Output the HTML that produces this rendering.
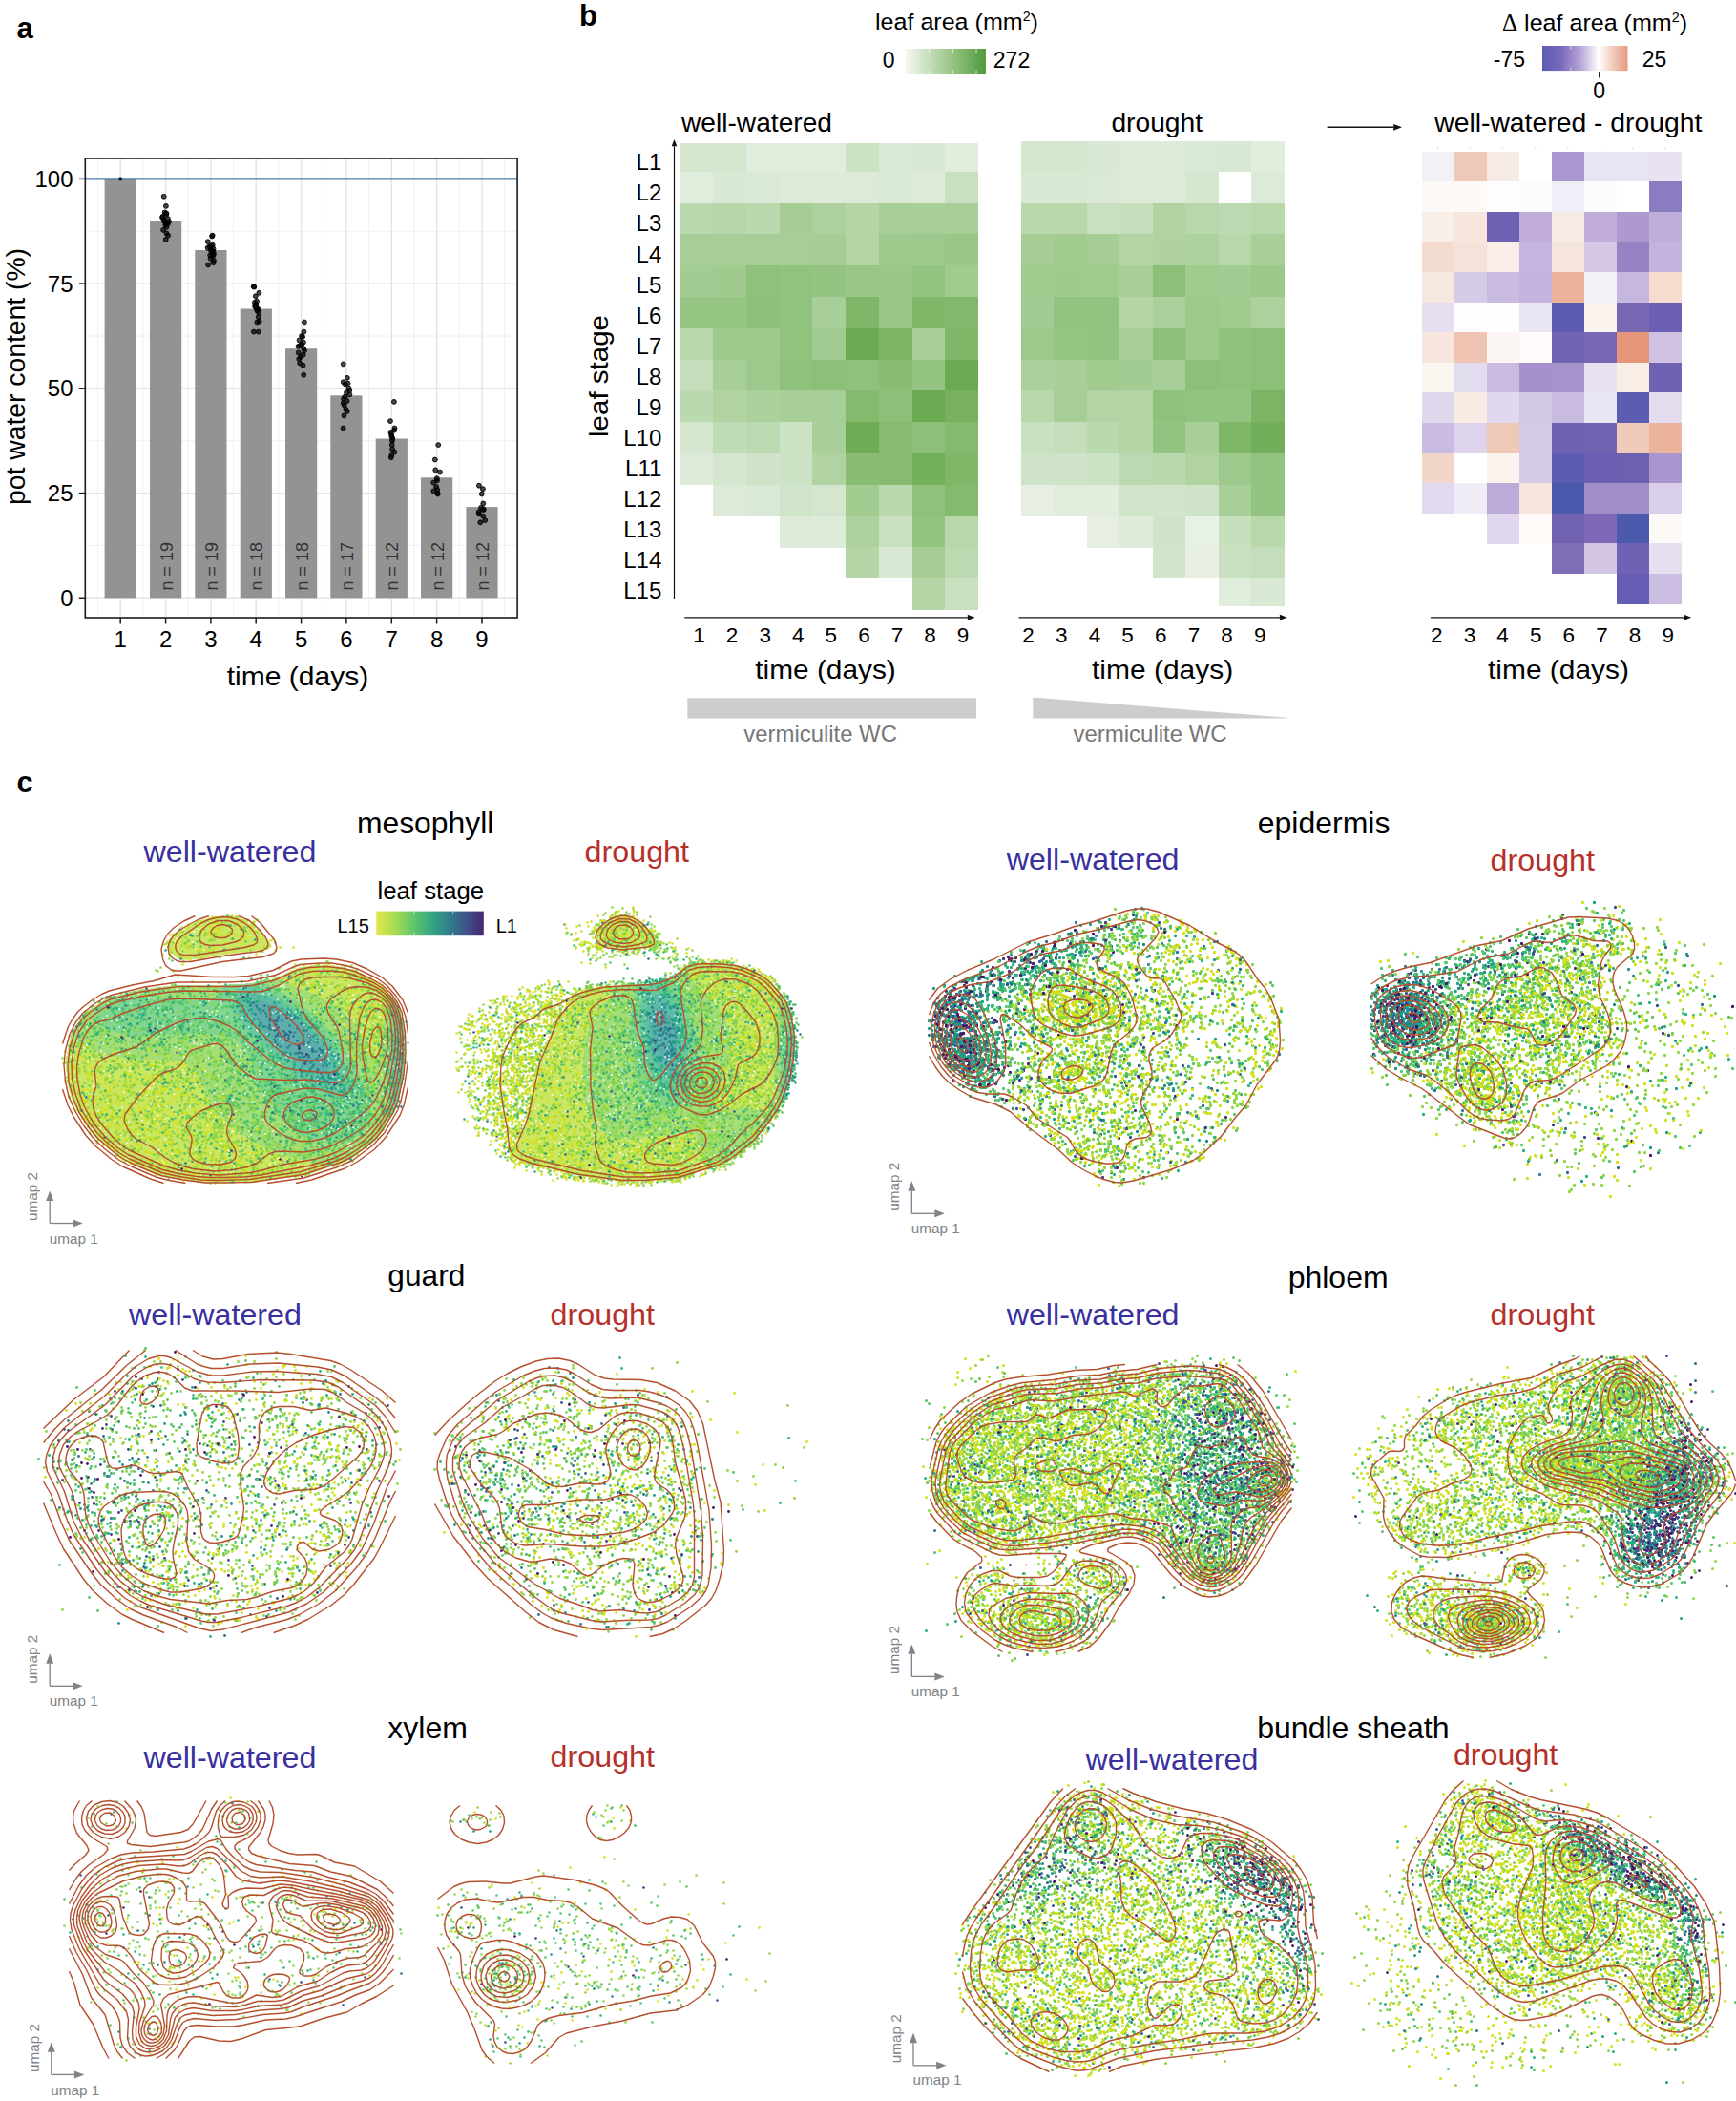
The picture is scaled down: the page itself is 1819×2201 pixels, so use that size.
<!DOCTYPE html>
<html><head><meta charset="utf-8"><title>figure</title>
<style>html,body{margin:0;padding:0;background:#fff}svg{display:block}text{font-family:"Liberation Sans",Arial,sans-serif}</style></head>
<body>
<svg width="1819" height="2201" viewBox="0 0 1819 2201">
<rect width="1819" height="2201" fill="#fff"/>
<rect x="89.3" y="166" width="452.8" height="481" fill="#fff"/>
<path d="M126.2 166V647" stroke="#e4e4e4" stroke-width="1.4"/>
<path d="M173.6 166V647" stroke="#e4e4e4" stroke-width="1.4"/>
<path d="M220.9 166V647" stroke="#e4e4e4" stroke-width="1.4"/>
<path d="M268.2 166V647" stroke="#e4e4e4" stroke-width="1.4"/>
<path d="M315.6 166V647" stroke="#e4e4e4" stroke-width="1.4"/>
<path d="M362.9 166V647" stroke="#e4e4e4" stroke-width="1.4"/>
<path d="M410.3 166V647" stroke="#e4e4e4" stroke-width="1.4"/>
<path d="M457.6 166V647" stroke="#e4e4e4" stroke-width="1.4"/>
<path d="M505.0 166V647" stroke="#e4e4e4" stroke-width="1.4"/>
<path d="M102.5 166V647" stroke="#ececec" stroke-width="0.8"/>
<path d="M149.9 166V647" stroke="#ececec" stroke-width="0.8"/>
<path d="M197.2 166V647" stroke="#ececec" stroke-width="0.8"/>
<path d="M244.6 166V647" stroke="#ececec" stroke-width="0.8"/>
<path d="M291.9 166V647" stroke="#ececec" stroke-width="0.8"/>
<path d="M339.3 166V647" stroke="#ececec" stroke-width="0.8"/>
<path d="M386.6 166V647" stroke="#ececec" stroke-width="0.8"/>
<path d="M434.0 166V647" stroke="#ececec" stroke-width="0.8"/>
<path d="M481.3 166V647" stroke="#ececec" stroke-width="0.8"/>
<path d="M528.7 166V647" stroke="#ececec" stroke-width="0.8"/>
<path d="M89.3 626.3H542.1" stroke="#e4e4e4" stroke-width="1.4"/>
<path d="M89.3 516.6H542.1" stroke="#e4e4e4" stroke-width="1.4"/>
<path d="M89.3 406.8H542.1" stroke="#e4e4e4" stroke-width="1.4"/>
<path d="M89.3 297.1H542.1" stroke="#e4e4e4" stroke-width="1.4"/>
<path d="M89.3 187.4H542.1" stroke="#e4e4e4" stroke-width="1.4"/>
<path d="M89.3 571.4H542.1" stroke="#ececec" stroke-width="0.8"/>
<path d="M89.3 461.7H542.1" stroke="#ececec" stroke-width="0.8"/>
<path d="M89.3 352.0H542.1" stroke="#ececec" stroke-width="0.8"/>
<path d="M89.3 242.3H542.1" stroke="#ececec" stroke-width="0.8"/>
<rect x="109.6" y="187.4" width="33.2" height="438.9" fill="#939393"/>
<rect x="157.0" y="231.3" width="33.2" height="395.0" fill="#939393"/>
<rect x="204.3" y="262.0" width="33.2" height="364.3" fill="#939393"/>
<rect x="251.7" y="323.5" width="33.2" height="302.8" fill="#939393"/>
<rect x="299.0" y="365.2" width="33.2" height="261.1" fill="#939393"/>
<rect x="346.3" y="414.3" width="33.2" height="212.0" fill="#939393"/>
<rect x="393.7" y="459.5" width="33.2" height="166.8" fill="#939393"/>
<rect x="441.0" y="500.3" width="33.2" height="126.0" fill="#939393"/>
<rect x="488.4" y="531.1" width="33.2" height="95.2" fill="#939393"/>
<path d="M89.3 187.4H542.1" stroke="#4a78b5" stroke-width="2.2"/>
<g fill="#000" fill-opacity="0.72" stroke="#000" stroke-width="0.9">
<circle cx="126.2" cy="187.4" r="1.6"/>
<circle cx="171.7" cy="205.8" r="2.45"/>
<circle cx="173.9" cy="215.9" r="2.45"/>
<circle cx="172.6" cy="222.5" r="2.45"/>
<circle cx="174.3" cy="223.4" r="2.45"/>
<circle cx="174.4" cy="224.7" r="2.45"/>
<circle cx="170.5" cy="226.9" r="2.45"/>
<circle cx="170.1" cy="227.8" r="2.45"/>
<circle cx="175.9" cy="229.1" r="2.45"/>
<circle cx="171.9" cy="230.4" r="2.45"/>
<circle cx="171.7" cy="231.3" r="2.45"/>
<circle cx="177.0" cy="232.2" r="2.45"/>
<circle cx="173.3" cy="233.5" r="2.45"/>
<circle cx="175.9" cy="234.4" r="2.45"/>
<circle cx="173.4" cy="235.7" r="2.45"/>
<circle cx="174.5" cy="237.9" r="2.45"/>
<circle cx="171.1" cy="240.9" r="2.45"/>
<circle cx="174.5" cy="244.5" r="2.45"/>
<circle cx="176.1" cy="246.7" r="2.45"/>
<circle cx="173.7" cy="251.0" r="2.45"/>
<circle cx="222.6" cy="246.7" r="2.45"/>
<circle cx="222.1" cy="247.5" r="2.45"/>
<circle cx="217.8" cy="253.2" r="2.45"/>
<circle cx="222.7" cy="256.7" r="2.45"/>
<circle cx="221.5" cy="257.6" r="2.45"/>
<circle cx="219.5" cy="258.5" r="2.45"/>
<circle cx="217.6" cy="259.8" r="2.45"/>
<circle cx="223.5" cy="260.7" r="2.45"/>
<circle cx="220.7" cy="262.0" r="2.45"/>
<circle cx="222.4" cy="262.9" r="2.45"/>
<circle cx="223.6" cy="264.2" r="2.45"/>
<circle cx="222.4" cy="265.1" r="2.45"/>
<circle cx="223.8" cy="266.4" r="2.45"/>
<circle cx="220.2" cy="267.3" r="2.45"/>
<circle cx="223.0" cy="268.6" r="2.45"/>
<circle cx="220.5" cy="270.8" r="2.45"/>
<circle cx="223.9" cy="273.0" r="2.45"/>
<circle cx="223.6" cy="275.2" r="2.45"/>
<circle cx="218.1" cy="277.4" r="2.45"/>
<circle cx="265.7" cy="300.2" r="2.45"/>
<circle cx="266.3" cy="300.6" r="2.45"/>
<circle cx="271.5" cy="306.8" r="2.45"/>
<circle cx="267.8" cy="310.3" r="2.45"/>
<circle cx="269.1" cy="315.6" r="2.45"/>
<circle cx="266.9" cy="316.9" r="2.45"/>
<circle cx="268.3" cy="319.1" r="2.45"/>
<circle cx="267.5" cy="319.9" r="2.45"/>
<circle cx="267.2" cy="321.3" r="2.45"/>
<circle cx="268.8" cy="322.6" r="2.45"/>
<circle cx="268.8" cy="323.5" r="2.45"/>
<circle cx="271.1" cy="324.3" r="2.45"/>
<circle cx="269.5" cy="325.7" r="2.45"/>
<circle cx="271.3" cy="327.8" r="2.45"/>
<circle cx="270.7" cy="332.2" r="2.45"/>
<circle cx="271.7" cy="336.6" r="2.45"/>
<circle cx="269.4" cy="337.5" r="2.45"/>
<circle cx="265.9" cy="347.6" r="2.45"/>
<circle cx="270.8" cy="347.6" r="2.45"/>
<circle cx="318.9" cy="337.5" r="2.45"/>
<circle cx="318.4" cy="347.6" r="2.45"/>
<circle cx="316.1" cy="352.0" r="2.45"/>
<circle cx="317.1" cy="352.9" r="2.45"/>
<circle cx="313.6" cy="356.4" r="2.45"/>
<circle cx="317.9" cy="358.6" r="2.45"/>
<circle cx="316.1" cy="360.8" r="2.45"/>
<circle cx="314.1" cy="362.1" r="2.45"/>
<circle cx="312.5" cy="363.0" r="2.45"/>
<circle cx="318.1" cy="365.2" r="2.45"/>
<circle cx="319.0" cy="367.3" r="2.45"/>
<circle cx="312.7" cy="369.5" r="2.45"/>
<circle cx="317.7" cy="371.7" r="2.45"/>
<circle cx="315.0" cy="373.9" r="2.45"/>
<circle cx="313.2" cy="376.1" r="2.45"/>
<circle cx="314.2" cy="380.5" r="2.45"/>
<circle cx="317.5" cy="382.7" r="2.45"/>
<circle cx="318.2" cy="392.8" r="2.45"/>
<circle cx="359.8" cy="381.4" r="2.45"/>
<circle cx="363.8" cy="395.9" r="2.45"/>
<circle cx="359.8" cy="400.3" r="2.45"/>
<circle cx="364.5" cy="401.6" r="2.45"/>
<circle cx="361.8" cy="402.5" r="2.45"/>
<circle cx="365.6" cy="406.8" r="2.45"/>
<circle cx="366.3" cy="409.0" r="2.45"/>
<circle cx="363.0" cy="411.2" r="2.45"/>
<circle cx="366.4" cy="413.4" r="2.45"/>
<circle cx="361.6" cy="415.6" r="2.45"/>
<circle cx="360.0" cy="417.8" r="2.45"/>
<circle cx="363.6" cy="420.0" r="2.45"/>
<circle cx="359.7" cy="422.2" r="2.45"/>
<circle cx="360.8" cy="424.4" r="2.45"/>
<circle cx="362.3" cy="428.8" r="2.45"/>
<circle cx="363.7" cy="431.0" r="2.45"/>
<circle cx="360.5" cy="435.4" r="2.45"/>
<circle cx="359.7" cy="448.5" r="2.45"/>
<circle cx="412.9" cy="420.9" r="2.45"/>
<circle cx="409.0" cy="441.1" r="2.45"/>
<circle cx="413.5" cy="448.5" r="2.45"/>
<circle cx="413.1" cy="450.7" r="2.45"/>
<circle cx="409.4" cy="452.9" r="2.45"/>
<circle cx="410.0" cy="455.1" r="2.45"/>
<circle cx="410.4" cy="457.3" r="2.45"/>
<circle cx="411.3" cy="459.5" r="2.45"/>
<circle cx="411.0" cy="461.7" r="2.45"/>
<circle cx="410.7" cy="466.1" r="2.45"/>
<circle cx="411.1" cy="470.5" r="2.45"/>
<circle cx="413.4" cy="473.6" r="2.45"/>
<circle cx="410.3" cy="477.1" r="2.45"/>
<circle cx="409.8" cy="479.3" r="2.45"/>
<circle cx="459.2" cy="466.1" r="2.45"/>
<circle cx="455.8" cy="481.5" r="2.45"/>
<circle cx="456.3" cy="492.4" r="2.45"/>
<circle cx="461.0" cy="494.6" r="2.45"/>
<circle cx="457.8" cy="501.2" r="2.45"/>
<circle cx="458.0" cy="503.4" r="2.45"/>
<circle cx="454.2" cy="505.6" r="2.45"/>
<circle cx="457.1" cy="510.0" r="2.45"/>
<circle cx="458.2" cy="513.1" r="2.45"/>
<circle cx="454.3" cy="514.4" r="2.45"/>
<circle cx="458.5" cy="516.6" r="2.45"/>
<circle cx="458.6" cy="517.5" r="2.45"/>
<circle cx="501.9" cy="508.7" r="2.45"/>
<circle cx="505.9" cy="512.2" r="2.45"/>
<circle cx="504.8" cy="517.5" r="2.45"/>
<circle cx="506.3" cy="527.5" r="2.45"/>
<circle cx="504.0" cy="531.9" r="2.45"/>
<circle cx="506.4" cy="533.3" r="2.45"/>
<circle cx="506.7" cy="534.1" r="2.45"/>
<circle cx="501.7" cy="536.3" r="2.45"/>
<circle cx="501.9" cy="538.5" r="2.45"/>
<circle cx="506.2" cy="540.7" r="2.45"/>
<circle cx="508.2" cy="545.1" r="2.45"/>
<circle cx="503.3" cy="547.3" r="2.45"/>
</g>
<text transform="translate(180.6 618.5) rotate(-90)" font-size="18" fill="#333">n = 19</text>
<text transform="translate(227.9 618.5) rotate(-90)" font-size="18" fill="#333">n = 19</text>
<text transform="translate(275.2 618.5) rotate(-90)" font-size="18" fill="#333">n = 18</text>
<text transform="translate(322.6 618.5) rotate(-90)" font-size="18" fill="#333">n = 18</text>
<text transform="translate(369.9 618.5) rotate(-90)" font-size="18" fill="#333">n = 17</text>
<text transform="translate(417.3 618.5) rotate(-90)" font-size="18" fill="#333">n = 12</text>
<text transform="translate(464.6 618.5) rotate(-90)" font-size="18" fill="#333">n = 12</text>
<text transform="translate(512.0 618.5) rotate(-90)" font-size="18" fill="#333">n = 12</text>
<rect x="89.3" y="166" width="452.8" height="481" fill="none" stroke="#1a1a1a" stroke-width="1.6"/>
<path d="M126.2 647v6.5" stroke="#1a1a1a" stroke-width="1.5"/>
<text x="126.2" y="677.6" font-size="24" text-anchor="middle" fill="#000" >1</text>

<path d="M173.6 647v6.5" stroke="#1a1a1a" stroke-width="1.5"/>
<text x="173.6" y="677.6" font-size="24" text-anchor="middle" fill="#000" >2</text>

<path d="M220.9 647v6.5" stroke="#1a1a1a" stroke-width="1.5"/>
<text x="220.9" y="677.6" font-size="24" text-anchor="middle" fill="#000" >3</text>

<path d="M268.2 647v6.5" stroke="#1a1a1a" stroke-width="1.5"/>
<text x="268.2" y="677.6" font-size="24" text-anchor="middle" fill="#000" >4</text>

<path d="M315.6 647v6.5" stroke="#1a1a1a" stroke-width="1.5"/>
<text x="315.6" y="677.6" font-size="24" text-anchor="middle" fill="#000" >5</text>

<path d="M362.9 647v6.5" stroke="#1a1a1a" stroke-width="1.5"/>
<text x="362.9" y="677.6" font-size="24" text-anchor="middle" fill="#000" >6</text>

<path d="M410.3 647v6.5" stroke="#1a1a1a" stroke-width="1.5"/>
<text x="410.3" y="677.6" font-size="24" text-anchor="middle" fill="#000" >7</text>

<path d="M457.6 647v6.5" stroke="#1a1a1a" stroke-width="1.5"/>
<text x="457.6" y="677.6" font-size="24" text-anchor="middle" fill="#000" >8</text>

<path d="M505.0 647v6.5" stroke="#1a1a1a" stroke-width="1.5"/>
<text x="505.0" y="677.6" font-size="24" text-anchor="middle" fill="#000" >9</text>

<path d="M89.3 626.3h-6.5" stroke="#1a1a1a" stroke-width="1.5"/>
<text x="76.5" y="634.9" font-size="24" text-anchor="end" fill="#000" >0</text>

<path d="M89.3 516.6h-6.5" stroke="#1a1a1a" stroke-width="1.5"/>
<text x="76.5" y="525.2" font-size="24" text-anchor="end" fill="#000" >25</text>

<path d="M89.3 406.8h-6.5" stroke="#1a1a1a" stroke-width="1.5"/>
<text x="76.5" y="415.4" font-size="24" text-anchor="end" fill="#000" >50</text>

<path d="M89.3 297.1h-6.5" stroke="#1a1a1a" stroke-width="1.5"/>
<text x="76.5" y="305.7" font-size="24" text-anchor="end" fill="#000" >75</text>

<path d="M89.3 187.4h-6.5" stroke="#1a1a1a" stroke-width="1.5"/>
<text x="76.5" y="196.0" font-size="24" text-anchor="end" fill="#000" >100</text>

<text x="312" y="718.3" font-size="28" text-anchor="middle" textLength="148.5" lengthAdjust="spacingAndGlyphs" fill="#000" >time (days)</text>

<text transform="translate(25.6 394.5) rotate(-90)" font-size="28" text-anchor="middle" textLength="269" lengthAdjust="spacingAndGlyphs">pot water content (%)</text>
<text x="17.5" y="39.5" font-size="31" font-weight="bold" fill="#000" >a</text>

<text x="607" y="27" font-size="31" font-weight="bold" fill="#000" >b</text>

<defs><linearGradient id="gg"><stop offset="0" stop-color="#f6f9f4"/><stop offset="0.3" stop-color="#c3deb8"/><stop offset="0.6" stop-color="#95c380"/><stop offset="1" stop-color="#4f9a3c"/></linearGradient><linearGradient id="pg"><stop offset="0" stop-color="#5a5cb4"/><stop offset="0.22" stop-color="#7a69ba"/><stop offset="0.45" stop-color="#b7a6d8"/><stop offset="0.66" stop-color="#ffffff"/><stop offset="0.82" stop-color="#f2cdbd"/><stop offset="1" stop-color="#e59a80"/></linearGradient></defs>
<text x="917" y="31.2" font-size="24.5" textLength="171" lengthAdjust="spacingAndGlyphs">leaf area (mm<tspan font-size="14" dy="-9">2</tspan><tspan dy="9">)</tspan></text>
<rect x="948.8" y="51" width="84.1" height="26.8" fill="url(#gg)"/>
<path d="M973.5 51v4M973.5 77.8v-4" stroke="#fff" stroke-opacity="0.7" stroke-width="1"/>
<path d="M998.3 51v4M998.3 77.8v-4" stroke="#fff" stroke-opacity="0.7" stroke-width="1"/>
<path d="M1023.0 51v4M1023.0 77.8v-4" stroke="#fff" stroke-opacity="0.7" stroke-width="1"/>
<text x="931.2" y="70.8" font-size="23" text-anchor="middle" fill="#000" >0</text>

<text x="1040.8" y="70.8" font-size="23" fill="#000" >272</text>

<text x="1574" y="31.6" font-size="24.5" textLength="194" lengthAdjust="spacingAndGlyphs"><tspan font-family="Liberation Serif, serif">&#916;</tspan> leaf area (mm<tspan font-size="14" dy="-9">2</tspan><tspan dy="9">)</tspan></text>
<rect x="1616" y="48" width="89.5" height="26.1" fill="url(#pg)"/>
<path d="M1645.8 48v3.5M1645.8 74.1v-3.5" stroke="#fff" stroke-opacity="0.6" stroke-width="1"/>
<path d="M1675.7 75v6.4" stroke="#111" stroke-width="1.2"/>
<text x="1598" y="69.5" font-size="23" text-anchor="end" fill="#000" >-75</text>

<text x="1720.8" y="69.5" font-size="23" fill="#000" >25</text>

<text x="1675.7" y="103.2" font-size="23" text-anchor="middle" fill="#000" >0</text>

<path d="M1390.6 133.3L1460.2 133.3" stroke="#111" stroke-width="1.4" fill="none"/><path d="M1469.0 133.3L1460.2 136.7L1460.2 129.9Z" fill="#111"/>
<text x="1503.2" y="137.8" font-size="28" textLength="280.2" lengthAdjust="spacingAndGlyphs" fill="#000" >well-watered - drought</text>

<text x="714" y="137.5" font-size="28" textLength="158" lengthAdjust="spacingAndGlyphs" fill="#000" >well-watered</text>

<text x="1164.4" y="137.7" font-size="28" textLength="95.6" lengthAdjust="spacingAndGlyphs" fill="#000" >drought</text>

<g shape-rendering="crispEdges">
<rect x="712.60" y="150.00" width="35.02" height="30.00" fill="#d4e6ce"/>
<rect x="747.32" y="150.00" width="35.02" height="30.00" fill="#d4e6ce"/>
<rect x="782.04" y="150.00" width="35.02" height="30.00" fill="#e0ecdc"/>
<rect x="816.76" y="150.00" width="35.02" height="30.00" fill="#e0ecdc"/>
<rect x="851.48" y="150.00" width="35.02" height="30.00" fill="#e0ecdc"/>
<rect x="886.20" y="150.00" width="35.02" height="30.00" fill="#cce2c4"/>
<rect x="920.92" y="150.00" width="35.02" height="30.00" fill="#dae9d5"/>
<rect x="955.64" y="150.00" width="35.02" height="30.00" fill="#d8e8d2"/>
<rect x="990.36" y="150.00" width="35.02" height="30.00" fill="#e0ecdc"/>
<rect x="712.60" y="179.70" width="35.02" height="33.10" fill="#e0ecdc"/>
<rect x="747.32" y="179.70" width="35.02" height="33.10" fill="#d8e8d2"/>
<rect x="782.04" y="179.70" width="35.02" height="33.10" fill="#dae9d5"/>
<rect x="816.76" y="179.70" width="35.02" height="33.10" fill="#dcead7"/>
<rect x="851.48" y="179.70" width="35.02" height="33.10" fill="#deebd9"/>
<rect x="886.20" y="179.70" width="35.02" height="33.10" fill="#dcead7"/>
<rect x="920.92" y="179.70" width="35.02" height="33.10" fill="#dae9d5"/>
<rect x="955.64" y="179.70" width="35.02" height="33.10" fill="#dcead7"/>
<rect x="990.36" y="179.70" width="35.02" height="33.10" fill="#c8e0c0"/>
<rect x="712.60" y="212.50" width="35.02" height="33.10" fill="#bad9af"/>
<rect x="747.32" y="212.50" width="35.02" height="33.10" fill="#b6d7aa"/>
<rect x="782.04" y="212.50" width="35.02" height="33.10" fill="#bad9af"/>
<rect x="816.76" y="212.50" width="35.02" height="33.10" fill="#a5cd94"/>
<rect x="851.48" y="212.50" width="35.02" height="33.10" fill="#add19d"/>
<rect x="886.20" y="212.50" width="35.02" height="33.10" fill="#b5d5a7"/>
<rect x="920.92" y="212.50" width="35.02" height="33.10" fill="#a9cf98"/>
<rect x="955.64" y="212.50" width="35.02" height="33.10" fill="#a9cf98"/>
<rect x="990.36" y="212.50" width="35.02" height="33.10" fill="#a7ce96"/>
<rect x="712.60" y="245.30" width="35.02" height="33.10" fill="#a7ce96"/>
<rect x="747.32" y="245.30" width="35.02" height="33.10" fill="#a9cf98"/>
<rect x="782.04" y="245.30" width="35.02" height="33.10" fill="#a7ce96"/>
<rect x="816.76" y="245.30" width="35.02" height="33.10" fill="#a7ce96"/>
<rect x="851.48" y="245.30" width="35.02" height="33.10" fill="#a5cd94"/>
<rect x="886.20" y="245.30" width="35.02" height="33.10" fill="#b5d5a7"/>
<rect x="920.92" y="245.30" width="35.02" height="33.10" fill="#a0ca8e"/>
<rect x="955.64" y="245.30" width="35.02" height="33.10" fill="#9ec98c"/>
<rect x="990.36" y="245.30" width="35.02" height="33.10" fill="#9ac788"/>
<rect x="712.60" y="278.10" width="35.02" height="33.10" fill="#a3cc92"/>
<rect x="747.32" y="278.10" width="35.02" height="33.10" fill="#a0ca8e"/>
<rect x="782.04" y="278.10" width="35.02" height="33.10" fill="#90c17c"/>
<rect x="816.76" y="278.10" width="35.02" height="33.10" fill="#91c27e"/>
<rect x="851.48" y="278.10" width="35.02" height="33.10" fill="#95c482"/>
<rect x="886.20" y="278.10" width="35.02" height="33.10" fill="#9ac788"/>
<rect x="920.92" y="278.10" width="35.02" height="33.10" fill="#9ac788"/>
<rect x="955.64" y="278.10" width="35.02" height="33.10" fill="#95c482"/>
<rect x="990.36" y="278.10" width="35.02" height="33.10" fill="#a2cb90"/>
<rect x="712.60" y="310.90" width="35.02" height="33.10" fill="#97c584"/>
<rect x="747.32" y="310.90" width="35.02" height="33.10" fill="#97c584"/>
<rect x="782.04" y="310.90" width="35.02" height="33.10" fill="#8ec07a"/>
<rect x="816.76" y="310.90" width="35.02" height="33.10" fill="#91c27e"/>
<rect x="851.48" y="310.90" width="35.02" height="33.10" fill="#a9cf98"/>
<rect x="886.20" y="310.90" width="35.02" height="33.10" fill="#7fb769"/>
<rect x="920.92" y="310.90" width="35.02" height="33.10" fill="#9ac788"/>
<rect x="955.64" y="310.90" width="35.02" height="33.10" fill="#7fb769"/>
<rect x="990.36" y="310.90" width="35.02" height="33.10" fill="#81b86b"/>
<rect x="712.60" y="343.70" width="35.02" height="33.10" fill="#b8d8ac"/>
<rect x="747.32" y="343.70" width="35.02" height="33.10" fill="#9ec98c"/>
<rect x="782.04" y="343.70" width="35.02" height="33.10" fill="#a0ca8e"/>
<rect x="816.76" y="343.70" width="35.02" height="33.10" fill="#91c27e"/>
<rect x="851.48" y="343.70" width="35.02" height="33.10" fill="#a3cc92"/>
<rect x="886.20" y="343.70" width="35.02" height="33.10" fill="#6caa52"/>
<rect x="920.92" y="343.70" width="35.02" height="33.10" fill="#7cb465"/>
<rect x="955.64" y="343.70" width="35.02" height="33.10" fill="#a7ce96"/>
<rect x="990.36" y="343.70" width="35.02" height="33.10" fill="#7fb769"/>
<rect x="712.60" y="376.50" width="35.02" height="33.10" fill="#c4debb"/>
<rect x="747.32" y="376.50" width="35.02" height="33.10" fill="#a9cf98"/>
<rect x="782.04" y="376.50" width="35.02" height="33.10" fill="#9ec98c"/>
<rect x="816.76" y="376.50" width="35.02" height="33.10" fill="#90c17c"/>
<rect x="851.48" y="376.50" width="35.02" height="33.10" fill="#8cbf78"/>
<rect x="886.20" y="376.50" width="35.02" height="33.10" fill="#90c17c"/>
<rect x="920.92" y="376.50" width="35.02" height="33.10" fill="#89bd74"/>
<rect x="955.64" y="376.50" width="35.02" height="33.10" fill="#95c482"/>
<rect x="990.36" y="376.50" width="35.02" height="33.10" fill="#6caa52"/>
<rect x="712.60" y="409.30" width="35.02" height="33.10" fill="#bad9af"/>
<rect x="747.32" y="409.30" width="35.02" height="33.10" fill="#b1d3a2"/>
<rect x="782.04" y="409.30" width="35.02" height="33.10" fill="#abd09b"/>
<rect x="816.76" y="409.30" width="35.02" height="33.10" fill="#a9cf98"/>
<rect x="851.48" y="409.30" width="35.02" height="33.10" fill="#a7ce96"/>
<rect x="886.20" y="409.30" width="35.02" height="33.10" fill="#84ba6e"/>
<rect x="920.92" y="409.30" width="35.02" height="33.10" fill="#8cbf78"/>
<rect x="955.64" y="409.30" width="35.02" height="33.10" fill="#6caa52"/>
<rect x="990.36" y="409.30" width="35.02" height="33.10" fill="#77b15f"/>
<rect x="712.60" y="442.10" width="35.02" height="33.10" fill="#d4e6ce"/>
<rect x="747.32" y="442.10" width="35.02" height="33.10" fill="#c0dcb6"/>
<rect x="782.04" y="442.10" width="35.02" height="33.10" fill="#bcdab1"/>
<rect x="816.76" y="442.10" width="35.02" height="33.10" fill="#cce2c4"/>
<rect x="851.48" y="442.10" width="35.02" height="33.10" fill="#a9cf98"/>
<rect x="886.20" y="442.10" width="35.02" height="33.10" fill="#6fac56"/>
<rect x="920.92" y="442.10" width="35.02" height="33.10" fill="#86bb70"/>
<rect x="955.64" y="442.10" width="35.02" height="33.10" fill="#8cbf78"/>
<rect x="990.36" y="442.10" width="35.02" height="33.10" fill="#84ba6e"/>
<rect x="712.60" y="474.90" width="35.02" height="33.10" fill="#dcead7"/>
<rect x="747.32" y="474.90" width="35.02" height="33.10" fill="#d4e6ce"/>
<rect x="782.04" y="474.90" width="35.02" height="33.10" fill="#cee3c7"/>
<rect x="816.76" y="474.90" width="35.02" height="33.10" fill="#cce2c4"/>
<rect x="851.48" y="474.90" width="35.02" height="33.10" fill="#b1d3a2"/>
<rect x="886.20" y="474.90" width="35.02" height="33.10" fill="#89bd74"/>
<rect x="920.92" y="474.90" width="35.02" height="33.10" fill="#86bb70"/>
<rect x="955.64" y="474.90" width="35.02" height="33.10" fill="#74af5c"/>
<rect x="990.36" y="474.90" width="35.02" height="33.10" fill="#7fb769"/>
<rect x="747.32" y="507.70" width="35.02" height="33.10" fill="#dcead7"/>
<rect x="782.04" y="507.70" width="35.02" height="33.10" fill="#dae9d5"/>
<rect x="816.76" y="507.70" width="35.02" height="33.10" fill="#d0e4c9"/>
<rect x="851.48" y="507.70" width="35.02" height="33.10" fill="#d4e6ce"/>
<rect x="886.20" y="507.70" width="35.02" height="33.10" fill="#a2cb90"/>
<rect x="920.92" y="507.70" width="35.02" height="33.10" fill="#bad9af"/>
<rect x="955.64" y="507.70" width="35.02" height="33.10" fill="#90c17c"/>
<rect x="990.36" y="507.70" width="35.02" height="33.10" fill="#84ba6e"/>
<rect x="816.76" y="540.50" width="35.02" height="33.10" fill="#dcead7"/>
<rect x="851.48" y="540.50" width="35.02" height="33.10" fill="#deebd9"/>
<rect x="886.20" y="540.50" width="35.02" height="33.10" fill="#add19d"/>
<rect x="920.92" y="540.50" width="35.02" height="33.10" fill="#c8e0c0"/>
<rect x="955.64" y="540.50" width="35.02" height="33.10" fill="#93c380"/>
<rect x="990.36" y="540.50" width="35.02" height="33.10" fill="#b8d8ac"/>
<rect x="886.20" y="573.30" width="35.02" height="33.10" fill="#b5d5a7"/>
<rect x="920.92" y="573.30" width="35.02" height="33.10" fill="#d8e8d2"/>
<rect x="955.64" y="573.30" width="35.02" height="33.10" fill="#a5cd94"/>
<rect x="990.36" y="573.30" width="35.02" height="33.10" fill="#bcdab1"/>
<rect x="955.64" y="606.10" width="35.02" height="33.10" fill="#b5d5a7"/>
<rect x="990.36" y="606.10" width="35.02" height="33.10" fill="#c8e0c0"/>
<rect x="1069.60" y="147.80" width="34.83" height="32.20" fill="#d6e7d0"/>
<rect x="1104.13" y="147.80" width="34.83" height="32.20" fill="#d6e7d0"/>
<rect x="1138.66" y="147.80" width="34.83" height="32.20" fill="#d8e8d2"/>
<rect x="1173.19" y="147.80" width="34.83" height="32.20" fill="#deebd9"/>
<rect x="1207.72" y="147.80" width="34.83" height="32.20" fill="#deebd9"/>
<rect x="1242.25" y="147.80" width="34.83" height="32.20" fill="#dae9d5"/>
<rect x="1276.78" y="147.80" width="34.83" height="32.20" fill="#d8e8d2"/>
<rect x="1311.31" y="147.80" width="34.83" height="32.20" fill="#e2edde"/>
<rect x="1069.60" y="179.70" width="34.83" height="33.10" fill="#d8e8d2"/>
<rect x="1104.13" y="179.70" width="34.83" height="33.10" fill="#d8e8d2"/>
<rect x="1138.66" y="179.70" width="34.83" height="33.10" fill="#dae9d5"/>
<rect x="1173.19" y="179.70" width="34.83" height="33.10" fill="#dcead7"/>
<rect x="1207.72" y="179.70" width="34.83" height="33.10" fill="#dcead7"/>
<rect x="1242.25" y="179.70" width="34.83" height="33.10" fill="#d6e7d0"/>
<rect x="1276.78" y="179.70" width="34.83" height="33.10" fill="#ffffff"/>
<rect x="1311.31" y="179.70" width="34.83" height="33.10" fill="#dcead7"/>
<rect x="1069.60" y="212.50" width="34.83" height="33.10" fill="#b8d8ac"/>
<rect x="1104.13" y="212.50" width="34.83" height="33.10" fill="#b8d8ac"/>
<rect x="1138.66" y="212.50" width="34.83" height="33.10" fill="#c8e0c0"/>
<rect x="1173.19" y="212.50" width="34.83" height="33.10" fill="#c4debb"/>
<rect x="1207.72" y="212.50" width="34.83" height="33.10" fill="#b1d3a2"/>
<rect x="1242.25" y="212.50" width="34.83" height="33.10" fill="#b8d8ac"/>
<rect x="1276.78" y="212.50" width="34.83" height="33.10" fill="#bcdab1"/>
<rect x="1311.31" y="212.50" width="34.83" height="33.10" fill="#b8d8ac"/>
<rect x="1069.60" y="245.30" width="34.83" height="33.10" fill="#a5cd94"/>
<rect x="1104.13" y="245.30" width="34.83" height="33.10" fill="#a2cb90"/>
<rect x="1138.66" y="245.30" width="34.83" height="33.10" fill="#a5cd94"/>
<rect x="1173.19" y="245.30" width="34.83" height="33.10" fill="#b3d4a5"/>
<rect x="1207.72" y="245.30" width="34.83" height="33.10" fill="#afd2a0"/>
<rect x="1242.25" y="245.30" width="34.83" height="33.10" fill="#add19d"/>
<rect x="1276.78" y="245.30" width="34.83" height="33.10" fill="#b8d8ac"/>
<rect x="1311.31" y="245.30" width="34.83" height="33.10" fill="#a9cf98"/>
<rect x="1069.60" y="278.10" width="34.83" height="33.10" fill="#a2cb90"/>
<rect x="1104.13" y="278.10" width="34.83" height="33.10" fill="#a0ca8e"/>
<rect x="1138.66" y="278.10" width="34.83" height="33.10" fill="#a2cb90"/>
<rect x="1173.19" y="278.10" width="34.83" height="33.10" fill="#a9cf98"/>
<rect x="1207.72" y="278.10" width="34.83" height="33.10" fill="#8cbf78"/>
<rect x="1242.25" y="278.10" width="34.83" height="33.10" fill="#a2cb90"/>
<rect x="1276.78" y="278.10" width="34.83" height="33.10" fill="#a3cc92"/>
<rect x="1311.31" y="278.10" width="34.83" height="33.10" fill="#9cc88a"/>
<rect x="1069.60" y="310.90" width="34.83" height="33.10" fill="#a3cc92"/>
<rect x="1104.13" y="310.90" width="34.83" height="33.10" fill="#93c380"/>
<rect x="1138.66" y="310.90" width="34.83" height="33.10" fill="#93c380"/>
<rect x="1173.19" y="310.90" width="34.83" height="33.10" fill="#b5d5a7"/>
<rect x="1207.72" y="310.90" width="34.83" height="33.10" fill="#abd09b"/>
<rect x="1242.25" y="310.90" width="34.83" height="33.10" fill="#9ec98c"/>
<rect x="1276.78" y="310.90" width="34.83" height="33.10" fill="#a2cb90"/>
<rect x="1311.31" y="310.90" width="34.83" height="33.10" fill="#add19d"/>
<rect x="1069.60" y="343.70" width="34.83" height="33.10" fill="#9ec98c"/>
<rect x="1104.13" y="343.70" width="34.83" height="33.10" fill="#97c584"/>
<rect x="1138.66" y="343.70" width="34.83" height="33.10" fill="#93c380"/>
<rect x="1173.19" y="343.70" width="34.83" height="33.10" fill="#a9cf98"/>
<rect x="1207.72" y="343.70" width="34.83" height="33.10" fill="#8cbf78"/>
<rect x="1242.25" y="343.70" width="34.83" height="33.10" fill="#9ec98c"/>
<rect x="1276.78" y="343.70" width="34.83" height="33.10" fill="#90c17c"/>
<rect x="1311.31" y="343.70" width="34.83" height="33.10" fill="#8cbf78"/>
<rect x="1069.60" y="376.50" width="34.83" height="33.10" fill="#abd09b"/>
<rect x="1104.13" y="376.50" width="34.83" height="33.10" fill="#a9cf98"/>
<rect x="1138.66" y="376.50" width="34.83" height="33.10" fill="#a2cb90"/>
<rect x="1173.19" y="376.50" width="34.83" height="33.10" fill="#a3cc92"/>
<rect x="1207.72" y="376.50" width="34.83" height="33.10" fill="#a7ce96"/>
<rect x="1242.25" y="376.50" width="34.83" height="33.10" fill="#8cbf78"/>
<rect x="1276.78" y="376.50" width="34.83" height="33.10" fill="#90c17c"/>
<rect x="1311.31" y="376.50" width="34.83" height="33.10" fill="#8cbf78"/>
<rect x="1069.60" y="409.30" width="34.83" height="33.10" fill="#b8d8ac"/>
<rect x="1104.13" y="409.30" width="34.83" height="33.10" fill="#a7ce96"/>
<rect x="1138.66" y="409.30" width="34.83" height="33.10" fill="#b3d4a5"/>
<rect x="1173.19" y="409.30" width="34.83" height="33.10" fill="#b3d4a5"/>
<rect x="1207.72" y="409.30" width="34.83" height="33.10" fill="#90c17c"/>
<rect x="1242.25" y="409.30" width="34.83" height="33.10" fill="#93c380"/>
<rect x="1276.78" y="409.30" width="34.83" height="33.10" fill="#93c380"/>
<rect x="1311.31" y="409.30" width="34.83" height="33.10" fill="#7cb465"/>
<rect x="1069.60" y="442.10" width="34.83" height="33.10" fill="#c8e0c0"/>
<rect x="1104.13" y="442.10" width="34.83" height="33.10" fill="#c4debb"/>
<rect x="1138.66" y="442.10" width="34.83" height="33.10" fill="#bad9af"/>
<rect x="1173.19" y="442.10" width="34.83" height="33.10" fill="#b5d5a7"/>
<rect x="1207.72" y="442.10" width="34.83" height="33.10" fill="#93c380"/>
<rect x="1242.25" y="442.10" width="34.83" height="33.10" fill="#a9cf98"/>
<rect x="1276.78" y="442.10" width="34.83" height="33.10" fill="#7fb769"/>
<rect x="1311.31" y="442.10" width="34.83" height="33.10" fill="#72ae5a"/>
<rect x="1069.60" y="474.90" width="34.83" height="33.10" fill="#cee3c7"/>
<rect x="1104.13" y="474.90" width="34.83" height="33.10" fill="#cee3c7"/>
<rect x="1138.66" y="474.90" width="34.83" height="33.10" fill="#cce2c4"/>
<rect x="1173.19" y="474.90" width="34.83" height="33.10" fill="#bcdab1"/>
<rect x="1207.72" y="474.90" width="34.83" height="33.10" fill="#bad9af"/>
<rect x="1242.25" y="474.90" width="34.83" height="33.10" fill="#b1d3a2"/>
<rect x="1276.78" y="474.90" width="34.83" height="33.10" fill="#9ec98c"/>
<rect x="1311.31" y="474.90" width="34.83" height="33.10" fill="#93c380"/>
<rect x="1069.60" y="507.70" width="34.83" height="33.10" fill="#e6efe2"/>
<rect x="1104.13" y="507.70" width="34.83" height="33.10" fill="#e2edde"/>
<rect x="1138.66" y="507.70" width="34.83" height="33.10" fill="#e2edde"/>
<rect x="1173.19" y="507.70" width="34.83" height="33.10" fill="#d0e4c9"/>
<rect x="1207.72" y="507.70" width="34.83" height="33.10" fill="#d2e5cb"/>
<rect x="1242.25" y="507.70" width="34.83" height="33.10" fill="#cee3c7"/>
<rect x="1276.78" y="507.70" width="34.83" height="33.10" fill="#a9cf98"/>
<rect x="1311.31" y="507.70" width="34.83" height="33.10" fill="#93c380"/>
<rect x="1138.66" y="540.50" width="34.83" height="33.10" fill="#e6efe2"/>
<rect x="1173.19" y="540.50" width="34.83" height="33.10" fill="#deebd9"/>
<rect x="1207.72" y="540.50" width="34.83" height="33.10" fill="#cee3c7"/>
<rect x="1242.25" y="540.50" width="34.83" height="33.10" fill="#e8f1e5"/>
<rect x="1276.78" y="540.50" width="34.83" height="33.10" fill="#c6dfbd"/>
<rect x="1311.31" y="540.50" width="34.83" height="33.10" fill="#b8d8ac"/>
<rect x="1207.72" y="573.30" width="34.83" height="33.10" fill="#d2e5cb"/>
<rect x="1242.25" y="573.30" width="34.83" height="33.10" fill="#e6efe2"/>
<rect x="1276.78" y="573.30" width="34.83" height="33.10" fill="#c8e0c0"/>
<rect x="1311.31" y="573.30" width="34.83" height="33.10" fill="#c4debb"/>
<rect x="1276.78" y="606.10" width="34.83" height="29.00" fill="#e0ecdc"/>
<rect x="1311.31" y="606.10" width="34.83" height="29.00" fill="#d8e8d2"/>
<rect x="1489.50" y="158.70" width="34.35" height="31.88" fill="#f3f1f8"/>
<rect x="1523.55" y="158.70" width="34.35" height="31.88" fill="#eec9b8"/>
<rect x="1557.60" y="158.70" width="34.35" height="31.88" fill="#f6ebe4"/>
<rect x="1591.65" y="158.70" width="34.35" height="31.88" fill="#ffffff"/>
<rect x="1625.70" y="158.70" width="34.35" height="31.88" fill="#aa97cf"/>
<rect x="1659.75" y="158.70" width="34.35" height="31.88" fill="#e9e4f2"/>
<rect x="1693.80" y="158.70" width="34.35" height="31.88" fill="#e9e4f2"/>
<rect x="1727.85" y="158.70" width="34.35" height="31.88" fill="#e8e2f1"/>
<rect x="1489.50" y="190.28" width="34.35" height="31.88" fill="#fcf9f6"/>
<rect x="1523.55" y="190.28" width="34.35" height="31.88" fill="#fcf9f6"/>
<rect x="1557.60" y="190.28" width="34.35" height="31.88" fill="#fefefe"/>
<rect x="1591.65" y="190.28" width="34.35" height="31.88" fill="#fdfcfc"/>
<rect x="1625.70" y="190.28" width="34.35" height="31.88" fill="#f0eef6"/>
<rect x="1659.75" y="190.28" width="34.35" height="31.88" fill="#fcfbfd"/>
<rect x="1693.80" y="190.28" width="34.35" height="31.88" fill="#ffffff"/>
<rect x="1727.85" y="190.28" width="34.35" height="31.88" fill="#8b7bc0"/>
<rect x="1489.50" y="221.86" width="34.35" height="31.88" fill="#f8efe8"/>
<rect x="1523.55" y="221.86" width="34.35" height="31.88" fill="#f6e6dd"/>
<rect x="1557.60" y="221.86" width="34.35" height="31.88" fill="#7062b3"/>
<rect x="1591.65" y="221.86" width="34.35" height="31.88" fill="#c0aed9"/>
<rect x="1625.70" y="221.86" width="34.35" height="31.88" fill="#f7ece5"/>
<rect x="1659.75" y="221.86" width="34.35" height="31.88" fill="#c0aed9"/>
<rect x="1693.80" y="221.86" width="34.35" height="31.88" fill="#ad99d0"/>
<rect x="1727.85" y="221.86" width="34.35" height="31.88" fill="#bfadda"/>
<rect x="1489.50" y="253.44" width="34.35" height="31.88" fill="#f3dbd0"/>
<rect x="1523.55" y="253.44" width="34.35" height="31.88" fill="#f5e3d9"/>
<rect x="1557.60" y="253.44" width="34.35" height="31.88" fill="#f8eee7"/>
<rect x="1591.65" y="253.44" width="34.35" height="31.88" fill="#c5b5df"/>
<rect x="1625.70" y="253.44" width="34.35" height="31.88" fill="#f6e5da"/>
<rect x="1659.75" y="253.44" width="34.35" height="31.88" fill="#d5c8e5"/>
<rect x="1693.80" y="253.44" width="34.35" height="31.88" fill="#9783c4"/>
<rect x="1727.85" y="253.44" width="34.35" height="31.88" fill="#c3b3dd"/>
<rect x="1489.50" y="285.02" width="34.35" height="31.88" fill="#f7e8df"/>
<rect x="1523.55" y="285.02" width="34.35" height="31.88" fill="#d6cbe7"/>
<rect x="1557.60" y="285.02" width="34.35" height="31.88" fill="#c9bbe0"/>
<rect x="1591.65" y="285.02" width="34.35" height="31.88" fill="#c4b4dd"/>
<rect x="1625.70" y="285.02" width="34.35" height="31.88" fill="#ebb29c"/>
<rect x="1659.75" y="285.02" width="34.35" height="31.88" fill="#f3f1f8"/>
<rect x="1693.80" y="285.02" width="34.35" height="31.88" fill="#c6b7de"/>
<rect x="1727.85" y="285.02" width="34.35" height="31.88" fill="#f5dccf"/>
<rect x="1489.50" y="316.60" width="34.35" height="31.88" fill="#e5dff0"/>
<rect x="1523.55" y="316.60" width="34.35" height="31.88" fill="#fefefe"/>
<rect x="1557.60" y="316.60" width="34.35" height="31.88" fill="#fefefe"/>
<rect x="1591.65" y="316.60" width="34.35" height="31.88" fill="#eae5f3"/>
<rect x="1625.70" y="316.60" width="34.35" height="31.88" fill="#5c5cb0"/>
<rect x="1659.75" y="316.60" width="34.35" height="31.88" fill="#faf3ee"/>
<rect x="1693.80" y="316.60" width="34.35" height="31.88" fill="#7868b4"/>
<rect x="1727.85" y="316.60" width="34.35" height="31.88" fill="#6a5fb3"/>
<rect x="1489.50" y="348.18" width="34.35" height="31.88" fill="#f6e6de"/>
<rect x="1523.55" y="348.18" width="34.35" height="31.88" fill="#efc3b2"/>
<rect x="1557.60" y="348.18" width="34.35" height="31.88" fill="#fbf6f3"/>
<rect x="1591.65" y="348.18" width="34.35" height="31.88" fill="#fdfaf9"/>
<rect x="1625.70" y="348.18" width="34.35" height="31.88" fill="#7262b2"/>
<rect x="1659.75" y="348.18" width="34.35" height="31.88" fill="#7868b4"/>
<rect x="1693.80" y="348.18" width="34.35" height="31.88" fill="#e89679"/>
<rect x="1727.85" y="348.18" width="34.35" height="31.88" fill="#cfc2e3"/>
<rect x="1489.50" y="379.76" width="34.35" height="31.88" fill="#fbf5ef"/>
<rect x="1523.55" y="379.76" width="34.35" height="31.88" fill="#e2dcef"/>
<rect x="1557.60" y="379.76" width="34.35" height="31.88" fill="#c9bbe0"/>
<rect x="1591.65" y="379.76" width="34.35" height="31.88" fill="#a591cc"/>
<rect x="1625.70" y="379.76" width="34.35" height="31.88" fill="#a894cd"/>
<rect x="1659.75" y="379.76" width="34.35" height="31.88" fill="#e6e0f0"/>
<rect x="1693.80" y="379.76" width="34.35" height="31.88" fill="#f8eee6"/>
<rect x="1727.85" y="379.76" width="34.35" height="31.88" fill="#6f62b3"/>
<rect x="1489.50" y="411.34" width="34.35" height="31.88" fill="#e0d7ed"/>
<rect x="1523.55" y="411.34" width="34.35" height="31.88" fill="#f8ece4"/>
<rect x="1557.60" y="411.34" width="34.35" height="31.88" fill="#e1d8ed"/>
<rect x="1591.65" y="411.34" width="34.35" height="31.88" fill="#d3c7e6"/>
<rect x="1625.70" y="411.34" width="34.35" height="31.88" fill="#c9bbe0"/>
<rect x="1659.75" y="411.34" width="34.35" height="31.88" fill="#eae5f3"/>
<rect x="1693.80" y="411.34" width="34.35" height="31.88" fill="#5c5cb2"/>
<rect x="1727.85" y="411.34" width="34.35" height="31.88" fill="#e5ddef"/>
<rect x="1489.50" y="442.92" width="34.35" height="31.88" fill="#c9bbe1"/>
<rect x="1523.55" y="442.92" width="34.35" height="31.88" fill="#ddd4ec"/>
<rect x="1557.60" y="442.92" width="34.35" height="31.88" fill="#efc9b7"/>
<rect x="1591.65" y="442.92" width="34.35" height="31.88" fill="#d5cbe7"/>
<rect x="1625.70" y="442.92" width="34.35" height="31.88" fill="#7062b3"/>
<rect x="1659.75" y="442.92" width="34.35" height="31.88" fill="#7264b3"/>
<rect x="1693.80" y="442.92" width="34.35" height="31.88" fill="#f0cbbb"/>
<rect x="1727.85" y="442.92" width="34.35" height="31.88" fill="#ebb39b"/>
<rect x="1489.50" y="474.50" width="34.35" height="31.88" fill="#f2d6c9"/>
<rect x="1523.55" y="474.50" width="34.35" height="31.88" fill="#ffffff"/>
<rect x="1557.60" y="474.50" width="34.35" height="31.88" fill="#fbf3ee"/>
<rect x="1591.65" y="474.50" width="34.35" height="31.88" fill="#d6cbe7"/>
<rect x="1625.70" y="474.50" width="34.35" height="31.88" fill="#5c5cb2"/>
<rect x="1659.75" y="474.50" width="34.35" height="31.88" fill="#695eb2"/>
<rect x="1693.80" y="474.50" width="34.35" height="31.88" fill="#6c60b3"/>
<rect x="1727.85" y="474.50" width="34.35" height="31.88" fill="#a996ce"/>
<rect x="1489.50" y="506.08" width="34.35" height="31.88" fill="#e1d9ee"/>
<rect x="1523.55" y="506.08" width="34.35" height="31.88" fill="#efecf5"/>
<rect x="1557.60" y="506.08" width="34.35" height="31.88" fill="#bcaad9"/>
<rect x="1591.65" y="506.08" width="34.35" height="31.88" fill="#f7e6dc"/>
<rect x="1625.70" y="506.08" width="34.35" height="31.88" fill="#4a5bad"/>
<rect x="1659.75" y="506.08" width="34.35" height="31.88" fill="#a08ec9"/>
<rect x="1693.80" y="506.08" width="34.35" height="31.88" fill="#a08ec9"/>
<rect x="1727.85" y="506.08" width="34.35" height="31.88" fill="#d9cfe8"/>
<rect x="1557.60" y="537.66" width="34.35" height="31.88" fill="#e1d7ed"/>
<rect x="1591.65" y="537.66" width="34.35" height="31.88" fill="#fdfaf8"/>
<rect x="1625.70" y="537.66" width="34.35" height="31.88" fill="#7262b2"/>
<rect x="1659.75" y="537.66" width="34.35" height="31.88" fill="#7d69b5"/>
<rect x="1693.80" y="537.66" width="34.35" height="31.88" fill="#4c5aae"/>
<rect x="1727.85" y="537.66" width="34.35" height="31.88" fill="#fdf9f6"/>
<rect x="1625.70" y="569.24" width="34.35" height="31.88" fill="#806db8"/>
<rect x="1659.75" y="569.24" width="34.35" height="31.88" fill="#d3c6e5"/>
<rect x="1693.80" y="569.24" width="34.35" height="31.88" fill="#6f61b3"/>
<rect x="1727.85" y="569.24" width="34.35" height="31.88" fill="#e6dff0"/>
<rect x="1693.80" y="600.82" width="34.35" height="31.88" fill="#655eb4"/>
<rect x="1727.85" y="600.82" width="34.35" height="31.88" fill="#cabde1"/>
</g>
<rect x="1506.0" y="155.2" width="1" height="1" fill="#bbb"/>
<rect x="1540.1" y="155.2" width="1" height="1" fill="#bbb"/>
<rect x="1574.1" y="155.2" width="1" height="1" fill="#bbb"/>
<rect x="1608.2" y="155.2" width="1" height="1" fill="#bbb"/>
<rect x="1642.2" y="155.2" width="1" height="1" fill="#bbb"/>
<rect x="1676.3" y="155.2" width="1" height="1" fill="#bbb"/>
<rect x="1710.3" y="155.2" width="1" height="1" fill="#bbb"/>
<rect x="1744.4" y="155.2" width="1" height="1" fill="#bbb"/>
<path d="M706.5 627.7L706.5 153.2" stroke="#111" stroke-width="1.2" fill="none"/><path d="M706.5 146.0L709.3 153.2L703.7 153.2Z" fill="#111"/>
<path d="M717.3 646.8L1013.8 646.8" stroke="#111" stroke-width="1.3" fill="none"/><path d="M1021.5 646.8L1013.8 649.8L1013.8 643.8Z" fill="#111"/>
<path d="M1067.5 646.8L1340.9 646.8" stroke="#111" stroke-width="1.3" fill="none"/><path d="M1348.6 646.8L1340.9 649.8L1340.9 643.8Z" fill="#111"/>
<path d="M1499.0 646.8L1764.5 646.8" stroke="#111" stroke-width="1.3" fill="none"/><path d="M1772.2 646.8L1764.5 649.8L1764.5 643.8Z" fill="#111"/>
<text x="693.3" y="178.3" font-size="24" text-anchor="end" fill="#000" >L1</text>

<text x="693.3" y="210.4" font-size="24" text-anchor="end" fill="#000" >L2</text>

<text x="693.3" y="242.4" font-size="24" text-anchor="end" fill="#000" >L3</text>

<text x="693.3" y="274.5" font-size="24" text-anchor="end" fill="#000" >L4</text>

<text x="693.3" y="306.6" font-size="24" text-anchor="end" fill="#000" >L5</text>

<text x="693.3" y="338.6" font-size="24" text-anchor="end" fill="#000" >L6</text>

<text x="693.3" y="370.7" font-size="24" text-anchor="end" fill="#000" >L7</text>

<text x="693.3" y="402.8" font-size="24" text-anchor="end" fill="#000" >L8</text>

<text x="693.3" y="434.9" font-size="24" text-anchor="end" fill="#000" >L9</text>

<text x="693.3" y="466.9" font-size="24" text-anchor="end" fill="#000" >L10</text>

<text x="693.3" y="499.0" font-size="24" text-anchor="end" fill="#000" >L11</text>

<text x="693.3" y="531.1" font-size="24" text-anchor="end" fill="#000" >L12</text>

<text x="693.3" y="563.1" font-size="24" text-anchor="end" fill="#000" >L13</text>

<text x="693.3" y="595.2" font-size="24" text-anchor="end" fill="#000" >L14</text>

<text x="693.3" y="627.3" font-size="24" text-anchor="end" fill="#000" >L15</text>

<text transform="translate(636.6 394) rotate(-90)" font-size="28" text-anchor="middle" textLength="128" lengthAdjust="spacingAndGlyphs">leaf stage</text>
<text x="732.6" y="673" font-size="22.5" text-anchor="middle" fill="#000" >1</text>

<text x="767.1" y="673" font-size="22.5" text-anchor="middle" fill="#000" >2</text>

<text x="801.7" y="673" font-size="22.5" text-anchor="middle" fill="#000" >3</text>

<text x="836.2" y="673" font-size="22.5" text-anchor="middle" fill="#000" >4</text>

<text x="870.8" y="673" font-size="22.5" text-anchor="middle" fill="#000" >5</text>

<text x="905.4" y="673" font-size="22.5" text-anchor="middle" fill="#000" >6</text>

<text x="939.9" y="673" font-size="22.5" text-anchor="middle" fill="#000" >7</text>

<text x="974.5" y="673" font-size="22.5" text-anchor="middle" fill="#000" >8</text>

<text x="1009.0" y="673" font-size="22.5" text-anchor="middle" fill="#000" >9</text>

<text x="1077.6" y="673.2" font-size="22.5" text-anchor="middle" fill="#000" >2</text>

<text x="1505.2" y="673.2" font-size="22.5" text-anchor="middle" fill="#000" >2</text>

<text x="1112.3" y="673.2" font-size="22.5" text-anchor="middle" fill="#000" >3</text>

<text x="1539.9" y="673.2" font-size="22.5" text-anchor="middle" fill="#000" >3</text>

<text x="1146.9" y="673.2" font-size="22.5" text-anchor="middle" fill="#000" >4</text>

<text x="1574.5" y="673.2" font-size="22.5" text-anchor="middle" fill="#000" >4</text>

<text x="1181.6" y="673.2" font-size="22.5" text-anchor="middle" fill="#000" >5</text>

<text x="1609.2" y="673.2" font-size="22.5" text-anchor="middle" fill="#000" >5</text>

<text x="1216.3" y="673.2" font-size="22.5" text-anchor="middle" fill="#000" >6</text>

<text x="1643.8" y="673.2" font-size="22.5" text-anchor="middle" fill="#000" >6</text>

<text x="1250.9" y="673.2" font-size="22.5" text-anchor="middle" fill="#000" >7</text>

<text x="1678.5" y="673.2" font-size="22.5" text-anchor="middle" fill="#000" >7</text>

<text x="1285.6" y="673.2" font-size="22.5" text-anchor="middle" fill="#000" >8</text>

<text x="1713.1" y="673.2" font-size="22.5" text-anchor="middle" fill="#000" >8</text>

<text x="1320.3" y="673.2" font-size="22.5" text-anchor="middle" fill="#000" >9</text>

<text x="1747.8" y="673.2" font-size="22.5" text-anchor="middle" fill="#000" >9</text>

<text x="865" y="711.4" font-size="28" text-anchor="middle" textLength="147.5" lengthAdjust="spacingAndGlyphs" fill="#000" >time (days)</text>

<text x="1218.1" y="711.3" font-size="28" text-anchor="middle" textLength="148.2" lengthAdjust="spacingAndGlyphs" fill="#000" >time (days)</text>

<text x="1633" y="711.3" font-size="28" text-anchor="middle" textLength="148" lengthAdjust="spacingAndGlyphs" fill="#000" >time (days)</text>

<rect x="720.3" y="731.3" width="302.7" height="21.3" fill="#cdcdcf"/>
<path d="M1082.3 730.6L1349 751.8V752.6H1082.3Z" fill="#cdcdcf"/>
<text x="779.3" y="777" font-size="24" textLength="160.6" lengthAdjust="spacingAndGlyphs" fill="#777" >vermiculite WC</text>

<text x="1124.4" y="777.3" font-size="24" textLength="161.3" lengthAdjust="spacingAndGlyphs" fill="#777" >vermiculite WC</text>

<text x="17.5" y="829.7" font-size="31" font-weight="bold" fill="#000" >c</text>

<text x="373.9" y="873.3" font-size="32" textLength="143.5" lengthAdjust="spacingAndGlyphs" fill="#000" >mesophyll</text>

<text x="1317.7" y="873.2" font-size="32" textLength="138.7" lengthAdjust="spacingAndGlyphs" fill="#000" >epidermis</text>

<text x="406.3" y="1347.3" font-size="32" textLength="81" lengthAdjust="spacingAndGlyphs" fill="#000" >guard</text>

<text x="1349.7" y="1348.6" font-size="32" textLength="104.9" lengthAdjust="spacingAndGlyphs" fill="#000" >phloem</text>

<text x="406.3" y="1821.2" font-size="32" textLength="83.6" lengthAdjust="spacingAndGlyphs" fill="#000" >xylem</text>

<text x="1317.2" y="1821" font-size="32" textLength="201.4" lengthAdjust="spacingAndGlyphs" fill="#000" >bundle sheath</text>

<text x="150.5" y="902.6" font-size="32" textLength="180.8" lengthAdjust="spacingAndGlyphs" fill="#3a2f9e" >well-watered</text>

<text x="1054.7" y="910.7" font-size="32" textLength="180.8" lengthAdjust="spacingAndGlyphs" fill="#3a2f9e" >well-watered</text>

<text x="135.1" y="1388.2" font-size="32" textLength="180.8" lengthAdjust="spacingAndGlyphs" fill="#3a2f9e" >well-watered</text>

<text x="1054.7" y="1388.3" font-size="32" textLength="180.8" lengthAdjust="spacingAndGlyphs" fill="#3a2f9e" >well-watered</text>

<text x="150.5" y="1851.5" font-size="32" textLength="180.8" lengthAdjust="spacingAndGlyphs" fill="#3a2f9e" >well-watered</text>

<text x="1137.6" y="1853.9" font-size="32" textLength="180.8" lengthAdjust="spacingAndGlyphs" fill="#3a2f9e" >well-watered</text>

<text x="612.6" y="902.9" font-size="32" textLength="109.4" lengthAdjust="spacingAndGlyphs" fill="#b5302a" >drought</text>

<text x="1561.6" y="911.6" font-size="32" textLength="109.4" lengthAdjust="spacingAndGlyphs" fill="#b5302a" >drought</text>

<text x="576.6" y="1388.3" font-size="32" textLength="109.4" lengthAdjust="spacingAndGlyphs" fill="#b5302a" >drought</text>

<text x="1561.6" y="1388.4" font-size="32" textLength="109.4" lengthAdjust="spacingAndGlyphs" fill="#b5302a" >drought</text>

<text x="576.6" y="1851.1" font-size="32" textLength="109.4" lengthAdjust="spacingAndGlyphs" fill="#b5302a" >drought</text>

<text x="1522.9" y="1849.4" font-size="32" textLength="109.4" lengthAdjust="spacingAndGlyphs" fill="#b5302a" >drought</text>

<text x="395.5" y="941.6" font-size="25.7" textLength="111.6" lengthAdjust="spacingAndGlyphs" fill="#000" >leaf stage</text>

<text x="353.5" y="977.2" font-size="20" fill="#000" >L15</text>

<text x="519.7" y="977.2" font-size="20" fill="#000" >L1</text>

<defs><linearGradient id="vg"><stop offset="0" stop-color="#e3e64a"/><stop offset="0.18" stop-color="#a5db52"/><stop offset="0.36" stop-color="#5cc46e"/><stop offset="0.55" stop-color="#2f9e85"/><stop offset="0.72" stop-color="#33738d"/><stop offset="0.87" stop-color="#424a86"/><stop offset="1" stop-color="#45256f"/></linearGradient></defs>
<rect x="394.3" y="954.6" width="112.5" height="25.6" fill="url(#vg)"/>
<path d="M434.2 954.6v3.5M434.2 980.2v-3.5" stroke="#fff" stroke-opacity="0.6" stroke-width="1"/>
<path d="M474.7 954.6v3.5M474.7 980.2v-3.5" stroke="#fff" stroke-opacity="0.6" stroke-width="1"/>
<path d="M52.2 1281.5L52.2 1257.9" stroke="#808285" stroke-width="1.3" fill="none"/><path d="M52.2 1247.5L56.2 1257.9L48.2 1257.9Z" fill="#808285"/>
<path d="M52.2 1281.5L76.3 1281.5" stroke="#808285" stroke-width="1.3" fill="none"/><path d="M86.7 1281.5L76.3 1285.5L76.3 1277.5Z" fill="#808285"/>
<text x="51.7" y="1302.7" font-size="15.3" fill="#808285">umap 1</text>
<text transform="translate(39.2 1279.0) rotate(-90)" font-size="15.3" fill="#808285">umap 2</text>
<path d="M955.3 1271.3L955.3 1247.7" stroke="#808285" stroke-width="1.3" fill="none"/><path d="M955.3 1237.3L959.3 1247.7L951.3 1247.7Z" fill="#808285"/>
<path d="M955.3 1271.3L979.4 1271.3" stroke="#808285" stroke-width="1.3" fill="none"/><path d="M989.8 1271.3L979.4 1275.3L979.4 1267.3Z" fill="#808285"/>
<text x="954.8" y="1292.4" font-size="15.3" fill="#808285">umap 1</text>
<text transform="translate(942.3 1268.8) rotate(-90)" font-size="15.3" fill="#808285">umap 2</text>
<path d="M52.2 1766.3L52.2 1742.7" stroke="#808285" stroke-width="1.3" fill="none"/><path d="M52.2 1732.3L56.2 1742.7L48.2 1742.7Z" fill="#808285"/>
<path d="M52.2 1766.3L76.3 1766.3" stroke="#808285" stroke-width="1.3" fill="none"/><path d="M86.7 1766.3L76.3 1770.3L76.3 1762.3Z" fill="#808285"/>
<text x="51.7" y="1787" font-size="15.3" fill="#808285">umap 1</text>
<text transform="translate(39.2 1763.8) rotate(-90)" font-size="15.3" fill="#808285">umap 2</text>
<path d="M955.3 1756.4L955.3 1732.8" stroke="#808285" stroke-width="1.3" fill="none"/><path d="M955.3 1722.4L959.3 1732.8L951.3 1732.8Z" fill="#808285"/>
<path d="M955.3 1756.4L979.4 1756.4" stroke="#808285" stroke-width="1.3" fill="none"/><path d="M989.8 1756.4L979.4 1760.4L979.4 1752.4Z" fill="#808285"/>
<text x="954.8" y="1776.6" font-size="15.3" fill="#808285">umap 1</text>
<text transform="translate(942.3 1753.9) rotate(-90)" font-size="15.3" fill="#808285">umap 2</text>
<path d="M53.8 2173.4L53.8 2149.8" stroke="#808285" stroke-width="1.3" fill="none"/><path d="M53.8 2139.4L57.8 2149.8L49.8 2149.8Z" fill="#808285"/>
<path d="M53.8 2173.4L77.9 2173.4" stroke="#808285" stroke-width="1.3" fill="none"/><path d="M88.3 2173.4L77.9 2177.4L77.9 2169.4Z" fill="#808285"/>
<text x="53.3" y="2194.6" font-size="15.3" fill="#808285">umap 1</text>
<text transform="translate(40.8 2170.9) rotate(-90)" font-size="15.3" fill="#808285">umap 2</text>
<path d="M957.0 2163.8L957.0 2140.2" stroke="#808285" stroke-width="1.3" fill="none"/><path d="M957.0 2129.8L961.0 2140.2L953.0 2140.2Z" fill="#808285"/>
<path d="M957.0 2163.8L981.1 2163.8" stroke="#808285" stroke-width="1.3" fill="none"/><path d="M991.5 2163.8L981.1 2167.8L981.1 2159.8Z" fill="#808285"/>
<text x="956.5" y="2184" font-size="15.3" fill="#808285">umap 1</text>
<text transform="translate(944 2161.3) rotate(-90)" font-size="15.3" fill="#808285">umap 2</text>
<g opacity="1">
<path fill="#cae662" d="M229.3 959.5L242.5 959.3L243.5 960.3L247.5 960.3L248.5 961.3L251.5 961.3L252.5 962.3L260.5 964.3L270.5 973.3L270.7 974.5L279.7 983.5L279.7 984.5L283.7 988.5L284.7 991.5L280.5 994.7L267.5 995.7L266.5 996.7L259.5 996.7L258.5 997.7L249.5 997.7L248.5 998.7L239.5 998.7L238.5 999.7L226.5 1000.7L225.5 1001.7L220.5 1001.7L219.5 1002.7L209.5 1003.7L208.5 1004.7L198.5 1004.7L197.5 1005.7L189.5 1005.7L188.5 1004.7L186.5 1004.7L176.3 995.5L175.3 993.5L176.3 988.5L181.3 981.5L186.5 976.3L207.5 964.3L217.5 962.3L218.5 961.3L222.5 961.3L223.5 960.3L228.5 960.3L229.3 959.5ZM336.3 1010.5L344.5 1010.3L345.5 1011.3L350.5 1011.3L351.5 1012.3L355.5 1012.3L356.5 1013.3L360.5 1013.3L361.5 1014.3L369.5 1015.3L380.5 1020.3L382.5 1022.3L393.5 1027.3L399.5 1031.3L416.7 1051.5L419.7 1057.5L420.7 1065.5L422.7 1070.5L422.7 1074.5L423.7 1075.5L423.7 1079.5L424.7 1080.5L424.7 1113.5L423.7 1114.5L423.7 1125.5L422.7 1126.5L421.7 1135.5L419.7 1140.5L419.7 1144.5L418.7 1145.5L418.7 1149.5L417.7 1150.5L415.7 1160.5L398.7 1188.5L388.5 1198.7L368.5 1213.7L360.5 1217.7L340.5 1223.7L337.5 1225.7L326.5 1228.7L322.5 1230.7L314.5 1231.7L313.5 1232.7L306.5 1232.7L305.5 1233.7L290.5 1234.7L289.5 1235.7L282.5 1235.7L281.5 1236.7L274.5 1236.7L273.5 1237.7L265.5 1237.7L264.5 1238.7L208.5 1238.7L207.5 1237.7L201.5 1237.7L200.5 1236.7L194.5 1236.7L193.5 1235.7L187.5 1235.7L186.5 1234.7L180.5 1234.7L179.5 1233.7L169.5 1232.7L168.5 1231.7L163.5 1230.7L156.5 1226.7L154.5 1226.7L147.5 1222.7L145.5 1222.7L140.5 1219.7L138.5 1219.7L126.5 1213.7L122.5 1210.7L105.5 1195.7L104.5 1195.7L97.3 1188.5L81.3 1164.5L77.3 1156.5L77.3 1154.5L75.3 1151.5L72.3 1140.5L71.3 1139.5L71.3 1136.5L70.3 1135.5L70.3 1123.5L69.3 1122.5L69.3 1106.5L70.3 1105.5L70.3 1101.5L71.3 1100.5L71.3 1096.5L72.3 1095.5L72.3 1091.5L73.3 1090.5L74.3 1083.5L85.3 1065.5L92.5 1058.3L113.5 1045.3L118.5 1044.3L119.5 1043.3L122.5 1043.3L123.5 1042.3L126.5 1042.3L127.5 1041.3L130.5 1041.3L134.5 1039.3L145.5 1037.3L146.5 1036.3L161.5 1035.3L162.5 1034.3L170.5 1034.3L171.5 1033.3L178.5 1033.3L179.5 1032.3L238.5 1032.3L239.5 1031.3L256.5 1031.3L257.5 1030.3L265.5 1030.3L266.5 1029.3L270.5 1029.3L271.5 1028.3L274.5 1028.3L275.5 1027.3L278.5 1027.3L279.5 1026.3L282.5 1026.3L283.5 1025.3L286.5 1025.3L287.5 1024.3L292.5 1023.3L313.5 1013.3L316.5 1013.3L317.5 1012.3L324.5 1012.3L325.5 1011.3L335.5 1011.3L336.3 1010.5Z"/>
<path fill="#a4de7b" d="M287.5 1024.5L289.4 1024.5L334.5 1044L347.5 1051.1L357.8 1058.5L367.3 1067.5L375.9 1078.5L382.9 1090.5L391.5 1109.1L394.5 1112.8L396.5 1110.5L397.5 1106.2L405.5 1039.1L414.5 1048.5L419.5 1057.5L420.5 1065.5L422.5 1070.5L422.5 1074.5L423.5 1075.5L423.5 1079.5L424.5 1080.5L424.5 1113.5L423.5 1114.5L423.5 1125.5L422.5 1126.5L421.5 1135.5L419.5 1140.5L418.5 1149.5L417.5 1150.5L415.5 1160.5L398.5 1188.5L388.5 1198.5L368.5 1213.5L364.5 1215.5L353.5 1217.2L340.5 1217.7L314.5 1215L288.5 1207.5L263.5 1195.4L246.3 1183.5L231.9 1169.5L221.3 1154.5L205.5 1124L200.5 1118.3L193.5 1113.9L186.5 1111.7L178.5 1110.4L140.5 1109.6L120.5 1107.1L97.5 1100.2L73.5 1088.9L74.5 1083.5L77.5 1077.5L85.5 1065.5L92.5 1058.5L101.5 1053.5L109.5 1047.5L119.5 1043.5L130.5 1041.5L134.5 1039.5L145.5 1037.5L146.5 1036.5L161.5 1035.5L162.5 1034.5L170.5 1034.5L171.5 1033.5L178.5 1033.5L179.5 1032.5L238.5 1032.5L239.5 1031.5L256.5 1031.5L257.5 1030.5L265.5 1030.5L266.5 1029.5L270.5 1029.5L271.5 1028.5L286.5 1025.5L287.5 1024.5Z"/>
<path fill="#82d58f" d="M271.5 1028.5L279.5 1031.1L296.5 1040L310.5 1048.7L323.8 1058.5L346 1079.5L356.1 1091.5L364.7 1103.5L372.8 1117.5L379.2 1131.5L385.7 1149.5L388.7 1162.5L388.7 1170.5L386.5 1177.5L382.4 1183.5L375.3 1189.5L368.5 1193.2L360.5 1195.8L351.5 1197.2L342.5 1197.2L333.5 1195.9L324.5 1193.2L316.4 1189.5L308.8 1184.5L296.8 1172.5L272.8 1140.5L267.5 1129.5L261.8 1108.5L257.6 1100.5L251.2 1093.5L242.5 1088L230.5 1084.4L212.5 1082.7L192.5 1082.7L151.5 1085L131.5 1083.8L119.5 1080.9L109.6 1076.5L103 1071.5L99.4 1065.5L100 1059.5L104.4 1054.5L111.7 1050.5L122.5 1047.3L136.5 1045.3L152.5 1044.7L205.5 1048.3L216.5 1048.1L221.5 1046.8L225.5 1044.4L228.9 1040.5L233.5 1032.5L238.5 1032.5L239.5 1031.5L256.5 1031.5L257.5 1030.5L265.5 1030.5L266.5 1029.5L270.5 1029.5L271.5 1028.5ZM411.1 1045.5L414.5 1048.5L419.5 1057.5L420.5 1065.5L422.5 1070.5L422.5 1074.5L423.5 1075.5L423.5 1079.5L424.5 1080.5L424.5 1113.5L423.5 1114.5L423.5 1125.5L422.5 1126.5L422.5 1130.5L421.5 1131.5L421.5 1135.5L419.5 1140.5L419.5 1144.5L418.5 1145.5L418.5 1149.5L416.5 1154.5L416.5 1157.5L412.5 1166.5L406.5 1174.5L405.3 1177.5L404.4 1165.5L406.6 1091.5L408.4 1066.5L411.1 1045.5Z"/>
<path fill="#69c89d" d="M252.7 1033.5L259.5 1032.7L267.5 1033.9L277.5 1037.3L288.5 1042.6L310.5 1056.8L332.6 1076.5L351.2 1098.5L362.9 1118.5L366.5 1128.5L367.9 1136.5L367.2 1143.5L364.5 1148.3L359.5 1150.9L353.5 1150.9L346.5 1148.9L336.5 1144.3L309.5 1127.3L297.5 1117.6L286.5 1107L252.7 1071.5L245.7 1061.5L243.3 1052.5L244.1 1043.5L247.5 1036.8L252.7 1033.5ZM416.5 1058.5L418.5 1059.4L419.5 1061.8L422.1 1077.5L423.5 1099.5L423.5 1125.5L422.5 1126.5L422.5 1130.5L421.5 1131.5L421.5 1135.5L419.5 1140.5L419.5 1144.5L418.5 1145.5L418.5 1149.5L416.5 1154.5L416.5 1157.5L412.1 1166.5L410.5 1130.5L410.6 1097.5L412.7 1071.5L414.5 1062.7L416.5 1058.5Z"/>
<path fill="#5cbca5" d="M260.9 1041.5L266.5 1040.9L272.5 1041.8L288.5 1048.2L306.5 1059.9L324.4 1075.5L340.4 1093.5L350.7 1109.5L353.8 1116.5L355.5 1123.5L355.3 1128.5L353.2 1132.5L349.5 1134.4L343.5 1134.5L336.5 1132.7L327.5 1128.8L308.5 1116.8L289.5 1100.2L267.3 1076.5L256.9 1061.5L254.6 1054.5L254.6 1048.5L256.5 1044.4L260.9 1041.5ZM417 1106.5L417.5 1105.9L417.5 1116.4L416.5 1115.3L417 1106.5Z"/>
<path fill="#5caeab" d="M267.9 1049.5L271.5 1048.7L276.5 1049.1L289.5 1054L303.5 1062.9L318.3 1075.5L331.2 1089.5L340.8 1103.5L345 1114.5L345.1 1118.5L343.5 1122L340.5 1123.6L335.5 1123.7L323.5 1119.4L308.5 1110L293.5 1097.1L276.9 1079.5L266.9 1065.5L264.8 1060.5L264.1 1055.5L265.4 1051.5L267.9 1049.5Z"/>
</g>
<g transform="translate(55.5 945.5)" fill="none" stroke-linecap="round" stroke-width="2.7">
<path stroke="#471567" d="M125 114zm102 8zm-13 23zm52 14zm-17-55zm8 118zm-19 47zm-27 5zm50 13zm52-53zm-5-30zm12-19zm9-2zm37-25zm-274 62z"/>
<path stroke="#453580" d="M100 144zm72-51zm32 11zm-23 82zm45 28zm34-37zm4-8zm31 22zm10 5zm41-7zm-8-27z"/>
<path stroke="#3a528b" d="M78 97zm23 24zm32-28zm49 74zm76-10zm21 3zm-2 18zm22 2zm-7 15zm26 9zm14 1zm-20 16zm-78 22zm-31 6zm-28 22zm-29 0zm-63-11zm-48-56zm212-62zm-2-4zm0-17zm-11 3zm0 4zm26-1zm14-38zm-26-12z"/>
<path stroke="#2e6b8e" d="M73 143zm-10 23zm88 6zm3 15zm-13 36zm-2 50zm26 13zm81-15zm-5-47zm30-6zm0-33zm10-6zm0-13zm-13-4zm0-1zm0 0zm-4 0zm-3-3zm-3 4zm2-14zm1 0zm2 1zm0-3zm0-12zm-15 1zm-1 4zm-4 0zm0 1zm-1-5zm-8-2zm-2 1zm-11-4zm-10-8zm11-14zm24 7zm8 5zm-2 20zm-17 9zm-19 17zm-20-30zm-3-33zm-15 0zm94 51zm0 2zm27 3zm-2 31zm16-12zm28 1zm0 8zm6-32zm17 7zm-41 61zm-5 12z"/>
<path stroke="#25838d" d="M49 104zm27 4zm1 14zm24 9zm6-35zm30 30zm4-1zm18-9zm18 20zm-1 10zm-10 16zm21 4zm31-23zm-2-3zm8 4zm3-20zm0-1zm-3-4zm-3-6zm-7-3zm-2 7zm3 5zm21-3zm10-2zm3 1zm-1 11zm0 21zm-2 2zm8 6zm2 0zm6 4zm2 5zm3-1zm1-6zm8-4zm6 1zm3 7zm0 4zm-4-1zm2 4zm4 0zm-1 7zm-3 4zm6 1zm-1 4zm-3 0zm-8-12zm-3-30zm-1-5zm-11-1zm11-11zm20-24zm6 59zm18 4zm12 20zm1 7zm-13 10zm-15-6zm-3 23zm-5 14zm-4-1zm-2 4zm-1 6zm2 14zm-20-11zm-20 11zm-1-43zm-9-15zm-7 7zm-10 2zm-6 38zm-33-30zm58-43zm-46-66zm-1-7zm7-2zm3-3zm-4-6zm-18 6zm-48-37zm-77 89zm-26 0zm55 75zm8 10zm38 44zm6-1zm181-45zm25-22zm20-32zm-23-49z"/>
<path stroke="#1e9a89" d="M28 127zm-7 8zm19-5zm34 1zm7-4zm-4-5zm-7-2zm-6-21zm31 12zm15 5zm7 2zm9 2zm-14 6zm-2 8zm-13 20zm-18-15zm-28 23zm-9 38zm-11-1zm29 8zm54-7zm26-13zm10 16zm19-6zm16 5zm2 0zm-4 6zm-6 5zm10 15zm12 8zm15-4zm14-6zm4-5zm17 4zm3-6zm0-20zm6 4zm9 5zm2 1zm3 0zm-2 8zm6 10zm7 3zm3-3zm4-6zm11 1zm3-2zm2 8zm-1 1zm-2 2zm1 5zm3 4zm-10-3zm1-4zm-6 8zm-8 1zm-8 2zm-18 1zm6-17zm20-18zm-2-3zm8-5zm-2-7zm1-6zm-1-1zm-3 1zm-3-1zm-7 0zm-3 5zm-1-11zm-1-8zm-6 3zm-3 1zm0 2zm0-8zm-8-2zm-1 4zm-6-7zm-2-3zm-3-7zm-4-14zm-13 0zm2-5zm-10-4zm4-4zm-12-3zm1-2zm-6-8zm-5-3zm-2 0zm3-6zm1-5zm5 1zm2 1zm1 1zm-1-5zm-1-7zm4 1zm3 9zm-5 8zm10 0zm12-2zm3-1zm-1-4zm3 10zm5-4zm16 1zm-3 6zm-2 4zm13 6zm4 3zm3 0zm0 0zm-1-6zm10 1zm3-12zm1-27zm23 34zm9 17zm11-4zm15 0zm18-1zm3 11zm0 3zm-1 3zm-3-1zm-2-4zm9-1zm1-3zm0 8zm-3 8zm-3-3zm-3 8zm8 2zm-4 6zm-1 1zm-1 0zm3 4zm-5 2zm-4 13zm4 10zm0 7zm3 7zm-17-1zm-16 4zm-8 0zm-1-2zm-7-4zm-3-1zm1-3zm1-12zm9-1zm3 5zm3-24zm-8-4zm10-7zm16-12zm-3-40zm-45 36zm-5 4zm-1 2zm-2 1zm-8-1zm1 4zm4 3zm3 4zm7 4zm3-3zm-1 12zm-3-1zm-1 7zm-2 0zm-1 0zm6 1zm3-1zm4-2zm5 0zm-30-20zm-1-19zm-2-5zm-63 2zm-1 14zm-10 17zm5 6zm1 4zm12-2zm8 1zm2 10zm5 2zm-4 6zm-23-2zm-8-6zm-4 16zm2 49zm12-6zm28 6zm60-1zm-8 20zm23-5zm4-40zm23 1zm-84-43zm-80-28zm-1-15zm-13 0zm-17-3zm9-11zm19 0zm2-11zm-16-15zm-15-9zm-15-2zm57 2zm12 1zm5-7zm10-50zm-27 226zm6 15zm-32-8zm12-14zm-21-9zm-11 7zm-51-6zm14-15z"/>
<path stroke="#2bb17d" d="M34 115zm-3 22zm-3 2zm10 9zm0 1zm13-2zm5-16zm2 1zm-9-7zm16-7zm0-1zm2-6zm1 0zm5 0zm5-3zm7-7zm-8-6zm-8 7zm-13-3zm4 10zm22 9zm1 0zm12 0zm-3-6zm17 5zm-7 11zm-2 7zm3 1zm-5 3zm2 6zm-5 4zm-11-2zm3-8zm-13 3zm-5 1zm5-9zm3-2zm-1 22zm-1 2zm23 4zm1 10zm-6-4zm13 9zm19-2zm-7-14zm-2-10zm-2-3zm-2-9zm8-4zm0-8zm2-2zm2-12zm8-6zm3 1zm5-5zm4 0zm-13-2zm-1-1zm7-8zm18 4zm6 7zm-3 7zm-6 2zm-5 6zm0 1zm2 6zm5 3zm1-6zm3-1zm6 0zm8 0zm3 6zm3 8zm-2 5zm-7 4zm-3 1zm-3 4zm2-16zm2-2zm-14 8zm-11-3zm-7 0zm1 8zm1-20zm-21-18zm0-1zm-4-9zm-8 3zm-4-4zm-3 1zm79 7zm9 3zm1 5zm4 5zm3-9zm3-1zm1-3zm0 0zm6 3zm4 2zm-1-6zm9-1zm8 0zm6-2zm-2-7zm-2 0zm-5 2zm-9 0zm4-7zm0 0zm9-5zm12 11zm13 4zm6 5zm7 2zm9-2zm-3-10zm-13-8zm-8-3zm-1 24zm0 8zm2 2zm1 0zm1 2zm6 0zm5 10zm4 3zm-1 1zm2-6zm1-3zm9 0zm0 5zm0 4zm-3 2zm4 8zm7 3zm0 8zm13 3zm7-8zm7 4zm3-2zm3-6zm4 8zm21 2zm5 6zm-1 3zm8-1zm3-3zm0-1zm3 0zm0-2zm0-3zm-1-6zm3-8zm2-10zm1-2zm5 1zm-12 3zm-5 5zm-5 7zm-4-16zm10-8zm-2-2zm7 5zm-12-17zm-18 10zm-15-1zm4-22zm-9 83zm-5-3zm-8-1zm-4-3zm7 8zm-2 3zm1 4zm4 5zm2 2zm5 1zm0 0zm0-4zm5 2zm3 2zm-1 3zm-4 1zm-6 0zm-1 3zm2 4zm-1 2zm3 0zm2 0zm2 2zm1-1zm0-3zm5 0zm3-3zm3-1zm2 6zm5 6zm2 1zm6 0zm3 3zm-6 5zm0 7zm-5-2zm-4 2zm-7 0zm0-3zm2-1zm0-8zm-5-2zm-4 2zm0 1zm-6 2zm1 2zm3 4zm2 4zm1 7zm0 0zm-1 7zm-7 1zm-3 1zm-1-6zm-1 11zm6-1zm5 1zm9-4zm-1 13zm-26-4zm-7-2zm-1-6zm-5-5zm-2 0zm6-6zm5-3zm-2-6zm-2 0zm-1-2zm-1-4zm8 0zm1 1zm3 3zm0-7zm-2-2zm3-3zm7 0zm-1-5zm-10 1zm-8-2zm-6 3zm-5 0zm1 1zm1 1zm-2 1zm-2 6zm1 2zm4-1zm-11 5zm0 6zm5 0zm2 3zm-11-1zm-2 2zm3 2zm-3 8zm-7-2zm-2 1zm1-4zm-4-2zm-1 0zm-1-3zm4-2zm0-6zm1-2zm-3 0zm-2-8zm-1-1zm-6 0zm2-5zm-9-5zm-5-3zm-3 0zm0 1zm0 8zm-2 0zm-1 3zm-11 1zm-3 0zm-8-1zm-5 5zm-6-5zm-7-1zm-3-6zm7 0zm-1-12zm4-8zm4 3zm3-6zm1 0zm-1-5zm-1-14zm-11-3zm-4 7zm-4 1zm-6 0zm2 10zm-10 13zm-11 0zm-3 6zm-11-2zm4-13zm9-23zm26-4zm23-7zm13 0zm1 1zm2-5zm8 1zm2 7zm5 1zm-1-4zm0 10zm-2 3zm4 2zm-1 2zm1 1zm7-2zm4-6zm11 14zm0 1zm1 6zm0 4zm-2 2zm0 4zm2 1zm2-1zm-7 0zm1 12zm9 3zm0 5zm7 2zm0-6zm-3-11zm2-8zm5 2zm2-1zm0 5zm2 1zm0 4zm9-2zm-3-4zm4-2zm-4-4zm40 2zm8-15zm19 1zm4 3zm-1 4zm-1 0zm-1 2zm8-1zm8 1zm-2 4zm-1 5zm-4 0zm0 3zm-4-2zm-2-3zm-12 7zm15 10zm9 3zm-7 8zm-3 1zm-4 0zm-2 2zm7 3zm-10 13zm-16-19zm-19 11zm-36 16zm-5 3zm-3 12zm8 4zm5-1zm8-1zm-3-7zm-30-4zm-8-3zm-1-1zm-2-5zm-2-15zm-5-6zm-2-1zm-1-3zm-2 12zm-3 18zm-3 0zm-6-8zm-3 3zm-7 7zm-3-1zm-1-17zm-7-2zm13-2zm4-9zm1-23zm8-1zm2-6zm-7 0zm10-6zm3 3zm1 6zm-13-18zm1-2zm-2-9zm-3-3zm-3 4zm-1 3zm-1 1zm-1-6zm11-6zm-4-21zm-9 0zm-2-7zm-10-2zm-4 6zm5 6zm-8-39zm10-13zm-1-55zm-11-4zm-3-10zm58 98zm-31 66zm-7 25zm-31 1zm-5-5zm-7 22zm-3 24zm0 5zm8-5zm1-2zm9-9zm9-4zm-6 31zm-18 7zm-10-6zm-20 4zm6-23zm-5-21zm-4-2zm-3-5zm-9-25zm-18 8zm-6 3zm-6-10zm-11 14zm-7 25zm22 1zm-7 17zm-24 3zm4-73zm-37 6zm6 9zm-12-38zm199 103zm1 5zm-6 2zm17-1zm9-5zm4-2zm11 13zm7-51zm-53 65zm-5 6zm-15 3zm172-129zm2-6z"/>
<path stroke="#55c666" d="M40 109zm2-1zm7 3zm0 2zm13 0zm-1-1zm2 3zm0 9zm-3-1zm-4 1zm-7 4zm-5 4zm0 3zm0 3zm0 1zm-1 0zm-7 2zm1-6zm1-6zm-3-1zm-2 3zm-3-5zm-3 1zm5-9zm2-1zm9 5zm14 13zm0 3zm3 5zm4-2zm2 4zm1 1zm5 1zm0-2zm1-10zm6 0zm7-4zm7 2zm2-1zm6 2zm2 4zm4 2zm0 0zm3 1zm4 2zm2-4zm5 2zm1 0zm4-2zm-1-1zm6 0zm4-2zm1-3zm4 0zm-1 4zm0 6zm-5 5zm-2-1zm0 0zm1 10zm7-5zm1 0zm3 4zm2 2zm4-1zm7-4zm8 5zm11 0zm5 0zm0 1zm-1 1zm0 3zm2 1zm1 1zm1 3zm3 1zm8-3zm4 3zm5 0zm4-3zm-1-2zm-4 11zm0 5zm0 1zm-3 2zm8 2zm2-1zm1-5zm5 0zm2-1zm-1-5zm3-7zm2 0zm3-2zm2-5zm0-2zm7 2zm0 7zm-3 0zm1 4zm10-1zm2 6zm-4 1zm-1-1zm-2 3zm3 5zm4 1zm-1 4zm0 8zm2 3zm3-3zm1-6zm7 2zm1 3zm-1 1zm0 7zm-3 0zm7-2zm0 6zm4 0zm-2 4zm5 3zm3 0zm0-3zm3 2zm2-2zm8-1zm0-3zm2-1zm-2-3zm-3-1zm-3-1zm-3 2zm-2-3zm-5-3zm1-3zm2 0zm-5-1zm0-7zm0-1zm-15-5zm-14 12zm1 3zm1 0zm-6-2zm0-2zm-6 0zm-2-3zm-2 0zm-2-2zm-3 1zm0 2zm-4 2zm-2-1zm-2 5zm-2-1zm-3-3zm-8 1zm0 1zm-2-2zm0-4zm0-8zm1-1zm-3-1zm-5 5zm-1 0zm0 2zm0 2zm-3 3zm-3-1zm1 5zm-1 10zm-10 4zm2 5zm-1 7zm3 2zm-10-4zm-3 0zm-4 8zm-7-3zm-10 4zm2 9zm13 1zm-3 8zm11 4zm5-1zm1-1zm2-1zm6 0zm-3-5zm1-4zm-6-3zm15 7zm9-1zm1-3zm1 0zm3 2zm-1 4zm-3 8zm0 5zm2 6zm-7 0zm-7 10zm-1 1zm16 5zm-6 7zm12 7zm7-11zm-2-9zm5-11zm4 4zm7-10zm6-7zm-3-5zm10 1zm1 1zm0-7zm1 1zm2 0zm5-1zm2-4zm-1-3zm-1-2zm2-2zm2-1zm1 2zm3 1zm1 2zm0 4zm-1 0zm5 0zm1 1zm0 2zm-2 0zm4-3zm4-2zm2 4zm2-2zm2-1zm2 1zm2-2zm0-1zm0 0zm2-1zm0-1zm3 1zm0 1zm-3 4zm-1 1zm10 0zm0 3zm-1 3zm0-8zm4-2zm2 1zm2 0zm-2 6zm2 3zm0 1zm-3 3zm1 7zm-2 4zm-4 0zm0 4zm0 1zm-4 0zm0 3zm1 0zm-5-1zm-4 6zm-2 2zm3 1zm7 1zm7 1zm3 0zm0-2zm3-8zm-1-6zm6-1zm2 2zm3-5zm0-6zm0 0zm5 0zm4 0zm-2-6zm-3 0zm0-6zm3-1zm-5-1zm-2-3zm-2-3zm5 0zm1 1zm2-4zm2-5zm4-3zm4-4zm0-2zm0-6zm1-2zm1-2zm2-3zm4 1zm0 3zm-2 5zm1 1zm-1 2zm3 0zm0 2zm-1 1zm0 1zm8-8zm3-3zm-2-4zm-4 0zm0-6zm-4-2zm0 4zm0 0zm-3-10zm-2-4zm-6 0zm1 4zm-5-1zm0 4zm-8 0zm3-6zm3-4zm-2-3zm-4 0zm-6 5zm1-12zm10 0zm2-5zm-1-1zm-4 2zm1-11zm2 0zm0-3zm0-3zm-2-2zm-4 1zm-4-3zm1-4zm3-5zm-1-3zm-8 2zm-1 4zm-4 1zm-1-2zm-7-2zm-3-6zm-1-7zm7 2zm5 0zm1-1zm1-3zm0-6zm2-4zm-4-6zm3-5zm7 1zm5-10zm-11-1zm4-12zm-19-4zm2-4zm-29 5zm3 7zm6 2zm-17 1zm-7 0zm-1 7zm-1 1zm-2 1zm-4-6zm-2-4zm-4-7zm-7 6zm1 3zm1 1zm-4 3zm-4-1zm-1 5zm-7 16zm-5 6zm-5-8zm0 0zm0-5zm-5-2zm1-3zm-1-2zm-4-2zm-8 3zm-2-1zm-3 3zm-12 0zm-4 0zm-2 5zm3 4zm-4 6zm-3-3zm-3-1zm-5 2zm-3-1zm1-5zm4-7zm0-1zm0-1zm-1-2zm10-1zm1 0zm9-3zm11-6zm7 19zm0 6zm2 0zm-5 1zm-8 1zm-1 6zm-8 0zm2 6zm0 2zm-6 0zm-3 5zm-3 0zm1-1zm4 4zm2 2zm2 1zm-1 2zm-2-1zm-6 3zm-5 0zm-3-16zm0-8zm-4 1zm-1 1zm0 3zm-1 6zm-4 2zm-1-10zm-6 1zm-2 3zm-2 0zm-1 5zm-2 2zm-6-4zm-5 0zm0 3zm-5-3zm-5-3zm-1-6zm6-2zm2-3zm-3-4zm-3 2zm-6 1zm-3-1zm-2-10zm-1-4zm-2-2zm-2 6zm-1 0zm-7 0zm0 4zm0 1zm0 7zm-2 2zm0 0zm1 2zm6-2zm-12 12zm-2-23zm-5 3zm-2-1zm0-6zm2 0zm10-4zm21 3zm3 2zm10-3zm5 3zm1-1zm-1 3zm-4 2zm10 0zm1-1zm1-3zm6-1zm-1-2zm3 7zm2 0zm-5 4zm1 2zm1 4zm-5-1zm-5-2zm1-2zm2 10zm-3 4zm4 23zm-4 5zm3 3zm2 5zm-4 6zm0 2zm2 6zm-1 3zm-2 4zm-1 2zm1 2zm9 3zm1-5zm-2-4zm8-8zm7-5zm10 7zm4-3zm2 16zm1-1zm2 7zm4-1zm3 7zm-3 5zm-3 5zm-5-1zm4-8zm-11-4zm-2 1zm0-5zm-4 6zm-2 3zm-3 4zm7 4zm-2 4zm-7 2zm-3 7zm-2 6zm-7 7zm1 3zm-4 1zm-1 5zm-6 4zm11 7zm8-1zm1-8zm4 3zm7 15zm11 1zm3-1zm-7 17zm14 2zm-29-7zm-4 0zm-2 0zm0-9zm-7 25zm-25-18zm-7 1zm-15-17zm8-11zm-1-4zm6-3zm-12-6zm-9 9zm-6-14zm1-12zm-22 6zm2 11zm1 3zm-9-33zm-1-2zm-7-13zm-6 5zm-1-25zm10-8zm2-6zm6-1zm3 4zm5 0zm-1 3zm-5 3zm16 1zm7-3zm3-1zm-4 12zm0 3zm12-1zm-2-3zm7-3zm3-2zm5-4zm-1-1zm0-9zm4 2zm6 0zm-2-7zm-1-3zm-1 0zm-4-1zm-1-2zm11 6zm3 3zm1 0zm6 2zm3-4zm-9 21zm1 3zm-5 0zm2 4zm-6 5zm-6-2zm-10 3zm-1-1zm5 18zm14-8zm3 1zm2 0zm8 5zm-1 13zm-3 3zm0 10zm-4 2zm-3-2zm8 8zm17-30zm2-4zm49-1zm-1-10zm-2-2zm-1 1zm1-7zm7 2zm-7-12zm3-21zm1-3zm0-1zm-3 2zm-5 0zm0 0zm0-1zm-1-12zm12-3zm2-3zm0-2zm2 3zm1 9zm1 4zm1 0zm2-2zm0-1zm0-3zm-1 0zm7 3zm2-1zm2 4zm5 3zm0 4zm1 4zm1 1zm1 0zm-4 2zm-8-4zm-3 0zm0-2zm-5 2zm-4 0zm-1 2zm-1-5zm1-8zm-3-1zm9 7zm0 12zm6 3zm23-6zm0 0zm4 2zm2-2zm0-3zm-1-1zm-4-6zm-17-14zm-7-4zm-7-9zm6-7zm49-8zm6-10zm12 5zm4 3zm0 5zm-3 4zm-3 0zm1 3zm4 4zm7 2zm0 0zm1 3zm9-8zm5-1zm4 1zm5 5zm7 8zm13-2zm2-2zm5 2zm3-7zm8-3zm0 6zm7 3zm4-10zm-2-9zm14-2zm-1-2zm6 5zm3 8zm-7 0zm2 6zm0 4zm-4 1zm4 4zm-1 6zm-5 0zm-7 0zm-1 2zm-6 3zm-4 4zm1 8zm-3 0zm-1 2zm-1 1zm1 3zm-8 0zm2 5zm1 3zm-7 9zm21 5zm-3 6zm8 4zm0 2zm2 7zm10-1zm0 4zm4 0zm-1 15zm-2-2zm-2 1zm-6-1zm-1-2zm-4-1zm4 7zm-8 7zm-2 8zm-3-1zm-3 1zm-2-3zm-6 0zm-1 2zm3 1zm0-6zm-4-1zm-2 4zm3 8zm4 1zm1 5zm1 8zm1 1zm4 0zm-8 1zm-11 5zm-2 6zm-10-16zm0-1zm0-3zm3-2zm-3-7zm-1-11zm-2-4zm-1-2zm-1 0zm-3-1zm0 3zm-1 1zm-3-2zm-1-1zm-5-1zm-2-2zm-1 6zm0 3zm-4 0zm1-4zm-5-1zm-1 2zm0 4zm1 2zm0 0zm0 3zm-2-1zm-9 1zm-1-6zm1-5zm-1-2zm-3-2zm-3-1zm0 0zm-1-1zm-2 5zm3 2zm-8-2zm1-2zm-2 6zm-3 5zm-1 6zm-3-10zm0-4zm-6 1zm-2 1zm0 7zm3-1zm-9-3zm-2 0zm0-3zm-2-1zm-6 3zm-1-7zm4-6zm-2-5zm-3-3zm-1-3zm-11 0zm1 3zm-5 3zm-1 7zm-2-2zm-1-1zm-2 2zm0 2zm1 0zm-3-1zm-2 5zm3 2zm10-8zm4 18zm0 3zm2 2zm7 0zm0-3zm1 0zm-3 0zm-2 7zm5 2zm0 10zm-4-4zm11-11zm1-1zm4-26zm4 0zm4 4zm5-2zm-3-10zm-3 0zm1-2zm-2-2zm-1-1zm-1-8zm-1-1zm3 0zm-8 11zm1 7zm45 1zm-4 14zm1 4zm-2 16zm0 0zm3 2zm2 1zm3-2zm-4 12zm-2 0zm6 4zm-1 5zm-2 0zm-3 6zm-2-1zm0 2zm-9-7zm-1-9zm-3 2zm-5 1zm-2 4zm0 4zm5 6zm-7 5zm-11-4zm2-3zm0-8zm3-3zm11-7zm5 0zm-1-3zm8 0zm-2-4zm22 10zm1 0zm2 1zm1-2zm15-1zm17-9zm-4-26zm-1-6zm-7-1zm0-4zm-1 1zm-3 0zm-2 7zm-4 1zm-4 0zm-1-14zm4 0zm1-1zm20 2zm0 2zm1 3zm4 4zm-14 9zm0 1zm-18 7zm-17 58zm-18-2zm23-150zm19 17zm8 0zm2 5zm1-1zm0 4zm1 0zm16-13zm19 2zm-2 8zm5 6zm0 7zm-2 1zm-1-1zm0-3zm3 7zm5-1zm3 1zm6 0zm-3-5zm1-7zm-2-2zm0-4zm-2-5zm-4 1zm1 7zm11 0zm0-12zm-5 0zm0-2zm-1 3zm-5-4zm-2 1zm23-8zm4 13zm-4 13zm0 5zm-16 13zm-1-1zm-1 6zm9-59zm-28-32zm-1 1zm-8-12zm-47 16zm-73-56zm0-11zm3-5zm-35 11zm-10-4zm-9 3zm0 6zm4 5zm-2 7zm-5 3zm-10-13zm-13 18zm3 25zm4 7zm-20-3zm66-40zm2-1zm-131 103zm-29-1zm-3-1zm17 27zm7 0zm7 14zm0 3z"/>
<path stroke="#90d643" d="M36 115zm2 5zm11-2zm0-6zm6 0zm1-2zm6-3zm0-1zm-11-6zm3 27zm2 7zm-5 4zm-1 3zm-3-4zm-4 1zm-3-6zm-4 3zm-3 2zm-1-8zm-3-3zm-2 8zm0 14zm4 0zm6 3zm4 8zm1 2zm4 0zm5-1zm8-1zm5 0zm4 4zm-1 6zm2 1zm0 2zm4-1zm0-4zm0-10zm1-4zm5 0zm-1 6zm1 1zm2 2zm1 0zm2 0zm-1-2zm4 1zm3 5zm3 1zm7 3zm5 4zm6-1zm1 4zm3 0zm-5 2zm-2 1zm1 4zm0 2zm4 0zm2 7zm5 0zm2-3zm1-1zm0-3zm6 0zm4 1zm-2 3zm0 4zm-2 0zm-2-4zm9-1zm3-1zm4 0zm0-4zm-3 0zm-3 1zm0-10zm4-2zm8 1zm1 0zm5 0zm-4 5zm-5 0zm1-2zm-1 5zm4 2zm10-2zm9 0zm1 0zm1 1zm1 1zm0 2zm-2 5zm1 2zm2 7zm5 1zm4 1zm-4 4zm1 1zm-2-2zm-2 0zm-4 1zm2 4zm-11 0zm2-2zm0-1zm-4 1zm-5 2zm-4 2zm-3-1zm0 4zm4 4zm4 0zm2 2zm-4 2zm0 3zm-4 2zm0-4zm-10-1zm-4 2zm0-5zm-3-2zm-1 1zm1-5zm6 0zm-1 2zm0-4zm4-3zm1-5zm4 0zm2-1zm-5-6zm-2-4zm-2 6zm-5 1zm-2-23zm-8 4zm-4-9zm-1-5zm-1-4zm5 0zm2 3zm6-1zm3-5zm5 0zm3 0zm1-6zm2-3zm4 0zm0-8zm1-5zm7-2zm3 14zm1 1zm1 0zm1 4zm11 1zm3-8zm1-9zm-2-1zm1-2zm5 6zm0 1zm9 0zm-2 9zm-3 10zm-3 1zm-4 0zm6 3zm4 1zm-4 6zm1 4zm1 1zm2 4zm2 7zm3 0zm0 1zm7-1zm0 13zm1 2zm3 3zm3 0zm-1 4zm1 2zm4 0zm-8 0zm0 1zm3 3zm-8 3zm0 3zm-7-1zm-1 7zm0 0zm-1 0zm-1-2zm-1 1zm-3-1zm0-1zm-3-5zm-2 0zm0-5zm3 1zm2-3zm8 1zm3-3zm-2 16zm-1 6zm-1 1zm-3-1zm-2 0zm-1 1zm-2 7zm-3 0zm-6 0zm-1 3zm-3 1zm-3 0zm-4 0zm-5-1zm0-3zm-5 0zm0-1zm1 3zm-4-1zm0 4zm1 0zm-3 0zm-2-3zm-1 0zm-4-5zm-1-2zm2 0zm1-2zm-3-3zm-3 3zm0 1zm-1 2zm-2 1zm5 1zm0 9zm-1 0zm-10-4zm-6 0zm-1-1zm-4 0zm0-7zm1-5zm-6 2zm-2 7zm-5-3zm-4-2zm0 4zm-3-2zm-9-2zm-10-3zm-6-1zm-6 1zm-2 6zm1 4zm3-1zm5 0zm-1 2zm3-4zm-1 10zm-2 5zm1 1zm-3-3zm-3-4zm-6 1zm-2-4zm-6 0zm2-8zm-1-4zm-2 1zm-5-11zm0-4zm-3 2zm0-10zm-6 1zm-5-6zm1-3zm2-12zm-5-3zm-1 0zm-6-2zm-4-4zm3-5zm2-3zm5-3zm2-3zm-2-8zm-3-4zm-7 8zm-1 1zm-2 7zm0 1zm-7-18zm33-11zm9 1zm2 0zm2-2zm-3 5zm8-1zm3 5zm4-14zm3 1zm1-6zm9 0zm7 0zm0 15zm2 0zm4 4zm1 4zm4-5zm0-3zm5-1zm5-2zm-3-7zm4-4zm14 0zm2-3zm4 13zm-2 3zm-2 2zm2 5zm7-5zm2-9zm2 1zm-3 21zm11 1zm-1-3zm10 2zm-1 2zm3 0zm6 5zm4-1zm0-2zm4 1zm-3 8zm7 3zm3-4zm11 0zm6 0zm4-5zm-2-5zm-2 0zm13 1zm0 0zm1 7zm1 4zm5-3zm0-11zm-7-6zm-3 0zm-2 16zm3 10zm0 13zm2 2zm0 7zm6-10zm10 4zm-3 3zm5 3zm0 6zm1 0zm7 2zm5-8zm6 3zm2-11zm1 1zm9 8zm10 7zm-4 8zm-2-1zm-5 8zm-4-2zm-7 2zm0 4zm1 0zm-5 0zm-2-3zm-7 3zm-4 4zm-2 0zm-3 2zm0 0zm-1-5zm-7-3zm1-1zm0-5zm1-2zm-3 0zm1-1zm-2 4zm-6 1zm1 3zm-1 2zm4 2zm0 5zm-1 2zm-3-1zm-5 3zm2 5zm0 5zm5 3zm4-2zm6-1zm3 2zm1 2zm-1 5zm-7 0zm2 6zm-3 3zm1 2zm-4-4zm-2 1zm1-3zm0-2zm-3-4zm-9-3zm-3-7zm-6-1zm-2 2zm-3 2zm0 4zm-1 0zm0 1zm-1 1zm-1 2zm-2-1zm0 2zm1-6zm0-1zm0-1zm-1-2zm0-2zm2-4zm7-4zm4-6zm2 2zm3-2zm-23 1zm-2 0zm0-3zm1-1zm1 2zm-5 1zm-1 0zm-2-1zm-2 1zm1-4zm4 1zm-1-5zm2-1zm2 0zm4 2zm-3-10zm-7-1zm-2-2zm-1-1zm-2 0zm-2 0zm3 8zm1 3zm-2 1zm-2 3zm-2-2zm-2 4zm-4-1zm-3 3zm0 2zm2 14zm-3 2zm10 0zm-1-4zm5 5zm5-3zm2 0zm-1-7zm0-1zm6 14zm2-1zm0 2zm2-1zm-5 4zm0 0zm4 7zm-1 1zm-8 1zm-1 0zm-3-3zm-8 3zm-4 0zm0-4zm2-3zm-7 1zm-3 0zm-4 0zm-5 0zm-4-1zm-3-4zm-8 7zm-3 3zm-5-4zm-5 0zm-3 0zm-2 0zm4 4zm3 8zm4 1zm4 3zm6-1zm4 1zm-1-5zm8 0zm2 4zm3 3zm6-5zm3-1zm-1-1zm2-1zm5 0zm0-1zm0 5zm-1 3zm11 0zm6 0zm1 1zm0 4zm3-9zm4 0zm7 0zm0 2zm4-2zm-1-1zm2-1zm-2-3zm-1-4zm5-2zm3 1zm-2 3zm3 6zm-1 9zm-1-1zm6-1zm6-5zm2 0zm-3-5zm1-2zm8 11zm0 0zm2 4zm1 2zm5-4zm1-3zm4-1zm5 0zm3-2zm-4-3zm-3 0zm-2-6zm3-4zm4 0zm1-7zm-5-5zm-1-3zm3 1zm-7-5zm-2-2zm-4 2zm2-20zm26-2zm-1-3zm3 15zm8 4zm5 8zm4-1zm1 3zm2 2zm2 7zm2 2zm-4 2zm-1 3zm-5-1zm0-1zm-5 0zm-1 0zm-1-4zm3 0zm1-4zm-1-2zm-8 5zm1 2zm0 7zm0 0zm-1-1zm-1 5zm-2 1zm1 2zm-1 1zm4-1zm7 1zm-2 8zm-3 2zm12-1zm1-4zm6-6zm2-2zm3 1zm-1-8zm7-4zm3-5zm6 0zm3-3zm1-6zm-7 3zm-10 0zm-5-9zm-2-2zm0-2zm-3 0zm10-1zm11-10zm22-4zm2 10zm5 11zm4 8zm2-1zm4 2zm-6 2zm-6 0zm-5 3zm-9 0zm1 5zm5 3zm7-2zm-10-17zm28 1zm3-1zm-5-4zm0-2zm8-1zm-1-2zm2-1zm-5-7zm0-1zm-4 3zm-1-8zm-4 2zm10-4zm-12-8zm1-3zm-4 4zm-4-9zm10-5zm5 1zm1-2zm-1-6zm-2-3zm-4 2zm-3 2zm-3-3zm5-7zm-1-6zm4-5zm4 2zm1 4zm2-1zm8 2zm1 4zm0 0zm0 1zm-3 2zm3 4zm0 5zm1 5zm-4 4zm-5-15zm13-4zm-2-21zm-4 2zm-8 0zm-5-5zm1-3zm0-1zm0-1zm-4-1zm-1-1zm-1-1zm-2 0zm0-4zm2 1zm2-1zm2 1zm-5-4zm-7 0zm-2 1zm0 2zm2 3zm3-1zm2 7zm0 2zm1 0zm1-1zm0-2zm-2 5zm-1 1zm1 3zm3 0zm-9-4zm-4-3zm1-2zm1-2zm-4-3zm-4-3zm-2-5zm-1 0zm1-2zm8 2zm5-3zm-1-4zm3 0zm2 0zm0 1zm2-1zm1-7zm1 0zm3 1zm3-1zm0-3zm8 1zm1-1zm2 1zm-2 2zm0 3zm-2 2zm5 0zm0 1zm-2 3zm0 3zm0 2zm-4 0zm-4-1zm-1-1zm0-6zm4-5zm-2-12zm0-1zm-2 0zm-4 2zm-2-4zm-2-3zm-5-3zm0-3zm3 0zm1-4zm3 0zm2-1zm0-1zm3 3zm6 1zm-1-4zm5 0zm3 1zm5 3zm-1 7zm-4-1zm-1 0zm0 2zm0 2zm1 1zm0 4zm-4 1zm1-13zm-9 3zm-2-15zm2-6zm-1-3zm2-4zm3 6zm-10 1zm-6 0zm-1-1zm-7-1zm0-2zm-3 2zm-4 2zm-2-3zm-2 0zm-1 2zm1 12zm0 1zm-3 2zm-2 0zm-1-4zm-5-6zm-3-10zm2-2zm-15 0zm0 2zm2 1zm-1 2zm0 1zm3 3zm0 0zm-3 3zm-7 1zm0 1zm0 7zm2-2zm3 0zm7 1zm8 6zm-1 3zm3 1zm7 3zm1-6zm2 0zm4-3zm3-1zm2 4zm-3 2zm0 1zm-6 8zm0 2zm2 2zm0 2zm4 1zm3 3zm3 3zm3-1zm2-3zm1-2zm-3 0zm-2 0zm0-1zm3-2zm0-3zm1 1zm-3-2zm-2 0zm-1-17zm0-1zm-1-4zm6-3zm1 6zm-6-26zm-3-1zm-2 1zm0-2zm-6 1zm-1 2zm2 1zm1-7zm-8 0zm-1 0zm1-3zm-11-7zm-9 3zm-1 11zm2 2zm1 1zm-5 4zm-4 3zm0 3zm-5 0zm-1-4zm-2 1zm-2 0zm0 0zm0-1zm-1-1zm-2-6zm-8-1zm2-9zm-15 1zm3 12zm-15-1zm0-1zm-19-21zm1-8zm-19-1zm-1-16zm-2-2zm-6 5zm-10-2zm-1-2zm-2 7zm-2 1zm4 5zm-14-3zm-1 9zm-17 0zm-1-6zm5 1zm-1-9zm-13 5zm-2 10zm-2 7zm10-3zm5 6zm-11 10zm-1 14zm1 7zm-5-1zm-2 12zm-2 9zm14-15zm1 0zm0-1zm13-3zm1-11zm25 7zm-4 6zm-3 9zm4 2zm1 8zm24 3zm-26 27zm-2 43zm1 1zm-2 10zm-4 0zm-5-5zm29-1zm7 1zm-1 3zm-2 1zm-16 24zm-4-1zm-34 9zm-1 2zm-9-6zm-3-1zm-1-1zm-3-2zm-1 3zm-2-7zm-3 1zm-2 1zm-1-2zm2-2zm-3-3zm-4 1zm1 6zm0 8zm1 3zm-6-5zm-14-6zm-2-2zm-1-2zm0-6zm-2 1zm-2-7zm-1-7zm0-4zm-1-3zm0-4zm0-3zm-4-1zm-2 5zm-2 5zm-5-6zm-1-4zm-2 6zm-1 0zm0 1zm-3-5zm1-11zm-2-6zm6-1zm4 10zm11 2zm2-5zm5 1zm1 0zm-1-2zm2-3zm-3-3zm-1 16zm0 4zm0 5zm0 3zm2 6zm6 0zm-3 5zm5 2zm3 0zm8 0zm4 0zm4-2zm2 0zm-7-4zm1-2zm-5 4zm-2-1zm0-14zm1-1zm1 1zm-4 1zm-4-2zm-8 2zm2-6zm18 1zm3-15zm3-1zm4 1zm2 0zm-3-10zm-4 0zm2-3zm5 0zm1-4zm-15-10zm-2-14zm-14 18zm0 6zm-1 0zm-40 18zm2 3zm0 3zm-11 9zm14 13zm-1 1zm3 3zm1 3zm1 4zm2-7zm3 0zm-5-4zm14 5zm-1 2zm3 2zm4 13zm2-1zm-6 6zm-3-1zm-7 0zm1 1zm1-8zm2 1zm-22 11zm-4-1zm-2 7zm2 7zm8 7zm-1 3zm20 14zm10 4zm9 0zm2 1zm1 3zm4-2zm1-3zm-1 8zm11 0zm2 2zm13 7zm14 3zm15 2zm23 3zm42-2zm24-7zm13-28zm-2-12zm21 16zm25 7zm4 3zm2 3zm-5 2zm-4-3zm-100-16zm-65-8zm-19-2zm-9 2zm-4 0zm1 3zm-1 6zm4 3zm-12-1zm-4-2zm1-3zm29 3zm9-45zm-92-1zm1 4zm2 2zm-4-10zm70-112zm7 0zm0-1zm4-24zm67-13zm-2-31zm-2-8zm6 1zm4 0zm10 4zm10 4zm13 3zm-53 3zm-3-6zm105 45zm-11 24zm4 10zm20 3zm3 6zm1 7zm2 0zm5 10zm7 1zm2-1zm-1 6zm7-3zm1-6zm-1-4zm-10 3zm3 22zm47 2zm0 1zm-1 4zm0 1zm5-2zm4-5zm3-55zm-22-16zm-13 101zm-95 4z"/>
<path stroke="#d2e11b" d="M123 34zm0 5zm-3 2zm-3 3zm5 5zm-7 5zm17 1zm5 3zm7 2zm0 0zm0-5zm7-5zm4 0zm6 0zm3 1zm3-2zm2-3zm11-3zm-2-7zm-2-3zm6 0zm2 2zm6-3zm6 2zm2-7zm8-2zm5-5zm5 9zm-1 8zm-3 5zm-5 3zm-6-7zm-3 22zm22-9zm1-5zm4 2zm8 2zm5-3zm-8-8zm33 27zm6 2zm-1 3zm7 4zm1-8zm0-2zm10 3zm3 0zm14-2zm0 10zm3 0zm1 4zm-3 6zm-2 6zm11 1zm1 2zm-2 1zm5-3zm6-1zm2 7zm-3 7zm-6 6zm0 6zm1 5zm9 5zm5 3zm4-4zm4-4zm4 1zm0 2zm1 4zm0-22zm-2-4zm-3-1zm8-1zm3-9zm-7 1zm2-6zm-9 1zm0-5zm-5-1zm-7-6zm-3 1zm13 17zm1 21zm-1 26zm-4 0zm-6-3zm-15 2zm-2-12zm-5-10zm5-5zm3-5zm-20-3zm-10 2zm0-8zm-2-5zm-7-3zm3-6zm13-3zm-27-1zm-2-7zm-9 17zm43 27zm20 37zm3 7zm12-8zm3-1zm1 4zm4 6zm1 4zm-3 3zm4 4zm7 6zm0-16zm-6-12zm-1-8zm-15 108zm-19 17zm-16-7zm-12 15zm-1 2zm-1 2zm-7-5zm-7 8zm-17 0zm-7-2zm-2-4zm-1-1zm1-9zm0-4zm-2 1zm-6 8zm-4 7zm0 1zm-3 0zm2 6zm5 0zm-13-1zm0 4zm-8 0zm-1-6zm-1-3zm-1-2zm-4 1zm0 3zm0 0zm1-6zm2-5zm-4-3zm0-2zm-8-4zm0-7zm3-1zm2 0zm-11 2zm-2-1zm1 3zm0 7zm0 1zm0 6zm-2 1zm-5-2zm-4 0zm0 2zm0-6zm-4 0zm-3-5zm-3-6zm-1 0zm2-9zm-5 1zm-5 4zm-4-2zm-5 8zm3 4zm7 2zm2 1zm1 0zm2 11zm-5 1zm-4-4zm-12 1zm1 2zm2 2zm1 2zm2 3zm6 3zm6-2zm2 5zm3-2zm6-1zm2 1zm4-3zm-2-4zm15 2zm3 0zm-4 4zm12 4zm-3-16zm-4 0zm17 2zm3-15zm4 4zm4-4zm-1-2zm4-1zm-16-12zm2-9zm1-2zm8 0zm-23 1zm-6 7zm-8 2zm2 3zm-3 1zm0 1zm-4 2zm-2 2zm12-2zm-5 12zm1-37zm-3-1zm-5 4zm-8-1zm-2 0zm-1 5zm-10-1zm-1-2zm-1-9zm2-3zm0-3zm-1-1zm4 2zm11 0zm5 3zm4-4zm1-15zm6 1zm1 1zm-19 2zm-4-1zm-6 2zm-4-6zm-5 0zm-6-1zm-3-5zm-2 0zm0 1zm-1 8zm-3 0zm-2-3zm-4 7zm-6 3zm-1 2zm-5 0zm2-3zm3-6zm-2-6zm-3-1zm-1 0zm0 1zm-2 6zm-1-1zm-8-4zm1-2zm0-1zm-3-1zm1-12zm0-2zm-10 0zm1 3zm0 2zm-6-2zm1-5zm3-4zm-4-10zm-14 1zm-1-2zm0 8zm-1 15zm-3 1zm4 5zm-6 2zm0 1zm0 1zm3 3zm-3 4zm0 3zm0 3zm-1 2zm-5 4zm-3-2zm-1-5zm2-1zm-3-5zm-10-1zm0-5zm1-2zm-9 0zm-2-3zm-2 5zm-2 4zm6 3zm-2 2zm5 1zm2 0zm1 0zm0 8zm6 2zm0 4zm0 2zm-1 1zm-3 0zm0-2zm1 4zm-3 0zm-3-1zm5 6zm7-2zm2-5zm1-5zm9 2zm4 0zm-1 3zm1 2zm2-1zm6 1zm3-2zm4 3zm1 6zm-4-1zm-2 2zm3 4zm6-1zm8 0zm0 1zm4-1zm0-3zm-1-4zm-6 0zm-1 1zm2 2zm-2-6zm1-1zm1-1zm4-6zm-1-1zm5-3zm1-1zm1 0zm1-4zm3 9zm3-3zm6 3zm2 5zm2 3zm3 10zm2-2zm6 0zm1 1zm4 0zm0-1zm-1-7zm-3 3zm-5 9zm0 2zm-3-1zm-6 0zm0-3zm-10-1zm-5 0zm2-6zm7 1zm-4-7zm0 0zm-5-1zm-17-3zm-2-3zm0-1zm1 0zm0-3zm1-1zm-6-6zm-1-5zm-3 3zm-2 3zm-2-1zm0 2zm-1 8zm4 1zm0 1zm-2 13zm-1 0zm-5-2zm-5 2zm-2 0zm2-8zm-5 20zm-6-1zm8 9zm0 1zm5 1zm2 2zm5 2zm2-1zm0-4zm1-5zm1 0zm0-2zm0-2zm-4-1zm-1 1zm-7 4zm0 3zm19-4zm1 9zm-2 1zm-1 2zm5 0zm3-2zm4 0zm0 3zm2 0zm2-3zm-1-4zm-3-2zm8-4zm4-1zm3 0zm0-1zm3 2zm0 2zm4-1zm0-3zm3 6zm0 6zm-1 0zm8 0zm1-1zm4-2zm2 2zm1 4zm4 1zm3 1zm0 3zm-2-7zm0-5zm-5-2zm-2 0zm-6-4zm17-3zm0-2zm-3-1zm8-12zm1-9zm-3-1zm-4 1zm8-12zm-2-20zm5-2zm1-15zm8-2zm5 5zm9 8zm2-18zm7-1zm-3-5zm-38 0zm-1 11zm2 4zm-4 7zm-12-2zm1 7zm-2 0zm-7-1zm1-1zm-7-3zm-4-10zm-2 0zm-1-9zm17 4zm0 30zm1 0zm-4 0zm-1-2zm-31 3zm-3-1zm-1-6zm-5 2zm-19-2zm-4 0zm-3-4zm8 0zm0-3zm-10-4zm-5 0zm-3 1zm0 1zm3 2zm1-10zm-6 3zm-7-1zm-1 2zm-3 3zm0 6zm-2-2zm-4-5zm1-7zm3 1zm2 0zm-1-1zm3-10zm5-1zm3 4zm-1-16zm4-4zm-3-6zm-10 9zm-13 21zm2 17zm6 10zm0 0zm-2 7zm4 7zm33-13zm32 4zm1 2zm-1 61zm-4 8zm10 1zm7-4zm2 1zm2-1zm0-6zm-2-1zm-3-1zm7 17zm3 6zm6-10zm0-3zm2 0zm2 4zm10 1zm4-1zm-9 8zm1-18zm0 0zm13 26zm18-97zm34 31zm-38-136zm-8-45zm-3-3zm-4 0zm0 3zm-5-4zm4-14zm7 0zm0-1zm0-2zm9-3zm11-2zm2 6zm0 2zm4 0zm2 2zm0-7zm3 0zm1 0zm3 5zm6-1zm1-10zm-19 18zm-1-1zm-2-1zm-1 3zm-5-4zm-114 96z"/>
<path stroke="#d2e11b" d="M126 33zm9-2zm3 3zm3 12zm1 2zm-5 7zm-4 1zm3 9zm-8-17zm-6 6zm36 4zm0-15zm9-7zm4-1zm1-4zm3-1zm-2-3zm0-5zm-4-6zm-2-1zm21-1zm4 1zm2 7zm2 3zm2-6zm13 4zm1 7zm5-1zm-13 3zm-2 5zm0 1zm-5 1zm1 4zm-8-4zm2-4zm-10-2zm0 20zm31 1zm3-3zm-6-5zm14-6zm4 0zm24 7zm2 18zm-4 7zm1 14zm21-1zm0 3zm1 3zm-5 11zm8 13zm13-17zm-2-10zm10 2zm3 1zm13 2zm-1 8zm0 4zm1 6zm4-4zm4 6zm1 3zm5-4zm6 1zm1-5zm3 0zm4 2zm5 8zm2 3zm-12-3zm-3 2zm1 21zm5-1zm-1 5zm3-1zm5 0zm-2 11zm2 2zm-21-5zm0 0zm-2-3zm-5 5zm-2 8zm20 27zm-35-63zm2-48zm1 1zm6 0zm6 0zm4 3zm6 4zm4 1zm-2-8zm-15-5zm-6-4zm-3 0zm-4 5zm-10-11zm-16 8zm-8 6zm1 2zm80 13zm-189 1zm-6-69zm2 147zm3 4zm8 4zm1 4zm-12 2zm-4-2zm-3-6zm-10-8zm2-7zm-10-8zm-8 5zm-2 0zm-12-1zm-7-5zm-1 12zm6 5zm5 1zm-4 10zm-5 1zm1 3zm6 1zm-4 5zm4 4zm3 4zm3 0zm2-3zm-3 10zm4 3zm5 1zm-1 6zm-1 0zm3 4zm4 0zm2 3zm-3 4zm-5-3zm-4 2zm1 6zm-2 5zm0 3zm2 1zm4-2zm1 5zm2 5zm-3 2zm-6-1zm-1 4zm6 5zm-2 3zm6 2zm2-5zm3-1zm1 1zm2 0zm12-3zm1-4zm2-3zm-2-8zm-6 5zm1-19zm-8 4zm0 0zm-3 0zm1 1zm-20-1zm-3-1zm0-6zm2 1zm-7 0zm0-1zm3-3zm0-4zm-1 0zm-3-2zm4-4zm-6-3zm-9-3zm-3 0zm1 5zm2 4zm0 3zm5 4zm0 0zm2 6zm5 5zm-12 0zm-1-1zm-4 9zm-2-1zm-4 7zm-4 3zm-8-2zm0-2zm1 1zm-2-7zm2-3zm-4-2zm1-5zm-4-1zm-1-4zm4 0zm-2-5zm-5 2zm-1-5zm0-2zm-3 2zm-1 1zm-1 2zm2 6zm-4 5zm2 4zm-6 0zm-2-6zm-5 2zm-2 1zm-3-2zm-3-4zm0-13zm2-6zm11 0zm2-1zm-4 10zm-3 4zm-15-2zm-4-20zm11-1zm5-1zm1-12zm0-5zm-2 0zm4-1zm-1-7zm0-3zm2-10zm-3-7zm5-4zm7 17zm-3 11zm7 1zm1-1zm-4 6zm-3 2zm0 1zm-5 4zm8 3zm7-5zm1-2zm4 5zm2 3zm-5 2zm0 4zm-2 2zm4 9zm8 3zm2 6zm3 1zm0 4zm2 3zm2 7zm-1 1zm-18 1zm-2-1zm-17 5zm25 15zm7 12zm1 3zm8 4zm4-3zm10 3zm7 0zm1-3zm10 1zm-1 2zm7-1zm-2 6zm-6 3zm-5 0zm21-2zm5 2zm1-5zm18-1zm-1-7zm0-5zm8 0zm3-1zm7-1zm1 4zm-3 3zm6 2zm3 8zm6 1zm7 2zm5-2zm0-2zm2-5zm-3-2zm-1-8zm-6-1zm-1 1zm-5-1zm-3 2zm2-14zm-10 1zm-2-12zm-3 2zm-1 0zm-1 2zm-1 0zm4-8zm11 6zm9 14zm8-2zm6 8zm4 3zm3-1zm6 0zm3-6zm0 19zm-2-1zm-5-3zm-5-2zm9 14zm4-2zm11 2zm1-4zm0 0zm-4-4zm1-9zm13-11zm18 4zm3 5zm-2 7zm7 1zm13 2zm9-13zm13 12zm-41 14zm-13-12zm-34 14zm-20 0zm-5-1zm-8-3zm-6 8zm-6-13zm0-4zm-9 9zm-7-1zm-2 2zm-2-1zm-48-24zm-2-7zm-3 1zm-3-2zm7-12zm15 0zm0 6zm-6 1zm9-29zm-12-20zm-7 1zm1-4zm-3-6zm-7 0zm-2-1zm-4 2zm-6-3zm2 9zm-4 0zm1 8zm4 6zm5 3zm0-16zm-4-19zm3-5zm-7-2zm0-2zm4-4zm0-7zm-15-2zm-38 2zm1 3zm-5 8zm-1 4zm5 11zm0 2zm104-3zm0 11zm3 7zm1 0zm6 0zm3 6zm0 1zm7-2zm1 0zm-3 7zm12-3zm19 3zm4-2zm4-14zm13-10zm-50 8z"/>
<path stroke="#90d643" d="M34 114zm-1 10zm-5-3zm-3 10zm-8 9zm4 15zm-1 2zm3 0zm4-7zm3 2zm6 1zm0-3zm5 0zm1 2zm1 3zm2 6zm0 5zm-6-2zm-4-1zm-1-7zm-2 12zm1 6zm-6 0zm1 3zm12 3zm1 7zm-3 5zm1 8zm-2 1zm5 0zm-15-1zm0 8zm1 5zm-1 5zm10-3zm-1 8zm1 1zm18 0zm7 1zm-2-10zm0-6zm-3-6zm9-2zm-2-7zm10-2zm5 5zm2 5zm4-3zm-2-6zm-2-10zm-1-1zm6-5zm4 2zm0-6zm-1-2zm-2-1zm-2 2zm-3-5zm0-3zm-5 3zm0-11zm1 0zm-1-7zm-7 3zm-5 1zm-1-4zm-4 2zm-3-9zm0-6zm-1-1zm-2 3zm-2-4zm2-12zm4-2zm-2-13zm-7-2zm-7 22zm19 12zm7 3zm9-5zm1-5zm10 0zm-6-10zm15-18zm1-5zm15 1zm-1-9zm9-1zm8 4zm7 0zm4-1zm2-1zm5-1zm1 2zm-11-5zm-6-10zm-21-6zm3-4zm10-12zm-2-10zm-2-3zm4-2zm11-4zm2-2zm0-4zm6 0zm12 0zm0 4zm0 2zm-1 4zm6-6zm1-2zm10 0zm-1 6zm-3 1zm-19 7zm-3-1zm-4-4zm9-19zm28-2zm9-6zm7 0zm11 3zm6 3zm4-3zm-12 8zm-2 0zm-2 2zm1 8zm-8 12zm31 0zm11-6zm-1 35zm-13 3zm35-1zm0 6zm5-2zm3 1zm1-4zm5-2zm2 2zm3 8zm2-1zm7 4zm-3 3zm1 2zm-1 5zm1 5zm10-1zm-3-5zm0 14zm2 3zm8 0zm3 1zm6 1zm5-1zm0 0zm2 5zm4 0zm3-1zm0 4zm0 5zm-3-2zm10 0zm0 8zm2-1zm2-3zm10 1zm1 2zm5 1zm2-5zm-5-1zm-1-3zm-1-5zm-4-2zm0 0zm-3-1zm1-2zm0-5zm-1-3zm-3-1zm0 2zm-2 1zm-4-3zm2-5zm4-1zm1-3zm-3-5zm2-4zm-4-3zm11 3zm4 3zm1 0zm1-2zm0 6zm3 0zm2-2zm3 2zm-3 7zm-5 3zm1 4zm0 1zm2 2zm1 5zm1 5zm6 4zm-2 11zm-6 5zm-3 1zm-3 5zm-4-4zm-2-6zm1-2zm0-1zm-9 5zm-3 1zm-9 0zm-1 4zm4 2zm11 0zm2 5zm1 0zm2 8zm5 1zm4-2zm3 1zm5 1zm-1-5zm-8 10zm-6-1zm0 6zm2 4zm0 2zm0 3zm4-2zm-1-3zm4 1zm4 5zm-2 11zm0 7zm-3 7zm-3-1zm0 3zm3 3zm-1 2zm-6 2zm-6 1zm4 8zm7 7zm-2 3zm7-5zm0-8zm-8-18zm-3-10zm-8 5zm1 1zm-6-10zm2-7zm1-4zm3 2zm-1-5zm3-2zm-2-2zm-5-2zm0-8zm-1 0zm-4-2zm-4-2zm0 5zm0 5zm7 13zm-17-30zm-3-3zm-2-39zm0-4zm1-1zm5 0zm1-5zm2-5zm-6-4zm1-1zm-5-4zm-2 0zm-1-7zm6-3zm2-4zm1-6zm7-1zm5 5zm1 9zm4-4zm-16 6zm-8 12zm-1 15zm0 0zm10 4zm5-6zm2-2zm3-6zm4 1zm-2 10zm-1 6zm3 3zm1 0zm12 7zm-60-9zm-5-14zm-10 7zm-2-17zm1-19zm0-3zm4-1zm-7 3zm24 2zm6 2zm4-2zm3-4zm-5-9zm-10 3zm8 22zm-3 115zm10 3zm-4 32zm2 12zm1 1zm2 9zm2 3zm2 4zm0 1zm5 1zm0-8zm10 2zm1 9zm-16 5zm-14-5zm-1-10zm3-4zm-9-1zm-2 5zm-7 3zm0 2zm-3-6zm-2-4zm-1 0zm2-4zm0-6zm-8 0zm-2 8zm-4-1zm-2 2zm-3-3zm-1 7zm-2 0zm0 6zm-4 1zm3 5zm-4 3zm-2 4zm5 0zm-9-3zm-13-4zm-2 1zm-2 3zm-2-1zm-1 4zm3 1zm4 1zm3 3zm0 1zm-2 2zm-4-1zm-1-1zm-5-1zm-10-3zm-3-5zm-3-1zm-1 1zm-8 2zm-4 2zm1 6zm-5 3zm-6 3zm-5 3zm3-12zm0-7zm-2-5zm5 0zm5-2zm1-3zm0-1zm0 10zm-3 2zm13-6zm10-2zm6 1zm1 1zm3-2zm0-4zm-5 0zm2-11zm4-1zm0-2zm0-4zm6 3zm1-6zm7-2zm1 3zm1 1zm-3 3zm-2-11zm0 0zm1-2zm-8-4zm-4-1zm1 7zm-4 2zm-6 0zm-1 8zm-5 4zm-3 0zm-1 0zm-2-7zm-9-3zm-3-6zm2-5zm3 3zm1-8zm3 0zm4 2zm9-2zm-2-6zm-2 1zm-2-3zm-2-1zm2-4zm9 0zm0-2zm6 3zm4 3zm1 2zm-7 1zm11-10zm1 0zm3 1zm9-3zm0-4zm0-2zm-3-3zm-10-3zm-4 8zm-15 1zm-3-2zm-2-4zm-4 1zm-3 3zm1-9zm1-6zm-8 3zm-7-3zm-4-3zm-1 1zm0-4zm2 1zm-6-2zm-5 1zm1 5zm-6 1zm-1 0zm-4 2zm-1 0zm-5-3zm-5-2zm-5-6zm-1-1zm-1 0zm1-7zm2 0zm7-2zm-1-4zm-5-4zm-11-2zm-6-5zm-4 3zm-1-6zm-1-9zm-12 0zm3 8zm2 6zm-2 13zm2 5zm3 3zm-2 4zm6 1zm0-9zm7 4zm1 0zm2-2zm3 14zm3 0zm0 4zm-1 7zm-10 0zm0 6zm-1 4zm-1 4zm3 2zm-8 4zm0 9zm4 1zm1 0zm5 3zm0 7zm7 1zm2 2zm4 4zm0 0zm6 3zm1 4zm1 3zm3 6zm2 2zm-1 2zm-1 4zm4 0zm5 0zm2-1zm3-1zm-3-5zm0-2zm0-3zm-3-4zm2-3zm-1-2zm-7 2zm-2-8zm-3-2zm0-1zm0-1zm1-2zm2-12zm-1-2zm3 1zm2 3zm3-6zm0-1zm9 0zm1 0zm0 4zm2 2zm4 1zm6 0zm-1 4zm-1 6zm0 3zm0 3zm1 1zm1 1zm-4 1zm-5 3zm-2 8zm0 6zm7 0zm2-6zm5-3zm-2-3zm5-1zm8 8zm26 0zm9 3zm4-1zm1 0zm4-2zm0-2zm1-2zm5 2zm13 6zm3-2zm5 5zm-3 6zm0 4zm5 2zm7 9zm9-7zm4-29zm-8-20zm-5 2zm-2 4zm-6-4zm-10-1zm4-6zm-5-9zm-11 5zm-7-5zm2 16zm4 1zm-1 4zm6-31zm7-10zm-26-9zm-3-7zm-9-4zm-7 0zm-6-1zm2-5zm-1-2zm-1-3zm-9-1zm-1-3zm-5-2zm-1-4zm2-1zm-5-4zm0 0zm0-6zm0-1zm3 2zm4-12zm-5-3zm-13-11zm7-9zm0-8zm1-9zm-10-3zm0 7zm-12 10zm-8-3zm-10 10zm0 22zm6 4zm-2 3zm-1 3zm0 1zm5 0zm0 5zm5 7zm4-2zm2 5zm1 2zm0 4zm-1 2zm-6-1zm-4 5zm-1 3zm4 1zm2 3zm5-3zm5-11zm-1-7zm6-3zm3 2zm0 1zm2 2zm2 1zm5-2zm2 8zm-7 3zm-6-2zm1-1zm-6-16zm-1-9zm-3-4zm8 0zm-8-9zm0 0zm-5-4zm-4 3zm-23 14zm-35 8zm3 6zm3 3zm-3 7zm-1 17zm5 17zm-3 4zm10 6zm6-3zm-2-10zm4-4zm-1-3zm4-4zm5 5zm13 16zm5-2zm0-3zm5 7zm2 1zm17-1zm1 0zm5 1zm6 2zm0 4zm6-2zm2 0zm1 4zm0 1zm0-9zm-4 1zm-5-7zm0-2zm4-4zm-11 0zm-7-1zm0-1zm-3-5zm12-1zm2 3zm-8 10zm-3 13zm-2 14zm-1 4zm-1 6zm-19-14zm-12 20zm2 6zm-7-1zm-3 7zm-4-2zm-5-1zm-3-9zm5-1zm-11-3zm-2-1zm-3 2zm0 5zm4 1zm2 1zm-7 8zm-15-4zm-7 8zm7 8zm7-25zm2-2zm8-8zm-2-14zm-5 1zm0 3zm-1 0zm-1-5zm0-6zm14 2zm0 5zm2-1zm4 3zm-26 3zm-3 11zm-24 3zm-3-8zm5-3zm-19-21zm-10-21zm-8-2zm0-4zm-2-15zm-3-5zm35 13zm7 3zm4-2zm5 2zm2-7zm1-6zm-1-6zm-8-1zm0 7zm-4 6zm4 13zm1 0zm1-1zm17 23zm37 58zm5 1zm3-3zm6 5zm7 4zm4-3zm-3-5zm-2-5zm1 27zm11-9zm0 0zm14 9zm-5 6zm34-1zm9-5zm19-18zm32 17zm58-45zm5-7zm9-2zm7-1zm2 13zm0 9zm-98-78zm-11-9zm-8 4zm-6-1zm1 19zm-9 6zm-21-10zm16-31zm17-10zm-85-41zm32-42zm-44 220zm-3 6z"/>
<path stroke="#55c666" d="M43 103zm13-3zm2 9zm10-8zm6 4zm6 7zm-2 5zm-4 2zm-3 6zm9 8zm-2 6zm-2 6zm-7 1zm-3-4zm-10 1zm3-8zm-7-1zm-2-2zm-1 3zm-2 3zm-2-1zm0-6zm-2 1zm2-6zm2 0zm-1-1zm1-5zm5 8zm-11 12zm-1 0zm-1 4zm1 1zm3-1zm-11-4zm-4 1zm1 4zm-4 6zm-4-3zm1 8zm12 0zm15 3zm1 19zm8-2zm6-2zm3 0zm9-13zm-4-6zm14-3zm10 0zm0-5zm-1-9zm-3 2zm6-7zm1-11zm-3 0zm-4 3zm-3 2zm-1 0zm-2-6zm3-7zm-4-6zm0-7zm22-4zm1 14zm0 5zm0 6zm-1 2zm4-5zm9 3zm4 3zm-2 5zm4 1zm4 3zm-3 3zm-1 2zm7 3zm1 8zm-1 1zm-6-2zm-5 0zm0 3zm-1 3zm14 4zm1 7zm-2 14zm0 3zm-4-2zm-5-4zm2 16zm-11 15zm6 21zm14-4zm7 0zm3 9zm-10 0zm1 10zm5 14zm-4 5zm-13-3zm2-7zm29 1zm0-13zm-2 0zm0-19zm4-1zm2-12zm9-6zm-4-6zm14-1zm3 9zm0 4zm4 0zm-1-6zm4-5zm3 0zm3 2zm6 1zm0-4zm5-3zm-4-5zm5-3zm2 0zm1 1zm2-1zm-3-10zm10-2zm6 1zm3-6zm6-1zm2 0zm-3 3zm3 6zm2 3zm-6-1zm-2 0zm0 0zm-2 8zm4 2zm1 9zm-1 1zm0 1zm3-1zm3-1zm4 3zm-6 3zm-3 4zm1 5zm0 3zm1 3zm2 0zm3-2zm3-5zm5-2zm2-2zm3 4zm2 2zm-1 5zm-3 3zm-2 1zm-3 6zm1 2zm-2 1zm0 6zm-4 1zm6 7zm-2 6zm6-1zm-1 3zm-13-1zm-10 0zm-1-5zm0 0zm-3 2zm-1 0zm2 8zm-3 9zm-14 4zm2 3zm-6 3zm-4-13zm0-4zm-1-9zm0-12zm7-2zm-3-6zm-2-1zm-4 2zm1-11zm7-2zm3-2zm1-2zm-3-4zm-7-1zm-5 4zm0-8zm13-2zm10-6zm2 0zm1-5zm9 5zm-6 7zm2 5zm-4 0zm4 10zm4 4zm0 6zm4-2zm-17 1zm-1-2zm-4-5zm7 14zm-32-2zm-10-1zm-3-3zm7-7zm4-2zm-1-3zm-5-4zm-31-1zm0-12zm1-25zm10 1zm0 1zm11 1zm8 3zm-4 5zm10 0zm2 0zm0-3zm-2-7zm1-3zm3 2zm2-1zm11-1zm0-13zm-7 0zm-7-1zm0-1zm0 4zm-5 1zm-4 1zm-5 1zm2 5zm5-1zm1-26zm1 0zm1-1zm6 1zm3-1zm3-4zm5 1zm5 0zm-5 6zm6 6zm2 1zm0 2zm3 7zm3-1zm2 5zm1 0zm5-11zm-1-1zm-18-25zm1-6zm-7 8zm0 0zm-11-5zm-7-6zm-7 5zm1 3zm-7 0zm1 2zm-2-4zm0-1zm-3-3zm0-2zm-7 0zm-4 2zm5 3zm1 0zm-8 4zm-3-1zm3 6zm0 2zm4-2zm5 9zm3 5zm-3 7zm-1 0zm-2-2zm14-8zm6-2zm13-4zm2-31zm1 1zm-5-12zm0-1zm-2-4zm-5 10zm-1 0zm-2 5zm-1 0zm-2 3zm-2-9zm-8 4zm-13-7zm-5-4zm-7 1zm0-5zm-2 14zm2 3zm1 7zm2-1zm0 4zm-4 4zm-2 1zm3 2zm-10-18zm-5-2zm0-10zm-4 18zm0 24zm0 1zm-4 5zm0 1zm-3-3zm-3 10zm1 17zm-1 5zm-13-5zm0-5zm0 23zm-7 20zm1 1zm-1 4zm13 9zm34-1zm50 31zm-6 12zm8 9zm1 10zm-13-1zm15 13zm41-10zm24 5zm4-23zm7-4zm5 4zm0-12zm-1 0zm0-2zm-1-2zm3-1zm-2-10zm-10 1zm0 3zm3 2zm-7-7zm-1-5zm6-4zm4-6zm1 0zm6 5zm7-2zm2-1zm6 1zm4 0zm-2-5zm-4-2zm3-3zm5-3zm2-5zm-1-2zm7-5zm8-9zm5-3zm1 5zm2 1zm6 0zm1 6zm1 3zm-5-1zm-3 3zm-6 4zm2 12zm-3 2zm-2 5zm-3 0zm-5 3zm1 5zm-4 4zm-5-7zm0-1zm-4 2zm-1 4zm0 5zm-4-4zm-5-4zm-2-18zm4-5zm0 0zm4-3zm-10 0zm2-3zm-4-8zm-1 0zm-7 2zm0 4zm-3 0zm1 3zm4-5zm2 10zm-8 5zm-1-22zm-13-5zm-1-3zm2-2zm-2-2zm5 0zm-4-7zm34 16zm17 26zm21 3zm3-3zm4 2zm1-4zm5-1zm1-8zm-1-3zm2-5zm2 1zm7 1zm4 3zm1 4zm0 5zm-1 7zm1 4zm7 1zm0-3zm-3-4zm6-1zm-7-16zm5-7zm1-5zm0-9zm-5-5zm-2-6zm4-4zm0-12zm1-1zm-7 4zm-2 5zm0-14zm-1-6zm-4 1zm-2 7zm-8-1zm-6 2zm0 9zm4 4zm1 3zm-10 0zm-1 2zm-3 0zm1 4zm-8 3zm23 0zm1 3zm-1 9zm2 1zm5 4zm0-18zm32-8zm-2 19zm-8-52zm-5 1zm-6 6zm-8-11zm-7 5zm-3-14zm0-1zm-4 1zm6-8zm6 0zm0 3zm18 0zm0 0zm1-5zm-16-15zm-9-7zm-6-1zm-1-1zm-6-3zm-13 7zm-6 7zm-2 6zm-6 4zm-4-6zm-9-4zm-1 11zm-8-1zm2 7zm0 3zm2 4zm-8 0zm5 5zm8 5zm5-3zm8-9zm10 4zm1 0zm7-6zm10 13zm-2 7zm3 4zm-9 3zm0 6zm2 3zm-6-5zm-9-3zm-1 0zm-1-6zm-2 0zm-6 5zm7 7zm-8-77zm-11 10zm-18 0zm3-7zm-15 15zm-4 7zm-3 6zm6 5zm-13-14zm0-4zm2 0zm-13-9zm-8 1zm0 5zm4-12zm1-25zm-25-3zm-26 4zm-4-5zm-17-3zm-5-4zm-14-6zm5-6zm50-4zm11 160zm48 80zm34-7zm4 3zm13 0zm0 0zm3-4zm0 0zm7-4zm1-1zm7-4zm4-2zm4 4zm6 2zm3 5zm6-8zm-3-14zm0-1zm-4 1zm-1 1zm-2 0zm-1 4zm-2 0zm-4-4zm-5-3zm-4 0zm21-6zm2-3zm3-1zm0 0zm1 0zm7 6zm4 10zm-34 19zm-14 11zm-1 2zm-8 1zm-1-2zm1-3zm1-16zm-186 23zm-19-15zm-10 0zm-6-10zm-12-20zm-5-6zm-3 3zm-6-10zm-3-8zm3-4zm7 3zm-33-2zm9-34zm-4-33zm13-2z"/>
<path stroke="#2bb17d" d="M29 127zm-2 13zm19-2zm1-2zm-3-12zm19-2zm1-2zm-1-8zm2-2zm-3-10zm30 3zm-2 4zm0 2zm1 8zm-2 3zm0 1zm4-1zm2 3zm1-8zm1-3zm4-4zm-1-3zm1-8zm15-4zm3 17zm0 2zm4 0zm2-7zm12-3zm5-14zm17 7zm10-3zm8 8zm1 2zm5-7zm8 2zm-3 13zm10-1zm3 7zm-7 6zm-3 2zm1 1zm-2-5zm-13-1zm-3 12zm-8 8zm-19 0zm-3 6zm-7-7zm-1-8zm-1-2zm-22-1zm-7 8zm-2 1zm-4 6zm-9 0zm2 11zm12-3zm9-3zm25 9zm4 19zm1 15zm-24-1zm-3 0zm0-4zm-7 3zm-10-13zm-16-1zm2-10zm-14-11zm7-18zm0-7zm3 1zm-5-6zm-4 1zm-9 8zm-4 56zm-5 9zm15 21zm18 9zm6 11zm-3 11zm24-8zm3 14zm7-28zm23 12zm18 13zm0 25zm24-4zm-5-11zm24-26zm8 5zm2-17zm24 0zm0-1zm-1-6zm4-11zm2-1zm8 6zm4 4zm-2 7zm-2 9zm5 3zm3-1zm3 4zm3-8zm0-2zm4-4zm2-3zm5 1zm1-6zm1 1zm2-9zm-1-5zm8 1zm1-4zm0 0zm1-6zm4 2zm2-1zm0-3zm3 0zm0 1zm2 3zm1 0zm-2 4zm-4-1zm13 0zm0-10zm2-2zm-5 1zm-6-2zm4-11zm-5-8zm-10-9zm-6 5zm0-19zm-5 1zm-4-12zm-2-1zm-7-5zm2-4zm-11-1zm-1-3zm2-3zm5-24zm15 1zm11 6zm-2 12zm-5 0zm17-5zm12 0zm3-1zm5 6zm0 17zm3 2zm7 9zm-2 4zm15 1zm5-7zm4-1zm2 4zm3 2zm2 1zm3-11zm1-10zm-10-5zm0-15zm-30-16zm-9-9zm-15 41zm-6 11zm-5 8zm8 9zm10 3zm2-14zm14 41zm1 2zm2 9zm-1 3zm-7 3zm16 6zm13 2zm-1-6zm6-4zm9-2zm3 2zm-7 12zm-5 2zm0 6zm-14 17zm-12 0zm-12-6zm0-2zm-9-5zm-3 1zm-2-1zm-3 4zm1 8zm0 2zm10 0zm5 12zm-6 7zm-18 1zm0 4zm-12 0zm-6-9zm6-8zm1 1zm7-2zm4 3zm2-4zm0-11zm1-8zm-2-2zm3-3zm14-4zm-21-11zm-1-2zm-6 0zm0-1zm-2-7zm-6-6zm-3 0zm-2 0zm0 9zm0 6zm1 2zm3 0zm0 3zm2 0zm2 3zm-10 0zm0-10zm-4 0zm0 2zm-6 0zm0-8zm-3 0zm-4 0zm-4 5zm-7 2zm-3 0zm1 3zm0 5zm3-1zm-11 3zm-6-4zm-8-1zm1 6zm-10-2zm-9-1zm-3 5zm-7 1zm-3 5zm-17 2zm-10-7zm3-40zm6 4zm28-1zm-3-5zm8 8zm12 0zm-2-7zm-6-7zm0-17zm-1-1zm3 3zm5-3zm-3-3zm-5-5zm-6 5zm23-1zm9 4zm-7 14zm-1 3zm10 4zm3 0zm4 1zm0-3zm-3 13zm-3 3zm-1 11zm0 5zm-13 1zm-11-10zm-3-1zm1-1zm-14 14zm13 17zm24-44zm15 12zm3 1zm17-4zm3 8zm-10-17zm-4 68zm6 3zm-10 12zm-5 34zm-14-6zm11-173zm-10-13zm-1-1zm-11 12zm-12-1zm5-22zm-8-22zm-12-20zm-7 48zm-26 29zm3 5zm-43-7zm-5 0zm-2-3zm-33 71zm13 20zm-68-36zm334-1zm11 0zm0-3zm2-7zm-9 0z"/>
<path stroke="#1e9a89" d="M32 119zm-4 9zm11-1zm50 0zm12 1zm-7-11zm4-15zm24-3zm11 31zm1 2zm8 0zm23-13zm-2-32zm20 7zm21 4zm2 15zm3 3zm-8 3zm1 5zm15 2zm-1 8zm-3 6zm-3 8zm-6-5zm-15 12zm1 16zm6 15zm-11 19zm-28-7zm-39-10zm0-11zm-6-28zm4 83zm-49-11zm-11 1zm98 35zm0 4zm-19 20zm81-13zm-6-9zm-1-3zm29-6zm5-15zm-14-31zm-8 5zm3-34zm-3-19zm23 1zm5 1zm-1 1zm-1 6zm-9-2zm22-1zm0 20zm6-1zm5 3zm6-1zm5 0zm3 3zm4 4zm1 0zm2 4zm4 1zm1-16zm0-1zm-3 0zm1-6zm-5-3zm-3 2zm5-11zm3 1zm-11-21zm-7 7zm-14-18zm-7-9zm4-5zm-15 2zm-2-18zm-17 10zm-3 21zm9 13zm22 44zm16-13zm15 37zm15 0zm20 1zm7-9zm-2-12zm-11 5zm2 32zm-18 7zm-1 11zm-15 10zm-54 33zm118-68zm4-2zm6-15zm-7-9zm-5-3zm15-3zm-9-13zm12-12zm4 4zm3 0zm-8-22zm4-19zm-6-12zm-33-11zm7-9zm-37-23zm-16 45zm33 20zm28 12zm-195-114zm-28 15z"/>
<path stroke="#25838d" d="M46 112zm27-10zm10 39zm7 8zm-11 14zm-21-24zm-37 18zm96-14zm43-37zm33 3zm7 4zm0 17zm7 8zm9-9zm2-2zm9 1zm1-4zm4 2zm-4 7zm-2-1zm7 8zm5 0zm0 11zm3 8zm5 22zm23-5zm3-4zm1-2zm-3-2zm2-2zm9 0zm-3 9zm5 9zm6-4zm-10 10zm22 1zm17 19zm-11 20zm17 13zm-34 30zm-17-51zm0-66zm-1-3zm7 0zm4 2zm1-7zm7-3zm-21-1zm-2-5zm-2-5zm-10-2zm-3 4zm-1-14zm5 0zm-23-7zm-6 2zm1-7zm-13 2zm2 3zm-5-7zm2 44zm-12 20zm-3 0zm8 68zm-37-12zm-80 21zm257-51zm4-10zm3-5zm-14-17zm24-7zm-10-50zm-38 34zm-11-5z"/>
<path stroke="#2e6b8e" d="M25 130zm57-30zm26 56zm42-12zm27 17zm27 3zm29-18zm3-9zm8 0zm-4-13zm-5 0zm-3 0zm4-3zm-9 9zm-4-14zm-13-11zm-3 3zm49 37zm12 2zm4 8zm9 0zm-5 9zm-11 3zm-4-9zm17 27zm4 31zm10 6zm9 8zm5 13zm16-14zm-7-16zm9-6zm41 7zm1-64zm-4-41zm-36 48zm-14 12zm-82 51zm-55-6zm-145 4zm24 28zm90-212z"/>
<path stroke="#3a528b" d="M56 109zm42-19zm9 42zm129-1zm-1 8zm10 6zm4-9zm20 4zm-10 35zm-27 18zm17 25zm26 7zm32-21zm28-2zm10 12zm6-53zm-51-49zm-73 0z"/>
<path stroke="#453580" d="M130 157zm59 65zm-2 38zm70-110zm1 1zm98-33z"/>
<path stroke="#471567" d="M58 110zm14 31zm30-7zm97-35zm59 54zm2 54zm35-27zm5-52zm-165 151z"/>
</g>
<path transform="translate(55 945)" d="M138 28zM106 191zM210 209zM134 154zM159 50zM350 130zM329 96zM345 181zM19 188zM297 131zM166 285zM197 162zM305 178zM134 150zM105 271zM144 214zM243 89zM38 201zM53 148zM66 229zM135 277zM126 139zM109 143zM290 241zM24 185zM231 116zM128 129zM175 119zM185 261zM280 92zM37 168zM90 243zM175 21zM258 99zM41 164zM221 228zM111 233zM307 161zM155 106zM229 81zM180 165zM324 209zM268 282zM270 152zM267 85zM68 256zM124 114zM128 133zM210 95zM320 165zM27 138zM351 224zM202 201zM176 50zM103 212zM357 214zM290 157zM113 207zM55 110zM346 201zM229 156zM217 180zM313 260zM171 283zM238 143zM266 79zM43 228zM110 204zM311 253zM51 156zM107 220zM324 259zM141 233zM177 272zM214 134zM206 240zM166 221zM280 208zM241 147zM205 152zM129 222zM177 221zM48 219zM127 201zM257 275zM68 124zM355 153zM316 102zM188 241zM81 174zM275 145zM316 124zM326 223zM243 233zM148 148zM223 243zM178 102zM300 169zM190 278zM239 88zM139 233zM164 163zM287 156zM92 151zM260 194zM264 187zM249 200zM310 236zM147 235zM110 126zM153 140zM111 224zM293 229zM156 284zM154 250zM311 202zM150 49zM306 77zM264 103zM316 80zM131 236zM272 195zM287 212zM36 150zM329 209zM129 283zM308 205zM175 110zM309 229zM19 162zM111 260zM245 163zM303 119zM251 121zM150 191zM137 176zM221 96zM232 89zM101 217zM327 85zM206 131zM93 223zM363 167zM284 253zM196 233zM334 213zM312 205zM187 284zM177 14zM274 115zM77 269zM217 168zM170 209zM217 177zM111 141zM94 252zM60 182zM112 214zM242 264zM247 214zM310 209zM233 274zM237 169zM160 177zM297 163zM313 121zM150 288zM33 153zM338 98zM281 72zM278 185zM326 191zM191 178zM75 134zM248 115zM163 234zM189 207zM100 232zM197 160zM22 178zM149 89zM82 106zM351 189zM191 229zM115 95zM162 114zM300 186zM21 160zM174 182zM151 149zM291 88zM223 169zM116 130zM213 28zM261 286zM78 260zM319 224zM315 97zM70 112zM227 96zM119 90zM56 233zM213 197zM147 42zM171 192zM42 238zM167 115zM212 186zM177 104zM55 244zM171 118zM168 151zM230 233zM269 152zM111 111zM112 259zM223 199zM51 126zM208 185zM247 160zM315 236zM118 248zM340 90zM172 114zM182 284zM258 229zM303 219zM54 235zM208 244zM150 259zM138 179zM180 230zM153 113zM237 276zM179 201zM164 125zM128 121zM225 138zM215 135zM331 239zM46 186zM334 211zM80 100zM213 28zM224 232zM185 225zM131 157zM157 232zM128 41zM138 55zM69 101zM105 174zM142 286zM317 198zM360 151zM328 134zM348 175zM350 166zM121 226zM114 137zM231 116zM177 107zM264 129zM166 263zM145 128zM62 125zM344 106zM310 161zM42 193zM129 152zM119 115zM299 195zM138 163zM142 232zM81 177zM50 237zM190 271zM21 178zM94 229zM149 31zM54 177zM158 88zM148 31zM207 264zM197 155zM181 167zM29 133zM289 164zM343 120zM115 271zM158 210zM38 224zM242 87zM78 252zM313 253zM255 115zM190 144zM75 199zM93 275zM352 158zM156 286zM72 244zM266 150zM138 162zM106 101zM198 90zM130 38zM297 147zM176 261zM233 203zM257 74zM41 201zM253 192zM329 138zM55 159zM90 96zM152 28zM148 145zM207 35zM58 211zM269 208zM177 252zM126 123zM323 136zM53 122zM47 227zM336 127zM354 211zM321 193zM330 155zM362 173zM227 276zM366 156zM229 174zM282 95zM292 237zM102 195zM281 160zM294 183zM176 120zM236 102zM265 220zM290 166zM88 209zM222 202zM231 132zM110 128zM275 221zM56 140zM98 253zM117 273zM189 99zM229 156zM184 264zM188 194zM250 164zM165 118zM118 227zM58 106zM281 86zM26 145zM346 146zM192 219zM57 119zM199 121zM233 150zM156 152zM295 159zM148 182zM205 291zM348 147zM132 215zM285 250zM269 140zM228 274zM189 240zM265 278zM101 101zM299 238zM234 115zM193 150zM239 116zM183 120zM369 147zM93 198zM311 238zM276 259zM156 149zM246 275zM184 260zM120 214zM270 238zM164 104zM166 279zM206 22zM206 246zM109 222zM357 172zM203 149zM107 227zM169 200zM196 169zM73 215zM85 148zM329 207zM99 202zM155 131zM96 253zM219 158zM161 165zM42 236zM167 94zM270 235zM202 155zM70 131zM130 91zM282 242zM311 87zM169 148zM320 236zM125 264zM242 218zM70 159zM289 235zM312 72zM278 189zM233 132zM80 230zM282 69zM74 120zM305 128zM76 168zM203 183zM36 131zM304 214zM239 260zM212 152zM267 279zM281 168zM231 240zM190 282zM218 88zM178 19zM314 103zM80 158zM156 134zM237 268zM313 256zM223 222zM80 268z" fill="none" stroke="#fff" stroke-opacity="0.85" stroke-linecap="round" stroke-width="1.8"/>
<path transform="translate(55 945) scale(0.5)" d="M417 29l20 16 28 34 5 16-2 8-5 5-22 7-85 10-87 19-10 0-10-2-12-9-6-14-3-20 5-18 8-14 14-14 20-13 24-11M21 297l12-36 9-16 11-15 12-11 20-15 18-11 16-7 48-12 46-9 44-13 80 5 46 0 28-2 51-12 39-19 20-4 48-2 26 2 34 7 30 13 32 18 22 19 21 28 11 27M745 388l-9 39-8 20-30 46-23 25-36 26-26 14-70 24-33 7M233 589l-28-9-58-26-22-14-34-28-21-23-25-38-13-26-11-33M390 29l23 10 20 18 13 16 5 10 1 8-4 6-7 4-14 3-64 8-74 13-22 0-8-3-8-5-7-10-2-12 3-12 8-12 13-12 20-12 21-11 21-7M745 333l-7 48-8 36-6 18-28 48-25 27-42 31-34 15-68 22-77 11M279 589l-40-7-22-6-52-22-26-14-30-23-24-23-19-25-19-32-13-30-7-30-3-36 3-30 9-34 12-24 15-20 24-19 20-12 16-7 70-17 68-10 104 0 44-2 58-13 38-17 14-5 40-3 26 0 30 5 24 7 40 19 22 16 19 22 12 20 8 24 5 34M342 33l15-2 14 1 16 4 14 7 13 10 10 12 5 12 0 8-8 5-19 5-103 16-24 0-8-2-6-5-3-7 0-8 4-8 7-8 41-28 17-8 15-4zM538 137l37-2 34 4 24 6 36 16 22 13 18 17 14 20 9 20 7 42 1 44-4 44-12 56-11 26-22 36-16 19-22 18-28 19-20 10-80 26-108 16-50 1-48 0-46-6-42-8-22-8-44-19-22-12-21-16-27-24-17-20-22-34-12-28-10-36-2-36 4-34 10-34 15-26 20-18 24-17 16-8 64-16 78-11 120 0 34-2 48-11 48-22 25-5zM348 39l21 0 19 8 12 12 1 8-2 6-6 6-8 4-28 7-27 1-10-2-8-4-4-6-1-6 5-14 15-13 21-7zM545 145l34-1 34 3 22 7 38 15 19 12 17 18 12 18 7 20 6 40 0 46-5 44-13 54-11 24-24 37-18 18-25 19-22 14-21 9-75 23-107 16-64 2-38-1-46-7-36-8-68-29-22-13-26-22-20-20-16-21-18-30-10-27-8-34-1-34 5-33 10-31 16-24 20-16 25-16 17-7 56-13 52-8 32-3 150 2 18-1 34-13 41-23 29-6zM457 220l-3 7 2 12 11 22 13 18 11 11 12 7 12 2 8-3 4-5-1-8-5-10-10-14-16-16-20-17-10-6-8 0zM345 49l12-2 12 3 8 7-1 8-6 6-9 4-12 0-9-2-7-6-1-6 5-7 8-5zM570 157l33 0 18 2 40 11 22 11 18 15 14 19 7 18 6 28 2 36-3 40-8 47-12 44-18 31-20 26-18 16-33 22-29 14-53 16-101 19-32 4-40 1-34 0-28-2-36-6-34-8-73-32-21-14-27-24-17-19-14-21-12-22-8-22-7-34-1-28 4-28 10-32 10-18 14-12 12-5 24-6 22-11 42-14 54-15 30-2 102 4 12 4 8 5 15 26 10 14 41 44 22 18 14 8 16 5 26 2 20-1 10-3 6-7 2-8-2-12-10-20-25-28-12-18-6-18-8-36 4-10 11-9 16-4 25-1zM639 177l22 2 18 6 18 14 14 18 7 18 5 28 2 30-2 32-7 42-9 37-8 23-10 18-18 26-16 16-20 14-38 22-20 8-29 8-65 11-44 12-24 5-66 5-50-4-37-7-28-8-75-34-17-12-17-16-22-25-11-17-6-16-2-16 1-10 7-22-4-34 7-14 11-8 19-9 53-17 37-28 48-23 22-6 22-3 18 1 22 6 24 10 16 10 24 24 44 36 13 9 15 7 22 5 60 6 18 0 12-3 8-7 4-8 2-12-1-16-8-40-5-12-17-26-3-10 0-8 8-12 23-16 15-7 18-3zM657 191l12-1 14 6 14 11 10 14 6 16 4 21 2 25-1 26-12 64-9 32-8 19-12 20-14 17-14 13-16 11-44 24-22 8-40 7-46-2-14 1-14 5-25 19-20 8-29 6-40 3-44-5-22-6-20-8-18-10-26-21-33-17-11-10-8-12-7-18 2-12 28-38 36-38 13-10 25-8 11-6 9-10 11-19 6-5 44-14 12 0 8 4 8 8 22 33 28 22 12 6 62 3 48-1 54 7 10-1 8-3 12-13 6-17-2-104 2-14 4-10 9-12 11-10 8-4zM668 205l9-1 8 3 8 6 7 10 8 22 4 34-1 32-8 35-12 38-16 33-12 15-18 15-51 36-25 12-26 6-24 0-22-6-22-12-23-18-7-12 0-14 5-16 5-10 8-7 10-4 56-12 26 1 50 14 10-2 10-10 9-18 4-18-1-56 7-60 9-22 8-10 7-4zM359 421l12 3 5 9 0 12-10 26-1 12 3 10 15 26 2 10-2 8-6 6-6 3-20 4-29-1-21-6-8-6-5-8 0-8 4-18 0-8-3-9-8-13 0-8 10-12 21-16 30-12 17-4zM676 223l5 0 6 2 6 6 4 8 6 26 0 30-4 25-10 28-12 22-6 6-6 3-4-3-3-11-8-42-1-22 4-30 8-28 6-13 9-7zM531 409l14-1 16 4 14 7 11 10 4 10 0 10-4 10-10 10-21 10-24 4-12-2-12-4-15-12-5-8-2-8 0-8 4-8 7-8 9-6 26-10zM679 261l6 2 3 6 2 12 0 12-3 14-4 11-4 5-6 2-4-3-3-7-1-18 6-26 8-10zM533 437l10-1 8 3 3 6-2 6-5 4-6 2-8 0-6-2-4-4 0-6 4-4 6-4z" fill="none" stroke="#b5502e" stroke-width="2.8" stroke-linejoin="round"/>
<g opacity="1">
<path fill="#cae662" d="M652.3 959.5L663.5 960.3L673.5 966.3L677.7 970.5L681.7 978.5L690.7 988.5L690.7 990.5L686.5 992.7L666.5 992.7L665.5 993.7L659.5 993.7L658.5 994.7L645.5 994.7L644.5 993.7L640.5 993.7L639.5 992.7L631.5 991.7L627.5 989.7L623.3 984.5L623.3 980.5L628.3 971.5L631.5 968.3L642.5 961.3L644.5 961.3L645.5 960.3L651.5 960.3L652.3 959.5ZM738.3 1009.5L757.5 1009.3L758.5 1010.3L768.5 1010.3L769.5 1011.3L774.5 1011.3L775.5 1012.3L777.5 1012.3L787.5 1017.3L789.5 1017.3L804.5 1025.3L820.7 1043.5L826.7 1053.5L826.7 1056.5L828.7 1061.5L828.7 1065.5L829.7 1066.5L829.7 1070.5L830.7 1071.5L831.7 1079.5L832.7 1080.5L832.7 1100.5L831.7 1101.5L831.7 1110.5L830.7 1111.5L829.7 1125.5L826.7 1132.5L826.7 1134.5L824.7 1137.5L822.7 1145.5L820.7 1148.5L819.7 1153.5L814.7 1164.5L799.7 1184.5L795.7 1188.5L792.7 1193.5L787.5 1198.7L759.5 1218.7L757.5 1218.7L754.5 1220.7L752.5 1220.7L748.5 1222.7L745.5 1222.7L738.5 1225.7L735.5 1225.7L728.5 1228.7L725.5 1228.7L724.5 1229.7L718.5 1230.7L710.5 1233.7L693.5 1234.7L692.5 1235.7L682.5 1235.7L681.5 1236.7L670.5 1236.7L669.5 1237.7L656.5 1237.7L655.5 1236.7L645.5 1236.7L644.5 1235.7L636.5 1235.7L635.5 1234.7L627.5 1234.7L626.5 1233.7L612.5 1232.7L607.5 1230.7L603.5 1230.7L602.5 1229.7L599.5 1229.7L594.5 1227.7L590.5 1227.7L585.5 1225.7L581.5 1225.7L576.5 1223.7L568.5 1222.7L564.5 1220.7L561.5 1220.7L554.5 1217.7L551.5 1217.7L550.5 1216.7L539.5 1213.7L534.3 1209.5L534.3 1207.5L533.3 1206.5L535.3 1201.5L542.3 1194.5L547.3 1187.5L551.3 1176.5L551.3 1173.5L553.3 1169.5L553.3 1166.5L555.3 1162.5L555.3 1159.5L557.3 1155.5L558.3 1148.5L561.3 1140.5L561.3 1136.5L563.3 1131.5L563.3 1128.5L564.3 1127.5L564.3 1123.5L566.3 1118.5L566.3 1115.5L567.3 1114.5L567.3 1110.5L568.3 1109.5L568.3 1106.5L569.3 1105.5L571.3 1095.5L596.3 1046.5L600.5 1042.3L616.5 1037.3L617.5 1036.3L619.5 1036.3L620.5 1035.3L630.5 1034.3L631.5 1033.3L651.5 1032.3L652.5 1031.3L678.5 1031.3L679.5 1030.3L696.5 1029.3L707.5 1025.3L718.5 1015.3L723.5 1012.3L731.5 1011.3L732.5 1010.3L737.5 1010.3L738.3 1009.5Z"/>
<path fill="#a4de7b" d="M716.5 1017.5L752.5 1055.9L760 1068.5L764.5 1081.5L766.2 1095.5L765 1109.5L761.2 1123.5L748.4 1154.5L747.6 1160.5L749.5 1163.2L779.5 1160.1L788.5 1161.1L802 1164.5L804.5 1163.7L806.5 1161.3L808.6 1155.5L810.2 1144.5L812 1083.5L816.9 1040.5L823.5 1047.5L826.5 1053.5L826.5 1056.5L828.5 1061.5L828.5 1065.5L829.5 1066.5L829.5 1070.5L831.5 1075.5L831.5 1079.5L832.5 1080.5L832.5 1100.5L831.5 1101.5L831.5 1110.5L830.5 1111.5L829.5 1125.5L826.5 1132.5L826.5 1134.5L824.5 1137.5L822.5 1145.5L820.5 1148.5L819.5 1153.5L814.5 1164.5L806.5 1175.5L802.5 1179.5L799.5 1184.5L795.5 1188.5L792.5 1193.5L787.5 1198.5L775.5 1206.5L768.5 1212.5L759.5 1218.5L756.5 1219.4L746.5 1217.1L738.6 1211.5L734.1 1204.5L729.5 1189.6L726.5 1187.2L690.5 1189.6L658.5 1193.8L647.5 1193.1L637.5 1190L628.5 1183.9L621.5 1175.5L616 1164.5L612.4 1151.5L610.7 1139.5L610 1125.5L612 1096.5L617.5 1073.6L621.5 1064.5L626.5 1056.8L642.5 1041.3L648.9 1032.5L651.5 1032.5L652.5 1031.5L678.5 1031.5L679.5 1030.5L696.5 1029.5L707.5 1025.5L716.5 1017.5Z"/>
<path fill="#82d58f" d="M704.5 1026.5L709.2 1032.5L715.2 1042.5L724 1063.5L729.4 1085.5L731 1107.5L728.6 1128.5L725.8 1138.5L722.2 1146.5L718.1 1152.5L713.5 1156.9L707.5 1159.9L701.5 1160.7L692.5 1158.8L683.5 1154L675.1 1146.5L670 1138.5L666.8 1128.5L663.8 1110.5L661.6 1089.5L661.1 1070.5L663 1049.5L667.7 1031.5L689.5 1030.5L690.5 1029.5L700.5 1028.5L704.5 1026.5ZM824.5 1051.5L825.5 1051.5L826.5 1053.5L826.5 1056.5L828.5 1061.5L828.5 1065.5L829.5 1066.5L829.5 1070.5L831.5 1075.5L831.5 1079.5L832.5 1080.5L832.5 1100.5L831.5 1101.5L831.5 1110.5L830.5 1111.5L829.5 1125.5L816.4 1160.5L818.3 1089.5L820.9 1066.5L824.5 1051.5Z"/>
<path fill="#69c89d" d="M690.5 1029.5L694.5 1030.7L699.5 1034.8L708.9 1048.5L716.4 1067.5L720.7 1088.5L721.3 1108.5L718.3 1125.5L715.5 1132.4L712.1 1137.5L708.5 1140.6L703.5 1142.4L698.5 1141.9L693.5 1139.3L688.4 1134.5L683.5 1127.3L675.9 1108.5L670.8 1083.5L670.3 1060.5L671.6 1050.5L674.1 1041.5L677.5 1034.7L681.4 1030.5L689.5 1030.5L690.5 1029.5ZM827.2 1079.5L828.5 1078.5L829.5 1079.1L831.5 1083.7L832.5 1088.2L832.5 1100.5L831.5 1101.5L831.5 1110.5L830.5 1111.5L829.5 1125.5L826.5 1132.5L826.5 1134.5L824.5 1137.5L822.5 1145.5L821.7 1145.5L822.7 1102.5L824.5 1087.8L827.2 1079.5Z"/>
<path fill="#5cbca5" d="M686.3 1041.5L689.5 1040.9L693.5 1042L697.5 1044.9L701.5 1049.7L708.5 1063.3L713 1079.5L714.8 1096.5L713.4 1111.5L709.1 1122.5L706.5 1125.5L702.5 1127.4L699.5 1127.4L695.5 1125.6L688.5 1118L682.5 1105.5L678.2 1089.5L676.4 1073.5L677.2 1058.5L680.6 1047.5L683.4 1043.5L686.3 1041.5Z"/>
<path fill="#5caeab" d="M688.7 1054.5L693.5 1054.4L699.2 1059.5L703.9 1068.5L707.1 1079.5L708.4 1091.5L707.5 1102.5L704.5 1109.9L700.5 1112.8L695.5 1111.5L691 1106.5L686.6 1097.5L683.8 1087.5L682.5 1076.5L682.9 1066.5L685.2 1058.5L688.7 1054.5Z"/>
</g>
<g transform="translate(470.5 945.5)" fill="none" stroke-linecap="round" stroke-width="2.7">
<path stroke="#471567" d="M144 88zm16-3zm41 5zm35-11zm19 76zm13 48zm4 16zm31 5zm-10 21zm-62 7zm6-51zm-80 12zm-57-74zm249-28zm-1 83z"/>
<path stroke="#453580" d="M50 245zm103-58zm15-47zm48 5zm7-25zm42 4zm7-18zm-12-8zm17 65zm-34 2zm5 16zm29 29z"/>
<path stroke="#3a528b" d="M161 21zm18 120zm32 6zm16 5zm4-20zm-8-5zm-7-11zm41-13zm-11 91zm-20-1zm11 14zm42-22zm20 6zm61-5zm-5-42zm-59 118zm-105 9zm-2-30zm-16-14zm-3-29zm23-17zm-121-29zm-15 83zm65 29z"/>
<path stroke="#2e6b8e" d="M53 151zm42 8zm-18 28zm-37 42zm87 6zm57 19zm1-38zm2-61zm27-10zm0-2zm4 1zm3-5zm7-2zm0 0zm2-3zm2 4zm-5 4zm-2 7zm2 10zm3 3zm-18 12zm-5-53zm3-5zm-7-1zm10-5zm10 4zm12 14zm5 6zm16 3zm34-2zm0-63zm30-1zm44 80zm0 9zm-83 37zm-3 18zm-114-170z"/>
<path stroke="#25838d" d="M148 33zm6-4zm5 58zm14 10zm12 16zm16 6zm3 13zm5 3zm6-5zm-1-7zm3-1zm8 3zm2 1zm-2-7zm1-9zm0 0zm8-1zm-1 13zm3 10zm2 4zm-1 11zm-2-1zm-4 0zm2 4zm2 3zm-1 6zm-3 1zm-9 6zm0-16zm-3 1zm3-7zm5-1zm-3-5zm1-2zm-2-4zm-1 0zm-2 6zm0 1zm9-6zm17-3zm-3-13zm-29-3zm1-9zm-1-2zm7 0zm4-3zm1-9zm-18 4zm-6 0zm8-15zm29-3zm-20-22zm-8-13zm-3 105zm34 5zm8 1zm4-10zm4 1zm15 35zm-34 2zm-4 1zm-4 11zm4 5zm0 11zm14-15zm19 30zm18 12zm6-20zm35 2zm-4 14zm-84 7zm-40-13zm7-7zm-20-41zm-12 0zm-9 0zm-10-4zm-24 34zm-45 5zm-17 4zm-12-30zm-15-2zm-22-3zm86-65zm18-15zm16 6zm1 157zm30-15zm117-131zm1-35zm36 31zm34 4zm-1-15zm7 30zm3 4zm-10 5zm6 19zm-4 15zm-14-19z"/>
<path stroke="#1e9a89" d="M121 23zm-5 63zm5 57zm33 13zm11 14zm7-2zm5 6zm2 7zm10-5zm-1-23zm0-6zm-3-13zm5-8zm0-17zm-7 6zm-1-18zm-17 11zm44-2zm-1-4zm5 0zm0-2zm8 0zm6 7zm4 2zm1 2zm4-1zm0-1zm1-2zm1 8zm-1 4zm-3 4zm1 6zm-5-3zm11-1zm2-2zm0 11zm6 2zm8 0zm3-5zm6-4zm-2 14zm3 16zm-13 0zm-1-6zm-7 1zm-4 0zm-1-5zm-7 6zm-4-1zm2 9zm0 6zm0 8zm3 0zm-8 1zm0 4zm4 3zm-9 0zm1 8zm-3 1zm-1 3zm-3-5zm1-14zm6-4zm0-9zm-5-1zm-3-7zm-6 0zm-2 1zm-4-6zm1-10zm8 3zm0 3zm4-9zm-1-2zm16 4zm-6-21zm-18-2zm1-1zm1-23zm-2-9zm11 0zm3-1zm1-2zm8 16zm6 2zm20 4zm-6-19zm21-11zm0-4zm15 31zm7 3zm4 8zm-6 6zm4 21zm16-12zm5-3zm27 5zm16-4zm1-8zm-9 48zm0 4zm-9-1zm4-7zm12 16zm-3 8zm-1 0zm0 8zm2 0zm-1 5zm-3 8zm-14 9zm-6-2zm-14 12zm6 7zm-15-11zm-22-4zm4-17zm-16-1zm-3 0zm-11 4zm-9 6zm-6 0zm-8 1zm-6-1zm2 5zm-12 5zm3-16zm15-15zm5-3zm-1-14zm-2-1zm2-4zm0-2zm1 0zm-6 1zm13 4zm2 2zm9 2zm-3-7zm0 22zm4-2zm17 5zm21 3zm-5-17zm17-3zm-1 7zm-44 45zm-21 15zm36 22zm14-2zm-4-5zm-64 25zm-4 13zm-46-17zm-12-26zm-14 1zm-1 1zm2 0zm-29-5zm-14-7zm-10 2zm-12-6zm-3-30zm-59-1zm19 35zm12 24zm-27-113zm55-21zm64 61zm-1 8zm8-5zm4-14zm38-92zm-8-64zm-5 2z"/>
<path stroke="#2bb17d" d="M20 128zm32-8zm8 12zm11-14zm1-1zm17-12zm2-7zm28 5zm-2 9zm-1 6zm-4-1zm-3 2zm-7 11zm-4 14zm-17 2zm-6 8zm5 7zm-13 11zm-17 8zm1 6zm-5 0zm10 2zm2 14zm1 1zm-3 5zm-4 9zm-4 11zm-15-2zm3 11zm36 3zm-4 4zm15-6zm7 0zm13 14zm21 19zm15-3zm-1 10zm14-4zm1-8zm11-3zm7-1zm16-6zm6-1zm7 4zm10 1zm1 0zm-1-14zm6 0zm7-3zm-3-10zm2-14zm-7 1zm2-5zm-8 8zm-11-4zm-1-4zm1-11zm-4-2zm3-10zm10 0zm1-4zm2-1zm7-2zm4-3zm-1-1zm-2-2zm-2-2zm-1-3zm-1-1zm-4-4zm7-2zm4-5zm2 11zm-1 3zm6 2zm3 4zm2-1zm0 3zm3 0zm3-2zm1-4zm0 0zm0 0zm5 3zm3 3zm6 0zm0 4zm5-1zm1 1zm7 0zm5 5zm1 2zm8 0zm9 0zm-1-10zm-4 1zm0-3zm0-4zm-8-4zm-12 2zm-5-3zm2-4zm-1-8zm-7 1zm-4 0zm0 1zm-5 0zm-4-4zm0-1zm6-7zm0 0zm4-4zm1-3zm-6-1zm-3-3zm0-6zm2 0zm-1-2zm1-2zm0-2zm2-6zm-4 0zm-4 2zm-1 0zm-2-2zm3-13zm0-3zm4-3zm-13 0zm-2-5zm0-3zm0-3zm-3-1zm2-3zm0 0zm0-4zm0-3zm-2-1zm-1 0zm0 1zm-1 4zm-7-4zm-2 1zm-1-2zm-2 3zm0 1zm-1-2zm-12 1zm0 11zm5 0zm-9-2zm-6-6zm-1-18zm11-17zm19 2zm12-6zm-18-7zm-30 1zm-5 3zm-3-13zm-1 0zm1-3zm1-14zm1-5zm-24 22zm3 11zm-6 17zm-3 24zm-8 7zm-13 3zm5 25zm-1 3zm0 14zm-5-5zm11 12zm7 1zm-9 11zm-22-2zm8 14zm-7 9zm-9-8zm-11 27zm-10 13zm52-6zm3-2zm-3-5zm-2-2zm24 2zm7 2zm9 0zm3 3zm-8 4zm-11 5zm22 4zm0 7zm-8 6zm-15 11zm48-1zm-4 12zm-9 24zm17 10zm3-1zm15-13zm6 2zm-1 1zm-1-19zm13-11zm10 7zm0 9zm9-6zm5 3zm-5-19zm15-11zm-1-10zm5-1zm-15-2zm-6-13zm-2 0zm-4 4zm0-9zm-6-2zm1-2zm-4 1zm4 6zm-11 1zm-4-1zm1-1zm-4 0zm0 6zm-5-2zm-3-2zm-1 3zm-8 1zm0-6zm-7 3zm2 6zm29-2zm4 11zm3 11zm-11-34zm0-3zm-6 4zm23-12zm7-2zm1-11zm-4-10zm10-2zm-2-7zm14-1zm9-2zm1-2zm-2-6zm8 0zm8 7zm-3 5zm-10 6zm-6 0zm6 7zm6 7zm12-6zm8-1zm-2 16zm10-2zm2 8zm7-2zm18 7zm2 4zm6-1zm8-2zm-1-2zm-1-4zm-1 0zm0-2zm-6-1zm6-6zm1-3zm1 1zm1-8zm0-3zm-1-1zm-1-3zm3 1zm0-3zm1-8zm-3-2zm1-4zm-3 0zm-1-1zm-2 2zm-6-1zm-3 3zm0 1zm-1 6zm5 7zm0 9zm6-5zm1-30zm3-1zm-4-5zm-2-3zm-5 7zm-2 0zm2 2zm3 3zm-10 1zm4-18zm9-7zm0-4zm0-1zm4 1zm-6-6zm-3-3zm-4-1zm-30 6zm-11 6zm3 5zm4 12zm-14-1zm-4-8zm4-26zm-29-3zm1-11zm-3 0zm-10 4zm1 4zm1 18zm-3 2zm2 8zm-14 1zm7 10zm12 4zm4 0zm-32 11zm2 6zm-26-1zm-5 3zm-1 1zm-1 0zm-1 0zm0 2zm-4 0zm-2 6zm0 4zm4-2zm1 1zm0-3zm5 0zm4-3zm-3-4zm-8 15zm-2 6zm2 3zm-3 5zm-5 3zm-10-5zm-3 1zm-2 10zm-7 0zm-5-4zm6-14zm8-5zm7-1zm-2 5zm-2-17zm-4 2zm-4 0zm4-7zm4-11zm6 0zm6-6zm6 2zm-1-13zm-4-1zm-2 0zm-2 2zm-3-2zm-1-2zm5-1zm8-1zm3 0zm10 3zm-2-10zm1-3zm-5-3zm-11 2zm-26 1zm1-8zm0-3zm-7 2zm-2-10zm8 29zm-11 12zm-7 10zm10 8zm5 14zm-18 9zm-3-1zm-1 10zm7-1zm29-44zm-43-19zm4-4zm82-10zm0 0zm9 2zm5-8zm1-1zm-3-7zm-8-2zm-3-5zm15-2zm4 3zm4-2zm-2-5zm-2-10zm29 7zm22 120zm-5 21zm1 13zm17 5zm3-22zm11 3zm12 1zm15 1zm0-3zm2-1zm1 0zm-1-3zm0-1zm-3 2zm0 10zm-8 7zm-9 3zm2 13zm-7 8zm-39-1zm12 14zm-28 14zm-2 3zm3 4zm4 2zm-110 7zm-1 3zm-41-2zm-45-11zm-48-110zm-12 1zm-11 8z"/>
<path stroke="#55c666" d="M17 127zm-4 11zm5 12zm2 0zm3 3zm6-5zm7 1zm-2-14zm6-4zm-9-8zm18-18zm20 0zm6 6zm9 0zm10 1zm3-4zm6-1zm4 1zm-1 3zm9-4zm-2-10zm-6-3zm7-6zm15 8zm4-2zm4 4zm-1 9zm0 6zm1 4zm2 0zm-7 1zm-3 3zm4 2zm11 4zm6-6zm-3-6zm-5-4zm8-6zm6 2zm0 11zm11-4zm7 6zm-1 9zm-2 1zm-7-3zm-3 6zm-2 0zm3 8zm1-1zm8 0zm3 2zm-5 2zm1 3zm3 2zm-1 5zm4 4zm2 2zm2-1zm5-1zm0-1zm4 0zm-2 3zm8 1zm0-5zm0-1zm2 1zm1 3zm3 1zm0-5zm-2-6zm-1 0zm3-4zm-8 0zm0 6zm12 0zm4-1zm0 20zm-4 2zm-8 1zm-1 2zm3 1zm0 1zm1 3zm0 1zm-3 1zm-3 1zm-1-10zm-4 0zm-1 1zm-4 1zm-2 4zm-4 3zm0 1zm2 1zm0 8zm-2 3zm-3 1zm0-7zm-3 1zm0-5zm-5-1zm0-2zm-7 2zm0-8zm1 0zm1-1zm3-4zm3-1zm0-3zm2 1zm0-7zm-5 4zm-6-2zm-2 1zm0 2zm-2 0zm-1-2zm6-5zm1-5zm-7-2zm-2 1zm-4 0zm-7-4zm-1 0zm17-1zm-2-7zm-26-1zm0-4zm-15-9zm-9 2zm-8 1zm-8 1zm-4 3zm-4 5zm1 7zm8 2zm5-1zm-4 9zm1 2zm0 3zm-5 1zm-7 2zm-5 4zm-4 7zm-9-10zm-6 0zm0 4zm1 0zm-4 1zm-1-2zm-1-7zm-3-3zm8 1zm7-2zm3-3zm2-3zm3-16zm-2-6zm1-4zm8 4zm0-27zm16 2zm50-13zm4-2zm1 0zm-1-2zm12 0zm9 2zm5 4zm3-2zm0 8zm5 1zm1-4zm2-4zm4-1zm6 1zm3-1zm0-4zm-2 1zm2-4zm7 0zm3-1zm-4 4zm3 4zm11-3zm1 0zm8 2zm1 3zm-1-10zm0-2zm3 2zm3 1zm2-5zm-3-1zm5-3zm1 7zm2 5zm2 0zm3 3zm2 3zm4 3zm1-1zm3 1zm-1 4zm2 2zm1 1zm-2 3zm-1 1zm0 2zm-1 1zm-3 0zm2-4zm5 3zm2 6zm-4 1zm-2-2zm-2 8zm4 0zm7 3zm4-4zm-1-4zm5 2zm15-1zm0-1zm5 1zm3 0zm-1 2zm-3 2zm-2 4zm11 1zm3-2zm0 5zm-4 3zm-6 3zm-1 2zm-2 1zm-3-2zm-2 2zm4 5zm-1 4zm8 1zm2 2zm2-1zm7 0zm3-1zm1 1zm-2-6zm-2 1zm-3-1zm1 12zm-7 0zm0 4zm6 3zm-11 2zm-19 1zm-1 1zm1 2zm-4-5zm-3 0zm-2-2zm-5-4zm-5-3zm1-4zm0-5zm0-1zm5 1zm-1 1zm1 2zm0-7zm2 2zm5 7zm-1 1zm3 0zm5 1zm-2 4zm0 3zm5-10zm-5-11zm-4-4zm-17 3zm-6 23zm4 6zm8-2zm0 7zm0 1zm-1-1zm0 2zm4-1zm6 3zm0 0zm0 4zm-1 0zm3 1zm-1 3zm0 2zm0 4zm1 0zm-2 3zm-3-1zm-2 0zm-1 0zm-3 0zm0 3zm0 3zm-4 0zm1-2zm-6-2zm0-5zm0-6zm-2 1zm4-3zm-1-3zm5-1zm0 0zm1 3zm2 0zm1 0zm1 3zm2 0zm2-1zm3 1zm6-3zm0 12zm-1 6zm5 1zm2-4zm5-3zm3-2zm4 3zm-1 4zm-5 2zm-3 3zm0-15zm10-1zm4 0zm5 1zm4 0zm1-1zm7 0zm2-3zm-3-2zm-8-3zm-1 1zm0 0zm-1 18zm-6-2zm3 10zm-5 16zm3 5zm0 8zm1 11zm-2 1zm4 1zm2 1zm-1 3zm-3-1zm-7 0zm-2 5zm-7 0zm-7-3zm2-7zm-1-1zm-3-1zm-8-9zm2-3zm2-3zm-1-7zm-7 2zm-4 3zm-6 4zm-3 2zm2 9zm5 1zm1 8zm3-3zm1 6zm3 1zm-9 1zm-2 5zm-2 0zm0 0zm-2-12zm-11-7zm1-3zm1-10zm-1-2zm2-1zm-7 0zm-2-4zm6-3zm-2-5zm2-4zm-3-2zm-3 2zm-4 7zm-6-2zm-3-2zm0-4zm0-2zm2 1zm-2-4zm-4 1zm-4-2zm1-1zm-5-1zm0-2zm-3-5zm2-4zm1-2zm4-3zm3 0zm1 1zm-4 6zm2 3zm1 0zm11-4zm-1-2zm1-7zm1 17zm-2 4zm18 1zm-1 4zm0 4zm2 1zm3-2zm-1-1zm0-4zm5 1zm1 2zm1 0zm2-4zm2 1zm4 0zm-1 2zm-3 6zm7-1zm5-2zm5 1zm4 5zm10-3zm-7 14zm4 9zm24 2zm-1 5zm4 7zm-1 3zm0 5zm-4-2zm-2-1zm-8 4zm-3 4zm2 6zm-3 5zm-3 0zm-2 2zm-11 0zm1-6zm-1-4zm4-1zm-9 3zm-2 1zm-2 1zm0-5zm-10 9zm-3 2zm-9 0zm-3 7zm-3-3zm-6 2zm1 8zm11-1zm1-1zm-1-1zm10 1zm1-4zm3 0zm13 0zm26-10zm5-7zm5-3zm10-9zm-1-2zm-2-5zm6-6zm5 0zm0 0zm1 5zm3 3zm-4 2zm5-15zm-1-2zm4-3zm2-3zm-2-5zm0-3zm5 1zm1 2zm7 0zm-1-4zm2-6zm1-1zm-1-7zm6 0zm0-1zm2 0zm-3 2zm-12 3zm-3-8zm-4-1zm-4 2zm-3-1zm-4-4zm-6-3zm1-8zm4 2zm12-1zm-7-10zm-3-10zm1-2zm5-2zm1 4zm3 0zm4-7zm-2-3zm-6 0zm-2-4zm-7 0zm-4-13zm-4-7zm-2-1zm3-13zm12 0zm-3 8zm-1-19zm14 5zm3 0zm0-3zm-1-9zm3 0zm8-4zm5-3zm4 5zm2 4zm0 9zm-1 1zm-4-1zm1-4zm6 2zm1 5zm1-1zm0 2zm-1 5zm-1 1zm5-1zm-2 7zm0 0zm0 2zm1 9zm0 5zm1 3zm1-1zm0 5zm-9-4zm-5-1zm-1 3zm-7 3zm-2-5zm-3 1zm0 8zm12 9zm0 1zm8 1zm4 5zm-14 5zm-1 12zm4-2zm-4-46zm3-4zm-2-8zm-5-1zm2-9zm-2-34zm-17 6zm-12 0zm-1 0zm-1-3zm2-2zm0-5zm-4-1zm-1-4zm8 1zm0-8zm-2-4zm-14 2zm-5-2zm2 17zm5 0zm2 0zm-10 2zm-7 7zm-4 2zm-2 7zm0 1zm4 3zm0 2zm-5 1zm-1 1zm1 1zm7 2zm0 0zm5-6zm8 4zm4-6zm-1-7zm-2-4zm8 3zm-41 0zm-6 3zm-1-8zm0-5zm1-1zm3-5zm-7-3zm-8 3zm1 3zm7 6zm18-5zm-1 19zm-3-1zm2 5zm-10 1zm-18-5zm0-2zm-6 0zm1 4zm0 6zm-1 5zm-7-14zm4-5zm-1-6zm10-20zm5-7zm-13-4zm-9-1zm-2-15zm-13 3zm-3 2zm1-13zm0-2zm-1-2zm-10-2zm1-5zm6-4zm-24 0zm0-1zm-3 1zm-12 0zm1-8zm18-1zm-3 17zm-1 3zm-2 1zm-8-1zm-1 9zm-11-1zm-6 8zm-3-1zm0 14zm15 2zm3 20zm6 0zm3 22zm0 2zm2 0zm1 3zm3 0zm0-4zm1-3zm3 3zm1 1zm3 1zm1-1zm3 2zm-5 2zm4-11zm7 15zm-12 11zm-1 2zm-2-1zm-6-1zm0-1zm-3-1zm1 12zm1 1zm3 2zm4-1zm6 0zm6-1zm-8 30zm-2-1zm-8 2zm-7 7zm9 15zm-4 7zm2 3zm-3 3zm0 1zm4 4zm4-1zm0 4zm7 1zm1 0zm2-4zm3 0zm1-1zm-2-3zm-5 2zm0-5zm-5-1zm2-6zm1 23zm9 1zm1 5zm1 3zm5-1zm0-6zm-1-4zm4 0zm1 7zm4 0zm-1 8zm-1 1zm3 3zm1 2zm-4 3zm-5 3zm-3-2zm2-4zm1-2zm-5 1zm-5 4zm-6-1zm-2-3zm-1-3zm4-1zm-6 6zm-8-1zm-2-4zm0-2zm-5-1zm-4 3zm1 4zm2 11zm-7 0zm0-1zm-9 5zm-8 2zm-3-2zm-2 4zm-3-7zm3-10zm3-12zm-1-8zm-1-1zm2-2zm7 3zm3 2zm0-8zm2-4zm3-1zm2-1zm1 4zm3 0zm0-3zm8 1zm0 3zm0 1zm-1-2zm-4 3zm1 9zm4 1zm1-2zm0-2zm0 6zm5-1zm1-2zm3-1zm-1 7zm-5 14zm1 2zm-10 13zm3 4zm-5 5zm14 0zm-1 2zm6 0zm5-4zm13-1zm6-4zm1-3zm5 4zm8 0zm2-3zm-6-3zm3-6zm-3-5zm-15 9zm-7-1zm1 6zm4 21zm2 14zm-12 2zm-2-10zm-24 7zm-15-1zm-4-3zm-2-5zm-9-13zm-5-7zm-7-2zm-4-14zm3-11zm6 0zm-2-10zm0-9zm3-12zm5-5zm2 1zm1 2zm9 3zm2 1zm3 0zm1-1zm-1-7zm-4 2zm11-1zm1-9zm-10 0zm-7 1zm-2-10zm3-5zm2-4zm-8 0zm-10-3zm-14 1zm-7 0zm6 6zm-1 3zm-11 5zm-5 3zm-2 3zm2 3zm-14 9zm-1 2zm-8 3zm0 1zm0 0zm-2 8zm0 3zm2 1zm-5 0zm-10-2zm-6 5zm-9-2zm4-4zm-3-7zm-6-10zm-4-3zm2-6zm0-2zm2-4zm-10-6zm-5 25zm-2 11zm5 1zm1 1zm20 16zm6 1zm14 4zm5-1zm-1 8zm7 8zm3 11zm9 14zm10 1zm2 6zm12 2zm13 2zm-22-17zm-5-36zm-11 1zm5-8zm-3-4zm8-3zm-1-7zm5 1zm-23 5zm0 5zm1 0zm-20-26zm-8 0zm1 3zm-4-12zm-1-51zm35 32zm4 2zm23-24zm39 28zm11 39zm0 8zm-4 2zm-7 18zm50-34zm39 4zm2-15zm3-1zm12-2zm-3-8zm-2 0zm0-4zm1 1zm-4 0zm1-3zm-14 3zm3 5zm40-15zm19 47zm0 0zm7-4zm3-2zm1 0zm1 6zm0 4zm-2 0zm4-1zm7-3zm-4 11zm-1 2zm23-2zm-1-2zm-105 42zm-15-6zm-151 3zm-3-2zm-6-2zm-10-7zm1-11zm124-142zm12-60zm0-7zm1-1zm5-7zm-26-4zm-15 3zm115 37z"/>
<path stroke="#90d643" d="M36 107zm-1 6zm-1 9zm3 11zm1 10zm-1 2zm-2 0zm-3-4zm-4-1zm-2 5zm-5 5zm-5 1zm-3-4zm3 12zm1 9zm6-2zm4 0zm0 3zm3-1zm1 5zm4 1zm4-3zm1-5zm10 1zm2-2zm6-1zm5-2zm1-1zm1 2zm5 0zm5 2zm1 1zm-1 4zm2 1zm1 1zm2 1zm1-1zm-1-1zm-1 6zm-4 0zm-3 0zm-1 1zm2 4zm0 4zm2 5zm-6 1zm-1-3zm-1-1zm-3-1zm0-1zm1-3zm3 1zm-8 1zm2-4zm0-1zm-5-1zm-3 5zm0 2zm1 2zm-3 0zm0-3zm-3 2zm-1 5zm1 3zm3 5zm-1 5zm-2-1zm5 1zm-2 5zm-2 1zm0 4zm4-1zm2-3zm8 2zm4 4zm4 0zm1 3zm5 0zm4 1zm0 2zm4-4zm0 9zm2-1zm-2 8zm0 0zm5 3zm-2 3zm-12 0zm-3-4zm-4-1zm0 3zm1 1zm-7 0zm-2-2zm4-5zm0-4zm2-4zm1-3zm-6 4zm-8-2zm0-3zm0 8zm-6-1zm-5 2zm1-8zm0 0zm-14-4zm-2-5zm-6 0zm-1-12zm-2 1zm-7-6zm12-19zm1-13zm0-4zm15-6zm5 4zm6-9zm-3-3zm-4-2zm-2 1zm10-5zm1-3zm4 0zm-1 3zm1 4zm3-1zm2-2zm1-1zm1 1zm3 2zm2 2zm0 4zm2 0zm-6-1zm0-2zm-2 0zm-1 1zm-4 6zm7 3zm8-1zm6 0zm-2 4zm8-1zm0 4zm3 0zm0 5zm-2-1zm3 4zm1 0zm2 2zm2-1zm-1 3zm2 1zm2 3zm0 4zm4-2zm3 3zm3-1zm0-4zm7-5zm6-6zm-2-3zm4 0zm-1-3zm-1-3zm5-3zm-2-3zm4 0zm0-6zm-6-1zm0-7zm-2 1zm1-6zm-1-4zm-2-1zm-4-1zm-1-1zm-4 2zm-2 3zm-1 2zm0 1zm0 0zm-1 0zm2 1zm-5-3zm0-7zm-2-1zm-1-7zm3-3zm2-5zm0-1zm1-2zm1 0zm1-1zm0-1zm1-4zm5 1zm0 6zm2 1zm2-1zm2 2zm-2 8zm-3 2zm-3 0zm0-4zm-4-3zm-11-2zm-2-4zm2-7zm-7 0zm1-1zm-3 0zm-3-5zm7-3zm9-4zm3 13zm15-8zm3 1zm5 3zm4 1zm3 0zm1 1zm0 7zm-5-2zm0 9zm3 3zm0 0zm-5 1zm-3 2zm0 1zm0 3zm0 6zm5 0zm1 8zm-1 5zm4 3zm4-2zm2 0zm2 1zm1-2zm1-5zm-1-3zm1-1zm0-2zm-4 0zm-3-4zm-3-3zm7-1zm6 3zm0 3zm3 0zm-1 3zm5 2zm0 7zm1 0zm5-2zm3 0zm4-3zm-2-5zm-2-5zm1-5zm7 1zm3 0zm0 0zm1 0zm2 4zm3 5zm3 2zm0 8zm-5-1zm0-2zm-7 2zm2 3zm1 6zm-8 1zm-2-1zm-4-2zm6-2zm0 13zm-3 3zm1 7zm-3 1zm-4 3zm-4 0zm-2 1zm1-4zm2-1zm0-3zm1-5zm-3-1zm2-2zm-6 0zm1 4zm-7 4zm-4-1zm-3 4zm1 3zm-6-1zm-1-3zm4 8zm-5 4zm3 5zm4-2zm1 4zm-1 5zm-3-1zm-5 2zm-3 0zm-6 0zm0 6zm5 1zm2 9zm4-1zm-1 3zm0 4zm1 5zm3-3zm-1 10zm5 4zm2 1zm5-2zm0-3zm1-8zm7 0zm-1-6zm0-1zm11 2zm2 4zm1-1zm2 1zm1 3zm-6 0zm1 3zm-7 0zm3 3zm-3 5zm-1 5zm-1 2zm-1 1zm5 3zm4 5zm-1 2zm-1 4zm-1 0zm4 1zm3-1zm0-1zm4 1zm3 4zm5 0zm3-2zm0-6zm-1 1zm0-3zm-5-1zm-1-3zm3 0zm0-2zm0-2zm1 3zm3-3zm1-3zm2-1zm-1-4zm-5 1zm-6 2zm-3-3zm-1-4zm4 0zm2-4zm7 0zm-2-3zm0-2zm-1-4zm-1-1zm-2 3zm-3-4zm-5-2zm1-4zm-1-5zm-9 1zm-2-2zm2-4zm-7-3zm-4-1zm-2 4zm-1 2zm-1 0zm-2-4zm-1-2zm2-3zm3-10zm-2-6zm0-20zm-2 0zm4-1zm-10 0zm2 3zm20-2zm5 2zm-9-6zm-4-10zm-13-6zm-9 3zm-12 8zm-3 5zm0 7zm4 1zm-10 0zm-1 2zm-3-4zm-5-1zm0-2zm-1-1zm1-2zm3-2zm0-3zm0-2zm-10 2zm1 3zm1 3zm1 1zm0 1zm-4-1zm-3 0zm0 1zm1 1zm0-7zm-6 3zm-4-3zm1-8zm5-2zm-1-2zm0-5zm2 0zm4 5zm2 2zm-13-4zm0-5zm-6 7zm-2 5zm-5-9zm-3-3zm2-3zm2 0zm-3-8zm9-2zm0-2zm-1 1zm2-5zm10-1zm-1-7zm-5-7zm-17 8zm0 3zm-6-1zm-3 2zm6 3zm-4 5zm0 4zm-1 3zm34-1zm0 0zm-1-4zm5-3zm29 12zm-14 26zm-9 10zm-1 1zm1 2zm4 5zm-6 11zm-5-3zm-12 0zm-8 1zm0-5zm-5 1zm-13 7zm-2 1zm-3-4zm-1 12zm0 15zm1 1zm-2 4zm-4-3zm-1 1zm-3 4zm-5 18zm3 10zm0 7zm8-2zm7 2zm5-1zm2 0zm3 2zm4 5zm6 0zm1 0zm1 1zm2-4zm-5 0zm3-3zm0 14zm-4-1zm-1-1zm-2 1zm1 10zm-1 3zm7 0zm7 2zm2 0zm6 0zm0 3zm5 3zm2-5zm0-7zm2-1zm3-4zm0-5zm1 0zm5-4zm3 1zm5 3zm0 3zm-3 0zm-7 4zm2 4zm-2 11zm7 3zm4 0zm2-3zm2 11zm5-1zm2-3zm2-2zm2 1zm1 1zm0-2zm-2-3zm2-5zm3 0zm4 0zm3 2zm-2 2zm-1 9zm-1 1zm-1 1zm8-1zm0-1zm3 0zm6 4zm4 0zm5 0zm0-4zm2 1zm2 2zm2 0zm1 3zm2 0zm4-9zm-3-4zm2-3zm-1-4zm1-3zm1-5zm-1-5zm-8-3zm1 8zm-3 2zm-1 3zm1 3zm0 4zm0 6zm6-8zm-12-1zm0-3zm-4-1zm-1-11zm-4 0zm-2 1zm-3 1zm-1 1zm-4 0zm-3-2zm-1 4zm-5-2zm1-3zm-5 0zm-1-2zm1-4zm0-2zm3 1zm2-4zm-1-3zm-2 1zm0-6zm2-3zm1-2zm-3-1zm-2-2zm-2 3zm-2 2zm0 2zm-1-3zm-1-6zm-3-7zm-8 0zm-1 2zm2-7zm11 1zm0-7zm1-1zm-6 0zm0 1zm9 11zm6 7zm14 2zm2 3zm-4 2zm-4 7zm1 6zm0 2zm2 2zm0-5zm7 2zm1 4zm-4 0zm-5 3zm-3 10zm8 7zm16-11zm-8-17zm2-2zm-5-2zm-2 0zm20-1zm1-8zm-3-4zm9 7zm16 5zm0 2zm-1 1zm6 1zm0 1zm2-1zm-1-2zm4-2zm2-2zm2 2zm3 0zm1-10zm2-4zm0-7zm3 1zm6 4zm-2 2zm7 1zm-1 3zm3 3zm3-1zm1 5zm-2 0zm2 3zm0 5zm5 1zm0-3zm3-1zm2 6zm4 0zm6-1zm1-4zm2-2zm5-1zm0-1zm0-8zm4 0zm2 1zm4 3zm0 2zm2-3zm1-1zm2 3zm-2 3zm0 0zm2 5zm0 4zm5 2zm1-6zm3 0zm3-1zm-1-3zm-2 0zm-5 2zm6 5zm4 1zm-1 14zm-1 2zm1 3zm0 1zm-1 1zm-3 1zm-1 0zm-3-1zm-1 3zm-3 2zm-1-1zm-1-1zm-3-4zm-1-2zm1-4zm1-1zm-2-2zm-3 0zm-1 0zm-6 0zm0 3zm0 0zm-1-1zm2 0zm-5 2zm0 3zm-1 0zm3 0zm1 3zm5-3zm10-1zm2 0zm-1-6zm4 1zm3 0zm-10-4zm-7-3zm-1-1zm3-2zm-6 4zm-3 1zm0-2zm1-6zm-10-3zm-3-5zm-1-5zm1-1zm-4 0zm-5 2zm0-8zm2-4zm1 0zm4 4zm2 0zm4 1zm3-3zm6 1zm0-4zm0-4zm-2 2zm1-7zm-4-2zm-4 1zm-1 1zm-7 0zm-3 0zm0 0zm4 2zm-9 1zm-1 2zm-3-2zm-1 0zm-2 2zm-6-2zm-3-6zm7-3zm0-4zm5-1zm5 2zm-11-9zm-6 4zm-13 3zm0-9zm-5-6zm1-3zm-2-8zm-4-5zm-4 3zm-4-7zm-2-6zm9-1zm2 1zm2 2zm3 2zm-2-6zm1-6zm-6-2zm-1-1zm0 7zm-9-7zm0 0zm-1-2zm6-5zm4-8zm6 4zm7 4zm-12-21zm-2-2zm-2-2zm-2-6zm2-2zm0-2zm-1-5zm-7-1zm-2 0zm2-3zm0 10zm-7 1zm-2 2zm0-11zm2-11zm-3-2zm0-3zm-3 3zm-3 3zm-10-2zm-1-2zm0-4zm-2 1zm-3 4zm-2 0zm1 4zm2 1zm3-3zm-9 5zm7 7zm0 1zm4 2zm1 2zm5 1zm-1-5zm0-4zm-3 15zm0 1zm3 3zm-8-9zm30-20zm-4-6zm8-2zm0 0zm1 0zm8 1zm0 0zm3 3zm-6 7zm0 2zm-4-32zm-1-13zm-4-1zm3-5zm4-3zm2-4zm-5-2zm-1-3zm-4 1zm2 4zm-5-1zm-3 2zm1 1zm-3 3zm0-7zm-6 0zm-6-1zm1-4zm3-2zm-1-4zm3 0zm2 1zm-2-4zm-1-4zm-4 0zm7 1zm2 1zm3-1zm0-4zm3-5zm7 2zm3 0zm2-1zm3 4zm-3 5zm0 5zm2-1zm4 5zm0 3zm0 1zm3 0zm7 0zm1 2zm-4 2zm-1 6zm-3-1zm7-1zm1 2zm2 4zm-5 1zm-2 0zm0 2zm-5 0zm0 1zm0 0zm1 1zm-6 2zm-15 0zm-5 2zm-12 2zm0-10zm3 0zm-2-8zm-10 6zm-2 1zm1 6zm-7-9zm-11-11zm22-4zm4-2zm19-3zm1 5zm6-10zm15 1zm2-11zm0 0zm-4-3zm-11-1zm-20 7zm50 10zm0 4zm-1 2zm-6 2zm2 2zm2 5zm-3 2zm6 1zm5 1zm0 1zm-1 1zm3 2zm3-1zm-1-1zm1-3zm0 7zm-2 3zm-2 1zm-3-2zm-1 0zm3-2zm-6-1zm-6 9zm19 3zm1 0zm6-1zm1 4zm5-1zm2 5zm3 3zm4 0zm2 1zm-1 2zm6-2zm0 0zm0-4zm0-1zm6-1zm2 0zm0-2zm1-2zm2 0zm2 2zm1 0zm1 1zm7-1zm3 1zm8 1zm2-3zm6 1zm-1 5zm-4 6zm-3 4zm-5 1zm0 2zm-1 0zm2 0zm1 4zm8 0zm4-8zm3 1zm-1-3zm0-1zm5-3zm4 0zm6 7zm4 0zm4 0zm0-2zm0 11zm-3-1zm-1 2zm-1-1zm-4 1zm-5 2zm-2 3zm-2 2zm-3-1zm-3 2zm2 2zm-3 5zm-1 0zm5 2zm4-2zm8 0zm1 1zm5 0zm0 3zm-1 1zm6 0zm0-4zm1 0zm3-3zm1-1zm2 3zm1 0zm0 1zm4-1zm3 1zm0-3zm4 3zm0 2zm4 0zm2 2zm-1 2zm0 7zm-3 2zm-6-3zm0 6zm0 1zm-4 0zm-2 3zm-2 1zm0-5zm0-2zm-4 0zm-1 0zm-3 2zm-1 3zm1 1zm-3 3zm-1-1zm-6 3zm-1 0zm1-7zm-1-3zm2-3zm-8 0zm-2 2zm-1 4zm0 1zm0 1zm0 2zm-1 2zm0-5zm-1-1zm-1-1zm0 2zm9-1zm3-14zm-9 1zm-6 4zm-2-6zm-5-2zm1-2zm0-5zm1-1zm-7 1zm1 4zm-2 1zm-1 1zm2 0zm5 7zm-2 4zm-2 3zm-2-1zm-2 2zm-4 2zm-2-1zm-3-5zm1-2zm-3-2zm-2 0zm1-3zm-2-1zm-4 4zm-3-1zm-2 9zm-1 4zm3 2zm1 2zm2-6zm-10-1zm-1-17zm2-4zm7-2zm2-2zm-2-2zm0-2zm3 0zm3-4zm1-1zm6 0zm-1-1zm1-1zm-2 6zm-4 5zm9 0zm-1 1zm0 3zm0 10zm3 3zm-1 19zm-2 0zm0 4zm0 5zm3 2zm1 7zm1 0zm1-1zm2-2zm1 6zm-3 4zm0 1zm-5 3zm-5 2zm-6 0zm1 7zm4 6zm5 0zm2 1zm-1 1zm0 2zm0 1zm1 1zm1 3zm0 2zm0 1zm-2 0zm-4 0zm1-4zm-3-1zm-1 7zm-1 1zm2 2zm0 2zm-2 3zm0 3zm0 2zm2 1zm2 1zm-5 2zm0 0zm-4-1zm-2 1zm-3-1zm-4-2zm-3-3zm-5 0zm6-7zm10 2zm4 1zm0 2zm3 1zm6-2zm2 0zm7 0zm-3-3zm-1-4zm2-1zm2 1zm1-4zm3 6zm6 0zm4-1zm-1-3zm-1 0zm1-7zm-2-1zm-2 0zm0-2zm-3 0zm-1-1zm-2 0zm2-3zm0-3zm-5 0zm-3-1zm-3 0zm3 6zm-1 3zm0 0zm0 3zm12-6zm4-4zm0 0zm3 2zm0-4zm0-5zm1-1zm1 0zm1-1zm3 0zm3 0zm1 3zm-2 1zm2 5zm3 2zm0-5zm1-3zm1-1zm1 1zm2-3zm8 1zm-1 1zm1 3zm2 1zm4 0zm-1-4zm2-4zm3 3zm4 4zm1 2zm-6 3zm0 4zm3 2zm5 2zm1 0zm2-5zm2-15zm-4-1zm-1 2zm-2-6zm0-3zm3 0zm0-2zm-1-2zm0-4zm3 0zm-5 2zm-9 0zm-2 1zm0 6zm-7 0zm-3 0zm-3-2zm0-3zm-2-3zm2-2zm-2-3zm-2-1zm2-2zm1 1zm3 0zm3-2zm1 3zm2-1zm-1 3zm0 1zm2 0zm0 1zm-1 6zm0 2zm0 6zm-13-6zm-5 2zm-5-1zm-2 0zm1 1zm1 5zm-3-1zm-5-1zm-1 3zm2 3zm1 5zm9 4zm-1 6zm-1 5zm0 8zm0 0zm-3 5zm-2 0zm2 4zm5-1zm0-2zm1 0zm1 3zm-3 3zm1 5zm-4 3zm-1-1zm-2-3zm-1 0zm1-2zm-2-3zm-5-1zm-3-1zm-6 2zm-2 0zm2 6zm3-1zm2 2zm0 8zm-2-1zm-2 1zm0 4zm3-1zm2 1zm2 6zm-3 4zm-1 2zm-3-4zm-2 1zm-3-6zm-9-1zm0-6zm-5 2zm0-4zm0-2zm5-3zm2 1zm10 1zm17 2zm4 1zm-4 6zm1 4zm-5 7zm4 5zm12-9zm5 3zm3 2zm0 5zm1 4zm-5 1zm0 5zm0 7zm3-1zm4 1zm-2-5zm4-1zm2 1zm-4-3zm8-4zm1-5zm0-3zm-4 1zm9 1zm1 0zm-1-12zm-2 1zm2-5zm-4 0zm5-3zm-3-6zm-2-3zm3-2zm2 0zm1-3zm-1-1zm4-4zm-1-2zm-2-2zm0-1zm-3 2zm-4-2zm0 0zm-1 5zm-6 0zm-3 2zm-2-1zm-2-3zm4-2zm3-2zm5-4zm0 0zm0-5zm-2-1zm-2-2zm-3 4zm-7 2zm-1-1zm0-5zm-2-4zm6-1zm0-4zm13 7zm-5 24zm0 2zm-2 2zm0 5zm2-2zm-3 8zm-1 6zm-6 0zm-7-3zm5-14zm0-5zm-4-8zm-2-33zm2-16zm0-7zm1-1zm-6 3zm-2 1zm-3-5zm0-2zm-3 2zm-1 6zm-2 2zm-2 0zm1 2zm-2 10zm-2 6zm-13-9zm-3 0zm-1 0zm0-5zm4-1zm0 0zm0 3zm-2-5zm-5-4zm0-2zm-2-4zm3-2zm4-4zm11 6zm1 1zm-2 1zm6-5zm5-3zm30 1zm0 1zm2 2zm-5 1zm11-3zm0-1zm3 5zm2-2zm4 0zm2 4zm1-10zm1-2zm-9 0zm1 1zm2 3zm-6 14zm-1-34zm0-2zm5 0zm3 0zm-13 0zm0 4zm-4-15zm-4 1zm-2-5zm-10 4zm4-16zm15 0zm1 4zm0 1zm1 0zm0 2zm2 2zm10 4zm5-3zm1-1zm1 0zm0 1zm-2-5zm-2-3zm-1-2zm-4-4zm-5-1zm0 2zm14 23zm5-3zm2 9zm1 0zm4 11zm-4 6zm-9 71zm-3 6zm2 4zm1 8zm-5 2zm3 8zm-1 2zm-19 3zm-1 2zm-14 21zm2 2zm-4 8zm1 1zm-3 0zm-2 2zm-1 1zm-3 0zm1 3zm-6 2zm-1 4zm-3 0zm-1 3zm-4 0zm-3-2zm9 5zm2-19zm9-4zm4 9zm2 0zm-45 13zm3 6zm-10 0zm1 2zm-3-4zm-1-4zm-3 0zm-4 1zm0-6zm-2 0zm-2 0zm-2-1zm0 3zm-4-3zm-2 1zm-2 2zm-1 6zm-1 2zm-4-1zm-4 1zm0-4zm-4-3zm-3 3zm-1-5zm-6-3zm1 7zm2 4zm7 1zm-7 9zm2 3zm-9-3zm-1 1zm-4 0zm1 2zm-6-3zm-6 0zm-4-2zm-1-5zm-2-2zm5-2zm0-1zm2 3zm1-5zm0-2zm-1-2zm-2-8zm-1-3zm5 0zm-1-1zm6 2zm0 4zm2 0zm1-7zm5-2zm2 2zm4-4zm0-2zm5-4zm-1-4zm3-3zm3 2zm1 5zm1 1zm0 4zm4 0zm1-4zm5 4zm-2 4zm-3 2zm-6 0zm0-3zm1 1zm-4 1zm-2 3zm21 0zm0-1zm0 3zm2 1zm0 3zm3-2zm2-2zm0-5zm0-2zm3-2zm1-2zm1 6zm3 0zm-2 5zm-1 2zm-1 2zm-1 0zm-3 15zm5 3zm-9 1zm-1 2zm-3-1zm0-1zm-6 1zm-1 0zm7-10zm2-19zm2-6zm12-21zm0-2zm2-2zm0 6zm5-10zm2 0zm1-2zm0-1zm2 4zm3 0zm-1 2zm6 3zm-8-32zm0-17zm-2-2zm-1 1zm4-3zm-60 3zm-25 3zm-1 1zm-5 0zm-1 2zm-4-1zm4-6zm2-3zm-8 0zm0-6zm-2 1zm5 0zm-8 2zm0 2zm-4 4zm-1 0zm20 11zm5 0zm3 11zm8 4zm4 6zm-8 0zm-2 3zm-1 4zm7 4zm5-3zm5-3zm3-1zm-6 17zm-1 15zm-2 0zm-4 4zm-1 0zm0 1zm-3-1zm-3-3zm-2 5zm0 3zm-3 19zm-1 15zm3 2zm13-13zm2 2zm6-32zm13-15zm-106 3zm-2 1zm-3 0zm-7 6zm-20 4zm6 7zm-7 7zm-2-35zm-2-22zm-2 2zm4-7zm3-3zm3 0zm2-4zm2-1zm5 1zm0 1zm0 1zm-3 9zm1 2zm-6 4zm-3-7zm-6-8zm-2-1zm-2 0zm-2 3zm-5 2zm21-14zm-5-5zm1-2zm18 9zm2 2zm3-1zm6 3zm-10 10zm-1 19zm34-20zm5-2zm0-1zm-2-3zm0-1zm-15-13zm0 79zm-75-8zm6-13zm-27-104zm-1-4zm1-5zm-9 2zm196-52zm18-4zm5 0zm1 4zm0 5zm8-2zm9 0zm3-1zm1-1zm1 2zm5-1zm1-3zm6-1zm1 2zm0 1zm10-3zm2-3zm2-3zm-19 0zm-5-1zm-3 5zm0-17zm0-7zm-6-1zm-10 5zm-11-3zm-1 0zm1-2zm11-11zm-22-2zm-1-2zm-2 0zm4-1zm-3-8zm30 69zm13 0zm-2-3zm25 1z"/>
<path stroke="#d2e11b" d="M20 121zm0 3zm2 1zm3 3zm-1 2zm3 0zm-7 3zm-2 0zm-2-1zm-8 5zm4 5zm7 2zm-1 5zm1 5zm2 0zm6 3zm7 0zm7 3zm5 1zm1 3zm-3 0zm-1 1zm-4 0zm-2 0zm8 3zm1 1zm0 3zm0 1zm-2 0zm0 1zm0-2zm-5 2zm-1 1zm-5 4zm1 3zm-11-2zm3-8zm1 1zm-8-1zm-6 0zm-5 2zm1 2zm5 15zm-4 8zm13 0zm1 3zm4 5zm0 5zm2 2zm-4 2zm-1 8zm7 3zm4 0zm2-2zm1-2zm3-1zm6 4zm2 0zm1-1zm-1-1zm-1 5zm0 2zm-1 1zm0 2zm3-2zm0-1zm4 2zm0 2zm1 2zm-3 1zm1 3zm4 0zm3 1zm0 3zm-1 0zm0 1zm-2 1zm-3 8zm3 3zm5-1zm0-2zm1-3zm2-2zm0-6zm1-3zm1 0zm3 0zm0 2zm1 3zm1-1zm0-5zm3 0zm-1-7zm-2 1zm0-4zm-1-3zm-2 2zm-3 1zm0-3zm-3 0zm-2 0zm0 2zm-2-2zm-3-1zm-1 3zm0 1zm2-1zm3 5zm1 3zm3 0zm3 1zm1 0zm-5 4zm3 14zm2-2zm-5 6zm3 3zm0 4zm0 0zm-2-1zm-1 1zm2 4zm3 0zm0 0zm2-2zm0-2zm4 2zm1 0zm-1 3zm-2 1zm1 2zm-4-1zm10 0zm-1-2zm3-3zm0-1zm2-1zm0-6zm-2 1zm1-5zm2-5zm3 0zm2-1zm3 0zm0 0zm0-2zm7 0zm1 2zm0-5zm2 0zm6 0zm1 0zm2 0zm-2 2zm-3-5zm1-3zm0-1zm-3 2zm-4-4zm-6 0zm1-3zm-1-1zm-5 3zm-2 0zm-3-2zm-2-4zm0-6zm-1-3zm0-4zm0-1zm2-1zm2-1zm-3-3zm0-4zm3 0zm1-2zm3 1zm-2-7zm3-2zm0-5zm-1-2zm-1 0zm0-2zm1-2zm1-4zm0-2zm0-1zm0-1zm1 1zm1 1zm-3 0zm-3 1zm-4 0zm-1 1zm-1 2zm-3 4zm-3-1zm0 2zm0 0zm-2 1zm-2 1zm-1 3zm-1 5zm-4 0zm1-1zm-3 0zm2-2zm1-6zm0-4zm1 0zm5-1zm2-4zm-1-3zm-4 0zm0 3zm-1-6zm-1 1zm-1 0zm0-3zm-1 1zm-4 0zm0 3zm-2 0zm3 1zm-2 4zm-5 0zm0 3zm-2-1zm-2 1zm0 2zm-3 1zm-1-4zm2-4zm0-2zm2-1zm-1-7zm1-3zm0-3zm2 2zm3 2zm4 0zm2 1zm1-2zm3-1zm3-2zm0 6zm7 0zm0 1zm1-2zm0-5zm1 0zm-2 0zm1-2zm-1-1zm-2 0zm6-1zm4-1zm-1 3zm3 1zm0 1zm0 1zm2 1zm-1 2zm1 2zm1-1zm0 6zm3-2zm1 4zm5-1zm0-1zm3 0zm2-1zm2-1zm3 1zm9 0zm6 0zm1 2zm4-3zm7 6zm-1 5zm-7 16zm-2 3zm3 9zm3-1zm10 0zm1 2zm7 4zm-1 11zm-1 0zm9-1zm-3 18zm-10-4zm2-3zm-14 0zm1 2zm0 3zm-3 3zm1 5zm6 0zm-2 3zm3 6zm10 0zm0 6zm-1 0zm-2-2zm-3 3zm1 1zm-2 5zm0 2zm-5 0zm-3 1zm2-5zm-3-6zm-5 3zm-8 0zm1 1zm2 3zm-3 3zm-2 1zm4 2zm0 6zm1 1zm-1 1zm6 0zm-3 4zm11-1zm-1-1zm5-1zm4 0zm-1 4zm8-3zm0 0zm-2-6zm0-1zm-1-1zm-4 0zm9-1zm5-1zm7-1zm3 1zm4 2zm1 1zm1-4zm1-1zm0-2zm9-1zm2 4zm2 6zm-5-1zm-3-1zm1-1zm-3 9zm-1 2zm4 1zm3 1zm2 2zm7-1zm-1-4zm8 0zm-2 4zm-3-9zm-1-4zm4-1zm-4-6zm11 2zm8 0zm2 0zm2-2zm-2-5zm3-1zm-2-3zm-2-1zm-1 0zm-2-2zm-6 4zm-3-5zm-6-2zm1-8zm13 0zm5 3zm-1-8zm-3-5zm-3-1zm-2 16zm17 6zm2 8zm7-1zm-1-4zm7 4zm0 4zm-1 0zm-3 1zm8 2zm2 3zm6-2zm4 0zm2-6zm-1-1zm-1-3zm3-2zm-3-4zm2-6zm-8-6zm-2-1zm-6-3zm2 11zm1 4zm-2 1zm5 2zm3 2zm0 22zm2 0zm-1 3zm-4-3zm0-2zm-5 2zm-3-3zm-2 5zm-2-2zm-3-1zm3 5zm-9 0zm-3 0zm-1 1zm2-4zm-3-3zm-4 0zm-1-2zm-2-1zm-2-1zm7 0zm2-3zm-3 11zm-5 2zm-1 0zm-1 1zm-6-5zm-30 0zm-11 3zm0 0zm-5 1zm1 2zm-4-25zm10-3zm2-2zm-6-3zm0-1zm5-5zm-3-3zm-17 2zm-22 1zm3 4zm-13 1zm-4 2zm1 4zm6 0zm-4 6zm1 1zm-1 10zm-5-1zm-7-4zm-2 0zm-4 2zm1 2zm3 4zm-6-10zm-4 3zm-6 3zm15-13zm-2-2zm-1-4zm-2-4zm0-2zm7-1zm7 2zm0 11zm-5-4zm-1 0zm-15-15zm-3-1zm-4 2zm0-22zm1 0zm-1-10zm-2 0zm0 2zm-5-2zm-1-1zm2-3zm0-1zm-2-2zm1-5zm-2-2zm6 1zm4 0zm0 5zm-1 0zm1 1zm-1-11zm-2 2zm7-1zm-1-2zm-1-2zm2-1zm0-4zm3 2zm0 3zm-1 3zm4-7zm6 1zm-1-4zm4-5zm2-1zm4-6zm5 8zm-1 6zm-6 2zm-4 9zm0 10zm2 5zm0 0zm1 6zm0 4zm3 1zm0-3zm6 2zm-1 2zm3 0zm1-5zm-1-5zm0-1zm4 1zm-1-4zm1-2zm-3 0zm-2-2zm4-2zm0-6zm-4-5zm7-2zm2-3zm0 22zm-1 7zm2 3zm2 0zm0 0zm-1 2zm-1 5zm0 4zm-2-1zm-1 3zm5 2zm1 4zm0-22zm3 1zm7-1zm-1-3zm3-1zm0 8zm3 4zm28-17zm1-22zm10-8zm12-20zm-39-5zm-1-3zm0-3zm-11-11zm-4 3zm-3-4zm-2-9zm3-1zm-2-2zm-3-6zm0-4zm7-1zm-1-8zm-3-3zm-6 0zm0-1zm-1-1zm-3-1zm-6 0zm2-2zm-5 0zm-3-2zm-2 1zm-1 3zm-1 1zm-2 2zm-1 0zm-1 2zm-2 0zm0 3zm6-1zm1 4zm1 0zm2-1zm0 4zm-3-1zm2 6zm0 3zm1 3zm1 2zm1 1zm2-2zm6 0zm-2-2zm-1-7zm-3 0zm1-3zm1-1zm3-2zm-1-2zm-5-3zm2-12zm1-1zm4 1zm1-3zm2 1zm-4-2zm-13 0zm-3-1zm-4 0zm-3-2zm-1-3zm-2 5zm-3 1zm-3 2zm-1 2zm0 3zm-2 0zm2 5zm0 2zm5 0zm-1-3zm2-5zm1 1zm3-4zm5 8zm-3 12zm-2 2zm1 4zm4-1zm1 0zm2 3zm-3 1zm3 4zm0 2zm4-1zm0 2zm-1 4zm0 4zm-1 8zm-4 2zm-2-6zm-2 0zm-1-2zm0 0zm-1 4zm-1 0zm-3 0zm1 3zm-3-1zm-5 2zm1 2zm-4-1zm-2 1zm-1-1zm-1 0zm-2 0zm0-3zm1-2zm-2 0zm0-1zm-1 0zm1-3zm-2-1zm-2-4zm0 0zm0-2zm3 0zm-2-5zm0-3zm4 3zm2 1zm3 0zm3 2zm3 2zm2-1zm1-2zm0-2zm5-1zm-1 4zm5 0zm-1 5zm-2 0zm-4 1zm-1-1zm-3 0zm2-2zm-5 4zm-2 2zm-1 1zm-2 0zm3 1zm-10 4zm-4 0zm-2-4zm-2 0zm3-1zm0-6zm-1 0zm2 1zm-1-5zm-4 3zm-1-6zm-5 2zm-3 1zm-1-4zm-2-2zm-2-3zm-3-4zm-2 0zm-3 3zm-3-1zm-3-3zm0-2zm2-1zm-4 4zm-7-2zm6 18zm4-3zm5-5zm2-1zm-2 14zm-3 1zm5 2zm2-2zm-4 6zm-7-1zm-3-4zm-4-2zm30 0zm0 2zm-1-4zm1 11zm-5 1zm-1 2zm-4 0zm0 0zm0 1zm1 2zm7 3zm2 0zm1-1zm1 5zm1 6zm-11-3zm13-14zm4 0zm4 2zm27 1zm-2 5zm-2 0zm0 2zm0 1zm-1 0zm-1-1zm13 1zm4 1zm5-3zm1 7zm5-5zm-1-10zm2 0zm4-2zm4 1zm-7-8zm-6 5zm2-13zm5-21zm3-15zm2-1zm4-4zm4 0zm6-4zm3-1zm9 6zm7 2zm4 4zm-2 8zm0 1zm2 2zm8 0zm-7 9zm-8-7zm-8-5zm1-1zm-4 1zm5 13zm-6 5zm-3 1zm-51-3zm0-7zm-2 0zm-2-1zm0 3zm-5-1zm1-2zm-1-1zm-2 0zm-1-1zm0-2zm-2-3zm-5 0zm-1-3zm2-2zm0-6zm4-2zm-2-2zm-8 1zm-8 3zm-1 3zm-3 3zm-4-2zm13 2zm2 5zm3 2zm0 0zm-3 3zm-3-1zm-1 0zm-2 4zm-4 1zm6 3zm2-1zm10-7zm1 1zm11-4zm-2 16zm-3-1zm2-35zm-5-4zm32 0zm-4-5zm20-1zm35 3zm0 0zm-2 2zm7-1zm0 4zm-1-23zm-16-4zm2-6zm1-12zm3-1zm0-1zm3 2zm2 1zm1-1zm1 1zm0 4zm-3-2zm-1 0zm-10-1zm1-5zm-2-1zm-2 0zm-2-1zm-3 1zm1 3zm-3-1zm-1-6zm-5 2zm-7-9zm-1-4zm-1-4zm12 2zm5 5zm7-5zm-1-4zm4-1zm3 6zm0 3zm0 0zm-2 4zm-1 0zm11-1zm0 6zm7 2zm0 3zm1 1zm5 1zm0-7zm-1 0zm0-3zm-5 1zm3-6zm0-5zm4 1zm4-4zm0-3zm-3-3zm-2-1zm-3 0zm0-1zm-1 2zm7-2zm0-4zm2-1zm-4 2zm13 4zm-1 2zm-1 1zm0 1zm0 6zm1 6zm0 3zm-2 1zm-2 0zm0 3zm-1 1zm-1 0zm-1 0zm0-4zm13-4zm6-3zm0-2zm0-1zm0-5zm0-3zm-5-1zm1-7zm-1-4zm11 14zm4 11zm4 0zm-1-2zm5 2zm-1 6zm0 6zm2 0zm2-4zm2-5zm10 9zm3 1zm3 4zm-1 3zm1 3zm14-5zm1 19zm-4-1zm-3 3zm-3 0zm0 0zm0 2zm-2 3zm17 1zm2 2zm-4 3zm4-14zm9-2zm4 2zm3 4zm10-1zm2-6zm0-2zm9-2zm1 7zm4 2zm8-2zm4 4zm6-1zm6 3zm1 1zm0 6zm0 5zm1 5zm-3 1zm-2 3zm-9-6zm-3-1zm-3-1zm-4 3zm-4-2zm1-6zm-5 0zm-3-1zm0-3zm-3 6zm3 5zm-1 2zm-5-2zm-3-3zm-2 5zm-1 4zm-5-1zm-8 2zm6 7zm6 5zm6-4zm0 0zm4-5zm4-3zm5 4zm4 2zm1 0zm6-2zm-1 11zm2 10zm3 3zm3-2zm2-4zm3-5zm4 2zm3 1zm3 3zm3 3zm6 1zm2-3zm2 1zm-5-2zm1-7zm3-3zm-4-11zm-2-2zm0-2zm-2-3zm1-3zm-1-5zm4-2zm0 4zm-7-6zm-14 3zm-2 0zm-5-4zm-6 2zm-31 3zm1 43zm-4 0zm22 0zm1 0zm1-10zm6 16zm12 1zm1 6zm-4-2zm0 5zm0 2zm-7 2zm1 4zm-1 10zm-8-3zm-6-9zm-1-6zm-6-3zm-2 31zm2 5zm6 2zm2 2zm-10 3zm-7-1zm-1 13zm1 3zm7 1zm4-1zm3-4zm14-1zm-3 7zm-6 8zm-2 3zm0 4zm-8 2zm0-7zm-4 3zm-13 0zm-7-9zm15 19zm-4 12zm-6 1zm1 3zm-4 1zm-7-4zm-8-6zm-8 3zm-11-3zm-3 21zm-2 0zm12 9zm37 2zm1 7zm7-1zm5 8zm0 7zm6-8zm-21 1zm-2-1zm0 6zm-4 0zm8-2zm-1 6zm-6 5zm-20 6zm28-50zm3-6zm4 0zm5 0zm15 9zm21-5zm6-15zm6-8zm11 3zm-4-21zm0-7zm-1-4zm-9 4zm0 8zm4 1zm-7-3zm-3-1zm-5-3zm-4-1zm2 7zm4 4zm-12-2zm-7 13zm5-33zm8 2zm4 4zm3-6zm6-1zm1-4zm5-4zm-1-3zm-2-3zm-2-3zm1-9zm1-3zm7 1zm5 2zm-18 2zm-2-8zm-2-1zm-1 0zm-5 3zm-1 11zm-2 8zm1 3zm8 2zm3-2zm-3-4zm6-28zm-2-3zm2-4zm-3-2zm-2 3zm7-7zm-4-7zm1-2zm-5-15zm13-4zm9 31zm-13 12zm-66 18zm-79 70zm3 14zm-13 12zm3 4zm-47 19zm-20 10zm-52-28zm-13-9zm5-5zm0-9zm-3 2zm-2 0zm-6-4zm-6-2zm-3-2zm3-25zm3-1zm2 6zm3-1zm3-1zm0-1zm0-8zm-2 0zm-1 0zm3-3zm4 1zm1-3zm0-2zm-1-2zm-2 0zm-3-1zm0 2zm-2-3zm-1-1zm2-2zm3 2zm6 3zm2 1zm3 4zm2-1zm2 6zm2 2zm-3 4zm-3-1zm0-4zm-1 1zm-5 2zm0 8zm3-2zm0-1zm1 7zm3 0zm-1 3zm6 0zm2 2zm6 0zm0-2zm1-1zm-5-2zm0-6zm-4 1zm0-25zm-2-3zm-3 2zm-1 0zm-2 0zm-26 1zm4 5zm-10 14zm62 9zm5 5zm16-16zm-26-13zm-1-1zm1-17zm5 0zm58-125zm35 0zm7-1zm4 1zm11 0zm1 0zm-2 3zm-3-12zm1-3zm4-6zm7 5zm3 6zm5 5zm-56-22zm-1 0zm0 1zm2-2zm2-2zm-3-2zm2-3zm2 0zm-6-5z"/>
<path stroke="#d2e11b" d="M21 117zm3 2zm5 6zm6 2zm2 2zm0 2zm-5 4zm-2 0zm-2 5zm-3 6zm9 1zm-1 7zm4 0zm4 1zm5 1zm2 4zm-1 2zm4-1zm1 0zm1 1zm2 0zm0 1zm0 1zm-3 0zm-1 7zm-1 2zm-5 1zm1 4zm3 0zm-1 4zm-1 3zm0 5zm-1 2zm-1-4zm-4 1zm0-6zm-2-5zm-4-1zm0-2zm-1 5zm-3 2zm-3 2zm0-5zm1-2zm-3 1zm0-3zm0-7zm4-3zm14 1zm-2 6zm-1-11zm7-13zm3-2zm5 2zm3-2zm0-1zm-2-6zm-4 0zm0-3zm-1 0zm1-1zm3 1zm0-4zm-3-2zm2-3zm0-5zm4 1zm6 1zm1 0zm4-1zm2-1zm-1-1zm1-6zm3 0zm2-5zm2-1zm2-1zm-1-4zm-5 3zm-2 1zm-1 1zm0-10zm4-1zm6-7zm2 1zm10-3zm0-1zm10 2zm3 2zm1 5zm3-1zm6 2zm-2 3zm4 3zm-2-12zm1-4zm-13-2zm-1-4zm0 23zm-1 3zm-2 1zm1 1zm5 0zm1 4zm0 2zm-5 0zm-1 1zm1 2zm0 4zm-1 3zm2 2zm3 1zm7 0zm3 0zm0-2zm0-6zm-5-2zm-5 1zm0 2zm-12-2zm-2-1zm-1-1zm-1-1zm0-4zm-1 1zm-2 1zm-2-2zm2-4zm6-2zm1-3zm7-1zm-6 12zm-1 12zm-1 13zm-1 3zm-6-2zm-4-1zm0 0zm2-2zm0-1zm-4 0zm-1 0zm1 1zm-1 7zm-7 0zm0 1zm-3-4zm-3-3zm4-3zm2-4zm3 0zm1-1zm-2-3zm-1-2zm1-2zm2 2zm-7 4zm-5 0zm-2-11zm-1 0zm-1-3zm-1-4zm-2-5zm-1-9zm3 0zm-15 5zm-2 0zm3 3zm-4 3zm0 6zm1 5zm2 1zm0-2zm0 4zm1 2zm2 11zm1 1zm-4 4zm10 14zm1 0zm10 3zm3 0zm0-1zm3 0zm0 1zm0-4zm1 1zm-4 6zm-5 0zm0 4zm0 2zm-1 1zm-1-4zm-4 3zm1 10zm3 2zm-4 3zm0 2zm-4 2zm0 7zm0 4zm0 4zm5-2zm5 0zm1 1zm1 3zm-6 1zm-1 3zm-1-1zm-4 3zm-4 2zm-3 1zm0-4zm-4 1zm0-5zm-7 3zm-3 3zm-1 0zm-1-4zm-9 0zm1-9zm3 1zm1-7zm4-4zm4 5zm-14 2zm-4 5zm4-21zm-1-6zm-9 1zm-1-7zm-2-9zm9 1zm-1-26zm3-4zm-8 2zm21-19zm18 2zm6 4zm28 15zm1 21zm3 0zm8 0zm1-1zm-2-1zm-1 7zm0 0zm2 3zm2-1zm0-4zm4 2zm-8 5zm-3 3zm-4 0zm-1 1zm-1 2zm3 1zm0-5zm-4-1zm-4-3zm3-4zm-7 9zm-2 1zm0-2zm-2 0zm-1 2zm-1 0zm3 4zm2 0zm1-1zm0-1zm4 4zm4 0zm0 2zm2 8zm-1 1zm4 1zm0-4zm3-4zm2-2zm1-6zm0 16zm2 1zm-1 7zm-6-1zm-3 0zm1-2zm0 7zm0 2zm0 2zm-1 1zm-1 3zm-3 0zm0 1zm2 4zm1 1zm1 2zm1 6zm9-1zm-1 6zm5 1zm7-1zm9 4zm3-3zm1 6zm6-3zm10-7zm3-21zm1-4zm-1-6zm-2-2zm1-8zm12 5zm8-22zm-14-13zm-12-7zm-9 2zm-4 0zm-1-2zm-1-4zm-7 3zm-2 4zm-2 2zm2-13zm4-21zm16-3zm8 0zm-1 2zm4 0zm1 1zm0-6zm1-1zm7-2zm4 2zm1 8zm-6 2zm14-8zm-7-21zm-8 7zm-8-2zm-4 0zm-2 0zm0-2zm-2-1zm-1 10zm-4 26zm0 32zm-4 13zm-11 2zm-1 1zm0 3zm2 1zm-7 0zm-1 12zm0 2zm4-2zm0 7zm4-3zm2 1zm10 6zm-12 9zm-12-11zm-11-1zm-5-1zm-1 0zm-1-6zm0-4zm-1 0zm-5-1zm1-2zm1 0zm-4-2zm-1-1zm0-5zm-3-2zm-1-1zm-3-2zm2 12zm-1 3zm4 0zm0 3zm4 0zm-1 3zm-2 0zm0 4zm-4-1zm-1-2zm-3-2zm-3 1zm1 3zm0-9zm-5 5zm20 1zm-4 8zm0 4zm5 7zm0 1zm-2 9zm-3 1zm-1 1zm-5 2zm-3 1zm0-2zm0-1zm-4-3zm-2 1zm-5 1zm-2-1zm0 7zm9-2zm1 9zm-2 0zm-1 1zm-3 7zm0 4zm-2 0zm-4-3zm-4 0zm-1 6zm9 4zm4-1zm2-2zm2-2zm4 1zm0-2zm0-2zm0 7zm-1-1zm4-2zm10 0zm-5-5zm0-3zm2 0zm-1-1zm-1-3zm0-1zm-3 0zm1-3zm6-1zm1-4zm11 1zm4 4zm-1 8zm3 0zm-1 5zm-1 0zm-2 2zm-3 3zm6 1zm2 6zm2 0zm1 3zm5 0zm2 1zm-1 2zm-1 1zm-1-10zm6-4zm0-8zm5-2zm3 2zm5 0zm7 2zm-1 7zm1 3zm-4 3zm-4-4zm-8 2zm4 11zm-1 3zm4 3zm7-1zm-2-3zm-1-4zm5-1zm1 3zm8 6zm1 3zm0 3zm5 4zm5 4zm2 2zm2 0zm9-1zm-1 5zm9 2zm6 1zm2-2zm5-3zm-4-5zm-4 2zm0-6zm-3-3zm-2-1zm0-2zm-9-5zm-3 2zm0-7zm-7 0zm-3-9zm10 0zm-1-5zm1-4zm2 0zm2-5zm14 6zm0 4zm6-2zm8 6zm2 3zm1 3zm3-5zm4 0zm3-2zm1 8zm2 0zm0 1zm1 1zm-4 3zm0 4zm1 4zm3 1zm1 1zm-1 2zm-1 0zm4 1zm0 8zm0 1zm3 0zm-1 2zm7-4zm2 1zm2 1zm-5-6zm9-8zm6 3zm8 0zm0-6zm-1-1zm5-3zm3-5zm1-11zm-7 2zm-4-10zm-10 2zm-3-3zm4-5zm0 17zm0 3zm-1 3zm-4-3zm-10 4zm-1 8zm-13 12zm-3-1zm-1 2zm-2 0zm-3 2zm1-10zm-3-1zm-1-1zm2-1zm-1-7zm-9 2zm1 1zm0 2zm-6-6zm-9-4zm-20 13zm-5 16zm-5-1zm-2-2zm4 0zm-6 2zm-9-3zm-1 0zm-1-1zm-3-5zm-4-1zm-1 4zm-9-2zm-1-4zm-7-4zm-2 2zm-5-2zm-2-2zm-1-1zm-2 1zm-9-3zm-6 8zm-4-14zm-8 0zm-1-2zm-6 1zm2-4zm9-2zm9 3zm15-2zm-1-15zm-18-3zm-1-25zm-1-2zm-3-1zm-2 1zm-5 4zm-7 0zm-2-2zm-6 2zm-3 2zm-2 0zm2 6zm0 14zm-5 2zm-1 3zm-3-8zm-8-7zm48-15zm-2-5zm1-59zm98-10zm5-57zm15-29zm-1-3zm4 1zm4-5zm9-3zm2-10zm-2-6zm-5-8zm-2-6zm1-4zm-9 5zm0 4zm1 4zm0 10zm-8-4zm0 11zm-12-3zm-8 0zm2-3zm0-4zm-1 0zm-5-3zm-2 2zm-2 3zm0 0zm1 5zm-1 8zm0 1zm-3 1zm0 1zm8-1zm1-2zm2 0zm-4-1zm1 8zm-22-4zm2-9zm-2-7zm35-1zm0-4zm5-4zm2-2zm2-5zm38 13zm3 4zm5 9zm12 6zm-1 8zm15-3zm-1 21zm-4 4zm12 1zm1-5zm2-1zm1 0zm0 13zm3 7zm-5 7zm18-1zm-4-11zm7-3zm10-1zm0-4zm5 1zm2-1zm-4 8zm3 7zm0 1zm6-5zm1-2zm4-1zm-1 11zm1 2zm1 2zm8 1zm0 6zm4-10zm1-3zm1-5zm5-3zm4-3zm0-3zm0-1zm-4-2zm-3 5zm-3-1zm-4-2zm-2-9zm-1-2zm4-1zm7 0zm10 8zm2 0zm-1 5zm0 13zm-6-3zm2 14zm-1 2zm5 2zm3 7zm1 1zm-3 11zm-11 1zm0 1zm-2-2zm-4 3zm0 7zm5 0zm-1 2zm-9 2zm-1 3zm-4 4zm-7-2zm-5 2zm-5 6zm-1 9zm-3-1zm1 9zm-3 8zm-2 8zm-3 2zm2 7zm-2 7zm6 3zm8 0zm0 2zm0 0zm-2 8zm-6 10zm-15-1zm-5 10zm-15 5zm7 8zm8 14zm0 20zm-3-1zm-15-5zm-11 6zm0 0zm1 1zm0 4zm2-1zm-4 3zm-3 1zm1-28zm-27-16zm4-9zm5-6zm-6-24zm-35-11zm-21 14zm-11 36zm-6 1zm-3 4zm-29-18zm77 3zm19 50zm-5 6zm-1 2zm84-19zm4-3zm-2-16zm21 2zm1 2zm15-20zm8-4zm3-2zm2 5zm-11-27zm-7-3zm-3-5zm-2 1zm-3-10zm-10 1zm20 2zm7 3zm6-4zm-2-7zm1-2zm-9-1zm-4 0zm2-13zm0-1zm-4-3zm16 0zm-1 5zm-1 4zm9-3zm0-12zm-3-10zm0-4zm2-7zm4 11zm-14 1zm-1-6zm-6-1zm-12-10zm-3-19zm-1-5zm-5 0zm-2 3zm4 0zm8-4zm-6-9zm-8 0zm-24 11zm6 6zm5 22zm3 14zm-9-2zm1 6zm-7 17zm-1 4zm-4-35zm38 9zm19-34zm-15-54zm-2 1zm-5-3zm-2-5zm-3-2zm-2 0zm0-1zm-1 2zm-6 0zm0-1zm-4 2zm-3-3zm-5-1zm6 12zm23-11zm-162 2zm111 164zm88-26zm5-13z"/>
<path stroke="#90d643" d="M11 136zm13-10zm1-1zm13-7zm11-3zm2-6zm0-8zm10 2zm3 2zm3 5zm0 10zm-7 5zm-7 3zm0 6zm-5 0zm-5 4zm-6-3zm2 21zm6 9zm2-1zm2 3zm0-6zm11 0zm3 0zm2 0zm4-1zm3 0zm-1 3zm2 0zm8 1zm4-2zm-1 7zm0 8zm-3 0zm-1 0zm-4 1zm-4 3zm3 3zm2 0zm0 4zm-1-1zm-1 4zm5-3zm4-1zm10 4zm12 0zm11 1zm1 8zm1 4zm-7 2zm-2-3zm-1 14zm7-4zm3 10zm5 10zm-8 2zm-8 4zm-12 0zm-2 3zm-6 0zm0-1zm-4-2zm0-1zm-2 2zm1 3zm-9-2zm-6 2zm2 2zm0 0zm0-10zm6-1zm-4-9zm-3-2zm-4 1zm-1-6zm1-3zm-4-5zm-4-1zm1 4zm-5-8zm1-2zm-1-4zm12 1zm4 1zm0-4zm2 0zm-1-2zm-5-4zm0-1zm-6 0zm-13 0zm-5-2zm-6 1zm-5 6zm-7 5zm-3-2zm0 5zm0-23zm1-4zm4-3zm-11-1zm-1-9zm-5 4zm33 5zm15-1zm0 8zm5-2zm3-10zm-5-3zm-3-9zm7-1zm-4-9zm3-9zm8 3zm0-9zm-1 1zm7-1zm1-2zm0-4zm-2 1zm7 5zm6 1zm3 1zm0-4zm2 0zm2 2zm5 0zm2 7zm-2 6zm4 2zm-5 7zm-2 9zm0 0zm-2 5zm0 2zm-2-3zm9 1zm2 5zm4-3zm3-3zm-4-3zm7-2zm-1-2zm2-3zm-3-2zm-1 0zm8-5zm6 0zm3-6zm1 0zm-7-2zm-1-7zm-9 1zm-3-3zm1-5zm2-1zm2 2zm2-6zm-1-2zm2-3zm0-1zm0-4zm-1 0zm-1-4zm-4 6zm-3-2zm-2-2zm-5 2zm-1 1zm2 1zm-1 2zm3 1zm-9-3zm-5 5zm3 4zm-7 12zm2 6zm3 4zm-5 5zm1 1zm-6 1zm-2-6zm-4 1zm0 1zm2-5zm-1-28zm4 0zm0 1zm-5-8zm11-7zm5-3zm5 0zm-1-7zm2-3zm7 3zm4 0zm5 1zm2-8zm-5 18zm-7-7zm-6 11zm-4-3zm31-1zm2 0zm7-4zm-2-7zm13-2zm2 0zm0 1zm1 1zm-1-7zm7 9zm1 1zm2 1zm1-2zm0 9zm-7 2zm-2 4zm-3-3zm-5 1zm-1-4zm2-3zm0 11zm1 2zm-1 3zm-1 0zm2 7zm1 5zm7 0zm2-3zm-3-7zm1-2zm14 1zm0 2zm0 5zm1 4zm5-5zm0-3zm5 2zm0 0zm5-1zm5 7zm-4 4zm1 4zm-1 5zm-2-1zm0 0zm-2 4zm-12 0zm-2-5zm0-1zm-6-1zm-3 3zm-7 0zm1 8zm5 1zm5 1zm0 5zm-3 1zm-6 5zm-1 0zm-10-3zm-2 0zm0-5zm-6 8zm-6 0zm-3 0zm1 5zm9 1zm5 3zm5 3zm7 3zm3 2zm0 1zm5-6zm9 2zm4-2zm4-1zm1-2zm-1-3zm-7-1zm4-6zm0-3zm-1-3zm-2 0zm12 3zm10 1zm-5 5zm0 8zm-5 12zm0 4zm-3 4zm-3 0zm-3 2zm0 3zm0 0zm-4-2zm-7 3zm-4 0zm-8 1zm-6 4zm-1 6zm-1 3zm5 2zm2 2zm5 5zm5 1zm5-3zm-4-5zm11 3zm7-2zm2-1zm1 0zm3 11zm7-1zm5 4zm2 4zm-2 3zm-2 3zm-12 0zm-4 2zm-5-1zm1-7zm-6 3zm-3-3zm-3-1zm0-3zm-10-2zm-3 3zm0 3zm-3 0zm0-5zm-4-7zm-2 1zm-6-3zm-1 0zm0-2zm-3-8zm-1-6zm1-3zm12-2zm-1-1zm4-4zm3-1zm3-3zm25-4zm1-4zm-5-1zm7 18zm15-2zm1 11zm1 7zm5 7zm1-1zm1-1zm-2 8zm3 10zm4-2zm1 1zm1-3zm3-3zm0-5zm4-1zm6 6zm1 0zm0 3zm3 7zm1-1zm-11 0zm-6 1zm-1 3zm1 4zm11 0zm0 8zm6-1zm1 3zm0 5zm-2 2zm-2 1zm2 4zm1 0zm10 0zm0 2zm3 0zm2-1zm0 0zm-1-3zm5 4zm4-1zm-1 4zm2 7zm1 8zm2 2zm1-1zm-11 5zm-2 1zm-1-8zm-1 0zm-1-1zm-5 0zm-1-7zm2-5zm-1-1zm-12 5zm0 4zm1 2zm-2 0zm-4 1zm1-6zm-7 0zm-3-3zm-4 5zm-4-1zm-1 3zm3 1zm3 4zm1 3zm4 2zm2 1zm-4 2zm-2 3zm0 1zm-14-2zm-3-2zm-7-1zm-3-8zm-6 2zm-7-1zm5-7zm0-4zm-6-3zm-2 0zm-2 5zm-5-1zm-2 1zm1 3zm0-10zm2-1zm2 0zm-5-1zm1-5zm4-5zm0-8zm-4-4zm-6-1zm0-3zm0-1zm-5-1zm0-1zm0 8zm-3 0zm-2 4zm2 2zm0 1zm-1 2zm6-3zm0 10zm-2 1zm3 5zm-7 3zm-7 0zm-3-7zm1-4zm-10-2zm-2 5zm-1 0zm0 3zm-14-3zm-4-1zm0-1zm-1-2zm-3-1zm-6 4zm-7 4zm1 6zm2 1zm0 1zm2-1zm7-1zm4 4zm0 6zm9-1zm-5-9zm0-21zm-1-4zm0-14zm0-1zm-4-6zm-8 2zm-8-3zm-5-7zm2-5zm-5-2zm2-7zm3-1zm8 2zm3-2zm4-1zm-9 9zm1 5zm-37 0zm-5 1zm0-2zm-1-4zm-1 8zm-1 2zm-6 0zm-3 4zm-3 1zm5 1zm8 0zm7-4zm-2 20zm8 0zm1-4zm6 1zm1 4zm1-8zm1 23zm9-3zm-32-18zm-12-1zm15-42zm46-19zm22-1zm0-1zm2-2zm9 5zm-4 6zm-3-42zm14-18zm-1-1zm-2-6zm-3-5zm7-2zm3 8zm16 14zm27-2zm-1-1zm-1-16zm2-2zm2-5zm-3-7zm-9-2zm2-10zm8-2zm1 0zm5 2zm3 0zm3-1zm-7 6zm0 0zm10 6zm2 5zm2 1zm-6 6zm-3 0zm-3 1zm-14 0zm0-1zm23 26zm-4 8zm10 2zm-5 34zm10 3zm4 2zm10 4zm-3 11zm-12 6zm20 5zm3 7zm1 6zm10 9zm2-1zm12 0zm2-1zm1 7zm-6 0zm-5 4zm12 2zm0 5zm0 2zm-2-3zm-1 7zm-4-1zm17-2zm0-3zm1-1zm2 2zm4 3zm2 2zm0 4zm1-1zm3 3zm6 0zm3 1zm0 1zm0-4zm-3-6zm2-4zm4-2zm1-2zm-1-2zm2-2zm-2-5zm-2-4zm-4 3zm-1 1zm-3 7zm-3 2zm5 1zm-9 1zm3 4zm2 3zm2 17zm1 8zm-3 4zm-5-3zm-4-6zm-1-6zm-2-3zm-4-5zm2-15zm1-1zm-2-6zm0-8zm-1 0zm-1-2zm0-7zm9 0zm3-3zm4-5zm0-3zm-1-1zm2-1zm0-1zm0-1zm3 1zm0-2zm2 5zm6 2zm3-2zm0 8zm-1 2zm-5 0zm6 5zm3-3zm2 1zm1 7zm-1 5zm10 0zm7 0zm-1-3zm-3-6zm-5-1zm0-1zm2-9zm3-2zm0-3zm-4-3zm8-1zm4 0zm2 2zm2-3zm1-1zm2-2zm2-7zm3 1zm0-3zm3-6zm0-2zm-1-6zm6-2zm6-1zm-2-3zm2-5zm-4 0zm1-3zm-10 2zm-4 1zm-6 0zm-1-4zm7-2zm2-4zm3-6zm-8-4zm-1-6zm-1 0zm6 1zm-4-9zm-8 0zm-4-1zm-3 4zm0 2zm-2-2zm-5-1zm1-1zm-2-4zm5 0zm-10 1zm-3 6zm-2 3zm5 1zm1 2zm2 2zm3-2zm3 2zm7 4zm-2 5zm-1 3zm3 0zm6-3zm1 0zm0-1zm-3-1zm-8 12zm0 1zm-6 0zm-2 0zm-2 2zm-2 4zm4 0zm-1 5zm4 0zm-1 6zm0 4zm0 1zm4-2zm4-4zm3-1zm6-2zm0-6zm-1 0zm6 0zm11-1zm3 16zm2 3zm4 0zm0-2zm1-3zm0 24zm4 2zm-1 7zm-2 2zm-3 6zm-5 2zm-2 1zm2 2zm-5 5zm-2 3zm-5 1zm0 1zm-3-2zm0 5zm0 5zm2 4zm-5 0zm1 5zm-5-2zm-5 3zm0 2zm-2 0zm-7 4zm-2-7zm-1-9zm-6-1zm8-7zm10 3zm1 2zm1 1zm16 0zm-3-12zm-5-5zm0-6zm-2-5zm-1-3zm0 0zm-2-3zm5 0zm5 3zm2 1zm6 7zm5-13zm-23-12zm-1-7zm-6 1zm-2 0zm-5 0zm-6-2zm-3 2zm-2 3zm0 5zm6 1zm4 8zm-6-23zm0-2zm0-4zm0-3zm3 2zm0 3zm1 0zm-10-4zm-6-1zm-1-5zm-3-4zm-5 0zm-1 4zm1 5zm1 1zm0 2zm-1-1zm-1 1zm-5 1zm0-4zm-6-4zm2 11zm6 8zm5 2zm2-1zm3-3zm-5-1zm-1 10zm0 0zm-10 2zm-1 0zm-3 2zm0 2zm-6 0zm13 1zm-1 3zm-3 3zm4 16zm1 1zm1 2zm-1 1zm3 4zm2 30zm13-1zm0 7zm5-3zm1-1zm4 0zm2 3zm1 1zm-4 1zm-5 3zm3-13zm-58-17zm-23 6zm-1 5zm-1 5zm-4 0zm-3 1zm-6 5zm0 4zm-2-1zm-5-13zm-5-2zm-2-4zm5-1zm-15-3zm-3 2zm0 2zm-2 6zm8 0zm1-15zm-2 0zm-6 2zm-5 0zm-10-14zm-23 13zm-6 3zm-5 1zm2-5zm4 41zm4-1zm2 3zm5 0zm2-1zm-3-6zm12 9zm3 2zm30-13zm-1-3zm35-7zm7 22zm-16-55zm39-13zm0-3zm-1 1zm7 3zm-14-13zm0-19zm19 0zm2 4zm27 1zm5-5zm-6-7zm2-14zm2 1zm5-2zm4-11zm1 0zm-3-4zm-1-4zm-8-1zm-2 3zm1 2zm-10-2zm1-2zm-1-2zm-4 2zm-1-5zm1-2zm3-4zm5-1zm2 2zm4 1zm3 4zm12-8zm-1-13zm2-2zm4-4zm8 0zm2 0zm3 4zm4-5zm1-5zm-4 1zm2-9zm2 1zm1-4zm-2-10zm2-2zm5-2zm0-2zm7 0zm3-5zm0 12zm-1 3zm2 3zm9-1zm5 0zm-7-7zm0 0zm-1-2zm-1 23zm4 3zm-6 2zm1 11zm-5 2zm-3 2zm0 1zm10 3zm-1 4zm-2 0zm0 1zm0 3zm7-17zm1 1zm14-6zm-8-10zm-28-2zm2 7zm-1 8zm-17-19zm-8 0zm-1 0zm-3 2zm1 3zm1 2zm-4 2zm-3-2zm-1 4zm-3-2zm-5-8zm-1-4zm2-1zm3 1zm3 0zm2-9zm3 0zm2 0zm-3-4zm-1-1zm1-6zm-6 1zm-1 2zm-2 2zm-1 1zm-8 0zm-2-3zm0 8zm3 2zm-1 2zm-6 2zm-2 0zm0 6zm-1 3zm-5-2zm0-1zm0-9zm0-2zm1-5zm-9-1zm0 0zm-3 4zm1 4zm2-1zm4 1zm-5 8zm-4 6zm3 6zm9 0zm5 6zm3-2zm3 3zm2 0zm2 3zm3 0zm3 0zm-12 0zm0 3zm-4 2zm-3-1zm-9-1zm-1-5zm6 18zm-1 2zm-1 7zm13-38zm2-2zm5-2zm26-1zm-2-8zm4-4zm4-2zm1-3zm0-4zm-3 1zm-5-4zm1-4zm-4-4zm-2 1zm-1-5zm-4-3zm2-3zm-2-2zm0-1zm-12 0zm-2-2zm-15 0zm0 2zm0 4zm-8 0zm-1-2zm3-1zm-7-2zm0-1zm-1-2zm0 8zm-2 3zm0 2zm-1 2zm0 2zm-5 2zm0 3zm-9-1zm-3 0zm-5 0zm0 2zm9 2zm8 8zm4-1zm-3 9zm0 5zm1-35zm1-4zm-11 1zm-1-8zm3-2zm-1-7zm-4-3zm-7 2zm0 2zm-6-1zm-5-1zm-2 0zm-2-1zm-1-2zm-3-3zm1-2zm-4 3zm2 4zm11-2zm-1-2zm-1-5zm3-3zm0-2zm-5-3zm-15 2zm0 1zm-3 5zm-3 6zm-4-1zm-2 6zm-4 2zm-6 3zm-5 2zm0-5zm-6 1zm-6 5zm-5-3zm-3 0zm-5-4zm0-2zm-4-5zm0-1zm-8-4zm-1 8zm22 0zm1-12zm1 0zm6-1zm-1-3zm0-2zm-3-2zm-2-3zm-3 0zm10-1zm5-7zm5-4zm6 1zm-1 8zm-3 4zm4 2zm3 1zm-8 2zm1 2zm-3 1zm-3-1zm1-4zm0 15zm13-3zm10 9zm-2 3zm1-25zm1-1zm3-13zm-11-3zm-15-5zm-7 6zm-15 22zm-12-9zm-13 8zm-1 0zm41 33zm36 17zm17-23zm3-2zm5-14zm-14-28zm50 41zm1 18zm1-1zm0 4zm-5-3zm14-5zm2 1zm1 1zm12-1zm3 3zm2 3zm25-2zm3 1zm2-2zm6 2zm1 0zm-14 7zm-3-14zm5 120zm53-47z"/>
<path stroke="#55c666" d="M32 114zm2 17zm7 3zm4-1zm-8 11zm-10 1zm-1 3zm3 4zm26-7zm0-2zm0 18zm17 6zm11 2zm4 7zm2 5zm5-1zm-8 6zm-6 7zm-9 0zm-21-2zm-9 1zm3-10zm1-3zm-20 8zm6 19zm10 2zm6-1zm10 7zm1 0zm10 0zm2 9zm-2 14zm-12 6zm3 9zm8 8zm11 1zm25-8zm2 29zm10-7zm13 11zm6-2zm20 7zm8 1zm8-21zm13 4zm11 9zm5-15zm2 0zm5-1zm1-12zm7-5zm0-2zm1-2zm-3-4zm1-1zm11-7zm3-1zm-1-3zm4 0zm2 4zm2 7zm4 4zm6-10zm1-4zm19-1zm5 6zm4 0zm1-9zm-4-3zm2-6zm5 2zm5 0zm-1-5zm5-4zm0-9zm-4-4zm-6 2zm1 3zm-5 0zm-3-6zm-5-3zm-5 3zm-3 0zm-1-1zm-1 0zm-5 1zm-2-1zm-1 1zm-1-5zm3 1zm4-1zm-1-5zm-2-3zm1-5zm1-1zm6 1zm2 1zm2-1zm0-4zm1-2zm-3 0zm7 2zm3-5zm0-7zm5 0zm7-2zm4 2zm3 0zm0 6zm-10 0zm1 1zm1 10zm-5 1zm1-3zm-1 11zm0 2zm1 1zm-8-5zm-2 0zm-3-3zm-7 3zm4 12zm3 4zm-2 7zm-3-1zm-8 1zm-2 2zm-8-1zm-2 4zm-7 1zm-2-2zm-1 4zm4 1zm2 3zm-4 1zm0-14zm-2 1zm4-4zm1 0zm0-8zm-5-3zm0-3zm1-4zm9 7zm12 5zm0 4zm7 16zm12-8zm6-1zm12 12zm3-1zm-2 4zm1 3zm-1 6zm5 4zm6 5zm3 1zm3-3zm3 0zm3 0zm-1-1zm1-6zm-4-2zm1-3zm-4-7zm9-10zm10 10zm14-1zm0-4zm-2-4zm1-2zm2-1zm4 5zm7 3zm0-6zm0-6zm-2 1zm0-11zm-3-1zm4-4zm4-3zm1-2zm-9 1zm-1-4zm6-3zm4-5zm-1-12zm4-3zm-1-11zm0-7zm-1-3zm-5-2zm-2-1zm-2-1zm4-2zm4-2zm-1-7zm0-7zm-2-4zm5-1zm0-9zm-2-6zm-7 0zm-7-1zm-9 6zm-5-9zm-17 2zm-1 1zm3 1zm-3 4zm1 8zm-3 10zm-8-3zm-2 1zm-2 12zm0 16zm2 1zm-12 0zm-8 0zm3-6zm2 0zm-5-6zm-3 1zm0-3zm-1-4zm6-1zm0-4zm-8-7zm1-5zm-5 0zm-4-1zm-3 1zm-1 4zm0 0zm-3 5zm1 1zm0 3zm-4-1zm-1-1zm-1 4zm2 2zm3 7zm-1 1zm7-4zm4 6zm0 1zm-1 3zm-3 5zm3 5zm-1 8zm-13 0zm2 7zm-4 5zm7-17zm18 0zm33 1zm0 4zm7 5zm6-5zm8 3zm4-5zm8 1zm1 0zm-6-10zm17-2zm13-4zm2 7zm-2-20zm3-4zm-2-2zm-6 4zm-10-1zm0-7zm-7 1zm0 9zm-16 3zm-31-34zm0-1zm3-7zm-4-5zm-6 19zm-4-3zm-3 5zm-5 0zm-2 2zm-1-5zm1-11zm-24 1zm3 4zm-3 3zm-3 5zm1 6zm3 0zm1-2zm-11-9zm1-9zm1-6zm-1-1zm-4-1zm-4-3zm-4-1zm-1-1zm-1 2zm-1-3zm-4 4zm-5-3zm-15 3zm-2 2zm-10-1zm0 0zm2-5zm-9 0zm-2 3zm-15 4zm-10-1zm3 15zm11 1zm3 2zm3 3zm0 0zm4 3zm-9 2zm-7-3zm4 14zm6 1zm4 1zm-4 7zm4 5zm2 1zm-1 4zm0 2zm-3 2zm-4 2zm-1-7zm0-3zm-5-2zm-4 0zm2 7zm4 0zm-1 10zm1 4zm0 9zm-4 2zm-4 4zm-5 0zm1 1zm-2 1zm-6 5zm-6 4zm0 12zm10-3zm-2-2zm3-3zm5-4zm10 0zm8-2zm7-1zm2-3zm-1-6zm4 0zm-9-5zm2 19zm5-1zm3 1zm5 5zm0 3zm-2 3zm0 1zm-4 7zm-1 0zm-1-1zm-2-3zm-5-5zm0 10zm-4-1zm-7 4zm-7 2zm0 13zm12 0zm4 3zm1-5zm-1-7zm-5 0zm8-2zm3 13zm6 3zm1 1zm1 6zm4 2zm5-2zm0-7zm2-2zm5 1zm0 0zm4-5zm1-5zm-3 0zm-5 0zm1-1zm-4 3zm0 0zm-3 2zm-9 0zm11-15zm3-7zm5-7zm4-1zm-6-2zm2-9zm2 1zm8 0zm-6-9zm-1 1zm-6 4zm-1-27zm-9-2zm-4 1zm-2-8zm4-6zm-6-3zm-3 3zm8-10zm4-12zm-1-11zm5-3zm8-6zm24 0zm1 0zm-4-3zm15-1zm0-6zm-2-7zm2-4zm4-2zm0-2zm3-1zm4 0zm0-4zm2 0zm8 0zm10 2zm4-4zm4 2zm4 0zm9 2zm2-2zm-30 10zm-18 14zm-15-10zm5-8zm-3-9zm-5 3zm-7-11zm-10 0zm-5-2zm-6 3zm-9-4zm1-15zm14-2zm10 0zm-3 5zm1 4zm-34-3zm-11 0zm0 11zm5-4zm2 11zm-18-1zm0-9zm-3-20zm-4-3zm12 0zm20-2zm-59 12zm3 12zm6 45zm-26-2zm-36 7zm-5 20zm-5 5zm-15-4zm25 15zm2 0zm12 6zm17-1zm1-6zm12 0zm7 6zm9-8zm1-11zm-4-1zm13 3zm4 2zm0 18zm7 2zm5 10zm0 1zm-3 5zm-1 4zm-20 5zm-9 5zm-8-1zm-4 4zm-2-13zm8-8zm-20 4zm-5-9zm-4 16zm-5-2zm-8-3zm-11-11zm14 57zm1 0zm1 5zm14 3zm10 0zm4-7zm-9-14zm-14 42zm-35-9zm-10 16zm97-13zm6-5zm3-2zm-5-1zm-11 0zm15 15zm1 1zm9 1zm3-3zm6 9zm6 5zm3 4zm6 3zm2-10zm-29 9zm0-53zm53 6zm8 2zm2 4zm-2-11zm0-4zm-2 0zm5 33zm3 25zm14 7zm4 5zm6 4zm-1 15zm-9-3zm-5 6zm-6-8zm0-1zm-8-1zm-4-5zm3 18zm30-38zm9 3zm5 4zm8 5zm5 2zm3 7zm-2 3zm1-22zm-8-2zm18 3zm4 2zm1 1zm-2 3zm0 6zm8-12zm8 3zm14-8zm9-17zm5 4zm-37 8zm-10-2zm-4-2zm1-1zm13-37zm1-2zm-2-2zm-2 1zm-2-11zm3-8zm9 6zm5 0zm-4 7zm58-15zm0-75zm-114-50zm-60 47zm-12-3zm-1-3zm19 60zm-51-9z"/>
<path stroke="#2bb17d" d="M39 122zm-4 20zm-9 10zm6 27zm8 8zm2 4zm-21-1zm-4-3zm14 19zm2 6zm-17 15zm56-2zm0-3zm5-4zm-7-6zm1-6zm16-1zm14-8zm15-5zm22 2zm13 9zm4 1zm10 4zm12 0zm2 1zm-2-16zm8-1zm0 3zm11-2zm5-5zm12-5zm9 2zm0 4zm1 0zm2 4zm2 2zm-3 2zm-1 0zm-4-3zm-4 6zm-4-2zm1 10zm4 0zm4 3zm8 0zm3-6zm-1-2zm-1-1zm6-1zm-2-3zm-2-7zm-3-3zm-1-7zm6-1zm5 1zm2-3zm2-1zm3-6zm1 0zm1-2zm4-1zm2 1zm-3-6zm-4 2zm-5 2zm2-12zm3 0zm0-4zm0-9zm1-2zm-3-1zm1-2zm1-5zm0-1zm9 3zm0 5zm-2 3zm-3 0zm1 4zm10-3zm-2 14zm5 20zm0 7zm5 6zm8-7zm2-1zm3-8zm0-3zm-3-26zm1-4zm19 6zm9 1zm7 13zm11-10zm11 1zm-3-11zm17-6zm8-2zm3-1zm0-3zm-5 1zm0 10zm7 7zm0 10zm-2 0zm-3 2zm-2 1zm2 2zm-7 0zm-2-2zm4-1zm1-2zm-2-1zm1-5zm2 16zm1 6zm0 5zm-4-3zm-1-3zm-4-3zm-4 1zm18 0zm0 0zm3-1zm-3 6zm1 4zm-3 6zm-7-3zm0 0zm1 12zm2 0zm-4 2zm-2-3zm-8-6zm-7-7zm-14 18zm-25 9zm-10 1zm-3 13zm20 5zm8 14zm14-1zm-2-8zm11-4zm16-18zm-34 42zm-5 5zm-6 5zm-15 0zm1 10zm-9-6zm-3-12zm-23 5zm-11 4zm-17 2zm-9 1zm-26 1zm4 7zm-9 17zm-3-36zm1-24zm10-4zm12 4zm-1 3zm-3-22zm-3-4zm6-31zm-3-6zm1-3zm3-2zm3 5zm6-5zm-3-6zm1-1zm-14-1zm-9 3zm-2-5zm-5-8zm-2 0zm9-4zm5 5zm8-2zm4-6zm1 1zm-9-2zm0-14zm4 0zm7 5zm-17-1zm-1-7zm0-4zm-20 2zm-12-1zm-3-10zm0-23zm16-1zm0 5zm12 1zm-2 6zm18 1zm1-4zm1-1zm1-2zm-3 1zm3-7zm6 2zm9-6zm1 1zm4 6zm0 6zm-1 3zm-2-1zm8 3zm9 1zm2-8zm0-17zm5 0zm2 5zm10-21zm-24-8zm-27-17zm-32 13zm-7-3zm-6 2zm30 39zm7-3zm5 22zm34 11zm0 4zm8-6zm21-7zm7 9zm-5 5zm11-45zm8 7zm3-19zm15 6zm6 15zm2 8zm-1 7zm31 6zm-5 5zm3 8zm16-1zm0 2zm-13-31zm-109 58zm-14 25zm-25 2zm-10 0zm-19 7zm-10 11zm8 33zm-4 14zm-10 4zm-2-9zm-10 28zm-26-6zm-33-2zm7-14zm5-18zm3-2zm15-4zm-25-41zm7-10zm3-9zm7-20zm5 1zm19-7zm2-4zm-7-12zm-3-21zm-26 26zm-17 11zm-1 6zm-6 1zm5 6zm-15 9zm5 7zm-7 9zm5-58zm75 36zm-2 14zm-5-2zm21-22zm83 51zm2 3zm2 0zm3 3zm2 1zm2-3zm1-4zm3 0zm-1-5zm-3 1zm4 12zm7-1zm4 7zm-7 8zm-5 4zm-8 0zm-5-3zm0 11zm4 6zm12 4zm-3 6zm-15 5zm-144 41zm-36-16z"/>
<path stroke="#1e9a89" d="M43 110zm4 8zm-6 31zm-10 79zm30-6zm-3 34zm5 2zm27 12zm-3 6zm21-5zm-7-8zm-1-8zm1-32zm5-33zm32 26zm21-10zm29-10zm9 3zm-1 16zm5 0zm1-2zm11-5zm-6 18zm2 7zm30-2zm7-2zm0-32zm2-11zm1-1zm-5-4zm-3-1zm7-3zm-8-10zm-8 0zm-3 4zm-1-11zm-6 2zm-2 1zm0 1zm-5 0zm2 11zm1 0zm4 7zm-4-29zm-8-4zm0-2zm-3-1zm0-7zm11-5zm8 0zm13 0zm0-3zm2 1zm-3 9zm-1 13zm0 3zm0 1zm0 3zm5-2zm6-9zm5-5zm11 6zm-4 11zm21-16zm7 5zm1-13zm-2-7zm14 5zm4 16zm-3 30zm-25 4zm-11 9zm65-7zm2-4zm20 4zm5-4zm-2-2zm5 0zm-5 18zm-2 0zm0 2zm-9 16zm-17 15zm-29 8zm-12 26zm-55-4zm-47 16zm-12-7zm-5-7zm-8-13zm-14 12zm37-125zm-3-17zm-2-20zm11 4zm10-10zm5-5zm6 4zm1 2zm11 4zm6 5zm-2 4zm15-3zm3 4zm-4-10zm14-4zm33-1zm14-20zm-58-3zm-17 18zm-7-2zm-2-6zm-10 0zm-2-31zm-20-2zm-14 0zm-4-9zm38-17zm16 20zm-7 81zm-7-7zm30 3zm-2 3zm-31 34zm-72-47zm-13 13zm199 3zm32 9zm8 6zm2 7zm-13 5zm5 10zm3-66z"/>
<path stroke="#25838d" d="M50 166zm7-4zm41 19zm22 2zm17 23zm-13 18zm-44-4zm-18 41zm105 14zm1 7zm5-54zm-1-2zm8-6zm8-15zm-12-47zm-11-2zm39-9zm12 0zm9 1zm8 0zm0 6zm1 1zm0 5zm-4-2zm-1-1zm-1 10zm-1 2zm0 6zm-5-9zm16 5zm4-19zm-6-13zm-2 0zm-3 1zm2-8zm-6-10zm-4 3zm-7 0zm2 4zm1-12zm-2-2zm-8 2zm2 3zm-7 12zm18 7zm5-24zm-3-8zm7-8zm5-8zm-1-7zm-7-2zm-21 0zm-21-28zm22-31zm36 75zm-2 9zm-3 10zm3 4zm12 8zm-2-25zm11-8zm-1 67zm2 3zm-25 27zm68-7zm50 1zm-1 4zm6-8zm-2-12zm-6-11zm2-16zm-18-16zm-3 109zm-203-107z"/>
<path stroke="#2e6b8e" d="M209 59zm28 38zm2 14zm2 12zm-14 8zm6 25zm3 2zm-2 12zm0 1zm3 8zm3 22zm-5 27zm-19 35zm-46-49zm-51 39zm-47-11zm143-86zm80 21zm-1 4zm21-40zm-16-41zm-8-17zm28-11zm13 23zm18 12z"/>
<path stroke="#3a528b" d="M26 136zm109-10zm81-3zm6 11zm-9 36zm4 27zm82 22zm-19-75zm48-26zm24 50zm12-2zm-240 53z"/>
<path stroke="#453580" d="M72 126zm38 35zm13-58zm83 53zm24 89zm21 6zm-113 37zm221-177z"/>
<path stroke="#471567" d="M198 126zm18 28zm103 41zm-33 45zm-139 35z"/>
</g>
<path transform="translate(470 945)" d="M155 205zM202 45zM186 196zM323 193zM236 209zM91 216zM190 117zM240 279zM283 171zM83 265zM170 113zM129 146zM260 278zM298 188zM240 243zM221 118zM247 211zM113 134zM137 247zM343 164zM114 187zM117 235zM187 134zM348 195zM250 168zM136 130zM352 139zM222 99zM217 192zM330 197zM111 252zM286 190zM209 201zM193 211zM267 163zM357 179zM284 104zM311 124zM119 138zM196 150zM146 219zM353 137zM180 225zM119 278zM195 236zM317 90zM195 147zM195 211zM136 132zM127 148zM259 117zM334 151zM161 42zM250 90zM271 93zM229 249zM336 173zM221 257zM200 214zM290 133zM252 279zM351 119zM320 177zM217 115zM208 175zM231 161zM177 106zM117 138zM173 107zM123 219zM86 231zM191 149zM221 195zM286 121zM321 80zM351 152zM215 254zM293 188zM169 242zM215 120zM143 109zM171 181zM263 186zM140 182zM280 272zM109 157zM192 26zM348 148zM216 266zM217 191zM154 91zM118 202zM97 196zM256 180zM166 124zM228 177zM117 163zM289 221zM267 205zM336 110zM207 149zM168 194zM284 82zM241 137zM297 259zM148 280zM256 69zM182 177zM176 41zM189 186zM257 177zM265 189zM211 105zM353 162zM167 94zM248 208zM98 233zM240 120zM321 133zM340 188zM186 247zM211 92zM330 118zM343 192zM256 250zM337 137zM135 211zM183 253zM297 83zM288 164zM274 190zM147 208zM154 169zM103 221zM186 169zM155 192zM123 161zM318 120zM182 221zM300 241zM331 156zM173 221zM217 180zM335 131zM299 190zM208 208zM191 228zM147 169zM231 164zM266 272zM295 79zM241 169zM278 239zM183 265zM120 248zM152 245zM247 266zM295 132zM204 194zM318 203zM281 225zM226 196zM239 127zM127 139zM278 265zM213 246zM235 256zM158 158zM262 200zM276 108zM252 231zM249 226zM221 143zM184 284zM154 133zM127 108zM286 106zM186 91zM159 282zM129 163zM201 169zM118 244zM146 206zM120 122zM300 247zM137 192zM205 43zM323 149zM133 277zM286 126zM97 232zM180 263zM213 285zM104 159zM179 181zM223 257zM205 97zM134 260zM317 209zM198 201zM358 140zM155 123zM144 216zM208 286zM154 260zM116 264zM201 139zM105 265zM280 107zM299 113zM150 191zM95 251zM326 238zM94 213zM182 190zM280 219zM200 165zM195 271zM284 159zM274 267zM163 228zM317 164zM173 129zM107 178zM162 186zM150 187zM252 91zM126 110zM270 240zM305 94zM170 192zM119 123zM104 234zM238 231zM153 160zM268 165zM299 93zM171 173zM187 43zM169 222zM153 121zM358 125zM138 121zM346 187zM204 278zM103 174zM316 127zM157 230zM92 235zM109 162zM205 137zM300 101zM323 211zM208 163zM301 93zM289 182zM262 256zM299 121zM124 260zM237 228zM172 107zM260 211zM132 115zM116 252zM245 270zM126 274zM85 260zM221 206zM111 150zM275 84zM158 37zM195 105zM254 198zM266 275zM253 125zM198 175zM270 193zM121 150zM175 218zM173 19zM142 191zM181 186zM201 282zM274 145zM140 142zM147 149zM292 178zM204 156zM186 265zM311 73zM142 191zM271 93zM207 121zM307 144zM300 258zM184 216zM345 154zM182 254zM133 186zM146 183zM232 216zM89 234zM175 157zM199 148zM182 233zM239 86zM312 250zM306 121zM100 168zM195 277zM101 269zM290 141zM343 208zM298 68zM269 214zM292 233zM168 209zM222 237zM222 238zM285 135zM197 21zM145 254zM311 97zM229 276zM255 272zM307 76zM182 282zM216 92zM279 104zM210 286zM200 216zM200 272zM237 119zM247 268zM172 203zM227 285zM93 265zM328 132zM159 233zM157 180zM196 203zM176 253zM175 172zM295 178zM247 73zM175 168zM162 277zM219 270zM305 82zM111 150zM98 265zM147 203zM314 191zM133 159zM200 257zM170 147zM170 181zM212 98zM160 276zM171 142zM331 87zM169 134zM176 39zM163 27zM341 198zM274 125zM270 68zM213 125zM299 98zM150 127zM294 99zM325 124zM192 261zM278 146zM215 105zM144 228zM229 153zM224 110zM176 272zM158 233zM182 44zM340 187zM186 151zM163 90zM121 124zM278 151zM186 111zM324 217zM349 141zM281 176zM92 229zM316 76zM326 139zM176 96zM208 242zM228 182zM203 117zM108 145zM184 154zM217 206zM175 211zM349 185zM359 163zM355 184zM126 158zM104 162zM222 100zM134 145zM156 95zM184 197zM197 18zM338 92zM199 224zM307 179zM154 232zM179 288zM166 223zM190 109zM173 154zM301 72zM157 123zM279 124zM196 29zM73 251zM259 169zM109 202zM211 203zM172 225zM128 173zM275 167zM349 149zM208 260zM328 228zM132 268zM279 141zM201 99zM227 162zM299 119zM245 144zM254 208zM290 205zM243 265zM350 105zM319 182zM307 167zM204 152zM299 149zM273 233zM292 78zM202 251z" fill="none" stroke="#fff" stroke-opacity="0.85" stroke-linecap="round" stroke-width="1.8"/>
<path transform="translate(470 945) scale(0.5)" d="M361 29l12 0 12 3 20 12 12 13 11 16 3 10-1 6-13 5-54 6-30-4-18-9-5-6-2-8 2-8 5-10 10-10 12-8 12-5 12-3zM536 129l37 1 28 3 24 7 28 13 20 14 21 24 13 18 8 20 8 36 2 24-3 46-6 32-15 41-12 27-24 34-25 30-45 36-30 16-84 26-68 6-50 0-94-13-95-23-25-9-14-9-5-8-3-8-3-34-9-46-7-52 2-40 3-18 16-35 8-15 11-14 11-8 20-9 20-18 30-9 30-17 16-7 28-8 26-5 92-5 20-3 28-11 32-24 14-4 21-2zM358 35l21 1 18 9 8 8 8 12 3 10-1 6-5 4-12 4-31 5-25-3-18-8-5-6-1-6 5-14 15-14 20-8zM522 137l33-2 38 3 22 5 28 12 18 10 16 16 20 24 10 22 9 36 3 26-3 42-6 32-13 37-14 30-20 29-26 32-47 38-28 16-81 26-60 5-54 0-86-13-99-24-23-8-12-8-4-7 0-9 17-38 8-24 24-112 22-48 14-38 8-12 14-16 11-10 14-8 23-8 25-6 42-4 60 2 12-1 34-15 32-26 19-6zM439 230l-3 7 0 10 3 8 6 3 4-7 1-12-5-8-6-1zM359 41l16 0 16 8 7 8 3 8 0 6-4 6-14 8-18 2-18-3-13-7-4-8 4-12 10-10 15-6zM539 145l54 1 20 4 22 9 14 8 14 11 20 23 11 16 7 19 7 29 2 20 0 22-3 28-6 26-20 49-10 17-12 14-20 21-24 21-25 28-22 18-19 10-68 24-52 4-28 1-28-2-21-5-21-8-9-6-6-8-9-30 3-38-7-34-5-50-1-76 5-48-6-30 2-8 7-8 11-8 25-11 14-2 12 0 10 3 6 4 4 10 7 52 15 40 2 32 4 16 8 17 4 3 6 0 12-10 38-46 9-12 4-10 2-12 0-16-12-72 0-8 2-8 11-16 10-10 14-6 16-2zM359 49l12-1 11 5 5 8 0 6-2 4-6 5-10 2-12-1-8-4-4-6 0-6 6-8 8-4zM579 161l24 1 28 11 16 12 20 26 14 24 8 26 2 30-1 30-5 16-10 20-10 14-12 12-38 19-30 24-16 10-24 9-18 1-28-12-12-7-10-10-7-10-4-10-1-10 1-12 5-16 11-16 13-13 26-21 8-12 4-30-5-52 2-12 5-10 8-11 12-11 11-6 13-4zM510 479l11-1 9 3 7 7 3 9-2 10-4 10-8 8-11 8-26 14-20 4-42-3-9-3-6-6-1-8 3-8 9-10 11-8 23-10 53-16zM592 209l11 0 10 6 18 20 12 16 6 14 3 14 0 16-3 13-5 9-7 7-24 12-6 5-7 30-6 14-9 16-12 13-14 9-16 5-16 0-16-3-17-10-12-14-5-18 4-18 11-18 19-14 24-9 33-5 6-4 1-6-5-28 6-52 5-12 11-8zM532 337l19 1 16 7 10 12 3 16-4 18-13 16-16 9-18 3-16-4-14-8-9-12-3-16 3-14 11-14 14-9 17-5zM527 347l14 0 12 4 9 8 6 12-1 12-6 12-10 9-14 6-14-1-12-4-10-9-5-11 0-12 6-12 11-9 14-5zM523 357l10-1 8 1 8 4 6 8 2 8-3 10-5 7-8 5-10 2-10-1-9-5-6-8-1-10 3-8 7-8 8-4zM523 369l10-2 7 4 3 8-4 8-10 3-6-2-4-3-2-8 6-8z" fill="none" stroke="#b5502e" stroke-width="2.8" stroke-linejoin="round"/>
<g transform="translate(965.5 940.5)" fill="none" stroke-linecap="round" stroke-width="3.3">
<path stroke="#471567" d="M32 97zm-1 5zm-2 2zm1 2zm-2 4zm-1 7zm4 1zm4-5zm8-2zm3 5zm5 4zm-2 6zm-2 4zm-2 1zm-1 6zm0 5zm1 7zm2 0zm2 2zm0 0zm-4 3zm0 3zm7 1zm3 1zm8 2zm-1-10zm6-1zm9 3zm16 2zm-2 21zm-4 2zm-8 1zm2 4zm-5 2zm-3-4zm-1-11zm-10 8zm-15 1zm0-8zm1-3zm-10-1zm-1 2zm-5 0zm-1-1zm-6 0zm1-14zm0-1zm4 1zm3-2zm0-1zm2-2zm1-1zm4 3zm1 11zm-5-1zm1 17zm-6 0zm-1-33zm1-5zm1-1zm-1-5zm-8 4zm-3 16zm-8-8zm2-26zm5 0zm0-1zm-3-6zm7 0zm15 10zm-2 4zm15 12zm5 9zm-3-35zm-5-13zm-1-6zm-5-6zm-2 14zm22-2zm7-8zm10 8zm4 5zm-2-28zm-6-4zm17-8zm2 1zm0-2zm-3-2zm8 1zm10 11zm-13 10zm13 14zm-1 19zm23-24zm24 4zm7-13zm18 6zm13 13zm12 11zm5 20zm57 0zm-23-37zm-43-40zm-21-7zm0-12zm-19-4zm1 13zm-23 4zm-8 3zm-10 2zm14 7zm9 81zm-14 26zm-8-7zm-15 18zm-14 2zm-4 29zm20 20zm98 20zm21-76zm38 32z"/>
<path stroke="#453580" d="M26 98zm0 14zm5 11zm3 1zm3-5zm1 13zm-1 7zm4 5zm-4 4zm5 6zm4-2zm4-4zm0 8zm1 0zm7 0zm-2 6zm-7-1zm13-1zm6-1zm11 1zm4 7zm-5 28zm19-3zm6-1zm5 15zm27 43zm89-26zm4-35zm-17-76zm-48 11zm-3-20zm-23-23zm-13-2zm4-7zm-7-9zm-7 6zm-22 9zm0 5zm-6-18zm-10 28zm0 12zm-8-6zm-17 0zm-10 0zm4 37zm4 1zm3 3zm5 5zm12-9zm10-5zm19 13zm21 1zm-69 30zm-12 2zm-5 15zm23-3zm-31-24zm-10-32zm-7-3zm200-84zm-9-12zm106 67zm-72 193z"/>
<path stroke="#3a528b" d="M13 128zm4 13zm0 2zm2 4zm3-9zm11-5zm14 3zm4-4zm-3-6zm6-7zm-14-2zm-7-6zm-4 9zm0 35zm5-2zm5 4zm3-2zm0-12zm9 6zm0 17zm-1 7zm-3-3zm-7 1zm13 12zm24 25zm23 13zm7 1zm39-22zm22-17zm46 11zm1 3zm18 8zm0-48zm0-11zm10-4zm-12-10zm-18-6zm-5 1zm-3-23zm4-31zm-10-22zm-27 5zm-4-2zm17-22zm37-14zm-98 49zm-5 5zm-10-9zm-11 4zm13 20zm-9 24zm-15-15zm-12 3zm-6-10zm-7 14zm-12 2zm-2-3zm-1-2zm16 34zm12-3zm1 0zm-2-5zm7 34zm-57-2zm-1 0zm128-50zm13-1zm49 62zm61 7zm21 42zm-37 49zm-39-16zm92-175z"/>
<path stroke="#2e6b8e" d="M17 123zm1 1zm-1 3zm-2 12zm3 3zm3 1zm16 0zm3 9zm1 0zm2 1zm1-3zm-8 5zm-2-1zm1 5zm-6 0zm32 5zm1 6zm-8 4zm1 7zm-9-1zm28 0zm34-2zm-4 22zm-49 1zm1-71zm1-6zm-7 5zm-5 2zm-2 5zm-11-12zm4-6zm-5-4zm31-31zm30-3zm-10-14zm1 30zm-3 47zm84-13zm12-4zm9-20zm17 9zm34 16zm20 0zm2 31zm-18 28zm41-1zm-29 61zm-64-2zm-7-2zm-20 25zm38 17zm-59-66zm1-5zm-4-138zm6-5zm11-23zm-6-7zm-17 2zm31-20zm23 28zm54 7zm29-4zm28-6zm-41-18zm-32-10zm111 52zm41 89z"/>
<path stroke="#25838d" d="M24 92zm5 16zm1 1zm3-2zm2-1zm11 0zm0-8zm9-4zm-1 10zm0 9zm5 12zm8 6zm6 9zm-3 3zm-13 0zm1 6zm-1 3zm-5 4zm1 3zm0 1zm-4 0zm-1 0zm0-1zm-1 0zm-4 4zm0 3zm2 0zm-5 4zm-9 3zm-1 2zm2-13zm-8-3zm3-6zm9-1zm5 1zm-1 4zm0-10zm-3-2zm-9-3zm-14 2zm-6 0zm10-18zm7-2zm3 0zm8 3zm-1 5zm5-2zm5-4zm-13-9zm-9-2zm39-16zm6-4zm13-9zm-4-5zm-8-9zm-5 4zm41-10zm7-7zm8-1zm-7-11zm-4 44zm23-6zm9 6zm-2-18zm8 39zm2 3zm-4 12zm-36 0zm-16 10zm11 19zm10 3zm-51 1zm0-3zm-11 6zm-6 16zm1 7zm-3 12zm21-6zm6 3zm4-9zm-5-9zm-52-10zm64-52zm86-12zm2-3zm1-3zm18 8zm35-4zm12-4zm-11 26zm-7 6zm-1 45zm-7 20zm43 6zm22-5zm4 30zm20 30zm11-53zm24-17zm-44-37zm-22-84zm-16-16zm-1-16zm-18 17zm-13-24zm-13 7zm-24 31zm-14 152zm-15 21zm-23-28zm76 34zm19 3zm-23 38z"/>
<path stroke="#1e9a89" d="M13 111zm1-1zm3 1zm1 0zm1-1zm2-2zm3-2zm1 9zm-1 2zm-1 5zm3 1zm3-3zm2 1zm3-3zm1 1zm-3-3zm6-2zm3 1zm1 3zm1-8zm0-6zm3 1zm-1-3zm0-1zm0-4zm-5 2zm-10 2zm-1-1zm4-7zm3-2zm-2 16zm2 4zm0 17zm4 3zm0 7zm3-1zm9 0zm5 3zm4 5zm-3 3zm0 1zm-7 0zm-2 1zm-1 0zm2 2zm-1 6zm0 0zm-1 3zm-3 2zm-3 1zm-1 1zm1 1zm0 0zm0 3zm1 0zm2 0zm-2 3zm1 1zm3 5zm-1 1zm6-1zm1-3zm3 0zm0 1zm1-1zm0-1zm2 0zm-1-2zm-3-1zm-3-2zm3-3zm3-3zm1-4zm6-1zm1-3zm3 0zm0-2zm8 3zm2 2zm-4 2zm-2 6zm-5-1zm-1-1zm1 6zm-3 3zm-2 0zm-1-1zm0 3zm3 2zm-2-9zm-14-2zm-6-6zm-1-2zm-2-2zm1-2zm0-5zm-2-1zm0 0zm-4-3zm-3 2zm-4-2zm-3 2zm1 2zm-2 2zm-1-3zm-2 1zm-1 0zm0 1zm-1-5zm-4 0zm-3 2zm5 9zm5 4zm5-6zm9-2zm2 9zm1-1zm-7 2zm0 5zm-2-1zm6 4zm0 0zm0 4zm3 4zm2 6zm-7 2zm16 1zm2 0zm-3 6zm4 6zm12-1zm-3-5zm-2-4zm1-4zm11-3zm0 9zm3 0zm1-15zm3-11zm2 1zm0-19zm1-6zm17 0zm-33-2zm-2-3zm-13-6zm1-5zm1 1zm0-2zm-2-3zm3-4zm5-3zm3-4zm2-1zm-3-5zm-6-4zm0-1zm-4-1zm3-6zm0-5zm-1 0zm6 3zm1-9zm12-2zm4 1zm7 10zm1 5zm1-1zm8 4zm2-1zm13 2zm10-6zm-1-19zm4-2zm-1-9zm5-4zm4 2zm2 6zm-1 2zm-2 0zm-4-18zm-1-2zm22 6zm-3 4zm3 4zm8-3zm3 0zm2-1zm17 2zm5 18zm1 7zm-18 5zm-5-6zm-17-4zm0 28zm5 6zm2-1zm2-1zm1 24zm16-3zm-1-34zm21 15zm25-15zm-2-8zm34-14zm-6-8zm-11-18zm2-12zm-5-28zm-32 18zm-9 10zm6 10zm5 4zm2 95zm6 25zm-23 9zm2 7zm-5 4zm6 7zm26 32zm26-15zm-3-27zm22-13zm27-1zm-15 33zm14 43zm42-40zm24-19zm8-68zm-50 3zm-15-5zm4-18zm15-41zm21 18zm-20 65zm-156 10zm-47 31zm7 9zm3 5zm-3 17zm-58-64zm0 0zm-9-9zm0-19zm-1-2zm-15 0zm0 4zm-1-1zm-3 1zm-2 8zm2 3zm8-2zm-25-2zm6-15zm3-7zm1-2zm31-6zm27-6zm1-1zm5 16zm16-35zm13-4zm-4-11zm105 229z"/>
<path stroke="#2bb17d" d="M24 93zm8 12zm-4 5zm-5 7zm-1 3zm4 10zm1 4zm6-4zm4-2zm5-1zm6-2zm8-1zm0 4zm2 4zm-3 2zm8 3zm2 2zm1 5zm-2 1zm-3 1zm-3-1zm-3 1zm-2 2zm2 7zm5 2zm2 6zm-1 2zm1 4zm-4-1zm-3 7zm2 3zm2 0zm0 1zm0 4zm2 2zm1-3zm2-2zm2-5zm6 0zm-2-7zm0-3zm0-4zm1-1zm-6 0zm4-7zm1 0zm5 1zm0 2zm11 1zm-1-5zm-6-4zm-10 0zm1-4zm2-13zm-2-4zm-1-11zm1-3zm4 0zm1-9zm0-6zm-13 0zm-1-3zm1-4zm-7 3zm0 6zm6 10zm0 8zm8-11zm11 0zm3-1zm5 0zm6 3zm-6 10zm8 4zm6 1zm6-3zm9 2zm2 2zm17-3zm-9 21zm-20 0zm-10-10zm-15 3zm4 30zm-1 6zm-4 4zm0 7zm4-1zm1-1zm-8 4zm-5 6zm-6 0zm0-2zm-1 5zm-1 1zm1 3zm0 1zm2-1zm-11-1zm-1 0zm-9-2zm3-3zm-5-6zm3-3zm-5-2zm1-4zm0-9zm2-1zm-6-5zm-3 1zm-4 2zm1 2zm0 2zm-6 0zm2-4zm-2-3zm-5 2zm0 1zm-4 0zm1-7zm6-3zm1 0zm5 3zm2 1zm-1-12zm-4 2zm6-8zm0-4zm4-3zm5 3zm-6 6zm4 5zm-30 1zm0-15zm-3-5zm-1 0zm34-22zm4-21zm3-1zm5-2zm8-5zm7 7zm15 1zm-2-4zm9 2zm2 5zm2 1zm1-2zm7 2zm-4-8zm1-1zm1-6zm0-1zm3 0zm1 4zm0 1zm3-2zm8-1zm0-3zm3 1zm5 0zm4 0zm3 2zm-2 5zm-4 6zm-4-9zm-4 3zm-6-13zm-6-5zm3-8zm7 5zm4 1zm12 0zm2 0zm1-2zm3-2zm4-4zm6 3zm3-1zm4-3zm2 7zm1 1zm2 2zm9-1zm0-6zm-1-2zm1-1zm-1-3zm-1 0zm1-3zm6 4zm0 4zm-10 0zm-6-8zm6-10zm4-7zm19 6zm10-4zm1-8zm13 10zm13 5zm0 9zm5 1zm-7 5zm-22 0zm-6 19zm-16 1zm-9 12zm-9 0zm-3-6zm0-7zm-15-1zm-1 1zm3 22zm3 4zm14 8zm10-1zm4 15zm3 9zm0 4zm-2 13zm8 11zm-12 5zm-6 5zm-14 1zm-3-23zm6-6zm7-1zm2-9zm30-6zm-3-10zm4-24zm11 6zm6 6zm6 6zm6 15zm19-14zm11-23zm-5-22zm12-18zm1-15zm17 10zm8 1zm6 23zm-11 3zm3 43zm-8 1zm9 16zm-15 25zm-10-7zm-1 21zm-17 4zm-7-3zm9 15zm-2 7zm4 2zm12-3zm2 1zm4 11zm20 0zm17 9zm34-3zm8-9zm-18-24zm-7-19zm42 3zm-10-19zm-14-32zm-2-18zm-15 0zm7-14zm-6-19zm-9 50zm-86-25zm17-58zm-64 23zm-50 6zm0 2zm-2-1zm5 3zm-35 12zm0 3zm-2 3zm-4 0zm-2-4zm6 10zm-9 15zm-17 76zm-31 10zm-5-1zm-1-1zm-1-4zm21 34zm29-2zm28-6zm-8-11zm1-8zm28 14zm8-2zm6-6zm6 6zm13-9zm17 4zm8-1zm-1-8zm14-7zm0-6zm3-10zm-1-2zm8 5zm-3 18zm9 29zm17 4zm4 16zm2 19zm11 9zm1 11zm-7 4zm8 25zm17-8zm-3-40zm4-20zm26 16zm-100 3zm-6-19zm-6-1zm1 5zm-22-7zm-8-11zm1-2zm-17 16zm6 16zm16-1zm14 12zm-24 5zm6 8zm50-1zm-1-4zm-1 8zm-3 21zm-8-83zm-86 24z"/>
<path stroke="#55c666" d="M60 81zm8 14zm14 1zm5-1zm1 2zm-1-10zm12 7zm4 1zm2 1zm1 5zm-5 0zm-1 4zm-1 9zm-5 0zm-2 0zm-3 0zm-9 1zm0 4zm-3-2zm-2-4zm2-8zm7 1zm3 18zm-1 2zm14 2zm4 1zm1-2zm-1 9zm1 5zm9 2zm1-1zm3 0zm1-4zm1-1zm10-2zm0-8zm0-1zm2-1zm0-8zm5 0zm6-1zm6 2zm0 3zm4 2zm0-12zm-2-2zm-4-7zm-6 1zm-3 4zm0 1zm-3-10zm2-4zm2-5zm-4 0zm0-3zm0-2zm-2 2zm6-5zm3-6zm6-2zm0-3zm1-2zm-8-4zm-5-1zm-1 3zm2 3zm0-13zm0-1zm-10-3zm0-2zm-5 4zm2 6zm0 14zm-12-2zm-3 5zm6 5zm-1 9zm-2-1zm-2 1zm-4-5zm11 8zm0 10zm-7 0zm16-3zm1-6zm26-1zm2 1zm14 0zm1-2zm-1 9zm2 3zm4 4zm1-10zm5-3zm1-5zm-2-4zm-14-1zm-5-1zm1-2zm3-8zm-1-2zm0-6zm-5-3zm11-7zm-1-3zm1-6zm4-7zm-2-5zm-9 4zm19 4zm11 4zm-1 3zm-2 9zm4 0zm2 3zm-10 3zm1 10zm-16 2zm-19 1zm-8-35zm32 12zm2 2zm27-3zm0-5zm-2-6zm-11-5zm0-5zm2-5zm13 0zm1-9zm13 4zm4-2zm-3 9zm6 3zm2-2zm-4 9zm-5 1zm-1 6zm0 1zm-5 3zm-4 6zm16 1zm13-7zm7 0zm0 6zm10-6zm-1-17zm-8-6zm-8-3zm2-4zm3-1zm-10-2zm2-3zm-4-4zm2 28zm-1 34zm0 3zm6-3zm7 9zm13 2zm3 3zm-3 3zm-1 5zm7 3zm13-1zm-9-12zm-2-6zm-11-3zm14-9zm2-1zm11-6zm-6-10zm19 2zm13 11zm10-8zm15 7zm-14 15zm-7 9zm-3 1zm-1-3zm-5 12zm-4 7zm4 26zm5 2zm-3 20zm-4 8zm10 11zm4 6zm5 8zm-3 9zm-13-4zm-29-4zm-2 9zm1 7zm6 8zm10 10zm7 1zm2 0zm-3 4zm-8 6zm-14 5zm-2 7zm-5 8zm-17 0zm1 3zm-6-13zm-13 3zm-5-2zm-1-11zm4-1zm3-4zm0-5zm-4 0zm-2 3zm-7-5zm0-4zm-5 9zm-3 1zm-3 4zm-4 7zm9 5zm1 7zm3-1zm-9-1zm-19 1zm-2-3zm-3 5zm-6-6zm-11 7zm-7-5zm-2-4zm6-5zm-1-9zm1-18zm-7-6zm0-5zm0-13zm4 0zm4-2zm0 0zm6-4zm6 0zm5-5zm6 6zm1 8zm7-1zm1 14zm12-1zm5 2zm-4-10zm8-3zm3-4zm1-3zm0 0zm-7-8zm-10-2zm1-6zm5-1zm-1-4zm-5-7zm-1 1zm-6-5zm-7-4zm2-2zm0-6zm2 1zm-3-3zm1-4zm6 1zm4 1zm8 0zm4 4zm-1 7zm4 4zm2 0zm2 2zm0-5zm6-14zm2 0zm2-1zm2 0zm3 2zm5 4zm5 0zm-1 2zm1-15zm-1-5zm2-8zm1-2zm-9-11zm-2-4zm-11 1zm-2-9zm-10-2zm-13 1zm-4 8zm-4 3zm-3 5zm1 6zm5-3zm4 3zm1 1zm3-13zm-16-4zm-9 14zm-3 14zm-6 7zm-6-2zm1 5zm-7 0zm1 3zm-4-2zm5 8zm-1 13zm6-4zm10-4zm2-9zm3 18zm10 10zm9 6zm8 11zm30-4zm-4-4zm11-9zm23-2zm1-5zm-4-6zm-1-7zm9-14zm10-2zm34-8zm18-7zm9 2zm0 4zm0 12zm-10 6zm-10 4zm-4 29zm10 9zm7-6zm23 3zm-6 6zm8-16zm9-2zm-1 9zm-5-17zm0-35zm-2-13zm3-3zm-11 0zm10-11zm-135 13zm1 9zm0 3zm-23 1zm-10 2zm-8-1zm-29 1zm0-6zm-18 26zm-5 0zm0-3zm-6 2zm1 15zm7 1zm3 12zm4 4zm2 4zm5 7zm-18 1zm2-5zm-5-9zm-12 0zm-4 6zm5 8zm9 5zm2 3zm-2 3zm6-2zm-7 12zm-6-5zm-5 4zm-11-6zm3-7zm-8-8zm0-8zm-13 2zm-2-3zm-4 0zm0-6zm-3-3zm3-3zm8 7zm-3 17zm5 2zm-12-4zm0-1zm-1 1zm0 0zm-4-5zm-3-5zm-4-7zm1-12zm0-5zm-4 0zm-3-4zm-7 2zm-1 0zm2 3zm-10 4zm-7-2zm-22-5zm8-8zm-4 33zm0 4zm8 2zm3 1zm13 6zm2 3zm0 4zm-3-3zm3 12zm4 0zm6-2zm0-2zm3-10zm4-2zm2-4zm-5-7zm-5 0zm-3 2zm-1 3zm18 22zm2 5zm4-1zm0 7zm-3 0zm9 3zm8-6zm8 6zm1-14zm-18-1zm6-50zm1-4zm-15-3zm2-2zm20-23zm13 5zm0 6zm11-3zm6 25zm-3 10zm32 2zm12 0zm7 31zm4 1zm12 24zm4 36zm-3 10zm-2 1zm12-3zm4 15zm3-1zm2 7zm13-1zm11 5zm10-5zm0-8zm-4 0zm-5-3zm-2-4zm31 0zm35-9zm-1-12zm13-14zm13-6zm0-12zm1-13zm11 18zm-10 24zm-75-20zm-3 3zm4-20zm2-13zm9 1zm-3-19zm21-2zm-1-7zm-40 32zm-5-1zm-7-3zm-14-70zm-67 20zm3 68zm-19 2zm3 11zm2 10zm5 1zm-13 1zm0-3zm-19 0zm1 8zm34 12zm11 10zm4 3zm5-2zm-9 9zm17 5zm10-2zm4 8zm-85-223zm-1-8zm-24 19zm-2 0zm-29 23z"/>
<path stroke="#90d643" d="M101 90zm0 15zm0 1zm6-3zm7 2zm0 1zm1 1zm0 3zm3 6zm5 3zm2 8zm4 1zm2 1zm7 2zm1-3zm-2-3zm-3-5zm9 1zm4 2zm0 5zm-1 3zm-1 7zm-8 0zm0-2zm-8 1zm2 5zm4 4zm2 2zm9 0zm0 6zm-2 2zm3 5zm0 6zm4-1zm0 8zm3-1zm3-2zm3 1zm1 2zm4 4zm-1 4zm1 1zm-3 1zm-3 2zm-3 9zm1 8zm-3 0zm-4-1zm1-2zm-5 0zm-4-1zm0-3zm-3 2zm-1-6zm-4 0zm-4 2zm-3-4zm-3 7zm-3 1zm-1-4zm-8-1zm-2-5zm-10-3zm-1-2zm-2 7zm-1 7zm11 6zm2 1zm3-2zm-1 7zm8 1zm0 5zm5 3zm1 3zm-2 1zm-3 6zm0 2zm1 0zm0 8zm0 2zm7-2zm13 0zm7 2zm5 2zm3 1zm5 4zm3 5zm1 6zm7-2zm2 6zm-3 1zm8 4zm4-1zm3 4zm6 1zm7 0zm1 3zm3-5zm-5-2zm-2-5zm0-1zm-8 3zm-2-8zm1-6zm-3-3zm2-9zm4 0zm3-2zm6 0zm3 4zm0 9zm-10 3zm0-26zm-4-5zm-3-2zm1-6zm2 1zm1 1zm4 1zm1-10zm3-1zm-1-3zm2 7zm1 13zm3 3zm5 7zm0 0zm2 4zm6-2zm2-5zm5 2zm6 6zm0 1zm5 1zm1-3zm3-6zm2-6zm-7-1zm3-6zm-4-6zm-6 0zm0 4zm-5-5zm0-2zm14-2zm-1-4zm-5-4zm1-12zm2-1zm5 0zm11 2zm5 4zm9-1zm-2 10zm0 8zm1 0zm1 4zm-1 5zm-5 1zm-5 6zm11 6zm7-1zm4-7zm15 2zm1 4zm7-15zm7 1zm1 4zm4-5zm10-1zm2 0zm-3-6zm0-13zm13-1zm9-1zm-6-7zm-5-2zm-10-2zm-6 1zm-1-8zm1-1zm3-2zm-4-3zm0-11zm-1-2zm-10 2zm-24 1zm-7 1zm-7 1zm-9-2zm-6-4zm4-9zm-2-8zm-1 1zm-2-1zm-4 2zm-4-2zm-2-5zm3-2zm0-4zm1-3zm-6 2zm-2-4zm-4-10zm-5-5zm-5 2zm-3-3zm0-4zm-4-2zm-6-1zm-1-5zm-2-8zm-1 1zm-5 2zm-1 4zm0 5zm-5 4zm-3-3zm-1 0zm-2 5zm-1 1zm4 1zm-1 1zm-5 1zm-2 0zm-4 0zm-2-1zm0-4zm1 9zm-5 0zm-9 0zm0 0zm-3-5zm-7 2zm2 2zm0 1zm0 2zm-5 0zm-3-2zm0-9zm-2-1zm-4-1zm-3-5zm-1-2zm-5 1zm0 3zm-2 0zm-2 2zm4 2zm1 7zm0 7zm-6-9zm-6-5zm1-1zm10-12zm-1-4zm6 2zm6 3zm3-2zm3 3zm-2 4zm5 4zm6-1zm3-5zm10-2zm3-1zm3 2zm3 1zm1-3zm3 6zm-6-12zm-3-5zm-6 1zm-6-3zm0-4zm5-3zm4 3zm2-5zm3-1zm0 3zm2-8zm7-6zm4 1zm1 1zm-1 6zm7-3zm4-4zm-3-4zm-2 0zm-1-10zm8-1zm9 6zm4 4zm3-5zm10-1zm-2-3zm0 10zm9 8zm5-4zm-3-14zm-2 1zm9-2zm3 1zm-1-6zm3-5zm1-1zm-3-6zm13 1zm1 1zm-2-5zm-4 17zm7 12zm2 2zm-4 2zm10-3zm7-5zm2 1zm4-10zm-4 24zm6 4zm10-4zm1-7zm8-9zm6 2zm1-9zm12 23zm2 3zm7-6zm-7 22zm4 6zm9-2zm3 0zm7-1zm1 2zm4 9zm5 5zm-14 3zm-15-1zm-3-5zm-7-6zm-2-7zm-6 5zm-3 0zm-9-5zm2-2zm-5-3zm-4 8zm-4-4zm-11-7zm-7-4zm-11 0zm-1 4zm-1 4zm-8 2zm-2-4zm-5 7zm7 8zm-4 6zm7 3zm3 3zm8 0zm4 3zm-6 5zm-3-2zm-9 0zm-4 0zm-2-1zm-5-6zm-4 2zm-1-5zm0 0zm-4-6zm-9-7zm2-2zm0-13zm-2-1zm8 2zm2 1zm6 1zm18-8zm1-4zm10 22zm10 11zm-1 3zm6-6zm14 3zm6 9zm-4 11zm0 12zm0 4zm-4-7zm-7 0zm0 1zm1 3zm-8 2zm-2 0zm0-7zm-2-4zm-2-2zm-7-1zm-2 2zm-5 8zm-5-2zm-5 2zm-3-9zm-22-3zm-5-1zm0-2zm-1 9zm-7-2zm-2-5zm-3 1zm1-6zm-3-6zm8 1zm-11 9zm-5-1zm-2-2zm-2 0zm-6 8zm-1 7zm-6 2zm-8 0zm0-2zm1 4zm0 8zm4 1zm-1 4zm-2 3zm0 8zm-1 4zm0 6zm2 5zm6 2zm3-3zm0 0zm-1-10zm-4-1zm1-7zm5-3zm2 1zm2-1zm0 6zm5-1zm2 1zm0-5zm1-2zm5 0zm1 3zm-1 10zm-3 0zm1 4zm-5 2zm0 1zm0 8zm7 0zm5 7zm7-3zm3-3zm-1-8zm5 1zm0 13zm1 6zm1 8zm-3 1zm9-13zm6-10zm5-4zm-1-7zm-12-4zm1-5zm-1-4zm-1-8zm-1 0zm-4-1zm-4-6zm-12-5zm0-1zm-1-2zm3 0zm-10 0zm0-3zm0-1zm-1 11zm-1-1zm-3-2zm-2 5zm-6-1zm-17-1zm-1-6zm-1-1zm1-3zm-7 0zm-2 1zm3 11zm3 5zm3 1zm1 1zm-2 4zm-1 4zm2 1zm-1 3zm-3 3zm-14 10zm-8 1zm-11 3zm0 7zm3-1zm4 3zm-8 4zm-1 0zm-5-1zm-1-2zm-3-3zm3-9zm3-11zm2-1zm5-6zm-2-6zm-5 0zm-3-6zm1-3zm0-6zm1-2zm-10-1zm3-6zm-19-1zm-2-10zm-5 0zm4 21zm6 4zm8 4zm9 2zm-3 15zm-3 8zm-11-3zm-4 8zm-13-26zm-10-6zm18 76zm6 1zm10 0zm25 2zm-2-7zm0-2zm9 4zm1 10zm-1 3zm4 2zm-4 6zm10 0zm0 16zm2 5zm-2 5zm1 6zm-6-9zm-2-1zm-3-4zm34-5zm3-4zm-5-3zm-2-8zm-1-4zm11-1zm1-2zm2 1zm-1 3zm-3 4zm6 9zm-2-21zm-4-6zm-3 2zm-2 0zm-8-1zm-11-3zm-6-24zm-4 0zm0 0zm30 4zm4 5zm3-1zm1-9zm-2 0zm6 0zm1-1zm2-3zm0-3zm4 6zm0 0zm6 8zm-13 12zm-9-25zm-3-2zm0 0zm18-18zm17 3zm-1 3zm3-12zm22-15zm1-2zm0-1zm23 1zm9-2zm4 0zm4 3zm9-15zm1-6zm19 9zm7-3zm8-8zm14-1zm1 11zm8 2zm1 1zm-1-10zm11 2zm7 5zm14-5zm2 14zm6-1zm-1-2zm-9 11zm-1 3zm-3 2zm1 3zm-1-11zm-20 3zm-8 0zm-4-5zm-2-1zm-4 2zm-8-4zm6 29zm13 14zm8-6zm8 3zm-3 7zm-1 4zm19-4zm-3-8zm-3 2zm-1-7zm-12-11zm32-6zm-31 57zm-15-1zm-3 2zm0 3zm1 8zm5-1zm1-1zm-13 16zm-16 19zm0 3zm-5-7zm-7-4zm0 16zm-4 9zm0 5zm-1 2zm-8-8zm-3-2zm-3-1zm-1-11zm-8 3zm-7 4zm-1-7zm-7-3zm-2 8zm-1 0zm5 0zm-12 0zm1 8zm6 6zm-1 8zm16 0zm2-3zm5-2zm-13 12zm-2 6zm-15-2zm-13 0zm-1-15zm-5 4zm-4 3zm-2-4zm-2-8zm-4-5zm-1 1zm5-9zm7 5zm4-3zm5-1zm-3-10zm12-3zm11-6zm8-3zm6 4zm0 2zm-46-2zm-6 1zm-9 39zm-5 6zm0 6zm2 5zm9 1zm-22-10zm-1-9zm-7-5zm-13 2zm-13-9zm89-65zm5-27zm5 1zm3-2zm1-9zm6 5zm3 5zm2 6zm11 7zm4-10zm7-3zm1 0zm-1-2zm-6-7zm-13-3zm26 24zm8-118zm42 0zm-144 0zm-8-3zm2-3zm-1 16zm-5 5zm-6-11zm-8 1zm2-28zm-10 0zm0-4zm1-8zm-7 4zm-5 10zm26-17zm19-14zm0-6zm4 10zm4 1zm5 3zm6 1zm0 0zm1-1zm10 1zm-3-6zm-4-5zm-21 65zm-29 32zm-1 2zm-5 6zm-7-5z"/>
<path stroke="#d2e11b" d="M131 54zm-2 40zm7-3zm3 0zm2 2zm-3 5zm-2 5zm-2-1zm-1 7zm1 2zm-1 1zm2 1zm2 2zm3-1zm4 3zm-1 2zm2 3zm2 0zm4 1zm0-3zm-2-3zm-2-1zm3-1zm0-1zm3-1zm6 0zm-1-2zm1-1zm3-2zm0 5zm1 1zm-1 3zm3 1zm3 0zm4 0zm3-1zm-1 4zm1 1zm1 0zm-4 0zm1 3zm1 0zm-2 3zm-2-1zm-4 3zm-4 2zm1 2zm-2 3zm-7 0zm1-4zm-5 0zm2-3zm2-4zm-4-1zm-3 3zm-4 1zm2 5zm1 8zm-1 4zm-3 0zm-2 2zm0-9zm-3-14zm-4 1zm-3-1zm-6 0zm-3 2zm0-10zm2 1zm3-2zm2 2zm6 1zm2 1zm-9-8zm-13-3zm-3 9zm4 2zm-9 6zm-7-12zm-2 2zm-13 2zm19-11zm18-7zm26 6zm2-2zm1-1zm1 0zm1 2zm3 2zm-1-13zm-1 0zm-2 1zm0 1zm1 0zm-2-6zm5-5zm-1-2zm4 0zm0-6zm-3-5zm13 9zm9 5zm1 4zm-6 3zm0 4zm-5 1zm-4 0zm0 1zm2 3zm8 1zm2-1zm2 2zm4 1zm0 4zm0 4zm0 0zm-2 1zm-1 0zm-6-1zm-1-7zm14 1zm2-2zm-1-2zm3 1zm1 1zm3 0zm4 0zm1 0zm1-2zm-1-11zm-7-3zm-1 1zm-2 3zm0 7zm-1 10zm0 0zm-2 2zm0 4zm3 1zm2 1zm0 1zm1-3zm3-2zm4 2zm-1 3zm-1 2zm0 6zm2 3zm4 0zm3 5zm1 2zm-1 3zm0 2zm-2 2zm-7 1zm1 5zm-4-1zm11 3zm1 1zm11-1zm1 2zm-1-9zm-1-8zm3-4zm-7-8zm0-4zm-4 2zm-2 0zm-1-8zm-3 0zm11-9zm0-4zm2 0zm0-7zm1 0zm-2-2zm-2-1zm0-2zm0-1zm-4-1zm0-1zm0-2zm0-6zm-2-1zm-2 3zm-11-2zm-1-1zm3-3zm-15 0zm5 6zm6-22zm6-1zm1-7zm-3 1zm19-1zm3-9zm4-5zm-2-2zm12-2zm12-13zm2-2zm11 8zm6 6zm11 0zm0-5zm1 1zm1 0zm-3-4zm7 10zm8-1zm1 2zm2 9zm6 0zm-5 17zm3 3zm18-1zm-1 14zm-4 3zm-3 5zm-4 3zm-6 0zm-5 0zm1-2zm6-2zm-14 6zm3 10zm-6 5zm-1 9zm4 4zm-6 4zm0 10zm5-2zm14 5zm3 2zm2 15zm6 0zm8 5zm-12 10zm-1 5zm6 9zm5 3zm6-5zm5 4zm9 0zm2-12zm13-4zm4-4zm8 4zm-1 4zm-7 6zm-3 8zm-1-1zm-10 9zm-15 1zm-1 6zm-1 8zm4 1zm5-4zm2 11zm7-3zm8-6zm11-9zm8-17zm0-18zm-4-3zm-6-5zm15 2zm3 4zm6-3zm-6-11zm-4-3zm-1-2zm-7-4zm-8-4zm-8 4zm-13-7zm-10-12zm1-5zm-1-5zm2-1zm8-1zm-13-4zm-7 0zm0-1zm1-9zm13-4zm8 1zm19-2zm-3 10zm-1 1zm9 5zm10 0zm-3 4zm5 10zm1 3zm7-5zm-3 16zm-6-1zm-12-6zm-6-3zm-45-1zm-14-1zm-19-10zm-10-1zm-1-3zm-8-2zm1-6zm-6 0zm2-3zm0-4zm-7 0zm1-7zm-4 2zm12-2zm7 1zm-2 2zm10-2zm-3-7zm0-11zm-5-1zm-3-9zm6-1zm3-5zm1 1zm3-2zm6 6zm2 12zm-28 7zm-4-12zm-17 3zm-5 7zm-3 1zm1 6zm2 2zm-9 1zm0-7zm-4-6zm-1 28zm-1 0zm12 0zm8 5zm-1 2zm7 2zm0 11zm1 2zm-4-5zm-5 0zm-7 4zm18 10zm-3 3zm-2 12zm9 4zm-1 2zm4-3zm2 5zm3 10zm4 0zm4-5zm15 0zm6-2zm-10-8zm-13-13zm-6-1zm0-1zm-1 1zm0 6zm-2-25zm0-7zm13 13zm6-21zm-12-59zm68 15zm3 12zm6-3zm0 7zm4-4zm7 3zm-13 80zm-34 37zm-11 1zm-9 5zm-1 3zm-2 6zm3 3zm-6 2zm-2 5zm-17-4zm-4 9zm-6 9zm-2 1zm5 10zm4 5zm4 1zm-8 3zm1 2zm-4 4zm-3-7zm-3 0zm2-4zm-12 0zm-6-4zm-2-6zm1-3zm3-7zm2-9zm-5-1zm-5 4zm-4-7zm2-5zm-3-1zm1-9zm2-9zm6-4zm-1-9zm1-2zm3-4zm7-1zm9 5zm-1 16zm0 3zm-1-1zm-9 2zm2-9zm22 0zm8 0zm0-4zm6 4zm0 9zm-17-1zm5-16zm-40-1zm-8-1zm-7-4zm-4-1zm-1 0zm-3-3zm-5 1zm-2 3zm-3 0zm0-10zm3 0zm-9-2zm-4-2zm0-3zm2 0zm-3-1zm-4 0zm1 5zm1 7zm-5 1zm-1-4zm-3-3zm-4-8zm-2 18zm8 1zm5-1zm4 8zm7 1zm9-1zm3-2zm3 3zm0 1zm-4 10zm1 10zm-1 3zm-1 0zm-3 3zm3 5zm-10 3zm-6-3zm-7-5zm-3 1zm-2-3zm0-5zm4 0zm3 1zm-5-3zm-2-8zm-4 0zm-2-3zm-2-4zm-3 7zm-3 0zm7 2zm1 3zm-4 7zm-1 0zm2 7zm-5 1zm-7 2zm-4 2zm-3 5zm-4 10zm0 6zm-5-3zm0 12zm10 1zm4-5zm13 0zm6 4zm8-7zm1 1zm3-11zm0-2zm-16 4zm-5-5zm-2 2zm2-6zm-15-15zm3-8zm-4-3zm0-6zm8-6zm4 0zm1-2zm-10-5zm-2-5zm6 0zm1-11zm-7 1zm0-5zm-1-2zm1-10zm-4 1zm6-6zm-15 12zm2 2zm-6 8zm2 8zm9 3zm-1 4zm-3 0zm-4 7zm0 13zm1 0zm-9-5zm0 17zm10 3zm-2 7zm-9 4zm-6 1zm-3-5zm2-4zm7 23zm31 14zm2 2zm3 2zm-3 6zm4 4zm16-2zm10 2zm5 0zm1-3zm2-2zm2 8zm4 1zm4-3zm5-1zm0 16zm-5-1zm-4 5zm-1 1zm-7-1zm-1-4zm0-4zm2 0zm-5-4zm-3 1zm0-2zm-1 9zm-8-4zm38 0zm8-4zm-1 13zm6-4zm6 3zm10 1zm4-12zm13 0zm3-3zm0 9zm-5 0zm11-3zm5-8zm-2-7zm3-5zm-6-19zm22 10zm2 1zm5-7zm4 4zm7-10zm8-3zm3 1zm3 0zm-4-12zm-2-3zm4-2zm7-3zm-3-4zm8 16zm8 7zm6 16zm-16-2zm2 13zm-20-4zm-6 18zm6 7zm3-1zm-13 4zm-8-7zm0 0zm3-8zm-16 15zm-1 5zm-12 9zm-37-3zm-4 5zm-27-3zm6-46zm-2-2zm-5-13zm0-2zm2-5zm3 1zm4-5zm6 0zm0 8zm4 0zm3-2zm-3 10zm5 2zm1 4zm-1 4zm1 8zm4-3zm10 9zm-1 4zm3-55zm3 0zm7-7zm0-1zm-35-6zm0-2zm2-3zm-6 14zm-1 0zm3 3zm-21-15zm-4-1zm-2 0zm-3 0zm-4-4zm-2-5zm1-3zm-3 1zm11 3zm2-40zm2-6zm4-3zm0-1zm6 0zm5 1zm0 0zm1-4zm1-3zm-4-2zm-2 1zm-1 1zm1 15zm-2 5zm-19-17zm0 0zm-3 1zm0 0zm0-8zm1 0zm5 4zm0-31zm-5 0zm-57 54zm-14 8zm84 78z"/>
<path stroke="#d2e11b" d="M105 99zm4 4zm3 4zm4 3zm0-8zm8-1zm-1-1zm7 1zm2 7zm2 2zm2-1zm2-1zm0 3zm5-4zm0-1zm4 1zm1 4zm5-1zm0-6zm-5-2zm-2-1zm0-3zm-3 0zm-1 1zm-2 0zm-2 1zm5-7zm10-6zm-4-7zm-10 1zm17-7zm10 1zm2 12zm8 1zm-2 11zm-1 2zm-3 4zm-4-1zm-1-3zm2-2zm-3-4zm0-2zm-7 4zm3 13zm1 1zm3-3zm3 0zm5 2zm3-1zm1 1zm1-3zm1 0zm3 6zm-1 2zm0 0zm-4 1zm-6-2zm-2 6zm1 4zm-5 1zm1-3zm-3 0zm-3 0zm-7 1zm1 5zm-5 0zm-1 2zm1 3zm2 3zm0 7zm4-4zm-9 0zm-1-15zm3 0zm-4-5zm8-2zm3-1zm0-1zm7 15zm0 2zm1-3zm1 1zm1 0zm2-1zm0 0zm0 2zm7 4zm3 7zm-7 2zm-13 4zm-6 3zm-12-2zm-3 5zm5 5zm-1 13zm-6-5zm-8-8zm-11 1zm0 12zm-3 6zm3 20zm4 9zm-14 1zm0 13zm-2 7zm9 9zm8-10zm7-2zm1 0zm10 0zm11 4zm4 1zm-1 5zm-3 4zm10 1zm0-7zm3-3zm4 1zm2-4zm-3-4zm-2-9zm-9-2zm3-3zm-1-9zm0-7zm0-2zm-1-6zm-1-3zm1-2zm3 1zm4 1zm0-2zm1 4zm4-2zm1 4zm-1 5zm-2 1zm7 0zm-1-3zm8-3zm-2-7zm-1 0zm-2-3zm3-1zm-10 1zm-1-7zm-3-9zm12 1zm4-2zm0 4zm10-5zm2-5zm0-14zm-8-1zm0-12zm1-2zm0-4zm-1 0zm6 0zm2 5zm3-2zm2 3zm4-5zm1-2zm1-1zm1 0zm-1-1zm10 1zm1-3zm3 4zm-6 2zm1 7zm0 4zm-2 0zm-1 2zm-9 0zm2-3zm1-1zm1 0zm-16 0zm-1-1zm-5-4zm7-12zm-1-4zm0-4zm10 0zm0 3zm4-10zm6 2zm2-3zm-5-7zm-5-2zm-7-3zm-5-1zm2-6zm8-15zm-2-7zm3-6zm20 0zm-2 5zm8 3zm6 0zm-8 12zm5 7zm-3 8zm-6 7zm-2-14zm24-1zm8 5zm-2 7zm11-3zm0-3zm8-6zm5 1zm9 4zm7 7zm2 13zm10 4zm-14 8zm-3 2zm-17-4zm-9 0zm-5 1zm-5 7zm-1 9zm-4-1zm-1 2zm-6 0zm1 3zm-4 6zm-4-9zm-3-7zm-5 9zm1 3zm-4 3zm0 1zm9 11zm1 3zm9 11zm9-5zm13 6zm12 2zm-5 6zm2 3zm-16 4zm-7-1zm-4 5zm-1 8zm-5 4zm-12 2zm-3 2zm0-5zm-7-3zm2-3zm2-3zm7-4zm-6 22zm-4 1zm-1 3zm-1 8zm-3-3zm-3 1zm12-1zm23 1zm5 3zm12-2zm1-7zm-7 0zm1-9zm7 24zm2 12zm7-1zm7 1zm-1-16zm7-2zm-1-15zm7-1zm7 9zm4 0zm14 4zm2 15zm-1 6zm-1 0zm-19 8zm-6-15zm-13 28zm-14 3zm0 8zm5 9zm5 3zm-5 6zm-15-3zm-5 0zm-10-8zm-8-12zm7-9zm1-6zm8 6zm-16-14zm-8 3zm-3 3zm-4-4zm-5-5zm-4-2zm7-2zm-7 12zm-8-1zm4 12zm5 5zm0 6zm6-3zm-15 7zm-3 8zm-3 7zm0 0zm-3 7zm3 9zm21 1zm16-7zm7-1zm-6-8zm-6-2zm-46-6zm-2-7zm-3 2zm-4 1zm-5-7zm2-10zm-12 2zm-8-8zm3-3zm12-28zm-1-3zm-6-12zm-2-3zm-3-9zm-5 0zm1-2zm8-1zm1-1zm1-4zm2-2zm-6-4zm9-5zm5 3zm30-2zm3 2zm0-6zm-4 10zm-2 11zm1 10zm5 2zm-1-5zm5-5zm10 3zm-34 1zm-7 6zm9 18zm-1 3zm10 1zm1 0zm2 5zm-6 1zm-3 1zm-1 2zm3 27zm0 8zm-8-6zm-39-59zm2-5zm-7-9zm-5 0zm-4-42zm0-4zm5-7zm-1-3zm4-5zm0-2zm0-2zm3 1zm5 2zm-2-13zm-8 8zm-3-18zm-24 16zm4 8zm-10 11zm17 7zm93 12zm0 4zm61-9zm-6-12zm1-4zm-9-9zm22 0zm4 8zm1 2zm3-5zm16 2zm13 13zm1 2zm18 4zm1-8zm-7-9zm-5-10zm-3-10zm-4-1zm23 2zm-1-6zm-4-9zm1-15zm0-7zm-2-7zm8-9zm-1-3zm-5-5zm-2-2zm-3-6zm-5 9zm-10-3zm-2-5zm-2-4zm-14 0zm-6 1zm-1 7zm-4 5zm-8 4zm-10-6zm-1-4zm4-3zm-4-11zm-10 3zm-1 5zm-5-17zm1-9zm4-4zm-14 0zm1 3zm-19-5zm-20 11zm-24 33zm52 47zm13-4zm21 12zm6 7zm6-22zm42-5zm23 0zm8 3zm6 11zm17 4zm-5 12zm13 5zm0 4zm-4 5zm-4 14zm-2 9zm-3 1zm-3-3zm-8-1zm-2 9zm2 5zm-2 13zm0 5zm5 8zm-14-19zm-6-21zm9-8zm4-1zm-3-3zm-3-10zm0-1zm-5 2zm1-7zm1-1zm25-31zm-1-9zm-57-14zm-4-2zm-5-1zm5-11zm-10-1zm2-7zm-4-21zm-9-2zm0-3zm-4 8zm-9-2zm1-4zm21 138zm31 4zm1 21zm-2 60zm-23 12zm-16 4zm90-105z"/>
<path stroke="#90d643" d="M82 102zm16 1zm3 5zm-1 4zm-5 0zm0 1zm5 5zm3 1zm-1 4zm1 1zm-5-3zm16 0zm1-3zm3 1zm3-2zm2 5zm4-3zm9-3zm0 7zm2 1zm7 1zm2 0zm2 0zm3 0zm4 1zm-1-8zm-4-1zm-5 2zm-1-13zm-7-2zm-2-1zm-1 0zm2 5zm-4-10zm1-5zm5 0zm0-3zm1-6zm2 1zm2-2zm-1-2zm0-4zm1 0zm-5 3zm-1 3zm9-1zm0 3zm0 9zm-5 0zm1-1zm13-1zm0-12zm3-1zm1-7zm-3-3zm-1-3zm-2-3zm-9 4zm21 4zm5 1zm8 2zm6-1zm-2-6zm-10-6zm2-9zm-13-5zm-6 2zm-1-10zm45-2zm2 3zm-2 3zm-2 9zm-3-1zm13 1zm1 4zm11-2zm8-2zm4 3zm11-2zm-2-2zm5 13zm-2 3zm1 8zm19 1zm7-2zm2 14zm-4 13zm-6 2zm-1 3zm-6-3zm-2 1zm0 5zm-3-14zm3-7zm0-26zm-2-4zm13-3zm5-3zm8 0zm1 13zm5 2zm4 12zm9 8zm11 5zm5 5zm5 1zm1-6zm9 3zm-1 8zm0 3zm-3 1zm1 21zm8 4zm12 3zm6 5zm-2 8zm13-3zm4 4zm1 7zm-1 3zm6-4zm-2-17zm-12-8zm-10-11zm3-6zm3-15zm-9 2zm20 4zm-23-26zm0-2zm-1 0zm-4-9zm-14 1zm-2 1zm10 13zm-23 32zm-2 4zm-12 5zm-3 0zm3 9zm-2 4zm-8 4zm1-10zm-6 2zm-4 4zm-8 2zm0 6zm1 5zm-1 5zm9 0zm5 11zm3 5zm-2 13zm-4-1zm-2-3zm-12 4zm-10-2zm1-16zm-5 2zm-17-3zm1-2zm-4 0zm-2-2zm1-8zm3-3zm-6-2zm-6 7zm-8 3zm-6-7zm0-6zm-1 1zm3-8zm3-3zm-2-5zm3-1zm0-1zm-1-4zm-7 2zm-4 7zm-1 0zm-4 0zm-2 0zm-4-4zm0-4zm0-2zm0-2zm-1-2zm6 5zm1-12zm6 0zm0-5zm7 4zm13-3zm2-3zm3 21zm4 1zm0 3zm2 8zm10 0zm-1 8zm13 5zm6 2zm-7-16zm-1-2zm5-8zm9 2zm0-5zm7-17zm-33 16zm-18-41zm-15 0zm2-7zm-1-3zm-3 0zm-6-2zm1 9zm-3 1zm-4 4zm-8 0zm7 8zm2 4zm-5 2zm-3 2zm4 4zm-10-8zm-13 0zm1-3zm4-3zm0 0zm-3-6zm-3 18zm-3 0zm3 6zm0 2zm5 6zm-1 11zm-2 4zm-5 2zm-4 5zm-4-1zm-1 3zm-2-5zm-10-2zm-14 3zm-2 5zm-3 3zm9 4zm15-2zm-1 18zm-1 0zm-8 2zm-3 0zm2 3zm-5 2zm-6-1zm0 7zm-7-2zm1-2zm-1-6zm1-5zm0 0zm-4-1zm-2-1zm0-3zm-2-1zm-12-1zm-1 2zm-5 3zm-13 3zm11 12zm11 0zm5 3zm6 10zm9 1zm1 0zm3 1zm5 1zm2 4zm10-2zm0 0zm1 0zm0-6zm-5 1zm0-6zm4-7zm8-1zm2 1zm2 2zm2-2zm-1 11zm-2 4zm-4 6zm-5 2zm-1 3zm3 14zm-4 5zm2 8zm6 8zm-2 5zm14-3zm3-16zm4-1zm3 4zm4-1zm9-2zm-6-13zm-9 3zm-3-10zm-4-18zm6-4zm10-1zm2 3zm1-12zm2-3zm-1-2zm-3-2zm4-5zm-2-3zm8-2zm2 4zm1-7zm-1-5zm-2 2zm5-6zm-10-6zm-10-3zm-6 6zm0 1zm-6 4zm4 9zm-7 4zm13 1zm24 5zm3 6zm7 3zm1 0zm9 6zm4 6zm-2 3zm-7 1zm-8 11zm-9-3zm-2-1zm-3 5zm0 3zm-3-6zm-2 1zm8-18zm27 19zm15-1zm6 5zm-3 5zm-13 4zm-9 8zm-7 4zm-7-3zm4 13zm0 0zm13 4zm2 4zm7 2zm1 0zm-1-7zm9 0zm-1 3zm5 11zm-6 5zm-5 2zm1 3zm9 2zm10-5zm11 4zm-1 1zm23 0zm0-12zm2-9zm-12 3zm-18-5zm-5-8zm-20-2zm-27 18zm-1 15zm-2 1zm0 4zm9-1zm6 3zm1 4zm7-1zm-3 12zm-9 4zm-3-7zm-5-7zm-12-3zm-2 1zm-2-6zm-2 11zm-6-3zm-8-5zm-5 1zm-4-3zm-1-4zm4-3zm4-3zm0-6zm6 4zm4-1zm-5 7zm0 4zm-22 0zm0 2zm9 8zm30 9zm7 0zm11 13zm0 4zm19-1zm4 0zm5-21zm3 0zm25 2zm14-9zm9 2zm7-9zm7-23zm9-14zm7 6zm7-13zm2-8zm-1-7zm13 1zm4 8zm-2 5zm-24-8zm0-17zm-8 0zm-5-8zm3-14zm17-1zm-1 13zm11-3zm3-3zm-2 10zm16 2zm11-14zm-19-8zm-18-12zm3-10zm3 1zm-30-14zm-10 62zm6 13zm5 9zm-21 9zm-27-22zm-15-19zm-44 72zm-60-4zm-7-14zm2-11zm-10 3zm-5-3zm-2 2zm-1 3zm1 2zm-3 5zm-3-28zm0-6zm0-5zm-6-3zm-6 2zm0 9zm0 2zm6-1zm21-1zm-4-27zm4-24zm-8-22zm7-8zm0-27zm5-1zm2 1zm-15 2zm0 0zm-7-7zm2 18zm-39 5zm20 22zm0 2zm3 48zm-51-6zm121-65zm16-9zm38-43zm-3-24zm8 0zm4 0zm-3-4zm5-1zm23 3zm4 0zm-5-13zm-5 0zm2-6zm-6-2zm-26 0zm-1-2zm69 17zm2 8zm46 198z"/>
<path stroke="#55c666" d="M49 87zm20 13zm12-5zm11-1zm7 1zm4-3zm3 1zm9-1zm4 1zm-2 2zm7 1zm5-4zm10-8zm3 0zm6 1zm1 0zm-1 2zm1 2zm1 4zm9-4zm0-19zm-1-1zm5 1zm1 2zm2-1zm-4-15zm-4-10zm0-3zm-5 2zm-8-4zm29 2zm1 0zm1 1zm0 1zm5-1zm4 5zm0 6zm-11-3zm24-2zm-1-3zm0-6zm0-3zm-3 6zm6 11zm-2 6zm4 7zm0 10zm11 3zm-5 8zm-7 11zm-10 7zm-8-3zm-1 7zm-6-11zm-4-1zm-2 4zm-8 16zm9 10zm19-8zm2 16zm12-1zm4-9zm9-12zm15-9zm17 7zm0 12zm11 0zm13-6zm3-18zm8 1zm9-7zm-1-16zm-7-2zm-17 2zm-4-21zm-10-8zm-13-7zm-11-7zm2-2zm-3-5zm-3 2zm0 6zm-5 1zm-1-4zm-5-4zm-4 3zm1 5zm0 4zm-4-3zm-3-7zm8-9zm9-8zm-2 33zm-1 2zm-3-5zm-28-19zm73 5zm9 0zm23 5zm19 51zm6-1zm11 10zm4-18zm1-9zm32 20zm7 36zm-13 21zm5 6zm-2 11zm9 7zm-18 7zm-22-7zm9-17zm-18 0zm0-16zm-7-17zm-24 6zm-14 21zm-6 7zm-16 7zm-4 7zm-12-4zm9-20zm-20-7zm-11 4zm3 12zm-20 11zm-1 18zm-1 5zm-4-4zm-5-2zm-6 4zm-3 5zm-4-9zm5-7zm-8-5zm-5 2zm-5-2zm0 12zm-18 2zm-9-14zm-5 2zm-3-2zm-6 2zm-5 5zm-4 1zm-16-4zm-5 0zm1-4zm-10-2zm-1-6zm-5 8zm-10-3zm-7-12zm12-16zm-6-10zm-1-5zm-1-4zm-1-3zm-5 8zm26-1zm4-2zm1 3zm6 1zm10-3zm-2-2zm-4-4zm9-1zm-4-7zm6-2zm8 11zm-1 4zm0 12zm-4-3zm-3 0zm-7 11zm-14-3zm-3-8zm3 21zm3 0zm-1 5zm9 3zm7-5zm28 0zm-1-3zm-3-9zm-2-4zm9-4zm7-1zm-4-17zm-2 47zm15 2zm25-3zm5-2zm17 36zm9 2zm4-13zm0-1zm14 13zm6 4zm34-2zm4 6zm-4-20zm-2 1zm-5-10zm36-1zm4-3zm3-4zm9 26zm-12 15zm32 7zm-16 29zm-12 11zm-24 12zm-20-5zm-8 10zm-25 1zm3 13zm-23 0zm4-6zm-20-17zm-1-6zm-5 0zm-2-5zm-11 1zm-7 7zm2 12zm8-33zm23 0zm-1-5zm3-2zm4 5zm-8 12zm0 8zm41-6zm10-3zm17-8zm9 5zm-7-20zm-11-5zm-36 4zm-52-19zm-5-4zm-3-1zm-11 7zm-12-4zm-8-9zm-6 17zm-6 6zm-14-14zm-12 0zm-1-2zm1-8zm4-3zm6-5zm-30 5zm-4-2zm0 17zm4-3zm5 0zm6 7zm1 9zm-26-16zm-28-21zm-4-20zm-14-13zm5-6zm76-31zm19-24zm2-3zm9-7zm0 0zm1-3zm3-4zm-15-8zm-1-3zm0-11zm8-2zm-25 10zm-13 10zm0 10zm0 4zm68 152z"/>
<path stroke="#2bb17d" d="M35 82zm6 6zm15 8zm0 7zm6 7zm1 3zm0 1zm3 3zm3 0zm5-3zm6-10zm-3-5zm-2-7zm-6 5zm-2-13zm5-2zm9 3zm1 1zm4 5zm-2 5zm1 2zm12-2zm1-5zm-4 0zm11-5zm0-5zm1-7zm4-2zm3-7zm5-2zm4 10zm5 0zm0 3zm-12 1zm-2 2zm6 5zm6 3zm10 4zm8-4zm3-13zm-7-5zm-2-3zm-2-6zm-7-5zm13-9zm11 9zm5 4zm1 4zm2 0zm0 8zm-3-1zm1 13zm1 12zm34-6zm14-2zm5 5zm6-19zm19-11zm-6-22zm-40 4zm8 16zm-27 1zm-5-1zm1-9zm-7 0zm-4-14zm-8 26zm-35 33zm-4 3zm8 26zm10 2zm-2 16zm21-3zm9-4zm5 6zm7-16zm29-1zm14 7zm-1 22zm6 5zm2 16zm11 1zm3 3zm-17 8zm3 5zm-10-15zm-22-13zm-43 11zm6 24zm6 25zm-6 8zm11 2zm6-4zm14-7zm7 9zm43 8zm4-13zm50-20zm17-8zm-2-26zm19 13zm3 22zm-7 29zm-7 14zm-10-6zm-6 9zm42-80zm3 0zm5-29zm-18-2zm5-8zm8-6zm1-37zm-27 9zm-35 3zm-18 13zm-10 11zm-10-5zm19 19zm106 6zm15-29zm-51-58zm-2-7zm-30 12zm-26-33zm-180 38zm-3 7zm-23 2zm1-13zm-4 52zm0 8zm-5-4zm-3 5zm-10 2zm-4 3zm-7-2zm-4 1zm1-4zm-10-6zm6-10zm0-5zm4-7zm19 14zm9 23zm0 1zm-1 7zm-2 0zm-11-3zm-6 0zm-3-1zm-1 8zm2 0zm0 3zm-7-1zm-2 0zm0-3zm0 0zm-6-3zm1-2zm0-5zm-6 11zm0 0zm-1 0zm10 10zm8 8zm-2 10zm6-1zm0 0zm3 0zm16-3zm0 6zm6 7zm2-2zm3 0zm-2 7zm-2 0zm-3 0zm9 4zm1 4zm-3 0zm7-3zm0-5zm6-6zm-4-6zm6-3zm6-1zm-9-8zm0-6zm3 0zm0 1zm-9-3zm-4-2zm0-6zm-3 1zm-3 2zm-4 1zm5 7zm-4 4zm-4 0zm6 3zm5-1zm1 6zm-3-1zm8 0zm1-3zm-2-24zm3-2zm3 2zm4 3zm0-8zm10-1zm-3-12zm-18 2zm0 0zm1 4zm-2 4zm1 4zm-2 1zm-3-8zm-18 18zm-2 36zm-3 7zm9 0zm49-6zm4-4zm3-7zm7-11zm-4-15zm-3 0zm22 58zm-2 10zm0 9zm2 7zm3 13zm7-30zm34 61z"/>
<path stroke="#1e9a89" d="M13 95zm17 3zm1 8zm-2 5zm4 1zm6-3zm9 1zm1 2zm0 7zm1 5zm4 0zm0 1zm1 0zm7 0zm-5-6zm1-8zm11-8zm1-2zm-1-6zm1-4zm2-1zm11 2zm-3 8zm12 3zm1 7zm-1 8zm0 9zm-16 2zm-1 14zm4 9zm-1 11zm-4 0zm-9 6zm-1 3zm1 1zm-2 4zm-6-1zm-5 1zm1 1zm-2 4zm-2-6zm-8 0zm-4 1zm-2-2zm0 5zm-2-9zm0-2zm-3-4zm0 0zm-1-6zm-5 1zm0-3zm0-10zm5 2zm5 0zm3-1zm0 2zm3 0zm1 4zm5-1zm3 3zm2 0zm1 4zm2-6zm-2-3zm-1-4zm10 3zm5 3zm-5 16zm-4 0zm0-3zm2 6zm-15-1zm-1 1zm-5-6zm-2-5zm-4-9zm0-12zm5-1zm3-7zm2 2zm-1-9zm2 0zm-7-1zm-6 0zm-7-1zm0 7zm-6 6zm-6 3zm-1-10zm5-5zm0-4zm-1 1zm23 8zm15 3zm6 2zm-8-36zm1-13zm1-1zm3 0zm2-2zm5 1zm11-7zm10 3zm25 1zm-5-9zm9-11zm1 1zm-19-1zm4 31zm3 26zm-8 37zm-2 4zm-7 26zm-12-5zm-2 12zm-11-3zm-2 5zm-38-25zm99-16zm10-1zm16 25zm0 15zm10-3zm-31 3zm16 41zm38 1zm25-16zm29 12zm-7 33zm-8 6zm-15 13zm-14 6zm90-10zm28-36zm-58-51zm-15-29zm-9-8zm-4 3zm-1-46zm-5-7zm14-24zm26 3zm4 47zm2 11zm69-27zm-2-24zm24 68zm-177-7zm-4-35zm-5-49zm3-9zm3-11zm10-3zm-3-15zm24 2zm16-2zm8-9zm6-8zm35 29zm-128 13zm-1 13zm-4 11zm-13 0z"/>
<path stroke="#25838d" d="M19 109zm1 7zm-2 0zm-2 7zm3 14zm7 3zm0 7zm-3 5zm1 2zm-6-3zm-6-8zm23 1zm3 0zm0 7zm1 0zm-3 0zm-3 1zm8 5zm5 0zm0-4zm2-6zm3-8zm4-8zm-15 0zm-1 1zm-3 3zm5 2zm-5-17zm0-17zm-6-2zm34 1zm26-12zm20-4zm11-4zm-10-17zm-4-9zm51-4zm5-3zm3 8zm-3-20zm-7 1zm-2 0zm32-13zm4 49zm39 4zm12 28zm18 14zm-5 21zm1 56zm5-1zm2-1zm2 7zm24 27zm24-62zm-2-121zm-3 0zm-155 51zm13 36zm-12 27zm-5 8zm5 35zm-6 15zm-22-2zm-12-17zm-17 22zm-17-28zm7-7zm-19-10zm-1 0zm-11 1zm-4 5zm-3-1zm0 0zm-3-2zm-3 4zm-4-5zm-9-3zm0-12zm6 2zm4 1zm5 4zm7 0zm0-3zm-1-7zm5-5zm2 0zm1-1zm8 0zm-9 11zm-4 35zm37-61zm1-5zm30 2zm70 97z"/>
<path stroke="#2e6b8e" d="M16 112zm9-3zm9 6zm0 4zm2 11zm1-1zm10 6zm-5 8zm15 0zm0-3zm8-9zm-4-5zm-11-5zm-10-13zm-14 27zm-3 13zm3 4zm-13 4zm29 15zm2 9zm3-2zm-7 4zm17-12zm0-1zm8 1zm13-4zm-10-14zm48-12zm0-3zm12 8zm46-22zm17-26zm-30-37zm-26 7zm-9-1zm9 13zm-24 12zm-17-1zm-11-3zm-9-12zm-13 10zm-1 0zm118-42zm4 122zm7 5zm0 63zm-84-31zm199-2zm35-21zm-13-67zm8-47zm-67 58zm-20-12zm14 166z"/>
<path stroke="#3a528b" d="M17 105zm20-4zm6 6zm7 6zm8-11zm-4-10zm-9-4zm-2 41zm-10-3zm-15 4zm7 15zm4-1zm13-2zm3 7zm1 7zm4-2zm19 5zm9 13zm-5 16zm-28-1zm-1-4zm0-8zm-14-3zm-7-16zm62-13zm15-22zm-10-30zm38-27zm13-1zm21 17zm10 14zm8-30zm45 23zm5 67zm-33 13zm6 20zm-50 3zm-30-2zm-8 1zm-14-2zm-16 24zm73-72zm57 103zm62-49zm-5-8zm46-31zm-69-128z"/>
<path stroke="#453580" d="M35 95zm-6 12zm21-7zm8 21zm0 23zm-25-3zm-1-1zm-11 4zm-6 12zm14 19zm16 11zm9 2zm8 8zm8-17zm5 1zm37-6zm22 14zm93-1zm-15-67zm-36-8zm2-14zm-25-23zm3-27zm37-3zm0-19zm32 49zm-111 26zm-67 61zm143 131zm15-10zm93-42zm21-11z"/>
<path stroke="#471567" d="M25 103zm8 2zm2 0zm6 7zm-3 10zm1 3zm1 2zm0 2zm4-1zm0 6zm3 0zm4 0zm7 0zm7 1zm12-7zm1-26zm-5-14zm1-7zm-9 2zm-2 0zm-16 6zm-2 3zm7 6zm31-12zm21-5zm4-16zm9 4zm-1 4zm-1-14zm12-3zm3 15zm13 7zm12-11zm-15-18zm-1-2zm-5 46zm-6 7zm59-26zm2-44zm14 0zm52 6zm13 196zm-100 41zm-72-79zm-26 2zm-9 0zm-6-14zm-5-3zm-1-3zm0-5zm-3-2zm-6 2zm-4-4zm1-1zm-1-1zm-10 0zm-3-1zm1-4zm5-1zm13-3zm3-5zm6-1zm0 5zm0 7zm-4-1zm10 2zm3 10zm-1 2zm14 0zm8 5zm7-29zm-50-3zm3-5zm3-1zm-7-6zm-6 2zm-5-4zm-3-3zm-6 2zm3 5zm1-16zm1-6zm6 8zm-13 0zm-4 5z"/>
</g>
<path transform="translate(965 940) scale(0.5)" d="M17 215l18-24 26-19 36-19 57-24 69-35 58-18 38-14 42-11 70-23 22-4 20 0 26 7 64 28 58 36 36 18 16 12 11 14 21 32 18 22 10 18 17 44 3 46-2 22-6 16-40 52-24 45-25 29-27 36-38 36-20 14-48 20-78 23-24 4-16-1-22-6-18-7-28-15-21-14-31-29-60-44-38-33-30-15-52-16-24-14-20-14-16-15-15-20-13-22M17 246l10-25 14-19 18-14 34-17 72-27 53-29 25-11 44-11 42-16 42-9 66-18 18-3 14 2 15 6 10 8 4 10-6 12-37 40-2 6 2 8 12 19 8 8 8 3 18 1 10 7 21 36 12 28 2 10-5 12-16 24-12 12-26 16-6 8-3 8 0 10 6 24 0 12-5 14-15 26-3 12 1 8 18 38 3 14-2 8-8 6-24 3-11 5-6 8-5 20-4 9-8 7-12 3-16 0-22-4-17-5-12-6-12-12-11-20-6-8-58-36-9-8-19-23-30-18-16-6-36 0-20-3-18-7-22-12-20-15-17-20-15-26-10-25M337 95l12 0 19 2 11 2 5 4 0 8-15 22-1 6 2 6 9 8 36 17 12 11 15 28 10 40 0 12-5 10-12 13-26 21-7 10-4 12-8 40-4 10-6 8-17 10-50 16-24-1-12-4-12-6-10-9-5-8-4-10 0-10 7-18 21-22 1-6-6-5-28-14-34-32-24-16-10-5-5 2-2 8 11 54 1 40-5 18-13 18-9 7-10 5-12 2-12-2-14-4-16-8-16-10-12-11-14-17-12-22-7-18-4-20 0-22 5-22 8-19 12-15 14-10 22-10 22-6 38-6 36-14 16-8 29-22 20-10 15-5 34-6 29-13 15-4zM274 149l23-1 16 3 29 18 45 18 14 8 11 14 7 18 0 20-6 14-8 7-12 6-52 14-14 2-14-1-18-5-30-12-14-8-10-11-6-14-5-26 0-16 7-16 13-20 11-8 13-4zM75 205l12-2 12 2 8 3 8 7 17 28 22 52 6 30-2 28-5 12-6 9-7 7-9 4-12 2-14-2-16-7-16-10-12-11-11-14-10-18-7-16-3-16-1-18 3-20 5-16 6-12 9-10 11-8 12-4zM318 353l11 1 8 4 3 5-3 8-7 6-13 5-12 0-8-3-3-8 3-8 8-6 13-4zM285 185l14-1 38 6 18 4 16 7 12 8 7 10 4 12-2 12-5 6-9 6-43 17-20 0-20-8-20-15-6-10-2-10-1-14 3-14 6-10 10-6zM66 221l9-2 10 1 10 5 10 8 16 21 18 37 7 26 1 26-8 20-6 6-8 5-10 2-12-1-14-5-12-7-19-20-16-28-6-26 4-32 4-14 6-10 7-7 9-5zM317 215l18-1 14 3 10 8 1 4-2 6-9 9-14 7-12 1-10-3-11-8-3-12 4-9 14-5zM65 237l8-2 8 1 18 11 15 18 16 30 6 22 0 22-7 16-12 10-8 1-10-1-20-9-17-17-13-24-5-22 1-22 8-22 6-8 6-4zM70 253l13 0 14 9 13 17 11 20 4 18 0 16-4 12-10 9-14 1-16-7-14-14-11-19-4-18 1-18 8-18 9-8zM74 271l9 0 10 5 10 11 8 14 3 14 0 12-4 10-7 5-10 0-12-6-10-10-7-13-3-14 1-12 5-10 7-6zM81 293l8 2 8 9 2 11-4 8-4 1-6-2-8-10-2-11 2-5 4-3z" fill="none" stroke="#b5502e" stroke-width="2.8" stroke-linejoin="round"/>
<g transform="translate(1435.5 945.5)" fill="none" stroke-linecap="round" stroke-width="3.3">
<path stroke="#471567" d="M9 89zm8 10zm-3 4zm0 0zm-3 7zm-2-1zm-4 3zm10 1zm8 1zm3-3zm0-4zm2 0zm3-1zm-1 3zm-1 4zm2 2zm-3 3zm-3 6zm-1 1zm1 1zm1 1zm4 0zm5-1zm0-4zm4-3zm2 8zm-1 1zm3 4zm2 4zm1 2zm0 2zm-5-1zm-2 1zm1 4zm-3 4zm-3-6zm0-11zm2 1zm-19-2zm-1 9zm2 1zm1 9zm6 2zm5 7zm14-7zm8-11zm10 1zm1-8zm-3-2zm-1-6zm-2 0zm7-3zm2-5zm0-7zm-9 0zm-4 1zm-6 1zm-3 0zm2-2zm5-4zm-3-4zm2-6zm3-2zm-12 6zm-3 2zm-3 1zm-7-5zm-1-4zm-3 7zm12-19zm38 2zm-1 4zm2 1zm3-17zm21-11zm11 2zm-1 19zm-4-3zm-3 23zm-17 18zm-1 3zm-12 5zm-2 6zm4-22zm-15 4zm-12 5zm-37 5zm-8 5zm3 3zm-1 25zm53 4zm34-17zm48 71zm9-4zm4-137zm-3-21zm6-2zm-9-13zm21-7zm7 5zm46 42zm-12 41zm20 10zm8-13zm55 58zm-17 74zm20 15z"/>
<path stroke="#453580" d="M20 95zm4 3zm2 4zm8 0zm6 3zm3 1zm1-3zm6 1zm3 7zm-9 0zm-5 1zm-5 2zm-3 10zm1 14zm12 4zm8 10zm11 8zm12 27zm-1-72zm-4 4zm-4-8zm-5-7zm-3-3zm-5-16zm-7-1zm-5-5zm-1-4zm3-1zm-5 15zm4 7zm0 24zm5-1zm1-1zm0-2zm10 6zm0 3zm23-17zm10-30zm0-10zm-26 2zm57-21zm41-3zm18-4zm-1 31zm-27-4zm0-6zm-21 26zm-10 32zm-7-6zm27 11zm0 19zm49 4zm29-9zm-2-19zm-3-52zm-23 164zm-68-9zm-101-71zm-5-4zm5-39z"/>
<path stroke="#3a528b" d="M4 114zm6 0zm1-1zm1-6zm9 12zm7 1zm-2 3zm-1 4zm4 0zm-4 7zm-5 10zm-13 0zm2-13zm33-1zm7-4zm6 5zm-3 6zm-1-1zm12-2zm-1-7zm10 1zm-1-6zm1-5zm4 1zm1 18zm11 13zm4 21zm-26 6zm-2-18zm-8-10zm-20-1zm-2 1zm4 6zm9 25zm-1-68zm3-2zm-1-9zm1-5zm7 8zm-19-4zm-3 7zm3 4zm19-31zm13 12zm70 5zm14 9zm12-42zm-5-10zm12-2zm16 35zm23 8zm-15 37zm44-6zm19 7zm42-24zm22-21zm10-31zm-86 10zm-4 3zm14-64zm-55 8zm-71 59zm-7-5zm-7 135zm1 9zm22 43zm85-8zm-17-70zm-28 13z"/>
<path stroke="#2e6b8e" d="M34 84zm2 2zm5 14zm9-1zm-1 3zm-12 5zm2 2zm-5 4zm-4-5zm2-4zm2 22zm-5 3zm-6 8zm-3-13zm-6 1zm3-9zm-9-6zm36 9zm11-2zm13 0zm2 12zm2 0zm-1 1zm3-4zm-4 14zm-15-3zm0-1zm-7 13zm0 23zm-8 4zm-7-10zm-8 1zm1-11zm80 7zm11 13zm-22 7zm1 12zm67-14zm11 10zm13-25zm-38-6zm12-19zm75-1zm0 80zm-86 4zm-8-140zm-11-10zm18-26zm27-11zm24 11zm19 18zm19-21zm-143 42zm12 24zm-20 4zm-16-15zm-10-18zm-1-6zm242 186z"/>
<path stroke="#25838d" d="M24 76zm3 5zm0 8zm4 14zm1 1zm1 2zm4-3zm2-2zm5 1zm0-2zm-1-5zm7 7zm4 5zm-9 1zm-1 2zm-2 2zm5 1zm3 1zm-6 3zm0 1zm-4 2zm-1 1zm-5 0zm-4-4zm5-4zm0-2zm-12 0zm3-4zm8-7zm21-8zm4 2zm3-9zm21-5zm14 10zm-9 12zm-2 23zm-9 13zm-9 0zm-3-5zm-4 8zm-2 4zm1 2zm2 0zm-4 7zm-9 13zm2-34zm-2-4zm3-2zm2 1zm1-1zm1-10zm5-6zm7-1zm-25 16zm-7 2zm-4 0zm0 7zm1 4zm-7-6zm-10 2zm-3-1zm4-12zm1-1zm2 3zm-19-2zm0-13zm127 3zm30 4zm24-11zm-2-27zm-13 5zm-26-5zm0-20zm0-2zm11 5zm-40-3zm-8 4zm10-14zm6 25zm75-5zm35 16zm5 7zm-9 15zm30 1zm50 24zm-92 31zm-15 29zm-55 2zm-11 16zm-36 9zm-4-42zm18-2zm-16-22zm76-2zm6 3zm92 102zm-15-224z"/>
<path stroke="#1e9a89" d="M8 87zm9 4zm0 1zm-2 7zm3 1zm2-1zm3-3zm5-2zm3 2zm2 5zm7 1zm1 0zm5-3zm8 1zm1-1zm1-2zm5 3zm0 1zm3 2zm-11 0zm0 5zm-3 3zm-6 0zm0 6zm-1 2zm-3 2zm0 3zm2-1zm3 1zm3 1zm2 0zm3-1zm6 2zm0 7zm-5 2zm-6-1zm1-3zm0-2zm-5 0zm-4 0zm0 0zm-1-3zm-6 0zm3 4zm1 1zm0 6zm-6 0zm-4 3zm-1 3zm-3-2zm-5-2zm-3 3zm-2-10zm0-4zm-5-1zm10 4zm3 0zm1-8zm2-2zm0-1zm-1-5zm5 2zm5-1zm0-1zm0-3zm0 0zm2 2zm4 1zm-1 4zm-2 3zm0-13zm-10 0zm-10 1zm-2 5zm-6-6zm-5 4zm-2 4zm11-14zm23-12zm-4-9zm8-5zm8-1zm3 3zm0 6zm4-13zm8 7zm8-14zm29-3zm9 8zm13 10zm3 5zm6 10zm6 7zm-2 8zm-7 1zm-3 8zm-22 3zm-5-1zm-4-8zm2-5zm-2-3zm-21 5zm2 6zm-6 0zm-8-1zm-5 2zm-6 0zm1-12zm-4 31zm-4-2zm-3 9zm-2 2zm1 2zm-7-2zm2-2zm-11 7zm-7 7zm4 7zm1 4zm20-8zm8-4zm7-8zm1-8zm18-4zm1-8zm6-3zm4 17zm9 8zm2-16zm10 28zm2 7zm-34 1zm0-11zm-10 6zm21 41zm29 9zm-9 13zm33-38zm24-4zm2 1zm1-28zm7 1zm7 1zm-2-4zm10 4zm42-3zm10-7zm11-21zm-6-10zm-3-3zm-20 14zm-19-13zm1-13zm6-1zm7-7zm-21-5zm0-2zm-14 20zm-19-2zm2 20zm-17-30zm-5-16zm-6-6zm-7-12zm-2 1zm-3-7zm-4-5zm28-5zm2 2zm3 1zm0-11zm19 8zm11-10zm7 5zm16-3zm-32-15zm3 41zm72-21zm7-17zm-21-28zm36 70zm41 3zm-10 13zm51 66zm-59 105zm-56-35zm-72 49zm-159-120zm1-4z"/>
<path stroke="#2bb17d" d="M13 76zm0 14zm1 1zm0 3zm0 5zm4-2zm3-4zm1-3zm4-2zm-1 5zm0 4zm4 2zm-4 7zm-2 9zm5 2zm1 0zm3-6zm1 0zm0 0zm6-2zm4 0zm7 1zm5-3zm0-3zm3 2zm1 0zm4 2zm2-5zm0-1zm1-5zm0-3zm-6 3zm-3-1zm-6 1zm-6-1zm-4 1zm-2-5zm-4-2zm1-4zm-4-1zm0-3zm3 0zm18 0zm1 2zm2 2zm15 0zm1-4zm5 1zm0 1zm1 2zm4-2zm1-9zm1-1zm-7 0zm0-2zm1-3zm-6 4zm2 23zm0 9zm-5 11zm-1 5zm-1 0zm1 5zm-2 1zm-5-1zm0 3zm-1 3zm0 4zm-2-1zm-6 0zm-2-1zm-1 0zm-1 0zm-4 0zm-2 3zm1 7zm0 0zm3-1zm3 3zm-1 4zm4 2zm7-2zm2 3zm2-6zm0-2zm3-7zm9 8zm-5 9zm3 11zm-14-2zm-10 5zm-3-2zm-4-4zm-7-9zm-1-8zm0-4zm0-2zm4 4zm1 0zm-11 0zm-3 0zm0 3zm1 0zm-3-1zm-3-3zm2-3zm4-3zm1-2zm-1-6zm6-1zm3-1zm2 3zm0 1zm1 1zm1-13zm3 2zm10-1zm0-3zm6-2zm5 2zm-4 7zm-1 1zm-2 4zm-4 0zm-2 0zm0-1zm-1-1zm-1 1zm4-1zm0-1zm-1-1zm2 6zm1 1zm21-11zm9-25zm15 5zm14-2zm-2 6zm1 8zm4 0zm6-8zm12 3zm-3-15zm10 0zm3 6zm16-1zm-2-6zm1 17zm-1 2zm2 1zm-9 1zm-2-1zm-6 21zm2 15zm6-5zm13 3zm4 5zm6-1zm3 3zm-6-20zm12-6zm6-7zm3 20zm15 0zm-6 9zm4 11zm9 4zm-8 12zm-4 6zm-14-1zm-24 11zm2 27zm6-2zm-15-2zm0 0zm-10-5zm-19-5zm-5-2zm-6 5zm1 4zm-18 0zm4 17zm1-34zm5-4zm7-1zm2-11zm-11-7zm-9 4zm11-19zm19 2zm12 4zm1 4zm-2 7zm-2 54zm16 1zm-6 24zm-5-5zm57-20zm8-7zm33-28zm20-13zm8-22zm14 13zm27 12zm25 9zm12-39zm-16-36zm-22 13zm-27-11zm11-14zm-30 8zm-18 2zm-1-8zm-16-1zm5 10zm7 5zm-20-6zm-11-6zm2 20zm20 17zm-1 9zm6-57zm-13-3zm-1-14zm-16-1zm1-12zm7-16zm-10-4zm-15 2zm4-11zm-7-7zm-14 2zm0 3zm0 2zm-2 0zm4 8zm-7 3zm-7 6zm1 4zm-7-3zm-4-3zm-6 2zm-6 0zm3-4zm0 14zm8-1zm-17 2zm0 0zm-2 3zm-6-7zm-1-6zm5-6zm-18 14zm0 3zm-7-3zm-4 1zm0 8zm4 7zm14-2zm1-5zm-28-9zm4-6zm2-2zm-48 11zm1 7zm-4 27zm-37-1zm-7-1zm2-5zm2 1zm4 12zm2 4zm-6 5zm0 13zm1 3zm6 1zm2 0zm1-2zm2-4zm-1-4zm7-1zm-5 12zm-2 9zm0 3zm-3 11zm-8 2zm2-19zm4-13zm5 44zm15-2zm34 25zm15 22zm10-71zm7-5zm1-5zm23-4zm57-46zm6-15zm28 18zm25-13zm18-7zm-11-16zm-4-21zm25-4zm15 30zm6-2zm23-12zm-97-18zm0-3zm15 264zm119-46z"/>
<path stroke="#55c666" d="M37 54zm13 3zm-7 10zm4 8zm-8 1zm1 8zm1 7zm-8 5zm2 2zm13 1zm14 7zm4-3zm4 0zm7 1zm2 2zm1-4zm-2-5zm-2 2zm-3-2zm2-12zm-3-2zm9 4zm0 2zm2 1zm2 4zm0 1zm2 3zm-1 2zm-2 7zm3 3zm2 5zm-4 1zm-5-1zm-3 0zm-1 0zm-3 1zm1-4zm-4 9zm0 0zm-2 0zm-2 0zm-5 1zm-5-3zm0-3zm3-1zm3 0zm1 15zm-3 2zm0 3zm4 0zm3 7zm5-1zm2-5zm6-3zm1 8zm-5 3zm-2 6zm2 3zm2 2zm4-1zm-1-2zm9-4zm3 1zm0 6zm-3 4zm0 15zm-2 0zm1 7zm10 0zm0-2zm-2-3zm10 1zm5-5zm-10-3zm3-11zm-1-1zm0-11zm-11-5zm-6 3zm3-16zm-1-4zm-11-2zm2-3zm-9 5zm-16 3zm-4 3zm-7 0zm0-7zm-1-1zm-1 26zm-3-3zm-9 2zm-1 5zm-3 5zm-5-1zm1 9zm4-1zm-9 2zm4 4zm-4 11zm1 10zm22-12zm-1-2zm3-7zm2-2zm0-3zm-1-3zm5 1zm-1 1zm0-5zm4-12zm0-2zm3 0zm-2-3zm16 5zm-2 6zm0 1zm0 1zm-1 4zm2 6zm-4 4zm-5 0zm12 9zm9-4zm1 11zm-8 9zm-3 1zm-6-5zm-3 1zm2 10zm-5 2zm17 11zm-2 3zm29-9zm7 4zm-1-11zm10 7zm0 1zm7 2zm-2 8zm-7-1zm-6 7zm28 5zm2 11zm4 6zm6-7zm6 3zm4 11zm8 15zm48-6zm31-7zm-3 32zm41-11zm2-23zm-12-12zm3-19zm6-12zm-1-1zm-3-5zm9 0zm-21 1zm-3-5zm-5 2zm-4 2zm-23 16zm-1-45zm3-7zm-14-4zm-2-5zm-1 0zm-4-5zm-4-3zm-3 6zm-1-1zm-10 7zm9 15zm-3 16zm-8 12zm-29-1zm-3 6zm-9 0zm-2-11zm-1-2zm5-2zm-9-5zm-6 3zm3 8zm-1 12zm-15-21zm-3 1zm0-3zm-2 1zm-4-1zm1-3zm4-4zm-6-4zm-12 4zm10-24zm1 1zm8-2zm0-8zm1-2zm12-6zm13 0zm5-2zm6 3zm6 0zm2-9zm-5 0zm-4-4zm-8 0zm1-4zm-7-3zm0 13zm8 15zm-11 7zm25-2zm-2 12zm10-19zm3-4zm7-4zm0-2zm-6-5zm1-1zm0-7zm6-4zm0-3zm-1-4zm-9-3zm-8-4zm0-2zm-1-3zm-4 5zm-7-5zm-2-7zm-1-5zm-3 0zm-1-1zm3-5zm2-12zm-5-1zm-5 4zm-3-1zm-7 1zm-3-3zm-1 1zm-4 2zm-1-3zm2-7zm3 0zm5-4zm6 2zm-2 3zm7-1zm-6-9zm-10-3zm-5 3zm-1-9zm-5 3zm-12 1zm1-5zm-3-2zm-4 8zm4 4zm4 3zm-6 3zm-8 0zm-1-5zm1-2zm-5 1zm-10 4zm-1 0zm4 7zm-1 4zm8 4zm3 3zm1 0zm2 3zm1-5zm-2 10zm1 8zm6 0zm5-3zm4-1zm1 2zm3-10zm2 1zm-1-6zm7 2zm10 1zm1 7zm5 4zm-5 10zm2 5zm3 1zm-19 1zm0-8zm0 18zm7-2zm-1 8zm5-1zm-20-1zm0 6zm-4-12zm0-3zm-6-5zm-1 0zm-3-4zm-2 0zm-5-14zm4-23zm18 0zm7-2zm2 1zm9-26zm7-1zm0-6zm11 13zm12 10zm4-2zm5 1zm-3 3zm3 6zm2 2zm0 5zm8 5zm5-8zm1-6zm4 2zm5 1zm-3-7zm3-6zm5 2zm2-8zm-5-3zm-3 0zm-7 1zm2 3zm-9 6zm0 9zm-1-1zm-1-19zm1-4zm-4 7zm-5-4zm-2 9zm-3 30zm7 6zm1 4zm2 4zm2 0zm5 1zm-1 1zm4 0zm3 0zm9 1zm2 0zm0 7zm-4 5zm6 2zm5-5zm5 2zm1 0zm1-1zm-1-4zm3-10zm9-2zm5 0zm0-5zm-6 1zm-13-6zm0-7zm4-14zm-1-4zm6 0zm3-3zm1-4zm-5-3zm-3-1zm3-8zm-7 0zm-3 2zm1-9zm-6-5zm-9-4zm24-1zm3-4zm3-1zm1 19zm2 1zm5-6zm14-1zm-1-5zm1-8zm7 2zm9-2zm5 1zm-2-8zm2-3zm-11 23zm-8 5zm7 10zm5 2zm0-4zm2-2zm1-1zm12-1zm-16 11zm-6 1zm-11 3zm-7-1zm1 4zm4 8zm1 8zm-6 4zm-7-4zm0-8zm-4-4zm-19 2zm-11 17zm3 3zm2 4zm-7 4zm14 7zm3 19zm3 8zm8-1zm-1 5zm11 0zm7-4zm7 1zm8 1zm5 10zm-8 6zm-9-3zm-1 6zm-11-1zm-3 1zm-3-4zm3-4zm16-5zm-15-16zm-3-5zm7-2zm1-4zm29-4zm3-14zm-9-6zm40-10zm13 18zm7-2zm7-5zm3 11zm5 21zm11 2zm-31-1zm-12 3zm7 12zm14 5zm12 23zm5-5zm3 15zm21-12zm22 16zm-4-54zm-22-24zm-24-51zm-25 9zm-28 62zm1 17zm11 15zm-28 21zm-41 16zm-43 3zm-4-50zm20-7zm-1-5zm11 9zm-28-33zm-4-3zm-7 0zm-9-71zm-85 30zm-7 15zm-33 11zm-17-4zm-6 11zm14 10zm-1 46zm-9-6zm-3-3zm-2 2zm0 9zm26-10zm270 53zm9 4zm-4 18zm6 7zm7 24zm15 10z"/>
<path stroke="#90d643" d="M20 67zm45 4zm4 2zm-4-10zm28-14zm17 2zm13-3zm-2-3zm8-7zm26-2zm4-2zm5 10zm0 5zm3 8zm1 6zm2 3zm5-2zm0-2zm-2 0zm6-3zm6-2zm5 3zm1 2zm-3 2zm-1 8zm-7-1zm-1 1zm-1-1zm-1 13zm2 6zm0 5zm0 3zm-4 0zm0 1zm0 3zm-1 3zm-5-2zm-5 1zm-4-1zm1-3zm1-2zm-5-5zm-12 0zm0 0zm1-3zm3-3zm1 0zm-8 1zm0 0zm-4 3zm-7-1zm-2 1zm-1-1zm0-2zm-9 0zm0-6zm0-5zm10 3zm9-2zm-4-11zm-1-2zm2-1zm12 2zm10-2zm6 8zm-1 3zm3 3zm2 3zm3 5zm-2 4zm2 2zm-8-7zm-4-5zm27 2zm1 1zm4 0zm6 1zm4-2zm0-6zm5 3zm4-5zm0-7zm-1-3zm-2-2zm1-6zm-1-3zm-5 3zm-3 0zm-1-6zm-11-1zm-6-4zm-4-2zm-3 3zm11-15zm3-3zm6 2zm2-5zm6-1zm6-2zm15 0zm0-1zm3 8zm0 11zm-3 0zm-3-3zm-6 0zm0 1zm-5 2zm-3-5zm-3-3zm14 11zm8 3zm3-2zm-1 12zm4 4zm-1 3zm2 3zm2 0zm0 7zm1 0zm-5 1zm-3 1zm-5 1zm-5-1zm1 9zm5 8zm-2 3zm-1 3zm8 0zm4-3zm10 1zm-1-3zm0-4zm2 0zm0-5zm-2-7zm-1-8zm-1-13zm4-6zm2 1zm1 1zm7 2zm5-1zm-1-7zm-2-2zm1-12zm-10-2zm-11 6zm1 3zm29-3zm2-12zm8 3zm-1 2zm1 24zm2 9zm14 1zm-1-12zm3-4zm13 13zm5 9zm-8 12zm-1 3zm3 0zm-9 4zm-3 7zm8-1zm13 11zm-3 15zm5 8zm-2 11zm-4-1zm0 11zm-5-4zm5 15zm-14 3zm-8 11zm0 2zm-6 4zm-14 1zm-8 5zm-6-7zm-5 10zm5 16zm-8 12zm-2 20zm-8 5zm-21-1zm0 4zm1 14zm7-4zm12 9zm2 2zm11 1zm0-11zm2-2zm5 5zm2-20zm7 4zm3-6zm11 2zm4-8zm-8-14zm-3-5zm4-13zm15-2zm13-11zm21-1zm3-15zm18-5zm17-5zm-1-15zm-11-9zm-3-19zm-18-5zm1 15zm-4 18zm-27-15zm-9 1zm-16-4zm-3-1zm-8-4zm-9 0zm-4 3zm-2 3zm4 2zm1 3zm0 2zm-6 6zm4 6zm5 1zm-2 4zm6 0zm1-8zm2 0zm3 2zm14-4zm5 10zm-39-1zm-8 0zm0 7zm0 2zm0 2zm-1 6zm0 3zm-9-15zm-2-8zm-6 0zm2 2zm-8-1zm-7-4zm3-5zm2-3zm1-2zm2-4zm0-2zm3-2zm7-1zm-1-3zm-2-3zm-1-8zm3 0zm2-3zm6 0zm4 2zm4 0zm-1 1zm-4 5zm-4 2zm7 1zm6 4zm-11 6zm-6 0zm4 7zm3-2zm-3 9zm4 3zm6-2zm-19-7zm-15-5zm-7-4zm-2-2zm0-1zm-2 2zm-10 1zm-1 4zm0 3zm2 5zm1 1zm-1 4zm-3-1zm-6 4zm0 5zm0 1zm4 4zm-1 1zm-8 0zm-8 0zm-8-7zm0-1zm-3-4zm-1 8zm0 1zm-1 0zm-3-3zm-6 0zm-4 3zm-3 3zm-3-2zm-2 0zm-1-6zm-5-2zm0-7zm4 0zm4 1zm0-11zm3-2zm1 0zm2-2zm5 3zm2-1zm5 1zm6 1zm-1 5zm-3-1zm11-1zm3 4zm1 7zm7-10zm-1-10zm-5 2zm-11-2zm2-8zm1-7zm4 2zm5 1zm8 0zm-1 3zm2 1zm-2-7zm7 0zm1-1zm-1-7zm-2-3zm5 0zm8 3zm0-7zm1-7zm-1-19zm4-2zm5-2zm13-3zm-1-2zm0-8zm5 11zm5 1zm4 12zm21-17zm7 35zm-9 6zm5 10zm1 1zm7-2zm0-2zm12 4zm6 2zm-9-23zm-58 8zm0 2zm-5 2zm-1 0zm1 2zm-3-4zm0 10zm0 3zm4 8zm-16-3zm0-3zm-2 1zm-4 3zm-2 2zm5 16zm2 9zm4 1zm1-6zm6-3zm1 20zm-5-2zm-4-1zm1 6zm-6 1zm-2 6zm-1 0zm-2 4zm-5 0zm-2 0zm2 4zm-9 1zm-9 0zm3 3zm4 6zm11 0zm9-4zm2-2zm4 5zm-6 8zm-1-19zm11-5zm7-4zm3 13zm7 6zm10 0zm-6 12zm-8-1zm-2 3zm1 31zm-19 8zm-4 6zm-5 3zm-12-2zm2-11zm-1-2zm-5 1zm-3-5zm-12 3zm-2 5zm4 1zm-9 3zm4 6zm-3-16zm-9 0zm-10 1zm1-12zm-1-7zm1-2zm0-7zm-6 1zm-1 1zm1-4zm-3 1zm-3 2zm-1-1zm0-6zm-2 0zm0 1zm-3 2zm-4-1zm1-1zm-2-2zm0 5zm-2 2zm-3-3zm-4 1zm-3-1zm0 7zm-4 4zm-5 2zm-7-1zm2-4zm2-13zm1-2zm2-4zm-3-1zm0-4zm-6 3zm0-11zm-3 2zm-8 1zm-1 0zm-1-2zm-2 3zm-2 0zm-7-1zm1-2zm-5 4zm-9-1zm-2 0zm-2 4zm-2-1zm-18-1zm-4-14zm12 3zm2-16zm1-2zm5 1zm-10-3zm-2-8zm-7-17zm44-4zm3-3zm7-1zm0-7zm1-2zm-8-6zm22 2zm1-4zm4 1zm4-1zm2-1zm1 5zm-1 3zm4 0zm1 0zm1 8zm0 2zm1 2zm-7-3zm-2-2zm-1 6zm0 5zm-2 1zm-1 0zm-4 0zm-6 0zm0-1zm-3 0zm3 3zm-3 3zm-3 3zm10-1zm0 3zm3 3zm1 6zm4 3zm7 1zm0 3zm2 2zm1-8zm-1-8zm4-1zm1-1zm-1 4zm6 5zm-1 4zm2 5zm2 2zm2 1zm-6 0zm-1-1zm-6 6zm-2 2zm-5-1zm1-1zm-2-4zm-6 3zm-2 12zm8 3zm-1 3zm3 3zm3-1zm0-2zm0 0zm6 1zm1-3zm2 0zm3 2zm4-3zm-3-3zm-4-2zm3-3zm2-1zm2-1zm-4-1zm6 7zm4 0zm-1 1zm6 0zm5 0zm1-1zm2-5zm-3-7zm-5 2zm-5-10zm-3 0zm-1-4zm3 1zm1-6zm3 0zm-6 0zm7-5zm-3-4zm1-2zm5-3zm2 1zm-4-6zm-5 0zm-6 0zm-1 0zm2 1zm-9 4zm-9-3zm-3-2zm2 7zm-8 1zm2 4zm-9-5zm-3-10zm5-5zm6-6zm18-8zm3-4zm0-3zm-3-2zm3-4zm3-7zm2 0zm-11 0zm19 13zm3-3zm12 1zm11 3zm1 4zm1-1zm1 3zm-2 3zm0 3zm3 1zm2-2zm2 0zm0-3zm-2 9zm0 7zm-9 2zm-3-3zm-2-8zm7 1zm-3-7zm-12 5zm0 9zm-6 2zm-1-5zm-3-1zm-2-6zm-3-3zm1-3zm-1 76zm0 7zm2 4zm-3 3zm-5 0zm0-5zm0-1zm2-4zm-8 5zm-5 1zm-1 1zm0 2zm0 1zm-10-2zm-21-3zm-1 0zm0-5zm3-16zm5-2zm0 0zm1 3zm-3-16zm4-4zm-28 7zm1 13zm-6 4zm-6-9zm7 37zm22 13zm9 7zm28 1zm-1-10zm-1 1zm0-5zm12 7zm4 5zm-2 3zm-4 7zm2 7zm4 0zm-6 12zm21 7zm6-51zm6-5zm3-1zm10-3zm1 0zm-1-3zm-4-2zm-3-3zm-4-4zm-1-7zm-4 0zm-1 3zm-4 1zm-5 1zm0-3zm-4 5zm2 4zm-3 1zm6 9zm1 0zm4-25zm10 2zm6-2zm3 2zm0 1zm0 38zm10-4zm31 42zm-6 7zm1 5zm4 7zm10-1zm7 6zm7 2zm-4 17zm-3 5zm-2 2zm-10-17zm35 9zm11-9zm27 11zm10-35zm6 0zm52-17zm-18-33zm-6 2zm37-15zm3-98zm-8-9zm-9 0zm-1-26zm-10 0zm-7-16zm29-6zm-48-15zm-1-3zm-50-10zm-1-3zm-4-7zm-58 9zm-90 159zm-6-2zm0-1zm287-50z"/>
<path stroke="#d2e11b" d="M11 62zm3 102zm34 8zm9-3zm2-12zm27 3zm6-2zm4 6zm4-1zm4-4zm0-1zm4-5zm3-4zm0-5zm2 1zm3 2zm0 6zm2 4zm5 3zm4 1zm-1 4zm0 4zm2 0zm4-1zm2-2zm1-3zm5-4zm6 2zm-4 6zm0 1zm0 4zm3 2zm-9 0zm0 0zm1-3zm-5 4zm-6 0zm-3 0zm-4-1zm1-2zm-5-3zm-5 1zm-5 1zm-8 2zm2 5zm10 0zm2 3zm1 3zm2 0zm0-1zm2-2zm1 0zm1-3zm2 7zm0 0zm0 0zm-1 1zm-1 2zm-2 2zm0 0zm-1 3zm-3 3zm-6-1zm-1 6zm-2 1zm3 6zm1 0zm4 0zm4 0zm0 3zm5 1zm1 6zm3-2zm0-1zm4-2zm1-1zm1 4zm7-2zm4-1zm-1-6zm-4-1zm-8 1zm-2 1zm1-4zm0-1zm3-3zm1-5zm3-2zm1-4zm2 1zm-1 6zm-11-1zm-4 0zm1-3zm2-3zm3-5zm-15 2zm-1 2zm-9-1zm-3 7zm-5 3zm-5 3zm-5 1zm-2-2zm-1-2zm3 8zm0 11zm13-5zm7 4zm0 2zm-1 2zm2 5zm4 0zm1 5zm7-2zm5-3zm3 0zm6 0zm-2 9zm2 12zm5 4zm0 8zm12-2zm6-1zm13-5zm8-14zm6 4zm15 1zm2 4zm13 0zm2 2zm10 13zm16-6zm7 6zm-2 3zm15 2zm13-13zm7-5zm6-9zm15 4zm14 1zm4-14zm16-5zm-1-4zm-2-14zm13 0zm6-11zm5-21zm2-14zm18 1zm-1-23zm-2-7zm-4-8zm-17-10zm-1-13zm1-13zm-35 1zm1-13zm-14 2zm-12 7zm-13-3zm0-15zm5-3zm-3-18zm-3-3zm-3 9zm-8-1zm-3-5zm-1-3zm7-5zm-10-10zm0-7zm2-15zm-19 15zm-2 5zm2 9zm-14-3zm-8-2zm2 12zm8 4zm2 2zm1 3zm2-1zm3 3zm1 4zm4 0zm-12 5zm3 9zm0 1zm5-1zm2 8zm-5 9zm0 1zm-3 11zm-1 4zm1 7zm3 2zm0 2zm-1 3zm-4 1zm-6 0zm1-3zm-1-3zm0-6zm-4-2zm-4-3zm-3 7zm-6 2zm0 3zm-2 5zm3 4zm5 6zm-3 5zm-5 3zm-4 0zm-1-1zm0 6zm-7-3zm-2 2zm-2 6zm-2-2zm-1 4zm-3 0zm-7 0zm3 6zm-7 2zm2 3zm-10 0zm-4-4zm-1 0zm0 12zm0 1zm-3 1zm0-5zm5 6zm2 0zm7 2zm0-6zm-2 10zm1 2zm3-2zm-5 8zm0 10zm3-1zm5 0zm1 0zm-3 3zm11-1zm0 3zm1-8zm11 0zm0-1zm5 0zm5-11zm-1-10zm6-1zm0 3zm1 2zm3-9zm4 2zm3-2zm2 4zm4 7zm4 9zm8 8zm1-16zm-1-8zm0-6zm-1-3zm-4-6zm-1-2zm1-12zm-6 0zm1-4zm-1-6zm-3-2zm-3 1zm-2-6zm0 18zm1 4zm2-7zm-8 2zm-2 4zm4 8zm2 6zm-18 7zm-5 2zm1 1zm0 3zm-8 0zm0 2zm1 5zm3 0zm0 3zm-7-20zm11-6zm-3-21zm-2-5zm-2-2zm5-1zm-1-1zm0-1zm4 5zm2-18zm-2-4zm-14 3zm-1 5zm0 0zm-3-3zm-7 1zm-2 1zm2-10zm4 0zm2 1zm0-6zm0-5zm0-3zm0-6zm3 1zm0-6zm0 0zm2 1zm-5-5zm-3 1zm-5-1zm0 5zm0 2zm-3 5zm-4-7zm-8 3zm-3-1zm-2 2zm-2 3zm0 2zm8 2zm3 6zm7 1zm-1 3zm-1-1zm-3 4zm0 1zm-4-1zm-5 2zm-2-3zm-4 0zm-6 2zm5 7zm1 3zm3-1zm2 3zm2 0zm3 2zm2 0zm-2 5zm7-1zm1-3zm3 3zm11-2zm-1-2zm0 7zm-3 3zm8-6zm-19 10zm1 3zm-1 3zm-10 1zm3-6zm2-4zm-6-2zm-1 4zm-9-3zm-5 7zm-6 3zm0-8zm-3 2zm-2-1zm-5-3zm-5 4zm-5 4zm-5 2zm-5 3zm-1 7zm-10-9zm4-8zm2-11zm-3-3zm-3-4zm-1-3zm8 0zm7-5zm8-8zm12 5zm1 4zm4 4zm0 8zm8 2zm-2-6zm13 4zm0 2zm0-12zm6 3zm15-15zm1 0zm-1-27zm17-2zm8 0zm-1 7zm5-1zm4-5zm-1-4zm-1 0zm4-2zm-2-2zm0 0zm13 6zm0 4zm2-1zm6 3zm4 2zm-2 6zm-12 1zm-7-3zm2-3zm-4 9zm-1 4zm-1 1zm-4-3zm-2-1zm11 7zm12 3zm24 8zm-8 9zm3 10zm5 2zm-11 2zm23-4zm-1 25zm-6 0zm-1 2zm2 3zm1 8zm13-1zm-4 9zm12 9zm-2 7zm-2 17zm-21 3zm-6 3zm-6 15zm-11 3zm27 0zm-8 21zm14 46zm-7 17zm-27-12zm-7-17zm-44-13zm-9 8zm-7-41zm-2-3zm-7 0zm-6-1zm3-6zm1-2zm-8 0zm7-14zm0-3zm2 0zm2-4zm-3-2zm6-4zm-1-1zm3 0zm2 6zm2 20zm2 5zm20-11zm11 8zm1 8zm17-16zm39-36zm35-29zm3-24zm-2-4zm18-7zm6 4zm18 6zm0 2zm3 1zm8 3zm1-9zm15 17zm-3 6zm-10 7zm-3 6zm-5 9zm-7 9zm-1 1zm-4 7zm-11 5zm-1 12zm1 7zm-1 2zm5 2zm-25 5zm-5 55zm44-12zm19-19zm-25-91zm-23-15zm11-70zm10-2zm4-19zm-35-4zm15-20zm-52 26zm5 5zm-1 2zm-61-4zm-7 1zm-9 3zm-4-32zm25-4zm16 3zm7-18zm-69 65zm-10 10zm-4-3zm5 10zm-9 7zm-16 26zm-1 2zm1 4zm-2 1zm-8-3zm9 23zm2 4zm1 0zm8-4zm7 2zm-7 14zm-13 7zm-5 10zm-22-3zm-8 3zm-3 1zm0 4zm7 1zm1 7zm-12 3zm-10 0zm-3-3zm-2-2zm-4 1zm-9 4zm23 52zm29 12zm15-37zm4-11zm0-2zm-1-1zm4-2zm28-20zm5-2zm16-30zm0 0zm-87-5zm5-46z"/>
<path stroke="#d2e11b" d="M19 61zm26-8zm53-12zm14 56zm2 2zm-1 5zm-6 0zm7 13zm-3 3zm1 1zm1 3zm-4-2zm-2 9zm-11 5zm-2-12zm-4-9zm-1-3zm36-5zm6 2zm0 4zm-2 3zm1 5zm2 5zm3 0zm0-7zm9 1zm2 4zm-3 5zm10 0zm3 5zm3 2zm6 1zm-1 7zm2 1zm6 0zm0-3zm5 0zm0 3zm-2 2zm6 0zm7 0zm3-1zm7 2zm8-1zm3 3zm-2 3zm7 6zm1 11zm-1 1zm10 0zm4-3zm10-6zm-2-10zm7 2zm3-10zm1-8zm-4-4zm0-1zm-4 1zm-8-4zm1-7zm4 2zm8 0zm7 2zm3 2zm5 0zm9-1zm15 0zm2-8zm-11-13zm-27 5zm-6 0zm-3 7zm-13 1zm-5-5zm-2-3zm-1-8zm7 2zm2 1zm3-4zm-3-4zm-2 0zm-1 0zm7-4zm7 4zm2 3zm10-6zm-6-7zm3-4zm-2-4zm8-12zm-2-2zm-8-8zm1-8zm6-3zm4 3zm4 3zm6 2zm2-5zm6-1zm2 9zm13-5zm4-5zm13 3zm-1 4zm2 14zm1-35zm-30 5zm-6-15zm-14-9zm0 25zm-21 10zm-1 8zm-4-1zm-3 1zm-2 7zm1 2zm-3 0zm-3 2zm-1 9zm-9 0zm0-1zm1 3zm2 2zm11 5zm1-12zm-18-8zm-3-6zm1-1zm7 0zm-1-2zm3-14zm11 1zm-25-11zm-32-11zm12 44zm-1 3zm0 4zm1 2zm-2 3zm-4 0zm2 3zm1 3zm4 5zm0 5zm4-3zm0-1zm1-3zm3 0zm2 3zm2 6zm7-1zm0-6zm-1 14zm-1 6zm3 3zm2 2zm0 0zm1 6zm6 1zm-1 1zm-11 0zm-1-7zm-9 7zm-1 4zm2 7zm-2 5zm-10-6zm-3-6zm1-7zm4 0zm-7-3zm-1 0zm3-7zm1-1zm2-9zm-8 0zm-3-6zm0-6zm-1-11zm-11 12zm5 5zm-6 5zm-4-4zm-10-7zm-7 5zm-2 5zm-4 26zm-3 7zm11 4zm3 0zm0-1zm1 5zm8 2zm-5 11zm10 3zm1 1zm-1 9zm-2 2zm-4 1zm0 1zm5 6zm8 0zm8 3zm3 9zm-6 4zm-10 3zm3 7zm0 7zm-4 3zm-6-3zm2-2zm-6-2zm-5 0zm-6-1zm-5 0zm1 1zm-1 3zm-1 0zm-1 2zm2 2zm5-3zm-8-4zm-4 2zm-2 0zm3 1zm-3-6zm-5 2zm-2 1zm-4 7zm-5 1zm-9-4zm5-8zm5-4zm7-6zm5 3zm5 1zm6 3zm3 1zm3-4zm0-3zm-4-1zm-2-6zm0-2zm4-3zm2-3zm-4-2zm-5 0zm-3-3zm-1 0zm-4-1zm-3 2zm-2 5zm-1 4zm8 0zm-13-4zm2-8zm-4-2zm-2-9zm-3 1zm-3-2zm3-3zm1-2zm10 0zm2 3zm-5 2zm21 0zm-4 8zm0 4zm-2-26zm-3 1zm-2-1zm15 1zm28 6zm12 4zm4 0zm0 4zm1 0zm2-3zm2 1zm-8 6zm23 4zm11 2zm2-1zm-5-7zm-1 19zm5 1zm-8 3zm0 4zm-10-6zm-7 5zm7 11zm2 6zm-12 2zm-4-7zm3 25zm-19-8zm-12 0zm0 9zm1 0zm-7 2zm-2 5zm-4-3zm-1 9zm16 2zm6-1zm2 1zm-9 13zm22 16zm5-2zm7 0zm9-25zm12-3zm15-7zm-6-15zm-3-6zm-11-1zm24-27zm0-3zm29 5zm2-13zm9-8zm1-12zm2-1zm8 25zm9-6zm12 0zm6-9zm13 12zm6-20zm24-11zm14 15zm3-37zm-10-7zm-23-8zm3-5zm0-7zm-3 2zm11-9zm4-8zm4-3zm7 9zm16-18zm-33 111zm-1 10zm4 5zm-10 4zm-7 15zm-13-3zm-9-1zm-2-13zm-8-2zm-17 4zm-6-3zm-6 0zm-6 13zm19 23zm18-9zm4 16zm5 4zm11-10zm4-7zm-38 30zm-6 2zm-25 0zm-3 12zm17 7zm-3 15zm38-8zm-56-36zm-30 45zm-43 1zm-30-73zm0-24zm0-1zm2-3zm3-2zm-1-7zm-6 4zm-48 0zm-7 0zm-8 0zm-1-7zm15 0zm-1-15zm0-10zm-4 39zm1 14zm29 34zm40-119zm6-6zm0-4zm-9 1zm15 11zm20-18zm5 4zm22 0zm-6 20zm5 11zm11-5zm-2-8zm-23-45zm-7-1zm-3-13zm-180 112z"/>
<path stroke="#90d643" d="M27 75zm49 24zm2 16zm-5 0zm11 0zm4 2zm13 0zm6 3zm5 1zm1 4zm-1 3zm2 3zm-2 4zm-5-1zm-3-4zm2-3zm-7-1zm-5 7zm1 2zm-12 3zm-5-2zm-2-5zm5-3zm1 23zm0 0zm3-1zm2 0zm-10 0zm-1 10zm1 4zm6 5zm-2 4zm-1 5zm-2 0zm1-1zm-1 8zm3 5zm3 1zm1 2zm1 1zm0-5zm0-9zm-1 1zm-1 1zm9 3zm5-1zm2-1zm-1-3zm0 7zm7 4zm4-2zm1-1zm1 2zm-3 9zm-3 0zm-1 7zm9-2zm2 1zm2 1zm-6 5zm0 3zm1 1zm-3 4zm5 8zm3-1zm5 2zm0-4zm-2-3zm3-3zm11-3zm2-1zm-1-4zm2 0zm2-4zm3-1zm-1-8zm-7-3zm-5 0zm-1 3zm-6-5zm-3 3zm6-12zm1-6zm5-2zm4 5zm3 0zm0 6zm0 4zm-6-4zm14-1zm-1-4zm11 2zm3-4zm2-3zm-8-5zm-2 1zm-2-14zm1-3zm4-3zm2 8zm13 1zm4 2zm0-20zm4-1zm10 0zm-1 4zm3-1zm5-2zm4 2zm8 2zm2 2zm-1 4zm-3-3zm-5 5zm-1 7zm-2-1zm-5 5zm0 7zm4 1zm-1 2zm-2 2zm-8 1zm1-5zm2-4zm1-13zm5-4zm3-17zm7 0zm10-5zm6-7zm-1-2zm0-3zm1-9zm2-5zm1-9zm4-3zm4-1zm3-7zm0-2zm1 0zm4 4zm-13-3zm-10 0zm-5 4zm-2-1zm0 8zm-4-3zm-6 1zm-5-3zm-1 6zm2 1zm6 2zm-3 4zm9-1zm6 1zm2-2zm0-1zm-2 13zm-3 4zm-12 5zm-13 2zm2 3zm-18 1zm-5-1zm0 0zm-4 3zm-7 4zm-4-4zm-3-1zm5-1zm-1-10zm0-1zm-2 1zm-5 5zm-7-2zm-5-5zm-4 1zm-2-5zm-2 1zm-5 1zm-1-1zm-13-10zm3-12zm24 2zm-1 1zm4-8zm3 1zm1-7zm7 1zm-1-7zm-2 1zm-8-5zm-9 6zm2 5zm1 0zm19 11zm2 9zm-6 0zm0-1zm-3 4zm15 0zm2-4zm10 0zm3-3zm6 0zm3-4zm1-1zm0-5zm-2-1zm-4-1zm2-4zm8 0zm0-2zm1-6zm3 2zm3-7zm1-7zm0-5zm5-2zm0 16zm9 0zm0-5zm-2 9zm0 3zm9-1zm5-4zm0-2zm-1-5zm-1-3zm5 4zm1 7zm2-1zm1 3zm8 1zm-3-8zm-3-7zm0-17zm0-4zm5-2zm3-7zm4-2zm3 0zm6 0zm10-2zm1 9zm1 16zm-5 2zm-8-1zm-5 3zm3 12zm6 1zm1 12zm3 11zm3 11zm7-1zm2-4zm10 9zm0 19zm4 9zm4 10zm-3 7zm6 4zm6 1zm-4 19zm15 3zm-3 28zm-13-6zm-9-9zm-1 27zm0 13zm-13-3zm4 20zm-12-1zm-18-16zm-15 0zm-3 18zm-23-9zm-16 0zm-6-5zm-3-12zm-15-4zm-4 1zm-7-2zm11-13zm1-4zm0-1zm9-7zm1-8zm7-1zm1 8zm6 7zm10 3zm-2-14zm-3 1zm1-5zm5 0zm5 1zm1 1zm11-8zm4-2zm6-3zm14 0zm1-10zm0-7zm14 3zm4 10zm-11 12zm-3 16zm-1 17zm8-1zm-20-23zm-11-26zm-2-3zm-4 3zm0-6zm-2 12zm10-20zm0-2zm-1-3zm5-3zm1-19zm9 1zm1-3zm7-2zm-2-6zm6 1zm1-5zm8 3zm-2 3zm0 12zm6-2zm6 1zm1 5zm-7 10zm-7 0zm0 0zm-1-2zm-1 6zm-6-10zm-3-7zm51 1zm0-15zm-4-33zm-4-8zm8-3zm-2-12zm11 5zm11-3zm8-1zm24 18zm16-1zm-2 31zm-6 5zm11 3zm-29-20zm-4-3zm7-3zm-15 35zm-4 13zm11 2zm-6 8zm1 9zm25 11zm3 8zm11-2zm0 8zm-5-20zm-19 17zm1 33zm-14 21zm-38 43zm-42-6zm-10 6zm8 20zm-36-19zm-27-10zm2-12zm-33-3zm1-9zm-8-5zm-13 8zm2-39zm-13-35zm1-1zm0-2zm1-1zm1-7zm2-2zm3 2zm11 0zm-2-12zm5 0zm4-4zm-2-7zm-3-3zm1-3zm-10 9zm-4 5zm-10 0zm2-6zm1-5zm4 0zm-13 17zm2 9zm-6 1zm0 4zm4 2zm-1 5zm-4 2zm-10-6zm0 0zm3-6zm-2-12zm-3 3zm23 4zm-45 12zm-11 6zm-9-6zm-4-5zm-9 2zm2 5zm6 6zm8-19zm4-26zm7 5zm-36 15zm-14-7zm-12-7zm-1 35zm73 18zm-1 3zm8 2zm9 1zm0 35zm-21-7zm-15-12zm4-4zm139 9zm3-2zm-3 8zm8-16zm1 1zm-37-70zm-4-2zm8-3zm-5-14zm4-6zm-1-7zm6 0zm3-2zm-17-1zm1 6zm-9 3zm3 6zm5-29zm1-1zm-5-9zm0-13zm-6 0zm9-7zm10 0zm0 7zm2 1zm4-9zm3-27zm3-4zm3 1zm15 4zm9-3zm8 0zm-1-8zm4-2zm10-12zm2 1zm0 36zm14-1zm22 3zm4 2zm-4-23zm16 0zm-72 24zm-2 1zm-2-1zm-10-36zm-32 18zm-10 0zm-7 1zm-2 17zm-33-14zm34 253z"/>
<path stroke="#55c666" d="M12 69zm8 8zm-1 18zm-9 8zm-8-2zm0 27zm0 4zm-1 5zm2 2zm1 8zm0 6zm6 3zm8-5zm12-1zm-1-3zm2-3zm4 15zm2 1zm0 1zm4-4zm11 4zm2 5zm5 0zm3-4zm0-5zm0-4zm5-5zm1 0zm0-3zm3 3zm1 0zm3-5zm-5-3zm-6-2zm-1 0zm1-2zm-4 0zm-1-3zm2-3zm-3-4zm-4 0zm4-8zm-1-2zm2 0zm5 1zm-1 6zm5-1zm1 3zm-1 3zm8 3zm5-1zm-1-5zm3-7zm0-8zm-1-8zm-1-1zm1-3zm5 3zm4-2zm5 2zm3-2zm4-4zm3-2zm7-2zm7 2zm-1-8zm8 5zm13-3zm13-2zm7 3zm2 1zm-4 6zm-1 8zm-4 7zm-3-1zm-2 0zm-5 2zm-1-7zm-1 14zm6 8zm9 3zm0-8zm14 7zm4 6zm7-5zm2 1zm3-1zm-1-6zm-6 3zm7-14zm4-5zm-2-5zm7 2zm13-1zm9 2zm16-4zm-8-20zm12-6zm-1-3zm-3-2zm0-12zm-12 6zm0 2zm-16 19zm-22-5zm4-5zm1-6zm-16 3zm1 5zm-2 4zm1 4zm5 2zm-8 7zm10 6zm22 18zm4 11zm1 7zm-2 1zm2 10zm-10-2zm-4-7zm-9 6zm2 10zm0 4zm0 10zm-16-4zm-1-7zm7-6zm-8-12zm-5 0zm-2 28zm-12-4zm-3-7zm-5 12zm0 12zm0 2zm-1 7zm3 9zm-6 9zm-5-1zm-9 5zm-1 4zm-6 2zm3-8zm-5-5zm-8 5zm-4-2zm-3 3zm-2 12zm1 8zm30 0zm-1-3zm16-7zm11 2zm-2 6zm-1 1zm-4 1zm0 9zm4-26zm0-8zm14-2zm12-1zm-10-11zm22-1zm8-5zm8 7zm8 18zm6 1zm-32 2zm11 18zm40 7zm6 9zm8 24zm-32 2zm1-13zm57 22zm26-22zm22-3zm-7-31zm-8-11zm-3-29zm-2 0zm21-12zm10-21zm6-64zm-42-3zm0 16zm-18 4zm-1-9zm-9-13zm-13-31zm6-10zm0-16zm-12-2zm0 4zm-9-6zm-9-4zm-8-13zm-8 23zm-9-3zm-1-4zm1 13zm-7-5zm-5 2zm1 6zm7 5zm-10 6zm-20 2zm-6 7zm-7 1zm-2-14zm-5 0zm-4-9zm12 1zm6-3zm-2 9zm12-17zm12-7zm-45 39zm0 9zm4 0zm0 6zm-6-8zm-7 2zm-19-1zm0-7zm-1-8zm-8 4zm-4 0zm3-9zm17 0zm0-4zm-21 35zm-6 2zm-2 4zm-4-17zm-8 4zm-1 1zm0-14zm-4 1zm-8 7zm0 17zm-11-1zm-3 13zm8 7zm5 16zm4-4zm2 24zm9-3zm2 2zm-4 14zm1 8zm7-5zm-16 1zm2 11zm-10-6zm-19 8zm0 5zm-3-1zm-8-1zm-5 7zm12 9zm18 6zm8-7zm18 2zm6 0zm-1-3zm0 16zm15-9zm18-4zm-5-21zm-8-1zm-2 6zm-6-2zm-9 1zm7-22zm0 0zm3-5zm-1-15zm0-11zm5 2zm-10-4zm-8 7zm23-16zm5 4zm3 34zm2 9zm20 22zm1 5zm64-10zm8-12zm0-1zm14 0zm0 9zm15 0zm7 2zm2 11zm-2 3zm-11-23zm0-28zm7-1zm1-12zm12 16zm6 0zm20-10zm-67-1zm84-52zm13-18zm-12-12zm-28 163zm-229-57zm0-1zm-2-10zm-34 2zm2-18zm4-3zm25-28zm-1-18z"/>
<path stroke="#2bb17d" d="M24 71zm-8 11zm-3 7zm-5 6zm-2-1zm3 9zm3 1zm3 7zm-2 3zm4 12zm5-3zm5 6zm2 5zm0 6zm-3 2zm-1 4zm1 5zm3-3zm4-3zm9 0zm3 2zm-2 5zm7-2zm-1-7zm5 0zm3-4zm-5-1zm1-2zm-1-2zm-4-2zm-1-3zm1-5zm3 3zm3 1zm0 0zm0 1zm6 0zm1 2zm-3 2zm5 2zm1 1zm0 1zm4-1zm1-12zm0-3zm3-3zm-1-2zm5-2zm0-5zm-22 1zm0 2zm2 6zm2-1zm0 5zm0 1zm0 2zm4-4zm3 3zm-23-1zm-1 0zm-4-7zm-9 2zm1-10zm12 0zm2-5zm0-4zm3-10zm0-1zm-7-4zm-4 8zm-7-1zm-10 8zm-3 34zm-1 6zm-1 7zm-4-4zm-6-18zm15 33zm16 0zm0 6zm3 10zm16 4zm1-15zm5 4zm12 7zm-2 7zm-8-32zm-18-11zm4-27zm12-10zm5-3zm2-9zm-2-10zm4 0zm-8-2zm-4-1zm33 0zm9 6zm5-2zm4-7zm9 2zm3-6zm-4-6zm-4-4zm3-10zm9 8zm3 5zm2 0zm1 6zm-3 6zm13 0zm9 3zm0 8zm0 8zm17-7zm6-5zm-14-13zm-3 1zm-2-15zm9-1zm2 0zm5-5zm-1-16zm-9 4zm22 2zm4 12zm14 12zm-7 8zm6 20zm-21 20zm-15-1zm-16 6zm3 7zm-21-5zm1-1zm3-5zm-10-23zm-1-5zm-27 16zm-14-10zm4-29zm61 0zm58-18zm3 0zm-4-3zm17 5zm3 28zm26-37zm4 0zm2 4zm-2-16zm21 0zm2 37zm15-1zm21 24zm20-16zm-46 40zm-31 37zm-56 9zm-3 1zm-1 2zm-20 4zm6-16zm-8-14zm-13 10zm-43 8zm-14 4zm-2 3zm7 19zm5-3zm2 6zm2 8zm-6 11zm31-6zm7 6zm-18 19zm-33 8zm-40 0zm103 6zm2 32zm-29-4zm72-15zm16-29zm6 3zm6 1zm32 20zm3 20zm7-58zm-92-20zm-8 3zm-87-44zm4-4zm147-122zm107 144zm31 9z"/>
<path stroke="#1e9a89" d="M1 98zm5 0zm10 3zm2-1zm3-2zm-1 10zm-2-1zm-7 0zm11 5zm4-1zm0-5zm2 0zm4-2zm2 0zm2 3zm2-1zm3 0zm0-2zm2 1zm-1-8zm2-2zm3 1zm3 3zm3 1zm5 7zm-1 1zm-9 1zm2 6zm2 0zm-1 7zm2 3zm-1 4zm-3-2zm-5 1zm-1 0zm0 0zm-4-1zm-1 0zm0 3zm-3 0zm0 0zm0-6zm3-4zm5-1zm-1-2zm-2-4zm-1-1zm-7 6zm-2-1zm-2 2zm0 3zm-3-6zm-3 2zm-2 1zm-2-1zm-5 4zm-1 4zm-3-2zm-5-6zm17 10zm0 10zm-5 0zm1 2zm-4 1zm14 6zm-1 5zm1 10zm13-3zm10-3zm-1-7zm-5-3zm-8 0zm-1-1zm-2 1zm3 4zm8-17zm3 1zm9-3zm12 4zm-4 5zm2 8zm5-21zm7-1zm-2-31zm-2-7zm2-9zm-15 7zm0 6zm-14-7zm-8 3zm-11 3zm13 34zm48-32zm3-8zm11-10zm9 0zm9-9zm11-11zm34-6zm8 20zm-20 9zm35 25zm2 6zm-15 32zm-31-2zm-25 1zm-2-28zm-10-7zm-11-37zm12 97zm19 2zm-9 10zm18 17zm9 4zm10 4zm97 16zm41-31zm27 8zm-1-50zm-69-2zm-12 6zm-3 3zm-5-5zm-11 1zm9 10zm-5-80zm-23-20zm6-24zm30-3zm95 23zm29 44zm-50 143zm-89 51z"/>
<path stroke="#25838d" d="M37 67zm0 21zm-2 15zm0 10zm-4 0zm2 6zm0 6zm-3 2zm8 0zm8 1zm7-2zm13 1zm0-4zm4-24zm5-16zm-2-13zm-25 10zm1 3zm0 26zm2-1zm-5 5zm-5 7zm1 25zm3 4zm-20-2zm-11-1zm-6-3zm-1-37zm-2-1zm8 3zm2 1zm2 3zm4 0zm1-8zm-3-3zm8 73zm30 8zm14-33zm11-5zm-1 13zm43 13zm1 48zm73-12zm0-66zm15-29zm7-3zm9 14zm8 28zm-5-87zm19 8zm25 6zm-31-37zm-28-21zm-14 53zm-36-23zm-29 20zm-23-7zm-22 28zm33 16zm9 6zm17 16zm8-25zm18 182z"/>
<path stroke="#2e6b8e" d="M48 71zm32-3zm-2 59zm-3 3zm-15 6zm-4 12zm-5 24zm-2-2zm4 11zm15 16zm22-6zm11-22zm-20-7zm0-2zm10-17zm-61-1zm0-4zm-11-7zm-1-3zm0-6zm7-4zm-3-4zm-12 1zm-6 0zm9 25zm25-23zm4-5zm-3-6zm0-5zm-6-1zm-5-6zm124 3zm-10-22zm29-21zm-6-7zm39-10zm3 45zm-19 18zm-6 25zm2 25zm-32 0zm-6-18zm62 8zm39 6zm-42 91zm-9 33zm11 13zm53-5zm88-171z"/>
<path stroke="#3a528b" d="M21 94zm1 5zm-6 5zm-3 3zm5 15zm6 7zm-2 7zm12-2zm8-1zm-9-9zm-3-4zm22 0zm3-3zm-1-3zm8 0zm-2 6zm14 3zm-26-11zm-3-4zm-3-11zm-4-2zm3-9zm12-4zm3 21zm-8 43zm-9 26zm-23-22zm-13-26zm117 3zm-6-43zm-11 2zm2-26zm66-7zm3-20zm27-16zm13 33zm-31 45zm-2 1zm7 48zm17-4zm-47 26zm-10 23zm0 25zm-52-31zm240 6zm-23-50zm-3-92z"/>
<path stroke="#453580" d="M27 96zm2 10zm9 0zm-18 0zm-2 2zm5 6zm-9 5zm7 12zm6 6zm6-11zm12 5zm-1 10zm2 8zm19-5zm6-1zm-25-25zm8-18zm8-11zm62 1zm-22-28zm52 0zm28 1zm-1-30zm-8 5zm-22 186zm-37-28zm-19-4zm174 1zm-30 54zm68-110z"/>
<path stroke="#471567" d="M18 87zm-5 5zm-1 14zm6 1zm3-2zm3 1zm5 4zm4 1zm1-3zm10 0zm0 7zm-1 2zm4 0zm2 2zm4-1zm-6 4zm-8-2zm9-7zm1 17zm0 1zm-2 5zm14 0zm4 3zm4-7zm-10-9zm11-16zm-3-3zm-1-10zm0-6zm8 0zm6-3zm-6 12zm-16-2zm-5-8zm-17 3zm-4 1zm-2 5zm-1 5zm11 0zm0-1zm-9-17zm-8 38zm0 6zm2 4zm0 3zm-9 4zm1-19zm-9 6zm31 23zm3-2zm-2 16zm-20 5zm52-14zm42-19zm2-12zm11-1zm17-17zm-7-39zm2-10zm20-12zm6 32zm-55 1zm113-22zm-4-31zm5 109zm-21-2zm-22 10zm8 48zm82-16zm109-63z"/>
</g>
<path transform="translate(1435 945) scale(0.5)" d="M3 172l28-18 24-10 28-8 44-9 100-36 50-10 56-25 84-24 22-1 60 3 22 5 12 7 10 10 8 15 4 16 0 12-4 10-32 27-6 10-3 11 0 12 3 14 19 44 7 26 0 16-3 18-4 14-6 12-13 16-16 14-56 30-36 27-14 6-28 8-10 5-9 12-9 28-6 12-12 14-14 9-10 2-12-2-72-28-99-75-45-23-30-18-32-29M3 200l22-21 30-15 30-7 42-3 56-8 49-25 17-5 42-8 38-20 12-5 12-1 20 3 10-1 28-12 14-3 12 2 32 10 30 1 5 3 2 4-1 7-13 17-6 12-7 48 4 26 16 34 5 18 1 22-6 18-8 11-14 11-84 54-16 6-30 2-12 6-11 14-19 48-6 7-8 5-14 3-28-2-18-3-14-7-17-13-33-34-36-29-14-8-36-12-42-25-19-18-17-23M348 139l9-2 8 1 16 9 9 14 13 34 6 6 18 13 6 11-2 10-33 48-15 12-16 5-10 0-8-5-11-22-7-7-32-6-30-8-30-1-8-4-4-8 4-12 24-24 11-26 8-10 13-7 32-5 29-16zM77 173l24 1 26 8 38 21 19 16 7 12 1 14-9 46-5 8-69 26-16 2-16-3-24-9-14-9-10-11-11-18-6-22-2-24 4-20 9-14 14-11 20-9 20-4zM201 301l22-2 14 6 26 22 16 22 8 28 0 24-8 18-16 13-10 3-12 1-10-3-10-5-16-17-18-32-4-10-1-10 6-48 3-6 10-4zM64 187l21-2 22 5 24 14 24 19 8 14 3 16-5 16-11 14-9 7-14 6-22 6-18 3-14-1-12-3-11-6-10-8-9-14-6-16-2-20 1-16 5-12 8-9 12-8 15-5zM226 337l11 2 8 6 9 12 5 14 2 14-2 13-6 10-8 4-10 0-9-7-8-12-5-16-3-16 2-12 5-8 9-4zM67 197l16-1 18 4 18 9 19 16 9 12 4 12-2 12-8 12-8 6-12 6-30 5-24-4-10-5-8-7-8-11-5-12-2-14 1-12 4-10 7-8 9-6 12-4zM69 207l14-1 14 3 14 6 14 11 9 11 4 10-1 10-6 9-16 10-20 3-20-4-16-11-11-15-2-18 3-8 4-7 7-5 9-4zM76 217l9-1 10 2 10 5 10 8 6 8 3 8-1 8-4 6-12 6-14 1-14-5-11-8-7-10-1-12 5-10 11-6zM83 233l8-1 8 3 6 8 0 6-8 4-12-3-6-9 0-4 4-4z" fill="none" stroke="#b5502e" stroke-width="2.8" stroke-linejoin="round"/>
<g transform="translate(40.5 1410.5)" fill="none" stroke-linecap="round" stroke-width="2.9">
<path stroke="#471567" d="M102 32zm6 2zm35-28zm21 37zm-10 65zm-17 4zm-16 74zm-13 49zm-24-17zm-27 18zm-9-43zm10-28zm-7-42zm-6-1zm181-27zm49 64zm24 26zm-43 77zm-57-22zm-85 33z"/>
<path stroke="#453580" d="M53 68zm14 18zm-13 22zm11 16zm13-8zm16-8zm3 17zm21-36zm36 32zm42 38zm48 29zm-62 34zm-2 32zm-48-32zm-42-38zm0-2zm-6-8zm-8 6zm0 17zm-13-4zm145-122zm73-15zm27-16zm17 2zm-6 28zm24 0zm14 15zm-30 79zm-6 44zm-29 50z"/>
<path stroke="#3a528b" d="M31 88zm-10 11zm14 20zm70-1zm0 10zm-15 13zm6 42zm6 74zm16 4zm36-24zm14 12zm18 2zm13-27zm8 63zm32-4zm13-86zm3-33zm4-15zm-11-8zm-17-2zm-55 12zm24-56zm-8-24zm-41-36zm-46 57zm194 4zm32-18zm-3-9zm38-7zm-22 46zm13 33zm-32 59z"/>
<path stroke="#2e6b8e" d="M27 87zm3 13zm38-6zm37-1zm23-31zm-3-28zm-50 21zm-3 81zm31 46zm61-2zm8-21zm-23-22zm28-33zm37-54zm63 9zm17 2zm22-11zm-56 64zm88 60zm-124 56zm-18 13zm3 16zm1 13z"/>
<path stroke="#25838d" d="M31 78zm16 18zm9-2zm28-15zm4 45zm7-5zm19-3zm9-7zm3-12zm30-5zm-2-28zm39-4zm67-9zm18 2zm20-14zm3-3zm-39 49zm-34 54zm6 8zm16 42zm-5 11zm-28-1zm-28 13zm-18-25zm10-21zm-70 4zm-7 20zm22 3zm-51-8zm-6 13zm-14 4zm9 26zm22-2zm40 33zm54-13zm57 3zm-15 32zm81-74zm27 2zm16-21zm-18-45zm26-40zm-226 32zm-59-2zm-14 11zm0 8zm-19 5zm8 13zm-22-1zm-2-41zm1-7zm-6-4zm25 8z"/>
<path stroke="#1e9a89" d="M103 50zm16-11zm-8 36zm38-3zm4-3zm8-26zm1-18zm5 73zm21 5zm-40 7zm-24 16zm-15 5zm6 12zm5 8zm-10 11zm18 6zm3 9zm9-10zm13-18zm14 12zm35 4zm50-17zm35-10zm24-13zm-1-33zm-7 3zm24-7zm-57 0zm9 19zm14-45zm-40 4zm-5-30zm-35 18zm-3 2zm16 29zm7 126zm4 2zm-10 47zm46-25zm33-17zm-4-18zm47 9zm-219 6zm-19 12zm-1 4zm-1 21zm-9 0zm-12-17zm-1-22zm11-3zm19-21zm-56 0zm-4 20zm16-35zm7-10zm13-21zm-62 30z"/>
<path stroke="#2bb17d" d="M91 10zm21 1zm10 27zm-9 18zm-20-17zm-26 23zm2 59zm16 0zm11 6zm7-6zm-3 19zm-4 4zm-2 14zm-3 1zm-1-2zm14 3zm11 1zm4 2zm-6 3zm-2 2zm1 13zm-6 6zm-10 0zm23 9zm18-14zm9-5zm0 14zm9 9zm11 16zm-9 12zm-2 9zm1 14zm7-3zm8 0zm5-3zm-33-1zm-5 1zm-7 3zm6 12zm0-26zm-24-2zm-7-10zm-7 2zm-20-21zm-13-4zm-5 1zm-2-25zm-3-1zm-4-2zm-6 10zm-7-5zm27 1zm3-19zm11-14zm6-7zm-10-5zm-27-22zm-12-2zm-5-9zm-21 14zm5 7zm79-23zm36 5zm20-2zm-3-16zm17-3zm13-10zm4 3zm12 12zm5 19zm4 8zm-23 1zm2-7zm5 16zm27 14zm0 1zm5 8zm6 0zm2 9zm-9 9zm10 21zm11-10zm25-2zm6 2zm-2 7zm-22 20zm-22 31zm-9 40zm-33 1zm-2 29zm84-39zm10-11zm12-31zm29-29zm7-12zm-14-13zm-4-22zm-2-7zm2-10zm-3-11zm-15-5zm3-9zm-9 3zm-20 0zm-11-4zm-5 7zm8 11zm12 6zm-21 9zm-10 3zm13-48zm14-17zm17-16zm-2-4zm19 8zm28 14zm19 1zm19 2zm-10 19zm-8 0zm-19-2zm23 20zm-7 16zm-8 21zm-46-4zm5-15zm-6-105zm62 31zm-148 3zm13 14zm-42-40zm-24 9zm-1 78zm-9 6zm-4 21zm24-3zm46 36zm-157 27z"/>
<path stroke="#55c666" d="M40 43zm19 3zm19 13zm7-4zm-15 12zm-11 16zm-8 8zm-9-1zm-13 8zm-13 5zm22 8zm-1 12zm-3 5zm-6-4zm27 2zm-1 2zm6-2zm-4-8zm2-6zm-2-3zm-6-1zm1 30zm0 3zm-6 4zm-6 0zm0 6zm14 2zm-1 6zm0 8zm-1 11zm-1 1zm0 8zm-6 3zm-5 6zm11 0zm3 7zm3-2zm6 0zm-1-3zm7-2zm3 0zm-1-1zm13 1zm-8 10zm0 11zm9 4zm7 2zm4-8zm-7-5zm11-12zm8-3zm8 0zm-3-6zm-1-7zm-6-3zm-10 0zm1 10zm-17-9zm-4-6zm-3-1zm-13 4zm-1 6zm-17-3zm-7-6zm-8-3zm38-8zm19 1zm-1-5zm5 0zm3 1zm-5-4zm-4-5zm2-3zm-11-3zm7-12zm13-5zm1-1zm8-4zm-1-2zm12 4zm-3-16zm12 0zm15 3zm-1-14zm7 2zm-1-16zm-2-2zm11 0zm15-4zm-1-6zm-3-5zm10-7zm0-7zm4 0zm2 9zm16 2zm-1 7zm-7 6zm-1 1zm-2 2zm5 10zm7 7zm12 6zm7-8zm4-7zm4-4zm-5-9zm-11 5zm7-22zm-6-16zm0-3zm-13-3zm-36-4zm-15 0zm0 1zm2 4zm-11 7zm2 12zm0 10zm3 1zm-15 7zm-16-4zm-7 16zm3 14zm-7 8zm-16 2zm-2 6zm0-19zm4-7zm46-1zm42 0zm5 4zm-2 10zm-14 8zm-4 3zm2 4zm-9 11zm-9 1zm5 10zm3-1zm-11 10zm5 11zm-3 9zm-12-2zm0 0zm-2 5zm-12 0zm-4-6zm-8-14zm-2 1zm2-9zm-7-1zm33-11zm7 46zm-7 16zm-2 12zm-3 4zm-8 2zm-2-5zm-1-2zm3-3zm3 19zm4-1zm13 4zm5 7zm6-2zm-8 19zm-1 2zm1 4zm0 17zm-18-11zm-17-4zm3-29zm-1-7zm14 14zm2 5zm16-30zm5-13zm5 0zm3-4zm7-9zm14-1zm1-7zm-7 0zm-4-10zm6-4zm8 3zm5-11zm14 14zm15 7zm7 5zm-4 13zm3 12zm11-3zm3-6zm32-1zm2 17zm1 22zm4 5zm5-7zm-1 16zm5-2zm18-4zm-4 20zm-21 3zm1 12zm-16-3zm-10-11zm-9 3zm-19 2zm-1-16zm-6 3zm-5-18zm0-23zm-7 1zm1-6zm-5 1zm-4-1zm0 6zm-1-12zm-9 16zm-5-2zm-6 8zm4 8zm-1 19zm7 0zm6 2zm3 17zm-7 0zm-9-3zm6 14zm7 5zm-13 4zm37-11zm18-35zm0-3zm7 1zm15 7zm3-16zm31-33zm-1-20zm-1-8zm-1-14zm-3-2zm-4 6zm-6-1zm15-12zm4-3zm-1-1zm5-14zm-2-8zm14-1zm-1-8zm-3-3zm9-9zm7 7zm0 7zm1 14zm28-2zm0-4zm2 9zm9-5zm5-3zm-7-7zm1-5zm-1-9zm10-2zm5 9zm7 13zm-40-5zm7-8zm1-12zm-2-5zm-14-1zm-3 6zm-34-4zm-1-8zm-8 6zm-16-4zm-5 1zm-1-6zm-6-1zm-8 2zm-1-16zm3-6zm-1-11zm1-5zm-7 4zm-1-11zm16 2zm15-7zm22 0zm21-14zm1 29zm4 7zm-1 9zm-28 3zm-20 10zm-14 19zm-20 0zm2 20zm1 3zm6-6zm19-3zm6 1zm-12 16zm-12 10zm-7 27zm-2 2zm-2-4zm-8 0zm-6-14zm-3-29zm-4-4zm-11 3zm0 3zm1 12zm-21-13zm-17-71zm-8-40zm-42-9zm-5 32zm-9 3zm26-1zm36 167zm-101 11zm-13 2zm21 10zm3 12zm3 0zm1-3zm-21 28zm-31-34zm282-21zm4-4zm3-12zm3 0zm-4-3zm-8-3zm27-7zm8 6zm9 1zm3-8zm4-20zm9 4zm-23 1zm-13-3zm1 54zm-5 18zm28-163zm-1-3zm4-7zm4 15zm-29-30z"/>
<path stroke="#90d643" d="M8 89zm8 17zm6 13zm-6 8zm2 4zm0 1zm11-2zm-1 6zm7 1zm5-6zm3-5zm8-8zm2 1zm2-10zm4-15zm-11-4zm-1-3zm-4 4zm-6 9zm14-19zm-5-13zm-2-9zm21 5zm6 13zm0 9zm3 10zm4 4zm-3 3zm-5-3zm19 1zm-1 1zm-4 13zm19-3zm2-3zm13-8zm1-17zm-2-1zm3-9zm14-1zm1-8zm-3-4zm-1-3zm8-9zm10-2zm18 7zm9 3zm5-5zm11 2zm-1 8zm3 8zm12 1zm5 4zm18 0zm5-8zm5 1zm4 2zm2 7zm-5 0zm13 4zm3 1zm4-4zm4 5zm3 2zm-1 7zm-3 1zm0 21zm11 2zm4-3zm2-8zm13-3zm5-7zm3-6zm4-2zm2 5zm8 2zm8 2zm-1-7zm-3-5zm2-8zm6 3zm3 5zm6 6zm3-3zm4 3zm1 0zm1-7zm-1-8zm11 0zm5-16zm-21 1zm-2-6zm-7 17zm-15 2zm-2-17zm-6 4zm-4 3zm1-8zm0-9zm6 1zm7-1zm-3-9zm-7-11zm-4 0zm-28 5zm-18-2zm-18 5zm-6 4zm0-10zm-15 5zm-1 13zm9-2zm-5 13zm-9-1zm-5-7zm-1 0zm-5 3zm-2-1zm-15-13zm-6 1zm-8-7zm2 37zm-3 9zm-1 3zm-1 5zm6 10zm8 9zm-1 6zm-3 1zm1 6zm-15 2zm0 3zm-9 5zm2 2zm-6 3zm-5-2zm3-3zm2 14zm14 2zm-2 10zm1 8zm-15 1zm0 4zm-5 4zm-8-2zm2 8zm-7-2zm-1 0zm-1 5zm4 5zm-12 0zm-5-13zm0-5zm-10-1zm-2-11zm-3-10zm24 2zm-1-6zm5 0zm1 16zm-2 1zm17-4zm2 25zm11 3zm-4 15zm-10 2zm-5 4zm9 5zm-4 9zm-3 9zm-4 5zm0 4zm7 3zm2 0zm-1 6zm0 3zm-3 5zm0 3zm3 5zm8 0zm3-3zm1-14zm10-3zm0-6zm8 5zm9 8zm1 0zm3 0zm-3 10zm-4 5zm-4 9zm-5 10zm14 3zm-2 9zm22-7zm3-13zm4 0zm-4-11zm1-3zm4-11zm0-8zm-3-8zm-3-4zm0-4zm0-12zm1-2zm-5-2zm-4-4zm0 11zm-5 4zm-8-1zm-8 6zm-15-4zm2-4zm-3-9zm1-2zm5-5zm14-2zm4-3zm-5-10zm4-12zm-5-4zm-3 1zm14-2zm9 9zm6 10zm10-7zm2 0zm0-7zm6 1zm3 7zm1 2zm1-19zm11-6zm9 1zm0-5zm2-3zm1-2zm-4-1zm-5-4zm4-6zm9 0zm1-4zm-5-2zm10-1zm8-2zm2 6zm8-3zm-1-6zm2 12zm4-2zm5 3zm0 16zm3-1zm10-4zm4-1zm-5 12zm11 4zm6 2zm-2-10zm1-14zm1-16zm3-3zm1-3zm2-8zm2-4zm-1-1zm-6 2zm-5 7zm-2-1zm-7 0zm-5 2zm-3-1zm1-2zm-4-2zm19-9zm26 3zm2-10zm11 10zm-1 3zm7 5zm10-1zm10-6zm-16-7zm1-14zm10 2zm-10 41zm-1 11zm-8-3zm-5-13zm-2-5zm-13 0zm1 9zm6-1zm-9 25zm-1 2zm3 9zm-3 10zm-5-1zm5 10zm9-2zm2-5zm5-6zm6-5zm22-21zm-39 58zm0 7zm-7 1zm-3 6zm-1 0zm-12 1zm0 1zm-9 3zm-6 8zm13 4zm1 18zm-1 4zm-7-7zm-12 2zm1 4zm-8-18zm-2-1zm-7 3zm-4 10zm-2 1zm-2 1zm-4 1zm-1 6zm2 4zm5 5zm-15-10zm-9-8zm3-3zm-2-6zm4-5zm1-8zm-3-1zm-7-10zm-4 2zm-4 1zm3-9zm7 0zm14-2zm5-2zm9-17zm5-2zm2-10zm3 1zm17 7zm-1 2zm5 6zm-13 2zm5 10zm-7 8zm-8 6zm-14 15zm-1 8zm-31-2zm4-4zm-16 6zm6 6zm-1 11zm3 2zm-5 1zm-2-4zm14 10zm-2 3zm9-2zm-41-24zm-1-6zm1-4zm-5-5zm16 0zm19-32zm14-2zm0-2zm4-6zm4-12zm4 0zm-1-11zm-2-2zm10-13zm2 1zm3-1zm-39-14zm-2-11zm-5 1zm-3 4zm-4 7zm-6-1zm-4 0zm2-2zm1 11zm-2 1zm1 4zm-17-8zm0-3zm-6 1zm1-7zm-10 4zm17-19zm-1-16zm0-1zm2-4zm-4-1zm7-5zm4 4zm13-6zm5 1zm2 20zm25-8zm-3 20zm8-53zm5-12zm1-5zm19-3zm6-2zm11 11zm-3 8zm-21 6zm-2-1zm-34-9zm1-2zm12-53zm-40 10zm-71 3zm-4 9zm-13-12zm3 31zm-14 1zm-2-6zm-8 9zm-5-4zm-14-9zm6 26zm1 3zm-1 3zm-5 4zm15 0zm9-3zm1-9zm4-4zm-8 25zm-8 2zm3 9zm42-2zm4-4zm2 19zm11-2zm-17 13zm-6-5zm-11 5zm-42 34zm-1 7zm-8-11zm-1-1zm-10 11zm-9 5zm-10 4zm-3-1zm-18 5zm10 14zm9 12zm0 2zm9-18zm17 5zm1 4zm9 2zm8-3zm-2-3zm-2 17zm-4 9zm-6 0zm1 2zm13 4zm3-1zm1-6zm6-5zm-1 18zm3 4zm0 1zm-5 8zm-9 3zm-9-2zm7-10zm-14-2zm-8 4zm54 5zm-3 13zm6 4zm8 0zm5 2zm1-6zm2-4zm0-14zm-6-9zm-1-3zm-6-7zm1-7zm-10-5zm-4-10zm-5-6zm-2-6zm-1-3zm-5-4zm-29 1zm-12-29zm-5 2zm-40-17zm19 149zm60-11zm10-8zm4 2zm2 13zm6-1zm5-10zm12 7zm20 2zm2 7zm-17 12zm21-55zm19 17zm-57-37zm204-11zm6 0zm-1-5zm2 0zm20 19z"/>
<path stroke="#d2e11b" d="M43 64zm11 18zm12 16zm20-2zm17 0zm-1 2zm2 4zm-7 3zm13-11zm16-1zm-20-13zm0-32zm21 4zm1-10zm-1-8zm4 2zm15-6zm5-6zm3 2zm4 0zm2 5zm20-1zm1 13zm5 5zm5 3zm4-8zm1 17zm11 0zm-2 13zm-2 15zm-9 17zm-10 3zm2 2zm-6-5zm-22 3zm-3-8zm12-10zm14-16zm-4-8zm51-10zm0-7zm5-5zm13-15zm4-4zm6-4zm12 0zm4 7zm4 7zm-1 4zm-5 12zm-4 8zm-8-2zm-2 14zm7-1zm5 7zm-1 12zm3 1zm14-6zm9 7zm-3 8zm-1 8zm-1 8zm5 1zm1-1zm9 1zm5-1zm4 6zm6 0zm2 3zm5 14zm2 9zm-5 11zm-9 2zm-3-4zm-2-3zm-9-1zm-2-12zm1-1zm7 2zm5 2zm-22 2zm-2 3zm-7 3zm-7-10zm-4-19zm0-1zm-8 5zm-8-3zm-6 0zm-11-4zm-5-6zm-1-7zm-19 2zm-4 5zm1 11zm-11 4zm-4-1zm-4-1zm5-6zm-31 4zm-10 1zm0 4zm-4 0zm13 6zm22 11zm3 16zm-3 13zm-4 12zm15 2zm11 0zm2-14zm8 6zm0-19zm0-10zm6-18zm28 11zm9 8zm10 16zm7 12zm6 6zm0 0zm8-4zm2-11zm4 23zm-8 4zm-1 7zm3 0zm-6 1zm5 6zm3 3zm10-2zm0-11zm2-3zm15-2zm0-5zm-3-5zm12 0zm3 5zm7 15zm14 2zm-24 5zm-14 0zm2-9zm-2 24zm9 7zm-34 1zm-1-1zm-8-6zm5-6zm-17-1zm2 5zm-5-9zm8-8zm1-7zm-16 2zm-14-6zm5-8zm2-2zm3-6zm-7-3zm-15 8zm0 3zm-4 7zm2 22zm-8 2zm0 0zm5 9zm0 0zm3 12zm-2 4zm-3 6zm-3 12zm-2 3zm-6 9zm-2 8zm-2 0zm-11 0zm-9 2zm-10-7zm4-13zm2-5zm-1-2zm-1-10zm-3-7zm-6 10zm-6 2zm-4 4zm-15-4zm-3-4zm0 16zm1 2zm0 3zm-6-4zm-21 2zm-3-6zm-5 0zm10-4zm3 0zm-5-15zm8-6zm6 5zm2-10zm-6-6zm-10 1zm0-7zm-2-1zm13-5zm6 7zm12 9zm18 0zm-5-5zm-8-9zm3-10zm-6-4zm14 9zm14 1zm10-1zm-1 3zm-1-5zm16 2zm-1 17zm-7 4zm14 5zm-5 20zm3 6zm23 8zm-2 8zm0 1zm2 2zm16-17zm1-1zm9-2zm21-3zm-2-5zm5-8zm5 1zm2 9zm-24-15zm0-7zm-24-9zm-4-60zm-38 0zm-36 0zm-10 11zm-10 5zm-7 6zm-6 11zm-3-20zm9-8zm2 1zm2-13zm-8-10zm-2-13zm-6-17zm-8-2zm22 1zm-44 33zm-26 12zm3 13zm4 47zm22-7zm2 23zm10-9zm-1 20zm-14 3zm4 11zm-3 9zm-63-84zm-23-55zm30-27zm-5-13zm27-47zm15 0zm12-13zm31-16zm24-7zm5-5zm71 1zm64 11zm26 18zm3 2zm2-5zm-6 10zm1 9zm5-1zm-14 1zm-1-2zm-1 12zm-19-1zm-21 19zm-9 9zm-7-4zm36 23zm7 12zm20-15zm3-5zm7 2zm0 3zm1 2zm10-17zm2-6zm6 1zm-2 3zm4-6zm-3-6zm-3-7zm-3-1zm30 7zm0 14zm6-2zm-1 7zm4-12zm0 28zm-7 2zm-4 12zm-15 8zm6 15zm-10 12zm-11 12zm35 10zm20-65zm-36-7zm-1-16zm6-42zm18 1zm-100 132z"/>
<path stroke="#d2e11b" d="M29 67zm10-7zm15 0zm2 26zm-2 2zm-11 13zm6 16zm-26 12zm82-6zm8 3zm5 4zm2 5zm12-1zm-6 27zm-6 6zm27-9zm20 9zm0 14zm-7-3zm-6 26zm-3 11zm-7 0zm4 5zm12-2zm23-1zm-2 10zm4 7zm7 0zm7 1zm18 8zm0 8zm6 0zm6 3zm0-18zm26 0zm12 2zm0-8zm4-8zm18 5zm1 9zm3 6zm-4 2zm-13 5zm-6 5zm-1 8zm-7 1zm-2-17zm-17-26zm-10-16zm1-17zm-10 2zm-5 3zm-4-4zm13-7zm10-9zm20 8zm8-6zm10-6zm10-2zm3 6zm-8 4zm-3-18zm7-5zm5-4zm2-4zm1 15zm13 0zm-5 8zm2 7zm-2 24zm-3-1zm1 11zm13 6zm-1 4zm15-4zm-2 12zm-1 14zm-16 10zm8-51zm9-11zm9-7zm7 16zm3-41zm9-3zm-15-8zm-4-4zm1-3zm6-17zm6-13zm-7-18zm0-10zm-4 2zm-13 18zm-17 0zm-5-4zm-3-10zm-3 0zm0 2zm-26-4zm-7-1zm-5 1zm-6 4zm-1-13zm-14-4zm2-9zm1-24zm-12-2zm-8-18zm38 3zm2-2zm11 5zm1 27zm10 3zm6 0zm1 6zm-1-17zm-1-6zm15 2zm2 13zm32-5zm-74 9zm-3 39zm3 4zm10 5zm1 12zm14 6zm13 1zm7 9zm5 16zm4-34zm-33 19zm-24-7zm-1 17zm0 2zm3 0zm-19-5zm0-3zm1-23zm8-3zm-5-6zm-2-9zm-10-8zm-26 11zm-6 15zm3 13zm26-4zm-4 30zm-13 1zm-2 8zm-15-2zm-1 25zm9 12zm15 18zm36-17zm6-1zm13 3zm-27 82zm-35-10zm-13-1zm-13 1zm-9-3zm-14 4zm-8-6zm3-6zm-4-14zm-1 1zm-3 0zm-9 1zm-1 0zm-13-1zm-2-10zm-10 2zm1-5zm2-12zm9 4zm8 8zm-1-31zm-7-7zm-17-1zm-4 8zm-1 17zm-7 6zm-3 12zm-8 0zm2 8zm16 16zm63-11zm7-10zm14 48zm4-2zm-38 4zm-76-90zm-15 9zm-15-12zm32-35zm31-53zm18-16zm25 22zm32-8zm-5-17zm-5-15zm0-13zm12 2zm12 1zm0 8zm-48-15zm-6 0zm-15-12zm5-10zm-1-16zm2-1zm9-7zm-20-2zm-12 20zm-5 8zm-4 1zm-4-5zm-4 3zm-13 5zm-3 34zm86-35zm208 58z"/>
<path stroke="#90d643" d="M111 4zm17 12zm18 5zm8 10zm-19 6zm-10 4zm4 10zm2 10zm-19 3zm-5 10zm3 11zm6 6zm9 0zm-3-7zm3 36zm-4 9zm10 5zm11 5zm5 5zm11-3zm14-1zm8 0zm-8-8zm-6-2zm-2-5zm-6-21zm16-2zm5-2zm3 2zm4 0zm0 9zm2 8zm9-12zm5 1zm11-1zm9 7zm16 11zm14-5zm7 0zm-1 2zm1-7zm1-2zm0-9zm-13-6zm-1-6zm4-7zm-8-6zm2-12zm3-8zm9 12zm1 1zm1-2zm10 2zm-1 5zm0 3zm-1 1zm10 16zm5 5zm10 5zm-1 8zm-1 4zm3 0zm2 0zm5-1zm10 8zm-4 8zm-8 3zm-1 9zm5 4zm-6 10zm-1 11zm3 15zm6 3zm1 6zm3 1zm-2 4zm-1-1zm-5-2zm-12 1zm-1 4zm4 5zm5 1zm7 1zm7 12zm1 6zm5 0zm0 12zm-10 3zm4 6zm11 6zm-36-5zm-9 14zm-1 2zm-1 17zm-4 4zm-3-6zm-9-1zm1-4zm-5 1zm-17 6zm-1-33zm-3-10zm10-6zm6 3zm0 2zm-1 9zm17-13zm2-1zm1-13zm-12 0zm1-13zm-8-8zm-3-2zm-5 4zm-1-8zm-2-14zm4-3zm5 2zm-2-8zm-9 4zm-7-2zm-5 7zm-14 1zm-5 15zm13 3zm2-8zm-1 19zm-13 1zm-8 7zm-5 10zm-2-1zm-7-6zm-5 15zm-16 6zm-1 1zm-12-5zm5-6zm3-5zm4-7zm8-12zm-4-18zm-3-7zm-12 7zm-9 0zm-2-11zm-2 1zm-3-2zm-2 6zm-7-5zm0 0zm-6 5zm2 3zm-13-6zm-1 15zm3 4zm-6 2zm-3-4zm-1 1zm-6-8zm-1-7zm0-10zm1 0zm1-8zm5 3zm7-3zm-20-3zm6-14zm-1-17zm5 0zm12 11zm18 8zm1 6zm8 0zm6-1zm10-2zm6 6zm15 1zm9 14zm6 4zm-8 12zm5 9zm12-35zm3-17zm11-2zm5 5zm1 1zm-7-17zm27 10zm6 1zm2-3zm-2 10zm17-3zm-5-11zm-2-9zm18-5zm10 6zm-2 11zm6-2zm-8 11zm-2 2zm-5 5zm-2 30zm-3 1zm-8 1zm-24 27zm1 3zm-20 17zm-7 12zm10 4zm2-1zm0 7zm-17 8zm-4 4zm-8-5zm2-11zm-14 14zm-3-2zm-5 0zm-5 14zm0 3zm13 4zm-1 1zm17-5zm12 4zm2-14zm-64 1zm-11-5zm-9 5zm-7 0zm-2-16zm9 1zm4-2zm10-4zm6-1zm13 5zm-21-15zm-7-16zm2-2zm2-11zm6-12zm-23 5zm-2 4zm-5-2zm0 5zm-5-2zm-1 17zm9-4zm-2 17zm0 9zm-3-3zm-7-1zm-2 5zm-4-8zm-8-19zm-3-1zm-1 4zm3-8zm-12 17zm-15 15zm11-49zm13-11zm0-4zm-32 3zm2-13zm9-16zm4-3zm4-4zm-8-14zm-23-1zm-11 3zm2-19zm5-14zm12 0zm5-7zm2-3zm0 16zm15 3zm3-2zm10-5zm-4-22zm-4-17zm5-7zm-2-9zm-12 7zm-3 8zm-8-4zm3 14zm33-31zm3 3zm5 0zm1-8zm4-7zm8 4zm-12-19zm57 41zm16-5zm1-7zm-2-2zm15 7zm3 1zm14-6zm-1-9zm-3 2zm-3-4zm25-9zm6-16zm23-3zm0 19zm8 4zm17 13zm4-2zm0 8zm18-1zm1 1zm6-12zm4 31zm0 1zm-1 7zm6 2zm8-9zm-2-4zm11-3zm18 3zm5 2zm-2-17zm12 35zm14-2zm-38 2zm-4 3zm-3-5zm-1 12zm13-2zm2 12zm12 2zm0 9zm-3 16zm-9 3zm-10 4zm-1-15zm6-5zm-19 14zm-4-2zm-3 8zm12 8zm24 5zm-7 8zm-37-1zm9 15zm6 15zm5 21zm-37 2zm0 0zm-6 9zm8 39zm-2-180zm4-5zm7 12zm20 3zm0 12zm-80-7zm-9-15zm-4-10zm4-4zm-16-6zm-11 6zm-1 2zm-6 1zm-4 8zm4 4zm9-1zm-3 6zm-20-1zm-10 2zm-7-6zm3-11zm-30 40zm-6 45zm4 7zm5 2zm8 0zm-2 5zm-121 1zm17-23zm0 48zm192-153z"/>
<path stroke="#55c666" d="M0 118zm23 2zm6 2zm5 2zm5 3zm-2-10zm1-4zm2-22zm-1-9zm36 4zm4-3zm13 1zm-1 13zm11-4zm4 1zm-1-8zm-1-8zm8 3zm4-6zm-4-7zm-5-6zm11 0zm4-9zm-3-6zm-19-4zm-2 16zm-4 6zm0 4zm2 1zm-9-2zm-16 0zm5-8zm4-6zm7-5zm24-27zm13-3zm5 3zm25 11zm14 18zm-3 4zm-2 15zm11-5zm4 0zm11 23zm-3 6zm4 10zm15 4zm1 15zm23 8zm0 9zm-5 7zm-2 5zm-2 4zm7 6zm-19-4zm-12-12zm-16 32zm-14 0zm-17-5zm2-9zm0-25zm-2-2zm6-15zm10-8zm-14-18zm5-7zm5-5zm-30-17zm-27 35zm-4 29zm-5 3zm-7-3zm-14-1zm0-4zm-2 0zm-3 9zm-19 1zm1 13zm-2 1zm12 8zm16-4zm2-5zm2 18zm16 10zm4 6zm26-1zm-2 6zm2 12zm3 2zm-1 1zm8 1zm-1-8zm-2 19zm13-8zm28 4zm19 6zm16 7zm11 2zm1-22zm-8-3zm-5-1zm-3 5zm33-4zm3-8zm-11-5zm9-13zm7-1zm9-3zm2 14zm-6-1zm-1 2zm24-6zm-8 20zm-3 8zm-13 20zm-9 2zm7 11zm0 6zm25 3zm10 0zm-1-16zm-5-3zm17 25zm2-66zm18-4zm1-4zm5 5zm3-32zm1-2zm-21 4zm0-12zm-4 1zm3-11zm-1-25zm5-2zm12 4zm4 16zm19 4zm26-10zm6-1zm-10-8zm-5-19zm-6-8zm-34-4zm-16 7zm-8-10zm-12 14zm6 8zm-2 5zm-17 20zm-15 7zm-12 11zm-6-45zm-5-10zm-5-15zm-2-8zm23 7zm1 0zm4 0zm-8 4zm25-23zm15 6zm1 1zm28-8zm-3-5zm-82-20zm-12-13zm-2 81zm-91 49zm-4 16zm10 10zm-24-21zm-6-5zm-2 10zm-6 49zm-1 22zm2 0zm-6 0zm-1 12zm6 6zm9 3zm1-8zm25 2zm10-7zm18 8zm-10 14zm-4 5zm7 9zm6-4zm-14 10zm-15 17zm-16-29zm-29-16zm-18 29zm4-72zm0-22zm-3 3zm9 0zm3 3zm-27-18zm-35-10zm7-18zm14-8zm31-17zm4-21zm5-2zm43 131zm61 12zm10 19zm-1 2zm26-3zm28 25zm-72 4zm171-66zm5-52zm18 16z"/>
<path stroke="#2bb17d" d="M101 22zm-8 9zm2 66zm-13 32zm-24 13zm-16 5zm-7 13zm-5 14zm31-8zm17-2zm-1 16zm4 15zm14 5zm11 10zm10 6zm-4-31zm-10-22zm44-7zm0-7zm3 24zm-9 4zm44-21zm-8-13zm1-25zm4-34zm0-8zm-2-1zm3-6zm-20-14zm7-24zm29-12zm27 14zm10 22zm-21 11zm-9 34zm33 3zm-2 33zm19-4zm7 4zm30-20zm-1-21zm3-13zm-12 1zm33 1zm-13-33zm27-1zm-34-24zm32 107zm-5 8zm-7 21zm-31 21zm-28 10zm-23-11zm-3-25zm0-2zm-5 64zm34 7zm12 6zm-92 1zm0 2zm-6 4zm-18-3zm-25 4zm-24 17zm-23-5zm-7-25zm3-13zm9 9zm-28-35zm-5 0zm91 89zm20-1zm3 3zm10 2z"/>
<path stroke="#1e9a89" d="M65 75zm15 1zm21-20zm15-15zm11 4zm5 36zm30 27zm14 5zm66-1zm-3 11zm29-13zm-27-34zm-23-28zm114 24zm11 22zm-13 87zm0 12zm-35-47zm-28 27zm-54 33zm-12-7zm-88-21zm-10-9zm7-27zm-36-6zm6 44zm-7 16zm-25-30zm-13-9zm16-64zm59 156zm15 27zm30 9zm-71 5zm165-13z"/>
<path stroke="#25838d" d="M88 47zm10 70zm-40-1zm1 23zm65 1zm-9 25zm17 3zm-4 10zm40 11zm24 10zm3-78zm-1-10zm8-8zm19 32zm19-7zm39 2zm8 7zm8 51zm47 2zm-82 23zm-165 12zm38-131zm20 5zm1-28zm57-35zm93 33z"/>
<path stroke="#2e6b8e" d="M60 71zm17 16zm-35 28zm9 54zm15 13zm2-1zm23-26zm31-18zm-2-74zm49 39zm52 1zm45-21zm14 9zm1 49zm-44 37zm-12 16zm-70 9zm-28 8zm-16 22zm84 71zm119-87z"/>
<path stroke="#3a528b" d="M71 82zm-19 55zm4 21zm31 14zm15-15zm11 63zm-28 32zm72-7zm-3 40zm96-21zm-3-98zm-17-65zm4-21zm-40-1zm142 51z"/>
<path stroke="#453580" d="M80 47zm22-3zm21-2zm3-15zm60 36zm-20 78zm-4 27zm1 28zm-10 55zm-33-28zm-32 5zm-2-21zm9 48zm89 32zm58-13zm64-44zm61-73zm-116-11zm3-40zm-178-33zm-51 67zm18 24z"/>
<path stroke="#471567" d="M30 105zm11 3zm4 30zm17 1zm-4 14zm-5-4zm26 14zm22 9zm4 12zm-21 18zm-51-2zm74-65zm11-37zm-9-48zm37-26zm69 27zm-27 51zm-14 9zm68 1zm81-6zm13-1zm1 35zm-22-66zm-54 170z"/>
</g>
<path transform="translate(40 1410) scale(0.5)" d="M324 9l21 13 22 6 20-1 52-10 62-3 28 3 84 14 20 7 22 12 66 44 28 25M11 173l64-61 62-47 54-56M749 356l-33 67-12 22-42 54-20 22-29 23-48 29-28 13-44 15M264 601l-69-29-20-10-30-22-32-29-19-24-41-62-15-32-27-64M288 9l45 29 14 5 16 4 24 0 58-9 58-2 82 8 30 6 28 13 66 46 18 16 22 27M11 203l23-28 19-19 82-66 50-49 40-32M749 304l-10 19-33 80-16 30-25 34-42 46-36 28-42 23-26 10-64 16-29 11M313 601l-23-12-69-25-28-13-28-20-34-31-20-25-46-68-17-38-21-58-16-27M749 261l-18 35-28 77-25 54-25 33-54 55-36 25-38 18-138 36-24 3-24-5-126-45-32-19-34-31-24-28-49-74-14-32-18-54-23-46-4-20 3-16 7-18 14-20 16-18 84-66 44-44 20-17 28-17 22-6 12 0 14 4 54 29 28 8 26 0 62-8 48-1 86 6 32 6 24 12 68 48 20 22 22 35M255 37l12 1 12 3 46 27 14 5 16 3 28 1 82-6 110 1 32 4 22 10 64 45 16 14 12 16 10 18 7 20 3 18-1 16-6 20-24 52-36 100-11 22-14 18-61 62-25 19-20 11-24 9-94 23-52 10-16 0-16-3-106-32-22-10-20-11-26-22-24-24-50-72-19-38-19-62-23-48-2-20 6-22 11-18 14-16 80-58 60-62 28-17 14-5 12-2zM245 55l16 0 13 4 12 8 21 21 16 6 90 0 90 3 68-7 30 1 19 8 29 21 36 21 12 10 12 14 8 16 6 18 3 18-2 16-7 20-24 46-14 32-21 74-7 14-10 13-38 31-26 34-18 16-14 8-18 8-76 19-76 14-24 0-88-21-46-17-20-12-22-17-18-18-16-20-37-56-12-24-9-24-12-48-26-50-2-14 2-14 8-20 16-18 16-11 40-21 20-13 20-19 27-36 13-13 20-14 20-7zM233 85l10-1 7 3 3 6-1 8-5 9-8 7-10 5-8 0-4-2-3-5 1-12 6-10 12-8zM365 123l16 0 14 4 8 7 6 12 10 41 2 24-3 22-5 7-6 4-18 2-25-5-21-8-6-4-4-6-1-18 11-62 8-14 14-6zM506 127l29 0 36 8 32-5 40 10 22 8 16 9 12 12 10 16 5 18 0 18-4 16-9 18-18 22-28 29-18 13-30 18-10 10 0 4 3 4 29 11 8 6 4 6 3 9-1 10-4 10-5 8-17 11-22 4-14-4-18-15-8 1-6 7-1 8 17 18 3 8 2 10-2 16-9 14-10 9-12 5-38 7-38 13-18 4-40 2-40 7-80-9-30-8-26-10-23-14-23-19-23-27-35-56-11-22-7-24-3-40-3-12-6-12-22-27-7-15 0-10 2-10 4-10 7-9 10-9 14-6 14-3 12 1 8 4 7 8 10 44 3 6 6 5 10 1 32-7 10 2 22 12 12 3 18 0 30-4 9 2 5 6 10 24 25 44 3 16 0 34 4 13 6 6 8 4 10 1 16-2 26-8 7-6 4-10 7-28 2-20-7-50 0-22 6-14 21-22 9-16 3-16 0-34 4-14 6-10 8-6 12-6 13-2zM642 169l19 2 14 10 8 16-1 16-5 10-8 10-61 54-13 8-14 5-44 3-32 7-14-2-12-8-5-9-1-8 6-18 18-27 22-21 21-14 36-16 29-9 37-9zM244 305l21 0 16 4 14 10 13 16 4 10 2 12-3 52 4 22 12 16 33 20 6 6 3 6 0 6-3 8-11 10-16 6-42 7-20 0-22-6-32-12-26-16-22-19-14-20-33-64-2-18 5-16 6-8 11-8 19-13 14-6 16-3 47-2zM244 327l17 0 14 4 11 10 7 14 0 20-9 40-2 16 1 14 7 32-3 7-8 4-12 0-16-3-24-8-18-9-12-9-10-10-5-10-4-12-3-22-1-20 3-14 7-14 10-12 11-7 18-7 21-4zM243 353l12-1 8 5 4 6 0 10-4 14-12 19-10 11-8 3-6-4-4-9-3-14 0-14 2-8 5-8 7-6 9-4z" fill="none" stroke="#b5502e" stroke-width="2.8" stroke-linejoin="round"/>
<g transform="translate(455.5 1410.5)" fill="none" stroke-linecap="round" stroke-width="2.9">
<path stroke="#471567" d="M22 105zm11 9zm3 12zm7 19zm27 5zm0 13zm22 4zm11 7zm-3-44zm67-15zm-31-37zm63 0zm14-27zm12 50zm-3 50zm29 46zm-5 44zm-14 24zm20 17zm-38-53zm-79 0zm30-43zm-95 28zm-33-19zm271-22z"/>
<path stroke="#453580" d="M147 56zm87 56zm2 48zm22-9zm17 48zm-64-7zm-27 7zm2-39z"/>
<path stroke="#3a528b" d="M95 77zm38-18zm-45 87zm-12 20zm-38 8zm15-42zm5-3zm22 109zm27-11zm47-26zm17-1zm2-25zm26-1zm7-11zm-14-10zm64-4zm0 101zm-93-5zm-13-64z"/>
<path stroke="#2e6b8e" d="M89 78zm-2 10zm11-14zm15 41zm32 10zm13 8zm33-35zm36 22zm17-47zm16 85zm13 35zm18-12zm-60 14zm-65 5zm1 12zm7 18zm3 22zm-10 9zm-6 7zm-36 3zm-13-107zm-20 11zm-41-2zm3-21zm3-24zm15 1zm-35 59zm240 54z"/>
<path stroke="#25838d" d="M29 117zm37-4zm22-6zm8 34zm3 22zm-20 4zm3 21zm22 17zm28-10zm9-16zm15 6zm25-7zm-9-20zm-4-7zm10-7zm-27-10zm-5-3zm-23 12zm-52-4zm-23 2zm43 91zm37-9zm64 5zm20 42zm26 10zm-85 11zm87-121zm10-12zm19 41zm-10-115zm-84-3zm10 32z"/>
<path stroke="#1e9a89" d="M65 51zm12 11zm-2 49zm-1 11zm6 3zm1 20zm-18 0zm-1-2zm0 47zm-3 2zm-6 14zm14 15zm23 30zm11-54zm20 0zm6 1zm-18-21zm27-12zm14 2zm9 3zm12-38zm-35-15zm-8-11zm-4-1zm9-23zm15 13zm-40 28zm-86-7zm-1 71zm26-11zm161-9zm-2-15zm38 2zm4-25zm20 40zm-39 7zm1 26zm11-6zm-31-5zm-7 33zm56-5zm3 22zm-24 22zm-55 9zm6-212zm-68-19z"/>
<path stroke="#2bb17d" d="M38 75zm29-1zm2 5zm6-11zm18 5zm6 9zm-9 19zm-7 12zm-14-4zm1 26zm-6 0zm12-5zm0 19zm1 11zm1 1zm7 19zm-16 4zm3 4zm-1 1zm26 3zm5-5zm4-8zm4 24zm-12 0zm30 20zm7 13zm6 24zm19 25zm42 6zm2-1zm48-5zm8-29zm-27-21zm2-27zm1-3zm-14-18zm-12 11zm-4 15zm-12-6zm2-16zm-14-16zm11-16zm7 5zm-8-19zm0-3zm-5-4zm-10-3zm9-13zm5-13zm21 7zm-6 12zm10 19zm10-1zm5-9zm17 8zm-2 23zm20-5zm5-26zm-15-27zm20-18zm-34-21zm-41-7zm-37 20zm-18-1zm-4-16zm-15-27zm-22 8zm-16 11zm-21-9zm-23 62zm-11 10zm-7-2zm-21 1zm43 29zm-10 18zm-10 4zm23 42zm16 17zm77-33zm26 1zm1 20zm-40-36zm-4-13zm10-24zm-22-3zm-5 8zm-18-13zm4-4zm57-21zm40-101zm79 177zm4 10zm14 19zm71-54z"/>
<path stroke="#55c666" d="M61 51zm11 8zm6 5zm3-3zm-6 18zm-5 3zm-6-5zm-13-1zm0-2zm2-11zm-1 45zm-2-1zm1 17zm1 3zm-3 4zm8 11zm5 1zm7-3zm0-2zm1-3zm0-2zm3 8zm0 4zm-3 2zm-1 6zm20-1zm-2 11zm-7 3zm-3 1zm3 3zm-1 3zm-2 5zm-7-3zm-4 1zm-9 7zm6 17zm4 8zm13-1zm1-5zm-5-7zm-4 0zm2 22zm-3 2zm-3 9zm-8-1zm-14-2zm2-20zm-16-10zm3-8zm0-20zm-4 1zm-5-11zm-11 9zm-2 2zm-2-1zm-1-38zm15-1zm-1-5zm-1-8zm-7-6zm3-15zm5 3zm3-2zm4 30zm0 5zm6-9zm33-10zm7 0zm-5-7zm23-2zm9 1zm2-11zm11-2zm4-3zm0 12zm0 1zm10 0zm-14 11zm-3 12zm-12 9zm-10 1zm-6-2zm-1-2zm2-2zm1-5zm5-6zm-16 9zm7 10zm17 9zm1 1zm5 4zm7 3zm-1-8zm15-1zm2 9zm11-12zm11 3zm1 0zm3 0zm1-2zm2 0zm4 2zm2 3zm-3 15zm9 6zm11-5zm9 3zm0 7zm4 9zm-5 11zm-22 8zm-14 0zm4 12zm-24 0zm-4 1zm-5 1zm-4-4zm13-6zm0-15zm-3-4zm3-5zm0-8zm14 3zm14 6zm2 0zm-44-1zm-1-3zm0-10zm-3-3zm-9 9zm-8-2zm-2-9zm4 19zm1 0zm-15-2zm12 21zm1 4zm4 17zm-6 9zm-6-2zm2 18zm5 5zm9 0zm0 9zm12-4zm17-1zm-1 8zm19 5zm20-9zm-10-17zm-19 4zm-30-10zm24 52zm88 0zm2 1zm0 1zm-1-7zm-6-2zm8-7zm5 4zm6-6zm2-15zm-1-3zm-6-6zm-11-8zm3-8zm-1-3zm3-7zm1-5zm-10-4zm-8 12zm-6-2zm-3 2zm1 19zm-12 1zm-1 2zm-6-4zm-4-17zm37 24zm51 0zm0 5zm6-4zm-9-10zm2-28zm-9-5zm-5 15zm-9-25zm-7 3zm-12-9zm-3-6zm-6-5zm-10-2zm6-11zm0-1zm-2-11zm3-3zm-2-6zm-16 3zm2 7zm2-2zm-9-15zm4-7zm-4-10zm-7-13zm-4-12zm14-6zm14-5zm5-4zm3 3zm12 3zm-2 3zm0 4zm0 5zm18-2zm1-12zm6-21zm-19-16zm-20 4zm-11 1zm3 15zm-1 3zm11-2zm-28 10zm-26-14zm5-15zm-27-7zm-7-8zm-3-10zm-12 14zm-1 6zm4-1zm3 20zm7 7zm11 1zm4 0zm-5-8zm-25 10zm-2 4zm-7-4zm-12 3zm3-29zm59 41zm5 9zm4 13zm-12-4zm-10 8zm-1 6zm11 14zm69-8zm15 8zm7 8zm5 5zm-1 6zm4 11zm1 8zm6-1zm4 2zm8-3zm7-3zm1-10zm-15-10zm-4-14zm11-3zm6-6zm-14-8zm4-9zm-14-2zm-3 17zm-41-10zm-2-12zm16 70zm7 6zm16 2zm34 17zm9 22zm4 12zm19-100zm65 9zm-323 20z"/>
<path stroke="#90d643" d="M0 91zm16 8zm13-7zm-5-8zm19 5zm7 0zm-1 6zm-2 2zm-5 5zm-5-3zm-4 12zm0 5zm2 5zm-2 11zm2 6zm-3 2zm-4-2zm0-2zm-7-4zm3-16zm1-2zm27-2zm15 4zm7 2zm3 2zm7-1zm3 7zm-1 6zm6-2zm0 6zm2 2zm0 9zm5 0zm-2 2zm-7 1zm-3 0zm-13-5zm4-9zm0-5zm-18 1zm-7 3zm1 8zm4-3zm10 12zm-2 10zm-4 1zm17-1zm-2 5zm6 2zm3 3zm8 1zm-2 12zm0 11zm6-1zm7 2zm6 1zm1-1zm-8 7zm0 10zm2 1zm-2 12zm-3 16zm-5-3zm17 1zm0 0zm2 5zm8 1zm7-6zm7 1zm0-7zm4 2zm12 1zm0 0zm3 4zm1 0zm6 3zm7 2zm4-4zm-2 17zm0 20zm-7 3zm-17 0zm-4-8zm-7-8zm-5-6zm-4 9zm2 9zm-4 1zm3 7zm4 1zm47-2zm0-13zm13-3zm7-8zm5 0zm6 7zm4 5zm-5 7zm-4 4zm-8-3zm-11 13zm-5 4zm7-50zm9 0zm-1 6zm17-2zm1-10zm2 1zm5 4zm5-3zm8-6zm6 0zm10 3zm0 5zm1 6zm0 3zm-5-2zm-6 4zm-4 1zm1-9zm-15 6zm8 10zm-1 18zm7 5zm13 8zm7-23zm3-9zm2-3zm3-13zm12 5zm0 1zm1 3zm3-1zm-23-21zm0-8zm-1-4zm9-10zm2 1zm0-9zm-20 3zm-5 0zm-1 4zm1 5zm-6-2zm-11-6zm1-12zm-1-10zm4 1zm3 1zm1-6zm-7-6zm-1-13zm0-1zm8-2zm8-4zm-3-7zm0-8zm3-5zm-10-1zm-1-8zm-5 2zm-1 11zm-2 12zm-5 14zm-6 5zm2 9zm-5 0zm-6-1zm0-3zm2 1zm-10 0zm-1 7zm0 2zm1 6zm-6-2zm-5 3zm-3 2zm-3 1zm-4 7zm-2 1zm-9 3zm-1-11zm3-8zm0-5zm-6 3zm-4-1zm-8-1zm-5 3zm-2 6zm7 3zm0 3zm3-10zm2-10zm6 0zm7-10zm-4-4zm-1-10zm-5-5zm-2 10zm-6 0zm-5-8zm-12-1zm-8 5zm2 9zm5 3zm-4 12zm-5 1zm-4-7zm-7 5zm-4 6zm5-17zm-1-3zm3-4zm0-1zm5-12zm6-4zm-7-9zm-7-1zm-7 6zm0 1zm13-15zm13-3zm6 3zm1 11zm11-6zm4-9zm7 2zm8-3zm-1 11zm4 6zm5 4zm-1 11zm12 1zm1-3zm-2 9zm-3 14zm-2 7zm9 0zm13 3zm7 8zm1 4zm5 1zm-7 4zm-6 4zm-5-3zm-7 0zm-1 0zm-1 14zm-13 3zm-11 2zm2 4zm-8 7zm-6-5zm0-4zm-7-4zm-1-3zm-5-5zm-2 8zm-8 0zm-2-6zm1-10zm-4-1zm10-6zm0-9zm2-5zm2 1zm35 4zm1 1zm-2 4zm5-23zm8-34zm1-4zm1-14zm9-2zm2 6zm-3 2zm5 6zm-4 8zm4 5zm4 4zm-3 4zm11 9zm3-25zm0-7zm4-3zm0-4zm-8-5zm2-4zm5-5zm1-6zm-5 1zm-3-4zm-2-1zm1-1zm6 0zm0-8zm2-7zm0-9zm8 0zm11 4zm5 0zm9 4zm-5-14zm-20-12zm-14 2zm0 10zm-4-1zm-4 3zm-3 2zm-8-1zm1 6zm13 0zm3 2zm-6 11zm-3 1zm-8 5zm-3-1zm-2 0zm-5 2zm-2 2zm3 2zm-2 2zm-1 6zm-1 3zm-4 0zm-12-4zm-1-1zm2-2zm-8 4zm-2 2zm-2-1zm-3 0zm1-1zm-7 2zm1 3zm-6 4zm-4-8zm2-6zm-6-7zm1-10zm-4-1zm-11-9zm-3-1zm-4-2zm-2-1zm-7-2zm-7 3zm-10 2zm-4 1zm-7-7zm-3 1zm-4-6zm-8-5zm-7 10zm-6 7zm15 21zm6-3zm2 11zm11 1zm0-7zm15 8zm19-5zm4 1zm4 3zm1 5zm-9-16zm-7-3zm2-2zm-7-6zm-1-3zm-3-21zm11-8zm6 2zm3-7zm-8-3zm0-3zm-4-2zm-2-1zm-5 2zm-5 1zm0-2zm-5 3zm-3 3zm-10 1zm-5 4zm6 5zm2 3zm17-25zm23 0zm23 1zm7 16zm-1 5zm2 4zm2 0zm-2 4zm-6-3zm-7-5zm-9-7zm-6 16zm-4 7zm23-2zm7 7zm6 4zm0 2zm0 2zm7 2zm6 0zm6 8zm11-5zm1-3zm3-19zm5-5zm-12-5zm-2 1zm0-5zm-7-3zm-7-1zm-2-3zm8 14zm-12 39zm3 14zm-1 2zm-1 25zm42-32zm7-1zm-1-7zm25-1zm3 2zm6 10zm2 9zm-14-4zm27-1zm-1-4zm-2-6zm0-6zm8 22zm4 2zm7-4zm5-9zm-6-26zm-44 4zm-14-42zm43-29zm-1 112zm-1 13zm-1 0zm9 1zm5 3zm5 2zm-1-9zm-2 17zm1 8zm-8 1zm-6-5zm-5 4zm3 6zm1 10zm-2 2zm-3 5zm29-4zm1-15zm0-8zm15-2zm-5-12zm34 21zm12-31zm23-12zm8 3zm22-21zm-17-44zm-76 133zm1 9zm-69 20zm-2 8zm-11-2zm3-3zm-16-2zm-2-11zm-15 18zm-27-16zm0 34zm-26-24zm-4 3zm-35-11zm1-5zm-4-2zm-5 2zm-1 3zm0 2zm-5-1zm-1-2zm-1-3zm-5 0zm-1-1zm6-4zm5 4zm0-11zm-2-10zm-7-15zm-7 5zm-2 19zm-1 3zm-10 4zm-5-15zm-14-16zm4-4zm0-1zm-6-2zm1-2zm-4-1zm0-1zm0-2zm4-3zm-11 9zm25-18zm-3-17zm17 87zm4 7zm10 5zm7-4zm11-24zm0 54zm2 2zm7 1zm4-1zm113-68z"/>
<path stroke="#d2e11b" d="M24 92zm1 34zm11 10zm18 8zm-3 13zm20 0zm4-23zm-16-7zm24-15zm-6-11zm0-13zm0-15zm1-1zm-14-7zm-14 8zm52-4zm1-1zm-5-12zm10-1zm19-1zm-2 9zm1 8zm0 7zm4 18zm4 2zm2-1zm6 1zm-2 9zm-2 13zm-7 5zm-10-2zm0-4zm-2-7zm-2-12zm0-2zm-6 0zm-1-14zm-18 11zm11 12zm-1 17zm15 22zm2-1zm11-8zm22 10zm-3 12zm1 3zm-8 4zm15 10zm3 12zm-7 0zm-9 3zm-13 4zm-6 2zm0 6zm-7-5zm1-11zm5-5zm-8-13zm-22 8zm-4 3zm-1 9zm5 8zm3 8zm3-2zm-1-17zm-19 12zm-5-1zm-1 2zm-13-12zm-14 0zm2 2zm-4 10zm-1-23zm-16 11zm40 41zm0 4zm-4 4zm14 5zm5 8zm13-5zm12-3zm8 2zm2 15zm6 8zm-12 6zm15 14zm28-9zm6 1zm2-3zm-4-11zm13 1zm-6-14zm-3-10zm0-8zm0-4zm10 3zm4-2zm6-4zm-1-14zm7 0zm-1-3zm-1-8zm3-2zm6 2zm2 3zm12 3zm1 1zm3-2zm-4 7zm-5 1zm20-4zm0-9zm12-1zm5-8zm4 2zm-10-10zm4-4zm-1-1zm-1-7zm-2-3zm7-5zm-1-3zm-1-3zm8-3zm2-1zm0 8zm0 1zm3 7zm4 6zm2 7zm8 5zm2 7zm2 7zm-12 1zm2 3zm3 6zm2 9zm0 10zm-1 1zm4 5zm2 12zm11 4zm-4 5zm-14 1zm-10-2zm1-5zm-5 1zm0-4zm-3 1zm-14 2zm-1-13zm0-6zm-15-2zm-3-2zm-2 18zm-5 1zm11 6zm-3 14zm6 1zm1 1zm8 3zm0-8zm-18 13zm2 10zm-25 2zm-2-3zm2-8zm-12 0zm-1 2zm-6 5zm-12 10zm-14-37zm4-7zm-7-16zm6-9zm4-10zm-9-1zm-3-3zm-36 10zm-3 4zm-19-8zm89-37zm1-4zm5 1zm4-4zm0 10zm-5 2zm15 4zm12-8zm4 1zm4 2zm1 5zm0-15zm3 1zm0-7zm-1-1zm4-1zm-1-1zm-1-1zm-17 3zm-5-4zm2-8zm4 0zm1 2zm-6-11zm-6-2zm-4 4zm7-9zm-4-4zm-9 1zm-8 2zm-9-1zm-5-19zm18-1zm0-6zm6 0zm1 4zm10-11zm5-8zm4 4zm2 10zm0 4zm4-3zm1 0zm2 7zm-1 1zm2 3zm10-5zm-1-2zm3-5zm2-3zm1 1zm4-4zm4-12zm7 5zm3-9zm0-2zm0-3zm-6-2zm2-3zm8-3zm5 5zm-1-11zm-6-3zm24 6zm19 3zm-17 26zm-3 0zm-1 12zm-7 3zm6 6zm3 10zm-1 10zm2 8zm-9-13zm-3-2zm0-6zm-6-4zm-11 1zm-2 4zm-8 0zm-3-4zm-6 5zm13 8zm11-2zm-7-27zm9-8zm7 7zm-37-17zm2-2zm-12-3zm-6-2zm-10-7zm-6 11zm-2-23zm-5 2zm-4-7zm-10 3zm-12 1zm-4 0zm3 21zm-7 1zm16-6zm11-35zm22 3zm6 9zm-3 3zm17-8zm5-10zm-29-16zm-47 17zm-5 3zm-2-6zm-10-16zm-27 9zm-7 7zm-11-5zm91 117zm-2 15zm36-23zm2-2zm6 1zm-10-9zm0-1zm-5 3zm19 44zm15 33zm4 1zm0-2zm11 10zm3 11zm4 3zm31 4zm14-14zm-1-2zm-20-10zm28-51zm-15-15zm43-6zm-22-96zm-116 213zm0 0zm-1 12z"/>
<path stroke="#d2e11b" d="M80 56zm10 3zm21-3zm5 9zm-1 17zm12-4zm2 1zm7 2zm-6 18zm-3 15zm-10-3zm-7-1zm-1 6zm-1 0zm-6 21zm-9 5zm28-4zm7 10zm-9 11zm4 14zm4 2zm9 0zm5-4zm-2-9zm8 0zm-4-7zm5-3zm2-23zm20-1zm-4 12zm14-3zm-2 15zm17-1zm0 4zm3-5zm0 11zm14 5zm-5 11zm-1 0zm-4 5zm1 5zm5-2zm6 5zm11-10zm11 1zm-2 4zm-2 1zm7 0zm1 3zm10 0zm1 22zm5 3zm-6 13zm-9 5zm-3-13zm-9-7zm-11-3zm-1 14zm-5 23zm-6-5zm-15 7zm-13-2zm0 6zm-10 0zm-14-1zm-3 0zm-7 0zm9-8zm-1-26zm-7 2zm-4-3zm6-8zm-3-5zm1-4zm0-8zm8 7zm14 2zm8 1zm-2 6zm-1 9zm-1-1zm10-1zm2-11zm5-12zm5-4zm-1-2zm3-1zm-21-7zm-7 1zm1-5zm-3-1zm-12 1zm27-4zm16-34zm9-8zm7-8zm1 1zm21 0zm-4 11zm-2 15zm-3 3zm-3 1zm-3 0zm-3-9zm32 3zm2-16zm2 0zm-1-23zm-3-4zm12 2zm-4-12zm-12-7zm-1-7zm8-1zm-16 8zm1 14zm-16 3zm3-11zm-1-9zm-14-1zm-4-5zm-4 17zm-2 5zm-7-9zm-9-5zm2-11zm6-5zm-1-14zm-10 1zm19-8zm22 5zm14-3zm36-1zm-1 65zm-2 62zm-3 3zm9 5zm3 2zm-3 12zm10-32zm-47-3zm4 15zm-9 22zm26 46zm-2 7zm-3-1zm-13 18zm-10 3zm1 1zm1 9zm11-2zm-24-3zm-3-5zm5-12zm-9 45zm-34-24zm-1-9zm-8-3zm-3 2zm-9 13zm-25-7zm2-5zm-15-8zm1-4zm-16 8zm3-27zm8-8zm-4-11zm-5-4zm3-6zm4-1zm-1-3zm5-4zm1 0zm9-5zm-2-7zm0-2zm-16-3zm-7-4zm-2-9zm-6 18zm3 7zm0 6zm-11-17zm-6-20zm-21-15zm-40-11zm7-26zm7 7zm10-19zm17-15zm14-3zm4 1zm-1-11zm-11 1zm22 6zm24-52zm22 9zm8 12zm15-6zm6 25zm8 28zm-16 4zm-9 10zm45-1zm5 3zm11-8zm111-16zm27 34zm2 48zm-45 45zm-125 20zm-130-18zm-36-24zm380-95z"/>
<path stroke="#90d643" d="M36 65zm7-1zm2 10zm5 5zm7 12zm-9 9zm-6 8zm22 3zm7 1zm-1 2zm3 4zm9-6zm-3-7zm0-1zm6-1zm0-2zm8 3zm7 2zm-4-10zm-4-11zm4-5zm8 1zm13-1zm-1-7zm2-10zm0-1zm-10 0zm-11 2zm-12-13zm-13 4zm3-21zm27 8zm5-1zm1-3zm5-3zm0-1zm5 2zm19-4zm4 8zm4 0zm0-17zm0-3zm-7 35zm3 19zm8-1zm1-2zm2-1zm11-6zm16-1zm1 8zm4 20zm14-2zm10 5zm-2 14zm3 6zm3 3zm3-1zm6-1zm5-9zm-2-7zm7-2zm-2-11zm1-7zm-1-5zm6 1zm3 3zm11 1zm12 4zm-1 11zm6 0zm10-2zm-26 2zm-6-3zm-1 15zm6 4zm1 8zm5-3zm5 3zm9 13zm-18 0zm-5-5zm-12-1zm-4 2zm4 11zm11 2zm3 2zm-2 12zm9 2zm5 2zm1 6zm-3-1zm5 7zm-9 12zm-4-2zm-9 12zm-2 13zm-7 2zm-3 8zm8 3zm13 3zm7 4zm23 1zm-3 11zm-15 21zm-30 2zm-1 6zm6 0zm0 7zm-22-3zm-4 9zm10 6zm-2-28zm-14 1zm-3-1zm0-11zm2-1zm0-13zm11 3zm9-8zm0-4zm-33 0zm-1 3zm2 15zm-10 6zm-6 9zm1 1zm9 3zm6 2zm5 3zm4 4zm-23 7zm-3 4zm0 8zm-3-1zm18 3zm-21-24zm-21-1zm-2-10zm3-12zm-10-1zm-18-1zm-3 15zm-16 3zm-2-23zm0-6zm7-2zm-8-9zm-8-2zm-2 12zm-8 9zm-3 5zm-9 1zm-12-10zm6-13zm13-8zm1-12zm3-1zm0-8zm-7-10zm-17 9zm-2 1zm-7 3zm-6-11zm-10-5zm-5-3zm9-6zm10-3zm3-7zm12 2zm-3-23zm-6 4zm14-10zm-9-10zm17 25zm22 4zm-3 6zm0 7zm0 1zm1 3zm8-7zm10 1zm4-6zm-1-14zm-5-1zm-1-3zm-3 8zm-3-15zm-7 0zm10-13zm3 1zm1-5zm6 2zm5-7zm-2-11zm-7-8zm21-7zm4 0zm-1 3zm5 3zm4 9zm13 1zm1 1zm-1 6zm-6 8zm11 10zm0 1zm7 9zm3 2zm2 22zm-1 9zm2 3zm-2 6zm7 1zm4-6zm6-8zm7 4zm4 13zm4 4zm-15-1zm3 6zm1 8zm2 7zm6 2zm-1-5zm-10 6zm-6 3zm-13 0zm-7 1zm-7-2zm-4-7zm-2-2zm3-7zm4 3zm4-8zm-7-4zm-3 2zm-3-4zm-6 3zm-2-4zm0-7zm-1 1zm-8-3zm0-9zm9-2zm0-5zm2 0zm4 8zm13 3zm4-6zm-6-3zm-2-7zm3-2zm-7-7zm-7-5zm1-4zm-6-3zm-11 14zm-1 35zm-9 5zm1 7zm8 7zm13-2zm-4 15zm29 8zm-4 5zm-2 3zm10 2zm9-38zm-20-12zm27-27zm1-31zm0-1zm-5-4zm-9-5zm1-13zm-8-3zm-8-4zm5-7zm35-21zm13-6zm6-7zm23-2zm-6 12zm-1 8zm-12 15zm-5 48zm-4-3zm-4-2zm2 7zm-8-3zm-2-1zm-7-17zm24 33zm8 21zm12 1zm-1-9zm-17 17zm53 6zm3 9zm3 5zm6-12zm-24 20zm-7-1zm-1-1zm9-57zm55-4zm-10-11zm32 43zm38-14zm-61 56zm-30-157zm-18 12zm-40-47zm-148 56zm-5 3zm0 3zm-47-5zm-10 13zm2 5zm0 19zm-3 20zm-2 7zm-8 17zm-7-32zm101 48zm-2 10zm-6 13zm9 8zm7-7zm-14 40zm5 43zm19-8zm4 0zm10-3z"/>
<path stroke="#55c666" d="M26 99zm14 0zm6 4zm3 8zm0 10zm5 4zm8 0zm-4 7zm-8 5zm12 5zm4 0zm7 17zm7-2zm7 6zm7-1zm8 3zm0 10zm-1 6zm-3 0zm13 0zm21 1zm4 3zm-1 8zm0 19zm-5 17zm16 7zm5 1zm3 10zm5 0zm1 5zm11 7zm-2 17zm-1 12zm10 2zm25-26zm7-6zm10 11zm6-3zm3-21zm9-11zm-20 1zm-24 3zm-4 8zm-4-17zm-9 0zm9-10zm6-11zm-23 8zm-9 4zm-1-36zm6-6zm6 0zm0 5zm-11-25zm0-2zm1-2zm1-5zm22-3zm0-11zm3-10zm-5-1zm9-18zm9 0zm2 6zm9 5zm3 1zm-1-14zm4-14zm18 1zm10 3zm-2-9zm16-5zm-35-3zm-14-14zm3-4zm2-10zm-15 6zm-9-15zm-30-4zm-27 0zm-10 5zm-2 29zm-15-5zm0 20zm-4 1zm11 4zm6 9zm-10 4zm0 8zm-21 8zm-18-4zm-11-17zm2-10zm-11 1zm-21 24zm6 12zm-22 7zm4 4zm14 17zm17 5zm4 15zm2 11zm5 7zm6-2zm9 13zm-2 8zm-14-4zm-4 1zm-7 5zm-18-18zm57 3zm-6-24zm-3-3zm17-19zm-1-12zm3-4zm3 3zm30 3zm10 1zm1 16zm-3-37zm14 8zm-1-22zm9 6zm-9-29zm-5-25zm-1-4zm38 15zm15 11zm-3 10zm49 15zm7 15zm-21 15zm-3 13zm9 1zm1-1zm-18-3zm-5 2zm-4 1zm2 7zm-6 6zm-7-5zm2 20zm7-2zm6 8zm-4 11zm22 7zm8-20zm6-9zm9 2zm12-30zm16-16zm0 62zm27 13zm13-32zm-59 43zm-7 8zm18 13zm1 15zm-3 6zm-6-1zm-40 42zm-88-31zm-3-13zm-14 4zm-22 0zm3 6zm2-30zm-6-14zm-20 11zm158-170z"/>
<path stroke="#2bb17d" d="M54 59zm17 5zm12-29zm26 2zm15-1zm0 14zm23 62zm3 5zm36-3zm-4-5zm-3-15zm27-7zm7 6zm-2-21zm28 23zm10 0zm-1 4zm7 4zm9 18zm10 8zm-5 10zm-24-4zm1 25zm2 1zm-8-4zm-18-1zm-21 7zm1 11zm1 14zm12-4zm-1 15zm24 21zm1 13zm-7 5zm4 22zm-25 8zm-45-15zm3-16zm-19 1zm-11-32zm27-9zm19 33zm9-78zm-24-13zm-25 14zm-49 35zm1 13zm-1 17zm-24-25zm2-18zm-16-18zm2-4zm-3-5zm12-4zm-4-9zm0-14zm-13-7zm-5 0zm-20-9zm-6 39zm12 19zm9-7zm11 5zm62 87zm10 29zm78-158zm-7-96zm175 73z"/>
<path stroke="#1e9a89" d="M59 93zm20 10zm13 18zm-8 34zm3 20zm-7 0zm-33-1zm-4 3zm6 18zm7 6zm-16 0zm24-62zm47 31zm9-8zm15 3zm-2 3zm9-19zm-3-37zm35 4zm16 14zm7 17zm39 0zm-6 9zm18 24zm31 23zm-3 12zm-3 31zm-14 5zm-12 11zm-38 15zm-27 17zm-45-15zm25-220zm6-7z"/>
<path stroke="#25838d" d="M120 22zm22 6zm3 5zm3 62zm-24-7zm3 17zm-8 43zm0 33zm-44-1zm-3 31zm-21-63zm11-22zm-17-10zm-18 21zm-8 7zm65-47zm95-3zm35 19zm9 20zm-11 16zm12 90zm-26 36zm-18 19zm-23-89zm124 20z"/>
<path stroke="#2e6b8e" d="M67 57zm58 11zm4-45zm69 41zm-1 97zm22-6zm15 28zm14 39zm-25 12zm33 24zm5-150zm-168-1zm-46 2zm0 1zm2 36zm-17 5zm74 19zm-22 28zm25 83z"/>
<path stroke="#3a528b" d="M18 144zm17 11zm20-6zm-3 39zm-8 3zm15 10zm8-5zm14-31zm-8-43zm11-35zm10 5zm53 28zm-24 33zm52 11zm4-92zm11 10zm53-29zm16 165zm-163 26z"/>
<path stroke="#453580" d="M86 96zm7 42zm0 42zm46-2zm-4-6zm-21 35zm66-3zm19 1zm-4-51zm-18-30zm20-22zm-36-16zm64 190z"/>
<path stroke="#471567" d="M74 77zm5 21zm12 13zm17 2zm19-5zm41 1zm10-7zm-37-41zm-2 90zm-57 18zm6 14zm-3 25zm-28-15zm-10-73zm61 118zm16-12zm50-10zm45 7zm5 29zm18-1zm7 7zm43-89z"/>
</g>
<path transform="translate(455 1410) scale(0.5)" d="M1 187l30-32 36-33 30-25 30-23 26-16 28-14 32-12 24-5 24-1 24 5 16 7 36 23 20 7 18 2 58 1 34 6 38 17 30 21 17 22 11 26 24 115 13 49 7 102-1 26-8 34-8 24-9 16-12 14-42 33-24 16-24 11-28 6M301 609l-50-14-32-16-28-22-78-69-23-25-50-64-39-68M231 47l24-1 22 4 16 8 36 23 24 10 22 2 56 0 20 3 22 6 22 10 17 11 14 14 10 16 8 22 8 34 24 136 5 74-1 46-6 36-5 12-8 12-24 22-48 31-18 7-18 4-100 6-26-3-50-11-32-11-18-10-24-18-86-77-52-64-27-44-9-22-17-52-6-26 1-16 5-16 16-36 21-25 54-47 26-21 58-34 22-9 22-6zM230 63l23-1 20 5 16 8 34 23 24 9 22 3 56-2 44 11 18 7 14 8 12 11 9 14 8 22 9 38 20 126 4 58-1 76-5 24-11 18-21 18-40 25-16 7-18 3-52 1-50 3-20-3-57-14-21-7-17-11-27-20-82-70-41-50-31-48-11-30-14-46-3-20 0-16 2-16 12-29 16-19 78-66 64-38 18-8 15-4zM228 83l21-1 20 5 18 10 36 26 16 6 16 1 56-7 18 1 22 6 24 7 14 7 10 9 9 12 7 18 8 32 20 118 2 26 0 124-4 18-9 14-16 14-31 19-20 9-18 3-17-1-41-6-42 3-15-3-29-11-40-13-52-30-76-56-34-40-30-49-11-25-21-68 0-27 9-25 15-18 42-29 37-33 39-21 30-18 17-7zM404 139l23 1 29 9 22 10 12 12 8 20 8 56 15 52 6 26 0 18-2 16-17 42-3 14 3 22 13 42 1 10-2 8-7 11-14 11-24 13-18 5-12 0-11-4-9-6-5-8-4-18 4-44-3-7-6-4-16-1-21 6-20 10-24 18-9 3-10-4-24-21-19-8-25-3-30 6-14 0-28-8-22-12-18-17-17-24-16-42-39-75-7-21 1-16 4-14 8-12 10-8 18-9 40-9 11-6 23-17 46-19 22-3 28 5 14 7 29 23 13 5 10 1 16-6 34-28 12-5 13-3zM406 157l19 0 20 6 18 12 9 14 2 10-1 12-11 54 0 14 6 10 19 12 8 8 6 10 2 12 0 10-4 10-18 24-20 15-36 14-34 10-38 6-44 0-70-5-50 3-20-5-15-10-7-9-5-11-5-42-6-16-6-8-26-26-23-34-2-16 6-12 10-6 13-1 54 12 44 25 34 28 16 7 18 1 40-8 30 3 12-1 12-6 6-12 0-10-9-36 0-12 4-14 9-16 10-13 10-8 13-5zM410 175l13-1 14 5 10 10 6 14-1 18-7 19-10 13-14 7-12-2-12-8-9-13-5-16 0-14 6-14 10-12 11-6zM397 311l16 1 16 9 14 16 4 14-3 12-12 12-17 10-20 6-68 7-52-3-42-10-38-6-12-9-6-13 0-8 3-8 5-5 8-3 46 0 64-11 54 0 40-11zM412 199l7-2 6 2 4 4 3 6-2 14-9 8-10-2-6-10 1-12 6-8zM317 355l20 0 7 2 3 4-6 5-12 4-15-1-9-4 0-4 2-2 10-4z" fill="none" stroke="#b5502e" stroke-width="2.8" stroke-linejoin="round"/>
<g transform="translate(965.5 1420.5)" fill="none" stroke-linecap="round" stroke-width="3">
<path stroke="#471567" d="M24 98zm4 16zm14 15zm19-7zm9 40zm53 0zm-20-28zm18-38zm0-41zm-7 0zm57-2zm11 1zm57-3zm10 10zm6 8zm11-4zm-6 14zm25-5zm3-2zm-2-3zm3-4zm5-5zm4 10zm6 2zm6-2zm4 2zm-2-7zm0-5zm8 0zm0 1zm1-3zm-3 7zm-1 1zm14-7zm7-4zm8 12zm0 2zm-8 18zm3 3zm-4 8zm-3 0zm12-1zm10-7zm5 14zm-3 4zm-2 5zm-4 1zm-4-1zm0 3zm-2 8zm1 8zm-12-4zm-1-8zm-5 3zm-3 0zm-9 0zm-1 8zm-5 4zm-5-2zm-4 4zm-7 1zm-1-4zm4 7zm0 1zm3 10zm5 1zm2 5zm1-12zm15 6zm3-3zm11-3zm22 3zm0 6zm-1 8zm10-5zm5-11zm-5-31zm-6-3zm0 7zm-24-11zm-1 0zm-14 5zm-10-3zm-4-8zm-2-5zm-5-1zm-6 5zm0 10zm-4-3zm-4-5zm-5 1zm-8-2zm8 12zm5-1zm0 10zm-7 0zm-2 8zm-4 3zm3 9zm9 11zm0 1zm7 3zm-8 18zm-17-11zm-20 14zm-12-38zm-7-29zm24-8zm9 8zm-4 15zm37-3zm0-2zm2 3zm25 9zm-4 22zm2 3zm-1 5zm9 3zm-5 11zm-6 1zm-4 7zm-2-16zm16 27zm6-1zm1-6zm-27 25zm-16 11zm-2 5zm0-145zm1-5zm22 4zm14-42zm-9-15zm-4 2zm-15 0zm24-11zm-55 5zm-56 69zm-29 40zm-119-58zm21 185zm11-5z"/>
<path stroke="#453580" d="M56 114zm-10 13zm-9 29zm40 22zm42-31zm28-75zm2 1zm32 26zm16 11zm13 6zm-2-42zm0-17zm8-18zm-23 5zm-20-6zm72 10zm-4 27zm33 0zm2 9zm15 2zm-2 4zm-4 14zm2 19zm-9 0zm-6 0zm7 13zm15 4zm-3 4zm13-4zm2 0zm9-2zm6-4zm-10-6zm6-11zm-7-11zm27-1zm11-3zm6 9zm8 4zm7 2zm2-1zm-9 8zm-4 9zm0 6zm-6 3zm-9 0zm5-10zm3-11zm-9 1zm-11-30zm0-6zm3-19zm-7-9zm18-2zm-9-34zm-22 12zm-2 4zm-4 8zm-7-2zm-5-7zm-16 9zm9 15zm-7-41zm-35 107zm-6 5zm-5 31zm-13-11zm-11 14zm15 19zm31 9zm5-5zm2-25zm9 3zm21-3zm4 11zm-5 14zm9 11zm-1 11zm-7-1zm-5 1zm8 13zm0 0zm5-3zm9 12zm16-30zm1-17zm2-12zm-1-9zm-7 2zm-1-18zm32 3zm-3 5zm5 2zm-2 9zm-6 11zm-7 2zm-22 9zm-54 30zm6 8zm-104 62zm222-150zm-26-49z"/>
<path stroke="#3a528b" d="M35 85zm43 30zm18 33zm19-3zm7-4zm6 18zm16 9zm-31 8zm7 10zm70 4zm-17 37zm-24 64zm-41-37zm-33 8zm-69-129zm123-15zm9 4zm2-16zm31-9zm11-6zm13 13zm12 5zm13 33zm12-1zm5 2zm6-3zm31 4zm0 3zm-1 4zm18-4zm3-3zm-1-17zm3-2zm13 1zm3 4zm2-12zm-6-3zm8-7zm11 5zm5-2zm9 2zm8 6zm9 2zm6 1zm2 3zm-2 7zm0 4zm-2-2zm-6 9zm9 12zm10-3zm-39 10zm-4-3zm8 13zm-12 13zm-8 3zm-4-6zm-9 0zm-12 11zm-4 15zm10 13zm11-11zm-37-14zm9-20zm-33 10zm-2 22zm-26-49zm37-41zm3-1zm8 1zm0 8zm2-17zm8-3zm12 6zm-5-22zm-3-9zm-1-12zm15-1zm-2 11zm4 0zm6 6zm14 10zm17-3zm3-18zm-6-13zm-11 0zm-6 1zm0 5zm-1-24zm-9 0zm-5-22zm-5-6zm-15 21zm-11-2zm3 16zm-31-14zm-6-9zm16 58zm-7 18zm108-1zm8 5zm-1 6zm19-8zm-30-42zm-19-23zm4 94zm-1 2zm2 2zm-11 1zm-2-2zm-5 5zm36 44zm-190-139zm-86 5z"/>
<path stroke="#2e6b8e" d="M80 49zm16 6zm-2 20zm18 30zm17-11zm8 27zm15 11zm0 28zm-37-14zm-16 41zm6 57zm-51 10zm26 33zm65-4zm22 11zm27-27zm-9-13zm16-11zm32-51zm-6-47zm-4-1zm-13-26zm-16-9zm-17 15zm-10-8zm4-17zm49 3zm-5-34zm-7-35zm-5-12zm-7-8zm-9 16zm-38 14zm92-10zm4-1zm10-12zm16 10zm9 22zm2 13zm6-4zm15-10zm-2-9zm-3-1zm18-5zm-2-6zm13 0zm13 11zm4 28zm1 4zm-3 15zm-8-8zm-13-3zm4-6zm-8-8zm-1-4zm-3-5zm7 1zm-8 9zm-2 11zm1 15zm-4 3zm1 5zm11-7zm1-1zm-2 28zm15-4zm2 14zm2 12zm5-3zm2 10zm8-7zm7 7zm-2 13zm9 2zm-6 16zm-18 2zm-6 0zm-5-3zm-2 1zm10-12zm-9-11zm-11-2zm-4 2zm4 5zm-11 2zm-11 14zm-15 0zm1-7zm1 16zm4 8zm10 9zm-1 9zm1 3zm6-16zm4-5zm9 10zm9 9zm-7 9zm2 15zm-14-9zm-28-20zm3-58zm15-7zm2 1zm2-9zm7-3zm5 9zm-20-13zm-1-13zm-9 5zm-13-7zm-1-6zm-5 5zm25-9zm-2-2zm3-7zm9-12zm-28-11zm25-56zm0-4zm49 109zm27-1zm-5 13zm4 9zm6 2zm9-13zm0-25zm-9-11zm-28 96zm-87-30zm-2-18zm-217 21zm-27-7zm0-11zm-2 39zm24-62zm-6-8zm21-9zm-1-11z"/>
<path stroke="#25838d" d="M14 87zm18 20zm19-1zm12-3zm8-4zm-5-9zm0 25zm0 32zm16 13zm6-3zm17-5zm16 9zm3-37zm-3-11zm10 1zm-34 9zm21-46zm12-24zm1-9zm-1-10zm11 16zm-32-4zm-22 7zm-35 23zm-7 81zm-2 4zm8 6zm-8 96zm71-16zm-7-19zm9 56zm17 6zm30-19zm42-23zm-11-27zm0-45zm2-46zm0-10zm4-4zm-20-1zm1-9zm0-2zm-11 5zm27-23zm-1-10zm3-2zm7-17zm-15-7zm-9 9zm33-16zm8 5zm5-16zm8-6zm4-2zm2-3zm16 5zm15 3zm2 20zm13-4zm0 11zm12 0zm0 6zm7 1zm1-8zm-1-10zm8-5zm-2-3zm14 3zm8 3zm12 3zm-8 12zm-4 3zm-6 2zm-4 0zm-1-5zm-4 9zm9 1zm13 5zm5-4zm4 8zm1 0zm2-1zm3 11zm6 6zm-19 5zm-10-2zm-4 2zm5 9zm7 11zm6-5zm2-2zm5 9zm3 2zm-1 10zm7-1zm3 1zm12-3zm-6-7zm4 20zm2 4zm8 7zm-35 2zm0-10zm-3-17zm-4 1zm-3 4zm-11 9zm-10 4zm-8 0zm-2 8zm-5 5zm-9-5zm-1 0zm-11 2zm-2-4zm-2-1zm5-2zm-19 7zm-2 15zm6 0zm3-3zm-2 12zm-28-7zm4-8zm-14-8zm0-31zm7-6zm6 0zm0 9zm9 0zm23-4zm2-10zm12 0zm4 15zm11 9zm14-8zm-2-2zm5-1zm1-11zm-4 1zm-8-5zm-5-10zm-19-9zm-5-12zm-16 3zm-15-14zm-6-2zm8-9zm-19 0zm-2 4zm-4 4zm-5 34zm40 10zm14-49zm17-11zm5 28zm35 10zm49 20zm-26 55zm-19-4zm-14 8zm-6-3zm-1-2zm-4 20zm-8 0zm-8 17zm-1 19zm11 0zm4 9zm14-5zm-7-17zm20 5zm-51 11zm-29-15zm-7 45zm76-227zm34 11z"/>
<path stroke="#1e9a89" d="M62 61zm21-19zm32-11zm37 1zm12 8zm19-4zm25-4zm-3-6zm-8-6zm14 23zm13 11zm3 7zm9 14zm5 0zm11 3zm4-3zm4 6zm4 4zm-3 8zm-6-3zm-4 6zm4 5zm1 4zm11 2zm4-1zm2 11zm12 0zm-3 6zm0 2zm-1 11zm9 6zm4 6zm4 2zm1 0zm-2 5zm-7 2zm-5-8zm-14 3zm7 12zm9 6zm12-5zm14 0zm18-4zm0-12zm9 0zm0 3zm10-12zm9 7zm8-7zm1-7zm5 0zm2-7zm1-2zm-3-6zm6-1zm3 16zm-20-18zm7-10zm-11-17zm3-6zm-1-3zm2-1zm-11-5zm-2-5zm-3 20zm-3 1zm6 2zm-13 3zm4 6zm-6 7zm0 14zm-11 2zm-6 3zm-8-6zm-6-2zm-5 0zm-4-5zm9-8zm2-1zm-17-5zm21-15zm2-11zm13-14zm0-8zm2-7zm8 7zm1-20zm-20-3zm-8 5zm2 5zm-10 3zm-19-1zm0 3zm-11 5zm1 5zm-10-6zm-3-23zm9 2zm-3-7zm3 48zm-22 31zm-22 10zm-27 13zm-8 2zm-2 1zm-5-5zm-4-11zm-7-3zm-13 18zm-7 9zm10 15zm25 1zm0-11zm21 6zm1 20zm11 3zm-4 20zm-16 3zm-4-2zm6-9zm-16-2zm-16 13zm-5 28zm2 12zm-9-2zm10 15zm10 19zm15 16zm-31 3zm-1 11zm-7-2zm-4 8zm-17-21zm-13-2zm2-9zm-9 5zm-17 7zm0-17zm3-13zm-5-7zm-23 29zm21 24zm24 11zm24-38zm43-38zm19 2zm-2-12zm78 0zm-2 6zm23 0zm6-3zm0-19zm6 4zm-14 1zm-1 0zm-1-1zm0-10zm-5-1zm0-2zm9-4zm7-8zm17 0zm4 3zm-2 7zm6 1zm6-1zm10-2zm1 6zm-4 15zm-17 12zm-6 2zm2-23zm20-22zm9-12zm14-7zm-21-29zm-22 7zm0 9zm-1 1zm-42 33zm-3 13zm-2 0zm-11-9zm1-7zm-10-6zm4-7zm-10-23zm3-4zm-9-8zm-13 15zm-100 1zm-8 5zm-9 5zm-11-3zm3-11zm-22-5zm-7 8zm8 10zm-8 9zm-5 6zm-7-12zm-16 4zm0 15zm1 6zm30 13zm18-27zm4 2zm16-4zm24-3zm1-2zm10-68zm10-14zm-7-23zm-5-2zm-5 9zm45-1zm13 1zm-1-6zm-85 32zm-13-2zm-2-2zm-4-4zm9 15zm-22 17zm-11 4zm-14 1zm-6-3zm-8-2zm-2 11zm-2 13zm-13 18zm6-65zm30 18zm1 1zm270-31zm41-25zm-67 194z"/>
<path stroke="#2bb17d" d="M19 98zm3 7zm-6 21zm2 9zm9 3zm4 0zm17 1zm-4 5zm-5 4zm2 15zm0 3zm-5 0zm-9 0zm18 7zm5 6zm-10 7zm30-2zm2-11zm2-6zm-10-3zm-9 0zm3-7zm3-4zm13-9zm13 3zm5-10zm2-1zm9 4zm5 8zm5-15zm-4-7zm14 3zm11-8zm12 2zm7 9zm7 2zm-3 5zm1 19zm3 4zm0 5zm4 8zm-4 4zm3 7zm9-5zm12-10zm1-7zm12-12zm-3-6zm0-16zm-1-7zm5-3zm0-8zm-14-4zm6-8zm-4 24zm-2-1zm-5 5zm-11 22zm-22 1zm3 18zm-28-8zm9-19zm1-39zm9-3zm2-6zm7 5zm7-6zm3 0zm-5-12zm-5-3zm-2 5zm-12-1zm9-12zm-2-8zm8-5zm14 2zm3-11zm8 5zm8-1zm-6-11zm1-10zm-9-2zm-9 7zm-19 4zm-13 0zm0 26zm-27-1zm-3 0zm1-1zm-6-1zm-1 3zm-7 5zm-3 12zm-2-1zm-4 4zm-6-4zm0-2zm-11-9zm-2-10zm-10 17zm25 22zm8 6zm5-1zm10 8zm-6 11zm-5 1zm-8-5zm-2 0zm-13 0zm2 2zm-1 9zm5 2zm-17-6zm-11 0zm21-12zm55-2zm6-15zm1-3zm-9-2zm-18-2zm-4-37zm-9 1zm2-6zm6-8zm12-4zm87-3zm10 2zm2-6zm6-2zm26 3zm3 6zm2-13zm23-1zm20-3zm6-8zm-12-1zm10 20zm9-4zm0-1zm10 9zm1 9zm0 10zm-4-2zm2 6zm9-1zm2 5zm2 10zm-8-2zm0 0zm-9-2zm-11 5zm-2 3zm-2 0zm-4 3zm-2 3zm-8 1zm-7-3zm0-11zm7-13zm4-9zm14 4zm0 5zm2 4zm1 0zm-8 7zm1 20zm0 6zm5 3zm0 0zm3-1zm3 1zm3-2zm-2-4zm3-2zm4-3zm6-1zm-2-3zm0 9zm6 2zm1 4zm0 4zm2-1zm2 3zm4 3zm5-4zm6 4zm5 2zm-4 4zm-2 5zm-3 2zm-4-1zm-1-3zm-5 1zm3 3zm7 5zm-1 8zm5-1zm4-1zm1 0zm5 2zm-6 4zm1 2zm-1 3zm-3 0zm-3-2zm-1 8zm-10 0zm0 0zm2-3zm1-3zm-1-6zm-4 0zm-3 0zm1-3zm-2-4zm0-2zm-6 0zm0-3zm-3-1zm-2 3zm0 1zm3 2zm-7 4zm2 7zm1 1zm-2 1zm5 0zm1 7zm-6 1zm0 3zm0 1zm-3 4zm-3 3zm-2 1zm-4-4zm-1-2zm0-2zm-5-1zm-1-6zm12-1zm-3-3zm-1-6zm2-1zm-6-9zm-4 2zm-5 3zm-7 0zm-4 0zm2-5zm3-5zm9 1zm2-8zm6-3zm-2-2zm-6-3zm-6-2zm-1 1zm-2-2zm-7-3zm3-7zm-14-5zm-1-5zm-11 3zm-7 1zm-1 2zm-2 4zm-9 3zm-1 3zm2-20zm0-4zm13 2zm5-3zm11-15zm0-10zm6-3zm-34 14zm-23 5zm-7 5zm-20 0zm26-16zm0-2zm9 34zm5 38zm8 3zm2 4zm13-4zm-6-7zm4-5zm19-6zm4-1zm0 2zm-7 18zm-1 4zm-5 3zm0 7zm-5 2zm-9 0zm22 4zm5-3zm10-2zm1 1zm3-3zm-1 12zm-4 8zm-1 8zm-7 0zm1-4zm-11 0zm-14 9zm2 14zm5-4zm1 0zm24-3zm-1-5zm1 18zm2 3zm-2 3zm5 0zm4 0zm14 5zm1-1zm-7 8zm-1 1zm6 9zm3-2zm12 0zm0-7zm7 6zm1-15zm1-3zm1-1zm5-1zm2-9zm2 2zm-10-1zm-1 1zm-5-3zm-6 2zm-4-2zm-1 1zm3-5zm-4-2zm-12-3zm-1-13zm1-6zm-6 4zm16-14zm12 10zm12-3zm3 4zm7 1zm-1 2zm0 8zm-7-1zm-2-4zm-1 17zm-2-1zm-8-9zm2 23zm1 3zm23 4zm2 4zm1 3zm4-2zm3-13zm7-1zm1-12zm1-12zm-11-3zm-3 2zm-2 6zm-2 3zm-2-23zm4-2zm6 1zm-1-5zm-17 3zm-8-13zm3-4zm-7-1zm-10-15zm-3-4zm-4-1zm-1-1zm4-8zm2 0zm2-4zm5 1zm-1-6zm-2 14zm13-2zm2 1zm5-21zm3 2zm3-7zm6 1zm2-4zm0 10zm1 0zm2-1zm7-6zm12 2zm0-8zm5 4zm3 3zm-1 8zm-6 3zm1 15zm-1 10zm2 1zm9-4zm3-1zm6 2zm-3 4zm5 6zm-4 5zm-4 7zm-4 1zm-17 0zm1-1zm-3-6zm0-22zm0 0zm-3 3zm-6 0zm-1-2zm2-11zm6 0zm0 4zm-7-38zm-1-9zm-6-3zm6-7zm-2-5zm5-10zm-21-2zm-4 3zm-3 4zm-3-16zm17-7zm-27-14zm-7 78zm-3 6zm0 14zm37-24zm0-7zm60 44zm-19 45zm-3 3zm-12-2zm-31 55zm5 10zm-16 11zm-7 0zm-23-10zm-16-14zm-55 27zm-24-22zm-26 15zm-3-2zm-22 3zm6-18zm1 38zm-9 5zm-6 9zm-14 0zm-2 1zm-5-2zm-2 12zm-14 3zm2-10zm0-19zm18 1zm-36 2zm-12 0zm-5 13zm10 11zm0 7zm35 10zm5-3zm20 9zm-5 7zm8-29zm22 3zm7 4zm4-5zm1-8zm2 1zm4-6zm0-1zm-1 0zm4 0zm3 7zm-9-11zm-19 2zm-4 27zm23-1zm-84-69zm10-21zm-3-16zm0-5zm7 0zm4 0zm-16-6zm-72-25zm-1-5zm-11-17zm136-19zm21 4zm50 42zm11 7z"/>
<path stroke="#55c666" d="M5 47zm3 3zm13 11zm10 9zm20 0zm8 0zm7 3zm0 1zm1 8zm8 1zm0 2zm1-5zm0-7zm-2-5zm5-8zm-9-1zm-8-4zm5-8zm-18 0zm8-20zm23-15zm29 19zm8 2zm1 1zm5 3zm0 1zm8-3zm8 0zm8 6zm-2 4zm7 2zm6-3zm3-1zm3 7zm2 7zm-6 2zm-2 4zm-7-2zm-1-1zm-2-3zm-2 0zm0 6zm-3-2zm0 5zm-6-3zm1-11zm-5-2zm-21-1zm-1 5zm-3-9zm-9 7zm1 5zm-10-2zm-3 7zm6 2zm7 7zm-1 4zm-2 4zm-2-1zm-3 5zm-1 4zm-3-2zm-2 6zm-1 1zm-4 6zm-2 5zm-5 1zm-5-2zm0 6zm0 1zm-2 2zm-4-4zm-2 1zm-4 2zm-2-8zm1-1zm-7 2zm-4-3zm-5 7zm-3 5zm5 3zm3-1zm-1 5zm-2 2zm3 4zm6 1zm3 1zm1 0zm2-7zm5 4zm1 6zm-3 2zm6 6zm5 10zm-1 2zm5 2zm-1 5zm0 3zm1 7zm2 7zm-3 3zm-3 2zm-2 0zm1 4zm9 6zm19-5zm-4-4zm-7-12zm-4-4zm5-11zm1 1zm-1-4zm-8-4zm16-1zm5 3zm2 1zm-2 2zm2-9zm3-1zm-4-4zm-5-4zm-3 1zm-3-6zm-2 2zm-4 0zm-6-8zm0-2zm-7 1zm2 2zm13-6zm5 1zm2 4zm5-2zm4-1zm4-1zm4 0zm-1 1zm-1-5zm13 1zm7 2zm-2 4zm-2 4zm-5 2zm-4 1zm-3 18zm1 1zm18 4zm2-7zm-1-1zm5-14zm9 1zm1-15zm1-6zm8 0zm1-1zm-5-3zm-15 0zm2 2zm-7 1zm2-7zm0-1zm0-4zm-2-5zm1-8zm-6-4zm-4 3zm-3-6zm2-8zm2 0zm1 0zm-10-2zm2-2zm-3 22zm0 5zm-3-1zm0 5zm-2-1zm-6 8zm-6-6zm0-6zm1-3zm4-3zm-12 19zm0 1zm-27-5zm-2-6zm-2-13zm-15-1zm-12 13zm-3 3zm2 4zm1 0zm0 5zm-7 10zm-1 5zm3 13zm1 6zm9-2zm1 4zm1 3zm-5 6zm-1 1zm-1 8zm5 5zm7 1zm2 1zm-3 3zm2-14zm3-4zm5 0zm5 4zm1 6zm1 0zm0 2zm5-6zm-13-15zm-14-10zm-18 4zm0 11zm2 1zm-3 5zm4 2zm-8 0zm-5-15zm6-58zm18 103zm15-1zm4-1zm1-1zm1-4zm2 1zm-4-3zm1 48zm-3 20zm-2 6zm-15 21zm28 12zm14 0zm1 6zm7-5zm-1-7zm8 4zm5 3zm0 4zm1 2zm0 2zm6-1zm0 6zm-6 3zm-6-2zm-2 6zm-9 11zm34-17zm3-9zm4-6zm-3-5zm-2-3zm-7 1zm-5 5zm-1-13zm2-3zm0-3zm-1-1zm-9 2zm-1 3zm-4-4zm-5-5zm-3 8zm9 8zm2 0zm18-6zm2 0zm9 4zm5 0zm0-8zm5 4zm11 0zm3-1zm-1 8zm-3 5zm-2 2zm-1-4zm-1 0zm-8 2zm-2 0zm8 7zm10-3zm6 1zm0 2zm9-1zm1 1zm1 0zm6-1zm2 0zm6-1zm-5-5zm-3-1zm2-2zm-7 1zm-5 2zm-1-5zm-6-1zm0-3zm10 0zm1-10zm-2-1zm10-3zm2-3zm7-2zm0 13zm-1 2zm-7 0zm9 6zm2 2zm11 2zm-1-30zm9 2zm11-2zm-7-21zm-14 8zm-19 0zm-1 5zm4 0zm-7-9zm-2-5zm-7-5zm-2-4zm-7 9zm0 3zm-5 14zm6 6zm7-3zm7 2zm-23 5zm-30-6zm-6 1zm0-7zm0-10zm7 6zm1 0zm2 1zm-19 6zm12 13zm14 40zm6 16zm16-7zm1-4zm26-3zm2-2zm-7-6zm12-65zm-11-27zm-7-1zm-8-5zm-4 2zm-5 2zm-4 2zm3 9zm-4 5zm-1 0zm-5-21zm4-8zm13-1zm9-2zm0 6zm15 3zm1-19zm6 0zm-8-8zm-3-9zm-13 1zm-7 0zm3-5zm1 12zm-4 6zm-6-1zm-4 0zm4-4zm-19 1zm-3-2zm-1 13zm6 1zm-12 22zm-7-4zm-5 3zm-6 0zm-1 2zm2 6zm-8-2zm11-39zm23-51zm14-17zm6 4zm7-7zm2 1zm2-1zm1-4zm-1-10zm-9 5zm-4 0zm24 0zm-1 2zm4 0zm-1 2zm8 0zm1-2zm9 6zm-2 2zm7-9zm-2-5zm-2 0zm1-13zm1-8zm-4-2zm-2-6zm7-1zm3-2zm-1-4zm8 6zm-3 9zm-1 6zm-2-2zm-15-2zm-5 2zm-6 9zm-12-15zm-2 1zm3-23zm9 0zm1 6zm9 1zm-3 4zm1-20zm21 2zm-1 2zm10 0zm2 11zm2 4zm1 1zm4-9zm16 3zm-2 5zm-1 3zm13-1zm-2-4zm0-6zm11-2zm4 2zm0 10zm9 0zm2-2zm1 3zm1 0zm-1 4zm6-1zm2-3zm6 2zm0 4zm5 4zm0 1zm8-3zm-2-2zm1-3zm1 0zm-5-1zm0-1zm1-4zm6-3zm8 2zm1-1zm0-6zm3 0zm10 0zm1 2zm1 4zm3 0zm2-2zm-1 8zm-2 2zm1 3zm2-1zm-5 1zm-1-4zm-3 3zm-3 2zm0 1zm-2 1zm1 1zm-2 3zm0 2zm2 4zm-1 3zm4 2zm4-9zm-1-2zm11-1zm-1-3zm-2 11zm2 3zm2 0zm1 9zm-3 3zm-3-3zm-1 7zm-1 1zm5 2zm3-1zm4 1zm0-3zm2-2zm-1-6zm4-1zm8 2zm9 0zm1-6zm-4-4zm0-4zm2-1zm0-2zm-7 3zm-6-4zm0-4zm-4-5zm-4-3zm1 12zm3 1zm10-10zm6-6zm-2-2zm20-1zm11-22zm-56 4zm-2 5zm-6-2zm-1 4zm0 0zm-4-8zm4-6zm-8-2zm-2 2zm-5 1zm1 5zm-3 6zm-10 3zm-1 1zm-9-2zm-6-2zm1 6zm-4 0zm-6 0zm1 3zm-3-10zm0-9zm7-3zm6 1zm5 0zm0-7zm-3 2zm14 2zm0 8zm7 24zm1-1zm13 0zm1-1zm-4-3zm-1 10zm-5 5zm-1 0zm-3 4zm-1 1zm-4 3zm-4 11zm-4-1zm-2-2zm-4-6zm-9-2zm0 7zm0 3zm1 4zm3 5zm5 0zm1 4zm1 1zm-3 2zm7 0zm-2 3zm-1 1zm2 2zm0 3zm1 1zm2 4zm2-1zm5-2zm0-1zm4 1zm3 5zm5-2zm4 1zm4 3zm1 6zm1 3zm-2 1zm-3-2zm-7-4zm-6 0zm-3 3zm-2 3zm-3-5zm0-2zm-1 0zm2-1zm-9-3zm-3 1zm-1-1zm-2 0zm-1 2zm-4 0zm-1 0zm4 4zm1 4zm5-2zm-10 5zm-1 1zm-2 2zm-1 1zm0 3zm-2-1zm-3-2zm-5-3zm-1-4zm5 0zm1-3zm-2-3zm0-8zm-1-7zm-1-2zm-6-1zm-2 0zm-4 3zm-3 1zm-8 0zm-4 2zm1 3zm2 2zm-2 6zm-5 2zm-1 0zm0 11zm1-1zm-5 0zm-1 5zm-1 1zm-1 4zm8-3zm8 0zm2 0zm0-4zm6-5zm2-1zm-1-6zm3 1zm7-1zm-3 8zm1 2zm-2 6zm-7 1zm-1 4zm0 7zm-3 2zm7 1zm1-4zm6 0zm1-4zm2-1zm3 2zm-2 4zm0 5zm-2 5zm-2 2zm-1 4zm4 1zm3 0zm8-2zm4 5zm7 0zm7 0zm1 2zm-4 3zm-2 7zm-2-1zm3 4zm-5 2zm-4 2zm0-5zm-5 4zm-6 5zm-6-3zm-2 6zm0 2zm-1 2zm1 8zm0 1zm4 0zm5 6zm0 1zm2 5zm2 6zm6 0zm8-1zm6 0zm4-2zm7-1zm1 3zm-2 1zm-1 3zm-1 1zm-1 1zm5 0zm2-2zm1 3zm3 2zm-1 1zm2 1zm9-1zm3 0zm1-1zm1 3zm-2 7zm3 3zm11 0zm-1-25zm-7-5zm-5 3zm-3 0zm1 3zm-1 3zm-2-1zm5 0zm-9 2zm-3-1zm0-6zm-6 0zm11 1zm-1-5zm6-4zm2 2zm3-9zm-4-4zm-2-3zm-3-2zm-1 1zm0-3zm-2 1zm-3 2zm0 2zm2 1zm2 0zm-3 5zm-7-5zm-1-5zm-1-5zm-5-1zm-6 0zm0 4zm-1 4zm5 1zm-2 3zm0 0zm-3 4zm0 6zm6 1zm4-1zm0-3zm-5-1zm-8 12zm5 13zm-4 4zm-2 2zm13 4zm4-2zm5 10zm6 5zm0 4zm3-68zm-1-1zm-5-2zm0-6zm-1 1zm-3 1zm2-7zm5-4zm1 0zm2 1zm4 1zm2 1zm-1 6zm2 3zm-1 2zm1 4zm0 0zm1 6zm4-9zm0-6zm-2-2zm-1-8zm1-3zm-3-1zm-3 0zm0 1zm-1-6zm-3 1zm-2 1zm-3 0zm3-3zm-1-2zm-1-2zm-2 1zm5 0zm1 1zm2-4zm4 0zm0 0zm1 5zm9-1zm-1-9zm-3 2zm0-5zm-2-2zm1-4zm2-1zm2-1zm4 0zm1 0zm2 1zm1 2zm5 0zm0 4zm1 0zm1 4zm4 1zm5 1zm-1 1zm1 5zm1-1zm-6 1zm0 2zm-2 1zm-4-4zm-2-6zm-1-4zm-7 0zm0 0zm-1-4zm-3 0zm2-8zm7-2zm-1-7zm-2-3zm2-2zm-8 0zm-1-2zm-3 1zm1-7zm-6-3zm-1-6zm-5-1zm1-6zm0-5zm-2-3zm-3-1zm-2 4zm-4-2zm-6-5zm-2 2zm-2 7zm-1 6zm-2 0zm-14 2zm-7-1zm4 8zm7-3zm28 0zm2-7zm15 4zm-2 2zm8 1zm5-2zm-1-4zm3-4zm3 0zm2-3zm2 0zm2 0zm1 3zm5-1zm6-4zm1 0zm7 5zm1 3zm-1 3zm4 1zm5-2zm1-7zm1-2zm9 10zm3 1zm-15 9zm-2 5zm5 0zm-6 4zm-4 0zm-1 0zm0-3zm-4-6zm-5 3zm-7-2zm-2-5zm-3 2zm-1-8zm-9 10zm4 13zm6-1zm5 2zm0 0zm3 0zm2-1zm5 1zm2 2zm7-1zm0 3zm0 1zm5 0zm-1-6zm0 14zm-3 0zm-3-2zm-1 0zm-6-1zm0 3zm-1 5zm-3 1zm2 3zm3 0zm3-2zm4-2zm-1-1zm2 5zm3 3zm1 0zm1-1zm0-7zm1 1zm5-4zm-1-3zm7-5zm5 8zm-24 13zm-2 3zm-4 0zm-3 3zm0-7zm-8-8zm-1 0zm0-1zm0-4zm-1 0zm-1 0zm-1-1zm-1 2zm0-5zm0-2zm1 0zm0 1zm4-3zm2 0zm-3-3zm5 7zm2 1zm-3 5zm-2 0zm-2 27zm1 2zm2 4zm2 2zm2 8zm0 3zm-1 3zm-4-6zm-5 8zm-13 0zm4-4zm-7-2zm0-4zm4-2zm1-4zm1-5zm-4 0zm-3 0zm-1 2zm11-1zm3 0zm22-4zm-31-15zm-18-4zm1-4zm-5 5zm-2 1zm0 3zm1 1zm-5 6zm-3 3zm-3 0zm-2-4zm1-4zm1 0zm-3-4zm-2-3zm-3 1zm-1-1zm-2 0zm2 3zm-11 2zm1 5zm-5-2zm-1-7zm-1-5zm2-1zm3 3zm3-7zm4 0zm2-1zm12 0zm1 1zm1-2zm1 0zm2 1zm-3-4zm0-2zm0-6zm2 1zm-10 5zm5 13zm2 0zm0-1zm2 4zm-2 20zm10 1zm4 13zm-20 0zm-3-9zm-4-11zm-20-15zm-1-4zm3 0zm0-1zm-3-5zm-2 1zm-6-2zm14-2zm47 0zm2 1zm6-10zm1-1zm8 74zm0 2zm-1-1zm2 6zm-6 2zm-1-3zm9 11zm-65-13zm0-11zm-10 10zm-7-24zm-3-5zm-5 1zm-4-2zm1-2zm1-11zm-2 0zm-6-1zm-1 0zm1 5zm-8-8zm-10 1zm-4 1zm-6-1zm-4-1zm-6 1zm-1 0zm-5-5zm-7-2zm0-1zm-2 2zm0-8zm6-3zm7 0zm-1 3zm0-8zm5 2zm2-1zm2 1zm-1-6zm0 0zm7 1zm-11-8zm-5-7zm-7-2zm1 7zm-2 3zm5 4zm-11-7zm-4 2zm-13 7zm-7 2zm5 11zm1 4zm4-2zm4-8zm7 10zm4 14zm3 5zm3-9zm15 8zm7 0zm-3 4zm-5 6zm-2 10zm-3 2zm-9 0zm27-5zm2-1zm3-3zm-8 1zm14 5zm-1 1zm-3 8zm15 0zm4-3zm-10-13zm-11-14zm5-19zm-4-36zm0-8zm6-2zm-12-2zm2 8zm2-20zm5-3zm3 3zm0-8zm-8-1zm-2-9zm-2-2zm-2-4zm-2 9zm-5-5zm0 22zm-7 9zm36-6zm2-5zm7 1zm-3 5zm4 4zm5-6zm7-1zm1 2zm-1 5zm7-4zm-3-4zm-5-10zm-4-5zm-5 0zm1 3zm1-8zm4 0zm4 2zm3 1zm0 2zm3-6zm5-1zm1-1zm-12-8zm-17 2zm3 9zm-9 5zm-4-2zm-5-2zm12 7zm8-39zm-2-4zm-14-7zm-8 3zm3 6zm-22-13zm-54 16zm175-26zm64 69zm-377 135z"/>
<path stroke="#90d643" d="M43 26zm12 15zm3 16zm8 0zm-1-6zm8 0zm-1 3zm2 5zm0 1zm-3 0zm3 3zm-5 3zm-1 1zm-5 1zm0-6zm-10 2zm1 4zm-2 2zm4 1zm2 0zm8 1zm2 4zm0 5zm-1 1zm3 0zm4 2zm5 2zm5-1zm1-6zm-3-1zm-3 1zm-2-5zm-1 0zm8 0zm4 0zm2 0zm1 6zm2-2zm4-2zm1 3zm-1 2zm4-1zm2 4zm1-1zm2 2zm1-4zm3 3zm2 2zm3 3zm2-1zm0-5zm3-3zm2-4zm3 3zm0 6zm1 0zm1 0zm-4 0zm0 7zm2 3zm1 1zm-7 0zm-5 1zm-2 0zm-1-3zm-1-2zm-6 1zm-4 1zm-2-1zm2-4zm0-4zm-2 2zm-5 0zm-1 4zm0 0zm-2 7zm-3 2zm1 1zm-1 7zm0 0zm-1 1zm-4 2zm-5 3zm-1 1zm-4-5zm0 0zm-1-3zm2-1zm0-5zm1 1zm3-1zm-1-4zm1-3zm0-3zm4 0zm0 2zm1 4zm2-1zm1-2zm-17-1zm-2-1zm-1 2zm-1-1zm-1-3zm0-4zm4 1zm2 9zm-11-3zm-3-1zm-4 0zm-4 0zm-2-2zm-3 2zm-2 1zm-2 0zm-4 1zm-1-3zm-3 1zm-2-4zm6-2zm0-4zm-3-3zm2-5zm-2-6zm9 4zm2 3zm5-2zm-2-4zm1-8zm1 0zm0-7zm-23 0zm1 28zm0 19zm0 3zm1 1zm1-3zm1-1zm5 1zm1 4zm2-1zm2-2zm4-2zm1 1zm2-2zm-1-4zm4 2zm5-1zm-1 6zm-2 0zm-5 5zm1 12zm-6 4zm-2 8zm-3-2zm-3-4zm1-7zm0-3zm2 1zm-9-3zm-7 10zm-5 2zm-5 1zm-1 4zm-2 2zm6 2zm8-2zm4 0zm0 1zm1 6zm6-4zm5 1zm7-1zm3 0zm-1 3zm0 4zm-1 2zm-3-4zm8 2zm6 1zm3-2zm4 1zm0-4zm-1 0zm2-2zm1-1zm1-4zm-3 1zm-1-2zm-7-1zm2-3zm1-5zm7-1zm0-5zm4-3zm-1-1zm0-1zm-6-3zm-1-4zm-7-15zm0-3zm1 1zm-2-8zm-2-1zm-3 4zm-6 6zm19-9zm23-20zm8 0zm0 5zm-1 0zm1 1zm9 0zm0 0zm0 1zm5 3zm0 1zm-3 4zm9 1zm5 0zm1-7zm5-1zm1-3zm-1-7zm-4 1zm-2-4zm-1-3zm3-5zm5-2zm0-6zm-1-3zm7 0zm6 1zm3 2zm2 0zm8-1zm2 4zm2 1zm4 1zm2-2zm2 0zm1-1zm3 0zm2 1zm-6 3zm0 3zm-5 1zm1 8zm-1 1zm-2-2zm-3 0zm-4 1zm0 3zm-2 4zm-8 0zm0-1zm-4 0zm0-2zm-3-5zm1-3zm2-4zm-1-2zm-1-4zm-12-3zm-3 2zm-2-1zm-2 2zm-5 4zm-3 2zm-3 0zm-1 2zm-7 1zm-10-2zm-2 4zm0 0zm-1-7zm-3 0zm8-2zm-7-7zm-1-8zm7 1zm3-8zm-15 0zm-1-22zm36 20zm3 10zm4 4zm-17 1zm1 2zm3 4zm2 15zm1 0zm4 7zm4 0zm-1 2zm5-3zm23 9zm2-1zm0 4zm6 0zm2 0zm-4-2zm2 6zm1 11zm3-3zm-9 1zm-1 2zm-5-1zm1-2zm1-2zm0-1zm0 13zm0 3zm5-1zm3 7zm-4 3zm0 1zm1 3zm1 2zm0 3zm-3 0zm-2 0zm-3 0zm-2 2zm-4 0zm-2 3zm-4 0zm1-1zm0-2zm-7 2zm0 1zm3 3zm-11 0zm-2 1zm0 8zm-3-1zm6 0zm3 1zm-4 5zm-1 3zm3 3zm-1 2zm1 3zm3 0zm1 4zm-3 2zm-2-2zm-2 1zm-5-1zm0-3zm4-2zm10-1zm1 3zm6-1zm7 0zm0-4zm1-4zm2-2zm1-2zm1-1zm0-10zm1-4zm4 0zm4-3zm1 1zm1 0zm2 1zm1 5zm2 3zm-4 2zm0 0zm-2 3zm0 7zm0 2zm-4-1zm-2 6zm-4 0zm-1 7zm2 2zm-6-1zm-1 2zm-2 0zm0-1zm-3 4zm3 4zm0 1zm8-1zm2-1zm3-3zm1 7zm1 1zm-3 3zm0 3zm-1 6zm1 1zm-6 0zm0 5zm2-1zm5 4zm-9 2zm1 3zm-10 0zm1-5zm2-4zm2-2zm-3-4zm-5 2zm0 2zm1 1zm-10 1zm1-5zm-4-3zm0-4zm-3-1zm-1 4zm0 5zm2 8zm0 3zm4 0zm4-3zm0 0zm2 6zm-2 10zm7-2zm16-2zm13-6zm6 1zm0-2zm0-5zm-4-5zm-6-2zm1-4zm2-3zm2 1zm4-1zm3-1zm2 7zm0 1zm4 4zm1 8zm11-4zm2-7zm0-5zm2 1zm-3-3zm-2-2zm-1-7zm-2-5zm-2 1zm-1-2zm7 0zm4 2zm1 2zm10-3zm-2-2zm-3-6zm0-1zm4-1zm1 1zm1-4zm7 0zm0-1zm3 2zm5-1zm1 0zm-1 4zm-1-1zm-4 5zm-3-2zm2 10zm-4 1zm-1-2zm4 5zm4-1zm2 2zm5-1zm0-6zm2-2zm3-4zm0-8zm1-4zm2 0zm3-4zm0-3zm3 2zm0 4zm0 4zm1-1zm5-1zm-2 8zm10 2zm0 4zm2 3zm0 2zm2 1zm1 1zm3-1zm3-1zm2 1zm0 0zm0 2zm-1-1zm2 3zm2-5zm0-3zm5 1zm3 1zm1 1zm6-1zm1-2zm-2-1zm-1-1zm0-6zm-2 0zm7 0zm3 0zm0-2zm2 1zm-3-4zm-5-1zm-1-4zm-3 1zm-1 0zm-4-5zm-5 2zm-1 3zm2 4zm1 2zm-5 3zm0 0zm-5 3zm-1 4zm-2 0zm-2-7zm1-2zm0-1zm-10 12zm0 1zm0 0zm-1-1zm-3 4zm0 0zm-1 1zm-4-2zm0-1zm-3 3zm-4 0zm1-5zm-1 12zm-1 3zm0 1zm-1 6zm-8 1zm-2-2zm-1-3zm2-6zm-13 0zm-1 0zm1 5zm1 3zm2-1zm-3 5zm-4 6zm-3-10zm-4 2zm-13-7zm-2-1zm-2-4zm-1-5zm-8-6zm-2-4zm-4-3zm-4-1zm-2-1zm0-4zm6 1zm2-1zm1 0zm4-3zm11 0zm3-2zm4-2zm3-5zm1-6zm0-4zm-3 0zm0-1zm2-3zm3-1zm1 2zm1 1zm0 2zm5-4zm1-7zm3-2zm3 0zm4 0zm-2 3zm2 4zm2-1zm3 3zm0 4zm0 2zm0 0zm1-3zm-5 4zm-7 0zm0 1zm0-4zm-1 1zm4 16zm5-5zm1 0zm5-2zm1 0zm3-3zm4-1zm1-6zm0-5zm2-2zm1-3zm-3-1zm-2 2zm0-6zm-3-3zm0-1zm-2 1zm-2-1zm-3-1zm-2 2zm2-6zm1-2zm-3-2zm-3-4zm0-2zm-2-7zm-4 0zm-2 3zm-2 1zm0 4zm-4 4zm1 1zm0 1zm7-1zm1-1zm0 2zm2 6zm-17-1zm-2-3zm2-3zm-8-4zm-1 0zm0-4zm0 0zm-6 3zm-6 0zm-3 3zm-2 5zm0 10zm2 2zm1 3zm0 0zm1 5zm6 1zm2 1zm1 3zm-4-1zm1 5zm4 1zm-1 2zm-1 3zm-3 3zm-3-8zm-3-2zm0 4zm-7 5zm-8-12zm-11-5zm-3 8zm1 8zm-11-2zm-3 6zm-14-4zm-1-2zm-1 0zm-1-3zm-3 3zm-7 1zm0-4zm-1-6zm3-2zm-1-3zm-4-3zm-4-1zm0 3zm-3 0zm0-1zm-1 3zm-2 0zm-3 2zm1 10zm-3 0zm8 0zm3-1zm3 6zm-4 3zm-5-4zm-6 4zm-1 5zm-9 2zm1 2zm0 2zm1 3zm-1 4zm-3-3zm-1 1zm-2-4zm-1-2zm-6-5zm-11 2zm-2 0zm-7 0zm-1-1zm0 4zm-3 1zm-2 4zm6 2zm6 0zm2 3zm3 1zm0 4zm-5-1zm11-3zm3 0zm0 8zm5-4zm6-2zm5 5zm-1 2zm0 2zm4-7zm3-5zm10 0zm3-2zm7 0zm2-1zm3 0zm0 1zm2 3zm0 3zm-1 1zm2 1zm-3 4zm-1 3zm-2 6zm0 7zm6 1zm-2-4zm-2 9zm-1 3zm-2 2zm2 4zm3 2zm5 0zm0-6zm-1 0zm4-4zm3 2zm-30-1zm-2-2zm-1-6zm-4 0zm0-5zm6-2zm2 0zm-1-3zm0-6zm4-1zm2-1zm3 0zm3-4zm1-9zm3-3zm-1-6zm-3 3zm-5 1zm-4 1zm0 1zm-2 0zm-5 0zm7 14zm0 6zm3 9zm0 2zm-23 0zm0-3zm-9 8zm3 4zm-13-4zm-2 1zm-5-5zm10-8zm-1-18zm-2-4zm-2-1zm-6-12zm-14 1zm-3 1zm-1-4zm3 7zm-9 11zm2 4zm8-36zm-6-10zm-3-3zm-3-29zm2-13zm42 60zm5 3zm3 10zm38 0zm0 0zm0-20zm0-9zm-3-2zm-2 0zm1-1zm1-5zm3 1zm0-7zm-1 0zm9-5zm0 0zm12 4zm0 6zm4-1zm-1 3zm-4 5zm-4 1zm-2-6zm3-3zm10-5zm1 1zm2 0zm7 1zm0 2zm-1 3zm2 0zm17 0zm1 0zm0 7zm12-1zm1 0zm1-1zm-2-5zm-1-1zm-3 2zm0 1zm9-3zm3 2zm-1-8zm2 17zm0 5zm1 5zm0 3zm-1 0zm-5-11zm14-8zm0-30zm-3 1zm-6-4zm-1 1zm1-6zm2 0zm1 1zm5-1zm1-6zm0-2zm0-3zm2-1zm3 3zm0 1zm3 2zm5-2zm2 4zm1 2zm0 2zm0 4zm-4 1zm0 0zm9 1zm3-7zm-3-4zm0-2zm-1-4zm-1 0zm0-9zm-1 0zm-2-2zm-6 0zm1-1zm-2 3zm1-9zm2-3zm4 2zm4 0zm2 2zm-1 5zm11 0zm-1 1zm-1-3zm6 0zm-4 8zm-2 0zm0 5zm-2 2zm-2 2zm0-6zm1 0zm9 2zm5 0zm1 1zm1 16zm3-1zm2 4zm7 3zm4-1zm0-1zm6 0zm4 0zm0 3zm-6 0zm3-6zm6 0zm4 1zm1-2zm0 4zm3 3zm3 4zm0-9zm-2-3zm-2-2zm0-3zm-3-3zm1-2zm3-2zm2 2zm4 4zm4-1zm0 6zm-1 0zm3 1zm-5 2zm-2-4zm-13-5zm-3-1zm0 0zm-4 1zm0 3zm-3 0zm-3 0zm-3-1zm3-4zm6-1zm0-1zm-3-4zm-1-3zm-2-2zm1-3zm-3-2zm-2 0zm-1 0zm0-2zm0-7zm4 0zm-1-3zm0-3zm1-1zm-5 0zm-2 2zm-3-1zm1-4zm-4 0zm-4-5zm-5 2zm-4 1zm1 2zm-3-1zm-4-2zm0 7zm0 0zm-3 0zm-12-1zm-3 2zm-1 4zm-5-2zm-3-4zm-3 0zm-5-4zm-1-1zm-8-1zm-2 2zm-2 1zm0 2zm-7-4zm-1-2zm11-3zm4-4zm-10-4zm30 6zm-2 7zm15-6zm-1-5zm-4-1zm9-8zm9 10zm6-5zm6 1zm7-4zm2 9zm3 0zm2 6zm2 0zm0 0zm0-1zm2 3zm-5 3zm-5-3zm-5 14zm2 5zm11-3zm2-6zm2-1zm3-5zm2-2zm2 0zm4-2zm3 3zm7 1zm2 1zm-13 3zm0 1zm-2 5zm3 6zm1 1zm1 2zm2 1zm11 0zm-1 3zm8 4zm0 3zm0 3zm9-3zm3-11zm0-4zm0 0zm-1-4zm-3 0zm0-2zm-2-4zm-3 0zm1 8zm-1 4zm-3-5zm15-3zm-1-2zm7 1zm4 8zm11-1zm0-2zm3 5zm8 0zm4-2zm4 0zm2-2zm0-7zm4-2zm-2-4zm-7 2zm1 7zm-4 2zm4 9zm3 10zm0 2zm2 0zm5 0zm8-1zm1 3zm4-3zm5 0zm-1 9zm1 8zm2 6zm-4 3zm-2 6zm-6 1zm-4 2zm-3-3zm1 11zm0 3zm1 0zm5-1zm4 3zm6 0zm2 1zm0 0zm-1 5zm-3 0zm1-2zm3 8zm0 0zm1 2zm1 1zm2 4zm5 0zm0-5zm2-3zm0-4zm-1-2zm-3 2zm-1-5zm2-3zm0-1zm-5-1zm3-3zm6 0zm9 2zm0 11zm0 3zm-1 1zm4-1zm7 1zm-10 4zm0 10zm-9 2zm-7 1zm-1-3zm-3-1zm-4-1zm-1-3zm0-1zm-5 1zm-4 0zm-2 6zm-7-1zm-4-1zm-3-2zm-1-1zm0-4zm-4 1zm-9 1zm-1-3zm-2 9zm-3 3zm-5 0zm-1-3zm0 7zm-2-1zm-8-1zm-7-4zm-8 0zm2 3zm-2 13zm1 5zm0 1zm4 0zm2 0zm-4 2zm9 0zm1 4zm3 1zm3-4zm3 2zm2 1zm1-2zm0 0zm-2 5zm-3 5zm7 0zm4 0zm3-7zm1 0zm4 4zm-1 7zm3 2zm9-7zm-1-2zm5-5zm0 0zm-3-3zm-4-4zm-3 3zm-2-2zm0-2zm1-2zm8-3zm-2-2zm4-6zm-9-2zm13-14zm3-9zm-9 2zm1-8zm0-14zm-5-12zm-5-2zm2-4zm-10 1zm-3 6zm-6 6zm-6 1zm1-5zm-1 16zm6 0zm1-2zm5 1zm1 4zm-9 5zm-11-5zm-6 4zm4 6zm2 13zm-18-3zm-3-9zm-5 2zm-3 2zm-2-1zm-1-4zm0-1zm-9 0zm-1 0zm3 4zm1 5zm1 2zm5-2zm-1-17zm-1 0zm2-2zm4 1zm1 3zm4-3zm1 0zm0 0zm-1-4zm0-3zm-2-1zm-3 1zm1-5zm-3 0zm-5 1zm-4 4zm-1 0zm-1 0zm-3-3zm-1-4zm3-1zm11-2zm8 4zm9 7zm4 0zm4-22zm-9 0zm14-6zm3 0zm5-6zm2 1zm0-4zm16 3zm4 2zm13 4zm0 1zm16 4zm-3 8zm18 2zm0 3zm3 3zm-6 2zm1 3zm24 0zm7-2zm-12-9zm-15-13zm-3-8zm5-2zm3-3zm-12-14zm-4-2zm-8 1zm1-6zm-7-1zm0-3zm4 20zm5-3zm-38-2zm-4-14zm2-3zm1-5zm3-3zm2-3zm-1-4zm0-1zm1-2zm4-1zm6 0zm2-2zm6-1zm15 1zm-43 1zm2 2zm-3 2zm-1-8zm-6-1zm-5-8zm1-4zm-8-1zm-3-3zm5-3zm-3 12zm-4 7zm-4 0zm1 4zm-1 4zm-1 1zm-2 2zm-1-14zm-6 3zm1 1zm-7 1zm-4 0zm-7 1zm0-4zm-4 2zm-4-1zm3 10zm1-1zm2 3zm-4 24zm6 6zm3 8zm-15 28zm-1 9zm1 1zm1 1zm-3 0zm0 8zm5 0zm1 5zm0 0zm3-8zm2 0zm3 4zm-8-7zm-17-3zm0-4zm-2 1zm0-5zm2 1zm1-3zm2-1zm3-2zm1-1zm-12 3zm0 0zm-1-1zm-2 0zm1 4zm0 1zm-7 2zm1 4zm8 3zm3 7zm7 2zm-2 8zm2 3zm0 2zm-5 1zm-6-5zm14-1zm6 8zm2-2zm-2 44zm3 9zm2 3zm-3 2zm0 6zm8-2zm2-3zm1-1zm2-9zm1-1zm2 2zm5 5zm3 6zm-3 3zm-2 3zm6 4zm-1 3zm3 3zm1-1zm5-1zm3 0zm3 2zm0 2zm1 1zm3-3zm1 0zm-1-6zm-2 2zm1-5zm-1-5zm-5-3zm0-1zm-7 0zm1-2zm2-3zm2-1zm1-2zm3 0zm-3-6zm7 0zm9 2zm-2 3zm-1 5zm-1 1zm3-1zm3 3zm1 7zm6-1zm1 2zm-1 1zm-1 5zm3 1zm2 3zm5 3zm2 1zm2-3zm3 2zm2 0zm1 4zm0 3zm2 0zm-7-1zm-3 2zm-2 0zm-1 2zm0 4zm-4-1zm-7 0zm0-3zm0-1zm-2 0zm-3-2zm-2 0zm0-2zm3 1zm1-1zm6 1zm6-3zm5-11zm4-3zm6 0zm3 6zm2 3zm9-2zm-3-6zm-2-2zm1-1zm1-7zm1 1zm3-13zm3-1zm4 1zm0-6zm6 0zm2 2zm1-4zm0-1zm4 2zm0 2zm-2 4zm-1 0zm8 0zm-2-10zm0-11zm-1-2zm-5-1zm2-2zm-1-2zm2-5zm-5-2zm-3 16zm5 2zm8-2zm3-6zm19-1zm-10-30zm1-2zm-29 44zm-6-2zm-1 0zm-2 2zm1 10zm4 9zm5 1zm-5 16zm14-1zm-7 12zm-14 4zm-11 9zm1 3zm3 4zm-11 0zm-1-5zm-6 5zm0 4zm-7-5zm-9 3zm-4 0zm-1-5zm-4 0zm1-2zm1-5zm5 1zm0 2zm-13-2zm-3 4zm-3 0zm-1-3zm-1-1zm-5 0zm-4-5zm1-3zm12-10zm-1-4zm14-2zm2 3zm0 4zm2 0zm-1 1zm2 1zm-5-3zm-6 13zm0 1zm1 14zm-9 1zm21 12zm5 0zm23-7zm-14-40zm-1-5zm-4 2zm-2-10zm5-21zm-12-1zm-3-3zm-27 14zm-3 1zm-40 0zm2-2zm8 12zm-13 35zm-13 11zm-4 4zm-4 3zm0 2zm-1 1zm-2-3zm-1 0zm-6 0zm0-2zm-2 5zm-3 3zm1 3zm3 0zm4 0zm1-2zm4 2zm4 1zm-1 5zm0 5zm1 1zm-9-1zm-2-2zm-1-1zm-7 4zm1 2zm-5 5zm-5-11zm-15 0zm-3 5zm1 3zm-2 1zm2 3zm1 3zm0 1zm1-1zm-2 2zm-3-2zm-1-1zm-1-1zm-2-1zm-4 0zm0 1zm1 1zm0 1zm-1 8zm2 2zm2 4zm2-1zm0-5zm6 3zm-2 7zm1 1zm2 3zm1 7zm2 4zm8 2zm-2-9zm10 5zm-7-19zm-8-10zm1-23zm1-3zm7-8zm4-7zm3-1zm0-1zm2-2zm0-4zm5 0zm-1-1zm-1-8zm7 5zm4 1zm-1 6zm6-2zm4 3zm1 15zm2 1zm3-4zm1 0zm0-3zm-11-22zm-36 1zm2 4zm-15-6zm-7 18zm-2 0zm-2 8zm-2 6zm-5-2zm1 9zm1 4zm1-1zm1-1zm0 6zm-3 2zm5 3zm1 1zm5-3zm-3 16zm-1 1zm-1 2zm1 5zm4 0zm3 0zm-13 1zm-2-5zm-1-4zm-4-2zm-1-1zm1-3zm-3-2zm-3 0zm1 3zm-3 3zm2 5zm1 0zm-1 3zm2 2zm-1 3zm0 5zm-6 0zm0-3zm0-5zm1 0zm0-2zm-7 0zm0-4zm-7 0zm2-4zm3-4zm-1-2zm2 0zm0-2zm-8-5zm-1 10zm-7 2zm0-6zm-7 0zm0 4zm-3 0zm4 3zm1 9zm-4 0zm7-1zm3 2zm3 1zm-1 5zm-3 4zm-3 1zm-5-4zm1-1zm-9 0zm5 7zm-1 2zm11 9zm3 8zm5-15zm12 2zm1-7zm4 1zm2-1zm9 4zm2 0zm0-7zm0-2zm7 0zm2 3zm1 0zm1 2zm0 2zm9 10zm-26-2zm3-23zm-1-6zm12-3zm-17-13zm-2 0zm0-7zm-9 0zm2-12zm1-5zm1-2zm1 0zm1 9zm6-2zm1 5zm0 2zm0-25zm-15 7zm-6-2zm-1 7zm-11 0zm-1 4zm-4-11zm5-4zm-10 0zm-3 0zm-4 2zm3 7zm1-1zm-4 14zm-7 2zm0 2zm-7 1zm1-4zm-6 1zm-4-2zm1 7zm-2 1zm-9 8zm2 28zm26-8zm7-9zm1-7zm-4-3zm0-1zm15-1zm1-1zm-2-6zm0-2zm12-1zm-1-4zm-1 30zm13 8zm1 4zm-43-48zm-5-6zm-2-8zm-5 15zm13-43zm41-34zm1-3zm6-1zm-2 5zm8 1zm12 1zm12-6zm3-1zm13-6zm10 0zm4-5zm0-1zm5-3zm1-3zm1 1zm27-2zm-6 18zm9-79zm1 0zm4 0zm-1 1zm3 3zm-33 1zm-11-21zm0-3zm2-3zm0-1zm-3-1zm-1-3zm1-4zm-1-1zm-1-4zm6 6zm1 0zm-11 2zm-1 0zm1 3zm0 5zm1-1zm2 5zm-1 3zm0 1zm-11 2zm-3 0zm-4-4zm1-1zm0-2zm3-6zm0-1zm2 2zm2-1zm-1 3zm0-9zm3 1zm1-4zm-17-3zm-4 0zm1-3zm-2-1zm21 33zm-2 4zm-34 7zm-26 24zm0 8zm55 112zm-1 5zm46 39zm1-1zm15-237zm70-5zm3 2zm2-1zm1-2zm2-1zm-8-11zm21 19zm9-37zm69 42zm-2 7z"/>
<path stroke="#d2e11b" d="M46 3zm5 10zm-13 4zm0 6zm-2 7zm33-3zm14 5zm0 14zm0 2zm-5-1zm0 5zm-8-1zm0 6zm5 3zm7 1zm1 3zm3 3zm0 1zm-2 3zm3 1zm0 0zm0 4zm0 0zm-1 3zm3 0zm7 0zm2-2zm2 0zm1 1zm0 3zm-1 0zm0 3zm1-1zm-1 4zm-1 0zm-4 1zm-5 0zm-3-1zm-7 3zm-4-4zm-4-1zm-1-3zm2-1zm1-4zm6 0zm1 0zm0-4zm-1-6zm-2 0zm-7-1zm-3 0zm-1 0zm-2 1zm-1-3zm-7-1zm-3 1zm0-7zm-3 1zm12-3zm1 18zm4-1zm0 3zm1 0zm1-4zm-12 4zm-4 4zm-2 2zm-3 1zm-2-2zm0 0zm0 0zm3-2zm0-1zm-4-5zm-10 3zm-2 1zm-1 6zm-4-2zm-2-3zm-7-1zm3-10zm-3-3zm12 7zm-4 16zm0 2zm-2-3zm-2 10zm0 1zm-3 0zm0-2zm-1 0zm-5 0zm14 3zm-2 2zm2 3zm0 3zm2 0zm1-1zm5-1zm0-2zm1-3zm0-1zm0-5zm1 0zm0-1zm-2-3zm7 0zm1-1zm0 7zm6 0zm6 1zm0 2zm1 1zm1 0zm-4 0zm3 3zm4 2zm2-7zm1 0zm1-3zm-6 0zm-4-2zm1-4zm0-2zm-2 1zm7-4zm2 6zm9 8zm2 0zm10 1zm0 3zm1 2zm-3 0zm-3 1zm-1 3zm-2 1zm0 2zm-1 2zm-3 0zm0 0zm0-4zm-4 1zm1 2zm0 7zm-3-2zm-2-1zm-2-2zm2 9zm-3 2zm1 1zm-5 3zm-3 2zm-2 4zm4 2zm-1 2zm0 5zm0 0zm-3 0zm0 3zm2 2zm-1 2zm2 1zm-6-1zm-4 0zm-1 1zm0-2zm3-1zm1 9zm1 2zm0 2zm6 0zm2 3zm1 1zm0-2zm-1 3zm3 1zm2-5zm9-1zm3-2zm6 0zm3 0zm2 0zm0 3zm-3 0zm-4 1zm0-8zm-1-2zm0 0zm4 2zm5 1zm4 0zm2 0zm0 3zm0 4zm-3 2zm-2-1zm-1 7zm0 2zm2 0zm0 6zm-4 0zm-1 5zm2 8zm6 0zm5 0zm-1 1zm0 2zm3-2zm5 1zm2-1zm0 6zm-3-2zm0 4zm-6-1zm-3 3zm-3 3zm-7-5zm-1-5zm-3 0zm1 2zm-3-5zm0 0zm2-2zm-6-7zm-1 0zm1-2zm-2-2zm-3-2zm1-3zm4 0zm2-1zm5 0zm1-2zm-11 0zm0 13zm-4-1zm-1 2zm-2 2zm-1-4zm-2-3zm-3 0zm0 0zm1-3zm1-1zm-4-2zm-6 5zm-4 0zm-2 0zm0 1zm-1 2zm2 4zm-4-13zm-1-4zm-1-4zm-1 1zm-3 2zm-3 3zm-1-14zm-4 1zm1-3zm-4 1zm2-10zm1-1zm2-1zm1-3zm2 1zm3 2zm2 1zm2-3zm-4-3zm-7 1zm-4-1zm-1 6zm-1 0zm-2-10zm6-3zm4 0zm-2-3zm-3-6zm1-2zm-3 1zm0-3zm-3 3zm1 4zm1 0zm-9 6zm0 1zm15-17zm5 2zm1 0zm4 0zm-1-3zm2 0zm2-3zm0-2zm0-1zm-2 1zm-4-1zm-7-1zm-7-1zm1 3zm13 11zm10 1zm1 1zm4 0zm-1 5zm3-10zm1-2zm-1-4zm-3-2zm6-2zm-15-4zm0 0zm1-1zm1-2zm-1-1zm-7-7zm-1 0zm9-12zm37-1zm15-8zm-2-7zm-1-1zm5-2zm-2-3zm-4-2zm1-3zm-5 0zm-1 1zm12 1zm6-2zm1-3zm0 0zm0-4zm-1-3zm-1-1zm3-1zm1 2zm3-1zm0 2zm-1-4zm0-4zm0 0zm2-4zm5-4zm11 4zm2-7zm7 3zm0 5zm7 1zm-3 4zm0 11zm-3 4zm-3 1zm-4 0zm-3-1zm-1 0zm-4-2zm-3 0zm-3 4zm5 3zm-2 4zm-2 1zm-1 5zm-2 1zm-3 2zm0 4zm-2 4zm0 1zm-4 0zm0 5zm-3 5zm-4 1zm5 4zm0 3zm0 2zm-1 1zm-3 0zm0 0zm-6 3zm-2 2zm-5 5zm1 4zm4 3zm4 2zm-2 3zm0 1zm0 5zm0 0zm3-2zm3 1zm1-2zm2 0zm2 1zm1-3zm4 1zm1 1zm-1 3zm1 3zm2 5zm3 1zm2-1zm6-3zm4 2zm0 3zm5 3zm4 2zm-1 2zm4 1zm0 0zm0 3zm2-1zm1 1zm0 5zm4 1zm1-6zm1-5zm2-2zm0-4zm0-4zm4-1zm3 2zm-1 2zm3 3zm0 0zm4-2zm2-2zm-1-4zm0-2zm1 1zm1-2zm-1-3zm-1-2zm-3 2zm0 5zm-4-3zm-1 1zm-2-3zm0 0zm-2 0zm-1-4zm-3 1zm-2-5zm-3-5zm0-3zm-2-4zm-2 0zm0-4zm1-1zm2-5zm3 0zm0-3zm2-7zm-4 0zm0-3zm1-1zm1-1zm-1-1zm-1-1zm3 0zm2-3zm-1-4zm3 0zm-7 0zm-1 1zm0 0zm-2 3zm0 3zm0 2zm2 1zm-5 6zm-2 1zm2 8zm-9 0zm0 2zm-1 9zm4-1zm1-1zm-2 4zm-1 4zm5-1zm-1 8zm-2 0zm-1-2zm-5 4zm1 3zm0 3zm-4-8zm1-9zm-5 2zm-7 0zm-2 0zm-5 1zm-2-2zm-2 3zm-2 0zm-1-1zm6 5zm3-1zm-1-15zm2-1zm4-1zm4-1zm3 1zm1 1zm0 2zm-2 2zm-1-1zm-1 2zm-5-2zm-3-8zm10-2zm3-7zm3 0zm0-8zm-2-1zm4-3zm2-1zm0 0zm4 2zm0 3zm-2 0zm1 1zm5-10zm-2-2zm1-2zm-3-4zm-4-1zm0-3zm1 1zm-6 5zm-2 0zm3 5zm-6 2zm-10-1zm-3 0zm3-4zm3-7zm1-4zm-6 0zm-6-12zm0-3zm20 1zm10-2zm0-2zm3 5zm2 2zm13-1zm4-1zm0 6zm6 1zm1-2zm-2 5zm1 2zm2 0zm-6 2zm-1 1zm-6 0zm-2 2zm-1 2zm0 5zm13 1zm-1 1zm3 1zm0 3zm3 0zm2 0zm-1-2zm1-1zm-3-2zm-1-1zm-2-1zm-1-4zm8 4zm8 0zm2 4zm5 0zm2-3zm0-4zm-4 0zm1-5zm0-9zm2-7zm2-1zm2 0zm0 1zm3 0zm-2-3zm-2-1zm-2-1zm-3-1zm-2-3zm4-3zm7 5zm4-3zm4 1zm-1 7zm2 1zm2-2zm-5 5zm1 4zm0 1zm1 6zm-1 2zm-5-1zm10 3zm1 4zm2 2zm-4 0zm-1 3zm-3 3zm0 5zm1 3zm2-1zm-4 3zm0 0zm-1-1zm0 2zm-1 2zm-7 0zm3-4zm1-1zm-8-4zm-2 2zm-4 0zm-3-3zm-3-2zm2 12zm0 2zm0 0zm2-2zm2 1zm5 4zm0 9zm-2 0zm0 3zm-3 4zm0 2zm-4 3zm-1 6zm-3 2zm5 1zm-1 8zm1 5zm1 4zm0 1zm-2 3zm3 2zm2 0zm0-3zm2-4zm4-2zm4 1zm0 2zm2 0zm2 1zm3 0zm1 0zm-2-1zm0-1zm-1-6zm4 0zm0 1zm6-1zm1-3zm1 5zm8 0zm0 3zm3 2zm1 3zm-3 1zm0 2zm-2 2zm-6 0zm0 1zm0-4zm-1-2zm-5 1zm-3 2zm-1 3zm-2 2zm-2 1zm-1-3zm0-4zm-4 1zm-2 1zm2 3zm-2 9zm-5 0zm2 4zm1 4zm-3 2zm0 10zm6 0zm3-4zm3 2zm4 0zm0 1zm0 4zm2 0zm-3 4zm-4 2zm-3 2zm-1 5zm5-1zm13-8zm16-1zm-5-7zm-3-2zm2-3zm1-1zm4-2zm0-6zm2 1zm2-4zm8-2zm-1-2zm2-3zm1 0zm5 0zm1-5zm-1-4zm-10 1zm-1 1zm-2 0zm3-4zm-4-2zm-3 2zm-1 10zm-5-2zm-4 10zm-3 7zm-2 2zm-12 0zm-1 0zm0 3zm0-9zm-3-1zm-2 3zm8-6zm1-2zm-3-2zm0-2zm4 8zm-23-7zm-2-5zm-4 0zm-4 0zm-3 2zm3 3zm-7 2zm0 5zm-2 5zm-3 2zm-5 0zm1 3zm4 3zm3 0zm-2 4zm-2-1zm-3 5zm-2 3zm-4-1zm0 7zm-1 0zm-6-1zm-2-1zm-1 7zm-1 2zm-4 0zm-1-5zm-7-2zm3-6zm-1-3zm-1 0zm-5 1zm4-6zm2 0zm0-8zm2-2zm-2-2zm0-6zm0-3zm5-2zm5-2zm4 0zm-3 7zm-1 2zm1 6zm0 2zm2 5zm-3 5zm0 0zm2 2zm-4 0zm-2-2zm-10-7zm-4 2zm-2 0zm-6 3zm0 2zm-1-8zm1-7zm-1-4zm-2-1zm4-2zm2-6zm0-4zm-4-1zm-2 0zm-1-2zm-3 1zm0-4zm1-2zm-3 1zm-3 2zm-5 1zm-4-1zm-3 0zm-2-2zm-2 4zm-8 2zm-3 0zm1 1zm4 1zm0 2zm1-12zm1-5zm0-2zm2 1zm1-2zm1-3zm-1-8zm-3 2zm8-2zm1-4zm0 17zm-1 3zm5 14zm1 0zm2-1zm2 5zm1 4zm6-3zm5-5zm8 1zm1 3zm3 0zm1-3zm1-3zm-3 16zm-17 4zm-2 0zm1 6zm3 12zm14 14zm3-2zm10 10zm-1 4zm5 6zm-3 12zm-6 9zm3 7zm-2 2zm-3-1zm-5 4zm-4 4zm0 2zm2 2zm3-1zm6-1zm2 6zm-4 0zm0 4zm0 3zm-4 2zm0 3zm-1-1zm-3 1zm-2-2zm-1 0zm-1-3zm-1 0zm2-1zm0-3zm3-1zm-1 3zm4-1zm1 1zm2 11zm-2 2zm2 4zm3 1zm-5 2zm-8 0zm0-5zm1 0zm1 1zm-6-4zm-2 1zm-2 6zm2 3zm2 1zm-3 3zm1 6zm4 5zm-7 1zm15 0zm-2-4zm9 0zm0-4zm0-3zm-6 0zm17 0zm-3-4zm5-4zm3-1zm1 1zm2-2zm3-1zm1 0zm0 0zm0 2zm0 1zm0 1zm0-9zm4-1zm-2-3zm-1-5zm2-3zm8 5zm-1 4zm-2 0zm4 2zm0 1zm3-1zm-6 5zm-2 0zm2 6zm7 5zm6-5zm11 12zm-16 7zm-12-5zm-3 1zm0-3zm-2 4zm-8 0zm-6-2zm0 0zm-1-2zm-2-1zm-1 4zm-3 1zm18-7zm-2-5zm0-12zm-5 1zm-1-4zm-2 1zm-2-1zm-2-2zm1-3zm-5 3zm12-1zm1-4zm-6-7zm0-6zm0-5zm-2-3zm8 0zm-1-5zm0 0zm-1-3zm8 4zm0 8zm11-1zm2 0zm2 3zm2 6zm8 1zm2-6zm1 1zm0 0zm-3-8zm3-5zm0-1zm4-3zm-3-4zm-6-3zm-5-4zm-4 1zm-1 4zm-3 0zm3 5zm2-1zm0-1zm-12 0zm3-7zm-2-3zm0-14zm-1-14zm-11 4zm32 1zm0-13zm-2 1zm-3 3zm-4-2zm1-7zm1-1zm3-8zm0-8zm3-1zm4-2zm0-2zm-10 7zm-16-5zm-4 1zm-2-2zm8-4zm-2-25zm-5 0zm-1 3zm1-11zm0-4zm1 1zm8 6zm13-6zm0-7zm4-1zm1 0zm0-6zm0-5zm4 1zm0-3zm-6-3zm-3-3zm1-5zm1 0zm5-2zm2 0zm1 4zm20-1zm5-1zm4-4zm3-2zm6 5zm1 5zm0 1zm0 4zm2 2zm1 1zm-4 1zm-3-2zm-3 3zm1 4zm4 2zm0 0zm3 1zm2 2zm1 0zm2-1zm2 0zm2-2zm-4 0zm0 4zm7-2zm3 4zm2 0zm2 0zm-3 2zm-1 7zm3 0zm1 2zm2 0zm-2 4zm-11 0zm3-6zm-9 0zm-3-6zm-2 2zm-2-5zm-2-1zm-8 2zm-3 0zm-2-1zm-4 0zm0 1zm-2-2zm0-6zm3-2zm0-3zm-2 0zm5-2zm5-1zm0-3zm-2 0zm6 2zm-1 2zm-1 5zm-3 0zm0-1zm6-11zm5-2zm10-1zm2 1zm4-1zm-1-3zm-3-4zm-1-3zm2-2zm-5-1zm2-4zm2-1zm1-4zm0-3zm-1 0zm-4-1zm-5 1zm6 5zm7-2zm2-8zm1-7zm2-5zm-4-1zm1-2zm5-1zm2 2zm2-3zm-3-4zm0-5zm-1 0zm-2 0zm-6-1zm-5 0zm-1-3zm4-2zm4-1zm-6-3zm-1-2zm0-3zm0-3zm-4-1zm12 3zm16 0zm-1-5zm-3-2zm9 3zm6-1zm4 2zm0-7zm11 1zm3 0zm2 8zm-6 3zm-1 5zm-8 1zm0 6zm-9 0zm-3 0zm-3-3zm0-1zm-4-2zm9-1zm4-1zm-2 16zm5 0zm5 5zm6 3zm0-10zm7 7zm10 3zm-1-8zm6-10zm4-2zm2 6zm15-3zm1-14zm8-9zm2-2zm-1-4zm7 1zm-1 10zm2 18zm-1 6zm4 6zm11 3zm-23 5zm-6 22zm-13 2zm-27-2zm-9 10zm-7 1zm-2 4zm-3 7zm-2 10zm0 1zm0 8zm-10-3zm0 10zm3 0zm16 7zm-3 6zm-1 4zm8-1zm4-1zm-2 13zm-4 6zm-5 0zm-1-5zm-2 9zm1 9zm1 1zm1 6zm-8 2zm-8 3zm-4-3zm-1-4zm-5-3zm0-3zm3-6zm4 3zm5-2zm3 4zm4 0zm1 1zm-2-13zm-1 34zm-4-1zm16 2zm3 0zm4 0zm11 2zm2 1zm3 0zm-2-8zm-7-1zm-10-5zm-1 20zm4 14zm10-2zm6-6zm21-2zm10 5zm-2 4zm-2 6zm-3 3zm0 0zm-2 4zm3 2zm4-2zm2-1zm1-3zm8-2zm0 0zm-2-3zm8 0zm1 10zm4-1zm-14 3zm-8 6zm-16 6zm-3-12zm-4 2zm-2-3zm9-8zm-3-34zm-5-18zm-4 1zm-3-3zm-7 2zm31 0zm15-9zm14-6zm29 4zm-2 22zm-8 9zm-24 1zm10 11zm13 14zm4-82zm10 2zm4 3zm9-1zm6 3zm-2 3zm4 0zm8-6zm1-7zm-10-1zm-9 1zm-6-2zm8-13zm7-3zm-2-13zm-10-1zm-1 5zm-20 14zm-35-15zm-27-1zm-19 1zm-5-1zm-5 2zm-23-1zm-4-2zm-1-1zm0-1zm-5 2zm-2-1zm-3 0zm-1 4zm-1 2zm9-1zm9-10zm3 1zm3-4zm-11-3zm1-2zm-1-10zm-2 0zm-2 4zm17-3zm2-3zm1 0zm4 0zm-9-3zm-3 0zm0-2zm1-3zm-4 2zm0-10zm-4 0zm-1-1zm6-5zm1 1zm1-9zm2 2zm2-4zm4 9zm4 5zm0 5zm-4 0zm-29-5zm-5 0zm-2-2zm2-4zm-4-5zm9-2zm-13-13zm-3-1zm0-3zm-9 1zm-7-9zm-10 4zm-6 5zm-1 6zm-9-2zm-3 0zm2-3zm18 11zm-1 4zm-1 1zm-7 5zm5 6zm-4 6zm20 7zm-33 11zm2 22zm4 6zm-13-3zm-33-14zm0-1zm0-3zm1-1zm-2-4zm-51 55zm-16 21zm-7 1zm23 30zm5 5zm-11 7zm24 0zm2 14zm-5 4zm2 9zm2 1zm2 1zm4-1zm3-2zm-2 15zm1 4zm-5-1zm-1 9zm-3 1zm8 1zm5 2zm0 3zm-2 4zm1 6zm-2 4zm-2 0zm-4 1zm1 6zm5 1zm3-2zm3-6zm9 0zm-2-6zm-4-1zm6-6zm-1-3zm0-12zm-7-4zm0-2zm-2 11zm0 2zm-9 15zm-8-2zm0 5zm-10 0zm-2 3zm3 2zm1 9zm3 1zm2-5zm13 9zm5-1zm-10 9zm-14-33zm-1-1zm-1 1zm-2 2zm-6 1zm-4 4zm-1 5zm-3-8zm2-15zm3 2zm4-4zm2 7zm4-1zm5 1zm-3-8zm-3-5zm7-2zm2 0zm-24-5zm-1-4zm6-8zm-16 3zm8 20zm-39-34zm13-14zm140 10zm7 5zm3 0zm1-1zm1 3zm3 0zm2 2zm1 0zm5 0zm1 2zm0 7zm1 2zm3-4zm5 2zm2 4zm3 1zm-2 3zm1 2zm-5-2zm-2-3zm-2 4zm-1 8zm6 3zm12-1zm3-6zm9-10zm-17-6zm-4-9zm-2 2zm-2 1zm0 1zm-1-1zm0-5zm-11 0zm5-6zm-9 14zm-1 6zm-1 16zm8-4zm-25 4zm-9-1zm29-120zm4 2zm4-1zm2 1zm81 0zm15 2zm1-113zm-10-9zm63 14zm24 20zm2 29zm27 20zm3-76zm-330-12z"/>
<path stroke="#d2e11b" d="M86 10zm-1 7zm0 23zm-2 1zm-2 5zm1 4zm6 0zm0 4zm6 2zm6 1zm4 1zm-5 4zm-3 1zm-11-3zm1 7zm-5 0zm0 0zm-6-5zm-5 1zm1-5zm0-2zm-4 3zm-6-5zm-2 11zm-3-2zm-1 1zm2 7zm-5-1zm-4-2zm-3 6zm-3 4zm-3 1zm1-10zm13 6zm0 2zm1 0zm0 0zm0 3zm-5 2zm2 4zm-2 2zm5 1zm1 5zm-3 5zm-4 4zm-4 2zm-2 5zm3 5zm-1 6zm3 0zm4 3zm3 2zm-1-7zm-1 0zm2-3zm0-1zm-1-7zm12-3zm1 1zm0 7zm-4 4zm1 7zm-1 6zm5 4zm5-3zm8 1zm2-2zm3 1zm2-4zm-1-6zm2-4zm3 0zm-1-2zm0-8zm1-1zm0-1zm3 1zm0 2zm2-1zm0-6zm2-4zm-5-1zm0-1zm0-2zm1-3zm7-1zm7 0zm-1 4zm-2 3zm2 8zm3 7zm2 0zm1-2zm0 0zm5 0zm3 0zm1 3zm-1 3zm1 1zm1 0zm-3 1zm0 5zm-5 1zm-3-1zm-1-6zm0-1zm17 4zm2 3zm3 6zm1 4zm4 1zm5-1zm2 5zm0 5zm-3 0zm-3 2zm-4 1zm1 5zm-3 0zm-3 0zm-5 1zm0-4zm-5-2zm-2 4zm-3 3zm0 0zm-8-5zm0-1zm-5 5zm0 7zm0 3zm-4-4zm-13-4zm0 0zm0-3zm3 0zm-1-5zm-6 1zm2-5zm-6 0zm-2 2zm-1-4zm-14-1zm-4 3zm-6-5zm-8-5zm-1 0zm2-2zm-2-4zm-1 0zm-3 4zm-1 0zm-2-3zm-1 6zm-7 1zm1 2zm0 4zm-1 1zm2 2zm-2 4zm3 2zm4-5zm6 0zm0-3zm0-2zm-3 13zm5 5zm-6 8zm1 7zm2 2zm9 0zm1 7zm-7 3zm21 0zm0 3zm4 5zm7-5zm3-1zm-2-6zm-2 2zm-10-5zm-3-12zm8 0zm2-10zm1-2zm1 1zm-10-3zm19 10zm-1 2zm-1 3zm4-1zm2 0zm-1 6zm5-2zm-3 10zm0 6zm9-1zm1-7zm3-2zm9-5zm6 2zm4-6zm3 1zm5-11zm14 0zm1-2zm0-2zm6-3zm1-4zm2 1zm1 1zm1-8zm-2-3zm1-3zm7-3zm2 6zm0 1zm-3 2zm11 1zm4 3zm-1 3zm3 4zm0 0zm5-3zm5 3zm-1 7zm0 8zm2-1zm3-3zm8-1zm1-2zm-3-1zm3-6zm7-2zm0-6zm-5 1zm-5-2zm-4 0zm2 3zm0 0zm-1-7zm3-6zm0-4zm-2 0zm3 1zm-7 1zm-5-1zm-3-6zm1-2zm4-7zm0 0zm-7-4zm-3-3zm0-6zm3-4zm4-2zm1-2zm4 1zm1-6zm2-1zm-6 0zm-1 1zm2-3zm-6 4zm-6 3zm-2-5zm3-5zm-7 0zm-1-1zm-6-4zm-6-1zm-1 2zm-2-4zm-4 1zm0 0zm-4 1zm4 4zm3 5zm-4 3zm-1 0zm-3-1zm-10 0zm0 9zm4 1zm0 10zm3 0zm1-1zm2-4zm2 0zm4-2zm-1-4zm2 8zm7 0zm5 4zm6 0zm-1 8zm-3-2zm-5-1zm-3 1zm-6-3zm0 10zm4 3zm2 0zm2-2zm9 5zm0 2zm-1 5zm-1 11zm0 1zm-2 5zm0 3zm-1 6zm-2 3zm3 2zm-9 2zm1 2zm-1-8zm1-2zm-5-2zm-4 3zm1 21zm2-2zm1 1zm5 3zm2 4zm0 2zm-2 9zm11-4zm3-9zm1-4zm0-7zm-1 1zm-3 1zm6-7zm0-1zm4 0zm0 4zm2-2zm4-1zm3 1zm-2 11zm-4-2zm5 13zm10-3zm3-11zm4-2zm2 6zm2 1zm1-13zm1-1zm12 2zm2 2zm5 1zm1 0zm1 0zm0-2zm3 5zm-3 7zm-5 4zm-7-11zm4-12zm2 2zm3-3zm0-2zm4-6zm1-10zm3 0zm0-2zm1 4zm4-1zm-1-6zm7 4zm2 0zm1-3zm8 2zm10 8zm3 6zm2 6zm-8-2zm8-15zm1-1zm6-12zm-2-4zm10 9zm-3-22zm-16-1zm-9 0zm-2-3zm1-8zm-6 0zm0 3zm-6 1zm-5 0zm-3-4zm-7-3zm-9-7zm1-5zm-6 0zm0-8zm0-4zm8-2zm3 2zm4 1zm3 1zm1-2zm-3 4zm-7 2zm1-14zm4-1zm-7-5zm-1-1zm-1 0zm-1-5zm-3-2zm-2 4zm-7 2zm-3-5zm1-7zm0-1zm-4 0zm-4 1zm-4 3zm-4 3zm-1 5zm-1 0zm0 1zm-1 6zm-6 0zm-1-4zm-2 0zm0-4zm-3 0zm-2-3zm-4 4zm-8-1zm-1-1zm2 7zm0 0zm-6 6zm-7-4zm-9-1zm0-1zm-1-4zm-9 1zm-2 0zm0-1zm-4 4zm-3-2zm-2 1zm1-3zm0-1zm1 0zm1-4zm0-4zm2 0zm3 0zm3 3zm1 14zm2-1zm-6 8zm-5 0zm-2-6zm-10 2zm-2-1zm-1-1zm-2 3zm4 5zm-2 3zm7 2zm-1 2zm4-3zm-2-4zm8 7zm1 1zm1 3zm5-9zm1 19zm-3 4zm-8-5zm-28 0zm0-2zm-7 2zm-2-4zm-4-1zm-1 2zm-3-5zm-2-2zm-5-2zm1-5zm-3 0zm2-3zm-1-3zm-2-1zm-1 2zm9 3zm7-2zm5 3zm-1 8zm-6-3zm-9 7zm0 1zm-3 6zm-3 0zm-1-9zm-16-1zm0 4zm-4-3zm-3-2zm0 9zm3 1zm-1 5zm-4-1zm-5 2zm-4-3zm-3 5zm3 13zm5-2zm1-2zm-16 5zm0 7zm-3 12zm-2 2zm8 0zm3 9zm-3 3zm6 2zm2 10zm-9-2zm3 14zm-15-29zm-3-32zm69 1zm1 2zm1-1zm1-2zm4 1zm-1-3zm0-5zm-1 0zm6-2zm-9-3zm0-2zm-3 19zm0 2zm10-1zm12 3zm2 0zm-2 5zm5 4zm4 0zm0-3zm0 9zm24-2zm-1-2zm4 1zm0-2zm8 4zm-3-26zm21-20zm-1-5zm0-1zm3-1zm0 0zm7 4zm1 7zm23 3zm5-5zm4-5zm1-4zm-2-8zm-1-3zm7 0zm1-1zm4-1zm2-2zm-18-3zm3-6zm-16 9zm-3-3zm7 8zm2-29zm-7-1zm-3-10zm3-5zm-1-4zm-1-1zm-14 0zm0 9zm-4-3zm7 8zm4 0zm-1-2zm17 0zm7 0zm1-5zm-2-1zm-2-3zm13 3zm6 3zm2 5zm-2 2zm-5 0zm0-1zm14-1zm2 1zm3 0zm4-2zm1 0zm3 2zm7 2zm0-9zm0-7zm9 4zm0 8zm8-1zm3 3zm6-2zm0-2zm-5-11zm1-2zm3-4zm-5-14zm32 6zm5 18zm-8 10zm-4 8zm-4 3zm0 4zm-5-6zm0-3zm-13 5zm-5-3zm-12 5zm2 5zm-4 5zm2 12zm-2 3zm-3 13zm10 2zm1 1zm3-2zm4 4zm-5 4zm14-6zm5 3zm-12-30zm-28-12zm-2 0zm-5-2zm-2-1zm4-4zm-3-17zm0 0zm-2-3zm-1-6zm3-3zm5 3zm-13-6zm-5 3zm-4 5zm8 9zm3-2zm58-3zm37-2zm3 7zm17 10zm-4 8zm9-23zm27 33zm-8 15zm21 3zm4 24zm2 16zm-7 5zm-10 11zm13 10zm4 1zm2-6zm-10 25zm1 6zm-26 20zm-22 3zm-4-1zm3 13zm2 7zm-1 11zm6 2zm-4 8zm-19 4zm-15 1zm0-4zm4 15zm-3-33zm-5-3zm-1-1zm-4 0zm-2-8zm5-5zm-2-22zm4-12zm8 0zm-16-1zm25 10zm6 30zm2 7zm-15 0zm-24 14zm-11-7zm-4-3zm2-6zm-5 0zm-3-5zm14-16zm-25-3zm-2 2zm-3-3zm-4-4zm9-1zm3-7zm-13-6zm5-10zm3-1zm-22-6zm-1-6zm-1-8zm-4-2zm3-4zm1-3zm-1-1zm-5-10zm-2-2zm-5 1zm0-7zm3 0zm2-6zm0-5zm-8-4zm-8 14zm2 5zm3 4zm5 14zm7 17zm0 2zm-7 5zm-2 3zm-28 0zm1 2zm-2 2zm-40 11zm3 4zm-6 0zm-3 6zm-4 5zm-3-2zm-6 3zm-3 1zm0-5zm-2-3zm-9 9zm0 0zm-10 5zm-2-1zm2 11zm-5 8zm1 9zm-6 12zm-1 13zm0 4zm4-6zm4 0zm0-3zm9 0zm4-3zm11-2zm7-2zm3 18zm-2 5zm5 0zm0 4zm3 4zm0 5zm-6-4zm-2-1zm-2 0zm0 7zm-1 1zm4 1zm6 6zm5 7zm1 2zm1 3zm-1 2zm-2 3zm-4-2zm-6 1zm1 7zm-7-5zm-8-4zm-1-5zm1-1zm0-3zm-1-2zm5 0zm6 3zm2 0zm0 2zm-20 1zm1 3zm-4-7zm-3-5zm-6-1zm-2 2zm-1-11zm-4 0zm-1 1zm-3 3zm0 3zm-3 0zm1-4zm-1-8zm6-5zm6 1zm7 6zm4 0zm7 1zm2 2zm4 2zm-8 1zm1-11zm-1-2zm-1-1zm3-7zm4 10zm4 1zm3-3zm19-2zm3 1zm-1 4zm4 1zm1 0zm0-1zm0 3zm1-1zm3 3zm1 8zm4 1zm4 1zm4 0zm3-4zm-1-12zm8-3zm-10-10zm-5-1zm0-5zm3-5zm4 1zm2 1zm-1-5zm-4-8zm9-5zm-3-6zm10 2zm4 3zm1 4zm4-5zm6-1zm5 2zm2-3zm8-2zm15 0zm4 15zm-10-1zm-11 0zm-3 10zm4 4zm-9 3zm-5-1zm2-11zm1-1zm-9 0zm-1 0zm-35-2zm2-10zm-16-9zm-2-16zm5 0zm3-5zm0-5zm1-3zm-1-1zm6-3zm-2-2zm2 8zm0 4zm2-1zm-3 64zm-2 4zm-10-10zm8 32zm-1 4zm1 2zm-2 13zm12 3zm3-4zm2-3zm-4-1zm15 0zm21-23zm10-3zm1-1zm-1-2zm-64 48zm-24-9zm-29-12zm-2-5zm-11-6zm1-1zm-3 0zm-9-12zm-3-3zm0 0zm-3 2zm-3 3zm5-22zm1-15zm17-2zm2-1zm-1 8zm2 4zm3 0zm-2-25zm-3-7zm8-8zm3-1zm1 0zm-22 56zm-13-171zm3-29zm24-9zm4-1zm0 3zm0-11zm11 8zm12-4zm-3-6zm8-1zm0 3zm3-6zm13 2zm6 7zm6-3zm1 5zm2 0zm1 2zm5-1zm6 3zm-2 6zm4 5zm-14-24zm6-8zm8-9zm-35 26zm1 7zm-5 14zm-17 10zm-2-1zm3 7zm128 34zm7 6zm4 2zm14-2zm1-2zm-1 8zm-21 9zm94-14zm1-36zm22 69z"/>
<path stroke="#90d643" d="M57 10zm7-6zm-12 20zm2 19zm-2 12zm-1 8zm5 4zm2 5zm6-3zm5-2zm4 1zm3-2zm1-6zm-3-1zm-3 2zm-1-4zm6-2zm2-2zm4 0zm-1 5zm3 0zm1 0zm-2 4zm4 2zm1 1zm2 2zm1-8zm1-2zm-4-4zm11-2zm-1-4zm1-2zm2-3zm0-2zm3-1zm3 2zm2 2zm2-2zm4 1zm-1 4zm-2 0zm1 4zm3 2zm4 2zm0 1zm5 0zm-2-3zm-3-7zm3-7zm9-1zm5 2zm0-9zm4 1zm0-6zm8 5zm11-4zm8 0zm5 1zm3 0zm-1 4zm-1 1zm4 3zm0 5zm5 1zm-1 3zm5 3zm-5 6zm2 9zm-6-1zm2 4zm-5 1zm-3 5zm1 3zm-3 1zm-1 2zm-1 4zm-5-1zm0 9zm0 5zm3 0zm0-7zm9-5zm0-2zm7 2zm6 2zm-3 3zm-2 6zm-2 3zm3 6zm-1 4zm-2 0zm-2 0zm0 6zm-2 2zm2 7zm0 4zm2-1zm-6-2zm-1 1zm-2 3zm2 2zm-8 1zm1-3zm0-8zm-7 2zm1 4zm0 4zm1 3zm0 0zm-9 1zm-4 0zm-2 2zm-4 1zm0-3zm1-7zm-3 0zm-3 2zm0-6zm1-3zm-5 0zm0-9zm-5-6zm-3 0zm2-11zm-2-5zm-1-2zm1-5zm0-3zm-2-4zm-2-6zm10 0zm0-2zm2-6zm3 1zm-2-5zm-1-6zm-3-3zm15-1zm4 1zm1 3zm7 0zm0-3zm-5-2zm10-2zm3 1zm-3-6zm8 12zm-2 7zm-2 1zm2 3zm-13 3zm2 3zm-2 4zm-3 2zm-6 4zm-4 3zm-4 2zm-5-1zm-2-1zm3-3zm1-4zm-5 2zm1 13zm-11-6zm-2-4zm-7 4zm-2-1zm-3 2zm4 6zm3-2zm-3 8zm-8-1zm-3-1zm-3-1zm-2 5zm3 2zm3 1zm0 0zm1 1zm0 5zm11 0zm8 7zm-5 11zm-9 1zm-7 0zm-1-8zm6 1zm-12 3zm-3 4zm-2-2zm-4-3zm5-4zm-1-7zm-4 0zm0-3zm0-1zm2-1zm0-1zm5-4zm-8-2zm-3 0zm-1 4zm-2-1zm-2 0zm-2-3zm-2-5zm-4-5zm-1-9zm4-3zm11 3zm13 0zm7-4zm-1-2zm-2-6zm7 0zm-1-3zm5-2zm3 1zm0 9zm-2-37zm-11-1zm1 4zm-10 0zm1-5zm-7 11zm-12 1zm0 6zm0 2zm3-1zm-32-2zm-2 12zm-9 18zm-3 6zm-3-1zm-1 7zm5-2zm3 9zm6-4zm0-1zm4-2zm5 0zm-3 6zm-2 2zm1 7zm0 4zm-1 2zm0 2zm-3-5zm-1-6zm8 0zm0 5zm5 9zm6 0zm1-2zm2 0zm1-3zm3-5zm2-5zm-3-2zm-11-3zm8-15zm26 4zm-3 3zm-1 4zm-7 11zm-4 2zm6 7zm-7 6zm1 3zm1-1zm7 8zm0 5zm-1 0zm-4 4zm9 0zm3-6zm-1-3zm4 4zm4 2zm-1 6zm5 8zm8 1zm0-4zm2 1zm2-2zm-7 0zm-1 9zm-3 9zm0 5zm0 3zm0 8zm1 3zm-4 0zm-4 2zm-1 1zm-1 2zm1 3zm-2 2zm-3 1zm-5 3zm-2 3zm-1 3zm-8-5zm-8 0zm10-8zm0-3zm4-2zm-5-3zm-3-8zm-5 3zm-4-2zm-1-2zm-2-3zm-3 2zm-3-2zm-3 0zm0 8zm-1 0zm-3 2zm10-1zm2-2zm-3 6zm1-19zm2 1zm3-5zm2-2zm-2-2zm-3 1zm-2-5zm0-3zm6-2zm5-1zm0 6zm3 2zm1-4zm4 2zm7 3zm0 2zm4-6zm2 0zm-4-3zm0 18zm1-1zm-9-2zm-9-2zm1-3zm-1 11zm-16-10zm-2-1zm-4-4zm2-7zm0-5zm-5-4zm-3 6zm-3-2zm-1-8zm-4-3zm3-4zm0-1zm-2-3zm-1-4zm-4-2zm-2 8zm-2-1zm0 3zm0 3zm-3-1zm-3-2zm-2 7zm5 8zm2 1zm1 3zm2-1zm-1 6zm-4 3zm11 1zm3 0zm0 2zm1 2zm4-1zm-2-3zm-2-2zm-6 7zm1 8zm5 0zm7-5zm-16 8zm8 15zm55-4zm1-6zm-2 0zm0 0zm9 3zm9 1zm4 2zm2-4zm3-2zm5 1zm0 4zm-3 0zm0 4zm1 1zm10-3zm0 9zm-1 3zm0 4zm4-5zm0-19zm-1-2zm5 1zm2 0zm3 2zm2-3zm2-2zm-2-4zm-2-1zm-3-1zm1 3zm-5 0zm-8-4zm-2 0zm-3-10zm-1 0zm7-4zm3-2zm0-4zm3 2zm-1-6zm-2-1zm5-1zm2 2zm0 1zm1-4zm-5-8zm-1-5zm-7 8zm-2 5zm0 4zm-5 1zm-2-3zm-1 0zm-3 1zm0-4zm6 0zm2 2zm10 19zm3 0zm5 0zm5 5zm6 2zm1 3zm2 2zm4 1zm1 4zm4 0zm6 4zm9-1zm2 0zm0-7zm4-1zm1-7zm-6-5zm-4 7zm-2 2zm-4 0zm1 2zm-10-2zm-2-6zm2-4zm3 2zm2-5zm1-1zm1 1zm-5-8zm-7 7zm-7-1zm1-2zm5-21zm2-1zm1-7zm4 1zm1-4zm-10 0zm-1-1zm1-1zm-3-1zm0-8zm8 0zm2 0zm7 1zm7-2zm5 1zm11 6zm3-2zm8 0zm5 2zm1 3zm0 2zm-2-1zm7 1zm1 6zm-1 5zm2 2zm-4 1zm-2 1zm-1-2zm-5 0zm-2-5zm-3-1zm1-3zm-4 1zm2-5zm9-12zm1-12zm-3-1zm3-10zm0-5zm-2-4zm4-6zm1-2zm0-1zm-1-5zm0-5zm-5-1zm0-1zm10 0zm2-9zm3 1zm3 3zm3-7zm2-1zm2-8zm7 0zm0-3zm0-3zm-4 2zm7 5zm9 4zm-1 5zm3 1zm1 6zm5 4zm4-2zm6-1zm3-5zm-2-2zm2-5zm2 0zm6 4zm1 7zm2 7zm2 3zm-3 5zm-7-5zm2-4zm-10 1zm0 2zm-1 6zm-2 11zm0 1zm-8 1zm1-3zm-3-5zm-3 0zm-3-4zm-1 0zm-2 0zm-2-2zm3-2zm3 0zm-5-4zm-1 0zm13 0zm1-22zm4-1zm1-4zm-3-1zm0-8zm0-5zm-2-1zm-3-1zm15 0zm-1-5zm5 3zm4-4zm2 16zm-6 1zm-1-3zm-7 2zm0 8zm-15-4zm-2-5zm-26-1zm-7-1zm-3-1zm-1 7zm0 10zm-2 6zm6 0zm1-1zm3-3zm0-9zm2 1zm-16 4zm-5 0zm1 3zm0 1zm-5-1zm6 24zm-1 2zm-2 12zm0 2zm20 6zm1 10zm3 8zm-2 3zm10 0zm-1 2zm3 6zm6-3zm2 1zm1 3zm0 3zm-1 4zm5 3zm-4 6zm-5 0zm-5 2zm0-4zm2-4zm-5-3zm0-3zm-6 4zm3 16zm-1 2zm0 1zm0 2zm1 5zm3-2zm2 2zm7 3zm8-2zm0 7zm3 0zm9 0zm-1 3zm0 6zm3-1zm6-1zm0 5zm0 1zm2 3zm-3 9zm0 1zm0 7zm-1 0zm1 1zm-4 0zm-2 1zm0 8zm5-1zm8 5zm4 1zm2-7zm2 1zm6-4zm3-1zm-4-3zm2-3zm3-6zm4 0zm-8-6zm-5-5zm-6-6zm-1-12zm0-1zm2 0zm-7-4zm0-4zm-6 4zm3 6zm-4-15zm1-3zm-3-3zm-2 4zm-2 3zm-3 3zm-10-2zm-3 1zm4-7zm12-5zm9-4zm4 1zm3-5zm-3-6zm-4-2zm3-4zm-2-3zm2-5zm-7-1zm-4-6zm-2-1zm-2-6zm-2 0zm-1 1zm-1 2zm0-7zm5 1zm5-2zm0-1zm2 4zm8-3zm9-1zm3 10zm4-1zm-4 8zm7 4zm4-2zm1-14zm4 1zm-4-9zm7-2zm-1-2zm12-2zm3-8zm2 1zm-3-4zm0-8zm0-3zm6 5zm7 1zm2 4zm5-2zm6-3zm1-1zm1 1zm9-1zm3 0zm1 9zm-5-1zm10 3zm-2 10zm2 3zm10 0zm2 4zm-6 2zm0 2zm1 2zm-7 1zm2 6zm17 0zm7 1zm-5 6zm3 5zm5 0zm-2 13zm-4 2zm-1 0zm-1 5zm1 1zm3-1zm3 2zm2 1zm-3 8zm-3 0zm0-1zm-5 3zm-1 5zm-2 3zm-12 1zm0 2zm1 8zm2-2zm2 2zm-4 5zm-5-2zm0-1zm-4-1zm-2 3zm-1 4zm10 3zm-1 10zm7 1zm7 2zm1 2zm-11 5zm-3 5zm-4 0zm-4-2zm2 6zm-9-1zm0-2zm1 6zm4 4zm-10-1zm0 3zm-2 7zm-2 1zm0 0zm0 3zm2-1zm1 3zm-7-1zm-3 0zm0-7zm-2-6zm4-5zm1-8zm1-1zm-8 2zm-9 0zm-1-4zm1-8zm-3 0zm-2-4zm7-1zm0-3zm7 1zm0 4zm0 5zm-1 2zm-2-4zm-1 18zm-7 3zm0 9zm2 5zm5 1zm1-1zm-2-3zm-3 9zm-1 1zm-5 3zm2 2zm0 0zm-7 0zm1-3zm0 6zm-5-1zm-2 3zm-2-1zm0-7zm3-1zm1-4zm8 1zm1-4zm-1-9zm-4 3zm-4 0zm-9 2zm1-6zm-3-2zm-3-2zm-1-3zm8 1zm5-2zm-2-4zm8-5zm-9-21zm1-10zm-10-2zm-3-2zm-2-2zm8-1zm-3 12zm27-1zm6-2zm4 4zm3 1zm-6-17zm18 4zm1 1zm13-9zm5-6zm2-2zm1-1zm-2-1zm2-4zm-2-5zm-2-1zm-3-2zm-7-5zm-9 2zm-3 2zm-8 0zm3 5zm-11-14zm-2-5zm7-10zm-4-4zm19-1zm6-7zm8 20zm15 21zm2-1zm4-1zm23-7zm5 3zm-3-20zm-6-15zm-20-21zm-4 2zm-15-29zm-6 5zm-6 0zm1 3zm-5-8zm-12 0zm0-5zm0-4zm-2-1zm0-2zm-6 0zm2 6zm0 6zm9 7zm-2 3zm5-23zm2 1zm0-5zm3 3zm-17-6zm-7 5zm-11 3zm-2 8zm-2 0zm-2 0zm-2-5zm-5 3zm-6 0zm-2-3zm-1-2zm8-5zm2 0zm2-4zm4 2zm-5 23zm2 7zm-7-1zm14 4zm-1 7zm21 9zm0 1zm-4 4zm-21 40zm-5 3zm-10 3zm-2 5zm0 2zm-2-2zm-1 7zm-4-3zm-13-11zm-2-3zm-8-10zm-4-4zm-4 4zm-1-15zm4 2zm-10-1zm-2-2zm-2-4zm7 1zm2-6zm0-4zm-5 1zm0-7zm3 0zm6 2zm-13-8zm-4-2zm-5 1zm2 2zm3 32zm42-5zm2-1zm26 37zm-23 59zm-4 0zm2 3zm11 14zm-4 5zm-12 2zm27 11zm-3 10zm19 6zm3 4zm10-5zm1-10zm23-43zm31-22zm5-8zm2-4zm4 7zm4-16zm1 1zm-142 25zm0 2zm-11-1zm-6-4zm-1 0zm-9 3zm-3 3zm-1 0zm0 3zm-3-5zm0-5zm-4 4zm-10-2zm-2-1zm0-3zm0-3zm-3 5zm-1 1zm-1 7zm5 2zm-2 4zm-8 8zm0 6zm-1 4zm-11-3zm-2 0zm3-6zm-16 1zm-9 7zm-1 1zm3 5zm-4-21zm1-2zm-5 3zm-5-2zm-25-10zm-5-3zm-11 0zm-5-7zm10 29zm-2 8zm5 2zm-3 10zm-2 29zm6 10zm6 1zm0 15zm6 0zm4 8zm0 3zm1 5zm0 0zm7 0zm5-2zm6 1zm4 2zm1-7zm-2-8zm5 0zm0-4zm-1-2zm6 2zm2-1zm1 0zm1 0zm1 0zm-2-4zm-5-4zm-1 1zm-1-2zm-11 2zm-6 2zm-1 1zm3 3zm1 1zm-5 3zm-4 4zm0 5zm-13 2zm0 6zm-4-1zm0-1zm-3 1zm0 4zm0 1zm3 2zm6-1zm3-2zm1 3zm4 0zm-1 2zm-5 5zm2 4zm0 3zm0 1zm-1 10zm16 2zm10 1zm-6-9zm-1-7zm4 1zm6-2zm6-3zm3-6zm-4-7zm6-6zm0-4zm3-2zm0-2zm6-2zm-1-3zm2-4zm0 0zm-3-3zm-1-1zm0-5zm11-1zm3-5zm-2-3zm7-6zm-2-9zm-2-6zm-7-4zm-10 3zm4 7zm-35 0zm-1 2zm2 3zm4-10zm-11 0zm0 26zm-35 3zm-5 3zm-4 7zm0 1zm-6 4zm-7 0zm-2-2zm-4 0zm0 1zm-2 0zm2-4zm2-4zm3 0zm-1-2zm-7 2zm-4-2zm-3 6zm2 6zm7 5zm7 2zm0 9zm7-1zm0 2zm1 5zm10 5zm7 0zm9-2zm2 4zm0 0zm3 2zm-5-16zm-2 1zm-1 1zm-3-3zm4-3zm3-2zm-6-5zm-5 0zm1-10zm-9-17zm-4 0zm0-5zm2-1zm2-10zm-21 6zm-2 0zm3 2zm-5 2zm12 11zm1 1zm-26-2zm5 34zm11-2zm20-1zm3 3zm-1 18zm-2 8zm47-7zm-1-3zm6 4zm1-10zm-2-2zm6 0zm0-3zm23-6zm9-5zm9 2zm3 7zm3 7zm-13-6zm-1 1zm-4 7zm0 1zm4 9zm3 1zm-17 2zm20-37zm-5-7zm15 2zm2 12zm-1-30zm4-1zm5-2zm-3-4zm9 0zm4 2zm2 0zm4-2zm-9-5zm-5-4zm2-10zm3 2zm23 2zm5-35zm0 0zm5-1zm-5-8zm-11 0zm-2 0zm0 5zm-2-30zm-11-2zm0-1zm-2 5zm-10-4zm-2-1zm-3-5zm-2 1zm-1-8zm2 0zm-12 1zm3 6zm0 4zm21-6zm2-4zm0-1zm1-3zm5 8zm27 18zm-34 87zm-51-147zm3-5zm0 0zm3-11zm-8-20zm-10 37zm-13-72zm-106 43zm0 18zm-3 17zm-1 7zm21-3zm2 5zm13 9zm1 9zm2 4zm-8-8zm15-2z"/>
<path stroke="#55c666" d="M61 24zm3 23zm2 5zm3 7zm7 7zm-15 0zm-2 15zm-4 0zm5 4zm5 3zm6 0zm-3-4zm4 10zm-3 14zm9 0zm-5 8zm-4 2zm2 10zm1 10zm3-2zm8 1zm-2 15zm-3 0zm-1 6zm-4 2zm-10 3zm-6 2zm-1 0zm-7-3zm-1 5zm4 9zm-2 5zm-6-5zm16 2zm0 17zm26-3zm10-4zm4 5zm3-8zm11-3zm-2-3zm11 0zm2 12zm1 2zm5 1zm-8 9zm-7-13zm-2 1zm4-3zm16-12zm-9-9zm2-12zm3-7zm-8-3zm-11-1zm-7 4zm-3 6zm-11 5zm0 2zm-1 11zm-4 0zm1-2zm9 0zm-3 5zm-21-32zm-13 0zm-11 0zm-8-4zm-3 0zm7-4zm1-11zm5-4zm4-3zm3 1zm3-5zm-10-1zm-12 1zm-11 0zm2 4zm1 4zm-4 12zm2 13zm0 1zm5 4zm-13 0zm7-54zm18-3zm1-3zm3 0zm-5-8zm-5-2zm-13-11zm-24 17zm53 11zm31-10zm3-4zm5 1zm8 1zm4-3zm8-1zm10-3zm0-11zm-1 1zm1-5zm-4 1zm-3 0zm-1 2zm-10 4zm-4-1zm-3 8zm-9 1zm21 15zm0 1zm12 3zm11 2zm0 3zm4 4zm-1 9zm3 4zm-6 2zm-3-2zm1-6zm-14 3zm-8-6zm-9-4zm-1 10zm-11-2zm13 15zm42-2zm1 0zm13 0zm12 3zm7 1zm0 2zm7-1zm2 3zm-7-9zm0-2zm0-18zm5-4zm9-1zm-15-6zm-9-6zm1-16zm2-1zm4 2zm0-10zm0 0zm-9 1zm6-9zm6-1zm11-4zm9-5zm3 0zm4-1zm9 3zm0-14zm4-3zm2-3zm-12-5zm-9 1zm-8 14zm1 26zm-5 5zm1 7zm17 0zm-1-2zm-1-2zm5-2zm2-5zm14 4zm6 2zm0-10zm-3-4zm6-13zm0-8zm-4 1zm0 1zm22-12zm-1-2zm-2-6zm10 4zm8-3zm5-1zm4 1zm2-2zm4 6zm-2 3zm-4 11zm5 4zm10 0zm2-4zm-1-4zm5 0zm2 0zm-1-7zm-1-6zm-5-5zm13 0zm8 10zm5-5zm1 21zm0 2zm-6 5zm-3 5zm1 3zm-1 4zm0 0zm-2 0zm-4-3zm-4 1zm0 2zm-1 3zm2 2zm2 7zm2 4zm1 1zm-2 1zm-2 7zm2 3zm10-3zm5-2zm1 8zm3-1zm3 2zm12 1zm3-3zm0 0zm3 0zm-2-4zm6-4zm3-1zm0 0zm0 2zm5 2zm1 2zm6 4zm6 4zm-3 4zm9 0zm-1 3zm5 4zm1 9zm-3 0zm-6 3zm-1 0zm-1-1zm0 7zm-1 4zm2 1zm-4 2zm0 0zm-1 0zm-2 2zm3 3zm-2 5zm6 0zm-2 7zm0 1zm1 8zm-8 0zm-2 0zm1 4zm-5-2zm0-5zm4-3zm-8 0zm-3 0zm-1-1zm1 5zm2 2zm2 4zm-1 10zm-2 4zm9 2zm5-3zm-2-7zm2-12zm-5-15zm-9-1zm-1 3zm1 2zm-4 1zm-1-2zm-4-1zm1-4zm5-1zm-1-4zm-11 3zm-10-1zm0-2zm1-6zm1-2zm5 2zm-15-2zm0 5zm2 2zm-1 5zm-1 0zm-1 2zm2 5zm0 1zm-1 2zm4 0zm-1 4zm-2 4zm-1 0zm7-1zm4 3zm2-2zm4 1zm-1 1zm3 3zm-6 3zm-3 2zm-3 0zm0 7zm3 0zm2-4zm-1 10zm3 2zm-1 9zm8 1zm-1-3zm8-1zm6 5zm-6 8zm-3 1zm-9 3zm6 7zm0 2zm0 0zm-1 5zm5 3zm-25 4zm-4 2zm0 11zm-4-4zm-4 1zm-1-3zm-3 7zm-6-2zm2 8zm-7 0zm-4-12zm1-3zm6-9zm1-1zm4 3zm2-6zm1 0zm-4-2zm1-3zm5 0zm2 8zm3 0zm5-15zm7 4zm0 3zm1-11zm0-16zm-3-2zm-1-5zm-4 0zm-7-6zm-6-1zm-3-1zm-2 1zm-5-1zm-3 0zm-2-1zm-2 4zm5 2zm-1 2zm4 2zm6 2zm1 8zm-4-1zm-3 4zm-2 1zm-1 3zm0 6zm3 0zm-1 3zm3 2zm4 0zm0-8zm-5-1zm12-4zm3 0zm2-2zm-5-4zm-22 0zm-7 4zm-1 1zm-8 2zm-3-2zm3-6zm6-2zm2-14zm4-1zm0-5zm0-7zm-1-1zm4 1zm-1-6zm8 1zm6-1zm-1-4zm-2-4zm4 0zm-1-1zm8-3zm4 5zm2 3zm3-1zm2 0zm0 3zm-6 1zm0 4zm-5-3zm1 10zm-12-4zm-16 3zm-3 1zm0-7zm1 0zm-2-6zm-4-2zm-1 1zm-5-8zm-1-1zm-1-2zm-8-1zm-4 0zm-5-1zm2-8zm3 1zm0-14zm1-5zm0-4zm-8-1zm-5-4zm10-2zm4-7zm1-2zm1-2zm-2-3zm12 0zm1-11zm5 1zm0-6zm3 1zm5-3zm5 1zm-1 3zm0 2zm-2 3zm0 9zm0 1zm11-1zm5-2zm-7 8zm-1 0zm-3 3zm-11 0zm-1 5zm-8-2zm4 11zm0 0zm7 0zm2 1zm14 0zm3-5zm3-1zm-2-4zm-4 1zm8 11zm-3 4zm-1 1zm-2 14zm1 4zm-5 4zm-7-1zm-3 6zm1 2zm-22-1zm-2-2zm-4 0zm-3 7zm-5 1zm-3 3zm4 2zm6 4zm1-1zm9 1zm0 3zm-3 2zm-2 0zm0 2zm11 1zm-2-4zm-1 10zm-3 0zm-1 4zm5 0zm-7 4zm-12-1zm-4-4zm-3-7zm-8-5zm-1-1zm-5 0zm-3 0zm0-8zm1-1zm4 2zm9 2zm5-13zm-11-2zm0-7zm-1-1zm-8-7zm-5 4zm-6 4zm-4-3zm-1 9zm5 3zm-4 5zm10 4zm5-6zm-5 24zm14 2zm3 6zm-1 5zm-22 0zm-5-1zm-3 3zm4 2zm-4-8zm-8-4zm-1-8zm2-12zm-4 0zm-15-3zm5 11zm-10 7zm-7-2zm-1 8zm-4 8zm7 4zm7-9zm9 5zm3 6zm-5 22zm9 13zm5 4zm0 7zm3 1zm1-2zm10 2zm4 12zm-14 2zm-12 4zm-3 7zm-5 8zm-1 6zm-5-3zm0-7zm0-2zm-5 3zm-11-3zm-1 7zm-7 0zm0-4zm-3 12zm-5 5zm1 3zm-8 2zm-6 1zm-8 0zm0 0zm1-17zm0-10zm-5 2zm-3-7zm13 1zm-2-5zm8-1zm4 6zm-5 9zm0 10zm3 3zm27-5zm4 7zm2 2zm2-4zm14 1zm1 4zm3 8zm2-18zm4-8zm-6-31zm-14-5zm-5 2zm-4-10zm-12-8zm2 34zm-1 2zm-33-9zm-5 0zm-37-8zm-9-1zm11-12zm4-1zm3 44zm-8 6zm-19-7zm-7 2zm8 23zm26 2zm0 5zm10 1zm0-12zm-2 0zm7 31zm-71-36zm11-35zm111-77zm1-13zm-6-7zm11-2zm3-34zm2-10zm0-3zm-8-8zm-5-7zm-1-2zm-2-11zm-14 2zm-1-4zm0-2zm0-3zm4-13zm11-5zm6 6zm7-16zm4-11zm9 0zm-20 1zm-5 4zm-19 3zm2 6zm-8 4zm0 1zm-7-1zm-1 0zm-8 5zm1-15zm-12 1zm2 6zm23-5zm-31-18zm75-6zm-30 70zm2 3zm-3 2zm-3 3zm78-3zm4 3zm9-7zm0-3zm12 4zm6 4zm2-10zm15-3zm2-12zm1-2zm6 2zm6-2zm6-3zm2 4zm3 0zm5 9zm0 1zm7-14zm8-8zm3-3zm2 0zm-4-2zm2-8zm4 3zm2 0zm23 1zm3-1zm3-2zm10 1zm1 13zm5 6zm-1 5zm1 4zm-1 2zm-2 0zm1-1zm4 1zm0 8zm5 0zm12-1zm0 5zm0-27zm7-13zm-38 16zm-3 0zm-3-2zm-3 13zm-1 0zm0 6zm0 2zm5-3zm9 3zm4-4zm-3 21zm-5 5zm2 8zm-2 4zm-4 4zm-2 1zm5 5zm13 0zm-1 4zm8-1zm13 3zm5 4zm1 5zm3-2zm-9 2zm8-16zm4-10zm-25-2zm-29-1zm-10 3zm2 3zm0 2zm0 1zm-15-2zm0 10zm0 11zm-1 8zm14 2zm2 1zm1 4zm9-2zm6 4zm-23-49zm-6 1zm-4 0zm5-7zm0-2zm0 0zm3-16zm0-6zm-6 2zm0 1zm1 1zm3-13zm7 0zm1-5zm-1-2zm6 23zm1 0zm6-74zm-67 27zm0 7zm0 0zm-14 11zm0 66zm4 4zm0 2zm4 1zm1-3zm9-2zm-40 1zm-5-8zm-3-1zm-2-6zm-1-1zm7 3zm-18 8zm45 36zm-4 46zm8 14zm3-1zm6 5zm1-10zm3-1zm0-2zm2 7zm0 0zm4 4zm3-2zm4 2zm-1-5zm-6 16zm-11 20zm-58-22z"/>
<path stroke="#2bb17d" d="M52 71zm9-9zm14-1zm-2 5zm9 7zm6-2zm17-2zm2 7zm7-20zm6 4zm8-14zm-14-2zm-9 4zm41 11zm-3 15zm0 6zm3 11zm5 2zm4 5zm10-1zm-1 19zm9-1zm6 6zm-1 11zm-12 0zm-5-5zm-19-11zm-12-7zm-14-1zm-5-6zm3 22zm8 10zm1 0zm6 4zm-7 9zm-3 0zm8 7zm-1 19zm-11 0zm-1 6zm5-11zm-9-5zm-15 8zm3 15zm-13 0zm2 6zm16 7zm31 3zm9 16zm14-24zm7-14zm-3-5zm19-15zm14-12zm25 9zm-4 16zm19 0zm-1 11zm-1 2zm-27 0zm-16 36zm-1 23zm-6 14zm-4 20zm2 3zm-7 2zm2 3zm-19-4zm-6 1zm-4-2zm-6-1zm-1-10zm-13 16zm-17-7zm-10 5zm-7 0zm-4-10zm4-26zm2 0zm8 9zm-20-22zm-12-4zm-24 1zm6 25zm20-56zm-2-22zm-10-34zm-4 2zm1-10zm0-8zm-4 1zm-1-17zm2-2zm7 4zm5 1zm0-2zm5-9zm19 4zm-39-11zm-16 11zm-3 22zm-18 3zm4 7zm-4-19zm-2-1zm-7 166zm88 15zm52-9zm67-62zm55-22zm15 1zm6-5zm6-6zm7 5zm-3 5zm7 11zm2 6zm-7 2zm-11-6zm19 16zm15-14zm1-10zm-5-6zm-6-5zm-2-14zm-7-2zm-2-2zm-3-1zm-17 2zm-12 3zm-2 2zm-1 0zm-5-9zm-15-12zm-2-14zm-3-7zm-5-5zm10-6zm1 0zm5-2zm15 0zm5-5zm-3-6zm9 2zm4 2zm3 0zm5-2zm6 0zm0 7zm6-1zm0 3zm0 6zm7 1zm0 5zm6-3zm-2-6zm1-5zm0-2zm-2-4zm-6 0zm3-11zm0-1zm2 2zm2 0zm1-2zm4 5zm0 4zm4-4zm2-9zm0-2zm2-3zm1-3zm-4-3zm-1-4zm1-7zm2 2zm4 2zm3 5zm10-2zm-4-6zm-5-7zm-6 2zm1-12zm0-6zm2 0zm-6-1zm-6 1zm-3 0zm-3 1zm3-8zm-1-5zm-8-1zm-3 0zm2-3zm-11 3zm4 8zm3 0zm0 11zm0 4zm-11-5zm-16-8zm0-13zm-2-1zm-6-1zm-15-4zm3 11zm-8 14zm-5-3zm-12 0zm2-5zm5 17zm15 2zm9 2zm-1 13zm16 0zm3-2zm-1-7zm4 2zm3 10zm2-1zm-4 8zm7 1zm1 10zm1-1zm1 4zm2 0zm5-15zm-1-5zm4 1zm2 0zm2-5zm2 1zm5-5zm-12 1zm6 15zm5-4zm25 7zm6 7zm-2 7zm-7 3zm-7-2zm6 11zm-1 1zm2 10zm-13 2zm1-9zm28 1zm-3-8zm9-4zm0-1zm3 3zm7 3zm0 9zm-6-3zm1 15zm8 3zm-12 10zm-14-6zm-10 8zm0 15zm-5 3zm2 11zm11-10zm6-10zm6-30zm3-29zm0-4zm-2 1zm10 4zm14 8zm-2-22zm-1-1zm-8-23zm7-8zm-15-2zm-15 4zm1-10zm-5 0zm-5 4zm-2-18zm-3 0zm-4 5zm-3-11zm16-6zm14 8zm11-19zm-35-6zm-25-1zm-18-1zm-3 7zm-4-1zm-4 0zm-13 4zm-16-6zm4-6zm-12 0zm4 15zm-17 7zm-1 3zm-12 4zm-16-4zm-3 1zm0 1zm-1 0zm-26-11zm-2-15zm7 1zm-16-1zm54-1zm5 9zm50-21zm19 32zm-10 59zm-3 7zm-15 7zm-5 2zm-9-8zm-20 2zm-7 3zm-2-4zm-9-17zm31 33zm27 21zm12-3zm0-3zm9 6zm8 0zm-1-4zm2-3zm-3-2zm7 7zm6 5zm0 11zm-5 5zm-3-3zm-3 4zm-2 5zm-1 0zm-7-10zm37 9zm36-75z"/>
<path stroke="#1e9a89" d="M38 58zm16 21zm15-27zm17 15zm15-7zm10-6zm-2 66zm13 1zm0 4zm3 5zm-26 2zm-28-7zm-7 40zm25-5zm5 4zm7 11zm7 3zm3-12zm10 18zm15-9zm0-18zm14 13zm-2 23zm-13 7zm-48-14zm-40-7zm-17-27zm-14-51zm128 6zm10 7zm15 6zm15 20zm0 12zm24 2zm5 2zm-2 25zm7-49zm0-14zm8-4zm-10-9zm-11 0zm9-12zm-20 0zm-17-23zm-12 6zm59-5zm-1-3zm12 10zm13-22zm28-2zm11-9zm-3-17zm-7-9zm28 10zm4 8zm8 3zm5-5zm14-6zm2 30zm-13 1zm26 0zm3 10zm6 8zm1 24zm-1 8zm-11-8zm-11-3zm-8 0zm4-11zm1-6zm5 10zm1 16zm-3 2zm4 10zm0 1zm10 2zm-5 9zm-9 3zm-9 1zm0-3zm1 6zm-2-16zm-4-8zm-19 5zm5 7zm-5 5zm11 3zm-22 4zm4 11zm-11 3zm0 12zm2 1zm-2 3zm5 0zm5 5zm5 0zm4 1zm-3-6zm29 4zm4-12zm13 12zm9 15zm-23 4zm-24 3zm6 16zm1 8zm-3 2zm-14 16zm-9-7zm34 15zm-54-48zm-7-2zm-3-5zm5-32zm-12-19zm1-8zm20-3zm12 0zm-3-16zm-1-6zm8-1zm-7-20zm0-15zm8 0zm0 4zm7-5zm6 23zm-31-16zm-4-3zm-2-5zm-5 29zm90 45zm12 6zm1 0zm5-24zm8 1zm0 2zm8 0zm-208 101zm10 47zm-32 13zm-46-1zm-4-18zm5-17zm-29 19zm-11-36zm-12 1zm-25 42z"/>
<path stroke="#25838d" d="M53 75zm9-1zm-3 7zm24-1zm27-6zm17 9zm-1 22zm-12-8zm1 26zm-6 46zm-13 26zm-26-32zm-35-21zm-4-7zm15-12zm72-76zm25 5zm26-12zm36-6zm4-1zm2 30zm35-21zm1-28zm32 20zm7 12zm14-3zm10 10zm6 8zm-1 10zm6 16zm6 1zm2-4zm15-5zm5 3zm0 6zm4 2zm15-4zm-5 30zm1 2zm-8 9zm-3 9zm2 9zm-10 0zm0-4zm-9 3zm-4 3zm2 5zm6 9zm-5 8zm11 6zm-2 15zm-29 2zm-1 7zm-7 8zm-1 3zm5-27zm3-12zm4 2zm-22 1zm3-9zm-11-7zm-13-9zm-7 18zm4 5zm13 8zm-11 27zm-26-20zm-47-9zm-3-32zm17 1zm2 4zm-4-32zm31-6zm14-14zm15 6zm4 6zm14-3zm9 5zm2-19zm-2-7zm-9-9zm-11-6zm-17-5zm38-4zm35 5zm-3 32zm11 13zm-20 4zm0 4zm9 8zm-26 3zm-3 14zm-24-20zm2-33zm30-74zm18 11zm53 94zm-8 9zm-4 10zm-6 6zm-174 65zm-39-13zm24 62zm-41 35zm25-219zm1-3z"/>
<path stroke="#2e6b8e" d="M75 58zm-16 57zm-14 3zm-6 16zm-10-8zm27 58zm19-7zm33-7zm-1-34zm12-13zm3-18zm18-5zm14 26zm30 17zm-9 31zm-13-2zm0 48zm15 33zm-62 46zm-51-32zm168-89zm2-1zm0-25zm21-9zm-4-19zm13 0zm26 7zm4 3zm15 0zm2 9zm5-3zm5 10zm6 2zm3-2zm0-3zm6-10zm4-3zm8-2zm8 14zm7 7zm-25 8zm0 11zm-5-4zm-10-3zm-14-11zm-8-5zm-20 5zm-4 6zm0 9zm2 23zm4 1zm25 14zm-3 4zm10 5zm-4 8zm15 1zm-9-38zm8-70zm1 0zm-3-3zm6-8zm0-1zm8-1zm-22-5zm-9 4zm-7-1zm-9-15zm-7 0zm-2-7zm14-4zm0-20zm-8 5zm-10-13zm-2 1zm0-2zm7-16zm21 1zm10 3zm-10-17zm-30-2zm-10 67zm-29-10zm-50 11zm27 44zm112-50zm7-19zm1-1zm5 3zm5-13zm-9-2zm-6 6zm39 15zm12 46zm8 1z"/>
<path stroke="#3a528b" d="M37 103zm-3 23zm23-3zm6-11zm45 6zm1 4zm32-30zm11-2zm14 45zm29 10zm5 9zm0 18zm-31 3zm-24-8zm-70-4zm-31-11zm18 70zm-11 48zm60 43zm102-75zm50-40zm-10-15zm4-14zm17 10zm27 13zm-4 12zm12-3zm12 23zm11-3zm-30 14zm5-69zm19-1zm1 4zm0-10zm-2-20zm14 4zm-1 3zm6-8zm7-13zm5 2zm8 17zm13-7zm9-10zm-3-5zm-4-10zm-2-2zm0-1zm-9 0zm-1-28zm-1-1zm-31 9zm-12-8zm-12 1zm-6 0zm-19 6zm1 13zm-13-10zm-2 29zm-15 15zm27 12zm17-2zm-2-13zm14-1zm-3-6zm-3-4zm12-3zm1 7zm17-7zm-18-48zm1-3zm-29 1zm-4-17zm-4 2zm-3-10zm12-14zm-18-10zm-25-11zm67 13zm29 14zm-6 9zm-115 22zm-16 10zm-27-18zm-9-16zm-59-4zm87 88zm29-23zm118 89zm21-18z"/>
<path stroke="#453580" d="M70 44zm49-7zm93-11zm33 43zm21-6zm2 10zm24-6zm3-26zm24-1zm-6-16zm-7 0zm1 57zm0 5zm17 1zm5-4zm0 9zm7 11zm15 0zm1-7zm6 16zm-6 6zm-4-1zm9 6zm10-2zm10 0zm-6 24zm-11-4zm3-3zm-9 2zm-5 3zm-7-14zm-1-2zm-6 6zm6 24zm8 17zm-8 12zm-9 2zm-6-3zm-13 2zm-10-2zm-2 6zm1 12zm-4 19zm10 1zm-12 12zm-17-19zm-18-16zm12-16zm-2-3zm10-12zm4-1zm1-1zm0-3zm14-6zm1 19zm19-13zm4 41zm16-3zm-46-69zm-11-9zm22-14zm9-12zm8-21zm4-1zm5-7zm6 6zm16-4zm5 0zm2-10zm9 20zm-135 29zm-24 66zm-119-13zm13-32zm-11 88z"/>
<path stroke="#471567" d="M96 49zm-13 26zm-2 5zm63-3zm12-23zm71 38zm20 14zm7 17zm-3 8zm9 5zm14 7zm7-2zm13-8zm5-2zm4 1zm-1-7zm5 14zm4 7zm0 2zm6 1zm10-1zm5-4zm13 1zm8 13zm14 0zm4 1zm-1-30zm9-2zm5 2zm5-13zm-24 2zm-4 3zm-28-1zm-5-7zm-9 5zm0 4zm1 0zm4 8zm-1-28zm-4-9zm-4-3zm3-4zm4-11zm-6-10zm-3-8zm-7 2zm3 11zm-18-9zm11-13zm16 0zm11-8zm15 8zm2 7zm10 5zm3 10zm3 13zm-12-1zm0 5zm-5-10zm-7-4zm-2-7zm0-2zm-1 31zm3 1zm5 1zm-10 1zm4 6zm-33-8zm-7-7zm-3 1zm-7 3zm-1 22zm-7-2zm-5-5zm2 15zm-12 32zm-14 1zm-2 20zm-4 0zm24 3zm15 3zm10 6zm6-4zm1 11zm-22-1zm0-1zm-7 3zm1 43zm36-5zm-2-6zm23-5zm9-9zm9-27zm-20-14zm8-11zm-29-2zm-109-20zm19 105zm53-205zm40-30zm7 1z"/>
</g>
<path transform="translate(965 1420) scale(0.5)" d="M663 19l23 18 31 38 60 102M19 174l9-19 13-20 40-37 26-18 48-23 22-7 32-5 58-5 56-9 46-2 36-8 23-2M777 319l-22 28-53 92-19 26-12 13-14 11-16 9-18 6-18 2-16-2-18-8-20-12-27-25-38-46-9-8-12-7-16-5-18-1-18 3-19 8-3 4 1 4 37 21 13 13 6 16-2 18-10 20-21 28-19 34-22 30-19 18-26 12M219 439l3 0-3 0zM171 621l-22-12-42-31-23-23-8-18-2-14 1-16 3-16 6-16 13-20 29-22 2-4-1-6-13-12-35-19-13-9-31-32-16-21M624 19l17 6 18 9 12 9 12 12 18 24 25 38 35 64 16 23M19 231l13-50 8-16 10-14 45-44 50-29 40-14 28-7 65-6 51-8 44-2 38-8 42-4 42-10M777 302l-20 23-14 19-51 89-15 22-12 13-12 9-16 9-16 6-14 2-14-2-14-5-16-10-14-10-16-16-40-49-14-10-20-8-18-4-20 1-64 16-19 8-5 4 0 2 2 2 52 13 16 7 12 8 8 8 6 10 2 10-2 10-8 16-26 30-21 38-20 26-11 9-16 8-26 10-20 5M235 621l-40-8-22-8-18-9-28-21-22-22-11-16-3-18 3-20 9-18 12-14 14-9 20-7 16 0 22 11 14 3 48 0 16-3 15-11 24-30 0-4-11-2-62 0-50 4-16-1-16-5-60-30-16-11-38-41-9-14-7-17M777 290l-44 53-23 38-28 52-16 22-13 12-18 11-16 6-14 1-22-5-24-16-23-23-30-38-13-12-18-10-24-8-16-1-16 1-104 22-54 8-72 5-24-2-18-5-60-30-34-33-14-17-9-16-6-20-2-20 2-16 13-56 6-14 8-14 14-16 32-31 24-16 26-15 50-18 18-4 68-5 48-8 44-2 38-8 42-4 46-11 56-5 28 1 40 6 22 9 17 11 33 40 30 48 26 50 24 32M337 431l14-1 16 1 26 8 10 7 8 9 4 8 1 10-3 10-5 8-30 26-13 36-14 22-14 13-22 12-28 10-30 3-28-2-40-10-22-11-26-19-17-18-14-22-3-14 5-14 11-10 20-13 14-3 38 6 34-2 32 2 16-2 8-3 8-6 24-32 8-5 12-4zM777 279l-56 68-17 28-28 54-14 20-12 12-15 10-14 5-14 2-20-4-21-13-28-30-28-36-13-12-20-11-22-6-18-2-18 1-150 27-70 7-24-1-26-7-55-26-13-10-18-18-16-18-8-14-7-18-2-20 2-14 12-56 12-24 13-16 32-32 26-18 22-12 54-19 16-4 64-3 46-8 48-3 40-8 38-3 42-10 60-6 22 1 46 6 18 7 14 10 32 38 32 49 23 47 33 44M352 441l23 2 16 9 6 7 2 8 0 8-4 7-10 6-12 1-26-9-12-7-5-10 2-10 8-8 12-4zM225 497l56 2 28-1 16 4 16 13 9 14 1 16-6 18-10 13-14 10-26 12-22 6-20 1-20-2-34-8-19-8-17-12-15-16-6-14 1-12 7-8 27-16 48-12zM777 262l-5 13-9 14-46 48-15 18-8 14-25 56-12 20-10 10-14 10-14 5-12 2-20-5-18-12-28-34-26-35-10-11-16-9-22-7-32-4-24 0-56 8-38 8-57 10-63 7-20-1-30-8-45-20-21-17-24-25-9-12-6-16-3-18 2-16 11-54 9-22 44-46 28-20 18-10 70-22 66-2 44-9 50-3 42-8 30-1 40-10 66-5 66 5 14 5 12 8 31 36 33 51 17 41 33 36 8 14 4 12M224 511l17-1 24 2 34 5 14 4 11 8 7 10 2 12-4 12-7 10-15 10-18 8-18 5-18 1-18-1-26-7-16-6-13-8-10-12-4-10 2-10 7-10 14-10 18-8 17-4zM607 61l16-2 12 4 10 8 22 24 38 60 4 10 7 28 6 6 25 16 10 9 10 15 4 16-3 18-15 20-28 25-33 21-9 9-7 13-7 34-12 36-13 18-21 14-12 3-10-1-12-3-10-7-14-16-28-44-12-34-8-5-36-11-42-4-28-9-8-1-30 5-36 2-34 12-26 2-22-4-26-12-4 1-1 2 4 10-4 6-25 12-16 0-34-6-42-16-10-8-32-31-10-14-3-11 0-14 8-62 6-16 9-12 34-35 27-19 19-10 38-8 24-9 12-3 50 3 46-9 94-11 10 1 16 7 8 1 22-12 10-3 6 2 4 5-1 18 2 6 5 5 8 2 8-4 18-21 22-16 10-3 24 0 16-3zM223 523l24 0 52 10 8 4 6 8 2 8-1 8-6 8-11 8-12 6-15 4-31 0-31-8-11-6-7-6-4-8 0-8 5-10 9-8 11-6 12-4zM620 85l11 1 12 9 12 14 4 12-3 10-7 9-12 7-14 3-10-1-8-7-7-13-3-14 1-8 5-8 10-9 9-5zM346 113l31 0 10 4 3 6-1 8-4 8-11 12-9 7-10 5-10 2-26 2-30 12-10 0-24-7-14 2-20 20-18 12-6 7-2 12 4 24-2 7-5 5-41 6-30-1-12-3-12-6-7-6-5-8-9-26 0-10 1-8 6-9 30-31 14-10 14-5 34-5 45 0 7-3 10-9 6-3 6 1 16 6 6 0 36-17 39-1zM663 171l8 0 8 5 7 21 9 10 10 4 28 5 18 10 8 9 5 10 2 10-1 8-3 10-6 10-23 21-22 12-32 5-9 6-10 12-8 10-2 8 1 54-1 12-4 10-7 10-12 10-14 6-12 0-12-5-10-9-8-14-8-18-1-18 13-28-1-10-41-40-11-22-13-13-1-7 3-6 12-10 5-12 5-6 20-5 4-3 14-30 8-12 6-1 18 3 22-6 14-1 24-15zM264 219l7-1 7 3 5 10 1 8-11 4-14 0-10-2-8-6-1-4 3-4 21-8zM404 227l7 0 6 3 2 3 0 6-13 22-8 22-7 6-8-1-16-16-10-5-8 0-22 6-16-2-11-8-9-16 0-4 2-2 22-4 10 2 22 9 10 0 22-6 18-13 7-2zM164 301l8 2 5 6 0 8-4 4-8 0-7-8-1-8 7-4zM228 535l15 1 42 10 8 7 0 8-11 10-17 5-24 0-20-5-12-8-3-10 2-6 5-6 15-6zM706 223l19 0 14 3 12 8 8 13 2 12-5 14-9 12-16 12-12 6-10 2-28-2-12 1-22 10-10 2-42-8-8-3-6-6-2-12 6-16 10-12 18-13 20-11 14-5 30-5 29-2zM612 375l9 1 6 6 9 29 1 12-3 10-8 10-9 6-12 2-11-4-8-8-6-14-1-14 3-10 7-10 12-11 11-5zM717 231l14 0 10 4 8 7 5 9 0 10-3 10-8 10-12 9-12 5-12 1-46-10-10 1-22 5-9-1-6-4-1-4 2-5 12-9 64-31 26-7zM603 421l4-1 6 3 1 6-3 5-6 1-4-3-1-7 3-4zM713 241l14-2 10 3 8 7 2 10-3 10-7 8-12 7-12 2-10-1-9-4-7-6-3-6 2-8 7-8 8-7 12-5zM722 251l7 0 4 2 3 4-1 6-8 9-8 1-6-1-5-5 0-6 5-6 9-4z" fill="none" stroke="#b5502e" stroke-width="2.8" stroke-linejoin="round"/>
<g transform="translate(1415.5 1420.5)" fill="none" stroke-linecap="round" stroke-width="3">
<path stroke="#471567" d="M152 51zm-34 35zm29 38zm40-22zm30-23zm39 27zm-10 41zm67 0zm-1 3zm8 5zm5 5zm2 3zm-1 2zm2 9zm5-1zm4 1zm2-3zm2-2zm-1-3zm4-4zm11 2zm6-2zm2 3zm4 1zm-6 7zm-16 2zm0 17zm1 6zm-4 0zm-5-2zm-3-6zm-1-2zm1-2zm3-1zm-4-4zm-9-3zm-1-2zm-3 0zm-1 2zm0-6zm-9-3zm-2-2zm-5-2zm-1-3zm4 13zm4 0zm2 2zm-4 5zm5 4zm0 7zm3 3zm2 2zm2 1zm1-2zm0 5zm2 1zm-7-1zm-4 0zm-2 2zm-2-1zm-2 4zm-3 4zm-4 1zm6 5zm3 2zm7-2zm3-2zm0-1zm-2-6zm-5 3zm7 12zm6-5zm6-13zm3 3zm7 6zm9-6zm4 9zm4 15zm-4-37zm-2 0zm12-1zm-34 4zm-6-7zm0-1zm0-3zm-3 1zm-13 6zm-1 3zm-2-5zm-5 1zm-4 5zm-10 1zm6-10zm-2-7zm4-1zm7-2zm-9-9zm16-37zm12 6zm4 4zm0 4zm7 5zm5 2zm1 0zm3-8zm-1-7zm-4-1zm9 0zm4 3zm-1 1zm-2-16zm5 0zm-1-5zm0-3zm-1-3zm2-3zm3 1zm0 2zm1 3zm4 1zm0-2zm-3-5zm9-2zm4 0zm-5-7zm-1-1zm-13-1zm3-5zm-6-9zm-1 1zm-5-2zm8-7zm10 3zm9 6zm0 38zm-1 6zm-6-3zm-5-6zm-15 0zm0-3zm4-1zm-5 7zm-1 3zm-4-12zm-10 6zm-3 5zm-4-7zm-2-2zm-1-27zm11-6zm4-13zm-16-5zm32-4zm13-16zm-1-18zm-68-16zm-20 48zm58 73zm28 17zm4 1zm20-26zm3-11zm-109 91zm-85 23zm-19 58zm-26 19zm-62-66z"/>
<path stroke="#453580" d="M170 63zm33 4zm26 11zm6 31zm22-10zm-2-5zm16 18zm1-1zm20 3zm2 21zm-4 10zm6 13zm7-2zm19 3zm5-3zm2 12zm-1 2zm-4-2zm11 2zm1 9zm-1 1zm3 3zm-2 2zm-7-8zm-10 1zm-6 7zm1 2zm5 9zm9 5zm-4 4zm-13-1zm-6 10zm4 5zm10 0zm-15 13zm-3 3zm-17-21zm2-11zm0-4zm8-24zm6 0zm3 4zm13-46zm2-5zm-2-4zm6-3zm3-3zm9-2zm1-2zm5 3zm6 4zm-1 8zm-11 5zm1 4zm-6-7zm11 15zm4 6zm18-4zm-2-15zm11 1zm7-15zm-9-13zm-6-2zm-6-12zm-37-1zm-3 2zm-3 0zm-18-12zm-15-22zm6-17zm-12-10zm-11 17zm-1 2zm48-8zm22 15zm21 135zm11 32zm29 16zm9-97zm-159-10zm-40-19zm-3 47zm-15 63zm-3 29zm-43 19zm11 18zm-21 10zm-23-8zm-38-124z"/>
<path stroke="#3a528b" d="M56 167zm31 18zm19 21zm1 41zm6-2zm12 26zm-27 16zm3 6zm32 15zm24-7zm17-148zm2-9zm26-21zm14 7zm7-12zm26 12zm10 5zm3-36zm-12-7zm1-22zm35 15zm6 11zm4 4zm4 11zm0 3zm5 2zm7 6zm4-2zm4-3zm2-4zm0 11zm10 1zm4 4zm1-10zm13 2zm7-2zm0 13zm-5-2zm-4 0zm-2 7zm2 7zm4-1zm6 0zm-2-5zm10-1zm-1-6zm9-15zm1-4zm3-1zm-15-8zm-8-13zm-6 5zm-4 4zm1-18zm5-6zm23 2zm-52 8zm-7-24zm-8-3zm6-17zm3 3zm-37-1zm-55 4zm54 66zm19 42zm5 6zm10 0zm2 12zm6 1zm0-7zm15 1zm5 8zm-3 7zm-6-2zm0 6zm-4-1zm-7 4zm-13 3zm-7 8zm-5-1zm5 11zm11 6zm8-11zm12 2zm9-1zm3-3zm-8-4zm-2 18zm27-10zm-14-58zm-9 0zm0 5zm-6 3zm2-18zm3 2zm-10-5zm-18 13zm-1 21zm-3 9zm-11 4zm-4-9zm-23 19zm-67-22zm113 71zm74-99z"/>
<path stroke="#2e6b8e" d="M18 107zm43 61zm35-2zm18-4zm-6-11zm71-1zm-1 11zm1 4zm-17 7zm51 2zm29 9zm-11-38zm15-16zm0-4zm3 1zm-6-16zm-8 0zm15-8zm21-7zm9 10zm20 0zm9 14zm-1 5zm1 3zm5 0zm-2 2zm8 0zm15-1zm-2 17zm-3 0zm-6 1zm-4 6zm6 8zm-1 12zm-5 12zm-5-3zm-2 5zm0 2zm-1 0zm2 8zm0 1zm4 0zm2-1zm7-7zm-2 21zm-2 5zm-1 4zm9-10zm8-4zm8 5zm3 1zm6-29zm7-15zm-17-5zm-3 2zm-1-18zm2-4zm17 2zm0-9zm7-3zm3 5zm6-13zm3 2zm7-10zm-10-5zm4-6zm-10-11zm0-10zm-18 0zm2-8zm-7 17zm2 9zm1 8zm-2 1zm-4 3zm7 5zm-1 4zm2 6zm5-12zm3-3zm-34-9zm-2-12zm-1-19zm11-2zm-5-15zm-4-9zm-19 22zm-23 4zm-15-3zm-17-15zm-30 1zm-17-7zm-28 13zm-20 17zm-5-2zm-21 0zm-3-9zm7 17zm50 45zm28-12zm54 12zm2 13zm9 0zm9 19zm5 0zm16 15zm-12 14zm-11 19zm15-77zm14 9zm-26-100zm5-11zm-9-3zm24-6zm53 3zm0-18zm-173 279zm-47 1zm-2-9zm-21 27zm-6-53zm-10 7zm-23 21zm-1 1zm-53-19z"/>
<path stroke="#25838d" d="M78 71zm2 45zm51-3zm17 26zm58 0zm21 14zm16-12zm0-17zm12-1zm0-2zm-21-2zm-7 3zm-1-40zm17-9zm-2-26zm9 2zm26 1zm5 8zm3-14zm9 19zm12-10zm22 2zm-2 13zm1 13zm0 13zm4 6zm8 4zm10 0zm-1-5zm-1 20zm-1 8zm5 0zm1 7zm1 3zm0 4zm-3 3zm-5-4zm-1-6zm14 0zm8 8zm-7 10zm-4 8zm0 3zm-6 0zm-6-9zm-8-8zm0-3zm-14 0zm-2-1zm1-2zm-3 1zm7-3zm-1-6zm-8-1zm1-10zm-3-6zm-6 5zm-7 0zm-13-1zm-2-5zm5-4zm-7-7zm-1-6zm3-17zm10 7zm21 2zm-11 13zm27 19zm-1 3zm1 2zm23-11zm11 2zm3-6zm0 14zm1 2zm12-9zm2 46zm-51 1zm-10 2zm-1-1zm-2-2zm4 6zm0 6zm-3 2zm0 7zm-2 2zm-7 1zm1 3zm0 7zm3 0zm-2 3zm7 2zm3 5zm3 0zm-1 3zm8 0zm4-2zm3-4zm3 2zm-6-6zm-6 1zm-3-5zm0-6zm-4 2zm-1 0zm-1 0zm-3 2zm-16 0zm-1 5zm-1 13zm-6 2zm12 6zm4-12zm3 0zm-1 1zm3 26zm10 20zm-2-72zm6 0zm7 1zm0 6zm1 2zm11-5zm7 7zm-14-15zm-7-4zm-29-6zm-1-13zm-13 8zm-7 6zm-11 4zm19 3zm2 3zm-4 14zm2-49zm-18 1zm-24 31zm-63 6zm-2-67zm16-16zm-8-9zm-2-20zm-19-1zm24-31zm49-16zm14-3zm7-3zm28-8zm66 28zm6 39zm-117 18zm-120-53zm-84 102zm1 26zm6 11zm14-1zm20 6zm-40 86zm90 5zm19 13z"/>
<path stroke="#1e9a89" d="M9 153zm61 9zm17 11zm-2 21zm17 1zm13 10zm9-9zm9-2zm31 3zm20 19zm-9 48zm-7 10zm8 7zm-24-3zm2 8zm-5 5zm-5-7zm-6-4zm3-6zm-6-12zm17 2zm7 32zm39-1zm-71-8zm-2-3zm6-2zm-9-5zm-15 15zm-3 6zm-11-13zm-4 2zm-13-44zm-16 12zm-1 1zm14-46zm17 5zm-31-34zm42-22zm22-5zm6-6zm-2-2zm21 8zm3-22zm7-3zm-11-6zm32 8zm4-13zm12-27zm-27 0zm18-45zm27 6zm14 12zm-5 7zm34-2zm-1 8zm-5 5zm5 8zm1 15zm-1 2zm-4 5zm8 1zm6 12zm5 5zm13-11zm14 0zm-3-7zm0-13zm-9 5zm-4-7zm-9 1zm10-15zm-16-5zm-9-18zm-5-6zm19-10zm6 1zm1 0zm0-4zm-3 6zm-5-11zm-9-14zm-5-9zm-13 12zm39-2zm8 19zm-1 10zm23 2zm-7-13zm8-13zm-8 42zm3 9zm22-8zm7 1zm1 4zm2-11zm20 22zm-4 6zm-3 9zm7 6zm7-6zm4 9zm2-2zm2 8zm-13 7zm-10 3zm0 7zm-3-1zm6-1zm-2 12zm-1 1zm-3 1zm-2 4zm-1 2zm-2-3zm-4-1zm0 4zm-4 0zm0-5zm1-3zm5-1zm4-1zm4 11zm2 4zm-3 2zm-5 6zm3 4zm-3 4zm2 7zm5 1zm0 0zm2 2zm1 5zm2 1zm-3 1zm-2-14zm6-2zm3-1zm-3-7zm-2-2zm14-1zm4-27zm-24-13zm-6 1zm2-5zm-7 0zm1-3zm0-3zm-1-2zm0-5zm5 3zm-11 6zm-2 10zm4 2zm-1 2zm2 5zm-11 0zm-6 1zm-4 3zm1-11zm6-2zm1-3zm-3 0zm-2-21zm5-2zm7 3zm-4 40zm0 8zm2 2zm2 8zm-6 4zm-1 3zm13-1zm-1 7zm4 6zm0 27zm-3 1zm-5-2zm-5 0zm1 2zm-4 1zm5 6zm6 2zm3 5zm-14 3zm-7 6zm-1-15zm-10 0zm-5 4zm-1 3zm-2-9zm1-6zm3 1zm-2-5zm-7 1zm-4 4zm2 6zm-8-3zm3-10zm1-14zm2 1zm5-3zm5 3zm2 3zm3 2zm0 5zm1 1zm0 0zm2 3zm3-4zm1-3zm-4-8zm1-12zm2-5zm3 1zm0 2zm-9-6zm-6 9zm-10 4zm-16 0zm-10-1zm2-19zm-1-3zm11 2zm15-10zm3-7zm10-1zm4-1zm0 4zm-8-9zm1-6zm18 28zm-2 49zm-4 1zm-12-12zm-13 29zm14 12zm46-32zm0-2zm4 6zm2 1zm40-101zm-151 3zm-7 9zm-7-2zm-2-1zm-4-10zm13-8zm2 46zm7 0zm-36 2zm-1 24zm-2 2zm-43-142zm-50 30zm163-59z"/>
<path stroke="#2bb17d" d="M26 90zm10 21zm16 39zm15-7zm23 16zm23-8zm-3 23zm0 5zm-4 16zm32-11zm12 1zm5 8zm-3-44zm-7-11zm-19-2zm30-9zm10-4zm3 14zm10-2zm-1 17zm4 6zm12-8zm9 5zm-1 7zm6-3zm4 2zm2-26zm-1-1zm-4-3zm-4-5zm1-4zm3-8zm-9-8zm-12-5zm-16 2zm-2-4zm-3-3zm2-2zm-3-13zm18 1zm10 1zm18-3zm2-12zm5-3zm9 7zm1-1zm13 3zm6 1zm0 7zm-4 14zm11 3zm-1 4zm7-3zm2 0zm-1-3zm9 0zm-6-8zm0-2zm0-17zm-2-3zm-8 0zm-5-5zm11-5zm0-13zm-3 1zm-13-5zm2-4zm-4-3zm8-7zm4 3zm9-15zm16 0zm-2 3zm7 12zm5-3zm8 6zm8 2zm1 1zm9 3zm5 0zm2 12zm-3 4zm-7 6zm-7-2zm-10-2zm-9 6zm-2 9zm-14 0zm4 7zm4 2zm13 3zm10-1zm5 4zm2-7zm7-2zm-2 6zm2-15zm-17 1zm-13 21zm-2 16zm-3 0zm5 3zm0 12zm1 2zm3 3zm3 2zm5 0zm-1 5zm-2-1zm-4 1zm-3 3zm-2 4zm-8-5zm-3-2zm2-14zm0-1zm0-4zm-8-2zm-8-6zm-6 7zm-1 6zm2 9zm-6 1zm-4-2zm-2-1zm-3-6zm-3 1zm0 0zm-1 0zm3-4zm0-3zm-14 3zm-6 3zm4-11zm5-2zm-8-12zm-4 0zm1-1zm16-3zm-5 38zm8 3zm-5 6zm-1 7zm5 5zm9-13zm19-9zm5 20zm0 1zm0 7zm5 7zm-1 6zm-5 1zm7 3zm3 2zm7 2zm0 1zm3 3zm-1 1zm0 2zm2 1zm2-1zm5-7zm1 1zm3-1zm0-1zm3 1zm1-7zm-1-3zm2-3zm1-3zm5 0zm3 0zm1 0zm0 1zm0 2zm3-2zm-1-2zm2-2zm0-6zm-3-1zm-2-2zm-8 0zm-3-3zm-2 0zm0-5zm7 0zm0 2zm-4-7zm7-4zm9 0zm0-2zm1 1zm0 7zm-1 1zm3-2zm1 5zm-3 1zm0 2zm0 0zm-2 0zm6 2zm0 4zm-2-1zm7 0zm1 0zm6 0zm0 3zm0 5zm-7 1zm-5 1zm-3 4zm-3 4zm-7-1zm-1-10zm0-1zm-1-2zm-17 2zm1 3zm4 3zm-7 4zm-7-3zm10 12zm6 14zm0 9zm-4-2zm1 8zm1 1zm-1 2zm4 2zm2 2zm5 3zm0 1zm2 3zm0 0zm-10-1zm-1 2zm-2 1zm1-4zm1 12zm5 0zm1-4zm5 6zm-9 2zm-3 5zm-2 6zm-14-3zm3-18zm1 1zm6 2zm-2 2zm-5-16zm3-3zm-4-4zm-2-5zm1-7zm-2-5zm-4-3zm-5-3zm-4 4zm5 13zm4 11zm2-2zm14-5zm19-1zm5 10zm4 9zm1 2zm-3 1zm1 9zm14 0zm10-6zm2-2zm3-2zm-1-12zm0-8zm0-6zm0-5zm1 1zm2-10zm9-1zm1 3zm4-1zm1-12zm-3-1zm-3 1zm-5-2zm2-5zm6 0zm0 2zm4-6zm2-10zm0-2zm7-4zm3 0zm-6-4zm-2-5zm-2 0zm-8 2zm-2-1zm1-2zm-9 0zm-1 3zm-2-1zm-1 4zm-3 0zm1 4zm0 2zm2 2zm0 0zm1-1zm4 0zm0 0zm-1 2zm7 0zm0-2zm0-2zm5-2zm-10-1zm-2-1zm-2-11zm-3-1zm-2-1zm-1-1zm-3 1zm2 7zm-8-2zm-7 1zm0-9zm2 2zm1-5zm-2-1zm-6-4zm-6 3zm-1 3zm-3-1zm1-6zm-2-2zm-1-5zm7 2zm2 0zm4-3zm8 0zm1 1zm1 2zm1 2zm2 1zm2 2zm0-5zm1-1zm1-2zm6 3zm3 0zm0 4zm0 0zm1-1zm2 2zm1 0zm-8 2zm-1 2zm-1-1zm4 5zm16-1zm10-1zm-1 6zm5 3zm5 1zm-3-9zm-8-8zm-3-1zm-1-4zm-2 0zm-5 1zm-7-7zm1-1zm-8-4zm-7 0zm-7-1zm0-3zm-3-1zm-1 0zm0 6zm-7 2zm-4-4zm-10 3zm-3 3zm-3 0zm0 14zm22 8zm-7 11zm11 7zm10 3zm3 1zm1 0zm0-2zm11 11zm2-1zm0 4zm3-6zm3-1zm30-9zm6-30zm-21-8zm-16-13zm-2 0zm-7-1zm0-2zm-1-3zm-9 3zm-1 0zm-4-1zm-9 1zm4 22zm4-41zm10-3zm19 5zm-70-33zm-10-1zm-2 3zm-1 1zm1 7zm-9-1zm-46-1zm-2 1zm2-5zm-3-13zm0 0zm-12 7zm-8 14zm-24 1zm2-13zm-21 3zm-23 5zm2 7zm4 14zm-3 6zm-2 2zm-4 3zm-3 7zm-3-1zm-10 6zm-14-5zm4 14zm-19 20zm-6-36zm-6 4zm-2-15zm22-10zm15-27zm36 48zm-3 9zm2 11zm38 14zm-1 103zm-6 0zm-4 1zm31 4zm-9 52zm-16 3zm-11 2zm2-11zm-1-6zm-4 0zm-9-2zm-5 6zm7 6zm-15 5zm-2-1zm7 8zm-18 6zm-9 0zm3 4zm-1-16zm-12 8zm-1-26zm6 3zm16 0zm6-16zm7-12zm-30 0zm1 7zm0-17zm-21 26zm-1 4zm0 5zm3 2zm-24-3zm-1 0zm-4-16zm-13-1zm-7 10zm-2 12zm-19-2zm-11-16zm36-50zm5-13zm-1-5zm3-4zm-17 8zm26 26zm31 100zm39-3zm79-21zm91-37zm41-15zm10-22zm-21 0zm-8-16zm-16-23zm-112-153z"/>
<path stroke="#55c666" d="M3 123zm22 1zm-6 21zm11 9zm0 20zm1 0zm2 10zm12-9zm8 5zm-2 9zm12-2zm0 4zm8-2zm0 9zm5 0zm4 8zm4-15zm-3-6zm-1-7zm-4-5zm-2-7zm7-5zm-1-5zm-1-11zm2-5zm-8 2zm-1 7zm-7-2zm2-9zm-12-15zm-10-33zm-14 9zm28-21zm16 3zm7 1zm-3 7zm15-6zm5-2zm6 4zm8 0zm-4 4zm6 10zm17 10zm10 4zm3 5zm8 6zm10-6zm5 0zm6 4zm8 1zm0 6zm-11 2zm-1 13zm1 3zm13 2zm2 4zm0 0zm3-3zm4-11zm0-4zm10 1zm8-5zm0-1zm-2-3zm8-2zm0-7zm3 1zm0-8zm2-1zm2 0zm0-4zm3 1zm0 8zm-2-1zm7-2zm4-2zm2 2zm0 1zm3 2zm1 4zm-2 2zm-2 2zm0 4zm3 1zm0 3zm0 3zm1 1zm-7 6zm-7-6zm4-6zm0-7zm2-1zm11 3zm2 0zm0-5zm5 1zm0 4zm-1 2zm11-2zm0 0zm5-1zm1 3zm1 6zm4 0zm3 5zm2 0zm3 2zm0 3zm-1 4zm2 5zm0 6zm-2 2zm5-1zm-1 3zm3 0zm0-6zm6 3zm9 0zm1 0zm2 1zm3-2zm0-2zm-3-2zm-4 0zm-3-8zm-2 0zm-5 1zm-1 0zm4-8zm1-4zm3-1zm-1-3zm-1 0zm3-1zm4 1zm1 2zm2-1zm1 2zm0 0zm2 1zm2 2zm1 4zm2 1zm1 1zm1 0zm0-2zm2 0zm0 3zm0 2zm3-1zm5-1zm4 3zm7-1zm3-2zm1-6zm2-1zm2 0zm1 1zm3 2zm1-5zm2-3zm4 0zm0 0zm4 1zm1 1zm2-1zm3-1zm-1-1zm4 1zm-2-4zm-1-3zm0-2zm0-1zm-1-3zm-5 1zm-2 1zm-1-1zm2-3zm2-3zm-9 0zm-2 0zm-1 0zm0 2zm0 2zm0 1zm-8 0zm-3 0zm-1-1zm1-3zm0-1zm0-1zm1-1zm1 0zm4-1zm-1 5zm-2 8zm0 2zm2 5zm4 1zm-6 2zm-4-1zm-2-2zm0-2zm-3-2zm1-3zm-2-1zm0-5zm1 0zm2 3zm-8 1zm0 0zm-1 1zm-2 5zm0 0zm-3-1zm1 3zm-5 0zm2 2zm-2 4zm-1 0zm10 1zm-1 1zm3-5zm1 0zm0-1zm2-1zm1 2zm-4-16zm-4-2zm-2 1zm-4 1zm-1 1zm1 4zm1 3zm-9-3zm0 0zm0 0zm-2-2zm-2-2zm-1-3zm1-1zm-3-4zm-1-1zm-4-1zm-2-1zm1-1zm-3-3zm1-4zm3 2zm3 2zm-1-6zm-3-3zm0-3zm-1 0zm1-2zm0-3zm-2 0zm0-4zm4 1zm0-2zm4 1zm1 3zm3 4zm2 3zm3 4zm-2 3zm-3 3zm6 2zm0 6zm-1 6zm8-3zm7-2zm3-1zm-5-2zm0-6zm-4-8zm-4 4zm0-8zm2-4zm0-1zm0-2zm6 0zm9-1zm-1-2zm6 1zm5-1zm5 0zm-1-6zm-3-5zm5-1zm-2-3zm-2-3zm-4-6zm-8-1zm1-5zm2-8zm2-8zm-17-3zm-4 0zm-1-1zm1 4zm-4 3zm0-11zm-7 0zm0 4zm-3-1zm-4 2zm0 7zm-1 4zm-2 0zm-2 1zm0-4zm-5 0zm1-3zm1-3zm-2-4zm0-3zm-1-3zm0-1zm-8 0zm2-5zm-3-2zm2-2zm7-3zm6 4zm0 5zm6 2zm2-7zm1 28zm0 2zm-2 0zm-5 4zm-4 2zm-1-4zm-2 1zm-4-2zm0 5zm0 3zm-9 0zm-6 2zm0 2zm-1-1zm-5-1zm-1 5zm3 2zm9 4zm2 1zm0 2zm-2 0zm5 2zm2 3zm3 0zm4 3zm4 1zm0-3zm-1-2zm-1-1zm5 4zm10 1zm1 1zm-1-7zm-1-1zm-3 1zm6 0zm6 1zm2 1zm-4 2zm0-12zm1-2zm-2-7zm-2 0zm0 1zm-2 0zm-2-1zm-5 2zm-4 0zm-1 2zm-1 1zm-1 2zm-1 2zm-5 0zm1 2zm-3 0zm3-5zm10 3zm-4-10zm-9-14zm-4 0zm0-1zm2-3zm3 0zm-7-5zm-2 0zm-6-5zm2 14zm2 1zm0 3zm2-1zm1 0zm-5 3zm-1 3zm-7-4zm-8 1zm0-3zm-2 6zm1 3zm2-1zm-9 0zm-1 3zm-1 2zm-2 3zm7-2zm0 9zm-2-2zm-5 9zm-1 4zm-2 0zm-2-2zm-2-7zm-7 4zm0 4zm-2 7zm6 4zm5 2zm4-1zm2 2zm3 0zm1 3zm2 2zm1-8zm5 1zm1 1zm0 3zm2-6zm-2-5zm-2-3zm-3 0zm-4 0zm-1 2zm8-7zm6 0zm4 7zm6 0zm1-1zm-2-3zm4 8zm-2 3zm0 2zm3 2zm-2 4zm-5-1zm-3 1zm-1 1zm1 1zm1 3zm-2 2zm-1 0zm-1-1zm0 3zm-3 1zm1 2zm2 2zm-1 2zm2 1zm1 3zm-7-1zm-4 1zm-1-4zm-4-2zm0-2zm0-1zm-3 4zm0 2zm1 2zm-3-1zm-2-2zm0-8zm-1-4zm3 1zm-10 4zm-4 0zm-10 0zm-2 1zm-6 0zm0-2zm1 5zm-3 6zm-2-2zm-2-2zm-6-1zm-1-1zm1 4zm-3-1zm-2 6zm5 1zm3-1zm-1-2zm5 4zm-7 5zm-12-12zm-4-4zm6-2zm13-5zm20-6zm-7 20zm2 23zm-4 10zm2 4zm-14 4zm-5 7zm6 7zm8 2zm-4 5zm-13 0zm-7 2zm-4-1zm-4-1zm-4-1zm0-6zm0-8zm-11 6zm0 5zm-9-3zm0 6zm1 5zm1 2zm1 0zm3 9zm-9 1zm16 3zm-5 18zm-3 9zm11-3zm4 6zm-6 5zm-2 3zm-10 4zm3 18zm4 3zm4 5zm-3 9zm1 8zm-4 0zm1 1zm-3 3zm-1 4zm-3 0zm-3-1zm-3-3zm-1 0zm-1 5zm2 1zm0 9zm4-4zm4 5zm9 0zm2-3zm-5-1zm-1-5zm8-10zm-2-3zm8-6zm2-1zm9-1zm-6-7zm-2 18zm-26-1zm-2-4zm2-6zm1-6zm-5-2zm-2-1zm-1 5zm0 3zm-1 1zm-2 3zm0 5zm-3 6zm2 4zm-7-1zm-1-2zm0-4zm-2 1zm0 6zm3 3zm0 1zm2 8zm-5 0zm-1 4zm-1 3zm1 2zm24 0zm13 1zm-55-13zm7-14zm0-6zm-2-5zm1-3zm4-7zm3 11zm-1 7zm11-15zm9-10zm-38 8zm-2 0zm3 2zm0 5zm-1 1zm-4 0zm-10 5zm-1 2zm0 21zm-6 0zm-20-4zm-9-16zm-8 2zm6-15zm7-3zm1 8zm23-32zm22 4zm3-8zm-11-23zm-27 10zm18-45zm6-13zm1-8zm1-2zm-8 3zm15 3zm5 5zm-3-14zm9-2zm5 4zm7 4zm2-24zm-11 1zm-2 0zm-11-3zm0-1zm0 9zm19-19zm21-14zm7-10zm5 2zm-7-7zm-8-3zm1-4zm-16-7zm0-19zm-13 7zm-7-10zm1-2zm5-7zm-2-10zm-8-2zm-17 8zm6 25zm2 5zm7 1zm0-2zm-13 3zm43-33zm2-7zm9-4zm13 0zm29 9zm0 2zm-5 10zm1 10zm4-1zm1 3zm3 3zm2 3zm8 2zm0 1zm1-5zm-1-8zm6 2zm0-4zm4-3zm6 0zm9-1zm1-1zm-1-7zm3 0zm1-2zm5-5zm1-4zm-4 1zm-3-2zm-2-1zm-1-14zm-7 3zm-4 4zm-13 4zm0 3zm1 18zm6-1zm-16 10zm-1 19zm-6 2zm-5 1zm-2 2zm-2-1zm0-7zm3-3zm-4-7zm-2-4zm-5 27zm12 4zm-19 19zm-6 34zm2 20zm-12 9zm-2 6zm-8-1zm1-3zm-17 1zm5 11zm0 0zm6 7zm4 0zm4 15zm48 15zm7 4zm3-9zm1-39zm-18 2zm52-3zm3 2zm3 4zm18-4zm9-5zm7 1zm-2-6zm7-2zm2 12zm5 3zm1-5zm7-4zm6-5zm-1-5zm13 2zm6-12zm-1-5zm-2-4zm-3 2zm1-5zm-2-1zm-3 3zm-6-7zm-1 0zm6-10zm-5-7zm0-3zm-5 2zm-1 1zm-2 0zm0 1zm1 0zm-3 0zm-2 1zm-1 7zm-8 0zm-1-3zm-1 0zm2-7zm2-2zm2-1zm0-2zm-3 0zm-1-1zm7 2zm0-5zm-1-2zm-1-3zm-1 1zm-1-3zm-2-1zm0 0zm-2 2zm-4-2zm0-2zm1 0zm-6 0zm0 2zm-1 2zm3-9zm12 1zm2-2zm0-1zm-1-2zm-1-7zm3-3zm-8-2zm7 22zm7 7zm0 2zm0 7zm-19 3zm-11-2zm-3 11zm1 3zm-2 6zm7-2zm6 4zm3 1zm0-2zm0 16zm-13-2zm-11-1zm-8 8zm-15 10zm34-1zm5 17zm6 5zm0 2zm3 2zm0 12zm-1 4zm-9 0zm6 10zm7 0zm-1 3zm3-1zm0-6zm5 1zm5 1zm4 2zm0 9zm-10 0zm-5 0zm4 7zm-19-6zm18-23zm1-4zm2-12zm17 27zm11 10zm2 0zm-4 7zm8 3zm3 3zm4-5zm-1-5zm4-3zm15-1zm-1 4zm2-10zm15 4zm-2-13zm-4-15zm2-21zm1-3zm-1-7zm-3-1zm0-8zm8-2zm2-1zm-1-1zm-2-2zm0-1zm8 0zm-1-4zm-4-5zm0-7zm-4 3zm-1-1zm-3 6zm0 3zm-1 0zm-6 3zm-8 0zm-6 1zm2 6zm8 5zm18-1zm7 2zm-3-7zm12 3zm5 6zm1-18zm-4-13zm-7 0zm0 2zm2-16zm1-2zm5-14zm0-1zm-11 0zm-9 1zm-4-5zm-3-3zm0-2zm0 8zm-2 0zm-4 6zm1 3zm6-2zm0 15zm-4 0zm-14-16zm-3-5zm0-4zm4 1zm8-5zm0 0zm-1-5zm-2-3zm0-1zm-11 0zm-2 1zm2 4zm1-23zm-3-9zm-5 4zm-6 3zm8-21zm26 27zm14 3zm8 21zm16 17zm2 18zm-1 6zm-20 38zm-5 9zm10 14zm-49 53zm-25-8zm-77 17zm-17-181zm4-9zm16-12zm6-2zm1-6zm6-11zm1-2zm4 3zm1-9zm-3-9zm-7-8zm-6-14zm25 4zm2 8zm3-3zm7-3zm-7 28zm-53-25z"/>
<path stroke="#90d643" d="M35 65zm11 8zm0 9zm0 3zm-14 0zm0 10zm-12 9zm-8 8zm3 5zm11 0zm2 7zm1 0zm2-3zm2 0zm-12 4zm-2 2zm-12 0zm21 14zm12 3zm2-5zm6 5zm15 1zm5 2zm3 4zm5 1zm0-11zm3-1zm-5-2zm-1-1zm-3 4zm6-9zm-11-4zm-6-3zm2 10zm0 18zm-1 1zm-1 0zm2 9zm-5 5zm-11 0zm0 1zm-5 5zm-1 5zm11-5zm7 6zm6-1zm0-3zm-1 6zm1 3zm4 0zm-2 4zm-3-1zm-6 1zm1 2zm-1 2zm13 2zm6-1zm4-5zm5 2zm2 3zm0 2zm3-3zm-1-4zm3 0zm-5-3zm2-6zm-7 0zm-5-1zm1-2zm-7 0zm2 5zm0-12zm-7 1zm4-10zm14 2zm3-2zm3 4zm6 3zm3 1zm-4-8zm0-10zm-2-3zm-7-3zm1-3zm14-5zm7-2zm2 1zm2 7zm0 10zm6 6zm6 0zm1 2zm1 0zm-2 3zm-1 1zm10 2zm2 4zm3-1zm0 7zm6 0zm1-5zm4-1zm6 0zm3-5zm3 2zm-2 8zm3 1zm2 1zm-3 4zm2 7zm-1 5zm6-7zm8-2zm-2-4zm4-7zm1 0zm0-1zm0-4zm-1-12zm4-2zm0-3zm4 1zm1 0zm2-2zm-3-2zm-8 1zm-3-2zm-3-5zm2-4zm0-5zm2-2zm0-1zm-2-4zm-2 0zm-1-7zm0-4zm-4-1zm-3 3zm4 4zm-3 10zm2 5zm-6 5zm-1-13zm-4-3zm0-1zm-6-1zm-4 0zm1 4zm1-7zm3-6zm-6-4zm-3 0zm-1 3zm-2 2zm1 6zm-2 4zm-7 0zm-3-2zm-4-2zm-3 1zm-3-3zm-5 7zm-6 2zm-1-4zm-1-11zm5-11zm2 1zm5-1zm5-2zm2 3zm-2 5zm7 2zm1 0zm5 0zm3-7zm8 2zm7-3zm0-2zm11-1zm-1-3zm3-6zm4 2zm5 3zm-2 2zm-2 3zm3 6zm-1 1zm2 3zm4 2zm4 1zm1-2zm0-1zm-2-3zm0-2zm-3-2zm0-7zm6 2zm6-1zm2-1zm2 2zm3 0zm0-6zm7-1zm0-4zm-4-4zm-2-1zm-5-2zm-3 1zm-5-1zm-3 2zm-1 2zm-2 3zm-4 1zm0-7zm-2-2zm7 0zm2-6zm0-6zm-4-2zm3-4zm1-2zm0-7zm-3 0zm-3 0zm-4-1zm-4-2zm-2 0zm0-2zm0 5zm-8 0zm1-3zm-6-3zm-2-1zm-4-1zm0-5zm0-3zm7-1zm8 0zm8 9zm8 1zm-1 3zm7 0zm4 3zm1 0zm-1 2zm6-4zm4 0zm2-1zm1-3zm3-1zm6 0zm6 3zm2 4zm-1 2zm-10-2zm-1-1zm-1 4zm-8 4zm-1 7zm-8 2zm-2-4zm4 9zm-2 4zm-1 12zm-2 2zm2 2zm3-3zm-3 15zm0 1zm0 3zm3-1zm4 2zm4 0zm-1-1zm0-3zm2-2zm3 1zm-1 2zm1 2zm3 1zm-1 4zm-1 2zm1 1zm1 3zm-3 0zm-2 1zm-3 0zm1-3zm0-2zm0-3zm-9 1zm-5 2zm-9 1zm5 6zm14 0zm0 2zm-1 3zm0 7zm1 3zm4-6zm5-4zm2-2zm0-1zm1 1zm1 1zm1 0zm0 1zm4 1zm3 1zm1-1zm2 0zm1-5zm0-4zm-4 0zm1 2zm5 0zm0-4zm4 3zm4-3zm1 1zm0 4zm-1 5zm-5 3zm0 6zm0 3zm0 7zm-1 0zm5 2zm-3 3zm-6 1zm2 3zm0 2zm-3-1zm9 0zm1 1zm-2 2zm1 10zm0 9zm4 0zm-6 2zm-12 1zm3-7zm-1-3zm1-2zm-9 0zm-5 1zm-6-7zm-7-1zm0 17zm-3-1zm-5 7zm-8 10zm-2 17zm0 7zm5 2zm4-1zm2-3zm5 4zm-1 1zm4-1zm-3 6zm-6 0zm-1-1zm1-1zm-6 4zm-8 2zm-5 17zm-2 0zm-1-2zm-8-3zm-11 0zm-4 0zm-3 3zm5-8zm-15 0zm1-6zm6-6zm-19 6zm-1 9zm3 5zm-6 2zm-5 2zm-1 0zm-5-1zm0 5zm-5-3zm-3-1zm1-3zm-4-3zm6-6zm7-6zm-15 0zm-7-2zm-3-7zm-3 11zm-3 9zm-10 3zm-1 2zm3 2zm0 10zm3 1zm5 1zm0-2zm6-1zm5 0zm-2-3zm9 2zm-5 6zm0 2zm0 1zm0 4zm0 13zm-1-1zm3 0zm2 0zm-2 5zm5 1zm-2 3zm-1 4zm9 0zm-1-5zm1-2zm2 2zm-1-12zm4-3zm2 5zm2-9zm6 2zm3 0zm-1 4zm4 1zm1 2zm1 3zm-1 4zm0 7zm1 0zm3 0zm3 3zm-1 1zm0 3zm1 5zm6-3zm-1-7zm1-2zm0-1zm-3-6zm0-1zm-2-4zm1-2zm-3 0zm-1-5zm-2 1zm2-7zm0-4zm2-1zm4-1zm-1-3zm-1-2zm-1 1zm5-2zm4 2zm-1 3zm-2 4zm0 7zm0 0zm0 1zm1 0zm0-1zm2-1zm1 1zm2 1zm-1 5zm2 0zm1 0zm2-1zm4-2zm1-3zm1 0zm1 0zm3 1zm2-3zm1 1zm1 1zm0 2zm1 0zm1 0zm-2 1zm1-5zm3 0zm2 0zm1 0zm-1 2zm-1-4zm-3-1zm-3 0zm0 2zm1-4zm-4 1zm1-4zm-5-7zm-3 0zm0-2zm-1-3zm-1 7zm-3 3zm0 1zm1 6zm1 3zm2-4zm1 16zm0 5zm3 0zm2-2zm0-4zm2-1zm0-1zm8 2zm5 0zm0-1zm2 0zm0 1zm0-2zm3 0zm3 0zm5 2zm2 1zm-2 2zm-1 0zm-2 5zm-2 4zm-5 5zm-12 2zm-1 4zm-2 5zm-4 1zm8 1zm-3-17zm3-5zm1-1zm-3-1zm1-1zm7 0zm0 2zm7-2zm0-1zm-3-9zm2-5zm2 0zm2-2zm3 0zm2 1zm-1 3zm5 1zm6 3zm-1 4zm-2 1zm4 0zm2 0zm5-5zm-1-2zm1-2zm5-9zm-2-3zm-12 3zm-14-4zm-5 1zm-2 0zm-1-4zm4 6zm16-17zm2-2zm7-9zm6-10zm3-7zm-4-3zm-6-7zm-35-8zm-2-14zm-2-2zm4-1zm-3-7zm-1-14zm1-2zm-6 0zm0-3zm-6-3zm-7-2zm0-6zm-2-1zm-4 1zm0 5zm0-13zm-2-1zm-4-1zm-2 10zm-14-2zm-4 3zm-2 3zm14 16zm-1 7zm-3 3zm-3 5zm-5 0zm-6 0zm0-3zm2 11zm6-3zm4 2zm3 8zm1 1zm-14 1zm-8 5zm-16-1zm32 7zm18-15zm-1-1zm-5-7zm-3-6zm10 2zm3-2zm1 0zm6 6zm1 0zm5 10zm7-48zm4-1zm4 1zm2 7zm-9-20zm1-2zm-5 3zm-2 3zm-7 0zm2 5zm0-13zm-5-35zm-4 1zm-1-7zm-3 0zm0 2zm8-1zm2 2zm-2-9zm-2 2zm-1-6zm-2-4zm-4-3zm8-3zm0-3zm1-1zm-1-3zm1-3zm1-6zm0-5zm0-2zm-5 1zm-3 4zm-7 1zm-7 4zm3-12zm17-2zm2-16zm-7-5zm23 26zm1 2zm0 3zm-2 5zm0 3zm5 1zm-9 3zm-4 2zm2 3zm-9 4zm2 3zm4 3zm11 6zm-1 1zm9-7zm5-5zm-2-5zm0 0zm3-2zm2-1zm2 2zm-1-9zm10-5zm3-23zm10 2zm1 2zm-2 3zm11-3zm-1-1zm3-1zm6 0zm4-1zm3-3zm-4-2zm-1-2zm10 3zm6-3zm2-1zm9-2zm3 8zm4-1zm2 0zm-2 5zm0 5zm5-2zm1-1zm4-5zm3 3zm5-2zm0-5zm0 0zm-3-2zm-3-3zm-1 0zm2-1zm1-1zm4 1zm3 1zm1 0zm-2 1zm0-4zm-1-2zm-2-1zm-4-1zm-2-1zm1-2zm11 1zm2-4zm0-1zm-2-3zm-6-2zm-1-1zm8-4zm10 0zm1-2zm2 6zm-1 4zm3-1zm1 6zm0 0zm2 1zm1 1zm-1 5zm-1 0zm-2 1zm-1 0zm-1 0zm-1 4zm2 2zm1 0zm0 3zm1 3zm1 2zm1-1zm1 2zm1 1zm3 1zm-2 2zm-5 0zm-3 0zm-1 0zm-1-1zm0-2zm3-1zm-1-3zm-2-1zm-1 2zm-1-3zm-4 0zm0 3zm-1 0zm-2-1zm0 6zm1 1zm1 2zm-3 0zm-1-2zm1 6zm0 1zm3 1zm0-3zm5-1zm0-3zm-3-4zm2-10zm-1-5zm2 0zm1-4zm6 5zm6 0zm1 2zm4 1zm-3 3zm0 0zm-1 1zm1 2zm0 0zm4 3zm2-1zm1-2zm3-1zm0 4zm2 0zm1-1zm-1-1zm2 4zm1 0zm1 6zm4 2zm1-4zm1-7zm-2-3zm-2 1zm1-3zm-3-2zm-1-5zm6 0zm1 3zm1 0zm2-6zm8-1zm-1 5zm2 7zm-5 0zm0-1zm2 3zm-5 0zm0 13zm0 3zm1 3zm-2 1zm2 2zm2 1zm0-6zm-6 0zm-2 4zm-5 0zm-2 2zm-3-4zm2-3zm0 0zm-1-1zm-1-5zm-5 6zm1 1zm-1 2zm-1 1zm-2 0zm0 1zm-1 2zm0-4zm-4 0zm0 0zm0 1zm-1 2zm-3 1zm0 1zm0 3zm-4 1zm-1-2zm-3 0zm-1-3zm4 0zm0-2zm0-3zm0-2zm-2-1zm3-1zm-1-1zm3 2zm0 3zm0 0zm-4 1zm-12-1zm-4 2zm-2-1zm0-3zm-1-1zm2 0zm-6-3zm-3-1zm-2 10zm-1 0zm-2-3zm-2 5zm-3 3zm-1-1zm1 5zm2 5zm1 2zm-2 3zm-1 1zm-1 4zm0 2zm5-1zm1 2zm0 2zm-1 1zm-1 0zm5 0zm3 0zm3-1zm1 3zm2 2zm2 2zm3-1zm2 2zm0 0zm0 0zm0 4zm-4 0zm-2-2zm-6 4zm1 3zm-2 1zm-2 1zm0 2zm-1 0zm0 3zm-2-1zm-1 2zm1 4zm-5-1zm1-1zm-4 1zm-2-1zm0 2zm-1-5zm-1-1zm-1 0zm1-2zm-2-3zm-2-2zm0-6zm5 0zm0 2zm2 1zm1 3zm1 2zm2 3zm3-2zm2-6zm1-2zm-1-3zm-3 1zm1 1zm-6 0zm2-2zm-3-4zm-9 0zm-2 0zm-1-2zm2-5zm3-8zm4 2zm2-1zm-8-5zm-7-1zm-5 1zm-1 13zm0 4zm3 0zm1 4zm0 2zm-1 2zm-3 0zm0 2zm0 1zm1-2zm0 8zm1 2zm2-1zm0-2zm3-2zm1 5zm2 2zm2 5zm4-2zm-1 6zm3 1zm0 1zm-2 2zm6-1zm0 3zm2 2zm-2 2zm0 3zm-1 5zm-2 0zm5 0zm4 2zm1 2zm4 1zm2-2zm0-2zm1-3zm0-5zm-1-2zm0 0zm-1-4zm-1 0zm-1-2zm-4 0zm-1 1zm0 2zm1 9zm3 0zm0 3zm0 12zm3 0zm0-3zm3-1zm-1-1zm6 0zm4-1zm-2-2zm6-2zm3-1zm1 1zm0-4zm2-1zm2 1zm2 2zm1 0zm-1 3zm-4 1zm-1-9zm-3 0zm0-1zm0-2zm6 1zm0-5zm2 0zm0-1zm0-2zm-1-1zm-4 0zm-1-1zm0-1zm-3 0zm-2 0zm0-3zm3-2zm5 0zm-1 1zm0 1zm2 0zm5 1zm0-3zm0-2zm1 1zm2 2zm1 0zm0-4zm4-2zm3-1zm3-1zm1-1zm0-2zm1 0zm-1-1zm0-2zm-2 0zm-1 0zm0 0zm0 1zm-1 1zm2 1zm-4-2zm-2 1zm0 2zm-3-5zm-2 2zm-1-3zm-1-1zm-4 3zm-2 2zm0 3zm-1 1zm-1 1zm1 2zm3 1zm1 0zm2-5zm-9-3zm-2-1zm0 0zm-3 2zm-2 3zm0 2zm1 0zm-5-1zm-1 0zm1 3zm1 1zm-1 3zm0 1zm-2-2zm-2-1zm-2 2zm3 7zm3-1zm0 4zm0 4zm1-1zm1 1zm-4-1zm7-6zm15-2zm2 4zm1 3zm1 2zm2 1zm2 0zm2-1zm-1-1zm-2-2zm-1 0zm0-1zm1-1zm3-3zm1-2zm9 1zm1 0zm3-3zm0-3zm2 0zm1 0zm2 3zm1 1zm1-2zm0-4zm2 0zm1 0zm2 0zm2 5zm2-1zm2 0zm1 2zm1 3zm-4-1zm-2 2zm0 0zm0 1zm1 4zm-6-2zm-3 0zm-1 1zm1 2zm1 1zm-3 0zm2 3zm3-2zm0 0zm0 6zm-1 5zm4 0zm-8-1zm-1-2zm-1 1zm-1-2zm-1-1zm0-1zm-4 2zm0 0zm-1-1zm-1-4zm1-2zm0-2zm-3-1zm-1 3zm-2 1zm-4 2zm0 2zm-2 0zm-2 2zm-1-3zm-1 1zm-1-1zm-1-4zm3 10zm0 1zm0 1zm2 2zm6-1zm0-5zm1-1zm-4 2zm9 2zm3 1zm1-1zm5 3zm1 2zm0 2zm0 4zm-5-2zm-4 0zm-3-3zm-2-1zm-1 9zm-4 0zm-1-3zm-1 6zm-2 0zm-3 2zm-3 0zm0-2zm0 0zm-3 1zm0-3zm0-1zm3-4zm-8 2zm-7 3zm-4 1zm-1 2zm0 3zm-5 0zm-11 1zm-3-1zm0-6zm-1-5zm3 1zm-2-6zm-9 0zm2-7zm3-11zm-10-9zm-3-6zm-1-2zm-2 2zm-4 1zm1 1zm0-4zm-3 0zm-2-1zm1 3zm-2 1zm-2-2zm-2-5zm-2 0zm-1-5zm9 0zm2 3zm0 12zm-1 0zm-1 2zm-4 2zm2 3zm-6 3zm0 13zm1 0zm5 0zm-2-3zm7 5zm-4 7zm-3 3zm0 4zm-5 0zm-3 4zm-4-3zm11 3zm-1-12zm24 21zm11-3zm1 8zm4 5zm5 7zm1 1zm4 0zm1-4zm6-2zm-2-3zm4 0zm1-1zm4 0zm-3 6zm-1 2zm-3 1zm2-14zm-6 2zm9-11zm0-1zm-1-1zm4 4zm11 8zm1 1zm8 0zm-4-5zm1-8zm4-2zm8-1zm1-29zm3-4zm1-1zm1-1zm-1-1zm3-1zm5-4zm-2-8zm-3 0zm-5-1zm1-2zm1-2zm2-1zm3 0zm0-3zm1 1zm-4-1zm1-4zm0-8zm-1-1zm1-1zm-1-4zm-2 0zm1-2zm7 0zm5 0zm1-1zm1-3zm-1-2zm-2-1zm-1 4zm9 0zm-1-8zm0-3zm1-2zm1-4zm2-4zm5-1zm1-3zm3 2zm1 4zm-1 3zm-4 0zm-3 6zm0 6zm3 9zm-5 8zm0 7zm3 1zm2-1zm4 5zm3-1zm0 2zm2 5zm6 5zm2 5zm3-10zm2 19zm6 5zm13 0zm1 2zm4 1zm-1-4zm10 0zm-7 8zm0 5zm-1 2zm-5 1zm-2 0zm-1 3zm-4 4zm-6-5zm9-9zm1 1zm1 1zm12 12zm-1 1zm-5 11zm-22 3zm-4-11zm-5-15zm-7-3zm-8-9zm2-6zm0-6zm1 1zm-6-7zm-2 1zm-6-2zm-2 2zm4-5zm-1-3zm0-1zm-3-2zm-2-6zm4-1zm0-2zm-8 0zm-1-5zm0-1zm-14 0zm-5 1zm-2 3zm0 2zm1 0zm1 2zm-1 2zm-6-1zm1-8zm2 1zm-3-6zm0-5zm1-1zm1-2zm2-2zm0-3zm-6 0zm-6 1zm0 3zm1 8zm-3 3zm0 0zm-2 0zm1-1zm-4 2zm-3 0zm1 2zm1 0zm0-6zm0-3zm0-6zm-2-1zm-6-2zm-3 1zm-2 0zm-1 3zm3 2zm2 1zm-1 8zm4 1zm1 1zm0-3zm0 0zm8 11zm-3 3zm11-7zm2-11zm7-1zm1 1zm4-4zm1-3zm0-4zm-1 0zm-1-3zm-1 0zm4 1zm4 2zm3 1zm0 3zm0 0zm3-8zm2-4zm4 6zm-16-9zm-2 0zm-3-7zm-3 1zm-2 10zm-12 6zm-1 1zm-12-5zm-1-5zm2-1zm4 0zm-12 7zm-1 2zm-4 0zm0 4zm1 1zm-2 2zm-12-21zm0-4zm-4-1zm-3 1zm-2 1zm0 1zm0-5zm0 0zm6-3zm-4 12zm-4 1zm-1-3zm-5-6zm-6-24zm-1-3zm15 0zm0-6zm-4-5zm14 0zm6 1zm-1 15zm4 3zm0 2zm43-5zm0-7zm-3-3zm1-2zm1-2zm3 3zm6 0zm0-1zm0 0zm-2-1zm-10-7zm-2-1zm22 17zm31 2zm1 10zm1 7zm6 1zm-3 6zm-15-9zm-44 8zm18 51zm-2 6zm-4 3zm-1 3zm6 1zm-3 4zm17-15zm11-1zm-1 26zm3 2zm-9 8zm3 3zm55-18zm5 2zm1-10zm10-6zm5-1zm-48-16zm-122 6zm-1 2zm1 3zm-15-6zm-2-2zm-1 1zm0-3zm0-5zm-1-1zm0 13zm-11-18zm1-5zm3-3zm-5-35zm-8-12zm-15 6zm-11 79zm-1 0zm-4 0zm-40-20zm-7 0zm-6 1zm1-4zm0 9zm2 1zm-2 3zm-12 2zm0-12zm3 3zm-2-12zm-4 2zm-8 6zm2 10zm-4 4zm-1 10zm-3 1zm-1-2zm-6-7zm-2-4zm-3 1zm-2 7zm0 0zm-1 2zm-5-2zm-1-5zm0-18zm0-12zm11-4zm7-1zm4 1zm3-5zm-4-4zm-3-2zm18 9zm11 5zm12 1zm2-1zm-50 11zm-2 6zm0 1zm6 2zm0 5zm-2 22zm-5 2zm-18-3zm-4 0zm3-4zm-12 47zm-6 6zm-4 0zm56 8zm1 0zm2-3zm-29 59zm2 7zm-6 10zm-1 9zm0 7zm-5-4zm-5 13zm13 0zm5 1zm1 6zm7-6zm1 11zm-4 9zm11 0zm6 18zm24-1zm9-2zm3-1zm18-5zm6-4zm-1-1zm1-1zm0-1zm3 1zm-6-2zm-3-3zm-1 1zm1-3zm1-2zm1 0zm0-2zm-5-1zm2-2zm-3-2zm-5-2zm3 8zm-19 2zm-1-22zm5 0zm-3-3zm-7-1zm-1-2zm-3 8zm-5 2zm-2 1zm-1-3zm26 0zm4-10zm-2-3zm-6 2zm24 54zm41-2zm4-17zm20-1zm0-4zm2 31zm2-66zm25 23zm25-21zm34 1zm0-4zm13 2zm8-3zm-3-6zm14-2zm10 2zm16-17zm7-8zm27-2zm-3 8zm-2-19zm17-8zm-103 2zm-4 16zm1 13zm-8 8zm19-1zm-37-15zm1-9zm-26 4zm10-25zm29 2zm6-11zm2-1zm3 1zm-5-4zm-23-31zm-9 5z"/>
<path stroke="#d2e11b" d="M29 76zm2 10zm7 11zm2 16zm-1 2zm-6 3zm-3-1zm-5 4zm-14 2zm2 5zm5 7zm7 2zm1 8zm-4-1zm7 10zm7-2zm1-13zm-3-9zm11-2zm1 0zm2 6zm8-3zm4 2zm-1 7zm2 5zm4 1zm0-7zm2 0zm1-3zm3-3zm1 12zm2 9zm2 6zm4 1zm-1-3zm6-2zm1 4zm0 6zm-6 0zm2-2zm3 9zm9-2zm3-5zm3-7zm-2-5zm-3 1zm-5 2zm2-10zm5 0zm2 4zm8 2zm0-4zm1-1zm3-2zm1-5zm-2 0zm-1 0zm3-4zm0-5zm-5 2zm0-4zm4-7zm8-5zm14 2zm2-6zm-2-7zm1-4zm2 0zm-7 3zm-9-7zm0-1zm-1 0zm5-3zm1-4zm-3 0zm-1-4zm-6 2zm-6 5zm-4-8zm-4 4zm-1-1zm-1 2zm-1-8zm0-2zm-1-2zm4-4zm1-3zm6 0zm-1-3zm-2-2zm-4-2zm11 2zm1 4zm3-8zm5-3zm5 1zm2 3zm6-2zm2-1zm0 6zm-4 5zm-6-2zm-3 5zm5 3zm-9 2zm17 3zm6-5zm3 2zm2-3zm8 0zm9-5zm3 1zm2 0zm3-3zm1-2zm4 1zm1-6zm5 1zm2 5zm1 7zm1 1zm1 9zm5 3zm2-1zm3 1zm-3 4zm-7 1zm0 2zm-2-3zm-1 8zm-7 0zm0-5zm-3 0zm-3 2zm0 5zm0 2zm-5-4zm2-8zm-2-3zm-3 0zm8 0zm-1-2zm0-2zm-1 0zm0-3zm0-1zm-2 0zm-1 3zm-9 10zm-2 5zm-4-1zm0-1zm4 9zm3 5zm7 1zm-4 5zm4 4zm3 0zm7-1zm0-4zm1 0zm7 0zm0 10zm-4 0zm-1 2zm-3 0zm1 5zm3-1zm8-1zm1-3zm10 0zm3 4zm0 10zm4 3zm9-2zm-2-3zm-1-4zm2-5zm2-8zm0-2zm1-4zm-4-1zm-1-1zm0 2zm0-4zm2 0zm2-1zm2-2zm2 3zm2 6zm2 4zm1 1zm-2 1zm-1 1zm7 3zm5 0zm0 3zm0 1zm3 1zm5 1zm6 0zm2-1zm0-2zm0-3zm-1 0zm2 0zm2 0zm2-1zm1-1zm-2-1zm-2-2zm-1 1zm-5-3zm-2 1zm0 0zm0 0zm-1 4zm-2-1zm-6-1zm1-4zm-1-1zm4-2zm1-2zm1-2zm-2-1zm-3 0zm-1 0zm1 1zm-4-3zm-3-2zm-1-3zm1-3zm-2 0zm0-3zm4 0zm1 1zm1 1zm-2 1zm1 2zm-1-7zm0-2zm-6-2zm-5 1zm1 2zm-5-1zm-4 1zm-3 1zm1-4zm-3-5zm-2-2zm-2-2zm1-5zm2-4zm-1-12zm-3-1zm0-2zm-1 0zm-7 0zm-1 0zm1 3zm0 7zm1 9zm7 14zm-4 5zm-4 4zm-1 6zm-2-2zm-2 1zm-2 0zm-7 0zm0-3zm15 6zm0 0zm6-2zm4-1zm1 0zm2 0zm4 1zm1 1zm0-5zm3-3zm6 0zm2 4zm4 10zm2 1zm1 6zm0 9zm-5 1zm0 1zm-4 7zm-1 1zm3 3zm-4 3zm-1 3zm2 6zm1-1zm-7 0zm-2-1zm0 0zm-3-1zm2 10zm1 5zm0 2zm-3 0zm-1 5zm10 0zm0-1zm8 3zm6-8zm7 5zm2 3zm9-5zm1-3zm3-9zm-9 0zm4-6zm-7-4zm-3 0zm-4-1zm-4-2zm-3 1zm-2 1zm-1 9zm-6 4zm-16 1zm-4 1zm0-5zm-2-2zm-4 4zm-3 2zm-2-10zm2-2zm3 0zm-2-12zm-1-3zm-2 2zm-4 0zm-8 1zm-5 3zm-3 9zm-3 0zm-1 7zm-4 1zm-1-5zm-2-5zm-2-2zm-8 0zm-3-1zm-2 2zm-2 0zm-1 3zm3 3zm-4 4zm1 2zm5 0zm1-1zm-1 5zm-2 3zm-12-3zm-2 0zm-2 0zm0-2zm-3-5zm-4-1zm-1-1zm0-2zm5-2zm6 2zm-3-14zm0-3zm-1-1zm3-4zm1 0zm-6-2zm-2 9zm12-3zm8-2zm12-2zm0 6zm9-5zm2-5zm-12-10zm-7-7zm-33-4zm-14 8zm-10 7zm0 5zm-5 4zm7 4zm-2 3zm-4 7zm-1 2zm16-7zm2 2zm-5-9zm-1-2zm0-34zm-6 1zm-2-14zm4-2zm0-1zm-7-5zm0-3zm-2-3zm0 0zm0-7zm0-3zm-6 3zm-12 10zm-4 9zm0 5zm-1-1zm-7-3zm-9-6zm11-14zm16-21zm31 0zm-7 11zm-3 0zm21 0zm5-4zm5-8zm-2-8zm14 8zm-1 3zm10 3zm2 0zm0-1zm2 7zm2 3zm11 7zm0 2zm0-20zm-2-5zm2-4zm1-3zm7-2zm2-2zm7 0zm-5-5zm-8-2zm-1-11zm-10 19zm-6 7zm1 1zm-19 16zm13 16zm31-13zm6 0zm-1-5zm1-2zm4-9zm1-4zm5-1zm9 4zm1 4zm0 1zm-1 2zm-2-1zm7 1zm3 9zm3 5zm9 9zm0 1zm6-1zm0-5zm-1-10zm2-1zm-7-3zm-1-11zm-2 1zm-1-7zm-3 1zm-2-3zm-1-8zm-4 0zm1-2zm6-1zm-1-4zm-1-3zm-1-1zm7-4zm9-1zm3 7zm1 0zm1 5zm0 5zm-1 0zm5-2zm12 0zm-5 5zm-1 2zm2 3zm-3 5zm0 4zm4 3zm1 2zm-3 4zm-3 1zm-1-3zm-4-4zm-4-3zm-1-1zm-1-4zm0-2zm-2 1zm-2-2zm6-1zm-12-7zm-2 2zm3-8zm5-1zm-3-3zm22-7zm8 5zm3 1zm-2 2zm9 3zm3 1zm1 5zm2 0zm2 0zm-3 2zm-6-1zm-2 6zm-5 1zm2 3zm0 0zm0 6zm-2 0zm-2 8zm-4 3zm-1 0zm9 4zm4 1zm2-1zm7 0zm1-3zm4-2zm3-2zm-2-4zm0-5zm0-3zm-1-1zm-2-2zm3-5zm3 0zm-1-4zm4-1zm0-2zm0-5zm-2-1zm-5-4zm-4-1zm0 3zm4-10zm4-4zm-1-2zm-13 7zm-1 1zm-7 0zm31 2zm4-2zm3 0zm1-1zm-1 5zm1 4zm0 5zm2 1zm2-1zm-1 7zm3 0zm-11-1zm-1 6zm-2 2zm-6 6zm-3 3zm-1-5zm5 9zm2 3zm5-3zm1 5zm4 7zm4 1zm2-1zm4 2zm1-4zm3 5zm6-1zm3-4zm6 1zm3 4zm12 5zm3-10zm-9-12zm4-7zm-8-2zm-2 1zm-1-5zm5-6zm11 0zm17 7zm-36 8zm-6 2zm-4 0zm-4-3zm-5 1zm-1 6zm-1 1zm3 1zm-8-6zm14-10zm-1-1zm7-3zm0-13zm-9-1zm1 6zm-5-10zm-6-11zm14 0zm10 9zm0 39zm-9 21zm2 4zm-4 3zm0 9zm-2 0zm1 3zm-6-2zm-2-5zm-5-6zm0 0zm2-3zm3-5zm-7 1zm-3 11zm-1 4zm-3-2zm-3-2zm-2-5zm-6 0zm-3 2zm-4 1zm-3-1zm-1-2zm1-3zm-4 1zm0-2zm10 1zm1-6zm3 2zm3-6zm3 3zm-12-4zm-6-10zm3-3zm0-1zm0-2zm1 0zm-4-3zm-18-3zm-5 22zm0 1zm-2 4zm6 0zm-6 6zm2 4zm-10 1zm-1 2zm-1 8zm-10-7zm-7 22zm-3 13zm0 2zm-1 2zm-2 0zm-1 0zm2-1zm-3 3zm1 2zm0-10zm-2 2zm-8 6zm-13 30zm0 2zm-1 0zm0 12zm1 3zm-5 2zm-2 1zm-1 0zm0-3zm-7-1zm-5 3zm-2-1zm0 8zm8 7zm1 10zm-3 8zm-5-2zm-7 3zm-4 0zm-3-16zm-5-1zm0 0zm1-1zm4-4zm-14 7zm-6 3zm1 4zm0 2zm6 1zm-1 11zm-9-8zm-6 1zm-3 9zm-9-3zm-5-2zm0-3zm-4-6zm-4-8zm-14 3zm1 9zm-4 1zm-3-2zm-4-4zm-4-3zm2-2zm-1-4zm1-3zm-5 1zm-1-2zm-2-1zm2 6zm-5 4zm-6-6zm-1-4zm-2 0zm-1-2zm5-3zm0-10zm0-9zm-6 5zm-5 7zm3 5zm-8 3zm-5-7zm-1-7zm32-5zm3-9zm11 16zm34 0zm-1 2zm3-1zm0 8zm3-2zm3 5zm1 3zm-1 4zm7 1zm-3 7zm-8 0zm0-1zm-3-4zm-3-3zm12-9zm1 0zm-2-7zm7 0zm-2-4zm29-7zm4-1zm31 16zm-1 3zm-1 7zm2 1zm6 2zm1-4zm4-2zm2-3zm2-5zm-5 17zm-14 8zm5 10zm1 7zm-5 2zm-2 1zm1 5zm-2 1zm-3-2zm0-1zm-6 4zm0 1zm-4 4zm0 6zm1-1zm13-1zm1-4zm6 2zm1 0zm1-8zm9 1zm-2 3zm-1 7zm7 3zm0 12zm-1 11zm-1 5zm-8 0zm-2-2zm-6 1zm1 3zm-2 1zm-6 0zm-2-3zm-1-2zm-4-1zm-2 1zm-1-1zm0-2zm-5-4zm0-3zm-3 0zm2-3zm-6-3zm-2 0zm-1 4zm-7 2zm0 6zm-2 3zm1 3zm-1 1zm3 1zm2 0zm1 2zm0 1zm-2 3zm-3 1zm1 2zm-1 1zm0 2zm-3 0zm0 0zm0 1zm-1 3zm0 1zm0 0zm2-1zm2 1zm0 3zm5 0zm-1 2zm-1-4zm0 0zm-1-2zm0-3zm2-2zm1-3zm2-1zm2 0zm0 1zm0 2zm0 1zm0 1zm2-1zm2 0zm1-3zm3 0zm-6-1zm-2-1zm-1 0zm3-3zm-2-4zm4 0zm3 2zm6 2zm3-1zm3 2zm-4 7zm-1 0zm-1 2zm2 2zm3 1zm3-2zm1-2zm4-1zm2-3zm4-1zm0 3zm0 2zm-1 0zm-3 5zm1 2zm5-2zm1 3zm-3 3zm-8 1zm1 5zm5 3zm7 3zm2-10zm4-3zm0-2zm6-6zm-8-5zm1-1zm-2-5zm-4-16zm-9 6zm-2-13zm-19 11zm-2 0zm-5 3zm-2 0zm-2 2zm-1 0zm0 1zm-11-2zm3-3zm-2-5zm-1-2zm-1 0zm-2-1zm-4-1zm1 4zm0 2zm-2 4zm-4 3zm0 1zm2 3zm3 0zm3 2zm1 0zm0 3zm2-1zm1-2zm0 6zm2 1zm4 0zm-1-1zm-4 5zm-2 2zm-2-2zm0-3zm-1-1zm-6 0zm-2 0zm1-1zm-2-1zm0-2zm-1-2zm3 0zm2 1zm0 2zm-2 5zm4 3zm1 2zm0 1zm1 3zm0 2zm0 1zm4 0zm3 0zm2 0zm2 1zm1 2zm4 0zm0 2zm2 1zm2-3zm0-8zm0 0zm4-3zm0 0zm0-1zm4 2zm2 1zm1-1zm0 2zm2 4zm5-1zm2 3zm0 0zm-15-2zm-2 10zm5 5zm4-3zm-21 3zm-2-1zm-3-1zm4-6zm-3-4zm0-7zm-5 1zm1 2zm-7-1zm-1 1zm-3 2zm0 1zm-1 0zm-3 2zm-1 0zm0 5zm4-1zm5-3zm-1-1zm-2-9zm-1 0zm-3-1zm-1-1zm0 5zm1 0zm-7 1zm-2-1zm0 4zm-4 0zm0 3zm2 1zm-3 2zm7-3zm1 8zm3 6zm2-1zm8 8zm-20-3zm-25-2zm2-20zm-3-3zm3-4zm-1-8zm-2-2zm-2 1zm-4 2zm-1 0zm0-3zm-2-3zm-2 1zm-1-4zm-3 2zm-1 3zm-4 2zm-1 6zm-2 3zm-4 1zm-3 2zm-8 6zm30-2zm-3-6zm3-21zm0-3zm3-1zm1-4zm6 2zm1 3zm3 0zm-1-6zm-1-5zm4-2zm6-4zm-1-5zm0-1zm2-6zm-9 4zm-1-1zm-4-2zm2 10zm-1 1zm-12-3zm-4 10zm-7 3zm-7 0zm-5 7zm5-23zm-9-5zm1-5zm2-2zm14 1zm3 2zm22-5zm16 22zm0 4zm-4 1zm2 7zm3 3zm0 2zm3 0zm0-2zm1-1zm1 4zm2 0zm-1 4zm1 4zm-5-1zm-2 1zm-2-1zm0 3zm2 1zm3 3zm-4 3zm1 3zm-5 1zm0 3zm0 3zm-2-5zm-3 1zm3-5zm-1-6zm3 1zm0-7zm-10 0zm-1 4zm-4-3zm1-4zm-7 0zm28-1zm8 3zm0 8zm0 3zm4-5zm1-3zm-1-9zm-1 0zm1-13zm-12-2zm2-4zm6-7zm27 2zm4 5zm0 4zm-2 2zm3 59zm60-82zm-3-6zm2-3zm-8-5zm-17-32zm81 0zm2-5zm8-3zm-1-4zm0-7zm0-8zm1 1zm1-5zm-3 0zm-7 1zm-4-6zm-6 0zm-2-1zm-4 4zm-6 9zm7-24zm9-1zm2-1zm0 5zm3-3zm1-1zm1 0zm1 1zm3 3zm0 2zm-1 1zm-1 2zm0 2zm-3-4zm-7 1zm0 1zm17-3zm2 0zm-2-4zm-2 0zm1-1zm5 0zm0-3zm4 1zm0 3zm2 6zm4-2zm3-3zm3 1zm2-3zm0 0zm3-1zm-1 7zm3 1zm7-2zm6-1zm4-3zm2-5zm-3-2zm-3-1zm2-3zm-4-2zm-1 1zm2-3zm-5-2zm-4-3zm-1-3zm0-9zm4 0zm-2-4zm-5 1zm-9-5zm-2-3zm-7-3zm-3 0zm1 4zm2 5zm-5 7zm-1 8zm3-1zm4 0zm4 1zm2 2zm3 1zm-2 3zm-1 3zm6 0zm1 1zm5 0zm0-3zm-5-6zm-2-1zm-1-1zm-2-1zm0-2zm-1-1zm-5 7zm-4 2zm1 4zm0 3zm3 1zm1 2zm1 2zm0 0zm0 1zm4-3zm1-1zm2 2zm-13 0zm-5-2zm1-1zm-3-1zm-7 0zm0 1zm-1-3zm-4 1zm0-3zm4-5zm1-4zm1 0zm-1-2zm-4 2zm-3-1zm-1-1zm-5-2zm0-2zm-3-3zm-1 6zm0 0zm1 3zm1 1zm-2 4zm-1 0zm0 2zm-2-4zm-3-1zm2-4zm-3-8zm-2-2zm8-4zm5-2zm5-1zm-1-2zm-3-3zm-7 0zm1-2zm1-3zm16 6zm2 0zm4 1zm-3 5zm-6 0zm-6 4zm7 6zm8 14zm4 0zm3 28zm-2 2zm5 7zm4 5zm1 0zm7-1zm-2-11zm0-1zm1-4zm17-14zm13-2zm5-1zm-5-12zm0-3zm3-1zm-5-2zm-4 1zm-1-2zm-1 0zm0 5zm4 5zm0-13zm-4-6zm6-16zm4 1zm4 4zm2 4zm55 31zm-1 4zm11 3zm-1 11zm-1 7zm5-35zm6 85zm-116-19zm-25 55zm3 6zm-35 6zm59 16zm-6-246zm-87 10zm-1 1zm-9 0zm15 7zm-7 23zm-6 2zm-107 32zm-12 0zm2 9zm3 11zm-25 1zm1-4zm8 18zm-50-6zm-2-15zm12 3zm0-8z"/>
<path stroke="#d2e11b" d="M23 91zm-3 7zm1 7zm4 5zm-3 7zm-5 6zm5 6zm4 9zm0 6zm-1 6zm1 3zm11-8zm13-5zm1 17zm2 21zm-2 4zm0 8zm-8-11zm19-4zm3-1zm2-5zm7-2zm0-2zm2-3zm5 0zm0-8zm-1-8zm1-5zm11 1zm3 3zm-4 3zm-2 9zm1 5zm5-1zm0 3zm3 2zm2-1zm2 1zm-5 2zm14 1zm4 6zm4-3zm1 1zm6-4zm0-3zm-1-2zm3-6zm1-6zm8 2zm7 0zm-3 11zm9 0zm1 1zm-4 5zm-3 1zm1 1zm-2 5zm10 0zm3-5zm7-1zm3 0zm2 2zm6-1zm0-3zm3 5zm6 3zm2 2zm1-9zm6-2zm2-5zm10-3zm3 5zm1 3zm-1 3zm-1 1zm-2 3zm-3 1zm-1 5zm-7 8zm-7 5zm-28 0zm11 17zm3 7zm4-2zm1 0zm4 6zm-8 2zm2 2zm-9-7zm-11 11zm-11-1zm1 19zm0 9zm-4-3zm-4-4zm2 11zm0 9zm-4-2zm-3 0zm2 3zm-3 3zm0 2zm-3 4zm0 1zm-1 1zm0 4zm4 0zm1 1zm-2 3zm-3 2zm-4 2zm-1-4zm0-4zm-2 0zm-3-2zm-6 3zm-6 2zm-2 6zm-3-3zm-3 3zm3-12zm0-6zm-4-2zm-3 1zm-3 4zm-1 2zm-12-3zm-7 3zm2-10zm-4-3zm-13 3zm-8-6zm-2 12zm-4 2zm-4-4zm2-25zm5-2zm7-2zm2 4zm1 7zm14-5zm-5-8zm9-7zm9 3zm0 4zm3 6zm0 4zm-3-1zm8-5zm3-7zm-4-3zm11 6zm2 11zm-2 2zm-5 4zm-8 3zm19 0zm-1-1zm6-2zm1 0zm-1 6zm10 3zm3 0zm1 4zm1 5zm7 2zm4 2zm3 0zm0-1zm1-1zm2 1zm0 3zm2 2zm6 0zm1 1zm0 2zm-2 1zm7 2zm0 3zm1 1zm-2 4zm0 2zm-6-1zm-8 5zm-4 1zm-10 2zm-5-3zm-10 5zm-2-14zm22-1zm8-5zm-3-6zm6-7zm6-1zm2-1zm1-2zm0-3zm0-3zm-1 0zm-3-1zm0 3zm0 0zm0 1zm0 1zm-2-4zm2-6zm8 1zm1-5zm-5-1zm10-2zm2-7zm3 2zm8 1zm0 2zm2 1zm-6 5zm-1 6zm-7 0zm-1 4zm-6 2zm-1 9zm-3 0zm6 1zm4 1zm-1 1zm3-5zm2-3zm0-2zm4 4zm1-1zm0 3zm3 5zm3 4zm-3 4zm-2 4zm-3 3zm16-5zm2-12zm0-6zm2 1zm3-1zm-9 1zm-5 1zm1-6zm2-5zm2-3zm0-5zm12-1zm4-1zm-2 11zm3 2zm37-9zm-41-38zm-3-3zm-1-3zm-7 14zm-23 5zm-42 0zm-3 8zm1 14zm3 5zm-2 8zm9-1zm0 0zm2-9zm2-62zm-5-7zm0-3zm-14 5zm-3 0zm0 9zm-5 1zm-5-9zm-7 1zm-5 6zm-14-8zm0-3zm-1-11zm-5 0zm1-4zm3-4zm9-4zm-2 12zm12-5zm2 1zm4 11zm8-7zm7 0zm-4-21zm-3-10zm3-4zm7-2zm-3-5zm-10 3zm0-12zm9-9zm10 8zm4-4zm8-2zm12 0zm4 3zm3 10zm4 2zm-2 3zm4 2zm5 5zm6 7zm-1 5zm-11-4zm0-22zm6 1zm0-3zm1-18zm-1-2zm3-1zm-1-3zm0-5zm-4 2zm-3-10zm-2 1zm-2 2zm-14-2zm2-4zm0-2zm-10 0zm5-5zm-1-1zm0-11zm10-2zm-1-3zm2-1zm-5-1zm1-11zm-1-2zm1-6zm6-5zm4 2zm9 1zm-1 5zm-1 2zm-1 0zm-1-1zm5 2zm7-2zm4 1zm3-3zm1 7zm7-7zm13 0zm10 3zm-2 11zm5 10zm3-1zm1-1zm0 17zm6-2zm-2 6zm6 7zm1 1zm3 4zm6 0zm-1 2zm-2 1zm4 1zm5 0zm-1 2zm-2 2zm6-1zm6-1zm0 3zm0 5zm-1 2zm0 2zm-1 0zm-1-3zm-1 1zm-2 1zm1 9zm-3 0zm0-1zm-5 1zm0-5zm-6-2zm-5-5zm-4 3zm-1 0zm-1 2zm-1 4zm3-1zm-6 3zm-3-2zm-2-1zm0-7zm1-1zm0-3zm0 0zm-3 1zm-3-2zm-1-4zm-2 1zm-3-4zm-6 3zm2 5zm3 3zm0 4zm4-3zm-3 10zm-10 1zm-2-3zm-6 0zm-1-3zm4-1zm0-7zm-4-1zm-1-1zm1-3zm-2-1zm1-6zm-4-1zm-3 0zm1-5zm4-2zm0-1zm4 1zm1-3zm-2-7zm-2-5zm-6 4zm-8 2zm-3-18zm-6 0zm-2-12zm-5-4zm6-17zm3-6zm2-9zm1-1zm16 3zm6 5zm4 1zm6 9zm7-12zm-1-3zm7 3zm6 1zm2-1zm0 3zm-3 2zm4 3zm-1 2zm1 7zm6-4zm2-2zm6-3zm0 6zm1 7zm-2 2zm-4-4zm-2 7zm0 0zm0 3zm5 2zm6-1zm-2 6zm5-1zm1 9zm1 2zm-5-2zm0 7zm0 1zm0 7zm3 4zm5 0zm3 3zm3 1zm4-2zm2 1zm0 7zm-2 6zm-3-1zm8 1zm1 2zm-2 2zm3 5zm-5 1zm0 0zm0 1zm4 3zm6 0zm-2-2zm4-1zm5 0zm5-1zm1 1zm1-1zm3 3zm0 5zm4 1zm2 2zm2 4zm-6 2zm-2 1zm-2 1zm4 2zm2 0zm-1 7zm-2 2zm0 5zm2-2zm5 1zm-12-4zm-1-3zm1-3zm-4 5zm-8 3zm2 2zm-1 2zm-1-12zm-1-2zm-1 0zm-2-2zm-6 0zm0-1zm-2 4zm4 3zm1-1zm-1 6zm-11 4zm-4-1zm-1-2zm0 10zm-9-1zm-1 2zm-2-5zm-1-1zm-5-1zm1-4zm5-4zm-1-2zm2-2zm-1-2zm-1-1zm-7-2zm-2-15zm-1-2zm1-1zm-1-8zm0-1zm-3 2zm-2-3zm-2 0zm-3-2zm-1-13zm1-7zm-10-3zm0-6zm0-3zm-25-3zm-5-5zm3-23zm5-9zm-41 7zm-12-1zm-1 11zm-3-2zm-2 8zm-5 0zm-3 4zm-5 0zm5 9zm-1 4zm-11 3zm-3 8zm-1-1zm5 3zm4-1zm7 4zm5-3zm1 10zm8-1zm-2-4zm3-6zm5-4zm0 18zm2 5zm2-1zm-9 0zm0 7zm5-1zm-14-2zm-16-2zm0 7zm-6 11zm-7-7zm-3 1zm0-7zm3-6zm5-5zm-16-8zm-9 16zm-17 2zm-4-3zm-4 0zm1 5zm2 6zm9 1zm5 3zm-14 6zm28 1zm-2 9zm-29-41zm-6-1zm18-12zm1-10zm6-18zm30 8zm-5 12zm2-31zm5-10zm12-1zm4 1zm16 25zm-1 6zm9 0zm3-3zm7 42zm4 5zm-6 8zm34-5zm1 11zm14-3zm-2-12zm-2 0zm1-5zm0-1zm1 33zm-2 5zm-6 0zm1 16zm3 1zm11-12zm26 13zm-1 10zm3 7zm-5 6zm12 4zm9-7zm26 1zm3 6zm5-10zm-4-39zm-1-4zm-1-6zm-5 1zm-1 3zm-6-3zm20 2zm1 2zm0-6zm-1-1zm4 4zm18-1zm0-2zm-2-1zm-3-3zm8 0zm2-3zm-5-2zm-2-4zm-1-2zm-1-2zm1-2zm0-1zm1-5zm8 1zm2 4zm1 3zm-1 2zm-5-1zm-9 2zm-3 1zm-7-1zm3-7zm2 0zm-9 1zm-5-1zm2-5zm4-2zm4-2zm-2-7zm-2-3zm-5-1zm-1-2zm-5-3zm-5 0zm-2-1zm-2 1zm-4 4zm-4-2zm-2-6zm6 0zm2-3zm2-3zm1-6zm2-3zm-7-1zm-5-3zm6-10zm-3-11zm4-5zm2-2zm0 4zm2-6zm7 0zm1 3zm3 4zm2 7zm1 3zm-2 5zm-1 4zm1 5zm0 3zm3-3zm1 1zm-1 6zm-4 5zm9 6zm6-1zm0 5zm-1 7zm11-5zm-1-8zm0-7zm-4-2zm-3-5zm-4 0zm1-8zm-4 1zm1-8zm0-4zm1-4zm1 0zm5 1zm1 3zm6 5zm-1 12zm5 2zm2-3zm2-5zm11 5zm1 0zm6-1zm5 2zm-11 8zm-4 0zm-5 6zm-5-2zm2 8zm1 5zm3 7zm1 1zm4 5zm-7 2zm-4-2zm6 11zm-1 16zm0 1zm6 2zm-3 3zm1 5zm-9 0zm-1-1zm-1 1zm-1 3zm-2-1zm1 4zm6 5zm5-1zm-8-17zm23-10zm2-9zm3-3zm0-8zm-3-20zm-11-32zm3-5zm3-8zm0-1zm-7-1zm1-4zm-6-3zm1 8zm-8-1zm-3 0zm-4-3zm-2-3zm-1-2zm4-2zm-12 3zm1 4zm2 3zm-12-1zm1-11zm-2-3zm9-1zm-2 6zm-4-13zm7-3zm11-3zm9 8zm-3 29zm27-6zm18 21zm-79-11zm-2-4zm-23-1zm-3-1zm5-4zm1 0zm-2-12zm5-3zm8 0zm-1 4zm2-11zm-2-6zm-27 11zm3 11zm2 2zm-5 55zm-4 25zm3 5zm2 1zm2-1zm0 3zm9-11zm3-7zm1-1zm17 8zm1 2zm2 5zm0-25zm2 2zm-26 50zm-104 24zm2 9zm-67 43zm7 9zm-16 2zm-20 6zm18 59zm-55-143zm277 78zm113-79zm6 3zm-2-11zm-1 1zm0-14zm1-4zm-11 10z"/>
<path stroke="#90d643" d="M33 63zm-3 22zm11 7zm6-6zm19 2zm0 6zm-2 12zm-8 1zm1 7zm0 7zm-3-1zm-8-4zm1-6zm25 0zm2-7zm0-16zm-1-16zm3-13zm-15 4zm29 3zm5-2zm0-2zm1 7zm2 0zm1 5zm0 5zm6 0zm-3-8zm12-1zm3-1zm-1 6zm4 4zm0 7zm-3 1zm10-1zm6-1zm7 2zm2-7zm-1-2zm2-1zm-6 1zm-7-1zm4-5zm9-2zm1-2zm-3-5zm14-1zm4 9zm-3 3zm1 3zm0 1zm1 3zm-9-6zm1-5zm17 3zm3-1zm1-7zm8-1zm1 0zm0 5zm1 1zm2 5zm-4 2zm0 1zm-4 3zm0 8zm4-1zm2-2zm5-1zm0-2zm3-5zm7 1zm1 0zm1-8zm1-5zm2 2zm2-1zm-3-7zm7 0zm9-6zm2 1zm6-2zm1-2zm-1-4zm2-1zm1-6zm-2-4zm1-4zm0-1zm1-1zm-1-1zm1-3zm-3-6zm6-5zm3 8zm6 4zm4 7zm5 1zm3-2zm-1-7zm-1-11zm3-2zm4-1zm2 3zm4-7zm7 4zm0 0zm0 9zm-3 4zm1 5zm-2 0zm0 2zm5-2zm1-4zm1 0zm2 1zm3 2zm1 0zm2 2zm-4 0zm5 3zm1-5zm0-3zm2-4zm2 1zm3-3zm6-1zm4 6zm-1 4zm-5-1zm-1 0zm0 1zm-3 2zm-2 1zm0 1zm2 2zm1 1zm3-1zm2 0zm-2 3zm3 1zm3 1zm1 2zm1 2zm-2 0zm2 5zm7-1zm0-1zm-2-1zm-1-1zm0-5zm0-1zm4 2zm1 3zm1-5zm1-3zm-1-2zm-1-2zm-2 0zm0 2zm-3-2zm2-3zm4-2zm2 4zm-3-9zm-4 0zm-3 2zm-2-10zm-10-2zm0-2zm-2-1zm-1-1zm1-1zm-7-1zm-6-2zm1 11zm2 0zm0-2zm5-1zm-8 8zm1 24zm1 2zm2 1zm2-2zm-2-2zm4-1zm1 0zm2 0zm-1-3zm-1-2zm6 6zm-1 2zm3 0zm0 6zm2 3zm-3 4zm-5 3zm0 4zm-1 3zm4 1zm-1 2zm2 4zm5-1zm0-2zm5 0zm0-7zm3-1zm-1-2zm6 0zm1-5zm4-2zm0-1zm-1-6zm4-1zm4 0zm1-1zm-3 5zm7 4zm-1 2zm1 4zm0 4zm0 3zm2 0zm-3 1zm-5 2zm0 4zm0 1zm-9 0zm0 2zm-4-1zm-2 7zm-3 0zm-1-3zm-7 1zm-1 3zm-1 7zm0 0zm0 1zm-3 1zm-2 1zm0-7zm-5 0zm-1-2zm-1-1zm-4 1zm4 5zm-1 5zm-4 1zm-5 0zm-2 4zm2 7zm1 3zm-2 2zm6 0zm4-1zm-1 4zm0 2zm1 0zm2 0zm5 2zm3-1zm1 2zm2-1zm1-2zm1-2zm1-1zm1-1zm0 3zm1 2zm1 0zm2-1zm1 2zm1 0zm1-1zm0 0zm0-3zm1-1zm-2-2zm-2-4zm0-2zm-4 1zm4-6zm2-4zm0-1zm3 1zm0 7zm3 6zm0 1zm0 2zm-3 9zm-4-1zm-2 1zm-2-1zm0 6zm-1 3zm-4 2zm-4 0zm2-4zm1 1zm0-5zm-5 2zm1 1zm-9 0zm1-2zm-4 2zm-2-1zm0 3zm-2-4zm-1-1zm-1-3zm3-3zm1-1zm-10-1zm-1 2zm0 0zm-3-1zm-2 2zm0 4zm1 1zm1 4zm1 1zm2 1zm1-1zm5-2zm-2 11zm-4 0zm4 4zm-8 3zm1 3zm5 5zm-1 4zm5-1zm5 0zm1 1zm-3 5zm-11 0zm1 1zm-4 5zm-2 5zm-6-1zm0-1zm2-1zm-5 0zm0-6zm1-1zm-6-1zm-4 2zm-3 7zm2 4zm1 1zm4-2zm-13 4zm-16-1zm0 8zm-5 4zm-10-4zm-4-7zm1-7zm4-1zm6-2zm-4-5zm2-7zm-1-2zm-1-3zm4-10zm3 0zm-1-3zm1-3zm0-4zm1-1zm5 0zm0-4zm-4-2zm-1-2zm-2 3zm0 0zm-3-5zm-3 0zm-1-1zm-1 5zm-4 2zm5 3zm3 6zm14 1zm2-1zm2-2zm0 0zm-3-1zm6-4zm6 1zm0-8zm-4-2zm0-4zm-1-1zm-2 1zm0-2zm2-2zm-1-2zm0-1zm-1-2zm-4 2zm-5-1zm-1 0zm0 3zm-2 0zm-2 2zm-2 3zm-3-1zm-2-2zm-5 0zm-6 2zm3 3zm-4 4zm-1-1zm-1 1zm-2 1zm-1-4zm-5-3zm-6 1zm4 5zm1 8zm-3 2zm0 6zm-5-2zm0-6zm-9-1zm0 2zm1-9zm0-4zm-7-5zm-2-8zm-3-1zm-3 2zm1-6zm0-6zm16 5zm3 0zm-2 8zm10-2zm8-6zm-3-4zm8 12zm5-1zm9 2zm2-1zm0 0zm2-3zm7 0zm-2-2zm3-1zm9-2zm2-1zm1 0zm4 3zm2 4zm1 3zm0 3zm0 4zm2 1zm-2 4zm1 3zm0 3zm4-1zm1-2zm0-4zm2 0zm3 0zm3 0zm2 2zm-4 0zm1 2zm-1 2zm0 5zm3-2zm5-1zm2 6zm-1 3zm-1 7zm-3-2zm-4 3zm-4-1zm1-4zm-2-6zm-1-5zm0-1zm-5 10zm-7 7zm1 5zm7 6zm16 2zm0-4zm17-1zm6-3zm0-2zm6-1zm4 1zm0 0zm2 1zm-4 2zm2 6zm8 0zm4 3zm5-4zm-3-4zm9 0zm1-4zm1 1zm-4-1zm8-2zm-1-3zm-2 0zm5-2zm4 4zm4-6zm0-6zm-1-3zm-3-1zm-5-4zm-6 2zm0 1zm0 2zm1 0zm1-1zm1 1zm-6 0zm-1 0zm1 2zm-3 1zm0 1zm-1-2zm0-3zm0-1zm1 0zm5 9zm-12 4zm-2 1zm-13-2zm0-4zm-1-1zm-3 0zm-3 4zm4-31zm-2-4zm4-2zm6 3zm0 1zm-1 9zm5-1zm4-14zm-1-2zm7-3zm12 0zm-2-4zm7-2zm-3-7zm-1 19zm2 7zm5 0zm4 0zm1-7zm-1-2zm0-3zm1-1zm5 3zm2-5zm3-2zm6 7zm3 8zm10 4zm1 1zm9 0zm-1-23zm-26-13zm-3 1zm-2-1zm-1 4zm1-11zm3-1zm7 0zm1-2zm2 1zm-7 5zm-4-15zm0-24zm-10 9zm-2-18zm-1 0zm-1-1zm-3-3zm-5-12zm-6-4zm-5 33zm5 18zm-17 0zm0 0zm-3 1zm-5-2zm-2 3zm4 4zm-10-7zm-4-3zm-2 0zm0 0zm-1 0zm0 3zm-5-2zm1-4zm5-3zm3-1zm2-1zm-3-2zm-2-1zm-12 2zm-1 1zm0 2zm-3-1zm-5-3zm-3 5zm-3 5zm-4 2zm1 7zm1 1zm6 1zm-1 1zm0 7zm1 1zm0 0zm-6-1zm0 15zm1 3zm6 3zm3 0zm-1 3zm4 2zm3 0zm4 3zm2-6zm1-5zm-3 0zm8 2zm-1 7zm-4 8zm-5 2zm1 2zm-3-5zm-3-1zm-6 0zm0 4zm2-1zm-6 0zm-2 2zm0-5zm-3 1zm-3-9zm-6-5zm-6 5zm-1 1zm-11 0zm-1-2zm-3 5zm-3-1zm-4 2zm-4-10zm-1-16zm-2-2zm2-15zm-2-4zm2-12zm10 0zm6 0zm2 9zm3-20zm1 0zm-26 1zm-5 9zm-12-4zm-2-3zm-5 12zm-2 3zm-5 0zm-5-3zm-2-2zm-17 10zm-5 3zm0 1zm-3-6zm-2 0zm-3-6zm0-9zm-12 13zm-2 4zm11 9zm1 0zm2 4zm-1 38zm-2 8zm1 6zm11-2zm0 11zm-2 2zm13-1zm6-7zm0 15zm11 4zm0 0zm-20 4zm-5-4zm-11 3zm-6-1zm-6 3zm-2-7zm-7-4zm0-1zm0-16zm-6-3zm0-12zm-2 1zm4-11zm2 0zm0-4zm-4-2zm-5 2zm18 15zm1 0zm-21 34zm3 10zm-14 0zm-1-5zm-2 8zm-7-2zm3 15zm-2 4zm-2 3zm-2 3zm-2 1zm-3 1zm-9 1zm-2 4zm4 0zm1 13zm2-1zm5-1zm8-3zm6 3zm2 3zm13 0zm-2-4zm6-1zm4 1zm0 1zm5 6zm-2 3zm-3 5zm12-1zm4-8zm2 0zm0-6zm2-10zm1-3zm4-2zm5 0zm4-7zm10-5zm12 0zm4 5zm-9 3zm-2 12zm-14 0zm2-3zm-1 9zm-3 7zm-5 15zm-4-27zm-6-12zm-2-6zm-12-1zm-1 0zm3 5zm-5 3zm3 9zm0 1zm1 1zm-23-3zm-6-1zm-3-4zm6-1zm6-1zm1-7zm1-5zm7-1zm-11-3zm-18 7zm-17 0zm2-8zm3-2zm-14-14zm-13 9zm1-22zm34 6zm8-7zm40 30zm13-3zm3 0zm0 4zm12-5zm36 0zm6 4zm4 0zm8 5zm0-10zm-3-4zm-1-9zm2-25zm30 6zm1 5zm-3 17zm5 4zm-8 3zm3 11zm0 5zm2 4zm2 1zm2-3zm-7 4zm-3-3zm-31 7zm-7 0zm1-3zm-1 11zm10 1zm2 10zm0 16zm0 9zm-11 4zm-7 15zm-11-1zm-3 0zm-1 14zm11-1zm-6 12zm3 6zm2 5zm2 1zm2 0zm3 3zm2 5zm0 1zm4-2zm5-4zm2-4zm-5-1zm6-5zm4 3zm10 2zm-12 18zm2 3zm-4 1zm-3-1zm-3-2zm-1 0zm-4 2zm-3 1zm-2-1zm-4-3zm-2 0zm-2-3zm-4 1zm-1 1zm1-4zm-2 0zm1-2zm-2-3zm-1-4zm0-1zm-1-2zm-3 1zm-4-3zm-3 0zm-3 1zm-3 0zm1 4zm2 0zm0 1zm3 0zm0-1zm2 2zm0 2zm-3 1zm7 0zm-1 3zm0 1zm2 1zm-1 1zm-1 2zm-1 1zm-2-1zm3 3zm1 1zm0 1zm3 2zm-1 2zm-5 1zm-2 3zm-2-5zm0-1zm-3 1zm-4-5zm4-5zm-6-3zm0 0zm-1-2zm3 0zm2-4zm-3-2zm-12-1zm0 3zm2 7zm0 1zm-6-2zm1 6zm-2 1zm-1-1zm1 8zm5 0zm2-1zm3 3zm0-6zm0 16zm-13 4zm-6-5zm7-6zm-9-12zm-4-1zm-2-1zm5-9zm-1-8zm1-5zm-10 0zm2-2zm-4 5zm-5 8zm-3 0zm-2 2zm1 6zm6-1zm-11 4zm2 7zm-10-2zm-1-7zm1-1zm2-3zm-11-5zm2-5zm-1-4zm2-9zm-3-3zm-4 0zm0-11zm6 1zm6-1zm1-7zm10 5zm17 5zm-2 7zm6-1zm11 5zm3 3zm6 5zm6-2zm0-2zm8 0zm8 2zm2 1zm6 2zm6 3zm0 2zm1 3zm9 3zm1 1zm-1 7zm-6 9zm-3 0zm8 7zm5-2zm0-3zm-8 17zm-24 2zm12-30zm-40-13zm13-18zm3-5zm5-1zm-4-4zm-4-3zm6-2zm-15 3zm-14-7zm-13-22zm-4 3zm-4-11zm10-7zm63-2zm14-2zm0-4zm4-2zm22 37zm2 1zm0 7zm-12 3zm2 6zm3 1zm-7 9zm-3 5zm52-4zm-3-33zm-26-1zm46-20zm22-3zm3-8zm5-16zm28-5zm13-13zm14-9zm9-14zm13 2zm5 4zm12-4zm7 3zm4 1zm2-3zm3 0zm1 1zm1-7zm-5-2zm-1 5zm-6-5zm10-10zm4-1zm2 0zm1 2zm-8 26zm-10 8zm-5-4zm-4 6zm16 12zm0 0zm-20 32zm0 28zm-1 29zm-28-2zm-14-11zm-12-4zm-12-14zm-15 5zm-14-120zm-9 7zm0 1zm-3-1zm-4-4zm-1 0zm-3-1zm-16 2zm15-19zm6-13zm2 1zm2-3zm0-5zm3 0zm-1-6zm2-1zm-4-6zm-1 0zm-2 3zm-2-6zm-1-9zm9 3zm6 5zm3 3zm3 1zm2 4zm-1 4zm-5 2zm0 8zm8-1zm9-1zm1-2zm2 0zm1 5zm0 2zm3-1zm1-1zm-12-32zm-41-8zm-7 16zm-6 9zm-5 4zm-5 2zm5 8zm3 2zm-6 4zm-5-3zm-3-2zm21-2zm4 0zm-6-5zm19 3zm-3-60zm1-11zm-63 52zm141 45zm8 11zm1 2zm0 0zm-4 8zm-1-1zm-316-24zm38 134zm3 39zm-6 4zm12 14zm13-29zm1-3zm7 9z"/>
<path stroke="#55c666" d="M12 113zm14 4zm13-7zm-4-9zm3 32zm-29 8zm3 22zm-3 12zm37 18zm6 5zm4-8zm8 21zm9 10zm-2 6zm-10 15zm-1 0zm1 24zm0 5zm2-1zm7 0zm0-4zm3 16zm-9-2zm23-1zm6-8zm13-1zm-2-7zm-2-6zm-7-1zm-9-3zm-6-6zm-35 8zm5 9zm64 7zm4 3zm2 3zm1 2zm-2 6zm-2 2zm3 3zm8 6zm-1 4zm13-2zm1-5zm-5 0zm-1-6zm-1-4zm3-1zm2 0zm1-4zm1-4zm4 1zm3 1zm0 4zm-1-1zm2 5zm3 7zm2 5zm8 2zm7-3zm5-4zm4 2zm3-4zm-4-7zm-8-3zm-2-2zm-4 7zm-9-9zm-1-16zm-1-12zm-12 5zm0 9zm-10 3zm0 0zm-2-2zm0 18zm37-20zm7 6zm5-2zm-1 5zm0 1zm3 0zm3 5zm14 7zm0 1zm-3 12zm-1 0zm1-35zm-12-23zm1-2zm1-8zm4-8zm-11-1zm8-32zm-21 0zm0-12zm-12-4zm-3-2zm-4 6zm0 12zm4 0zm-15-6zm-12 4zm1 2zm-6-5zm-14 0zm2-4zm-3-14zm-20 0zm1-5zm-9-5zm1-42zm12-19zm-6-15zm0-7zm18 0zm3 2zm7 4zm4 3zm4-18zm2-15zm-12 0zm-5-1zm-6 14zm43-3zm5 1zm2-2zm1 9zm-11 10zm-2 17zm-1 2zm-1 3zm-5-2zm1 11zm-2 1zm-1 0zm1 9zm4 8zm16-2zm2 9zm-8 14zm-5 5zm-7-3zm-17 0zm1-9zm-13-6zm-5 59zm-4-2zm-10 9zm23 3zm0 13zm37-6zm32-41zm18 3zm5-23zm3 1zm-1-8zm10-5zm9 3zm11-5zm1-8zm-1-4zm-4-2zm0-4zm5-4zm0-1zm7 0zm0 2zm3 0zm-4-4zm-2-3zm-7 0zm-4-2zm-2 1zm-8-1zm-2 3zm1-8zm2-3zm12 1zm8 0zm-1-4zm4-3zm2 7zm2 1zm3-3zm6-1zm-2 4zm0 5zm4 2zm-2 2zm-4 3zm3 6zm0 9zm1 5zm0 7zm-4 0zm-4-3zm-3 1zm-2 1zm-3 8zm0 8zm16-1zm7-6zm-1-5zm8-7zm-4-5zm1-5zm-3 1zm2-6zm1-1zm5 6zm8 5zm1 2zm10-4zm0-3zm0-2zm3-3zm3 5zm2 0zm6-2zm1-6zm-6-1zm0-5zm3-6zm0-3zm-2-1zm-3-4zm0-4zm0-1zm-3-3zm-1 6zm-7-2zm-8-1zm-8 0zm-2-5zm3-2zm1-3zm2 2zm-8-4zm-4-2zm-4 0zm-9-2zm-7-1zm-2 1zm3-4zm1-1zm4-5zm2-5zm2 0zm-3-7zm-5-3zm1-2zm-5 1zm-8-8zm2-12zm4-5zm-10 1zm3-10zm16-3zm1 20zm6 5zm2-1zm2-1zm-3 4zm7 5zm4-3zm4 3zm7 5zm6 0zm0-7zm5-4zm1 9zm5-1zm0-3zm7 0zm-1-4zm-1-2zm4 0zm3 5zm-1 6zm0 0zm2 1zm-4 0zm-5-1zm0 7zm0 6zm-3 1zm-1 8zm6 3zm7 0zm1-1zm-2-2zm2-4zm0-4zm0 0zm2-4zm5-3zm0-13zm-4-6zm-13-5zm-5-2zm-3 0zm3-3zm-1-6zm6-2zm2 6zm1 0zm-14-1zm-2 1zm-3 6zm-3 1zm-3 0zm-2 2zm2 3zm-4 19zm-3 0zm-5 4zm2 6zm9-1zm1-3zm4-3zm9 8zm-1 8zm2 7zm0 2zm4-4zm10 3zm5 1zm0 4zm7 0zm1-2zm0 0zm4-1zm-1-4zm5 1zm0 1zm3 5zm8-7zm4-2zm1-2zm2 1zm4 2zm3-5zm8 0zm4 0zm1-6zm-7 4zm-2 9zm2 7zm-5 7zm1 4zm-6 0zm-1 4zm4-1zm0 6zm7-1zm1 2zm4-2zm1 4zm-1 4zm-4 7zm-8-2zm3-3zm-10 0zm0 1zm1 4zm-5 0zm0-1zm1 6zm7 0zm0-1zm0-1zm1 11zm0 4zm4-1zm1 0zm-1 7zm5-1zm3 0zm2-3zm4 5zm-8 1zm-10 5zm0 6zm-7-8zm0-5zm-1-1zm-2 0zm4-4zm-2-4zm-6 0zm-2 0zm0-2zm0-1zm-2 0zm-1-3zm-2 1zm1-6zm1 1zm2 1zm3 2zm2 2zm0 2zm-3-9zm-1-4zm-2-1zm-5 0zm-1 1zm-1 1zm-1 3zm0 2zm-5 3zm-4 3zm0 3zm-1 3zm3 2zm3 1zm1 2zm0-5zm1-2zm1 0zm3 0zm-1 2zm4 2zm0 3zm2 0zm1-1zm0 4zm-1 6zm-1 1zm-4 0zm-2-3zm-7 0zm-2-2zm3 6zm-4 5zm-3-1zm-2-3zm-1-4zm-2 0zm0-6zm-3-2zm-2-2zm1-2zm2-2zm4 0zm-1 3zm2 0zm-2-8zm0-1zm-4 17zm-6 0zm0-1zm-3 1zm0 5zm1 0zm-4-2zm-2 1zm1 8zm0 5zm-1 3zm4 2zm-2 4zm-2 7zm4 2zm2-3zm2 10zm-9 0zm-2 2zm-3 5zm0 7zm5 4zm7-1zm4-4zm8 4zm-2-15zm1-15zm-1-3zm3-1zm-2-12zm-11 0zm-4-22zm-7 5zm-12 12zm2 15zm1 2zm-1 7zm1 3zm9 3zm-8 15zm16 13zm5 4zm6 2zm7 6zm4-1zm-15 7zm-17 0zm5-6zm3 18zm41 0zm0-4zm16 0zm11-1zm-3-15zm-5-23zm23-1zm3 7zm21-6zm-6-9zm-4-22zm-2-7zm-1-9zm-10 1zm-1-2zm1-2zm2-1zm1-4zm1-5zm-4 0zm1-6zm0-10zm2-5zm-6 1zm13 0zm-1 11zm11-6zm3-3zm0 6zm0 9zm5-17zm-7-11zm-2-4zm-4 8zm-10 0zm1-12zm-1-4zm4 6zm-12 0zm1-1zm-7-5zm1-4zm2-1zm-7 9zm-16 3zm2 5zm-9-6zm-2-2zm1-5zm-4 8zm1 1zm-3-2zm-3-3zm-2 0zm-1-2zm-2 0zm1-3zm-7-1zm-7 8zm-3 2zm8 7zm6-2zm-33 1zm1 4zm-11-3zm0-5zm4 1zm-8-6zm1-4zm-3-1zm-5-1zm0-3zm-5 4zm4 12zm-18-4zm-3 19zm-16-2zm-7-5zm-2 2zm-12-7zm-1-11zm-1 0zm-4 0zm5-4zm-7-15zm-8 5zm0-11zm-11 6zm1 3zm-6 5zm-8 3zm-13-6zm-2 17zm-3 0zm32 19zm4 1zm1 0zm8-1zm5-5zm-1-1zm-9 28zm2 5zm-19-1zm-6 1zm64 13zm0 16zm9-6zm5-5zm5 4zm68 10zm3-22zm49 13zm6-3zm3 4zm0 3zm16-15zm-33-31zm-16-44zm-5-15zm-13 0zm2-4zm2-2zm0-10zm3-9zm4 1zm2-8zm6 0zm-11-7zm18 25zm-34 8zm-2 9zm-1 2zm-40-9zm-4 2zm-17 14zm-7-1zm-1-4zm-10-17zm-9 3zm-16-3zm-5-5zm-7 8zm1 2zm13 7zm2-27zm-16-2zm-8 5zm-5-3zm-6 3zm-1-7zm2 16zm-16-5zm-11-12zm-2-9zm-11 11zm31 32zm47-47zm48-7zm-4-5zm12-3zm9-4zm-25 39zm24 48zm117 1zm-12-59zm-313 46z"/>
<path stroke="#2bb17d" d="M38 86zm-15 28zm40 18zm20-11zm2-11zm31-12zm-6-17zm11-22zm7-11zm10 4zm-1 9zm4-22zm23 2zm4-5zm-7 28zm-2 3zm-5 33zm-18-10zm38 19zm17 15zm3 1zm10 13zm-12 11zm-7 1zm2 8zm0 1zm25 3zm14-34zm10-2zm3 0zm0-1zm2 2zm19 1zm5-4zm-1-6zm-1-3zm2-7zm4 3zm-18-2zm-3-1zm3 6zm-20 2zm-8-3zm-2-11zm12 2zm-1-6zm1-1zm7-4zm3-7zm0-16zm-8-5zm-8-5zm-5-9zm2-4zm-9-2zm1 23zm-11 43zm53-14zm6-22zm12 2zm1-1zm0-15zm0-5zm6 0zm7 6zm8 6zm-1 12zm7 2zm0 9zm6-1zm3 2zm8-7zm16 6zm7 2zm6 8zm-2 3zm-2 8zm4 2zm1 3zm-4 3zm1 4zm2 1zm2 4zm1 2zm0 4zm-3-2zm-4 1zm1-5zm-3-1zm-10 0zm-1-2zm1 5zm-2 1zm0 3zm2 3zm3 4zm1-1zm-1 5zm-1 1zm7 1zm9-1zm6-2zm5 3zm-1 7zm-4 4zm-6-2zm-1 5zm-5-2zm0-4zm3-4zm-5-14zm-7-5zm1-10zm3-2zm1-3zm-2-2zm-6 1zm0-4zm1-1zm0-8zm-4 0zm8 3zm15 3zm1 1zm2-6zm-1-5zm2-7zm9 18zm-1 13zm2 4zm-8-1zm2 10zm2 4zm2-1zm-9-2zm18-2zm-1-5zm9-6zm9 6zm-15-16zm-2 38zm-4 2zm-10 23zm-6 5zm-10-3zm1-6zm15 17zm-20 12zm3 18zm-6 4zm0 2zm-11 10zm-5-5zm-3-15zm-2-5zm-5 1zm-2 4zm-5 1zm0 0zm-2 0zm-1-10zm4 0zm1 1zm0 1zm-21 0zm0 3zm0 9zm-9-2zm3-11zm-4-5zm9-4zm-1-4zm0-5zm-3-3zm3-9zm-1-4zm8 2zm4 0zm-2-5zm5-2zm1-3zm1 0zm5-4zm6 0zm-1 5zm-4 7zm0 11zm-5 5zm-7-2zm0 6zm-1 1zm2 3zm19-9zm5-26zm-4-6zm2-6zm4-1zm1 3zm4-2zm-1-10zm-7 1zm0 1zm6-10zm3-3zm-1-1zm-1-1zm-4 1zm-5-3zm-4 0zm-10-6zm1-8zm-13 2zm1 8zm3 0zm-1 12zm0 3zm-4-1zm-1-4zm-9-3zm-6 5zm13 9zm13-6zm3 11zm2 0zm-3 2zm-2 6zm-31-1zm-2-6zm5 22zm20 61zm50 20zm-18-136zm-35-16zm-1-4zm-5-7zm1-2zm6-42zm7-4zm1 1zm3-5zm-15-4zm-7-20zm23 6zm25 5zm5 5zm-8 22zm5 7zm5 1zm24 1zm-49-7zm-47 1zm-6-24zm-1-1zm-12 1zm-10-9zm16-18zm-150 43zm17 86zm10 27zm10-5zm18 3zm-7-13zm-9 39zm-7 0zm32-5zm12 6zm7 38zm-21 44zm-14 10zm-12-8zm-9 7zm-8-1zm0 12zm-21-2zm-1-8zm-7 23zm47 7zm-16-48zm-15-31zm-25 24zm-2-2zm-13-7zm-8 7zm-6-80zm-2-15zm29 30z"/>
<path stroke="#1e9a89" d="M92 66zm24 10zm34 8zm46-14zm7-26zm-1-2zm20-18zm16-16zm18 9zm29 12zm9 4zm-14 4zm-5 12zm-1 20zm7 5zm-16-8zm-6-7zm-5 2zm-9-5zm-7 6zm-11 4zm41 21zm-4 9zm8 23zm7-2zm16-14zm17 5zm11 1zm6 4zm7 2zm1 10zm-4-1zm-5 2zm-1-5zm-9-4zm-9 6zm-5 9zm17 9zm0 1zm4-5zm7-3zm-1 11zm-1 0zm-4 2zm0 7zm1 1zm-5-2zm-3-1zm5 10zm-4 4zm-7-4zm-5 10zm-10-1zm-4 7zm-8 1zm2 3zm-2 4zm4 9zm5-1zm1 8zm-2 3zm-3 7zm11 0zm4 6zm1 1zm2-1zm4-1zm-2 4zm-9 2zm-1-1zm1 4zm-8 6zm-30-14zm15-40zm22 3zm1 0zm1 5zm2 4zm3-1zm5-3zm5 7zm4 0zm5 6zm-9 2zm-1 0zm0-1zm-7 0zm-2 1zm7 6zm18 6zm5 5zm-11 1zm2 3zm19-11zm4-18zm0-8zm3 2zm5 0zm-1 10zm-21 1zm5-13zm8-10zm1-6zm0-1zm-3-1zm8 0zm3 7zm2-14zm-12 0zm-5 3zm1-10zm-2-1zm-2 0zm7-1zm1 1zm0-5zm-4-7zm0-5zm7 1zm-2-13zm-3 3zm9-8zm7 4zm2 7zm-1 1zm3-2zm0 18zm4-2zm-17 11zm-21-1zm-4 14zm-6 15zm5 6zm-38-27zm2-5zm-4-9zm-4-5zm1-2zm-44-8zm-17 19zm3 6zm-3 11zm24-6zm-47-7zm0-1zm7-33zm-21-6zm10-14zm-24 27zm-10 9zm-22 7zm-17 22zm17 23zm35 0zm5-4zm-6 38zm-14-3zm0 40zm-4 11zm-10 2zm2-16zm-13 8zm-8-25zm0 50zm19 9zm24-25zm-76 7zm1-16zm-19-28zm-30 16zm20-54zm1-2zm22 5zm24-5zm-81-35zm13-36zm285-22zm-1-4zm-6-7zm2-14zm-12-4zm29 6zm10-11zm4 25zm-5 9zm1 3zm-14 0zm32-3zm6 2zm-2-9zm9-2zm-57-46zm-7-17zm25 242z"/>
<path stroke="#25838d" d="M82 47zm11 21zm-15 20zm54-27zm9 62zm-11 32zm65-26zm8-48zm46 3zm9-6zm-7 25zm-1 7zm-7-6zm28-4zm4 2zm3-6zm7 12zm13-2zm13 0zm2 0zm1 2zm6-5zm5 5zm5 12zm1 4zm3 5zm11-8zm-1-12zm-2-6zm1-4zm-1-9zm-10 3zm29-4zm6 28zm-16 15zm-2 14zm-8 1zm0 9zm1 14zm-7-3zm-2 0zm-2 0zm-1-4zm-7 2zm-5-1zm-5 6zm1 2zm4 10zm0 3zm2 6zm-8-1zm0-2zm0 6zm1 0zm0 2zm-2 0zm8 6zm6 2zm12 2zm-1 3zm4-9zm5 2zm-3-7zm-10-1zm5-18zm15-1zm1 11zm-2 31zm-8 1zm-27 1zm-12-31zm-2-4zm-12 0zm2-24zm-1-11zm-8-14zm-3-12zm-11 10zm-1 35zm-9 17zm49-25zm2 0zm11-10zm7 0zm-3-10zm-8-3zm-3-15zm-11 8zm1-50zm10-29zm-19-8zm-19 5zm-18-7zm-4-17zm-8-2zm-27-15zm56-5zm25 5zm8 19zm17 8zm11 29zm48 39zm-7 39zm9 7zm-18 5zm-4 0zm-181 63zm2 71zm-43-9zm2-10zm-17-2zm-6 10zm-6 28zm-26-22zm-12-23z"/>
<path stroke="#2e6b8e" d="M82 84zm56 29zm-2 27zm-32 26zm-10 0zm91 9zm50 0zm2-23zm-3-35zm12-6zm6 17zm26 6zm3 6zm5 0zm13 4zm7 1zm1-19zm1-1zm4 0zm7 0zm6 3zm-3 5zm-1 2zm-2 2zm22 0zm2-2zm3-11zm-7-3zm-5-10zm22 2zm9 3zm6 1zm-2 5zm7 5zm2 2zm7 2zm-19 3zm-12 22zm-1 13zm-8 7zm-9 6zm-9 1zm-4 7zm-3 0zm-3 6zm-4 3zm-12 5zm-13 0zm-1-1zm-3-2zm5 11zm1-23zm4-11zm9 4zm7-2zm2-4zm4-4zm-4-8zm26-1zm-1 31zm-2 3zm0 7zm5 0zm-10-3zm-5 5zm0 18zm2 5zm2-37zm-56-25zm-9 2zm36-39zm1-2zm3-4zm-10-12zm-23-20zm-14-26zm-27 6zm7-27zm32-34zm-6-10zm24 11zm4 52zm48 26zm26-8zm-172-6zm-24 24zm34 22zm-12 144zm5 7zm-57 3zm-47 14z"/>
<path stroke="#3a528b" d="M124 64zm45 9zm4-37zm66 19zm39 1zm3 4zm-3 17zm8-40zm16 2zm4 3zm19 22zm14 28zm3 8zm8 4zm-13 8zm-4 3zm7 6zm0 5zm-4 4zm15 0zm-1 2zm-1 7zm-4 2zm-4 13zm11 6zm10 7zm-6 16zm-8 1zm-6 0zm3-4zm-8-10zm-10-1zm-2 5zm-9 1zm-7 15zm-5 3zm-5 12zm-1 1zm-5-2zm-9 11zm4 19zm19-8zm6-12zm10 6zm8-13zm-1-15zm-13-44zm-2-11zm9-12zm-4-10zm-7-3zm-20 17zm-9-2zm-13 0zm-6-11zm-6 28zm21 28zm9-4zm66-39zm7-3zm7 0zm7-8zm-9-6zm4-9zm-18-25zm37 55zm-1 3zm-158-33zm44-81zm2-3zm54-19zm-222 153zm-32 127zm103-2zm-5-11z"/>
<path stroke="#453580" d="M50 112zm62-41zm14 1zm45-23zm60-11zm36-2zm14 9zm21 33zm0 28zm9 10zm0 21zm6 6zm3 3zm-2 2zm3 8zm2 3zm3-15zm4-14zm7-5zm-4-7zm-2-1zm-2-7zm-1-12zm20-1zm-1-8zm4 26zm0 29zm2 3zm1 0zm6 1zm6 4zm-3 7zm-13 8zm1 2zm-8 0zm2 8zm-7 5zm-1 12zm-4-1zm10 0zm-5 17zm-8-38zm-6 6zm-20-15zm-18-18zm-2 52zm16 5zm-38-21zm-14-71zm0-7zm88-45zm1-5zm36 79zm-215 74zm-46 24z"/>
<path stroke="#471567" d="M84 66zm70 24zm61 16zm15-52zm16 1zm-2-18zm19 31zm-2 16zm22-28zm51-2zm12 16zm7 7zm-2 8zm0 4zm0 7zm-11 4zm-18 1zm-9 14zm-6-3zm15 13zm12 0zm1-4zm-4-3zm0-1zm11 0zm7 0zm2 1zm-3 2zm-1 3zm0 0zm-2 0zm1 7zm3 2zm-1 4zm-10 0zm0 4zm1 9zm2-2zm4 1zm2 1zm3 8zm-5 1zm-11 1zm0-2zm-2-3zm-4 1zm-3-1zm0-3zm-4 0zm-1 6zm-7 2zm-2 1zm-2 6zm-1 6zm-10-2zm2 6zm-9 0zm-7 6zm0 0zm-1 13zm2 5zm2 0zm0 11zm4 4zm6 1zm9 1zm6-2zm-1-4zm3-7zm1-3zm-4 0zm1-6zm-2-10zm2-4zm3-2zm3 0zm0 1zm5-2zm-1-1zm9 3zm1 4zm4 2zm3-5zm5 4zm5-8zm3 1zm5-3zm-23 0zm3-4zm1-4zm1-2zm-3 1zm-4 0zm-1 3zm4-7zm0-14zm-4-3zm-11-1zm-7 9zm-13 2zm-3-20zm39-6zm3 0zm26 3zm-6 8zm16 17zm-2-47zm-1 0zm6-1zm-50 79zm-2 0zm0-1zm0 10zm-1 0zm5-2zm-4 8zm-3-1zm-1 4zm1 3zm5 1zm-4 6zm-8 2zm0 3zm-3 6zm24 3zm4-19zm-4-7zm-36 4zm-4-6zm-5-11zm3-6zm-141 4zm-64-2zm33 60zm34 33zm-152-112zm305-143z"/>
</g>
<path transform="translate(1415 1420) scale(0.5)" d="M619 1l7 10 28 26 16 18 47 80 18 28 13 16 29 26 13 16 10 20 7 21M807 269l-3 10-7 12-36 42-14 20-29 68-13 22-10 10-14 9-30 17-18 5-20 2-18-3-18-6-16-8-10-10-7-10-17-42-8-14-17-14-19-8-30-1-42 5-86 26-34 5-88 17-42-1-14-2-30-16-21-15-14-18-9-16-4-18 1-38-27-48 1-14 9-12 26-23 8-2 16 1 6-2 4-6 0-16 2-8 22-22 15-20 17-14 38-23 18-8 20-6 74-18 60-11 54-26 38-14 10-6M258 633l-23-5-16-5-86-38-27-16-14-16-6-16 1-20 8-19 10-13 12-11 16-8 16-4 16 1 34 5 36 2 42 5 22 1 12-1 7-6 6-28 6-10 7-7 10-5 12-2 12 1 12 4 12 7 7 8 4 8 0 10-7 14-26 20-2 6 6 8 19 18 8 14 3 20-5 20-13 18-22 15-38 16-38 9M593 1l44 38 13 14 59 102 25 30 34 34 10 16 5 16 1 18-6 16-41 54-10 18-28 60-8 12-10 9-32 20-20 8-24 1-22-6-14-9-10-11-7-14-12-32-10-16-27-24-10-5-12-2-22 0-64 10-30 8-78 16-32 9-48 7-28 0-32-4-22-8-14-10-8-15 1-14 5-10 32-42 12-7 32-6 28-14 24-8 11-7 5-8 1-8-2-8-14-20-19-16-29-14-9-10-3-10 1-10 4-10 8-9 38-23 20-8 58-15 48-7 26-7 16-7 40-24 50-15 43-23M354 435l13-2 14 6 6 10-4 10-7 6-9 2-10 0-9-4-5-8 0-8 4-7 7-5zM169 491l54-1 58 2 30 4 22 6 30 14 18 15 5 8 3 10 1 10-3 10-6 12-14 12-22 12-24 9-22 5-24 1-22-2-20-5-82-42-19-14-10-12-3-8-1-8 5-14 14-10 32-14zM553 9l18-1 18 6 20 14 26 23 11 16 44 90 65 64 10 16 6 16 0 14-5 14-48 66-34 68-12 12-21 14-16 9-14 3-14 1-12-3-12-7-10-9-9-16-9-30-6-13-26-41-10-11-12-6-14-4-40-1-12-2-34-22-42-16-12-8-10-12-6-20-2-24 2-16 16-34 16-21 10-7 26-6 6 2 7 14 3 1 4-1 4-4 0-6-9-18 1-10 10-22 11-16 14-10 33-11 42-23 28-12zM251 505l30-1 24 2 24 6 22 10 15 11 8 12 3 14-5 14-10 12-15 10-20 9-20 5-22 3-20-1-20-4-16-7-46-35-9-14 0-14 7-14 14-10 16-5 40-3zM558 19l15-1 16 6 18 13 19 18 13 22 16 46 6 30 4 10 9 8 33 20 29 26 17 20 6 18 0 14-8 16-20 26-29 30-7 10-17 46-7 12-10 10-14 10-14 7-12 4-12-1-10-4-11-8-7-10-5-12-8-40-1-26-8-10-31-20-16-8-87-23-20-8-36-23-7-8-3-10 1-10 3-8 12-13 22-12 48-18 10-7 6-8 3-14 1-16-4-24 5-14 16-16 39-32 20-12 17-6zM275 513l20 0 20 4 20 7 15 9 10 10 4 10 0 12-5 10-11 10-15 9-18 7-18 3-18 1-18-2-16-5-14-7-12-12-10-18-4-14 3-12 7-7 12-6 26-6 22-3zM565 27l14 1 14 7 20 18 11 14 4 12 4 20 2 52 4 12 4 8 15 11 38 15 18 12 24 24 7 12 4 10 0 10-3 10-9 14-13 16-18 14-35 16-11 10-3 8 4 26-3 16-11 14-9 6-10 3-8 0-6-3-8-11-1-17 9-28 0-8-5-12-11-12-13-8-63-28-60-17-34-7-14-5-12-6-11-9-8-10-3-8 1-8 2-6 15-14 26-13 42-13 15-10 10-18 15-56 14-30 10-14 12-10 12-7 12-3zM274 521l19-1 16 2 16 6 13 7 9 8 6 10 0 10-3 8-7 8-12 9-14 6-16 4-16 1-16-1-14-3-12-6-9-8-7-12-3-14 3-12 6-8 10-6 31-8zM560 37l13-1 14 5 17 14 11 16 3 12 1 16-9 38-1 14 2 12 5 10 8 8 14 8 53 19 12 6 15 13 12 18 5 16-3 14-13 19-16 12-14 5-40 8-22-1-60-18-44-20-102-24-14-7-11-12-3-8 1-8 5-8 9-8 25-12 54-14 21-12 15-14 6-8 2-8-6-34 1-14 4-16 6-14 7-10 8-7 9-5zM283 527l26 2 12 4 12 8 7 8 3 8 0 8-5 8-9 8-10 6-24 7-26-2-12-3-10-6-7-8-4-10 0-10 4-10 7-7 9-5 27-6zM562 47l13-2 12 6 12 12 7 14 1 14-5 16-9 13-10 6-12 0-14-8-11-9-5-10-1-14 4-18 7-12 11-8zM553 181l18-2 14 3 42 16 56 17 14 6 13 12 10 18 1 14-5 14-10 12-13 7-46 8-16 0-60-16-46-20-36-6-62-14-13-7-8-10 0-10 5-8 10-8 14-6 20-5 98-15zM286 533l23 2 10 5 9 7 4 6 1 8-2 8-5 6-17 10-20 4-22-3-15-9-5-6-2-8 1-8 3-6 14-11 23-5zM571 57l8 1 7 5 6 8 2 8 0 8-4 8-5 6-8 3-8 0-8-4-5-5-3-8 0-10 4-10 6-7 8-3zM475 201l26-1 40 3 48-3 82 21 18 7 11 9 7 14 0 16-6 12-12 8-42 9-16 0-56-14-46-22-42-4-44-11-14-4-9-8-2-6 2-6 11-10 18-7 26-3zM289 539l16 2 12 6 6 10 0 6-2 6-12 9-15 5-17-1-13-5-7-6-2-6 0-6 2-6 12-9 20-5zM463 211l22-1 16 2 10 3 22 11 44-13 14 0 18 2 50 12 18 6 8 6 5 6 2 14-2 6-5 6-23 10-21 6-20-2-32-8-17-6-16-10-25-22-6 0-24 7-14 0-37-9-9-4-4-4 0-6 6-6 20-6zM282 547l13-1 12 4 6 8-2 9-7 6-11 4-10 0-11-4-6-6 0-8 5-7 11-5zM583 227l14-1 16 1 36 8 18 8 4 6 1 6-4 6-7 6-20 9-16 1-28-7-20-9-7-6-5-8-1-6 2-6 7-5 10-3zM288 557l7 1 2 5-6 4-7-2-2-4 6-4zM609 241l14 0 14 4 8 6 0 6-6 5-10 2-11-1-12-4-6-4-3-6 4-5 8-3z" fill="none" stroke="#b5502e" stroke-width="2.8" stroke-linejoin="round"/>
<g transform="translate(60.5 1875.5)" fill="none" stroke-linecap="round" stroke-width="2.7">
<path stroke="#471567" d="M87 106zm9 25zm61 10zm28 21zm-26 62zm180-78z"/>
<path stroke="#453580" d="M69 123zm64 28zm122 50z"/>
<path stroke="#3a528b" d="M24 89zm-8 46zm37-4zm16 34zm27-53zm114 114zm89-1zm23-29zm-27-26z"/>
<path stroke="#2e6b8e" d="M152 72zm63 46zm-10 46zm17 34zm67-56zm33-12zm38 62zm-255-9zm-21-36z"/>
<path stroke="#25838d" d="M128 154zm36 1zm-12 51zm80-2zm79-65zm28 22z"/>
<path stroke="#1e9a89" d="M39 149zm25 104zm2 16zm30-19zm104-64zm13-11zm0-78zm-77 4zm144 43zm57-1zm9 6z"/>
<path stroke="#2bb17d" d="M59 23zm24 52zm8 17zm13-11zm-1 24zm54 4zm-13 31zm0 28zm-3 16zm5 12zm16 1zm-3-15zm-17 32zm-7-2zm-13 16zm-2-69zm-7 5zm-32 5zm-7 23zm-23 12zm18-53zm-56-2zm18-22zm113-52zm28-18zm18-18zm-1 97zm9 16zm13-5zm18 4zm38 6zm1 19zm0 23zm-51-6zm11-89zm24 5zm54-1zm-7 33zm31 3zm-2 3zm10 12zm-23 5zm9 19zm-228 90z"/>
<path stroke="#55c666" d="M62 12zm13 14zm6 43zm-21 10zm-17 6zm-2 33zm1 8zm2 5zm-2 7zm6 2zm-10 15zm-3 8zm27 0zm-3 6zm5 4zm8 0zm0 23zm-8 13zm5 11zm11 18zm-25 8zm32 32zm40-36zm-11-18zm-16-12zm0-10zm-5 3zm1-24zm4 0zm17-12zm-2-7zm1-8zm-1-6zm-7-8zm-13-9zm-3-2zm5-8zm-4-14zm4-15zm16 5zm7 8zm8-2zm6 5zm3-16zm-5-13zm-11-10zm-12 3zm54-1zm3-23zm14-10zm16-9zm0-1zm6 1zm-8-7zm-4 40zm-5 19zm-8 4zm17 27zm16 10zm21-4zm9-4zm0 14zm-2 5zm4 1zm10 11zm-5 8zm-32 0zm-4 5zm7 12zm6-5zm-33 1zm-17 1zm-3 1zm-7 7zm-23-13zm-3-17zm7-12zm27 3zm-2 8zm27 36zm-7 25zm-20 24zm-15-5zm58 2zm27 4zm30-28zm11-26zm-1-4zm8 6zm9 4zm-10-22zm6-8zm-1-12zm2-1zm9 2zm-2 6zm-20-4zm4-23zm-13 0zm-10 1zm1-19zm9-8zm-1-19zm-12 11zm3 84zm71 14zm-7-44zm-8-1zm14-8zm-9-12zm29 19zm7 8zm-241-23zm-26 32zm-8 4zm-28-49zm-26 10zm-5-18zm-18 12z"/>
<path stroke="#90d643" d="M42 17zm-10 12zm21 27zm15 23zm6 3zm0 7zm13 3zm2-6zm4 10zm9 12zm5-3zm8-8zm2-4zm2-9zm-14-3zm-18-18zm-19 38zm4 7zm-1 9zm3 0zm-8 5zm-9 7zm-12 3zm-6 0zm3-7zm-5-8zm1-15zm14 13zm2 27zm4 4zm-1 2zm10-3zm11-1zm-3 17zm-1 5zm-14-1zm-6 4zm-2 7zm-6-3zm-2 8zm9 7zm2 3zm12 2zm17-10zm7-10zm23-4zm4 3zm21 0zm-1 3zm10 4zm16-2zm-1 10zm-3-17zm-1-9zm-3-1zm-13 3zm-11-6zm-5-16zm9-9zm15 0zm0-7zm-7-1zm14 6zm7-25zm-1-10zm-9-12zm-3 3zm-10-8zm16-6zm-3-6zm30 13zm9 17zm6 19zm14 18zm0 13zm18 1zm8 0zm-9-10zm-6-8zm4-8zm9-7zm6-3zm5-6zm0 14zm-5 8zm11 10zm10 10zm-1 4zm15 7zm4 12zm-11 4zm-9-1zm10 14zm10 3zm27 8zm9-6zm6-23zm0 0zm9 4zm-24-4zm12-24zm-3-10zm-2 1zm-3-14zm-3 0zm-9 4zm-12 3zm-9-1zm-3-1zm0 4zm0 8zm8 6zm3 1zm-1-38zm9-1zm-25-2zm-7-16zm0 35zm-33-22zm-6 3zm6 53zm3 22zm11 14zm2 8zm3 4zm-8-2zm-13-4zm0 14zm2 1zm-4 1zm-15-12zm-22-3zm0 11zm-5 3zm-3-1zm-4 0zm4 9zm4 3zm8 11zm-33-9zm-28-2zm0-16zm-8 6zm-3-13zm-5 5zm-2-15zm-7 1zm19-8zm14 7zm38-23zm27-1zm5-3zm51 56zm71-80zm-3-12zm5-3zm-10-4zm-2 1zm5-6zm-2-3zm33 35zm-253 3zm3 5zm-13-34zm5-6zm40-16zm40-68zm8-13zm-20 0zm29 25zm-157 96zm-2 4zm-4 20zm-14-12zm-2-16zm-13 4zm28 80zm14-12zm30 10zm9-2zm9-8zm5 16zm3 3zm0 1zm-5 2zm-10 6zm2 4zm9 9zm5 7zm7-30z"/>
<path stroke="#d2e11b" d="M44 29zm28 11zm12 36zm6 7zm20-7zm11 17zm-8 16zm-8-7zm4 32zm0 1zm-5 7zm7 23zm11 8zm-5 14zm3 4zm-3 9zm-17 0zm3-6zm-18-14zm-5 0zm-28-20zm0-13zm-5-9zm-6-3zm4-20zm8-35zm20 54zm78-1zm2 9zm7 19zm-8 18zm17 1zm17 16zm3 0zm4 21zm-29-3zm-13 4zm-10-29zm-47 29zm-24 12zm37 13zm1 7zm-1 14zm-65-57zm174-7zm10-2zm17 19zm12 17zm13-23zm0-15zm-5-40zm6-8zm-12-6zm2-21zm8-9zm2 18zm4 3zm2-6zm4-1zm12-2zm9 8zm4-4zm3-7zm-9 18zm26-6zm12 23zm6-1zm-37 13zm22 26zm-80-37zm-42-3zm-21-16zm-4 2zm-18-28zm38-1zm12 7zm14-18zm0-9zm11-1zm8 10zm-31-31zm-45-37zm-44 28z"/>
<path stroke="#d2e11b" d="M39 29zm79 68zm10 17zm-2 5zm-19 4zm0 7zm-7 10zm39-5zm17 8zm-20 22zm-13 2zm3 14zm-6 5zm8 4zm-4 19zm3 22zm-7 34zm-18-5zm-14 3zm7-19zm-2-53zm47-13zm20 27zm37 1zm31-59zm-3-5zm19-13zm0-17zm-6 2zm-47-2zm-14-3zm-2-19zm-15-13zm21-69zm107 92zm0 32zm-15 35zm-2-1zm-21-11zm2-3zm75 1zm6 30z"/>
<path stroke="#90d643" d="M51 35zm11 3zm4 33zm-4 20zm-9-1zm-8 8zm17 6zm4-3zm0 9zm8-12zm9 6zm2-11zm23-5zm8 18zm5-1zm10-9zm19 3zm12-6zm6 13zm19 7zm10 7zm9-2zm2-8zm-9 22zm14 11zm17 6zm12 8zm2-19zm4-3zm5-15zm-4-5zm-9-3zm38 12zm6 6zm-11 4zm3 6zm16 6zm-3 3zm10-3zm9-2zm1-18zm11-3zm7 6zm11 7zm9 13zm-23 14zm-10 13zm1 6zm-12-7zm-13-9zm-17 28zm-3-1zm-23-9zm-14-6zm-18-6zm-2-3zm-22 6zm-8 3zm-1-10zm-8 2zm-3 4zm2-17zm-14-2zm2-10zm-15 10zm-5-1zm-19-4zm-17-2zm-3 12zm-3 7zm-4-11zm-16 1zm3 8zm4-1zm2 23zm29 2zm1-4zm4 1zm5 9zm8 5zm2 4zm19 4zm23 3zm4-11zm4-1zm-8-7zm19-6zm-4 30zm0 9zm19-13zm12-2zm4 3zm12 17zm34-7zm21-15zm1-2zm26-2zm35-28zm-36-67zm-22-13zm7-7zm-10 33zm-147-2zm-1-2zm-19 9zm-19-4zm-8 0zm-5-11zm-25 26zm-5 7zm-17-3zm-19-2zm-3 0zm2-4zm1 29zm-1 3zm17 23zm22 32zm26 22zm3-2zm-5 12zm14 0zm6-8zm7-20zm26 7zm6-58zm-28-3zm28-98zm3-3zm22-43zm-2-16zm23-1zm11 10zm-113 255zm-12-6zm-6-5zm-16 0zm9 17z"/>
<path stroke="#55c666" d="M38 25zm-2 13zm42-4zm-10 50zm3 16zm-4 6zm-15-12zm-11-6zm0 21zm-4 14zm3 8zm-8 1zm-1 21zm3 8zm14-19zm9-17zm17 6zm10 7zm6 9zm-15 3zm11 22zm-1 21zm-5 4zm-10 5zm11 15zm2 3zm13-2zm4-23zm-5-7zm42-5zm7 15zm16-7zm-6-17zm-14-15zm-1-3zm19-10zm7-12zm-16-20zm-33-2zm-14 4zm-15 3zm18-31zm22 43zm-3 9zm80-14zm-3-8zm0-24zm17-19zm27 27zm0 16zm6 6zm-18 1zm-3-4zm5-8zm33-11zm5 30zm24-9zm-5 33zm0 16zm-3 14zm-24 2zm-9 1zm7-14zm-20 4zm-5-21zm21-3zm-37-6zm-9 22zm-9-9zm-7 2zm-6 43zm0 7zm-14 8zm-12 5zm5-23zm51-4zm0 10zm-8 11zm21 6zm11-15zm62-50zm5-10zm7-1zm4 0zm3-13zm5 1zm-8 35zm-156-120zm20-20zm-96 214zm6 7zm-23 5zm7 15z"/>
<path stroke="#2bb17d" d="M31 120zm-4 14zm-6-3zm21 33zm48 19zm39-3zm-2-2zm14 7zm-34 29zm-3-60zm-18-52zm90-18zm0-10zm5-31zm-8-16zm3 97zm28-7zm-3 30zm37-32zm-3-32zm2 103zm-2 15zm22-9zm5-3zm52-20zm30-13z"/>
<path stroke="#1e9a89" d="M42 188zm65-53zm95 20zm8 7zm-9 7zm-34 24zm66 12zm54 0zm-9 10zm6-95zm-2-9zm22 14zm-76-8zm-56-45z"/>
<path stroke="#25838d" d="M56 25zm127-11zm-71 166zm180 0z"/>
<path stroke="#453580" d="M173 148zm-122 2z"/>
<path stroke="#471567" d="M138 136z"/>
</g>
<path transform="translate(60 1875) scale(0.5)" d="M167 23l9 12 6 14 6 40 6 6 11 2 54-8 15-6 11-12 27-48M444 23l7 14 3 16-2 18-10 34 1 6 6 7 17 9 19 6 18 3 40-1 10 3 28 14 42 8 54 32 28 25M25 169l12-13 22-19 7-10-4-10-21-26-7-20-1-14 2-12 6-12 6-10M705 410l-36 23-33 16-29 17-50 13-46 16-20 3-54 5-52 19-22 5-24-1-40-9-12 1-10 8-24 37M108 563l-12-22-21-50-27-40-13-47-10-24M141 23l16 18 5 10 3 12-3 18-15 26 0 5 8 3 40 4 70-9 10-2 10-6 11-9 9-12 18-40 12-18M421 23l12 18 3 10 0 12-4 14-6 12-24 30-1 6 6 8 12 5 68 17 52 4 34 13 42 9 56 28 16 14 18 21M25 210l15-25 11-14 16-14 31-22 8-10-2-6-25-15-12-9-9-10-6-12-1-14 3-14 7-12 12-10M705 376l-29 29-21 14-30 11-30 14-98 32-18 4-42 2-48 11-22 3-32 0-42-3-16 2-6 4-6 7-12 27-7 12-19 18M137 563l-11-14-7-14-19-64-29-36-18-48-28-54M93 25l16-2 16 3 14 9 10 14 4 14-3 14-8 12-13 9-18 5-18-4-18-10-11-14-3-16 4-14 12-13 16-7zM405 23l10 8 7 10 4 10 0 12-5 15-10 13-12 10-21 10-6 6 0 6 4 6 15 15 12 8 14 5 82 12 36 3 33 11 45 11 40 16 16 9 15 14 21 28M25 239l19-36 17-24 20-17 30-17 22-9 24-4 44-2 64-6 12-4 14-7 15-12 12-12 5-10 10-34 8-12 11-10M705 346l-12 21-12 16-12 12-14 10-38 14-32 13-65 21-29 12-16 3-44 3-56 10-44 2-44-4-16 4-8 5-5 7-12 32-9 14-14 13-16 9M163 563l-16-12-11-16-4-16-1-34-6-16-12-18-23-20-8-10-21-44-21-36-15-35M369 25l10-1 12 2 17 9 6 8 3 8 1 8-2 10-9 15-16 11-20 4-26 0-4-5-4-15 0-14 2-12 5-10 7-8 8-6 10-4zM94 33l13-2 12 2 10 5 9 9 4 10 0 12-4 10-9 8-14 6-16-1-14-6-11-11-4-12 2-12 9-11 13-7zM705 324l-27 47-11 13-12 10-14 6-30 8-58 24-38 10-30 14-16 3-44 3-52 9-46 2-42-5-18 4-8 5-6 8-13 38-10 16-9 8-12 6-12 4-12 1-10-2-10-5-13-14-5-16 2-40-4-16-20-26-28-22-10-13-41-71-16-40-3-20 1-14 5-16 19-36 21-26 26-19 28-13 30-7 110-7 14-6 36-21 20-5 5 2 12 20 15 16 22 19 16 8 18 4 42 1 68 10 66 17 52 18 14 8 11 11 27 38M369 33l12-2 12 3 10 6 6 9 2 10-3 12-8 10-11 7-14 2-12-2-9-5-6-8-2-12 4-14 8-10 11-6zM104 39l11 1 8 4 7 7 3 8 0 8-4 8-6 6-8 3-12 1-10-3-9-7-5-10 1-10 5-8 8-5 11-3zM313 121l12-2 10 4 50 47 20 11 20 3 46-2 60 10 68 16 54 16 20 15 21 30 9 22 1 10-2 10-8 16-23 38-12 14-12 7-42 10-52 24-38 11-30 15-14 4-48 3-36 8-16 2-46 0-40-6-16 3-13 7-9 10-11 42-11 17-10 7-12 5-12 2-10-2-8-3-7-6-8-16-1-18 4-38-5-16-19-23-30-22-10-9-44-66-18-48-1-16 4-16 12-26 19-26 20-20 24-14 24-9 26-5 60-4 30 1 12-1 12-5 36-21zM375 39l10 0 10 4 6 6 2 8 0 8-5 8-7 6-10 3-10 0-8-4-5-5-3-8 1-8 4-8 7-7 8-3zM99 49l12-1 9 7 3 10-6 8-6 2-8 1-11-7-3-6 1-6 3-4 6-4zM312 131l13 0 10 5 22 23 18 23 14 8 34 6 40-6 22 2 104 20 62 18 18 13 17 24 10 24-2 18-6 14-22 34-9 10-8 6-12 5-24 2-14 4-50 27-38 11-36 18-18 3-38 0-32 10-14 2-48-2-38-7-14 1-12 4-12 8-8 10-4 12-4 32-9 16-9 8-10 4-10 2-10-1-13-9-7-16 0-20 7-38-1-10-4-10-8-14-8-8-50-35-37-45-9-18-13-34-1-16 2-16 10-22 18-23 24-21 24-14 24-8 28-6 50-3 34 4 12-1 10-4 22-17 13-7zM373 49l10-2 9 6 2 10-6 8-7 2-6 0-8-6-1-10 7-8zM309 143l10-2 9 4 10 10 8 14 3 12 4 38-7 20 2 6 5 4 4 0 2-4-1-22 9-8 13-6 17-3 34 1 36-9 26 2 36 8 64 12 44 10 16 7 16 14 15 24 5 20-4 18-26 37-12 11-10 4-28 3-16 5-20 10-28 18-40 11-36 21-18 2-34-5-28 14-16 3-14-1-66-13-20 1-20 6-12 9-8 12-3 12-1 32-7 18-7 7-8 5-10 2-10-2-6-4-5-6-5-16 1-20 12-36-1-12-8-18-12-17-36-28-28-17-28-28-10-16-12-32-3-16 3-16 10-20 14-16 28-21 26-15 38-10 48-5 16 0 34 8 12 1 8-4 15-20 11-8zM210 177l15 0 12 2 13 6 12 8 5 6 4 8 0 22 2 4 4 1 22-1 10 5 32 41 14 30 6 7 8 3 8 0 6-4 29-32 5-8-2-8-18-13-7-9-3-10 4-10 12-5 30 1 26-13 16-4 18 2 36 10 56 8 46 10 16 6 16 11 11 16 7 20 0 16-10 17-28 27-10 4-24 2-14 4-30 13-24 17-10 3-14 0-9-5 0-6 9-22 0-13-8-11-18-7-16-1-12 3-7 5-15 18-14 8-49 4-6 4-3 6 14 9 8 8 7 11 2 10-1 8-4 7-6 6-8 4-14 0-12-5-7-8-9-18-4-2-102 26-10 8-6 12 8 44-3 20-5 8-7 6-9 3-8 0-6-3-6-6-4-8-1-10 5-20 20-32 1-8-6-14-15-24-23-22-18-22-9-6-30-10-24-18-10-14-9-20-5-14-1-12 3-14 7-14 11-13 12-9 54-26 38-10 33-4zM453 387l10-1 12 1 9 4 3 4-1 6-6 10-7 7-8 4-8 2-10-1-8-5-6-7 0-6 3-8 7-6 10-4zM209 193l12-1 10 1 8 4 6 8 0 10-12 22-4 14 1 16 4 10 9 5 12 1 12-4 22-13 6-1 7 2 16 16 14 28 16 26 1 6-3 8-17 20-36 24-24 10-16 3-20 1-20-1-10-4-30-27-18-29-14-16-10-5-28-1-18-6-14-15-12-24-1-12 1-12 6-12 8-10 10-7 10-4 14-1 16 1 4 1 3 4 7 37 12 30 6 6 8 2 10 1 8-2 9-10 3-12-12-62 0-10 8-9 20-7zM469 213l10-2 10 1 36 12 52 4 66 16 14 9 12 16 6 18-3 16-11 13-20 12-10 3-26 2-28 8-12 1-12-2-23-17-17-8-60-14-4-4 3-24-7-26-1-8 3-8 6-8 16-10zM425 303l10-1 6 3-5 22-4 8-7 6-8 2-8-2-6-4-2-4 1-12 10-12 13-6zM198 475l7-1 6 3 6 10 2 12-1 10-5 8-6 5-8 2-6-2-6-4-4-7-1-8 1-8 4-9 11-11zM482 219l13 2 26 11 52 1 66 16 14 8 9 12 5 14-2 13-7 9-11 6-60 9-18-1-26-9-58-28-8-6-8-9-9-18 0-14 3-7 6-5 13-4zM88 235l12 0 11 6 7 10 5 18 2 16-3 12-9 9-10 4-12 0-12-8-10-13-5-14 0-14 5-12 8-9 11-5zM224 301l53 1 16 5 12 10 12 16 3 10-2 10-8 10-16 14-25 15-14 3-12 1-14-2-12-5-8-6-7-8-4-8-1-10 4-28 4-12 8-11 11-5zM198 487l5-1 4 2 5 11-3 12-8 4-8-3-4-9 3-10 6-6zM480 231l5-1 8 2 22 13 32-7 16-1 24 4 37 10 16 6 10 8 7 12 0 10-6 8-10 4-52 11-22-2-18-8-14-8-26-28-18-4-10-4-5-7-3-8 2-6 5-4zM86 245l9 0 7 4 7 8 3 10 2 10-2 10-5 7-8 4-10 0-8-5-6-8-4-10-1-10 3-9 6-7 7-4zM237 317l22 1 16 3 10 6 7 8 3 12-3 10-7 10-13 10-15 6-14 1-12-4-9-9-4-16 1-22 6-11 12-5zM561 243l27 4 33 12 17 10 3 6 0 5-6 5-42 16-16 0-16-4-13-8-9-8-5-8-2-10 2-8 6-6 9-4 12-2zM87 257l8 2 6 8 0 12-6 6-6 0-4-2-6-10 1-10 7-6zM240 337l13-2 14 7 3 5 1 6-5 10-7 5-8 2-6-1-6-3-4-7-1-10 2-8 4-4zM556 251l17-1 22 7 16 10 3 6-1 4-9 10-13 6-12 0-14-3-14-10-7-11 0-6 2-6 10-6zM562 261l9-1 13 3 7 6 2 4-1 4-4 4-7 2-14-4-6-4-3-6 0-4 4-4z" fill="none" stroke="#b5502e" stroke-width="2.8" stroke-linejoin="round"/>
<g transform="translate(455.5 1875.5)" fill="none" stroke-linecap="round" stroke-width="2.7">
<path stroke="#471567" d="M35 144zm173 50zm98-17z"/>
<path stroke="#453580" d="M140 185zm-34-30z"/>
<path stroke="#3a528b" d="M28 123zm95 105zm173-8z"/>
<path stroke="#2e6b8e" d="M69 199zm4 14zm-10 3zm74 1zm30-9zm96-25z"/>
<path stroke="#25838d" d="M27 33zm64 78zm37 36zm43 21zm-24 26zm64-5zm18-24zm-158 16zm-12 32zm2 55z"/>
<path stroke="#1e9a89" d="M41 43zm0 101zm-21 18zm12 34zm26 13zm0 52zm31 4zm28-24zm45-17zm84-2zm7-40zm-131-10zm-19 18zm-14-40z"/>
<path stroke="#2bb17d" d="M30 110zm-10 34zm16 6zm33 21zm-1 10zm0 20zm2 3zm13 1zm2-9zm31-36zm9-5zm20 1zm9 0zm47 12zm13 12zm-18 15zm-29 13zm3 13zm59-11zm28-36zm23-2zm1 5zm12 7zm-184-50zm-24-10zm-14-5zm-12 124zm18 16zm33 9zm56-243zm3 3z"/>
<path stroke="#55c666" d="M17 32zm16 1zm11-5zm25 0zm-25 81zm4 23zm20 2zm0 8zm5-3zm4-2zm2 31zm3 8zm-7 5zm2 5zm-10-2zm-4 3zm0 9zm-2 7zm3 7zm-7 0zm-6-1zm2-12zm-5-19zm-16 5zm-3 8zm-3 5zm-11-14zm-6-16zm15-12zm1-4zm3-1zm29 1zm39 12zm4 1zm2 11zm-1 3zm7 4zm8-6zm-6-16zm-4-17zm20-2zm6 10zm0-21zm1-7zm10-1zm5 4zm-1 10zm-1 1zm1 23zm0 3zm1 6zm8-6zm2-1zm3 2zm0 3zm2-7zm8-3zm-6-11zm-7 7zm0-33zm16 0zm14 2zm8 20zm9-8zm28-12zm1-10zm23-15zm7 5zm-1 54zm-13-3zm-6 16zm-7 5zm-2 18zm6-1zm3 11zm9-3zm4 5zm-3-25zm-13 40zm-25 5zm-2-14zm-12-3zm-19-3zm-8 0zm-5 2zm2 2zm-7-2zm2-4zm-9 4zm3 17zm-7 7zm6 8zm-16 0zm-8-3zm2-17zm6 0zm-15 5zm-10-16zm3-11zm-21-2zm1-2zm-5 2zm-3-3zm-7 0zm-3 6zm-5 5zm-2 5zm3 5zm7-4zm2 10zm4 5zm17-10zm-1 45zm3 5zm3 7zm32-2zm7-4zm29-20zm12-13zm-5-7zm-9-14zm-11-23zm17-6zm2-6zm11 1zm1-5zm-64 13zm5 5zm2 2zm-75 17zm5 49zm5 5zm0 7zm-13-8zm-4 14zm28 5zm8-159zm28-8zm-1-23zm37 16zm14-9zm1-59zm9-19zm10-2zm117 136zm-11 54zm-18 2zm-56 35zm-214-112zm-11 0z"/>
<path stroke="#90d643" d="M31 31zm16-1zm2-1zm9 2zm1-8zm9 1zm-23-6zm12 84zm0 13zm-4 22zm-8-6zm-7 8zm-5-1zm-16-3zm0-10zm-9 5zm8 18zm6 0zm22 11zm-5 11zm-2 4zm3 5zm5 7zm11 2zm1 4zm3 6zm-1 3zm0 3zm3 0zm7-1zm0-4zm0-3zm-6 0zm4-7zm7-8zm2 1zm6 3zm1-1zm1-1zm1 0zm5-1zm4-4zm-5-3zm-2 2zm-3-2zm-21-1zm-3-1zm7-5zm3-2zm2-19zm5-1zm11-18zm23 3zm-1 6zm2 7zm3 14zm-6 23zm-7 5zm0 4zm-1 12zm-2 0zm-4-2zm-5-1zm-1-1zm-3 3zm0 5zm-6 1zm-1-3zm-1 0zm-2 2zm-2 3zm-2 3zm1 3zm3 5zm-4 2zm-6-2zm-4-5zm-4 3zm-10-10zm-4 26zm4 9zm19 6zm3-17zm0 0zm19 2zm1-23zm2 0zm-10 3zm-1 1zm26-4zm18-17zm4-9zm-3-4zm11-11zm1-18zm7-2zm-5-11zm9-7zm1-8zm-15-4zm-27-10zm-4 0zm6-7zm4-16zm74-15zm10 24zm43 3zm33-10zm29 8zm0 22zm-35 26zm-21-6zm-6 19zm2 12zm7-2zm1 5zm4 4zm4 8zm-10 0zm6 9zm-16 1zm-9-4zm-11 5zm-2-8zm-10-9zm-7 15zm-6 3zm-2 13zm6 5zm8-6zm1-6zm5 5zm1 8zm-32-7zm-7-3zm3 15zm-16 1zm-3-10zm-19 2zm-4-13zm14-6zm-2-4zm15 3zm7-23zm3-5zm-6-1zm-10-2zm23 3zm-1 4zm7-13zm5 0zm0-8zm-5-1zm8 15zm4 0zm0-1zm12-6zm23 11zm3 13zm31 0zm-13 31zm-53 32zm-75 1zm-3-3zm10-7zm-49 25zm3 9zm3 3zm1 6zm-10-7zm-6 1zm-7-1zm-35-158zm2-5zm-6-3zm-7 5zm151-60zm3-23zm2 2zm7 5zm12-1zm9 0zm-24-16z"/>
<path stroke="#d2e11b" d="M10 141zm8 7zm11-3zm8-4zm2-2zm20 10zm-5 23zm33 1zm-8 9zm11 6zm2 17zm-9 0zm1 6zm-3 1zm7-1zm12-12zm12 2zm13-4zm6 6zm-1 5zm3-17zm23-13zm27-1zm11 1zm1-4zm-7-9zm8 32zm-35 5zm-1 7zm-16 17zm1 8zm-1 7zm-7-18zm-27-2zm-2 19zm-14-8zm-6 14zm-10-18zm-14 24zm-11-6zm1-36zm4-4zm9-13zm-32 4zm7 16zm-28-49zm61-29zm19-12zm15-8zm-7-18zm-43 4zm94-4zm-6 21zm-13 21zm-5 4zm-3-6zm46 1zm7-33zm-1-35zm10-30zm-6-7zm-40 48zm68 44zm56 5zm21 47zm-5 11zm-7 11zm-4 7zm0 1zm-7-5zm-30 2zm0 5zm0 12zm1-36zm-56 44zm-61 49zm-21-13zm6-98z"/>
<path stroke="#d2e11b" d="M42 23zm22 7zm-4 69zm24 13zm0 23zm5 28zm-7 23zm-15 0zm-6 7zm-14 6zm-14-5zm-8 15zm34 3zm16-8zm0-3zm27 7zm12-2zm-8 20zm-14 22zm3 23zm-42 8zm8-108zm-36-23zm-2-3zm10-6zm-29-16zm130-6zm3 41zm37 3zm12-16zm12 21zm9 14zm2 4zm-24 6zm-15 10zm-20 2zm4-12zm-1 37zm42 3zm50-15zm3-29zm2 0zm-1-10zm-6-22zm1-7zm19-1zm16 37zm-19 15zm67 0zm-22-38zm35-16zm-153-115zm8-11z"/>
<path stroke="#90d643" d="M19 33zm20-3zm13 4zm4 3zm-11 76zm1 10zm6 11zm-14-2zm-1 11zm2 14zm8-4zm3 2zm4-3zm5 1zm7 16zm5-2zm0 0zm1 10zm-6 0zm2 9zm7-1zm2 3zm-10 5zm-2 0zm-5-4zm9 12zm0 7zm-11 3zm-2 0zm8 7zm-9 7zm-16 7zm4 5zm-4-26zm4-15zm5 3zm1-27zm-5-7zm-18-15zm-19 1zm11-14zm44-13zm7-4zm6 18zm-3 4zm6 3zm2 2zm9-19zm2-6zm9 5zm10-16zm11 6zm8 7zm-4 18zm21 8zm4-2zm10 6zm-3 24zm-9 5zm-10 1zm-5-5zm-17 12zm-17 4zm1 3zm-7 1zm-3 8zm-1 4zm20 13zm11 6zm3-10zm35 5zm0 2zm11 3zm-2-28zm-9-7zm-6-1zm33 4zm-3-14zm16 6zm22-1zm8 3zm10-5zm-12-8zm-14-3zm-4-2zm-16-5zm5-7zm3-7zm-14 1zm-3-10zm0-1zm-8-21zm-21 2zm25-28zm24 2zm-9 12zm31 47zm15 2zm4 1zm9 44zm11 2zm-58 1zm-15 1zm20 10zm125-10zm11-10zm4-29zm-234-5zm-7 2zm-1-84zm58-61zm12-2zm2 13zm17-13zm-93 232zm-4 1zm-41 12zm19 20zm-55-94z"/>
<path stroke="#55c666" d="M30 31zm6-5zm21 11zm8 73zm21 4zm5-4zm13-2zm-4 12zm-3 8zm-6 0zm-10-3zm-14 8zm-20 1zm-3 0zm-4-8zm6-3zm-1-2zm-17 13zm-1 10zm-9 1zm2-7zm-6-18zm25 32zm14 23zm-1 1zm6 0zm-2 11zm7 2zm2 8zm-3 7zm11-14zm-3-5zm5-5zm6-4zm7 8zm3 2zm-2 7zm5 1zm4-11zm13 2zm1-17zm-16-2zm-7-15zm36-7zm2 16zm8-4zm12-16zm-6-10zm4-8zm-5-18zm-20 24zm-2 4zm49 10zm7-6zm-12 16zm-8 19zm1 9zm-6 23zm13 1zm27 5zm24-2zm2-1zm-1 9zm-9 11zm21-23zm9-5zm2-1zm14-7zm4 30zm3 5zm30-11zm-20-64zm-9 3zm-53 10zm-8-1zm-2 21zm-47 44zm-14 0zm-18 2zm-1 13zm-18-11zm4-5zm-17-5zm1-11zm-1-9zm25 10zm-35 26zm12 14zm-39-61zm0-2zm-12 4zm-19-17zm210-57zm-52-68zm10-31z"/>
<path stroke="#2bb17d" d="M53 141zm15 17zm16-8zm18-26zm-13-17zm73-13zm-2 45zm-3 22zm-21-1zm55-10zm-5-7zm62-6zm14 10zm57-4zm-9 50zm-56 37zm-40-34zm-4 0zm17-20zm-53 60zm-72-9zm-4 26zm-4 6zm-20-66zm1-2zm-4-6zm-6 7zm-2 0zm-7 11zm-1 4zm-12-23zm142-151zm25 4z"/>
<path stroke="#1e9a89" d="M58 43zm18 71zm-27 52zm13 33zm-6 48zm87-18zm-11-83z"/>
<path stroke="#25838d" d="M79 135zm52 2zm1 29zm54 50zm48-11zm5-6z"/>
<path stroke="#2e6b8e" d="M63 205z"/>
<path stroke="#3a528b" d="M85 198zm-11 66zm82-90z"/>
<path stroke="#453580" d="M219 102zm-170 101z"/>
<path stroke="#471567" d="M84 153z"/>
</g>
<path transform="translate(455 1875) scale(0.5)" d="M129 33l11 10 6 12 1 14-4 14-8 12-12 9-14 6-18 3-18-3-16-6-14-11-8-12-3-14 3-12 7-12 12-10M403 33l7 10 3 12 0 12-5 12-9 11-12 9-14 6-12 2-12-2-10-5-10-11-7-12-3-12 1-12 4-10 7-10M7 229l34-26 14-6 16-4 36-1 38 4 14 0 54-14 16-2 66 9 46 12 19 8 9 7 25 27 34 30 11 7 8 2 8-1 26-11 16-4 18 1 16 5 14 13 18 36 22 28 4 12 0 12-5 20-8 20-13 16-32 22-26 11-52 6-58 16-58 11-60 15-16 9-28 32-31 22M126 573l-16-14-10-14-15-42-15-36-33-60-16-50-14-27M89 51l8 1 7 3 4 4 3 6 0 6-3 6-11 6-10 1-8-3-6-4-3-6-1-6 4-7 7-5 9-2zM187 225l22 0 28 6 34 2 16 4 14 8 30 25 54 20 40 29 12 6 14 1 36-11 10 0 10 3 8 6 8 9 12 24 2 22-6 20-6 9-8 7-22 11-40 6-38 10-42 7-64 18-50 6-20 5-15 7-9 8-14 34-7 10-9 8-10 5-12 3-12-1-10-4-11-9-6-12-2-12 3-24-3-8-37-37-13-19-10-18-6-22-3-42-4-8-17-20-8-12-4-14 0-16 4-14 9-13 14-11 16-7 24-2 34 7 12 1 52-11zM68 261l9 0 8 2 6 4 6 8 2 10-1 10-3 10-6 5-12 2-14-4-10-6-6-9-1-10 3-10 8-7 11-5zM132 315l15 0 14 3 36 14 18 13 12 18 4 12 1 14-2 14-4 12-6 12-9 10-10 8-12 6-16 5-16 3-16-1-16-4-14-7-12-9-11-13-7-14-6-18 0-18 6-20 10-23 6-9 6-3 29-5zM487 359l4 0 4 3 2 5 0 6-8 8-10 1-5-5 0-6 5-8 8-4zM134 335l21 0 24 7 19 13 11 16 4 20-5 20-13 18-18 11-26 5-14-1-12-3-10-4-10-8-8-10-5-10-4-12 0-12 2-12 5-12 8-10 8-7 10-5 13-4zM135 347l18-1 18 5 15 10 10 14 4 16-4 16-9 13-14 10-20 5-22-2-18-10-11-14-3-10-1-10 5-18 6-9 8-7 18-8zM137 357l14-1 14 4 12 8 8 11 3 12-3 13-8 11-12 7-16 4-16-2-13-7-9-12-3-16 5-14 10-12 14-6zM141 367l10 0 10 3 8 6 5 9 1 10-3 8-7 7-8 4-12 2-12-3-8-5-5-9-1-10 4-10 8-8 10-4zM140 383l7-2 8 4 3 6-3 7-8 4-9-3-4-8 6-8z" fill="none" stroke="#b5502e" stroke-width="2.8" stroke-linejoin="round"/>
<g transform="translate(1000.5 1865.5)" fill="none" stroke-linecap="round" stroke-width="3">
<path stroke="#471567" d="M110 31zm-23 38zm1 17zm1 12zm-18 2zm8 11zm26-6zm7 6zm9-15zm19-24zm2-2zm1-11zm26 25zm56 12zm10-18zm9-21zm12-5zm18 4zm16 8zm6 10zm0 6zm1 1zm0 5zm2 5zm-4 5zm1 4zm-1 7zm-2 0zm-3 2zm-4 1zm-5 5zm16 1zm6 14zm14 2zm10-1zm5 3zm3-6zm-5-3zm-5-1zm2-10zm-2-3zm2-3zm2-2zm0-8zm-8 1zm-1 4zm0 0zm-1-9zm-6-2zm1-2zm-3 5zm-5-2zm4-7zm0-6zm10 3zm5 4zm1-16zm-22-2zm3 34zm8 8zm2 6zm23 3zm7 0zm0-3zm-5-8zm1-5zm2-2zm3 1zm-9 2zm-4-4zm6 34zm10 0zm-2 13zm11 0zm7 12zm-18 1zm4 6zm-1 1zm-2 13zm-1 10zm8 32zm-33-13zm4-39zm0-25zm-21 17zm-25-28zm-9-33zm-1-15zm-7-1zm2-2zm-14 19zm-63 38zm-77 20zm-57-34zm-15 61zm89 82z"/>
<path stroke="#453580" d="M74 75zm0 8zm32 6zm9 2zm2 19zm-10 1zm7 19zm12 39zm-44 13zm-5-36zm-22-27zm82-17zm0-19zm11-27zm-20-19zm25-17zm30 21zm60 4zm22-2zm-17 29zm-2 6zm37 9zm4 4zm-2 9zm-5 16zm16-3zm18-6zm-1-5zm5-4zm6-3zm2-1zm0 0zm0 9zm2 1zm-6 8zm2 8zm20-1zm6 17zm7-1zm3-23zm0-2zm16 12zm-2 29zm4 6zm-20 46zm-38 14zm6-45zm-10-32zm-20 12zm18-61zm3-6zm4 0zm-5-5zm27 13zm-70 156zm-109 4zm-2 47zm-70-44zm-18-39zm104-40z"/>
<path stroke="#3a528b" d="M124 44zm6 0zm-9 19zm-3 3zm-6 20zm1 3zm-7 11zm-8 0zm10 13zm-24 0zm6 17zm33-7zm0 56zm-31 12zm-9 29zm5 26zm-28 8zm25 35zm46-61zm40 14zm15 8zm-23-64zm1-93zm-1-18zm36-7zm-10-25zm42-10zm14 16zm-7 27zm21-7zm8 2zm8-5zm3 15zm-1 10zm-2 5zm15 3zm7 5zm5-2zm1-5zm4 6zm9 1zm2-9zm-2-3zm2-19zm-22-1zm1-11zm-1 24zm-10-8zm27 41zm11-5zm6 0zm1-4zm4 5zm-1 13zm4-1zm9-24zm5-2zm-9-5zm9 70zm15 0zm-4 5zm-5 21zm-2 5zm-7 6zm-14 12zm-3-36zm-1-7zm-14-13zm-58-6zm-7 28zm-15-63zm2-5zm5-5zm-91-84zm-70 63zm-16 18zm200 170zm39-21z"/>
<path stroke="#2e6b8e" d="M133 34zm-5 11zm-1 25zm-16 4zm6-14zm34 8zm-6 19zm-16 7zm-24 2zm-6 15zm16 2zm10 22zm9 9zm14 22zm20 26zm7-4zm2 0zm-1 37zm20-14zm15-94zm-37-35zm2-37zm-14 3zm43-18zm25 34zm15 6zm3 2zm3-16zm3 2zm28-4zm12 18zm-1 12zm6 7zm-23 0zm0-5zm-5-3zm-2 1zm12 24zm29-3zm13-5zm13-3zm9 8zm3 3zm1 28zm5 25zm0 5zm6 9zm-1 3zm-2 3zm6 0zm3 6zm4 10zm0-29zm-2 2zm-33 5zm-4 22zm-25 10zm-5-22zm-13 2zm-19-40zm54-5zm-10 104zm-1 2zm49-28zm-111 62zm-151-31zm-43 12zm-17-111zm62 14z"/>
<path stroke="#25838d" d="M48 99zm1 4zm7-5zm24-3zm12-8zm14 5zm5-2zm-3 21zm-8-5zm-7 14zm-1 6zm2 2zm-8-4zm26 13zm10-4zm8 1zm11-23zm8-7zm1 1zm7-18zm0-8zm-12 2zm-6-16zm-15 0zm-29 0zm-3-5zm22-19zm25 6zm10 5zm6-18zm-10-12zm26 24zm1 9zm9 6zm3 19zm2 23zm-19 20zm-3 25zm6 1zm-17 7zm26 12zm10-2zm6 2zm22 13zm-3 46zm3 15zm32-8zm33-8zm9-36zm-2-13zm0-10zm22-12zm22-2zm2-12zm16 0zm0-4zm1-3zm-6-1zm-1 2zm-1-23zm3-2zm-5-3zm0-4zm-1-10zm13 0zm-34 4zm-2-12zm8-4zm-11-12zm-11 6zm-8 0zm7 8zm-2 15zm-5 11zm15-4zm11 19zm-1 12zm14-20zm3 2zm34 3zm-4 15zm-11 17zm5 17zm4 2zm-5 10zm12 19zm-3 15zm-25-3zm-14 30zm-3-1zm-4 14zm-12 5zm-23 7zm-33 6zm-71-21zm-39-41zm-14-31zm-52 15zm-1 29zm18 14zm-36 11zm-25-24zm-1-3zm-1-8zm-10-11zm15-11zm12-8zm-24-14zm33-17zm170-11zm4-23zm12 0zm9-4zm-14-12zm-16 9zm29-25zm17 2zm1-8zm4-8zm-15-24zm-8 0zm-108 246zm-28-15z"/>
<path stroke="#1e9a89" d="M84 64zm3 4zm5-4zm12-1zm0 17zm-8-4zm20-7zm12 1zm-4-11zm10-2zm-4-5zm2-9zm4 2zm-2 35zm8 3zm-1 10zm3 10zm-5 7zm17-6zm14 13zm22-1zm-13-27zm-5 1zm-3-18zm2-9zm-9 3zm49-2zm11 6zm-4-19zm31 1zm-3 6zm7 9zm6-2zm12 9zm3 12zm19-1zm0 12zm-2-2zm11-4zm1-1zm1-3zm8-4zm5 9zm2 3zm4-3zm0-2zm2 1zm4 3zm-2 2zm7-9zm7 14zm7 12zm0 3zm5 9zm-4 10zm2 3zm-10-3zm-2-9zm-17 0zm2-6zm-7-12zm1-1zm-2-5zm-4 2zm-4-3zm-3 7zm-14 7zm-1 8zm-13 0zm-4 13zm7 7zm-11 8zm-3 4zm-2 9zm40 0zm-2-13zm6-6zm-8-18zm37 16zm16 17zm10-2zm-5 10zm5 8zm8 1zm-7 14zm-10 4zm-16-13zm-22-1zm-8 16zm-3 8zm7 15zm7-3zm10-5zm0-4zm-28 32zm14 21zm44-20zm-111-4zm9 17zm-47-18zm-7-9zm-17-15zm7 40zm-8 11zm-9 28zm-46-24zm-12 9zm-4 0zm-12-11zm4-16zm15-2zm-3-24zm-10-9zm-13-10zm-12 2zm-23-3zm-10-20zm-7-25zm3-5zm-1-9zm-8 19zm-34 24zm16 29zm11 11zm1 8zm43 8zm10 8zm-25 15zm87-23zm16-65zm8-29zm16 4zm22 8zm37-43zm18-13zm-27-18zm122 23zm-258 0zm-7 5zm2 9zm-5 31zm4 11zm26-15zm-46-43zm8-11z"/>
<path stroke="#2bb17d" d="M108 11zm10 4zm-6 15zm-15 7zm-5 22zm3 5zm7 4zm9-4zm0-3zm15 1zm5 7zm-2 13zm0 3zm-6 3zm-2-13zm-9 18zm-11 0zm-12-6zm0-8zm-13-4zm2 13zm-22 16zm-3 6zm-5 12zm13 3zm-6 17zm-10-7zm-22 8zm10 12zm4 10zm2 19zm12 0zm3 33zm-20-2zm-10-6zm-12-28zm31 51zm23 7zm8 10zm8 1zm-1 13zm-3 2zm19 3zm1 1zm8 0zm9 0zm3 5zm-16 7zm1 13zm36-9zm2-1zm13 5zm10-20zm-12-10zm-16-10zm-26-1zm-14 1zm2-8zm-13-15zm23-7zm16 12zm36-18zm1 1zm25 14zm1-31zm13 3zm9-5zm11 6zm12-4zm1-17zm20-1zm-1 8zm-1 16zm-3 23zm-12 14zm-4 11zm-25-1zm-2-5zm1 29zm-17 11zm-1-21zm-21-16zm7-70zm1-5zm9 8zm18-8zm-22-28zm-3-5zm-11-3zm-26 1zm2-10zm-10-4zm2-7zm-4-9zm15-13zm5-3zm6-7zm1-14zm4-8zm-9-10zm1-1zm-20 1zm3 4zm-10-10zm0-9zm9 0zm3 0zm8-3zm1-12zm2 0zm-10-5zm1-1zm-23 31zm20 39zm46 5zm-5 6zm-5 15zm23 7zm19-5zm1 1zm28 13zm15-12zm0-11zm-8 0zm17 5zm6 8zm9-1zm0-1zm0 6zm11-3zm10-5zm-4-5zm0-7zm7-1zm3 5zm7-1zm2 2zm2 1zm-2 2zm0 3zm11 1zm1-5zm2-4zm7-2zm5 0zm1 1zm0-13zm-12 1zm1 5zm-5-3zm-4-2zm1-6zm-4 17zm0 20zm3 2zm9-7zm-1-1zm2-5zm5 1zm-1 8zm5-3zm4 0zm1-3zm7 1zm1 4zm3 6zm3 3zm-3 5zm-9 3zm1 3zm2 3zm1 2zm-6 0zm-3-6zm-11 0zm4-6zm3 22zm1-1zm1-1zm1 11zm0 7zm9-6zm8 7zm-4 11zm2 3zm13-1zm-27 10zm-24 0zm-5-2zm-1-3zm11 19zm-12 23zm-17-3zm-1-10zm-23-3zm-1-33zm1-17zm0-17zm-11 1zm-10 6zm3 13zm36 13zm13-21zm10-9zm5 4zm-8-15zm-4 1zm-5-11zm-19 9zm3 10zm4-46zm1-4zm2-1zm-6-1zm-8 1zm3-7zm-3-6zm-1 1zm-8-1zm0-5zm-3 2zm-1 1zm-3-2zm-9 1zm4-10zm-1-2zm6-2zm5-13zm4-6zm3-6zm6 19zm-1 9zm7 1zm-2 11zm13 0zm6 6zm-7-27zm-24 16zm-14 13zm-34-29zm15-15zm-40-27zm-9 55zm-64 65zm-4 0zm-3-3zm14 13zm1 11zm0 20zm8-7zm-27 4zm-23-7zm-6 20zm-3-2zm8 7zm7-4zm6-36zm-31-4zm22-41zm-58 151zm203 15zm30-9zm11-4zm43-15zm27-26zm14-109z"/>
<path stroke="#55c666" d="M112 26zm9-5zm8 9zm7 4zm1 4zm0 9zm2 1zm7-1zm3-1zm0 5zm-1 2zm-1 2zm-1 2zm3 2zm2 5zm6 5zm8 5zm4 1zm-8 10zm0 7zm2 0zm-7-9zm-3-3zm-11 4zm-6 4zm9 4zm2 2zm-5 16zm-3 0zm16 1zm14-1zm4-1zm4-1zm1-19zm11-13zm-5-10zm1-4zm7-8zm-1-15zm-13-1zm-13-3zm4-5zm1-19zm-20 17zm6 12zm5 4zm-3 7zm-1 1zm-2-3zm-17 11zm-10 1zm-6 1zm-3-3zm-4 2zm0-7zm2-5zm-7 16zm1 5zm-3 2zm-8-2zm0-2zm1-11zm-5 2zm-7 2zm-1 17zm1 3zm-5 5zm0 5zm2 1zm3 1zm-2 3zm-2 0zm0 3zm-6 0zm-4 2zm-2-4zm3-8zm2-1zm-11 1zm1-5zm2-2zm-10 13zm-5 2zm14 9zm-1 5zm-2 5zm13 2zm4-4zm2-4zm-9-1zm16 6zm-1 3zm2 8zm1 9zm1 3zm5 3zm-3 7zm-2 7zm4 2zm5-1zm16 11zm9-1zm14 3zm3-4zm-3 14zm-4 1zm-10 6zm-4 2zm-7-1zm-7 7zm4 7zm2 4zm-2 8zm6 2zm16-1zm-4-5zm14 3zm5-3zm6-11zm-3-6zm3-16zm10 8zm5 13zm4 6zm-11 3zm4 11zm8 7zm-1 2zm5 5zm3 1zm-3 4zm-3 10zm5 2zm-1 4zm8-7zm6-2zm3-9zm1-3zm-3-9zm-4-13zm-8 3zm22-7zm14 0zm-5-6zm-3-5zm-1-6zm4-4zm5 2zm14-9zm3 0zm0-12zm-6 0zm-1 0zm-6 1zm-12-4zm-9-1zm2-4zm0-2zm2 1zm2-4zm-2-3zm7-3zm2 7zm14 2zm25 0zm2-2zm1-4zm0 13zm-4 5zm5 11zm7 16zm10 6zm10-5zm6-8zm8 18zm4 0zm7 3zm0-7zm13 2zm3-2zm-4-3zm2-9zm9-3zm13 1zm1 3zm1 3zm9 1zm2 4zm1 7zm8-5zm2 0zm-1-3zm-2 0zm2-10zm-5-1zm5-10zm13 5zm-4 13zm-1 25zm-14 1zm-13 1zm-10-1zm1-11zm5-5zm-26 13zm-1 0zm-1 3zm-2 1zm-5 1zm2 15zm2 1zm-11 1zm-3 1zm-5-11zm-6-15zm-9-2zm1-4zm-3-35zm0-18zm15 8zm15 4zm14-1zm4 5zm-10 8zm-6-27zm-1-10zm-4-1zm-3 0zm-5-1zm4-8zm-16 0zm-1-9zm3-2zm5 1zm-17 6zm-5-1zm-7 1zm-3 0zm6 9zm-18 1zm2 3zm-9-10zm2-14zm-7 2zm-7-4zm-3 10zm-7-5zm-4 0zm-4 11zm1 2zm-30 2zm-6 6zm-4-10zm-8-3zm-3 7zm-12-1zm-11 4zm-7-4zm-7-3zm2-10zm-5-20zm2-3zm-2-13zm-8 2zm-4-5zm-5 2zm-8 7zm-6 11zm3 5zm7 11zm3-1zm-2 8zm11-17zm2-37zm8-2zm14 3zm-46 4zm-14 55zm2 10zm6 1zm1-1zm-18-2zm-8 1zm-1-10zm-2-4zm-2 1zm-4 1zm-2 1zm-3 3zm-2 0zm-2 4zm-5 3zm-9 1zm-4 6zm7 1zm-1 9zm11 2zm7 2zm5-7zm4 1zm6 5zm6-5zm4 0zm4 5zm-1 20zm-12 4zm0-9zm1-1zm-1-2zm-4 2zm-2-3zm-5 7zm-2 1zm1 7zm-3 5zm0 1zm-8 2zm-1 2zm3-11zm-21 6zm-2 9zm8 16zm-1 22zm-7-3zm20 2zm7 1zm3 1zm2-6zm0-1zm6 12zm-11 2zm-2 14zm2 6zm11 2zm8-1zm6 12zm0 2zm1 2zm12-21zm6-6zm14 0zm0 4zm12 3zm-1-15zm-14-4zm-5-8zm-13-1zm-5 11zm19 26zm9 12zm2-1zm7 7zm10 1zm2 0zm4-2zm3-10zm-5-1zm-8 4zm-15 13zm35-26zm13 2zm6 5zm-3-19zm2-4zm1-3zm6 6zm8 10zm10-1zm-1 10zm7-16zm15 9zm28-3zm1-9zm-5 1zm-4-8zm3-5zm-1-10zm5-4zm2 1zm-6-6zm4-6zm-8-2zm-6 1zm9-9zm12-1zm-4-8zm12 18zm-3 5zm3 18zm5 3zm-1 4zm2 7zm13-19zm12 39zm26-5zm6-2zm-12-4zm5-8zm2-3zm27 1zm-2-19zm23 6zm7 0zm-3 7zm-12-86zm3-4zm3-4zm-8-1zm-6 7zm2 4zm-9-22zm-7 3zm-6 1zm-3-2zm-2-4zm17-8zm4 0zm10-2zm-4-20zm2-3zm-2-6zm6 1zm5 1zm1 3zm2-1zm10 6zm-9-21zm-23-4zm-12-3zm0-4zm-6 8zm-2 1zm1 2zm10 5zm-3 9zm4 8zm-25-9zm-2-3zm5-1zm2-2zm-5-15zm-8 0zm-1-1zm-1-6zm-7 0zm-2 2zm0 3zm1 1zm1 0zm-7 0zm-3 0zm-1 3zm-7 0zm0 4zm-5 0zm-1-2zm-3 0zm-4-1zm3-5zm9-1zm5-3zm-1-6zm0-4zm0-4zm5-3zm3 2zm5 3zm2 4zm3 0zm1 1zm3-1zm2-2zm11-5zm1-2zm-17-7zm-3-4zm-11 2zm-1 1zm-7-5zm-11 7zm2 12zm2 3zm-10 4zm-5 5zm-6 4zm7 8zm-16 0zm4 5zm2 7zm8 2zm-1 3zm7 1zm14 7zm10 2zm2-10zm3 1zm5-4zm-1-7zm0-5zm7 0zm2 1zm-19 4zm2 5zm-6-2zm-50 1zm1 4zm-8-5zm2-8zm-4-8zm-5 2zm-3-3zm2-8zm19-3zm2 9zm10-25zm1-7zm9-2zm-1-2zm3 15zm-30-11zm-12-1zm-1 56zm-10-4zm1 54zm-1 3zm-32-4zm-5-4zm-6 2zm-4 76zm1 5zm1 10zm-3 3zm0 3zm-5-7zm-4 0zm31-3zm-73-51zm-2-8zm-24 13zm-15 18zm4 5zm-2-67zm-1-11zm-13-8zm-1-4zm9-8zm-20 16zm-15 12zm-2 3zm7 19zm-12 18z"/>
<path stroke="#90d643" d="M85 43zm11 4zm1 3zm-2 1zm3 2zm-2 4zm3 6zm5 4zm-2 2zm1 10zm7 5zm-3 7zm-6 0zm-3-1zm6 5zm0 14zm1 7zm-10 1zm-2 1zm-2 1zm-6-1zm-1 0zm-3 0zm0 7zm1 4zm-3 0zm10 0zm0 3zm4 0zm1-2zm-7 7zm-4 1zm5 7zm0 3zm-2 2zm6-1zm9 0zm3-2zm2 7zm-3 2zm3 8zm1 1zm-5 2zm-1 1zm0 7zm3 0zm2 4zm0 8zm11 1zm4 2zm2-4zm5 1zm2 0zm5-6zm4 0zm0-4zm0-3zm3-1zm0-4zm-2-6zm11 0zm-2 4zm0 7zm-1 0zm1 4zm2 5zm1 5zm-6 5zm0 6zm0 2zm-6 0zm0-3zm1-1zm-1-4zm-8 9zm-1 4zm-7 0zm1-2zm0-2zm-7 0zm-3 4zm-6 5zm-3 2zm-2 4zm-3 1zm-3-3zm-2-1zm-1-2zm-4-3zm-3-2zm-5 4zm-5 3zm-4-4zm-2-5zm-5-4zm-3-2zm-1 0zm7-3zm2-5zm2-2zm1-5zm1-6zm1 0zm0-2zm-3-2zm-3 5zm-2-1zm-1 2zm-3 0zm0-1zm2 6zm-10 2zm-4-3zm-3 1zm1 6zm-2 4zm-5 3zm-5 1zm-1 0zm1-5zm3-4zm-1-5zm-5 3zm-9 0zm-10 0zm-2 7zm3 2zm2 3zm0 2zm2-7zm-12 3zm-6-4zm1 24zm8-4zm1-2zm2 1zm2-2zm7-2zm0-1zm1 4zm-1 7zm5 3zm5-6zm11 7zm1 1zm3-1zm0 6zm-9-1zm-1 4zm6 4zm0 3zm9-3zm11 1zm7-4zm19 0zm1-2zm-1-8zm-1-2zm-1 16zm-2 0zm-4 6zm1 5zm6 1zm6 0zm-3 6zm-1 7zm-1 0zm3 3zm10-1zm0-4zm5-6zm-4-8zm-1-3zm0-3zm-2 0zm1-2zm-3 0zm0 6zm15 2zm6 3zm2-1zm6-1zm4-6zm-5-6zm5-5zm7-2zm6-3zm8 0zm0-6zm-2-9zm-5 1zm-1 1zm-8 3zm-17 6zm-3-1zm-2 0zm3-1zm-10 4zm-1 4zm4 1zm-12-23zm0-3zm-12-6zm-3 2zm-2 2zm-1 0zm0-5zm-1-3zm12-9zm0-12zm-1-3zm3-3zm-1-6zm-2-2zm-5 2zm-7 3zm-1 6zm-2-14zm1-4zm-17-5zm2 13zm-8-2zm-2-2zm-8-3zm-4 6zm2 4zm5 1zm-11 0zm-3-3zm-2 9zm1 2zm-2 1zm-6 0zm3-4zm-1-3zm-8 5zm-1 2zm1 3zm5 6zm20 0zm-2-7zm9 2zm1-3zm2-5zm4 3zm-3 38zm0 0zm-9 0zm7 7zm5 0zm7 0zm-2 5zm-2 28zm7 6zm3-2zm8 1zm-2 3zm4 2zm4 0zm0 4zm-4 5zm-10 2zm-1 0zm-4 1zm2-5zm-12 0zm3-5zm-11-5zm-1-3zm-4 3zm-2 5zm-11-27zm-6-4zm-16 10zm2-72zm-2-12zm13 1zm7-16zm-8-6zm29 1zm1-8zm15-2zm0-1zm4 1zm4-2zm0-4zm-6-4zm0-1zm3-5zm1-9zm4-4zm4 0zm3-3zm-2-3zm-12 2zm-16-1zm3 23zm4 5zm2 0zm15-15zm1 0zm5 4zm-8-28zm15-1zm-2-11zm-1 1zm-4 3zm-3-7zm0-4zm4 1zm5 2zm18-5zm3 0zm10 0zm-2-4zm0-3zm-3 1zm-3-8zm2-4zm0-7zm3 1zm6 0zm1 2zm-3 2zm1 4zm4 4zm8 0zm2-5zm-3-1zm7-3zm-1-5zm-1-2zm4 2zm4 1zm1 3zm7 0zm1 0zm1 4zm-1 5zm-1 4zm-1 3zm-2 1zm3 2zm-5 3zm0 1zm0 4zm2-1zm2 2zm-3 4zm7 0zm8 0zm2 3zm-5 2zm0 8zm-3 1zm-3 1zm-3-3zm1-6zm-7 13zm-1 5zm3-1zm0 5zm3-2zm-7 1zm-4 1zm-6 3zm-4-4zm-8 3zm0-6zm-1-4zm12-3zm2-4zm-11-9zm-5-3zm7-11zm6-3zm2 0zm2-5zm4 0zm2-3zm1-2zm-1-2zm-1-1zm1-17zm2-7zm1-5zm8-6zm2-4zm1 24zm2 1zm-3 3zm-7-3zm-16-5zm-3 1zm-3 3zm-5 1zm-3-2zm-3-4zm-1-1zm6-4zm10-6zm-1 22zm-20-6zm-7 15zm42 18zm0 1zm24-1zm1-8zm2 1zm5 2zm6-5zm1-3zm0-3zm-2 0zm-5-1zm0-1zm-2-1zm-3 1zm0 2zm-2-9zm-6-14zm24 7zm2 9zm4 4zm13 0zm0 2zm-1-1zm-3 3zm2 3zm-4 1zm-3 12zm4 3zm-1 8zm-2 7zm0 8zm-1 4zm4 3zm5 2zm2-3zm0-6zm6-2zm0-11zm-2 0zm1-3zm-1-1zm0-10zm0-3zm6 1zm0 5zm7 0zm3-3zm2 0zm0 7zm-1 15zm-4-3zm11 2zm-1 4zm6 1zm6 1zm-1 2zm-1-9zm1-7zm-4 0zm2-11zm9-1zm1-2zm0-1zm-2-1zm7 3zm2 1zm6 0zm-1-3zm0-3zm2-1zm6 0zm1 3zm-1 6zm-2-1zm-7 7zm-5 8zm3 6zm2 1zm3-2zm3 0zm4-6zm1-4zm9 3zm10-5zm6 1zm1 1zm6 1zm7-1zm5 1zm2 2zm2-3zm-3-9zm-18 2zm3-12zm-17 1zm-10-4zm-14 0zm-1-1zm-12-4zm3-11zm1 30zm0 0zm4 24zm2 4zm7 3zm-15-1zm-1 7zm5 1zm-2 9zm0 4zm-3-2zm-1 4zm4 8zm-1 4zm-9 0zm0-1zm-8 3zm-3 0zm-7 0zm2 2zm-1-6zm0-2zm-4-4zm-6-4zm-1-8zm5-1zm2 3zm3-6zm4 3zm0-8zm2 0zm7 1zm5 9zm-9 3zm-14-11zm-4 1zm1-11zm9 1zm2-2zm-1-1zm-19 7zm-1 9zm0 9zm2 7zm-4 1zm-1-2zm-7-3zm-1-4zm3-5zm-13 0zm0 0zm-1-2zm-5 5zm-4 0zm-2-2zm1 7zm2 2zm-1 3zm-3-1zm-8-1zm1-2zm-1-7zm-5-5zm2-7zm8-5zm1 0zm9 0zm0 2zm-3 2zm8-2zm1 0zm-5-12zm-3-5zm-5 4zm0-11zm0-3zm4-2zm0-1zm9-6zm-25-5zm-6-6zm-2 55zm-8 1zm-10 2zm-3 6zm1 5zm-3 3zm-2 3zm2 3zm1 0zm1-1zm7-1zm-1-3zm0-8zm7 6zm1-1zm1 9zm-3 1zm-3 6zm6 1zm-1 10zm4 5zm1-1zm-2 5zm1 3zm7 1zm7 1zm2-5zm11 1zm-1 1zm-1 5zm2 0zm5-2zm2 6zm3 0zm-1 5zm-1 3zm-1-1zm-1 5zm3 3zm4 1zm-8 5zm-9 2zm-5 2zm-4-1zm1 12zm1-1zm-3 1zm-2 3zm-4 1zm0 7zm8 1zm2 4zm-3-9zm0 0zm10-2zm1 4zm2 2zm4-1zm5 3zm3-7zm1 1zm6 4zm1-14zm-3-5zm-6 0zm1 6zm-15-2zm-2 1zm0 3zm-19-1zm-1 2zm4-5zm0 31zm-6 4zm2 2zm-7-1zm-4 5zm2 3zm1 1zm5 9zm10 0zm3 2zm-3 5zm1 2zm4 0zm4-4zm7 2zm0 4zm3-7zm-1-2zm1-11zm0-4zm5 0zm7 1zm-2-5zm0-7zm3 0zm-3-5zm-8 10zm-1 0zm-6-5zm-2 1zm-5 1zm0 17zm0 22zm-4 6zm10 0zm9-4zm0-3zm9 4zm3 4zm3 1zm4 0zm-4-10zm9 0zm4 4zm3 4zm6 3zm5 8zm4-16zm-2-9zm5-2zm8 0zm6 1zm3 4zm0-13zm8 4zm8 0zm-2-6zm4-4zm7 5zm1-13zm-4-4zm-14 0zm2-17zm4-1zm1-3zm-1-2zm5 1zm8 0zm1-7zm2 0zm5-3zm3-6zm7 4zm6 1zm3-5zm2 0zm2 1zm3 4zm2 4zm-3 8zm0 5zm2 5zm-6 5zm11 1zm-1 11zm1 11zm4-3zm1 0zm0 9zm6-1zm7-1zm2-7zm3-4zm-8 0zm0-3zm-1-4zm-2 2zm0-16zm4 1zm1-4zm-3 0zm2-4zm-3-6zm1-4zm0-4zm-2 0zm1-11zm-6-3zm-4-1zm-2-2zm3-6zm1-8zm1 0zm4-4zm4 2zm-2 5zm4 5zm4-4zm2-4zm6 7zm1 9zm-2 8zm8 0zm3 5zm6 4zm0 8zm2 8zm5-3zm-1 8zm6 2zm2 2zm-2 4zm-2 1zm2 9zm-14 2zm-3 10zm-7-6zm-4-1zm-8 16zm-4 0zm1 2zm-4-3zm-21 5zm1 9zm-4-28zm-3-1zm-1 0zm-1 1zm-5 1zm-1 0zm0 4zm-6 1zm3-7zm-3-5zm-5-3zm11-6zm0-9zm1-3zm-1-3zm7-2zm-1-5zm2-2zm-13 3zm-4-3zm1 11zm-13-3zm-4 3zm1-20zm-3-1zm-4-8zm-6-7zm9-6zm8-1zm11 4zm7 3zm-1 3zm1-10zm1-10zm1-4zm2-1zm3 3zm-2-9zm7-3zm2 2zm4-3zm7 0zm-3 4zm1 10zm-5-2zm6-18zm8 2zm-17-6zm-5 1zm-8-5zm-3 0zm-2 4zm-2 4zm-4-1zm-7-1zm-1-2zm-2 3zm-2 5zm1 4zm-5 2zm-1 1zm-7-8zm-3-8zm-1-3zm-3 4zm-1 0zm0-1zm-3 12zm-10 2zm0-5zm-6-1zm-7-1zm-1 0zm-4-2zm-2-8zm0-1zm0-3zm-15-2zm-7-3zm-2 1zm-4-1zm1-3zm-3-1zm-4-1zm1 4zm-1 4zm0 2zm-4 1zm1 4zm-7 4zm10 6zm6-12zm5 4zm-2-21zm-3-2zm-30 8zm0 4zm3 1zm2 0zm-32 2zm0 1zm-5 3zm0 7zm-2 3zm-7-6zm-3 1zm-3 0zm0 4zm-2 3zm-2-1zm-1-6zm0-8zm3-4zm0-11zm11 10zm2-1zm1 3zm14 9zm7 14zm9 10zm7 4zm19 7zm11-12zm5 3zm3-4zm2 1zm12-2zm4 0zm7-1zm4-3zm-5-3zm0 17zm0 2zm-4 1zm0 9zm2 0zm3 2zm-7 0zm-2-4zm-7 1zm1 5zm1 3zm-5-1zm-3-1zm1 4zm4 3zm18 0zm-1 5zm1 7zm-1 5zm-2 2zm-4-2zm-1 1zm1-4zm4 17zm-2 6zm-1 1zm4 6zm6-12zm1-2zm5-3zm3-4zm10-2zm1-3zm5-4zm-3-14zm-7 0zm-7-8zm-6 1zm-2-5zm0-1zm8-6zm15-4zm4-4zm28-4zm3 6zm-8-18zm-1-17zm0-1zm3 1zm-1-9zm-6 2zm-2 2zm0 1zm-1 2zm-3 4zm5-16zm0-5zm-3-7zm8 1zm2 0zm-18 3zm32 6zm33-24zm0-5zm1-4zm0-2zm5 5zm12 2zm3 3zm3 1zm8 7zm11 6zm-51-21zm0 110zm1 10zm1 5zm-2 4zm0 3zm4 5zm12-4zm2-2zm0 9zm12-2zm7 2zm-2-6zm-10-6zm-4-5zm-1 0zm1-9zm-3-4zm12 8zm16-14zm3-8zm7-4zm-18 90zm-76-7zm-4 2zm-11 14zm5 8zm9 7zm-27-20zm-2 1zm-7 4zm-5 2zm3-9zm-4-22zm-6-1zm7-11zm0-2zm-4-3zm-32 0zm2-3zm1-3zm1-2zm-9 14zm3 3zm-1 8zm-6 4zm-2 8zm15-3zm8 3zm1 5zm4-3zm-33-18zm1 38zm4 3zm-27 0zm-21-1zm1-1zm-2 4zm1-12zm-1-7zm2-1zm-1-3zm6-2zm4 0zm3-1zm-4 9zm-14-2zm-4 0zm0-2zm-5 3zm0 6zm2-1zm-8 6zm-10 0zm0-4zm-8 0zm-3-1zm-2-2zm0-3zm5 0zm-2 2zm8-5zm9-4zm4 0zm12-13zm-15 43zm-7 0zm0 1zm-8-4zm-2-3zm4-2zm-1-3zm-4 16zm-21-13zm-10 1zm-3-10zm80 24zm-2 2zm-26-109zm-5-22zm-6-4zm1-8zm-4 0zm10 1zm-1-5zm5-49zm-83 1zm24-39zm143 10zm5-44zm11-2zm1 5zm-2 0zm16 11zm-34-21zm-6-10zm-4 3zm-2-5zm21 153zm19 29z"/>
<path stroke="#d2e11b" d="M103 12zm16-7zm0 16zm6-6zm4 4zm2 1zm5-2zm12 0zm-2-4zm0-6zm-3 26zm-1 4zm5 1zm10 0zm2-2zm-1-6zm6 0zm1 0zm-2-3zm1-7zm2 0zm1 2zm4 2zm8 1zm0 0zm3 3zm1-8zm8 1zm1 4zm5-3zm15 5zm2 0zm-1 17zm-3 5zm-11 4zm-3-10zm-2 2zm-1-4zm-1-4zm-12 4zm3 4zm3 10zm-1 2zm3 4zm-1 2zm-4 4zm-3 1zm-5-2zm-2 3zm3 9zm-6 1zm9 8zm-2 2zm3 2zm2 4zm3 2zm1 2zm-2 1zm0 3zm6 4zm2 6zm4-1zm4-1zm-1 6zm3 0zm4 1zm6 3zm4 2zm1 4zm-4 4zm-1 6zm-3 5zm2 4zm2-1zm-1 5zm0 0zm0 3zm-4 2zm-1 9zm2 6zm3 2zm6-3zm2-3zm-1-3zm3-2zm0-4zm-2 1zm1-10zm1-5zm-1-4zm5 1zm1-3zm4-4zm2-1zm-3-8zm-4-2zm2-6zm7-2zm0-6zm-9-2zm-1-4zm3-2zm-9 2zm0 5zm-6-2zm-3 3zm-4-2zm-1-3zm-1 0zm3 0zm5-4zm4-5zm-2-3zm1-7zm2 2zm1-10zm2-4zm-2-9zm7 1zm-14 3zm-5 1zm-11-4zm-7 8zm-5 3zm14 5zm7 3zm-3 9zm-6-1zm-2 2zm0 5zm-1 1zm8 1zm-13-6zm1-4zm2-2zm-16 11zm-5 0zm-1 6zm-8-3zm-3 4zm4 4zm5 5zm2 2zm2 0zm1 2zm-2 1zm-9 2zm-1 7zm5-2zm3 6zm-5 4zm4 7zm-2 3zm2 4zm2 0zm4-3zm-1-5zm5-3zm1-1zm1-5zm3 1zm1 7zm1 5zm3 1zm8-2zm2 4zm-2-15zm5-1zm3 0zm5-1zm-4-6zm-4 0zm-1-2zm3-1zm-10 2zm-1 3zm-4-7zm-2-4zm-1 0zm11-1zm-17-6zm-1 16zm10 11zm-9 11zm3 10zm-1 7zm1 3zm1 1zm2 5zm5 2zm-1 5zm4 1zm2 3zm4 0zm0-8zm5-5zm-1-2zm-12-2zm-5-6zm-13 2zm0-5zm-1 12zm-1 5zm-2 0zm3 3zm-1 4zm0 4zm0 0zm4 5zm-1 3zm1 4zm2-1zm-8 2zm-3-2zm-2 2zm0-7zm-5 2zm-8-4zm0-2zm-3-4zm-1 1zm0-4zm-2-3zm1-1zm1-5zm2 1zm-3-4zm-3 1zm-3 2zm0-4zm-1-4zm-1 0zm-5 2zm3 3zm-4 3zm-2 3zm0 3zm2 3zm7 1zm0-5zm4 9zm-1 4zm-1 2zm-4 0zm-3-1zm-4-2zm-10 1zm-1 5zm-4 5zm-2 3zm-4 5zm-10 2zm-1-4zm-10-1zm0 0zm-1-4zm-2 1zm3-4zm-3-3zm-6 2zm-4-2zm1-5zm-4 1zm-1-9zm0-3zm-1-4zm5 2zm0 3zm3-5zm1-4zm5-4zm1-4zm1-7zm6 1zm-3-6zm-2-5zm-2-1zm0-10zm-8-1zm0 14zm3 4zm-3 7zm0 2zm-6-7zm-4 1zm-3-1zm-6 0zm-5-4zm1-2zm-4-3zm1 7zm-3 2zm0 0zm-5 4zm7 3zm4 0zm-2 4zm-2 2zm-1 3zm-4 3zm6 2zm3 2zm2-4zm5 4zm0 2zm3 7zm-1 2zm2 7zm-2 3zm-3-2zm-3 0zm-6 0zm0-2zm1 1zm0-4zm-1-5zm3-1zm1-2zm-8 0zm-2 0zm-4-3zm-6-1zm-4-2zm-7 1zm-1 10zm9 2zm5 2zm-1 9zm-1 3zm-1 7zm-4-3zm-8-2zm-3-4zm0-6zm9 4zm13 0zm2-3zm0 19zm2 1zm-1 4zm2 5zm-11 2zm-2 5zm-3 0zm0-10zm-2 1zm-3-9zm-2 0zm-3-2zm-4 5zm-8 2zm0 4zm2 15zm12 3zm12 0zm1 9zm7 1zm1-3zm7-8zm-1-2zm6-4zm1-5zm8 0zm-1 1zm8-1zm3-1zm-5-1zm-1-3zm-3-8zm-1-2zm-5 0zm2-4zm0-1zm-3-4zm-3 1zm-2 5zm-14 2zm1 23zm21 9zm2 0zm4 6zm5 3zm-1 9zm-4 2zm-3 8zm4 8zm16-3zm4-5zm3-3zm2 0zm3 0zm1-2zm1 1zm1 3zm-1 4zm-3 0zm-1-4zm-1 11zm5-1zm11 0zm-3 5zm8 7zm-1 1zm9 0zm4 0zm7-1zm2-3zm4 1zm1-7zm3-2zm5 0zm-2 3zm7-3zm1-5zm-4-3zm-2 0zm-1-7zm-2-3zm-1-2zm4 1zm1 1zm5-4zm1-2zm3 0zm1 2zm3 3zm-5 3zm8-10zm1-4zm3-2zm0-1zm-2-1zm0-2zm3 0zm-2-4zm3-1zm6 2zm1 1zm0 2zm0 6zm7 1zm9-1zm5 2zm3 0zm-1-3zm5 1zm0-7zm-3 1zm1-3zm-1-6zm3-2zm-10-1zm2 5zm-8 1zm-1 0zm6 5zm1 16zm-3 0zm-3 5zm-3 0zm0 4zm1 4zm8-1zm1-6zm4-3zm7 1zm9 3zm2-1zm5-6zm3 2zm3-4zm1-5zm8 1zm1 1zm-1 2zm1 4zm5-2zm2 6zm7-1zm2-3zm5-3zm9 3zm2 4zm0 5zm3-7zm13-3zm1-7zm-7 0zm4-5zm0-1zm8 0zm-1-3zm4 6zm1 2zm7 1zm2-3zm1 5zm6-1zm6 1zm-1 2zm1 3zm3-2zm-1-9zm5-1zm2 3zm0 3zm0-11zm0-3zm-1-1zm0 2zm-1-1zm4-1zm3-2zm-2-6zm0-5zm2 1zm-7 2zm-2-1zm-1 4zm0 1zm-1 0zm-1 1zm0 5zm4-3zm17 0zm-3-3zm4-3zm6 1zm5 2zm2 2zm2 0zm5-1zm-1 6zm7-9zm0-8zm2 1zm4-2zm2 1zm0-6zm8 1zm-16-8zm4-5zm2-8zm-13 16zm-4 2zm-1 6zm-1 7zm-9 10zm-2 3zm-3 4zm-4 6zm12-1zm1 3zm-16 9zm-21 7zm-5 2zm-6-3zm0-28zm3 2zm5 1zm3 0zm-9-8zm0-4zm-7 0zm-2 6zm-5-4zm1-5zm1-2zm-4 0zm0 0zm5-6zm8-6zm-2-3zm1-2zm-9-2zm0 0zm-2 0zm-3-6zm4-4zm0-9zm-1 1zm-7 0zm-4-3zm-5-2zm-3 0zm0-6zm0-2zm7 1zm7-5zm-3-8zm7-5zm8-2zm5-5zm-2-4zm-5 0zm3-5zm3-6zm-13 6zm-16 9zm1 1zm-10-1zm-4-2zm-4-2zm-3 5zm-6-4zm-4-3zm1-4zm-2-2zm0-3zm-5 0zm0 8zm-4-1zm-4 0zm2 7zm-2 7zm0 3zm0 4zm0 8zm1 2zm0 1zm-5-3zm-8 2zm2 9zm2 8zm0 5zm-1 0zm4 0zm2-5zm6 1zm7 1zm-3 5zm2 5zm-3 4zm4 5zm2 7zm-1 4zm-3 3zm-1-1zm-2 4zm0 8zm0 7zm-8-1zm-6 0zm2 6zm0 2zm-1 1zm-3 2zm-1 2zm0-5zm0-2zm-3 3zm0 1zm3-17zm5 0zm-6-4zm4-10zm-4-6zm0-2zm-7-3zm2-4zm-4-7zm-3 1zm-1-12zm-9-5zm-5 10zm1 10zm-3 0zm6 2zm0 10zm1 10zm4 0zm4-6zm8 1zm-9-9zm-15 11zm-4 5zm-4 3zm-3-1zm-6-2zm-6 2zm3 4zm-3 4zm-5 2zm1 5zm-7 1zm-2-1zm0 2zm0-5zm2-1zm-8 0zm1 4zm-4 2zm-3 1zm-4 2zm-1-4zm2-5zm1 0zm4 1zm1-3zm-4-4zm3-6zm-2-5zm-3-1zm5-1zm0 0zm1-2zm-5-5zm-3 0zm-1-5zm-1-2zm3-5zm2-1zm-8 1zm-2 2zm-1 8zm-5 0zm0-2zm4 6zm0 2zm0 8zm4 1zm-6 5zm-1 8zm-7 0zm-2-6zm-3 1zm-6 1zm2 3zm2 3zm2 3zm3 2zm9 2zm0 3zm4 1zm3-2zm0 7zm-1 2zm-3 1zm-7-1zm2 7zm-2 5zm-10-4zm1-4zm-3 0zm-1-1zm-1 1zm-1-3zm3-2zm-3-7zm-1 0zm-2-8zm-4 4zm-7-1zm1 4zm0 2zm-4-2zm-1 8zm-7 4zm3-21zm6-1zm1-14zm6 2zm-1 2zm1 1zm1 0zm1-1zm1 2zm1 0zm3-8zm6 3zm-1-12zm-3 1zm4-4zm-4-5zm-13-3zm0 8zm-5 6zm-2-1zm-3 0zm0-9zm2-3zm-6-3zm-3 0zm-4 1zm0 1zm-9-9zm10-17zm16-1zm1-2zm4-1zm-4 6zm10 0zm4 3zm-2 2zm-1 1zm2 2zm4 4zm2-2zm4-4zm1 0zm-3-4zm0-1zm2-8zm-6-3zm-1-4zm0 10zm13 2zm3-7zm1-6zm3-4zm3 2zm1-7zm6-4zm1 0zm4-3zm-2-3zm-4 1zm6-5zm0-4zm5 0zm0-4zm-3-1zm-4-3zm-1-1zm-7 2zm-3 0zm-9 1zm-6-2zm-3 0zm-3 0zm-1 6zm6 2zm3 1zm-3 5zm8 3zm2 3zm-9 4zm0 0zm-15 8zm1-20zm1-13zm1-3zm-6-1zm12-8zm5 2zm2-1zm4 1zm2-1zm1 0zm5-5zm-7-9zm-6 6zm24 8zm-2 3zm10 0zm4 1zm5-1zm0-2zm5-3zm1 1zm-2 7zm-1 11zm1 13zm-3 0zm-3-2zm-1-1zm-4 1zm1-3zm1-2zm3 12zm4 6zm6-3zm6 1zm-1 7zm-4 0zm1 2zm1 2zm-6 3zm-1 28zm-2-1zm-7 0zm1 5zm2-1zm8 1zm-2 5zm-3 3zm7 0zm7-3zm7-1zm1-4zm2-4zm-14 0zm-1 1zm5 17zm1 2zm7 0zm4-3zm2-1zm-2-3zm-19 13zm-5 0zm-1 2zm-13-20zm-9-11zm-4-3zm-2 2zm0-21zm-10 41zm3 6zm4 1zm-2 2zm9 13zm-5 8zm9 9zm3 0zm6-1zm2 0zm-5 9zm-5 2zm3 3zm0 9zm1 0zm1 1zm-6-1zm-2 1zm0-3zm1-1zm-4 5zm0 4zm3 0zm11-9zm23 0zm1 0zm7-8zm3 2zm-1-6zm-1-4zm4-2zm4 20zm-2 6zm14-1zm5 0zm2 7zm1-14zm29 1zm2-5zm1 0zm6-1zm3-2zm-5-2zm-1 0zm10-19zm7-2zm1-8zm-5 1zm-1-3zm-3-1zm3-7zm3 1zm6 1zm2 6zm0 0zm7-1zm0-6zm0-3zm5 0zm0-7zm-2 1zm0-5zm3 0zm0 1zm2 2zm7-4zm6-1zm-3-4zm-6 1zm-2-3zm-3 0zm-3-8zm-3-4zm-2 2zm4-6zm2 2zm-18 4zm0 1zm-1 6zm-3 0zm3 9zm-1 5zm-3 0zm8 4zm7-8zm3-2zm11 20zm0 5zm-4-1zm-3 3zm12-6zm26-8zm1-6zm-2-2zm0-1zm6 1zm1 5zm5 0zm1 2zm-3 3zm1-8zm5 0zm1 1zm-2-6zm-2-1zm1-5zm1 0zm3-4zm4 3zm2 1zm0 4zm2 5zm1 1zm8-1zm1-5zm0 11zm0-23zm-6 2zm2-6zm-5-2zm-5 0zm1 5zm3-10zm-7-1zm1-1zm0-6zm1-3zm5 1zm1 2zm-12-1zm-2-8zm6-1zm5-1zm-2-5zm3-3zm4 2zm0 0zm-12 0zm-7 3zm-5-1zm-3-2zm1-3zm-4 0zm2-3zm5 0zm-1-10zm-7 20zm-4-2zm-4 9zm7 4zm4 1zm1 8zm-5-1zm1-1zm8 0zm1-2zm-3 8zm5 7zm-17 0zm48-7zm3 14zm3 4zm3-3zm24 36zm-120 33zm-10 8zm-21-58zm-3-16zm3-9zm-16-4zm36-10zm2 0zm1-3zm-3 1zm-1-14zm-2 0zm-2-3zm-1-6zm1-2zm0-6zm-1 0zm-5 4zm3 16zm16-4zm2 2zm5 4zm3-11zm0-1zm-3-5zm1-19zm0-1zm-8-1zm-5 1zm-4 2zm-1-8zm7 1zm6-2zm2-5zm3-4zm4 3zm3 2zm5-1zm-9-8zm-4-11zm1-5zm-11 2zm-5 11zm2-24zm1-4zm-15 1zm-3-11zm-1-4zm6 0zm3 2zm2-12zm15-3zm4-11zm-1-13zm6-6zm-14 2zm-4 2zm-18 6zm-5-3zm-4-2zm1-1zm3-3zm0-1zm-51 3zm-4 7zm-4 0zm-6-3zm-4 2zm-10 3zm-2-1zm-2-2zm0 11zm-3-1zm-4 1zm-1-7zm-5 0zm0-11zm3-3zm0-3zm-1-4zm-3 5zm-6 1zm1 1zm-1 2zm-5 18zm-2 4zm-15-1zm-2-5zm-1 18zm-10-10zm-7 23zm61-12zm7-11zm-1-8zm18 5zm0 6zm3-3zm-2 31zm-4-3zm-12 1zm-15 19zm4 15zm4-3zm17 32zm3 2zm-2 2zm-92 13zm-2-1zm-6-3zm-1-3zm-1-22zm-12-14zm-18 9zm-3-1zm11 18zm-3 13zm-3 2zm-16 5zm1-15zm-1-3zm-7-5zm-6 30zm-1 21zm8 4zm60 34zm1 2zm21-13zm52 77zm-1 2zm5-5zm10-1zm-2-4zm14-280zm7-4zm99 44zm29 0zm-8 26z"/>
<path stroke="#d2e11b" d="M110 19zm10 0zm6 0zm4-4zm5-1zm8-1zm8-2zm3 3zm0-10zm-18-2zm11 19zm-8 10zm-6-1zm-3 2zm3 4zm-1 6zm11 4zm3 0zm2-8zm6-2zm1-1zm0 5zm2 2zm3-2zm-1-3zm4-2zm1-2zm1-4zm-3 0zm9 3zm-3 6zm-2 1zm2 6zm6-2zm3-1zm3-3zm4-1zm2 3zm1 4zm1 6zm8-4zm3-5zm10 0zm8 6zm2 6zm0 5zm-3 1zm-3 0zm0 3zm2 0zm0 2zm-10-4zm-12-1zm3-4zm-21 5zm0 3zm-4 3zm-5-3zm-1-4zm-5-3zm1-7zm-5 0zm-5 3zm1 1zm-1 12zm6-3zm7 6zm14 0zm3 0zm0-1zm3 9zm1 5zm2 4zm5 5zm6 1zm-2 2zm-6 2zm1 3zm-5-2zm-4 1zm0-5zm-2-4zm-4 3zm0 2zm-5-2zm-8 1zm6-14zm7 2zm2 1zm25 0zm2 14zm-1 6zm-1 3zm5 2zm-8 6zm-3-2zm-6 13zm-5 4zm-2-1zm2 4zm2 1zm6 4zm2 9zm3-1zm6 2zm0-10zm7-7zm0-10zm9-6zm3 12zm2 3zm7 3zm5 9zm0 2zm-2 6zm-3 2zm-1 6zm6-2zm5 5zm0 0zm-1 6zm2 0zm5 2zm2 5zm0 7zm-3 0zm10 3zm0-7zm9 1zm3 6zm-7 3zm4 5zm-2 6zm-3 0zm0 3zm-4-3zm-6-5zm-4 7zm3 5zm-4 3zm0 4zm-5 0zm-1 2zm3 1zm6 2zm3 1zm3-1zm-4 7zm-3 9zm0 7zm0 0zm0 7zm-4 2zm-1 4zm-3 2zm0 6zm-4 6zm-11-1zm0-4zm1 0zm-4 0zm-2-2zm-1-11zm-1-4zm1-1zm3-4zm9-1zm1-3zm1-4zm-5 1zm-2-14zm-6 4zm-9 2zm0 4zm0 2zm-1 4zm2 11zm17 3zm0 3zm-34 2zm0 3zm6 4zm2 9zm-4 14zm-9 0zm-5 0zm0-14zm3 3zm-16 2zm0 1zm0-6zm3-3zm1-3zm3-1zm-4-8zm-10 3zm0 5zm-5 1zm-3-8zm-7-5zm-10-6zm-8-5zm1-4zm1-1zm-1-7zm1-4zm-6 0zm-4 0zm1-3zm0 8zm-7-1zm0 6zm-2 6zm-8-7zm-5-1zm-1-8zm0-3zm-1-1zm2-2zm-8-7zm-4-2zm-3 0zm-1 1zm-8 0zm3-7zm0-1zm-3-4zm0-4zm4 1zm4-6zm1-1zm3-5zm5 0zm5 0zm2 2zm2-7zm4-1zm6-1zm7 0zm3 1zm0 6zm1 4zm2-1zm4 4zm-7 3zm-6 3zm2-11zm0-14zm-2-1zm-4-2zm-3 3zm-2-14zm-6-3zm3-4zm1-9zm-5 0zm-3 6zm-11 0zm-2 0zm-4-1zm0-11zm8-2zm4-3zm14-5zm0 0zm4 16zm16 1zm1-1zm10-2zm8-3zm2-5zm4-2zm5 2zm-1 2zm-1 4zm7 4zm0 3zm-2 0zm-1 8zm-2 5zm-7-1zm-1 1zm-7 2zm-6-4zm0-6zm7-4zm-2-16zm4-2zm-1-2zm7-3zm6 2zm2-9zm-9-1zm-8-16zm-2 0zm-7 0zm-2 1zm-4-12zm3-28zm-8-4zm-1-2zm-6-4zm-4 3zm-5-2zm3-5zm-1-6zm-6-5zm-3 2zm21 1zm53-7zm6 1zm4 0zm7 0zm-4-7zm-22-3zm61 10zm-6 8zm2 8zm0 14zm5 5zm0-10zm4 2zm1-6zm10-8zm0-1zm2 2zm7 13zm-1 14zm7-4zm14-6zm-7-11zm36 6zm-3 12zm44 23zm12-6zm0-5zm-113-2zm-8 5zm-1 10zm3 12zm7-1zm13 0zm4 18zm-5 6zm-5-1zm8 5zm2 4zm-5 1zm8-4zm4 0zm4-1zm0-6zm0 0zm1 1zm-1 20zm5 4zm5 1zm1 0zm-3-4zm0-3zm6-9zm12 18zm-6 11zm0 1zm11 3zm2 3zm4-8zm1-1zm6 18zm0 6zm-2 0zm0 3zm-6-4zm-10 2zm-4 4zm0 6zm9-2zm0 19zm3 5zm0 1zm0 1zm0 2zm-6-1zm17 0zm6 2zm5 0zm-4-9zm-4-2zm2-2zm6-3zm4 0zm-1 4zm0 1zm8-3zm17 1zm4 10zm11-1zm-1 9zm-3-2zm6 16zm-8 9zm-8-5zm0-1zm-10-1zm-4 1zm-4 1zm4 7zm-1 2zm4 7zm-15-3zm-10 1zm-9 1zm-2 2zm0-10zm6-2zm7-6zm-2-5zm-2-8zm0 0zm-5-5zm-8 6zm-1 1zm-18 3zm-2-1zm-3-5zm-3-6zm-3-5zm8 0zm-1-7zm-5-2zm-9 2zm-1 3zm2 10zm0 12zm9 8zm-5 8zm2 11zm8 0zm13 5zm-1-16zm-3-3zm-2-9zm-2-30zm-4-26zm-8 6zm6-21zm2 0zm-15-8zm-5 0zm-8-9zm-4-1zm0 0zm-1 3zm2-9zm5 1zm0 3zm-34 2zm-4-6zm7-5zm-1 25zm2 2zm1 1zm-2 1zm4-4zm3 1zm3 4zm3-2zm-4 11zm-2 3zm-5 2zm-2-5zm-2 1zm-4 1zm0-5zm0-11zm-6-5zm-13-5zm-5-2zm1-3zm-3-5zm-5-1zm2-2zm-6-1zm-6-1zm-2-2zm1-5zm3 2zm-2-9zm-9-5zm2-5zm1-3zm0 0zm2 1zm0-3zm1 0zm2-1zm-8 31zm0 5zm3 1zm-3 10zm7 0zm6-2zm11 3zm4 13zm-2 4zm-3 5zm5 4zm1 0zm8 0zm-2 6zm-1 4zm0 2zm6 4zm-1 6zm-2 0zm-6-2zm-6 2zm-6-1zm-2 0zm-5 1zm1 2zm-2 1zm1-7zm0-5zm-2-2zm6 1zm1-4zm-14-2zm-1 1zm3-6zm1-5zm2-3zm5 0zm0-6zm1-2zm2 1zm-6 13zm-14 2zm-5 1zm-7 1zm-9 0zm-4-8zm-3 1zm12-6zm2 1zm3 3zm6-1zm4-4zm-2-3zm7 5zm-9-15zm-3 2zm-12 7zm-10-9zm-2-2zm-3 2zm2 3zm1-11zm-9-1zm0-5zm2-1zm1 3zm-10 6zm-24 4zm1 5zm-6 1zm-1 4zm-2-2zm-6-2zm-5 2zm-10 0zm-1-3zm4-8zm0-8zm0-2zm1-3zm9 12zm9-2zm10 17zm-3 4zm0 22zm6-1zm8 1zm1-9zm24 8zm-3 9zm-1 3zm-3 1zm5 2zm5-2zm5 2zm2-9zm7 2zm2-3zm2 0zm1 3zm3-4zm-1-2zm5 5zm2 3zm11 2zm-4 6zm1 6zm-2 5zm-7 0zm-2 2zm1 2zm-3 4zm1 5zm8-1zm5 2zm2-4zm6 4zm6 9zm4-19zm-3-6zm-2 1zm-2 0zm-1 1zm8-9zm13-1zm-4 14zm14-23zm2-13zm14 5zm1 1zm-2 4zm10-4zm-3 21zm15 43zm0 1zm9 2zm4-1zm-16 7zm-11 9zm-20-1zm3-3zm-25 12zm-40 1zm-3-5zm-1-7zm-5-1zm-8 2zm0 0zm4-8zm11 2zm2 0zm-10 21zm-3-3zm-2 6zm-5 2zm-1 1zm5 8zm-14 0zm2-15zm2-10zm-15 1zm-11-1zm-6-2zm2-7zm-4-2zm1-5zm-4 0zm-2 2zm0 1zm-1-9zm4-1zm3-1zm0-2zm4-5zm7-1zm-1 7zm-1 1zm1 2zm1 0zm-5 0zm3 6zm8 2zm5 1zm-10 4zm6-15zm1-3zm7 3zm2-8zm1-3zm5 0zm3 0zm-5-4zm-24-4zm-8 7zm-5 0zm-1-3zm-7 2zm-2-4zm1-2zm0-6zm5 3zm4-8zm0-1zm-1-9zm5 3zm18 1zm3-3zm24 2zm4 7zm2 5zm3-9zm2-12zm3 0zm-3-4zm8 6zm-2 2zm5 4zm48-41zm26-61zm-1-2zm-18-32zm10-11zm-111 32zm1 3zm9 9zm1 8zm-4 3zm-46-8zm-9-1zm12-22zm-14-11zm-25 41zm-2-1zm-4 10zm-4 16zm15 1zm0 3zm6 0zm1 16zm3 1zm-1 2zm0 8zm0 9zm0 4zm1 5zm-2 0zm8-3zm3 5zm-2 8zm0 12zm5 3zm-3 6zm0 2zm2 2zm4 0zm1 5zm-2 0zm4 4zm0 5zm1 6zm-3 1zm-4-3zm-2 12zm0 2zm5 1zm4-4zm2-5zm5 4zm-3 8zm-2-1zm-1 4zm5 5zm-11 2zm-4-2zm-4-18zm-12-5zm-2-4zm1-13zm6 3zm-1 2zm6-9zm0 0zm-16-7zm0-8zm2 0zm3-2zm4 0zm-12-6zm-1-1zm-1-2zm1-3zm1-3zm3 1zm-1-7zm3-1zm-11-3zm-4 1zm-2 0zm-5-3zm-4-3zm-10 3zm13 10zm-1 15zm5-2zm1-1zm-2 13zm2 4zm1 13zm11-3zm-26-16zm21-39zm1-1zm4 4zm2-16zm-5-10zm-12 1zm-7 1zm-5 0zm9 5zm45 5zm1 7zm-3 0zm-2 7zm-4-1zm12-1zm3 13zm6 49zm7 3zm193 31zm49-10zm4-36zm-1-7zm1-39zm0-4zm-1-8zm-7 3zm55 34z"/>
<path stroke="#90d643" d="M85 49zm2-2zm-2 9zm4 5zm10 5zm4-10zm4-4zm4-2zm-2-9zm-1-2zm-4-8zm10-1zm2-2zm1 16zm8 1zm1 2zm8 2zm0-8zm5-4zm4-3zm2-4zm2 0zm4 5zm3 7zm7 5zm1 5zm-4 1zm4 6zm-5 8zm-2-2zm-2 10zm-4 0zm-1 1zm-3 5zm-2 1zm0 1zm-1 2zm-5-5zm2-9zm1-3zm-5-1zm-2 0zm4-2zm0-7zm1-1zm6-1zm4 2zm-17-4zm-9 10zm-7 1zm-4-2zm9 7zm1 14zm3 15zm11-2zm2 1zm-4 6zm-14 5zm-5-2zm-2 4zm3 4zm5 1zm2 13zm6 3zm1 2zm-13 0zm2 8zm-8-3zm-7-1zm6-8zm0-1zm-1-5zm-3-6zm0-4zm-4 5zm-20 0zm0 6zm-1 13zm-4-1zm0-3zm-3-2zm-8 3zm-2 8zm6 3zm10-2zm0 7zm-3 2zm0 4zm1 3zm5 8zm8 6zm2-1zm-3 12zm-4 1zm-5-2zm-1-1zm0 8zm3 3zm2 1zm1 1zm-5 3zm-10-1zm-16 2zm-7 0zm8 6zm-3 8zm11-1zm4 3zm0 13zm15 2zm1 1zm7-2zm-12 7zm-8 8zm-4 2zm-5 0zm-1-1zm-1-4zm-5-4zm-5 0zm-2-13zm-4 4zm-3 0zm0 2zm0-4zm-7 0zm0-10zm7 1zm1-2zm3 4zm-8-12zm-13 1zm-3-1zm-6-11zm12-1zm5-2zm4-6zm10-3zm-5-8zm0-1zm15 0zm-2-6zm2-13zm6-5zm3 11zm1 3zm2 10zm2 4zm-4 4zm33-2zm7 0zm5 7zm2 2zm2 8zm-8-2zm1 10zm4 2zm0 1zm0 1zm-9-2zm-9 2zm-6-6zm12-15zm27 3zm1-6zm8-2zm-1-3zm0-11zm9 1zm4-10zm8 1zm-1 4zm-1 17zm2 1zm13-2zm2 0zm0 2zm0 5zm9 0zm2-2zm1-16zm-15 1zm2 4zm2 3zm-8-2zm-4 29zm0 4zm-1 1zm0 4zm3 0zm-1-1zm2 2zm-9 0zm-2 9zm6 5zm3-1zm1 4zm-8 2zm0 6zm-1 11zm-4 2zm1 3zm6-2zm-16 1zm-4 1zm-3-1zm-2 4zm0 1zm-9 0zm-7-2zm1-4zm0 12zm-14 2zm-3-10zm6-7zm5-3zm-2-11zm15 3zm1 4zm13 1zm-2-6zm-5-5zm12-7zm-1-15zm-2-5zm-2-2zm12-2zm2 1zm0-8zm-1 1zm-8-10zm-12 11zm0 17zm-3-3zm-3 6zm-8 9zm-27 25zm-5-3zm-2 0zm-1 7zm-1 4zm-3-1zm-1 2zm-2-1zm-1-6zm-11 9zm-5 8zm21 5zm10 1zm-6 8zm16 2zm7-4zm9-2zm7 4zm-1 11zm-3-2zm18-14zm7 0zm10 5zm3 2zm0 6zm4-9zm0-2zm20-2zm0 5zm3 5zm3-14zm-5-1zm-3 1zm-4-8zm8-13zm8-2zm8-2zm11 10zm-2 4zm6 6zm0 2zm2 0zm6 1zm0-7zm0-1zm9 2zm1 4zm-2 9zm9-2zm10-8zm-4-14zm10-3zm9-7zm2-9zm-1-6zm-4-4zm8-2zm-2-5zm-10 0zm-1-18zm1-4zm3-4zm6 1zm0 4zm-2-9zm9-1zm-6-10zm-7 0zm-1-11zm-2-1zm2-2zm2-2zm3 3zm1-6zm-6-2zm-2-5zm-1-4zm-2-5zm-16-3zm-5 0zm-1 0zm-4-4zm-3 6zm-2 1zm-6 0zm1 3zm0 5zm-1 4zm4 2zm6 5zm0 2zm3-5zm2 0zm6 0zm1 0zm6 1zm4 4zm2 8zm3-2zm-7 11zm-3 8zm-5-1zm-7 2zm-9-5zm-3 1zm0-9zm7-4zm4 3zm3-7zm-7-19zm-8-16zm-3-3zm-1-1zm-2 5zm-4-2zm-6 3zm1-11zm0-2zm-1 0zm-2-6zm0-2zm-2-5zm-2 0zm8-1zm7 1zm5-8zm4-5zm8 4zm16-1zm0-9zm-7-1zm-4-2zm-3-7zm-6 4zm-1-12zm7-8zm-7-12zm-5-1zm-8 5zm0 2zm-7 3zm-8 1zm-1-7zm-1-8zm-1-2zm-5-1zm-3 8zm-8-2zm-3-11zm5-3zm-2-6zm-14-1zm-2-3zm-5-7zm-5-4zm0-1zm3-3zm0 0zm6 0zm5-1zm-16-2zm-9 3zm1 1zm-4-1zm2 8zm3 1zm-4 5zm-7-19zm12-10zm40 17zm6 7zm8 19zm2-1zm9-1zm16 1zm3-14zm22 18zm7 2zm-1 3zm-2 15zm13-2zm4 0zm2-4zm4 5zm3 0zm5-2zm8 0zm2 0zm2 4zm3 3zm5-1zm1-5zm1-2zm12-1zm7 2zm0 4zm-15 4zm2 8zm-20-8zm-3-2zm-17 3zm-4 9zm-3 0zm-13 2zm-6-2zm10 9zm2 9zm-2 4zm5 13zm3-1zm4-4zm10 1zm2-2zm-2 9zm-3 6zm7 3zm4 12zm2 7zm3 1zm9-3zm3-1zm3 9zm-4 8zm-2 3zm7 1zm3-1zm4 4zm3-1zm0 6zm-2 1zm2 4zm1 4zm2 9zm8-1zm4-1zm9 2zm3 0zm-4-6zm7-2zm-2-5zm-3-2zm-3-2zm-20-14zm-2-16zm4-1zm-12-5zm-6-8zm-14-18zm-21-17zm-13 29zm-1 2zm-4 3zm-5 0zm-2-3zm-2 1zm3-4zm0-7zm-1-3zm-1 23zm-7-4zm-13-3zm-3-3zm-4-2zm12-2zm-31 3zm-14 2zm-8 9zm-17 3zm-2-9zm3-6zm-10-2zm0 0zm-2 7zm-3-1zm-3-5zm2-5zm11-6zm-2-4zm7 3zm4 2zm1-9zm3-3zm0-7zm-4 2zm-4-3zm-9 2zm24 3zm3-7zm-6-5zm0-12zm8 2zm6 6zm-1 1zm8 2zm1 2zm7 6zm-1 11zm8-5zm4-13zm-10-9zm-37 3zm16 30zm-2 5zm11-5zm7 33zm-3 12zm4 8zm6 0zm-1 2zm6 19zm-3 8zm-3 1zm5 11zm2 1zm-4 2zm-2 1zm-10-4zm-5 0zm-6 6zm-8-3zm1 18zm1 13zm-2 11zm-7-6zm-20 17zm3 6zm-11 2zm9 34zm57-9zm-2-10zm22 12zm-9-35zm4-11zm9 1zm4-5zm10 0zm6-1zm31 2zm5-3zm-6 11zm5 14zm-2 2zm-6 1zm-5-4zm16-1zm13 3zm-4 5zm16 1zm-4-14zm0-4zm0-2zm-3-1zm0-4zm0-1zm-4-1zm8-3zm1 7zm7 8zm11 2zm2-7zm2-1zm2 1zm6 6zm3-16zm12-1zm5 4zm6 5zm-3 5zm-7-25zm1-7zm8 1zm2-6zm5 0zm13-1zm-3-21zm-9 4zm-9 3zm-4 0zm-6 3zm-11 12zm-3 0zm-3-4zm-7 3zm0-7zm-5-1zm-4-4zm0-1zm7-1zm-22-4zm6-6zm-2-10zm-2-2zm0-5zm-8 3zm-2 0zm-2 5zm-6-1zm0-5zm0-3zm6-2zm-1-3zm4-1zm-10-6zm-7 0zm-2 2zm8-12zm-8-14zm-5-4zm-4 1zm1-3zm8 67zm8 9zm2 2zm1 5zm4 5zm4 1zm4 2zm16 5zm-1 7zm10 3zm0 4zm3-13zm13-6zm20-32zm-69 2zm-48 0zm-3 0zm0 6zm-17-1zm-2 13zm5 2zm-9 10zm-5-2zm0-2zm-5 9zm13 2zm-24-6zm-5-4zm-1-6zm-3-4zm-47-66zm-11 5zm-15 2zm-5-1zm-1-1zm-4 0zm0 1zm1 7zm5-1zm0 9zm0 0zm-13-12zm-13-6zm1-4zm5-8zm-24-15zm-12 0zm2-5zm-7-3zm-5 12zm-19 11zm-1 9zm9 3zm3-1zm2 7zm-4 2zm-11 3zm3 9zm-2 9zm-6 1zm-4-4zm1-9zm-6-1zm-2-11zm7-5zm-2 67zm18 18zm15 20zm-8-153zm17 0zm9-1zm9-6zm11 0zm2 5zm-11 6zm-1 2zm0 1zm0 0zm-1 1zm7-36zm-2-8zm19-19zm3 2zm4 38zm7 15zm224 5zm2-15zm7 0zm-3-11zm-47 174zm1 1zm-39 25z"/>
<path stroke="#55c666" d="M100 31zm8-2zm9 1zm3 16zm-11 2zm0 15zm-2-1zm0 3zm-2-6zm13-1zm1 10zm4 0zm-1 7zm6 0zm3 2zm5-7zm8 1zm-1 10zm13-3zm-1-8zm4-15zm-2-3zm1-3zm-13-2zm0 6zm1 6zm0 0zm-7 3zm-4-1zm-4-6zm11-20zm11-20zm31 16zm16 7zm1 22zm14-10zm15-8zm-5-7zm8 20zm13 3zm1-11zm1 29zm14-1zm2 2zm0 0zm-4 8zm17 1zm3 1zm1 1zm2 4zm0 10zm-16-3zm-25-5zm-7-6zm-12 5zm1 4zm3 1zm-13 4zm-5-3zm-1 5zm0 16zm10 16zm10-2zm5-3zm1-19zm-21-21zm-15-2zm-7-7zm-4-7zm-8 0zm-6-6zm-6 8zm2 17zm8-5zm3-2zm-35 9zm-4 5zm-3 2zm-4-3zm-6 0zm-3-4zm-7-2zm12-2zm2 18zm-9-5zm2 12zm-2 2zm5 1zm9 1zm-8 10zm-7-2zm-7-6zm-9 1zm-12-2zm-3 12zm-5 1zm-3 2zm0 1zm-4 1zm3 11zm14 1zm16-1zm-1-2zm2-11zm8 21zm-1 8zm-11 5zm3 3zm-18-4zm-16 0zm2-5zm-14 3zm-1 6zm-5 3zm0-25zm1-23zm3 1zm12-2zm-3-8zm6-3zm7-3zm1 0zm-5-6zm5-7zm8 1zm-2-10zm-8-3zm-11-4zm-4 2zm2 8zm-7 12zm-2 6zm-5-1zm-10-5zm-1 10zm-1 3zm-2 10zm-1 14zm-7 10zm7 10zm-1 3zm-10 2zm2 2zm-5 0zm-12-11zm4-18zm11-25zm-5 76zm-9-8zm28 6zm-1 8zm6 4zm-1 7zm-2 16zm14-3zm2 8zm0 6zm2 2zm-6 0zm-7 9zm-12 2zm13 36zm14 3zm35-10zm2 0zm-3-6zm12 6zm-1-20zm-7-3zm5-6zm2-2zm1-1zm0-10zm7 7zm-16-1zm0-12zm-8-10zm-1-16zm5-3zm-4-7zm-17-6zm-5 11zm-5 4zm9 9zm7 27zm45-5zm8 0zm5 10zm15 1zm-4-15zm8-7zm10 5zm0-11zm1-6zm14-8zm8-6zm14-2zm5-6zm-13-3zm-23 3zm3-11zm-12-2zm-3-16zm-3-15zm-9-2zm-15-1zm-3 21zm-14 28zm-5-1zm2 17zm8-1zm-11 9zm31-2zm5-7zm9-7zm26 22zm8 15zm5 12zm-6 5zm-14-5zm-2 21zm-8 15zm-17-4zm-3-20zm-16 4zm-6-2zm2-3zm-29 43zm102-35zm12-3zm12-9zm-2-6zm-4-3zm-10-2zm17-4zm15 16zm18-6zm7 3zm-7 9zm17 7zm5 1zm8-4zm5-7zm-13-2zm8-15zm0-23zm5-12zm6 6zm15 8zm23-5zm14 1zm9-5zm-7-11zm1-3zm-3 0zm-6-2zm0 6zm-5-8zm0-4zm4-4zm6-2zm3 5zm4 1zm1-4zm6 0zm2 7zm4-11zm-20-24zm-5 4zm-15 5zm-2 4zm-10 5zm3 4zm0 11zm-9 4zm-23-11zm-7 3zm-17-4zm-3-11zm5-5zm5 4zm1-10zm5-6zm-1-18zm3 1zm6 2zm0-13zm-2 1zm-14 3zm-10-6zm-5 11zm-6 41zm-8 1zm-16 4zm-7-18zm-15-5zm7-14zm-22 1zm6-9zm-24-5zm-20-16zm13-61zm-56 18zm-7 3zm-1-1zm1 7zm7 2zm-16-20zm172 2zm9 3zm4 0zm6 0zm-1 2zm4 4zm2 2zm8 1zm4 0zm-1 1zm1 5zm-8 1zm3 4zm14 1zm0-15zm11 1zm-3-8zm-1-5zm-19 3zm-13-4zm-14-6zm1 16zm54 13zm10 1zm0 10zm3 11zm1 0zm1 7zm6-6zm15 2zm11 11zm-9 18zm-30 3zm-18 0zm5-8zm-3-6zm-5-4zm-7 5zm-10-13zm26-2zm5-1zm0-7zm-3-6zm1 18zm0 2zm-4 36zm1 3zm0 1zm0 3zm-9-5zm-38 53zm-10 1zm2 6zm2 10zm-16 2zm-4-1zm-13-12zm-5-10zm24-1zm0-5zm94 29zm-3 15z"/>
<path stroke="#2bb17d" d="M143 6zm5 8zm-4 16zm-3 0zm-10 1zm-4 12zm20-3zm5 6zm1 8zm-5 3zm6 16zm4 6zm7 13zm4 8zm-25-9zm0-4zm-19-17zm-17 16zm-22 0zm-10 1zm6 8zm-8 10zm0 11zm-3-1zm-10-8zm-10 13zm-3-3zm6 7zm-7 10zm-6 8zm-13 2zm-5 15zm-8 14zm27-5zm41-3zm5 13zm6-4zm14-2zm13 5zm-29 24zm3 33zm-19 6zm2 7zm-8 2zm-6-3zm-12 17zm1 6zm19 10zm46-10zm22-13zm7-5zm0-16zm-15 1zm-4-5zm40-3zm-4-6zm0 18zm54-1zm8-5zm-6 21zm19-6zm18-21zm10-5zm11-8zm9 10zm15 17zm27-17zm36-7zm1-21zm1-18zm6-25zm3-21zm-18 0zm3-11zm-10-3zm-4 1zm-2 1zm-1-1zm-2-1zm0 9zm3 1zm2-1zm-3 9zm5 13zm2 7zm3 3zm-12-7zm-9 3zm-13 9zm-1 19zm-45-5zm6-12zm16-16zm14-10zm0-12zm9 2zm-1-18zm-2 0zm3-1zm-17 0zm-1 6zm2 4zm-9-3zm-2-5zm-3-1zm-4 0zm2-4zm-1-7zm-5 4zm-1-9zm-1-9zm3-6zm-11 2zm-11 2zm10-15zm23-3zm23-1zm-7 10zm-2 10zm10 3zm-3 3zm0 6zm-7 2zm-5-2zm-10 0zm-2-6zm6 12zm-17 12zm59-3zm-2-10zm-2-2zm-7-14zm-4 3zm27 4zm-124-5zm7-27zm18-20zm-56 25zm-4 5zm10 2zm-13 56zm-17 2zm39 7zm12-11zm12 17zm11 7zm-2 33zm-11 8zm28 0zm-67 12zm17 68zm-157-50zm-17-1zm-20-2zm4-13zm73-80zm-7-7zm33-19zm-26-31zm4-18zm13-1z"/>
<path stroke="#1e9a89" d="M114 49zm16-9zm21-10zm-5 28zm-12 21zm-18-4zm-6 20zm-8 2zm0-4zm-12-1zm0-15zm-1 32zm5 3zm4 7zm-31-3zm6-12zm6-4zm1 0zm-10 63zm-15-2zm0-8zm-20-2zm0-9zm2 30zm2 18zm40 14zm-8 32zm-18 2zm74-8zm9-24zm6-14zm13 1zm-27-6zm-6-6zm-28-2zm51-26zm3-39zm6 0zm18 13zm0 9zm17-11zm2-24zm-18-19zm3-28zm21 9zm18 2zm-9-20zm2-11zm-25-19zm102 55zm5 12zm-9 2zm-5 18zm11 6zm2 11zm19-1zm7 4zm9-10zm-1-4zm-3-1zm5-3zm1-9zm-4 1zm-10 2zm-4-4zm-5 4zm-6-1zm6-20zm24 4zm9 4zm-3 3zm1 49zm-4 1zm24-7zm9-7zm5 55zm-2 5zm-5 20zm-16-26zm-53 1zm6-20zm14-2zm-38 1zm-17 23zm-5-41zm-15 4zm-50 32zm-14 35zm28 6zm28 27zm10 28zm41-3zm2-40zm1-14zm27-4zm-2 20zm60 9zm-204 0z"/>
<path stroke="#25838d" d="M117 36zm2 9zm6 14zm-19 15zm-3 7zm-6 18zm0 8zm-28 15zm-7-1zm14 12zm2 0zm85-24zm22-25zm-41-5zm7-28zm-17-24zm105 28zm13-4zm32 7zm-7 8zm27 16zm-2 22zm4 5zm4-4zm3-3zm12 5zm1 14zm18 3zm12 7zm-10 23zm3 6zm24 12zm-2 46zm-27 4zm-4-32zm10 66zm-87-88zm11-42zm-15-10zm-1-12zm-31-9zm3-22zm63 39zm3-2zm7 12zm21-31zm7-8zm-139 191zm-11-7zm-14-15zm-37 25zm-9 14z"/>
<path stroke="#2e6b8e" d="M125 20zm11-4zm14 22zm6-3zm2-2zm13 26zm0 38zm18-4zm2 21zm-42 1zm-28-5zm2-16zm-13 0zm-6-8zm-8-6zm-19-1zm-1 10zm-9 3zm3 5zm14 6zm7-2zm0-4zm-12 14zm-7 37zm1 3zm-10 2zm26 39zm-23 37zm9 31zm8 8zm-51-14zm-2-33zm155-20zm7-3zm7 3zm-3 64zm-15 3zm27 11zm42-7zm112-27zm19 5zm-17-43zm-15 13zm-2-2zm14-39zm-3-14zm-9-35zm-18-3zm-10-14zm-9-4zm-8 14zm1 25zm-17-7zm-4-50zm9-11zm12-1zm-40-11zm-20 4zm-98 2zm-1 3zm-4 6zm13 3zm-39-3zm-5-19zm11-23zm13 11zm201 51zm-2 3z"/>
<path stroke="#3a528b" d="M118 28zm9 29zm6 17zm17 12zm18 2zm17 13zm20 17zm50-4zm-21-25zm4-37zm30 15zm10 15zm14-4zm6 1zm-1 3zm1-15zm4-3zm-17-5zm28 22zm9 1zm0 21zm-9 6zm-7-5zm-9 3zm36 1zm8-2zm3 1zm-6-14zm2 52zm5 6zm2 7zm6-5zm-29-2zm-30 23zm-7 32zm8 21zm13 6zm46-18zm-4-33zm14-5zm13 57zm-134-70zm-13-17zm-127-16zm-11 5zm-4-18zm2-41zm13 5zm-24-12zm80-34zm-10 223zm-85-19z"/>
<path stroke="#453580" d="M112 46zm7 14zm-20 30zm-11 32zm-10 27zm-17-39zm70-6zm10 3zm45-10zm18-13zm19 21zm14-10zm26 12zm5-1zm18-2zm9-17zm3 1zm15 1zm-1 2zm2 1zm0-10zm18-2zm-37-10zm0-5zm-8 12zm-26-18zm54 58zm15 10zm11 6zm22-1zm-19 36zm-25 18zm-13-37zm38 86zm21-20zm-255 41zm44-211z"/>
<path stroke="#471567" d="M35 128zm-3 5zm13-14zm23-9zm9-11zm5-15zm22 22zm24 0zm29-15zm-3-5zm17-9zm-33-22zm-17 6zm-5 12zm-22 76zm-12 16zm-40 67zm89 25zm72 11zm157-36zm2-33zm7-1zm-15-25zm1-23zm7-15zm1-2zm10-3zm-24 3zm1-11zm5-3zm-3-5zm1-3zm-2 0zm-7-2zm-8-6zm-14 0zm-3 0zm4-5zm-1-11zm-10 0zm-4 11zm-4 0zm0 6zm-5 1zm-3-2zm-3-16zm9-7zm-1-10zm-12 2zm-8 1zm0 7zm-8-2zm-9-5zm-7-12zm-12 7zm-1-18zm5 34zm28 14zm36 8zm4 10zm8 4zm0 2zm7-4zm5 6zm-1 19zm-25-7zm-3 2zm5-13zm11-14zm7-28zm-47 54z"/>
</g>
<path transform="translate(1000 1865) scale(0.5)" d="M353 17l21 10 49 18 53 14 55 11 40 12 54 22 22 13 20 14 47 40 12 16 12 20 12 36 3 56 8 33M17 302l19-29 166-228 26-28M761 486l-17 23-21 18-24 14-30 11-44 9-200 23-74 15-27 12M199 611l-60-28-24-16-54-54-25-30-19-26M321 17l42 24 50 20 54 14 76 13 64 22 24 12 26 17 28 22 20 20 15 22 11 28 3 24 2 52 16 58 4 24 1 42-2 22-7 20-13 20-14 15-18 12-22 11-24 7-32 6-98 9-108 14-78 16-58 23-14 2-16 0-32-8-58-23-21-10-17-13-50-51-33-40-17-30-8-32M17 369l4-22 5-20 8-18 12-20 170-238 17-18 21-16M280 21l15 0 16 5 60 36 46 20 48 11 44 2 28 4 28 7 32 10 26 12 26 16 25 19 20 20 16 22 9 24 3 26-3 40 1 16 4 20 13 40 4 26 0 38-4 22-10 20-17 20-27 18-32 11-36 4-72 0-18 2-49 11-63 9-70 13-16 5-40 17-14 2-16 1-24-3-26-7-35-13-23-11-20-17-60-65-14-17-10-16-7-16-4-16-1-22 2-28 4-20 7-18 11-20 27-36 53-79 35-45 56-86 11-12 14-11 14-7 13-4zM279 33l12-1 14 4 14 7 14 10 41 40 21 33 10 13 16 14 14 8 18 3 15-5 7-8 11-24 5-6 8-6 16-4 24 0 40 8 34 13 42 26 30 27 15 20 8 22 1 24-5 22-7 13-8 6-8 2-32-3-9 4-2 6 3 12 6 10 32 22 22 21 10 12 6 14 3 31-3 24-12 24-17 20-17 11-18 6-24 2-22-3-9-4-5-6-10-28-8-11-12-7-28-6-9-6-3-8 4-8 8-3 28-3 12-3 11-7 5-9 0-13-8-28-6-37-4-6-8-2-12 5-8 9-34 76-6 8-12 6-20 6-46 0-10 5-6 8-5 16-1 20 4 15 8 11 4 2 6-3 18-17 12-8 12-1 6 5 2 8-3 12-7 10-8 6-16 3-24-1-45 22-49 11-40 19-22 4-38 0-27-6-36-16-21-17-28-37-39-40-15-24-5-16-1-18 2-32 4-24 6-16 10-14 12-12 25-18 7-8 11-34 11-24 16-23 33-31 20-46 26-50 20-20 11-6 12-4zM591 275l-2 6 2 4 6 1 4-3 1-4-3-4-8 0zM279 45l18 1 18 9 16 16 8 18 0 24-9 30-9 12-18 8-10 1-8-2-28-14-18-12-7-13-1-10 2-12 11-28 15-18 10-7 10-3zM542 125l29 2 30 9 36 19 28 20 20 22 10 20 2 22-2 10-5 8-7 5-8 2-26-4-60-26-20-13-38-40-7-10-5-12-1-14 3-10 8-7 13-3zM353 169l14 2 16 9 26 22 13 17 33 64 6 16 2 12 0 10-2 8-6 6-8 2-10-5-36-28-32-20-12-13-7-20-1-36-5-30 2-10 7-6zM122 333l13-1 10 2 9 5 8 8 9 15 5 13 0 12-5 8-10 3-24 0-26 4-10-3-6-4-4-8-1-10 5-23 10-14 8-5 9-2zM275 333l8 0 9 6 6 12 6 30 23 18 7 10 2 10-1 8-4 8-8 7-6 1-8-1-15-11-7-12-7-26-15-16-5-8-2-10 2-10 6-10 9-6zM654 417l7 0 8 4 5 8 2 8-3 12-6 10-6 6-8 3-6-1-6-6-4-8-1-10 1-8 4-8 6-7 7-3zM179 487l12-2 14 2 13 6 10 8 6 8 4 10-2 10-6 8-11 7-16 0-16-5-17-12-8-12-2-12 7-10 12-6zM283 59l12 1 12 7 8 11 4 13-2 14-6 12-10 9-12 3-14-2-11-6-7-8-4-12 1-14 7-14 10-10 12-4zM562 139l19 1 22 6 30 15 23 16 15 16 11 18 3 16-5 12-5 4-8 2-22-2-36-15-24-16-30-31-11-18-1-8 3-8 7-6 9-2zM585 155l14 2 16 6 20 10 15 10 11 12 7 12 1 10-3 8-11 5-16-2-21-9-19-13-17-19-10-18 0-6 2-4 11-4zM614 181l13 3 12 7 7 10 1 4-2 4-4 1-8-1-15-8-7-8-2-6 1-4 4-2z" fill="none" stroke="#b5502e" stroke-width="2.8" stroke-linejoin="round"/>
<g transform="translate(1415.5 1865.5)" fill="none" stroke-linecap="round" stroke-width="3">
<path stroke="#471567" d="M87 91zm44 9zm41-23zm-7-47zm58 2zm-4 12zm-2 6zm10 8zm2 2zm22-2zm1 4zm-3 6zm7 5zm12-2zm3 4zm2-1zm0 7zm-2 3zm-4-5zm11 0zm8 1zm7-1zm0-1zm2 15zm-2 4zm-3-2zm1 7zm15 4zm2 0zm5 0zm0 6zm7 2zm6-6zm2 1zm8 5zm-1 2zm2 15zm-5 6zm15 2zm4-5zm8-2zm3 13zm-8 1zm10 6zm5-4zm-16 46zm-2 7zm4 17zm-18-8zm41 17zm-64-101zm3-22zm-5-3zm-5-4zm-3-7zm0-5zm4 0zm5 3zm-5-18zm-24 18zm-6 6zm-5 1zm-20-9zm-9 2zm-5-5zm9-32zm19 2zm-20 106zm-25-3zm-27 8zm-30 14zm-2 11z"/>
<path stroke="#453580" d="M64 94zm46 7zm11 38zm5 63zm64 5zm20-31zm35-14zm30-12zm-8-11zm7-51zm-2-5zm-5-7zm17 5zm0 15zm3-2zm1 6zm11 2zm10-1zm-2-3zm2 11zm9-5zm7-5zm0 10zm-2 4zm-2 3zm0 8zm-7 0zm15 5zm5 0zm10 12zm14 0zm1 18zm4 5zm-15 17zm1 13zm2 14zm5 20zm-64-6zm2-131zm13-12zm14-1zm-63-15zm-8-2zm-2-8zm-8 6zm-6-3zm0-10zm-5 1zm-5 3zm-6-13zm-15 8zm-22-5zm4-13zm1-1zm54 43zm-202 132z"/>
<path stroke="#3a528b" d="M71 64zm11 34zm10-2zm24-6zm7 36zm-37-5zm-21-12zm32 51zm38 30zm12-9zm44-26zm-6-29zm-8-10zm42 23zm0-65zm-4 0zm13-8zm4-3zm7 13zm6 1zm4-4zm5-8zm10 3zm11 6zm-4 8zm0 1zm6 7zm9 1zm1-2zm-1-6zm14-7zm4 21zm-2 3zm0 3zm4 6zm5-1zm1 2zm3-6zm10 10zm-1 14zm24 3zm6 9zm1 17zm-9-4zm-1 12zm2 10zm16-13zm3 55zm-43 3zm-3-7zm-32-9zm-22-43zm13-30zm-12-12zm-9-9zm14-8zm4 1zm1-3zm4 0zm-2 2zm-28-8zm-3-3zm9-10zm-21 1zm-18-27zm-2-8zm-6 2zm1-11zm-34 4zm-7-4zm22 21zm96 4zm36 26zm18 26zm-37 2zm-94 93zm7 52zm-59 13z"/>
<path stroke="#2e6b8e" d="M90 51zm-3 16zm-1 11zm-1 10zm28 19zm7 3zm1 0zm21-1zm-4-19zm-10-32zm101-2zm1-6zm4-1zm6 5zm9 4zm-4 16zm2 5zm14-2zm19 14zm4-2zm4 4zm10 3zm3 7zm13 0zm2 11zm-3 2zm5 4zm4 2zm13-3zm8-7zm-12-5zm25 24zm-5 15zm3 8zm8 8zm-4 5zm11 2zm2 7zm-30 16zm2 60zm34-28zm-81-6zm-47-43zm1-11zm-11-3zm-13 16zm-10-27zm-1-8zm2-14zm10 9zm31-7zm18-32zm18-17zm1-8zm7 13zm-72-44zm-6 1zm-6-13zm-22 76zm-17 83zm-9 15zm17 36zm-77-55z"/>
<path stroke="#25838d" d="M129 24zm14 2zm17 6zm3 2zm4 37zm20 30zm17 22zm4 55zm29-14zm15 12zm18-7zm12-14zm-23-4zm-5-51zm-1-17zm-6-1zm14 1zm3-10zm0-4zm7 5zm-17-1zm1-8zm-6 1zm-5-1zm1-11zm-3 1zm16 3zm-20 17zm-7 1zm-3-27zm-17-1zm-6-4zm84 21zm12 13zm0 20zm-7 2zm-1 3zm5 4zm7 0zm6 4zm-2 3zm10-3zm2 10zm20 2zm6-2zm15-1zm3 26zm11-1zm-28 2zm1 3zm6 13zm0 3zm6 1zm-11 3zm-4-4zm-4-2zm-3 16zm23 8zm21-2zm-20 25zm-57-7zm7 26zm2 1zm-3 9zm11 7zm-51-30zm-67 4zm-42-18zm-3-29zm-19 2zm5-18zm5 4zm-25-10zm-10 4zm9-47zm1-5zm-24 5zm-16-12zm-7-1zm26-32zm-33 115zm1 91zm236-105zm-10-46zm-4-8zm-11 2zm-7-9zm4-14zm41 3zm6 8zm7 5zm1 28zm1-1z"/>
<path stroke="#1e9a89" d="M115 51zm1 8zm2 18zm-8-2zm-2-1zm-16 19zm-8 7zm18 31zm18 8zm-10 15zm5 11zm9 10zm5 5zm19 10zm12 9zm7-4zm7-5zm-1-2zm-4 18zm30-25zm2-27zm5 5zm-3-21zm0-8zm-6-4zm-6-4zm-4-2zm6-3zm4-7zm7-10zm8 5zm-7-25zm0-9zm10-5zm3-3zm5 7zm4-1zm7-1zm-1 18zm16 2zm2-8zm1-2zm-2 0zm5 5zm1-15zm6-2zm5 8zm19-1zm-5 8zm3 12zm-7 2zm1 11zm15 9zm2-2zm17-1zm0-4zm-6-8zm-6-4zm-4-4zm31 7zm6 4zm-1 10zm2 6zm-8 3zm-1-12zm-5 20zm-5 1zm-28 10zm-6 30zm-15 22zm-4 5zm-28-12zm-11-17zm17-15zm-13-26zm21-24zm-3-9zm6-32zm-5-7zm-1-3zm-5-6zm2-6zm21 2zm-44 6zm-9 0zm-4 5zm-4-11zm-27 7zm-4 2zm-8-1zm-2-2zm-17-4zm-7 8zm18 48zm4 16zm-14 0zm6 40zm5-2zm-95 0zm12 20zm1 59zm-16-9zm190 54zm87-17zm21-2zm-1-21zm0-5zm10-1zm1 0zm-21-2zm0 16zm-28-5zm-5-10zm10-24zm0-5zm13-2zm3 5zm1 8zm7-6zm4-13zm0-11zm16 6zm-3 21zm-5-42zm-19-7zm2-7zm5-1zm3-9zm14-2zm-4-8zm-7-6zm-2-4zm-2-2zm-2-6zm8-5zm-3-4zm4 18zm-33 56z"/>
<path stroke="#2bb17d" d="M49 64zm37 25zm22 0zm8-3zm-9-8zm-4-1zm13-16zm27-10zm20 2zm0-10zm-3 1zm8 3zm3 0zm-4-15zm-11 1zm-2 0zm22-8zm10 13zm12-3zm-1-4zm17 6zm-1 4zm1 7zm-8 6zm-1 23zm18-1zm13 1zm2 2zm7 0zm1-5zm5 0zm1-4zm1 0zm0 0zm1-2zm1-2zm2 2zm-1 6zm1 3zm-2 1zm5-3zm-1 10zm-11-1zm2 10zm11 10zm10 2zm2-8zm0-5zm-1-5zm-3 1zm10-6zm3-4zm-6 0zm3-5zm3-5zm2 2zm5 1zm-1-10zm10 3zm0 13zm-4 4zm-1 8zm2 1zm5-3zm0-1zm6-2zm2-11zm-3 28zm7 2zm4 0zm1 0zm1 3zm5 2zm1 0zm0 1zm-3 2zm0 2zm-1 1zm0 2zm5-1zm5-5zm-1-7zm5-5zm3 7zm3 8zm9 1zm2 7zm2 8zm-8 0zm-8 1zm-5-1zm-7 12zm-2 5zm12 0zm0 5zm3 7zm5 7zm4 8zm6-2zm-1 6zm9 1zm3 5zm-7 8zm-6-2zm0-2zm-8-1zm-3 6zm8 9zm4 2zm4 8zm11 5zm-3 7zm-13 5zm5 25zm-3 4zm12-4zm11 3zm-2-53zm-2 0zm-4-5zm-1-34zm-10 3zm0-15zm-1-7zm-2-3zm-4 1zm1-6zm1 0zm8 5zm8 8zm0 2zm-20-4zm-3-2zm-32-16zm-3-9zm-5-5zm-1 20zm-28-1zm-5-6zm-10 2zm-11 13zm-9 1zm-3 1zm4 3zm5 11zm0 7zm1 1zm7 1zm12 2zm-4-10zm0-5zm22 13zm8 2zm0-7zm23 3zm-1 25zm4 3zm11-14zm-4 35zm4 24zm-16 18zm-15-7zm-22 13zm-2 19zm-23-19zm-6-33zm6-35zm-4-11zm-26 9zm-4 11zm-8-3zm-2-10zm2-16zm-8-23zm25 0zm2-20zm-7 0zm11-5zm0-2zm7 8zm7-22zm-28 1zm6-14zm-23-3zm-9-4zm6 30zm3-3zm-22 2zm6 11zm-48-5zm-15-4zm-7-10zm-2-8zm-4 1zm-18-2zm2 18zm7 29zm2 13zm17 3zm1 15zm-1 2zm34-7zm-1-1zm11-1zm9 10zm19 12zm-2 14zm6 2zm5 3zm-15 0zm-33 1zm1 8zm-14-8zm13-57zm-22-12zm0-43zm-1 1zm0-11zm-32-58zm10-26zm59-9zm52 36zm7 6zm5 20zm1 2zm3-3zm4-4zm0 9zm1 2zm4-4zm8-4zm2-1zm2-9zm10 14zm2-1zm2 0zm7 2zm8 16zm2 4zm2 0zm0 1zm-3 1zm-3 6zm14 5zm18-2zm-14 114zm39 69zm-118-2zm-30 10zm-120-18zm-36-38zm43-74z"/>
<path stroke="#55c666" d="M94 33zm5 3zm11 0zm-5 8zm0 5zm-1 4zm11-3zm9 11zm8 1zm5 2zm5-2zm1 5zm2-8zm6-1zm-7-8zm-2-8zm5-3zm-6-6zm3-7zm-2-3zm-5-8zm11-1zm5 13zm3 4zm3 10zm5 9zm0 14zm1 10zm-9 4zm4 15zm5 2zm5 8zm11 10zm12 0zm2 6zm0 1zm2 3zm13 4zm2-7zm8-4zm-1-2zm5-7zm8 4zm0 12zm-4 4zm5 8zm2 3zm0 10zm2 10zm1 4zm3 3zm-6 3zm-2-7zm-5 3zm-2 12zm-11 1zm0-6zm-6-1zm-6 5zm-11-1zm3-4zm4-5zm-22 0zm-7-1zm3 7zm6 5zm-11 8zm0 13zm-2 9zm-2 5zm-11 5zm-2 1zm4 5zm-5 4zm24-4zm3 14zm-6 7zm-4 1zm3 23zm33 16zm18 1zm-29 19zm-61-8zm-2-17zm-19-1zm-10 3zm2 22zm8-39zm-2-10zm-2-9zm0-2zm-13 0zm-8 18zm-19-10zm-3-5zm-3 0zm-19-5zm12-31zm-3-22zm12-10zm5-1zm14-5zm1-14zm-5-3zm6-8zm0-5zm1 0zm-2-7zm7-13zm-4-5zm11-4zm5-6zm8-4zm4-3zm0-4zm6 5zm3 4zm4 2zm5 4zm-2 5zm6 2zm3-9zm7-6zm3 30zm16 4zm3 4zm2 1zm2-2zm0 8zm2 0zm4 2zm-6 3zm-3-1zm-10 2zm-13 5zm-7-3zm-3 9zm-9-8zm-6 14zm30 0zm-16 18zm-5 12zm-3 4zm-27-16zm-3-40zm1-2zm9-9zm6-10zm3-2zm-9-8zm3-7zm11 2zm11 27zm50 0zm0 3zm6-4zm7 3zm7-3zm9 0zm1 6zm-4 0zm7 3zm5 4zm0 5zm1 0zm1-15zm31 2zm3 1zm5-3zm1-1zm2 8zm-5 3zm10 1zm7 7zm-3 3zm0 10zm5-4zm4 0zm12 11zm12 0zm9-2zm-2-3zm4-7zm-13-3zm-1-12zm15 0zm-6-8zm-2-5zm-3-11zm-4-3zm-1-8zm4-1zm2 0zm-2 3zm5 2zm2-7zm-5-6zm-2-1zm-2-2zm0-1zm-3 2zm0 0zm0 2zm1 3zm1 0zm-4-11zm-4-1zm-5 6zm-4 0zm-2-4zm-4 0zm1-3zm1-2zm-2-6zm-4 4zm1 8zm-15 1zm0-5zm-2-7zm-4-2zm-2-1zm0-3zm0-4zm3 2zm2 3zm0-7zm-1-1zm1-1zm3 2zm3 1zm1-3zm6 2zm0 7zm0 2zm-3 2zm-2 1zm-13 4zm-3 13zm1 7zm-1 2zm10 0zm-4 11zm-11 0zm23 0zm-1 3zm13-6zm2-4zm2-2zm3-5zm6 22zm-2 8zm28-23zm6 0zm4 5zm2 2zm4-11zm4 2zm-2-10zm3-9zm-14-2zm-1 0zm-2-8zm3-2zm5 5zm-16 0zm-1 0zm0 1zm-2-1zm1 6zm6 4zm-2-17zm-2-11zm-8 2zm-1 2zm-2 6zm-2-1zm-3-2zm-1 8zm3 1zm2 3zm-3-22zm-9 4zm-3-1zm-7 0zm0-4zm-2 1zm-1 8zm6 2zm-4-19zm-9-5zm-5 3zm-3-6zm-3-1zm-2 1zm-3 1zm-1 1zm0 2zm2-8zm0-1zm-3-3zm6-4zm11 3zm-32-1zm-6 0zm-2 4zm-3 0zm-1 1zm-3 0zm-2-1zm-1 0zm-3-1zm-3-1zm4 7zm3 0zm5 0zm0 2zm5 2zm5 0zm2-2zm-1-3zm-7-1zm13 4zm-1 6zm-2 0zm0 4zm-2 0zm6-1zm2-1zm2 2zm3 3zm-1 3zm2 0zm4-3zm-9 8zm-3 0zm-1 4zm-1 2zm-3-4zm0-3zm3-3zm-14 0zm-2-1zm0-3zm-7 0zm-2 0zm-1-2zm-2 7zm5 3zm0 1zm10-1zm2 5zm3-1zm2 4zm2 3zm-16-1zm-8 2zm-6-3zm-3-19zm-1-11zm-11 0zm-3-3zm-2 8zm-7 4zm3 6zm10-2zm4-19zm-16-7zm-6-1zm-9-17zm26 5zm9-4zm4 7zm7-5zm6 32zm-39 20zm10 18zm-16 33zm17 18zm-2 40zm4 0zm-9 17zm-5 1zm28 4zm5-8zm0-5zm18-8zm5-11zm20 4zm10 1zm1 13zm6-2zm4-2zm38 2zm3-3zm-4-6zm20 2zm0 6zm10 0zm6-2zm1-6zm2-4zm3 0zm-4-3zm-1-1zm-5 0zm1-2zm-5-2zm-3-7zm-4-7zm6-6zm7 2zm1-7zm1 0zm-3-3zm3-7zm-9 0zm2-5zm3-1zm10 2zm8 5zm7-4zm3 9zm6-5zm-15 28zm-5 3zm1 6zm2 0zm-2 9zm-4 2zm2 10zm0 10zm-5 1zm-3-8zm0-1zm-3-1zm-9 3zm1 1zm-9 1zm0 11zm8-2zm3 7zm0 6zm10-2zm5 0zm3 0zm-1-4zm0-2zm-2 1zm6 0zm-4 10zm-4 1zm-5 10zm-4-1zm-1 1zm-1 9zm-2 2zm4 1zm5 1zm6-6zm21 1zm-6-9zm-2-7zm34 0zm-10-38zm-24 1zm-5-2zm8-11zm-17-21zm-26-47zm-34-52zm-46 93zm-3 3zm3 10zm6 0zm0-1zm-6 42zm20 19zm38 0zm10 0zm-1-5zm-4-1zm17 9zm0 23zm-1 15zm12 6zm7-8zm-4-5zm-57 9zm-56-36zm-18 1zm-80 83zm-78-38zm-20-116zm-16-9zm-4-13zm42-41zm3 3zm-1-9zm12-7zm6-1zm-1-1zm-3-4zm16 2zm-1 2zm-2-12zm9-9zm12 3zm10 4zm6 1zm15-3zm-10-31zm-11-16zm-20 70zm-4 6z"/>
<path stroke="#90d643" d="M114 13zm4 4zm4-1zm12 1zm-4 4zm0 8zm4 2zm1 0zm0 2zm-2 1zm0 6zm6-3zm5 2zm1-5zm-2-6zm-2-1zm2-4zm0-5zm4 0zm2 1zm3 11zm2 2zm0 4zm2-1zm2-2zm2 3zm9 0zm1 0zm2 2zm1 0zm0-4zm3-1zm-2-4zm10-2zm0-3zm-3-3zm-6-9zm15 18zm6-1zm7 7zm3 1zm-9 7zm-12-2zm1 6zm-6 0zm0 10zm0 0zm-3-1zm-3-4zm-7-1zm-3 1zm-1 5zm6 2zm17 0zm-3 15zm-6-1zm-4 4zm4 5zm3 2zm2-2zm7 1zm2 6zm1 1zm2-1zm0-1zm-1 9zm1 4zm5-4zm3-5zm4 0zm5-3zm3-6zm3 2zm6-1zm0 2zm-2 5zm9 0zm4 1zm3 1zm0 5zm-2 1zm-1 0zm-3-3zm2-7zm0-1zm-3-4zm0-6zm1-2zm0-3zm1 0zm0-4zm-3-1zm-2 1zm-5 0zm0 1zm0-4zm1-1zm3 0zm-8 0zm-1-2zm-1-1zm-2 5zm-4 2zm-2 1zm-7-1zm-2-1zm3-5zm1-7zm8-8zm5 0zm2-2zm1 3zm-1 5zm2 3zm10 3zm-3-18zm0-11zm13 14zm19 4zm-2 3zm12-6zm-7-10zm18 25zm20 5zm4 17zm18-3zm4 3zm1-1zm-1 13zm3 2zm5 2zm-1 3zm7-11zm-6 36zm-1 1zm2 1zm-9 0zm-1 0zm2-2zm-5 3zm0 1zm0 2zm8 1zm1 2zm-3 2zm0 8zm-3 0zm0 1zm6 5zm6 1zm0-3zm0 0zm-2 9zm-6-2zm-8-2zm0 6zm0 1zm1-2zm-9 1zm-2 4zm4 3zm-4 11zm-12 0zm-4-1zm1-5zm-1 12zm2 1zm5-2zm3 8zm-2 2zm5 0zm4 0zm0 1zm2-1zm1-4zm7 1zm-1 3zm5-1zm8 0zm3-1zm3-4zm-2-5zm4-2zm3 2zm2 0zm-1 10zm0 8zm-3 2zm-1 1zm-1 2zm-1 3zm-1 1zm4 1zm1 2zm-4 2zm-3-2zm-1-1zm0-6zm1-1zm-8-1zm0 5zm-5-2zm-1-2zm-3-2zm-1 0zm-4 1zm-2 3zm2 5zm1 5zm1 5zm-1 5zm3 0zm6-1zm-2-5zm7-1zm7 2zm3 3zm0 5zm-1 7zm1 6zm3 2zm4-2zm0 0zm9 0zm5-2zm0 5zm-1 8zm7 0zm-3 4zm-7 7zm-8-5zm3-9zm2-18zm4 0zm5-6zm-1-3zm4-4zm2 0zm-2-5zm3 12zm2 14zm13-1zm-5 17zm-5 5zm-1 5zm-36-8zm0-2zm-8 4zm-2-7zm3-2zm2-22zm14 3zm5-20zm0-1zm4-2zm-5-6zm17-5zm7-2zm-8-9zm-3-2zm10-10zm11 0zm5-14zm-18-1zm-3 8zm-19 4zm-6 0zm-4 1zm-4-5zm4-6zm-9 12zm-3-2zm-5 13zm12 1zm-13 23zm-11-8zm-6 1zm0-2zm-4 1zm0 7zm0 0zm-4 8zm0 8zm4 0zm-2 3zm7 3zm-3 3zm5 6zm5-3zm-10 9zm-5 12zm14 3zm22 20zm-63 1zm-14-11zm-18 6zm-4-15zm-4-16zm-1-21zm1-5zm-3-7zm-3-1zm-5-4zm-5 0zm2-7zm2-2zm-1-6zm2-4zm-1-3zm-2-1zm0-5zm-5 2zm1 4zm-9 3zm-4-3zm-5 1zm-3-3zm-5 0zm-2-5zm-4-3zm-4 4zm0 1zm-1-11zm-5 0zm1 2zm-1-10zm-7 1zm-7 3zm-3-7zm-7-4zm-2-5zm0-3zm0-5zm-1-5zm1-3zm-8-2zm-3-2zm-3-2zm-3-1zm1 3zm2 6zm-11-2zm-5-2zm-4 3zm-3-3zm-5 1zm-2 9zm-5 2zm7 4zm1 0zm7 0zm-2-6zm-8 16zm0 7zm3-3zm11 0zm7 1zm8 2zm1 4zm2 1zm-7 2zm-6-1zm1 6zm-5 0zm0 13zm21-2zm2-6zm0-6zm6 3zm2 0zm3-2zm6 0zm5 2zm4-2zm2 1zm-1 6zm-9 5zm-3 7zm-5 1zm0 2zm0 7zm6 1zm-2 8zm-4 4zm11 0zm1 3zm4 2zm7-2zm1-3zm3-7zm9 0zm4 1zm7-3zm0-7zm8 0zm2 1zm-5-6zm1-3zm-8-1zm-2 1zm-1 3zm-2-4zm4-2zm0-24zm8 1zm5 3zm0 1zm-3 4zm2 3zm4-3zm2-7zm0-3zm7 0zm11 3zm5-3zm0-4zm4-1zm2-2zm4 1zm-1 4zm-1 2zm1 3zm-1 8zm4 1zm3 0zm3-2zm3 0zm1 1zm1-8zm0-5zm-4-2zm-1 4zm0 2zm-1 0zm-1-3zm-3-2zm0 0zm0-10zm-4-1zm0-2zm-1 3zm4-8zm6 1zm0-3zm1-2zm-3 0zm-3-7zm2-5zm3 2zm1-1zm0-2zm-2-6zm-3 2zm-6-3zm-2 0zm-1-5zm3 0zm-7-2zm3-7zm2-2zm-1-2zm-8 0zm-2 2zm-2 2zm0 3zm-2 1zm-1 0zm-2 4zm4 2zm0 6zm-5 2zm0 8zm1 1zm0 1zm-3 3zm0-6zm-6 1zm-3 3zm-3 3zm0 6zm8 1zm2-1zm3 3zm2 4zm-9 4zm-7 3zm-3 1zm0 0zm-16-5zm-3 3zm-7 6zm-6-11zm-8-4zm-3 2zm5-7zm-1-7zm-2-5zm-2 1zm-7-6zm14 0zm-1-2zm6 4zm4-2zm2-7zm1-3zm0-5zm6 0zm0-4zm0-2zm-3 1zm-4-5zm-4-2zm-1 3zm-2-6zm0-6zm1-7zm-5-5zm-2-4zm-4 0zm0 0zm2 8zm1 5zm-5 1zm0-3zm2 7zm-10 2zm0 4zm-7-2zm-6 0zm2 2zm-7-3zm1-7zm-3-3zm-6 0zm-5-1zm-5 1zm-2-2zm-3 0zm-4-4zm7-2zm7-1zm1 1zm6-8zm3-3zm1-11zm3 0zm2-5zm3-4zm0-4zm5 7zm4 4zm7 0zm-2-6zm4-3zm5 1zm-1 3zm-5-23zm1-2zm-18-2zm2-15zm-8-4zm-2 1zm-10 22zm1 2zm-1 8zm2 0zm1 10zm6 1zm-15-3zm-1 6zm-4-3zm-10 3zm1-9zm-5-5zm10-4zm5-5zm5 37zm4 0zm-1-2zm-14 3zm-5 5zm-1 5zm-4-2zm-5 8zm-3 5zm-4-3zm-9 9zm0 5zm-4-4zm-6 2zm2 4zm-1 15zm5 5zm2 5zm2 7zm-19-4zm-8-2zm-5-7zm0-21zm13 12zm1-28zm12-13zm19-5zm4 0zm11 25zm-1 16zm-1 3zm-2 0zm-1 2zm0 5zm1 3zm-4 1zm-2 4zm-1 1zm0-9zm-4-9zm-1 1zm-3 1zm6-4zm8 0zm-2-5zm17 8zm1 1zm4 1zm2-1zm1-6zm4-6zm-7-3zm0 24zm-4 1zm-3-2zm-6 2zm-1 1zm20 1zm1 0zm3-4zm5-3zm-3-3zm9 3zm2 1zm2 7zm-6 3zm-16-10zm28-6zm7 4zm2 0zm-3 1zm15-1zm-1 3zm-4-11zm-2 1zm18-6zm7 4zm1 8zm1 0zm2 3zm3 2zm-1 3zm-2 5zm-5-1zm-5-1zm3 8zm0 4zm2 2zm7 0zm4-3zm5 3zm4-4zm-1-1zm3-2zm6 0zm-1-10zm0-2zm1-6zm4 1zm1-3zm-4-5zm0 0zm-1-2zm0-6zm2 2zm11 3zm17-2zm3 0zm1-3zm-3 0zm0-1zm2-3zm0-1zm5 0zm-1-4zm-2 1zm2-7zm-2-2zm-4 0zm-2 2zm-1 3zm-3 0zm1 1zm-1-7zm-1-2zm5-3zm2 1zm7 2zm4 18zm3 3zm-1 5zm0 3zm4 1zm3 0zm-1 3zm4 0zm2-3zm0-1zm5 3zm0 5zm1 0zm-1 2zm-1-3zm-2 4zm-2 14zm7 0zm0 3zm-4 2zm-6 0zm-5-3zm0-3zm-2-2zm0 18zm0 5zm3 0zm1 1zm1 1zm5 0zm0 1zm-2 5zm-7-1zm0-2zm-2-2zm-4-5zm12 0zm6-4zm1-3zm2 5zm7 0zm-1-6zm5-4zm2 1zm4-6zm7 3zm3-2zm1 0zm2-2zm4 0zm5 2zm2 5zm3 3zm0-18zm-3-1zm-4-1zm1 4zm-11 0zm0 13zm-4 7zm0 1zm-2 7zm6 1zm1 3zm2 2zm4-1zm-1-1zm0-4zm-17 8zm-6 1zm-1 3zm-8-2zm-4 0zm3-8zm-11 12zm5 6zm-1 9zm5 1zm1 4zm7-1zm9 0zm-5 13zm-12-3zm-2 7zm4 16zm11-4zm-42-10zm0-8zm3-5zm3-1zm2 4zm3-5zm-8-3zm-1 0zm-3 1zm-5 7zm-1 4zm-6 5zm-7-1zm-1-1zm4-6zm12 13zm-5 19zm-11-3zm-9-1zm0 15zm-4 5zm-13 0zm6-12zm-8-4zm-2-9zm-10 1zm18-7zm7 1zm-34-11zm-2 2zm-3 0zm-4 1zm0 5zm3-13zm-11 2zm-19-4zm1 14zm-11-4zm1 12zm-11 12zm2 6zm-9-2zm-7 8zm11 7zm10-4zm28 4zm1-9zm3 30zm6 20zm4 8zm13 0zm22-8zm2-34zm58-11zm-2-71zm-25 2zm-2 1zm-1-18zm-4 2zm-1 2zm6-15zm-2-5zm8 2zm-2-9zm0-4zm-4-4zm17-11zm6-5zm-1-1zm-3-6zm-4-2zm3-4zm11 3zm0 0zm5-6zm1-2zm-3-2zm-1-1zm0-3zm-2 1zm18 13zm6 0zm-2 5zm0 2zm1 10zm3 5zm3-2zm4-4zm10-4zm2-2zm-15-7zm46 34zm10 10zm34-2zm5-9zm-73-100zm-93 36zm-1 2zm0 1zm-4-3zm-8 10zm-8 0zm1 21zm-2 11zm-2-2zm1 8zm1 3zm-3 0zm8 0zm-2 3zm-8 15zm-5-1zm5 7zm19-8zm-42-4zm-18 6zm-6 7zm1 1zm-8 10zm3 5zm-9-10zm-5-7zm-36 6zm-14 0zm9 16zm17 3zm-37-1zm-4-3zm-14 2zm-1-32zm-21 6zm-22-7zm5 42zm5 13zm-2 15zm5 24zm12 8zm-2 13zm28 9zm0 7zm9 3zm4-14zm12-3zm12 3zm9 1zm-2 12zm6 1zm4-4zm6 7zm5 0zm6 6zm-15 1zm-3 36zm19-9zm-31-82zm-10 4zm4-13zm-26-3zm-7 2zm0-6zm-1-3zm-7 23zm-14-7zm26 18zm7-3zm1-3zm90-63zm-14-85zm-12-4zm1-11zm6 3zm41 15zm2 1zm25-83z"/>
<path stroke="#d2e11b" d="M57 48zm12 12zm4 14zm9 5zm1-14zm7 2zm4-1zm0-6zm-3 2zm-2-6zm16 0zm3-5zm-2-5zm-1-3zm8 1zm7-1zm4 0zm3 0zm2 5zm0 5zm3-3zm1-4zm0-6zm0-4zm-8 1zm-1-6zm-1 0zm-1-8zm-1-9zm7-3zm-1-2zm6 2zm0 9zm0 2zm-1 3zm10 3zm-2 4zm6 0zm3-1zm1-1zm1 1zm8 2zm2-3zm2 6zm0 3zm1 1zm1-2zm0-3zm6-2zm2-2zm4 6zm2 2zm1 9zm2 1zm2 2zm0 0zm2-2zm3-2zm1 4zm4 1zm3-2zm-1-7zm-1 0zm5 1zm3-1zm2 9zm-2 7zm-1 1zm-1-3zm-10 0zm-3 0zm-2 1zm3 2zm0 1zm0 2zm-1 0zm0 6zm2 1zm6-1zm0 8zm3-1zm0 3zm1 4zm-2 0zm0 7zm3 1zm2-4zm2 0zm4 1zm2-4zm1-2zm-4-2zm-4-2zm1-4zm-3 0zm11 3zm0-6zm2 0zm0-1zm0-3zm5 1zm5 5zm2 0zm2-2zm0 5zm1-1zm2 1zm0 3zm3 0zm2 6zm0 2zm-1-1zm2 3zm-2 3zm1 2zm-1 2zm4 2zm-1 7zm-2 0zm-2 3zm-1 0zm1 3zm-1 7zm2 2zm4-4zm5 0zm1-4zm5 1zm0 0zm2-6zm5 0zm1-2zm-3 5zm-1-10zm-1-3zm-1-3zm-1 0zm-1 1zm-2-1zm-1 2zm0 3zm-3 2zm1 3zm1 2zm2-2zm3-2zm8-6zm0 0zm1-1zm3-6zm-11-1zm-5 0zm-7-3zm-12 1zm1 1zm-1 2zm-4-1zm0-5zm-5 0zm-1 0zm-1 0zm1-3zm3 1zm0 4zm-2 0zm-2 6zm1 4zm2 0zm2-1zm3 0zm1 1zm0 2zm0 3zm6 0zm-5 9zm-2 1zm-4 0zm-1 1zm-1-5zm0-4zm-3-4zm-3-3zm-1-2zm0 0zm0 8zm0 4zm-3 0zm-3 2zm0-5zm1-1zm-8 4zm0 1zm-1 3zm-1 1zm2 0zm3 5zm0 5zm-1 7zm-1 0zm-1-1zm-3-2zm-3-6zm-2-3zm1-3zm3 3zm-8 0zm0 4zm-4 2zm-1 2zm-1 5zm0 2zm-6 1zm-1-4zm-6 3zm0 4zm0 3zm-4-1zm1-1zm1 5zm5-1zm4 1zm0-2zm3 0zm3 0zm-2 3zm-1 2zm3 4zm2 0zm1 3zm3 1zm2 2zm0 5zm3-1zm0 3zm3-2zm1 0zm3 0zm0-2zm0-1zm-1 0zm-3-1zm2-4zm1-1zm1-5zm-3-3zm-2 0zm-3 2zm-5 0zm0-1zm-1-1zm5-5zm1-1zm0-2zm0-2zm6 2zm5 0zm1 0zm0-2zm2 1zm6 0zm2 2zm2-3zm-1-5zm0 0zm1-1zm2 0zm4 0zm0 3zm-1 1zm5 1zm-1 1zm4 0zm1-1zm3 0zm2 0zm4 3zm2-2zm1 4zm-5 2zm0 3zm0 0zm-2 2zm0-4zm-4-3zm-2-1zm0-9zm1-1zm1 0zm8 2zm3 0zm2-2zm4-1zm2 3zm4 1zm2-2zm9 2zm3-1zm0-2zm0-2zm1-8zm3 1zm-2-4zm-2-1zm1-10zm16 10zm0 13zm1 4zm3 0zm-1 7zm-4-1zm-1 3zm1 2zm1 4zm-2 2zm-2-3zm10 1zm-1-3zm6 2zm-2 3zm8-1zm1 3zm0 4zm3-1zm3 4zm2 5zm3-1zm3 2zm-1 4zm7 1zm7 2zm0 3zm0 3zm1 8zm6 1zm-3 4zm2 4zm-1 3zm-3 6zm-4-1zm-1 6zm3 0zm-1 5zm1 2zm1 1zm-3 0zm-5 2zm-2 0zm-1-8zm3-1zm-4-3zm-3 2zm-6 1zm-5-1zm-2-4zm-1 0zm3-4zm7 2zm-3-7zm-4-4zm0-4zm-4-1zm1-2zm2-2zm5 0zm0-2zm8 1zm-1 7zm-5-1zm12 0zm0-2zm2-2zm-24-4zm-2-2zm-2 2zm0 3zm-7 1zm-3 2zm-5 4zm0 7zm-3 1zm1 2zm3 2zm-6 0zm2 3zm0 0zm-6 5zm-4-2zm-2-2zm0-1zm4-5zm-13 0zm0 4zm-2 0zm1 2zm2 7zm-7 2zm3 4zm-5 5zm-7-2zm-6-1zm-4 1zm2-4zm0-7zm2-3zm0 0zm5 0zm1 0zm2-2zm4 3zm-1-9zm3-6zm6-1zm1 1zm0 1zm4-1zm-1-10zm4 0zm2-1zm2 5zm6 0zm0-10zm2 2zm4 2zm-8-9zm-1-2zm-9-5zm-1-7zm-4 0zm2-3zm-1-3zm-4 1zm0 1zm-3-1zm-2 0zm-1-1zm-1-4zm-3 0zm0-1zm5-1zm2-5zm-2-3zm-2-1zm10 5zm-1 1zm7 6zm2 0zm4-2zm2-14zm7 0zm13 4zm3-11zm1-8zm8 9zm2 5zm-1 7zm-1 4zm6 4zm1-7zm9 0zm6 5zm1 0zm1 9zm0 3zm2-1zm7 3zm9-1zm-11-11zm-18 11zm-19-2zm-2 8zm1 5zm1 2zm8 2zm-21-8zm2-7zm1 0zm-1-3zm-5 4zm-4-1zm-27-1zm-3 0zm2 3zm-3 2zm6 1zm3 4zm2 8zm-5 1zm0 3zm-8 0zm-3-1zm1-2zm-6 3zm-2-2zm1-5zm-1-5zm-1 0zm6-1zm-2-3zm0-1zm2-3zm-6-3zm-1-1zm-3-1zm-2 0zm0-3zm-1 7zm-3 1zm-1-1zm1 4zm1 1zm0-2zm4 0zm-5 6zm1 2zm0 4zm-3-1zm-1 7zm3 1zm2-1zm-1 5zm-2 0zm-1 4zm-4 0zm-1 2zm-4-2zm-6 0zm-1-2zm2-6zm-3-2zm-3 2zm-3-2zm0 0zm0-3zm4-1zm-1-3zm-1 0zm2-1zm2 1zm-5-2zm0-3zm1-1zm2-6zm2-3zm2 2zm3-3zm2 1zm3 1zm2 1zm2 1zm0-3zm-3-7zm-2-2zm1-3zm3-3zm4 2zm-15 3zm0 4zm-3-3zm4 16zm0 4zm3 0zm3 0zm-1-2zm4 3zm-3 8zm1 7zm2 0zm1-1zm9 4zm7-1zm1 7zm1 2zm-3 0zm3 4zm1 0zm3 3zm2-6zm-10 5zm0 2zm-2-3zm-5-3zm-2 0zm0-4zm-3 2zm0 0zm0 12zm-1 1zm4 4zm3-3zm1 14zm1 1zm4 11zm5 1zm8 12zm-1 1zm10 0zm14 5zm-9 10zm-9 0zm-2 9zm25 11zm6-6zm16 1zm1-13zm-2-1zm-3-4zm1-7zm12-3zm1 11zm3-2zm3 2zm-12 0zm15 11zm-2 6zm4 7zm3 2zm17-15zm6 0zm6-1zm5-8zm-2-8zm-3-1zm8 1zm-2-9zm4-1zm2-2zm4-1zm7 0zm1 3zm-3 5zm-1 2zm1-19zm7-5zm4-7zm7-4zm-19-1zm0-6zm1-4zm4-10zm8-1zm1-2zm-24 0zm0 10zm-13 3zm-3 8zm0 6zm-6 1zm0 2zm-1-1zm-3 0zm-1 1zm2 2zm0-5zm-2 8zm-2 0zm-5 1zm0 5zm1 3zm-5-2zm-4 6zm-2 2zm0 2zm-5-3zm-4-4zm3-9zm0-2zm3-2zm1 4zm3-1zm1-5zm-3-3zm-4-3zm-2 0zm-2 0zm2 6zm-9 9zm-2-1zm-2 2zm-3-1zm-2 4zm-5-14zm0-5zm11-2zm3-5zm-6-7zm-4-7zm2-4zm9 5zm36 14zm15 8zm8 6zm-3 13zm-7 0zm-1-2zm-1-5zm-6 1zm-1 1zm-4 4zm0 3zm-2 5zm6 0zm0 5zm3-1zm4-7zm3 1zm-7-16zm-9 26zm-3-1zm2 4zm-9 0zm10 10zm1 0zm27 0zm2 1zm-82 35zm-4 0zm-55-14zm-18 0zm-1-12zm-12-13zm-10-12zm0-4zm-5-7zm-3-5zm0-6zm1-4zm3 1zm3-1zm0-5zm-1-3zm2-5zm-2-4zm-5 1zm2-8zm5 0zm-1 2zm6 6zm5-3zm3-2zm6-4zm0-2zm-1-2zm2-1zm6-1zm3-3zm-1 8zm0 6zm-2 1zm-1 1zm0 0zm5-4zm3 1zm-4 8zm0 1zm-3 6zm-8-1zm2-3zm-1-3zm-10 4zm0 1zm-5 1zm4 4zm0 3zm-2 1zm4 1zm1 3zm10 2zm2 5zm0 5zm6-6zm2-4zm6 4zm2 6zm2 4zm-8 5zm-14-1zm-17-14zm-15-9zm3-11zm-5-10zm-2 1zm0 1zm-2 1zm-2 0zm0 0zm-1-3zm-1-7zm2 0zm-1-3zm-4 3zm-3 0zm-3-1zm1 4zm3 2zm1-10zm-1-4zm14-1zm0 4zm2-1zm-1 5zm1 2zm-4 4zm1-20zm4-6zm3 0zm1 2zm1 3zm8 1zm0 6zm6-7zm4 0zm0-7zm2 2zm0-7zm-8-1zm-3-3zm-2-1zm2-2zm-4-2zm-6 2zm-1-5zm-2 0zm-3 3zm-1 1zm-6 0zm0-7zm0 0zm-4 3zm-4-3zm-2 2zm-3-1zm-4-1zm0-4zm1 1zm1-6zm3 0zm4-1zm2 7zm1 14zm-1 5zm-1 1zm-2 1zm5 4zm2 1zm11-5zm1 0zm0-2zm3 1zm5-1zm1-1zm3 2zm4 4zm-2 2zm11 14zm20 28zm24-8zm10-25zm-19-13zm-3 1zm1-54zm-4-1zm-5 1zm-1-1zm-3 3zm-5-1zm1-5zm9 8zm21-12zm-12-25zm-7-6zm1-1zm12-7zm5 0zm-11-9zm-23 5zm-23 2zm-5 1zm-2-2zm-5 1zm-4 2zm3 7zm3 2zm2-3zm3-2zm8 1zm-3 4zm-3 4zm0 2zm-2 1zm-3-2zm-4 7zm-3 3zm-2 0zm-1 1zm1-6zm-7-1zm-3 0zm1 2zm-3-1zm-2-1zm0-8zm1-2zm1-2zm4 0zm-1-12zm-4-2zm-5 0zm-2 1zm-3-1zm-1-7zm-2-1zm-1-1zm-1 0zm-4 3zm0 2zm1-1zm0 11zm1-1zm-1 3zm-2-1zm-3-3zm-4 1zm-4 0zm-4-1zm1-4zm3-2zm-1-2zm2-1zm3 4zm-10-7zm0-15zm-1-1zm0-3zm-1-5zm-5-12zm-5 3zm-6 4zm-9 12zm8 12zm1 1zm8 19zm3 7zm2 2zm5 2zm0-5zm0-2zm0-1zm-3 0zm-10 4zm8 15zm4 2zm1-4zm10 1zm0 7zm-5-1zm0 6zm-5-1zm-4-1zm-6 1zm0 2zm-7-3zm-6-3zm-15 0zm0-4zm7 13zm8 6zm-1 3zm2 7zm0 4zm-6 0zm1 6zm-1 1zm-6 2zm0 7zm3-1zm1 6zm10-2zm1 5zm-2 0zm7-5zm0-2zm-10-3zm6-10zm0-7zm1 0zm11-2zm-1-1zm7-5zm2 1zm3-2zm9-1zm1 11zm-3 4zm-1 2zm-4 0zm-2 5zm-1 2zm-3-3zm-3 0zm0-2zm1 8zm-2 10zm4 1zm1 3zm-1 3zm5 3zm7-3zm0 0zm-2-2zm3-6zm5-1zm-1-5zm-1 0zm-2-4zm-2-2zm6-6zm1-11zm5-1zm0 0zm6 0zm1 0zm8 2zm6-1zm-4-4zm0-1zm0-3zm-3-2zm-3 1zm-2-3zm3-2zm-7-3zm-4 6zm-8-5zm-2-5zm0-10zm3 1zm-4-7zm3-7zm12 2zm0-8zm0-19zm-2-1zm0-3zm1 1zm4 2zm1-6zm2-1zm0 3zm1 0zm2-1zm0-6zm3 2zm-2 9zm8 0zm0 3zm0 0zm4 0zm0 3zm2 0zm-1 3zm-3 2zm-5-7zm9-6zm5 4zm2 4zm3 4zm9 22zm3-2zm1 14zm1 1zm-6 0zm-1 4zm-2 0zm2 2zm-2 3zm-2-1zm-6-3zm0-1zm-2 1zm0-4zm0 10zm2 1zm0 9zm2 2zm3-6zm1 0zm1 2zm6-8zm-3 21zm-10 9zm-13-7zm-9 5zm-6-4zm-7 10zm-3 1zm0 5zm2 11zm6 2zm-12 5zm2 8zm-1 3zm1 6zm-3 3zm-2 0zm-8 1zm-2 4zm-4 1zm3 5zm10 1zm1 3zm-3 1zm5 4zm5-1zm4 6zm14 7zm-7 13zm0 7zm-14 2zm-15 7zm-12-1zm7 16zm10 17zm10 8zm5 0zm6 11zm-1 5zm12 0zm4-9zm16 3zm0 7zm3-19zm-17-13zm1-4zm-4-12zm-2-6zm-16 13zm4 7zm3 2zm1 4zm-41 8zm-9 5zm-13 4zm-4-3zm2-5zm-8-3zm-9 5zm-13-5zm1-4zm3 24zm-10-48zm-11 5zm2-24zm8 2zm9 6zm1-1zm4 4zm7-2zm6-14zm0-7zm-6-10zm0-2zm15 3zm6 3zm13-5zm1-13zm-4-5zm0-3zm1-1zm-3-2zm9-5zm3 0zm0-6zm-2 0zm-6-4zm2-2zm-5-3zm11-4zm-2-3zm-2-5zm10 12zm12 8zm14 4zm1 0zm-9 13zm-14 27zm-61 7zm-11-8zm-1-1zm0-12zm4-8zm1-7zm-13 0zm1 5zm-2 5zm-16 4zm-4 1zm-12 12zm17 14zm12-7zm6-44zm-3-8zm-9-3zm7-19zm15-4zm-4 13zm8 1zm0 5zm8 2zm6 6zm-8 6zm0 18zm30-19zm2 0zm-14-13zm1-9zm-3-39zm-14 4zm-8 0zm-2 4zm-1-20zm1-9zm5-5zm-11-19zm-31 71zm108 6zm40 16zm4-48zm-5-4zm-1-1zm4-6zm-24-9zm0-53zm0-3zm4 2zm-7 3zm3-33zm-4-7zm1-4zm16 24zm29-4zm1 13zm7 0zm-1 2zm50-4zm6-6zm22 194zm-69 85zm-120-42zm4-13zm300-86z"/>
<path stroke="#d2e11b" d="M97 14zm12 5zm-3 8zm7-1zm3 0zm1 7zm1 1zm0 10zm0 4zm-1-1zm-1 2zm-5-8zm-7-7zm-5 11zm3 8zm-2 6zm-3 4zm-2 4zm7 0zm6 4zm-3 6zm5 5zm8-1zm3 6zm-6 9zm0 0zm-6 4zm-7-4zm-7 1zm-2-24zm-7-10zm4-4zm19 1zm6 6zm6 2zm4 6zm9-1zm-4-4zm-2-5zm-1-10zm-1-10zm3-4zm-1-7zm3-1zm1 1zm3-3zm1 0zm1-3zm-2-3zm1-3zm2-1zm-4-2zm1-3zm-3-2zm-5 0zm-4-9zm-4 3zm-10 0zm28-1zm1 3zm7 0zm0 4zm1 6zm3 0zm0 4zm1 3zm-4 1zm-4 0zm-4 9zm-2 3zm2 3zm2 3zm5 1zm2 1zm1-3zm0 6zm0 2zm-5 1zm-3 5zm-1 2zm0 9zm-2 10zm0 5zm-2 12zm-2-1zm12-2zm1-2zm7-3zm0-11zm2-3zm3 1zm11-3zm5-1zm0-8zm-3 0zm-1 0zm-5 0zm1-2zm1-2zm3-2zm4-4zm2-1zm6 0zm2 3zm-2 2zm-4 2zm1 4zm7 1zm-1 3zm3 1zm4-4zm3 2zm4 2zm2 0zm5-1zm1 0zm5 2zm3 0zm3-6zm2 13zm2 1zm0-3zm-1 9zm6-1zm3 2zm1-3zm4-2zm2-1zm0-2zm-5-3zm4-5zm0 20zm0 3zm2 0zm4-1zm5 2zm-8 3zm1 4zm-2 5zm-2 2zm-5 0zm3-3zm-1-5zm-6 4zm-2 0zm1-1zm-1-6zm1-5zm4 0zm4-4zm-18 4zm-1 9zm2 7zm0 6zm-3-1zm1 4zm3 4zm3 4zm4 1zm4 0zm2 1zm0-2zm-1-2zm0-6zm-1-2zm-5 0zm0 2zm-1-4zm0-2zm-15-2zm-1 6zm-2 1zm-3 0zm1 1zm-2-4zm-2-4zm3-1zm2-2zm-3-2zm1-7zm-11 4zm-2-1zm-1-10zm-2-1zm2-2zm3-1zm-5-8zm-9 3zm0 7zm-3 4zm-3 0zm-7-5zm-1 9zm1 2zm-5-2zm-2 3zm1 5zm-4 1zm-1 0zm0 1zm2 3zm-2 3zm6 1zm2 1zm0 0zm8-6zm7 5zm4 5zm7-3zm4 0zm1 3zm3 0zm0-5zm5 8zm2 6zm-4 3zm3 5zm1 4zm3 2zm-1 1zm3-4zm0-1zm4-4zm4-5zm7 3zm2 8zm1 3zm3-1zm0-1zm-1 6zm3-1zm2 0zm5-3zm3 0zm0-2zm2-1zm2 1zm3 1zm0 2zm-1 8zm-1-1zm4 2zm4-5zm5-1zm1-4zm-5-3zm1-8zm-1-5zm-9 0zm-2-3zm-2 0zm-3 0zm2-5zm3 2zm-1-6zm2-1zm4-1zm1-2zm3 0zm1-2zm-2-2zm-3 0zm-2 3zm-5 0zm16 0zm-1-6zm-2 11zm-1 2zm1 1zm11 10zm4 4zm-1 1zm5 1zm0 2zm-2 2zm-2 5zm8 0zm4-2zm3 5zm1 4zm-2 4zm-1-1zm-3-1zm-3-1zm-2-2zm-5 3zm-2 3zm0 1zm-5 1zm-7 0zm0 1zm-12 1zm1 7zm-4 1zm-2-3zm-1-2zm1 8zm-4-1zm1 4zm0 5zm1 1zm-2 1zm1 2zm-3 1zm-3-5zm-8-1zm-1 0zm0 1zm-6 0zm-4-5zm-2 0zm-1-1zm1-2zm-9 3zm-4 1zm1 2zm-1 2zm-1 7zm-5 3zm-5-3zm-2-1zm5-7zm-10-2zm1-2zm-6-2zm-5 5zm-1 4zm6 9zm4 1zm0 9zm-5 5zm-1 3zm-3 3zm-4 0zm-4 4zm-6 1zm-6-1zm-2 1zm1-10zm1-4zm-2-4zm2-6zm5 5zm5 1zm5-2zm-1 8zm0 1zm13 7zm2 4zm7-2zm1 5zm6-2zm0-2zm5-2zm3-1zm4-4zm-2-6zm2-2zm-7 1zm-8-6zm1 14zm-8-2zm7 18zm1 13zm5-2zm4-3zm5 4zm6 0zm0 12zm-11 11zm1 2zm7 9zm-5 15zm-22-2zm4-6zm-4 16zm-9-4zm-2-20zm1-5zm4-10zm-4-7zm9-4zm4-2zm1 1zm1 5zm-18-20zm0-1zm4-4zm-12 1zm-2 0zm-13 14zm2 13zm5 9zm7 9zm-8 12zm-12-4zm-10-12zm-5 3zm-5-2zm-2 0zm-2-4zm-2 13zm-9 15zm-7 26zm34-14zm-4-56zm-22 7zm-13-11zm-6-18zm-15 15zm-27-1zm7 15zm0 6zm3 11zm-17-8zm40 0zm11 9zm-31-48zm-12-9zm0-1zm17-14zm11 1zm-14-22zm-4-23zm-9 2zm-8-18zm-16 0zm0 9zm-9 0zm4 9zm14 33zm-27 26zm124-2zm1-9zm-3-1zm-7-3zm12-7zm-7-8zm6-9zm1-5zm-2-1zm2-3zm8-1zm2 2zm4-4zm0 10zm-6-16zm-5 3zm-7 0zm-6 6zm1 2zm-5-6zm-5 0zm3-7zm6-1zm-3-6zm-5-1zm-4-14zm2-6zm7-3zm-5-9zm17 0zm-2 5zm9-2zm9 0zm5 8zm10 0zm-2 8zm0 7zm-2 0zm-1 1zm-2-4zm0 17zm3-2zm1 4zm6 4zm3-2zm4 0zm1-3zm7-1zm0-2zm1-4zm1-3zm-1-2zm3 1zm2-1zm3-1zm3-5zm2-9zm1-7zm-5 0zm-5 9zm-5 4zm-4 2zm-2-3zm0-1zm-3-2zm-2-1zm-1 3zm-1 15zm-1 3zm6 13zm10-1zm4-9zm8 1zm5-4zm9 1zm2 2zm2-5zm4 2zm-1 8zm3 0zm5-1zm2 0zm1 2zm2-1zm1 3zm0 1zm1 2zm2 3zm-6-14zm2-3zm-4-6zm-21 0zm1 13zm-4 2zm9 22zm6 5zm2 0zm7 0zm-1 5zm-9 0zm2 9zm8 5zm2 2zm4 1zm3-1zm2 0zm3-3zm4-10zm3-7zm-2-4zm6-1zm4 0zm0 2zm2-2zm0 7zm-4 3zm-3 7zm0 0zm0 16zm-2 6zm15 10zm16-17zm2-9zm1-4zm0-10zm3 0zm3-5zm3-2zm-1-7zm-5 0zm0-4zm-1-3zm-4 2zm-4 2zm-1-3zm1-6zm-3-4zm9 0zm2-1zm-1-3zm3-2zm3 4zm1 3zm2 1zm1 5zm5 3zm-1 2zm8 1zm1-15zm-4 0zm-2 0zm0 2zm2-9zm-7 0zm6-12zm10-5zm4-4zm5 1zm1 13zm0 1zm-2-1zm-3 7zm7 7zm-1 5zm-9 1zm16-5zm4-1zm6-3zm0-9zm-3-1zm-4-1zm0 2zm0-11zm-20-14zm-5-3zm-7-5zm-10 6zm-1 2zm3 4zm-3 4zm-6-4zm0-8zm-4 1zm0 2zm-2-11zm-1-11zm-12-21zm-42 1zm-11 0zm0 2zm-1-1zm-5 0zm1-5zm2-12zm0-1zm-2-8zm-8 0zm-1-3zm-8-3zm-3 1zm-6-2zm-2-1zm-1 4zm-5 2zm-4-1zm1-3zm0 0zm0-1zm-4-1zm-3 0zm1 3zm-5 1zm0 6zm2 4zm7 4zm0-21zm-6-1zm1-2zm-5 1zm7-6zm6-2zm0-5zm-3-3zm9 15zm-1 4zm20-6zm3-1zm56-8zm32 9zm6 19zm41 26zm2 87zm-1 3zm6 2zm1 10zm6 15zm3 2zm1-6zm-7 14zm-2-1zm-12 0zm0-2zm-4 3zm3 6zm0 7zm2-2zm3-2zm6 2zm5-2zm4 1zm-5 6zm0 6zm2 2zm1 2zm2 0zm1-2zm1-1zm2 6zm1 6zm5 0zm4 2zm5 2zm4-6zm-2-2zm-2-3zm-3-2zm-3 3zm0-12zm-2-4zm-3-6zm4-5zm5-1zm8-4zm0-1zm4 12zm-6 6zm11 4zm15 4zm-23 24zm-3 12zm-7 5zm-8 0zm-12-7zm-1-4zm-13-1zm1 12zm-3 1zm-9-16zm0-10zm6 1zm6-3zm0-11zm2-4zm3 1zm3 4zm3 6zm7 1zm3 11zm-43-6zm-2 1zm-3 2zm-1 11zm3 4zm-18-10zm0-11zm-13 8zm-15 12zm-17 2zm-11-8zm8 27zm27-9zm1-73zm1-8zm3 0zm5-3zm2-10zm-4-2zm-11-3zm-2-3zm-4-1zm-2-4zm6 0zm1 0zm-9 6zm-7 2zm-12 10zm31-1zm0 3zm-2 1zm-2 5zm30-3zm3-5zm5 1zm10 1zm3 8zm-1 11zm-4-3zm0 6zm-9 2zm-2 0zm-1-7zm3 0zm-13 0zm3 4zm4 14zm1-1zm6 1zm-4 6zm17-6zm10 1zm2-1zm-4-8zm-3-3zm0-1zm4-9zm2-4zm1-3zm4 3zm-15 39zm-93-22zm-3-3zm-3-1zm-72-13zm-33-16zm3-7zm-10-3zm1-8zm-2-14zm-5-8zm-10-5zm-9 7zm0-17zm13-5zm8-1zm-12-12zm-21-5zm12-28zm50 25zm1 2zm14 20zm2 5zm-5 3zm-9 5zm2 13zm-42 3zm0 2zm86-33zm2 0zm4-23zm30 23zm28 12zm3 1zm1-4zm2 1zm3 0zm17 1zm2 4zm0 11zm-25 3zm0 0zm-14-147zm-98 24zm-1 3zm8 12zm75 256zm173-121zm7 2z"/>
<path stroke="#90d643" d="M108 18zm0 6zm4-1zm1 0zm1-7zm9 4zm3 3zm3-3zm0-4zm-5-7zm-3 21zm-3 8zm-1 6zm5-2zm8-4zm4 12zm3-3zm7 3zm-3 4zm-10 3zm-1 18zm4-2zm7-1zm0-2zm0 12zm8 0zm0-2zm3 0zm7 2zm14-3zm9-2zm-1-4zm7-2zm-9-6zm2-13zm3-2zm3 0zm10 1zm-1 3zm7 4zm-2 8zm12 0zm1-5zm0-7zm7-5zm2-3zm-5-5zm-18 1zm4 5zm-9-10zm-10-6zm-13-3zm-1 5zm-6 2zm3 6zm-1 5zm-2-1zm9 2zm2 0zm-2 8zm-11 3zm-2-5zm-1-1zm0-1zm-3 4zm1 7zm-3 3zm6 1zm-10-4zm1-17zm2-4zm-5-2zm-1-1zm-1 0zm-2-2zm-4-5zm6-7zm8 4zm0 2zm9-7zm7 0zm-10-11zm0 0zm-12-2zm-1-3zm0 35zm-41 2zm0 2zm0 6zm8 2zm-16 2zm-4 0zm-6 1zm3 6zm4 4zm0 10zm-8 6zm-3 3zm-4-2zm10 7zm0 2zm8 10zm0 2zm0 4zm-5 0zm-2 3zm-4 2zm-2-7zm-9-7zm-3 0zm-2-1zm1 11zm-9 19zm9 13zm8-5zm10-2zm8-5zm10-1zm5-1zm1 8zm0 1zm-2 2zm4 4zm1 2zm0 5zm-3 7zm-4 1zm-5-1zm-1 6zm7 14zm-3 7zm16 1zm-4 15zm26-1zm4 0zm5-2zm1 7zm7 0zm4 0zm3-1zm3 2zm2 0zm5 5zm20 0zm4 3zm8-2zm1-8zm-5-2zm7-8zm0-1zm4 2zm10 1zm-1-9zm-4 1zm-11-1zm0-1zm4-3zm-1-5zm1-1zm-8-1zm1-1zm0 5zm-3 2zm-5-2zm-2 0zm-2-1zm11-8zm1-5zm2-1zm-7 1zm-8-5zm-7 1zm-1-6zm2-3zm-1-7zm-1 0zm-1-3zm5-4zm0-8zm5 2zm4-3zm-2-10zm1-8zm3 2zm3 1zm3-4zm3-2zm-2-3zm1-1zm-5 0zm-9 2zm-10 1zm0 2zm0-7zm6-8zm7-4zm-1-2zm8 0zm3 0zm-1-1zm1-4zm3 0zm5 0zm-1-3zm0-2zm3 0zm0 1zm2-3zm-1-9zm4 2zm2 2zm7 0zm0-3zm4 3zm-3 4zm-1 5zm-3 0zm-1-1zm1 7zm5-1zm2 2zm6 2zm5 0zm0 6zm-2 3zm6 6zm0 3zm6-6zm0-2zm-1-4zm5 0zm4-3zm-1 10zm0 10zm2 4zm3-9zm8 4zm1 1zm1-2zm6 6zm7 2zm2-1zm1-5zm-3 0zm10 9zm3 0zm2 1zm5-2zm4-1zm1 10zm2 7zm-8-3zm-10-1zm2-4zm-3-3zm-14 9zm-6-5zm1 17zm-3 0zm-1 5zm-3 4zm-7 4zm1 7zm-2 1zm-11-1zm-3 0zm-1-5zm7-2zm-2-11zm-9 0zm2-4zm-4-2zm-2-1zm-2 7zm-8 3zm-3 0zm0 1zm0 0zm0-3zm-3-7zm2-2zm5 0zm-2-6zm-1-2zm5-4zm3 1zm1-5zm-5-1zm-1-7zm3-5zm0-4zm-7 5zm-10 1zm-1-7zm0-2zm1-1zm1-1zm1 0zm4-1zm3-2zm1-1zm-2-2zm-1-2zm-3-3zm-3-5zm-6 1zm-6 3zm-2 3zm5 4zm6-2zm-1 10zm-1 14zm1 6zm-1 3zm-3-1zm-2 1zm8 3zm-1 1zm0 3zm2 11zm-2 6zm2 3zm0 5zm4 2zm3-1zm-1-5zm2 11zm4-3zm5-1zm2 10zm-12 3zm0 4zm5 1zm5 9zm7 1zm0 9zm-5 0zm2-2zm1 9zm10-7zm11-7zm-5-6zm-10-5zm-23-10zm-2 0zm-4-3zm-12-26zm-3 2zm1-6zm-9 4zm-1 2zm4 3zm-20 1zm-6 0zm-1 8zm6 0zm-11 4zm-6 0zm-4-4zm1-8zm-1-12zm4 1zm8-2zm1-8zm0-7zm5 4zm3-2zm-13-10zm-5-10zm-8 0zm-3-3zm-5-6zm2 15zm-3 3zm-6-2zm-5-3zm-6-2zm0 5zm-8 0zm1-10zm9-5zm1-12zm-6-1zm-15-3zm-3 8zm-1-15zm-3-2zm-5-22zm-7-2zm18-13zm-8 71zm-2-2zm1 11zm6 2zm5 0zm3 4zm-5 1zm-6 1zm0 3zm-6-5zm32 3zm0 0zm1 2zm6-2zm-4-5zm-3 15zm5 2zm5 0zm4 0zm-1-2zm10 6zm3-15zm0-6zm14 26zm-9 25zm-4 0zm6 2zm1 1zm1 1zm-3 4zm-2 1zm9 0zm4 9zm6-6zm-3-9zm-31 3zm-2 13zm0 2zm5 1zm-6 21zm-8 8zm2 4zm-20 4zm-17-13zm-12 23zm-6 13zm0 5zm-21 4zm-18-2zm-5-17zm7-7zm3-7zm7-4zm-13-4zm10-18zm4 3zm-13-21zm-2-20zm-14 2zm0 1zm-1-9zm-10-24zm21-16zm24 43zm8 6zm6 61zm31 22zm-2 15zm18 0zm7-16zm10 43zm9-7zm19 6zm10 3zm3-8zm9-2zm-6-13zm5-13zm21 9zm-7 9zm35-3zm-5-5zm-6-20zm-6-8zm-9-2zm4-6zm2-6zm-5-5zm-7 10zm-4-2zm-3 7zm-22-8zm-11-10zm58-4zm-2-2zm7-6zm6 9zm1 3zm0 0zm3 4zm-7 8zm19 4zm-7 8zm5 7zm3 30zm25-43zm6-10zm11-7zm5-3zm2-5zm2 2zm1-7zm4 2zm4 8zm4-2zm8 0zm2-4zm6 1zm1 0zm6 0zm-1 2zm3 0zm4-2zm3-3zm3 2zm3-4zm-2-3zm1-2zm5 1zm-1-11zm-4 2zm-7-4zm-1-3zm-2-2zm-2-6zm-1-7zm-4-1zm-4-1zm-3 6zm-1 0zm1 1zm0 0zm-4 12zm-1 0zm0 3zm2 8zm6-2zm2 4zm1 2zm3 1zm-8 0zm-12-6zm-4 3zm-3-4zm0-9zm-11 1zm-3 6zm-3-1zm-6 1zm3 3zm0-9zm1-7zm-2-10zm-5-8zm6-6zm3-11zm2 1zm2 2zm10-1zm4 6zm1 3zm2 3zm7-2zm4-2zm1 0zm-1-3zm5 1zm0-3zm2-3zm0-6zm4-1zm1-1zm0-5zm-2-2zm4-4zm-6-4zm-3-37zm-11 8zm-24-22zm-17-17zm-11 1zm-1-19zm-8 3zm-17-3zm0 10zm-3 13zm-10-9zm-16 21zm0 3zm-5 9zm3 34zm17 2zm22-3zm0 0zm0-3zm6 6zm1 5zm6 2zm5 0zm3 8zm0 3zm1 1zm4 3zm0 3zm-3 1zm-3 4zm-11-15zm-3 0zm5-2zm-10-2zm11-12zm0 0zm4-38zm-16 1zm-1 1zm-3-9zm6-6zm-41-40zm-66 121zm5 8zm-9 6zm-7-6zm-7-23zm-122 50zm9 76zm32 22zm51-5zm219-19zm0-13zm-2-1zm0-5zm-3 3zm13-1zm3-2zm2 6zm6 4zm3-1zm3-4zm4 0zm0-3zm-6-3zm-4-7zm-3 0zm-4-1zm6-5zm0-1zm2-3zm-3-1zm9 0zm2-7zm7 2zm8 0zm2 2zm-5 6zm-2 6zm7 0zm2 2zm8-4zm1-2zm9-2zm0 6zm-6 9zm-4 2zm-13-2zm-1 0zm0 3zm-3 9zm-2 9zm-2-1zm-10 0zm-10 10zm-3-2zm-9-34zm-1-7zm-4-2zm24 4zm11-1zm-1 5zm-3-34zm21-8zm2-2zm5-5zm-1-9zm-6 1zm11-5zm-6-7zm1-5zm-21 1zm-9-1zm-1 4zm-29 9zm-4 3zm-2 6zm-21 4zm-3 8zm0 2zm-6 4zm20 10zm73 1zm9 9zm3-30zm-31 128z"/>
<path stroke="#55c666" d="M98 50zm5 1zm-7 11zm-1 3zm5 11zm-18-3zm2 22zm0 6zm7-9zm13 5zm5 8zm5-1zm-5 11zm8 11zm-9 7zm-20-3zm3-12zm3 38zm2 1zm2 2zm5 13zm23 6zm7-8zm3-8zm6 0zm1-7zm9 17zm6 5zm7 1zm10 5zm2-14zm11 7zm14-4zm2-1zm-3-2zm-1-15zm-5 1zm-12-1zm3-17zm10 0zm4-5zm-7-4zm5-16zm-1-4zm1-9zm6 5zm3-2zm7-4zm2 0zm3 2zm17-1zm-1 7zm-7 5zm-2 7zm5 0zm-7 5zm-2 6zm1 2zm6-2zm-2 8zm1 2zm-6 3zm0 3zm3 2zm1 2zm12 5zm-1 15zm-1 11zm3 0zm-9 3zm5 5zm-2 11zm-7-5zm-5 4zm-17-1zm6-18zm-1-32zm43 1zm0 10zm-4 7zm20-2zm7 2zm-2 12zm-5-1zm9 5zm1 5zm11 5zm-1 5zm20 1zm1 16zm14-10zm10 1zm7-7zm12 1zm3 0zm0-2zm-5-4zm-4-5zm0-3zm1-3zm0-7zm-8-2zm-1-1zm-1 3zm-5 5zm-5 2zm2 3zm-12-1zm14-14zm8-14zm-5-16zm-2-4zm-2-4zm-2 0zm0 1zm6-2zm4 1zm10 3zm9 3zm3-13zm-12-10zm-12-12zm-19 0zm-1-9zm-3-1zm6-2zm3 1zm0 17zm-4 3zm-3 7zm-3 2zm6 1zm3 1zm5 1zm-20-7zm-4 2zm-1-9zm4-9zm-2-3zm-6-2zm-8 5zm-7 2zm-2-5zm-3-7zm-1-4zm7-3zm5 5zm-1-22zm-4-7zm11-2zm5 15zm9 5zm-42 5zm1 2zm-2 7zm0 2zm4 0zm-12-7zm-2-2zm-2 5zm-7-4zm-3-1zm-3-8zm1-1zm-7-3zm-2-10zm7-2zm4-9zm2-7zm-7-6zm-11 13zm0 2zm-6 1zm-15 1zm-16-1zm-4 1zm1-6zm-2 0zm-1-1zm-4 2zm-2 2zm2 8zm4-21zm11-3zm7-2zm-36 2zm-3 9zm-17-4zm-1 9zm3 11zm-15-3zm-12 3zm10 27zm7 20zm-6 8zm14 5zm2 0zm6-10zm15-2zm14 4zm4-9zm15-28zm7 0zm-2 4zm16-2zm30-2zm4-5zm4 9zm-5 23zm14 9zm7-1zm1 14zm0 5zm-2 1zm-8 1zm0-9zm-10 4zm-3 7zm10 7zm18 0zm7-12zm0-14zm10 18zm0 1zm9 10zm63-2zm8 8zm3 9zm-25 3zm2 13zm-3 5zm3 39zm-6 1zm-2 0zm-4 4zm2 5zm-3 1zm1 17zm4 3zm10-7zm11 0zm-1 7zm-7-33zm-37 15zm-2 2zm10 9zm-32 24zm-27-33zm-7-19zm-2-7zm-4-3zm-18-8zm-45 25zm-24-6zm-13-7zm5-12zm-1 42zm16 7zm43 10zm3 13zm-104-17zm-11 6zm-12-34zm-8-28zm39 17zm-12-70zm36-4zm1-71zm-11-36zm-3-5zm-9-3zm26-3zm-4-6zm112 43zm-216 68zm14 19zm8 8zm-10 79zm-23-11zm-12 12z"/>
<path stroke="#2bb17d" d="M131 23zm19 4zm3 0zm13 0zm10 11zm-17 5zm-4 12zm27 4zm30 6zm-5 5zm-5 17zm-2 3zm22 1zm-2-9zm19-4zm7-3zm2-3zm1 0zm-1-5zm2-2zm-5 0zm-2-1zm1 5zm-4 0zm-3-1zm-5-10zm-2-5zm-12 3zm-7-7zm12-9zm-6-14zm33 21zm8 3zm-4 7zm-7 1zm10 12zm6 0zm-2 7zm8 4zm-1 3zm3 4zm4-2zm-2-8zm4-3zm5 4zm0 12zm-1 0zm0 4zm2 3zm1-5zm0-1zm12 0zm4-4zm3 2zm9-1zm-8-10zm-8 5zm-7-14zm-9-10zm-16 27zm3 9zm-32-2zm1 17zm7 2zm5 6zm-17-2zm-14-1zm4 11zm16 8zm7 6zm0 14zm-6 14zm-18 3zm-14-7zm-3-25zm-9-26zm-30-9zm-16 8zm-6 9zm-13 7zm-15 0zm0-3zm5 10zm6 6zm4 20zm29-4zm14-1zm4 21zm11 18zm1 12zm-7 11zm10 13zm-36-12zm-5-26zm11-53zm4-5zm-40-24zm1-8zm-25 3zm0 10zm-1-41zm5-7zm-6-12zm18 0zm31 24zm0-69zm76 92zm38 30zm4 15zm-1 7zm10 4zm5-25zm8-26zm17 1zm10 4zm6 0zm-1 5zm-2-12zm-3-3zm8-4zm10 10zm2 14zm10 1zm-3-6zm11 5zm5 2zm-8 9zm0 8zm3 1zm7 1zm9 0zm-1 13zm-4 5zm-4-8zm-5-2zm-7-1zm-13-8zm-22-3zm5-10zm-16 19zm-1 42zm16 1zm16 0zm12 4zm13 5zm2 7zm0 11zm5 14zm-22 0zm-20-2zm-44-31zm-11 10zm-13 38zm-25-63zm-9 7zm-32 91zm0 16zm-122-43zm-28-4zm47-41zm-20-38zm-3-22zm31 3zm260 13zm-2 13zm20 19zm-11-97zm-40-39z"/>
<path stroke="#1e9a89" d="M126 11zm43 27zm25-5zm6 28zm2 12zm-3 15zm11 16zm16 30zm6-1zm-1 14zm-13 14zm27 3zm16 9zm0-45zm20 13zm19-24zm10-6zm0-4zm0 0zm-2-8zm-5-10zm-5-4zm-12 10zm-7-30zm-18-1zm-5-1zm-6-4zm-1 0zm0 7zm-3 0zm-6 0zm8-14zm18 2zm-11 28zm-4-1zm1 7zm-35-40zm-43 78zm7 10zm-32 7zm-4 31zm-19-51zm-3-9zm-50-5zm7-20zm-4-6zm26-10zm1-11zm-52 55zm-4 56zm20 10zm163 9zm47 23zm28 1zm24 4zm9-19zm15 0zm-7 34zm-3 14zm9 20zm-21 47zm-67-48zm40-91zm19 4zm30-35zm7 0zm-4-7zm0-14zm-3 1zm-2 3zm-11 2zm-1-15zm-13-4zm-2-1zm-3 5zm-6-4zm74 47z"/>
<path stroke="#25838d" d="M128 32zm43-6zm-14 28zm-18 39zm-38-27zm-7 65zm3 14zm-6 60zm-23-8zm-12 65zm132-51zm-15-41zm53-2zm7 10zm20 2zm16 7zm-2-24zm15-1zm17 29zm22-15zm21-5zm7 6zm2-19zm-8-11zm4-21zm-17 1zm-16-15zm-1-8zm-5-17zm-5 3zm-22 13zm5 8zm-16-5zm-14-8zm-14-10zm2-10zm0-7zm-5 1zm3-8zm-6-9zm-8 16zm-13-3zm8 22zm9 18zm6 18zm-18 29zm50-72zm3 1zm-10-19zm97 68zm12 64zm-2 34zm-28-6zm4-9zm-16-1z"/>
<path stroke="#2e6b8e" d="M117 21zm39-9zm17 39zm29 17zm18-13zm12 1zm-6-8zm-17-12zm3-6zm39 10zm7 33zm13-3zm1 16zm6 1zm3 5zm-22 1zm-23-16zm-8 8zm-54 15zm-1 32zm33 21zm0 45zm20-11zm15 8zm38-5zm29 2zm41 10zm9 10zm-3 12zm-17 4zm-1-12zm28-47zm-9-23zm0-6zm-9-3zm-10-13zm3-8zm-14 5zm-9-1zm1-7zm-22 18zm0-60zm14-1zm-202 14zm-29 15zm56 88zm36-2zm12 1zm-51 76zm138-12z"/>
<path stroke="#3a528b" d="M118 24zm27-10zm3 33zm28-10zm56 27zm-1 13zm15-2zm-3 12zm-2 8zm-13 4zm-17 13zm44 19zm-15 16zm-10 30zm-40 17zm-4 31zm-31-55zm-18-26zm-16 10zm-28-85zm148-13zm26 0zm-4-7zm-4-1zm1 18zm2 6zm2 12zm5-3zm5-3zm8-2zm8-3zm5 3zm-2 11zm-7 7zm1 13zm5-4zm3 2zm2-3zm7-6zm-5 23zm17 0zm36 3zm-2 39zm-15-1zm28 50zm-29 45zm-57-167z"/>
<path stroke="#453580" d="M103 106zm49 10zm-7 84zm165-24zm34-10zm11-6zm6 4zm-11-28zm-4-9zm-15 1zm-3-11zm-24-2zm-4-19zm2-9zm-7 0zm-1 1zm-5 11zm-22-14zm-6-13zm2-12zm-24 1zm1 1zm3 12zm3 4zm4 20zm-15-47zm-12 8zm2 2zm91 162zm24-14zm31-16zm19-42z"/>
<path stroke="#471567" d="M149 28zm69 1zm0 38zm16 11zm8-5zm1-11zm-5-9zm10-5zm7 5zm-3 16zm7 2zm11-3zm3 8zm2 6zm-2 5zm11-1zm2-6zm5 0zm1 3zm6 2zm-1 7zm-2 1zm0-3zm9-2zm-4 10zm-1 2zm-8 0zm-2 5zm2 3zm3 1zm0 2zm8 1zm7-6zm0-2zm2 1zm5-2zm4 3zm4 0zm0-8zm-9-2zm17 5zm-2 9zm3 1zm-7 2zm9 21zm1 11zm12-10zm-1-2zm5 2zm4-3zm7 1zm-2 16zm0 8zm2 3zm-1 3zm5 19zm-2 7zm-18 2zm-26-8zm-41-17zm-14-87zm23-11zm-17-18zm-60 38zm-141 47zm287 79zm-4 14zm19 2zm-30 9zm-17 14z"/>
</g>
<path transform="translate(1415 1865) scale(0.5)" d="M306 1l31 18 40 16 22 6 92 19 26 8 20 10 74 44 40 29 28 25 42 47 23 34 17 36 4 22 8 74 2 56-4 28-6 18-7 16-10 14-11 10-22 13-28 8-24 0-26-7-26-12-15-10-9-11-16-31-12-15-16-12-16-5-10 1-11 3-63 31-26 10-44 8-16 1-14-2-20-9-32-23-92-83-24-28-23-23-7-12-4-14-8-44-13-44-1-24 3-18 10-22 66-114 15-20 24-22M263 19l18-1 20 4 76 34 20 7 70 9 46 13 18 10 82 49 36 27 24 22 32 38 15 20 11 22 7 22 4 48 9 54 3 50-2 18-5 16-8 15-10 13-18 12-20 7-20-1-20-6-18-11-14-13-32-49-14-17-15-10-19-5-16 0-18 3-118 43-22 3-18-3-22-10-20-13-86-82-22-28-15-28-28-90-2-12 0-12 5-16 22-46 43-78 18-18 11-6 12-4zM274 33l19 1 24 7 26 13 40 24 14 6 12 2 32-3 18 1 26 5 22 7 102 61 34 25 20 18 40 51 9 16 5 16 1 14-4 28 1 12 16 58 6 46-1 16-4 14-7 14-8 9-14 10-16 3-16-2-18-10-16-13-12-15-36-65-8-7-12-5-20-1-22 2-84 26-70 14-16 0-15-4-13-6-12-10-12-18-16-40-8-10-27-26-47-64-10-17-4-15-1-10 4-10 21-22 4-8 1-6-4-16 0-8 8-28 7-38 4-14 6-10 8-9 10-6 13-3zM267 153l-10 2-7 6-2 6 4 6 12 8 11 4 10 0 9-6 5-10-4-9-12-6-16-1zM280 47l11-1 14 3 30 13 24 19 26 31 6 3 10-1 33-15 19-3 32 3 28 11 40 28 54 31 42 32 17 20 20 30 6 18-1 12-8 7-16 0-84-33-12-4-8 1-4 3-2 4 2 32-5 22-13 20-25 26-25 18-30 12-28 3-10-1-10-4-19-16-23-30-11-22-9-32 0-18 9-36 22-52 1-20-2-16-4-6-4-2-34-4-34-9-18-8-13-9-12-18-3-10-1-10 3-8 4-6 6-5 9-3zM678 375l13 2 12 12 8 17 5 23 0 20-5 16-10 12-12 5-16-3-20-16-14-19-6-21 1-16 7-12 18-13 19-7zM293 63l8-1 10 3 20 10 13 16 2 8-3 6-8 4-14 0-15-4-13-8-8-10-3-10 3-10 8-4zM454 107l25 0 24 8 14 9 34 28 59 33 22 16 14 14 11 16 4 16-3 6-5 3-18-1-24-9-38-23-18-8-16-3-16 4-16 13-6 14 0 12 8 26 2 12-2 14-8 16-11 16-13 11-16 7-18 2-14-3-12-8-8-12-5-15-1-34 7-78-2-48 3-18 9-16 17-14 17-6zM464 117l23 2 12 5 10 7 12 12 16 20 6 10 0 6-50 28-16 7-16 2-14-5-10-11-9-17-4-16 1-14 5-14 9-11 12-8 13-3zM586 199l3-2 6 2 16 8 9 8 4 8-5 2-10-4-15-12-8-10zM464 129l15 0 14 4 11 10 7 12 1 10-6 10-11 9-14 6-14 2-12-5-9-8-6-12 0-12 4-12 9-9 11-5zM470 145l11 1 7 7-1 10-8 6-12 0-7-8 1-10 9-6z" fill="none" stroke="#b5502e" stroke-width="2.8" stroke-linejoin="round"/>
</svg>
</body></html>
